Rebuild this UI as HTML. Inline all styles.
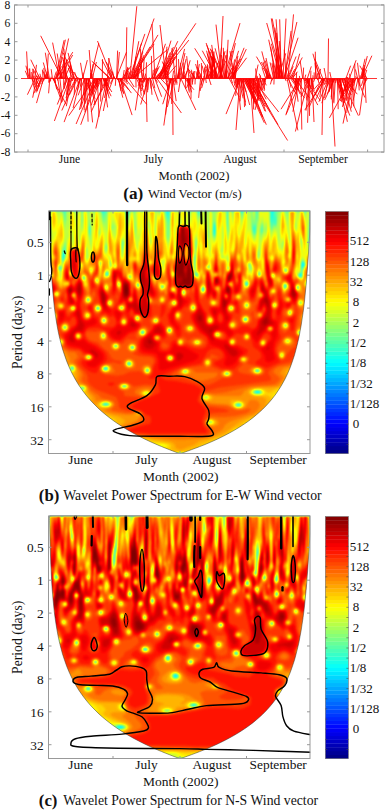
<!DOCTYPE html><html><head><meta charset="utf-8"><style>html,body{margin:0;padding:0;background:#fff;width:387px;height:810px;overflow:hidden}svg{display:block}text{font-family:"Liberation Serif",serif;fill:#111}</style></head><body>
<svg xmlns="http://www.w3.org/2000/svg" width="387" height="810" viewBox="0 0 387 810">
<path d="M28.0 78.5L26.6 51.4M28.4 78.5L25.3 70.8M28.8 78.5L28.8 78.6M29.3 78.5L25.9 65.7M29.7 78.5L29.1 68.7M30.1 78.5L29.7 68.4M30.5 78.5L30.5 79.1M30.9 78.5L31.3 72.0M31.4 78.5L34.0 70.7M31.8 78.5L33.1 81.7M32.2 78.5L34.1 87.7M32.6 78.5L33.3 75.6M33.0 78.5L32.8 69.0M33.5 78.5L33.0 76.3M33.9 78.5L34.4 81.6M34.3 78.5L34.4 85.2M34.7 78.5L36.5 64.8M35.1 78.5L27.4 94.7M35.6 78.5L39.5 86.6M36.0 78.5L34.9 76.1M36.4 78.5L32.7 97.7M36.8 78.5L36.1 92.6M37.2 78.5L36.6 79.6M37.7 78.5L32.8 68.6M38.1 78.5L36.2 80.7M38.5 78.5L36.3 75.7M38.9 78.5L36.5 75.9M39.3 78.5L34.1 89.1M39.8 78.5L30.8 59.7M40.2 78.5L37.8 74.6M40.6 78.5L37.1 91.5M41.0 78.5L39.9 73.7M41.4 78.5L33.8 93.4M41.9 78.5L37.7 86.2M42.3 78.5L41.4 76.8M42.7 78.5L36.7 90.8M43.1 78.5L42.4 69.6M43.5 78.5L36.5 103.1M44.0 78.5L41.8 84.2M44.4 78.5L43.7 80.6M44.8 78.5L43.8 67.9M45.2 78.5L43.3 71.4M45.6 78.5L45.2 75.4M46.1 78.5L45.1 73.8M46.5 78.5L47.3 71.3M46.9 78.5L48.3 53.5M47.3 78.5L46.4 76.8M47.7 78.5L43.3 62.5M48.2 78.5L47.8 73.9M48.6 78.5L46.6 72.7M49.0 78.5L48.7 82.7M49.4 78.5L45.3 52.7M49.8 78.5L48.6 93.3M50.3 78.5L49.6 81.7M50.7 78.5L50.5 81.4M51.1 78.5L51.1 76.7M51.5 78.5L51.3 77.9M51.9 78.5L51.9 78.8M52.4 78.5L51.2 69.2M52.8 78.5L66.2 104.5M53.2 78.5L53.6 80.2M53.6 78.5L60.0 97.0M54.0 78.5L56.3 71.6M54.5 78.5L56.7 89.4M54.9 78.5L55.7 83.6M55.3 78.5L61.4 66.4M55.7 78.5L64.1 40.2M56.1 78.5L72.8 52.1M56.6 78.5L62.8 57.0M57.0 78.5L65.4 39.7M57.4 78.5L57.7 80.6M57.8 78.5L61.4 102.7M58.2 78.5L58.4 77.4M58.7 78.5L59.0 77.8M59.1 78.5L72.7 55.0M59.5 78.5L52.6 42.6M59.9 78.5L62.4 101.7M60.3 78.5L68.6 38.5M60.8 78.5L57.2 53.5M61.2 78.5L59.8 65.9M61.6 78.5L61.2 72.6M62.0 78.5L40.7 35.8M62.4 78.5L63.6 71.4M62.9 78.5L62.9 76.4M63.3 78.5L63.0 64.3M63.7 78.5L63.7 87.7M64.1 78.5L64.4 55.5M64.5 78.5L70.5 64.9M65.0 78.5L63.8 58.2M65.4 78.5L66.7 59.3M65.8 78.5L64.1 85.0M66.2 78.5L63.9 48.7M66.6 78.5L64.2 88.9M67.1 78.5L63.4 60.0M67.5 78.5L57.3 104.5M67.9 78.5L65.8 73.2M68.3 78.5L66.4 94.7M68.7 78.5L68.6 81.9M69.2 78.5L67.3 94.6M69.6 78.5L54.4 121.0M70.0 78.5L66.3 100.5M70.4 78.5L69.3 77.1M70.8 78.5L70.3 64.3M71.3 78.5L66.0 98.1M71.7 78.5L66.3 106.2M72.1 78.5L72.0 80.6M72.5 78.5L68.2 67.9M72.9 78.5L72.7 76.2M73.4 78.5L72.3 80.9M73.8 78.5L68.1 52.9M74.2 78.5L63.2 52.8M74.6 78.5L69.4 61.1M75.0 78.5L74.2 94.6M75.5 78.5L74.1 80.9M75.9 78.5L70.5 88.5M76.3 78.5L61.8 110.5M76.7 78.5L74.6 72.0M77.1 78.5L78.7 85.2M77.6 78.5L69.2 95.4M78.0 78.5L67.9 65.2M78.4 78.5L77.8 77.2M78.8 78.5L77.9 80.1M79.2 78.5L79.1 78.9M79.7 78.5L77.4 90.5M80.1 78.5L64.1 122.1M80.5 78.5L73.1 108.0M80.9 78.5L78.5 83.6M81.3 78.5L81.4 104.8M81.8 78.5L80.1 87.5M82.2 78.5L82.4 77.6M82.6 78.5L87.3 60.1M83.0 78.5L80.5 62.8M83.4 78.5L83.0 72.6M83.9 78.5L83.7 95.0M84.3 78.5L85.1 84.0M84.7 78.5L78.1 95.3M85.1 78.5L84.2 110.3M85.5 78.5L90.1 90.1M86.0 78.5L85.1 103.8M86.4 78.5L88.1 121.7M86.8 78.5L86.7 89.3M87.2 78.5L79.4 109.9M87.6 78.5L91.5 94.7M88.1 78.5L92.6 122.4M88.5 78.5L89.9 95.5M88.9 78.5L95.2 104.5M89.3 78.5L95.1 99.3M89.7 78.5L80.6 108.9M90.2 78.5L98.8 43.2M90.6 78.5L90.5 72.7M91.0 78.5L93.0 64.1M91.4 78.5L89.2 50.0M91.8 78.5L90.8 69.6M92.3 78.5L96.4 62.0M92.7 78.5L93.1 93.4M93.1 78.5L92.8 73.7M93.5 78.5L92.6 88.1M93.9 78.5L93.9 78.7M94.4 78.5L93.2 88.3M94.8 78.5L68.8 115.6M95.2 78.5L76.1 124.0M95.6 78.5L84.8 112.2M96.0 78.5L95.3 84.7M96.5 78.5L96.3 86.7M96.9 78.5L93.8 83.8M97.3 78.5L99.0 116.8M97.7 78.5L80.7 124.8M98.1 78.5L94.1 92.3M98.6 78.5L93.3 88.5M99.0 78.5L91.0 93.2M99.4 78.5L99.2 80.9M99.8 78.5L95.4 89.3M100.2 78.5L91.1 105.5M100.7 78.5L100.7 101.5M101.1 78.5L102.7 86.7M101.5 78.5L97.2 88.5M101.9 78.5L100.9 91.3M102.3 78.5L102.5 59.1M102.8 78.5L111.1 96.2M103.2 78.5L111.9 92.0M103.6 78.5L107.6 107.4M104.0 78.5L109.3 98.3M104.4 78.5L107.8 86.3M104.9 78.5L107.8 84.3M105.3 78.5L107.8 93.7M105.7 78.5L108.1 84.4M106.1 78.5L106.5 88.0M106.5 78.5L91.2 111.9M107.0 78.5L95.8 128.5M107.4 78.5L109.1 58.2M107.8 78.5L108.1 76.0M108.2 78.5L103.9 85.6M108.6 78.5L93.7 104.9M109.1 78.5L104.4 97.9M109.5 78.5L93.6 62.9M109.9 78.5L103.3 111.0M110.3 78.5L110.3 78.2M110.7 78.5L91.7 61.1M111.2 78.5L108.3 68.5M111.6 78.5L102.0 59.9M112.0 78.5L110.7 70.5M112.4 78.5L97.5 41.0M112.8 78.5L110.3 83.7M113.3 78.5L109.0 89.9M113.7 78.5L112.7 71.6M114.1 78.5L108.5 58.1M114.5 78.5L114.0 76.5M114.9 78.5L106.2 61.9M115.4 78.5L115.3 79.6M115.8 78.5L115.3 85.8M116.2 78.5L126.5 52.1M116.6 78.5L117.6 50.6M117.0 78.5L119.4 52.0M117.5 78.5L117.5 80.1M117.9 78.5L123.4 92.9M118.3 78.5L122.8 97.7M118.7 78.5L120.9 91.1M119.1 78.5L124.4 85.9M119.6 78.5L128.6 89.8M120.0 78.5L132.1 115.1M120.4 78.5L123.8 94.1M120.8 78.5L131.4 93.1M121.2 78.5L123.9 87.5M121.7 78.5L127.9 84.1M122.1 78.5L123.0 80.4M122.5 78.5L130.9 66.2M122.9 78.5L124.2 70.0M123.3 78.5L127.4 68.4M123.8 78.5L125.1 80.8M124.2 78.5L128.7 67.8M124.6 78.5L125.0 76.4M125.0 78.5L146.6 104.2M125.4 78.5L128.6 71.2M125.9 78.5L126.5 81.9M126.3 78.5L127.7 66.9M126.7 78.5L127.2 80.8M127.1 78.5L127.3 78.7M127.5 78.5L128.1 72.5M128.0 78.5L130.0 71.7M128.4 78.5L129.2 73.2M128.8 78.5L134.2 87.0M129.2 78.5L144.9 33.9M129.6 78.5L130.1 77.8M130.1 78.5L141.5 57.9M130.5 78.5L141.6 42.9M130.9 78.5L150.1 46.7M131.3 78.5L154.1 43.9M131.7 78.5L138.8 41.2M132.2 78.5L158.0 34.9M132.6 78.5L167.5 49.6M133.0 78.5L154.1 18.5M133.4 78.5L136.8 72.4M133.8 78.5L135.8 56.7M134.3 78.5L139.0 68.3M134.7 78.5L135.6 74.6M135.1 78.5L141.5 65.5M135.5 78.5L142.9 51.7M135.9 78.5L136.0 87.5M136.4 78.5L141.6 89.0M136.8 78.5L138.5 69.4M137.2 78.5L137.2 74.6M137.6 78.5L143.5 55.4M138.0 78.5L138.1 71.2M138.5 78.5L140.6 85.9M138.9 78.5L141.3 95.7M139.3 78.5L140.1 89.0M139.7 78.5L144.4 94.5M140.1 78.5L135.3 110.4M140.6 78.5L143.2 86.9M141.0 78.5L138.2 85.8M141.4 78.5L142.9 82.4M141.8 78.5L142.0 82.4M142.2 78.5L140.4 48.7M142.7 78.5L139.6 62.7M143.1 78.5L144.1 58.8M143.5 78.5L142.8 83.1M143.9 78.5L141.5 91.1M144.3 78.5L144.5 80.7M144.8 78.5L143.2 73.3M145.2 78.5L144.1 82.2M145.6 78.5L145.4 79.8M146.0 78.5L146.5 62.3M146.4 78.5L145.3 73.6M146.9 78.5L144.3 94.0M147.3 78.5L145.8 86.9M147.7 78.5L147.6 92.3M148.1 78.5L148.5 80.8M148.5 78.5L140.7 104.5M149.0 78.5L147.8 89.9M149.4 78.5L149.3 77.4M149.8 78.5L151.1 88.7M150.2 78.5L158.7 101.3M150.6 78.5L152.0 94.8M151.1 78.5L151.1 78.4M151.5 78.5L156.4 67.8M151.9 78.5L151.4 55.9M152.3 78.5L153.3 69.8M152.7 78.5L154.8 88.2M153.2 78.5L165.5 43.8M153.6 78.5L159.4 66.2M154.0 78.5L157.9 67.9M154.4 78.5L159.1 73.4M154.8 78.5L161.6 96.7M155.3 78.5L157.4 82.5M155.7 78.5L162.0 70.7M156.1 78.5L175.9 52.3M156.5 78.5L165.4 63.9M156.9 78.5L181.4 113.0M157.4 78.5L169.3 63.8M157.8 78.5L173.5 53.6M158.2 78.5L188.8 40.1M158.6 78.5L170.3 52.4M159.0 78.5L195.9 23.3M159.5 78.5L171.0 40.6M159.9 78.5L177.8 41.2M160.3 78.5L173.4 47.1M160.7 78.5L168.6 87.0M161.1 78.5L176.1 49.8M161.6 78.5L176.8 56.1M162.0 78.5L162.3 77.8M162.4 78.5L170.8 61.6M162.8 78.5L168.7 65.7M163.2 78.5L163.6 79.6M163.7 78.5L168.7 70.4M164.1 78.5L164.3 68.9M164.5 78.5L174.8 57.0M164.9 78.5L176.0 65.6M165.3 78.5L166.9 46.7M165.8 78.5L168.0 90.3M166.2 78.5L163.4 62.8M166.6 78.5L167.9 90.1M167.0 78.5L164.7 71.3M167.4 78.5L171.3 57.4M167.9 78.5L167.1 70.5M168.3 78.5L167.8 79.6M168.7 78.5L167.6 82.0M169.1 78.5L162.3 61.5M169.5 78.5L165.6 114.7M170.0 78.5L170.6 83.2M170.4 78.5L163.8 125.5M170.8 78.5L162.7 104.2M171.2 78.5L168.3 90.9M171.6 78.5L171.7 104.0M172.1 78.5L169.8 82.4M172.5 78.5L173.6 70.7M172.9 78.5L176.2 101.1M173.3 78.5L172.5 80.2M173.7 78.5L175.2 82.5M174.2 78.5L167.3 107.1M174.6 78.5L174.9 75.1M175.0 78.5L176.9 82.7M175.4 78.5L171.9 48.2M175.8 78.5L174.8 85.2M176.3 78.5L176.5 47.3M176.7 78.5L176.9 84.7M177.1 78.5L184.6 48.9M177.5 78.5L178.5 72.0M177.9 78.5L178.5 74.1M178.4 78.5L179.3 69.0M178.8 78.5L180.4 67.6M179.2 78.5L178.5 59.1M179.6 78.5L185.0 53.0M180.0 78.5L180.3 81.6M180.5 78.5L178.4 92.0M180.9 78.5L195.8 110.0M181.3 78.5L180.8 76.5M181.7 78.5L186.1 58.9M182.1 78.5L180.4 62.8M182.6 78.5L184.3 66.1M183.0 78.5L184.4 71.6M183.4 78.5L184.4 75.2M183.8 78.5L187.3 70.8M184.2 78.5L183.7 62.5M184.7 78.5L193.9 89.7M185.1 78.5L190.2 60.3M185.5 78.5L185.7 88.8M185.9 78.5L185.6 75.7M186.3 78.5L189.6 83.0M186.8 78.5L188.1 80.8M187.2 78.5L189.0 90.7M187.6 78.5L191.6 92.3M188.0 78.5L189.8 83.3M188.4 78.5L189.3 92.6M188.9 78.5L186.7 56.1M189.3 78.5L188.9 85.5M189.7 78.5L190.6 87.0M190.1 78.5L189.3 84.8M190.5 78.5L186.5 88.1M191.0 78.5L191.0 98.8M191.4 78.5L189.6 75.5M191.8 78.5L187.9 68.1M192.2 78.5L192.6 84.6M192.6 78.5L191.3 69.7M193.1 78.5L192.5 82.3M193.5 78.5L192.6 72.9M193.9 78.5L194.4 71.0M194.3 78.5L193.2 71.4M194.7 78.5L192.0 73.4M195.2 78.5L195.0 84.4M195.6 78.5L188.2 68.9M196.0 78.5L195.5 79.4M196.4 78.5L199.0 69.9M196.8 78.5L199.4 64.1M197.3 78.5L196.0 71.3M197.7 78.5L197.7 78.6M198.1 78.5L197.5 60.3M198.5 78.5L198.9 75.9M198.9 78.5L198.1 75.3M199.4 78.5L199.1 79.3M199.8 78.5L195.6 64.0M200.2 78.5L199.8 75.5M200.6 78.5L198.6 97.9M201.0 78.5L199.7 73.1M201.5 78.5L201.4 63.0M201.9 78.5L197.3 67.2M202.3 78.5L200.1 91.0M202.7 78.5L200.7 85.3M203.1 78.5L202.6 80.1M203.6 78.5L204.0 75.6M204.0 78.5L203.6 80.7M204.4 78.5L201.6 88.2M204.8 78.5L204.5 67.3M205.2 78.5L202.1 65.5M205.7 78.5L206.3 83.0M206.1 78.5L207.5 72.2M206.5 78.5L210.0 65.4M206.9 78.5L205.0 68.8M207.3 78.5L207.4 64.2M207.8 78.5L215.1 62.0M208.2 78.5L207.8 65.3M208.6 78.5L210.4 72.3M209.0 78.5L211.1 85.0M209.4 78.5L205.1 66.1M209.9 78.5L214.4 58.1M210.3 78.5L213.2 51.8M210.7 78.5L211.5 71.4M211.1 78.5L213.6 69.5M211.5 78.5L210.7 51.8M212.0 78.5L208.3 48.6M212.4 78.5L212.5 57.0M212.8 78.5L206.6 50.7M213.2 78.5L212.5 64.4M213.6 78.5L194.7 48.3M214.1 78.5L217.6 62.9M214.5 78.5L207.4 53.7M214.9 78.5L214.0 51.5M215.3 78.5L213.0 54.2M215.7 78.5L214.7 71.6M216.2 78.5L213.3 57.7M216.6 78.5L211.7 44.9M217.0 78.5L202.3 50.7M217.4 78.5L211.3 56.1M217.8 78.5L221.5 47.4M218.3 78.5L206.8 45.2M218.7 78.5L206.1 43.0M219.1 78.5L225.9 60.7M219.5 78.5L225.0 51.2M219.9 78.5L226.0 55.0M220.4 78.5L218.8 61.3M220.8 78.5L220.5 68.3M221.2 78.5L223.7 52.2M221.6 78.5L222.3 59.3M222.0 78.5L216.0 24.6M222.5 78.5L210.2 48.6M222.9 78.5L215.1 48.3M223.3 78.5L211.4 49.7M223.7 78.5L240.0 23.1M224.1 78.5L221.4 55.0M224.6 78.5L223.3 47.8M225.0 78.5L227.1 55.2M225.4 78.5L227.3 49.6M225.8 78.5L232.6 50.9M226.2 78.5L228.1 39.8M226.7 78.5L226.0 71.5M227.1 78.5L241.3 58.6M227.5 78.5L235.4 43.1M227.9 78.5L230.9 69.5M228.3 78.5L231.6 68.0M228.8 78.5L229.5 76.6M229.2 78.5L239.2 97.0M229.6 78.5L237.3 67.7M230.0 78.5L238.6 50.8M230.4 78.5L236.3 68.8M230.9 78.5L232.7 83.5M231.3 78.5L246.6 57.8M231.7 78.5L234.6 59.4M232.1 78.5L244.1 47.8M232.5 78.5L246.3 49.1M233.0 78.5L231.9 62.8M233.4 78.5L237.9 55.9M233.8 78.5L234.4 83.1M234.2 78.5L230.0 51.1M234.6 78.5L233.9 66.0M235.1 78.5L238.0 59.8M235.5 78.5L235.0 65.4M235.9 78.5L234.5 85.0M236.3 78.5L234.8 86.1M236.7 78.5L235.7 95.8M237.2 78.5L240.6 109.9M237.6 78.5L237.7 88.3M238.0 78.5L238.2 84.8M238.4 78.5L243.2 98.4M238.8 78.5L238.4 79.6M239.3 78.5L236.1 87.6M239.7 78.5L235.5 86.9M240.1 78.5L245.4 102.3M240.5 78.5L226.0 114.1M240.9 78.5L242.3 88.3M241.4 78.5L246.2 92.2M241.8 78.5L240.1 101.4M242.2 78.5L245.6 105.7M242.6 78.5L249.7 105.0M243.0 78.5L255.7 103.2M243.5 78.5L244.5 107.1M243.9 78.5L264.3 122.8M244.3 78.5L251.7 91.7M244.7 78.5L262.5 117.0M245.1 78.5L256.9 104.6M245.6 78.5L265.3 106.6M246.0 78.5L257.2 102.3M246.4 78.5L266.3 124.7M246.8 78.5L252.2 94.2M247.2 78.5L259.4 101.0M247.7 78.5L254.9 100.1M248.1 78.5L256.2 94.4M248.5 78.5L262.9 117.5M248.9 78.5L287.6 140.5M249.3 78.5L254.1 103.7M249.8 78.5L255.1 92.6M250.2 78.5L256.4 93.1M250.6 78.5L265.0 111.1M251.0 78.5L266.9 105.2M251.4 78.5L261.5 100.7M251.9 78.5L278.0 124.6M252.3 78.5L278.7 112.0M252.7 78.5L270.1 111.5M253.1 78.5L253.9 85.8M253.5 78.5L253.6 109.4M254.0 78.5L255.1 81.1M254.4 78.5L257.9 95.4M254.8 78.5L265.7 111.5M255.2 78.5L258.1 64.6M255.6 78.5L266.2 99.3M256.1 78.5L257.3 81.4M256.5 78.5L255.6 68.5M256.9 78.5L259.3 93.1M257.3 78.5L257.9 100.7M257.7 78.5L257.1 75.8M258.2 78.5L259.4 85.7M258.6 78.5L258.3 99.0M259.0 78.5L260.5 96.9M259.4 78.5L264.7 89.4M259.8 78.5L260.5 75.5M260.3 78.5L261.7 89.5M260.7 78.5L260.0 81.9M261.1 78.5L259.2 73.7M261.5 78.5L261.6 79.1M261.9 78.5L261.8 79.0M262.4 78.5L261.8 82.1M262.8 78.5L255.0 110.0M263.2 78.5L263.0 79.8M263.6 78.5L266.2 85.4M264.0 78.5L262.6 85.0M264.5 78.5L262.3 90.3M264.9 78.5L264.1 91.1M265.3 78.5L265.2 82.2M265.7 78.5L262.0 67.5M266.1 78.5L265.3 80.2M266.6 78.5L266.2 76.6M267.0 78.5L266.5 75.4M267.4 78.5L263.0 61.8M267.8 78.5L266.1 73.4M268.2 78.5L265.6 70.7M268.7 78.5L261.8 51.4M269.1 78.5L266.9 69.2M269.5 78.5L256.4 56.6M269.9 78.5L268.5 74.9M270.3 78.5L266.0 58.0M270.8 78.5L265.1 60.5M271.2 78.5L261.3 62.2M271.6 78.5L269.7 73.5M272.0 78.5L270.4 84.4M272.4 78.5L272.4 77.6M272.9 78.5L271.4 81.1M273.3 78.5L273.1 62.6M273.7 78.5L270.1 62.4M274.1 78.5L273.9 84.5M274.5 78.5L277.1 56.3M275.0 78.5L271.9 63.4M275.4 78.5L270.7 47.1M275.8 78.5L276.8 54.6M276.2 78.5L279.4 65.4M276.6 78.5L275.8 33.0M277.1 78.5L268.7 39.7M277.5 78.5L276.5 62.1M277.9 78.5L278.8 72.6M278.3 78.5L285.7 53.4M278.7 78.5L276.9 61.4M279.2 78.5L276.5 48.8M279.6 78.5L276.7 32.7M280.0 78.5L276.1 19.3M280.4 78.5L271.4 43.7M280.8 78.5L271.3 18.5M281.3 78.5L279.7 19.3M281.7 78.5L279.3 41.0M282.1 78.5L280.6 58.2M282.5 78.5L266.7 23.0M282.9 78.5L274.8 27.6M283.4 78.5L272.2 18.5M283.8 78.5L296.9 22.0M284.2 78.5L298.1 37.7M284.6 78.5L291.1 30.9M285.0 78.5L286.2 81.1M285.5 78.5L286.4 66.7M285.9 78.5L285.9 78.8M286.3 78.5L284.3 49.7M286.7 78.5L289.1 70.6M287.1 78.5L297.9 130.4M287.6 78.5L296.1 56.5M288.0 78.5L296.1 94.2M288.4 78.5L293.2 66.3M288.8 78.5L291.1 87.7M289.2 78.5L290.8 75.5M289.7 78.5L294.8 69.1M290.1 78.5L290.6 77.7M290.5 78.5L304.6 98.1M290.9 78.5L302.3 57.5M291.3 78.5L293.3 74.7M291.8 78.5L295.8 82.8M292.2 78.5L297.5 71.7M292.6 78.5L300.3 94.4M293.0 78.5L299.7 53.7M293.4 78.5L294.5 82.0M293.9 78.5L294.3 79.5M294.3 78.5L294.4 78.3M294.7 78.5L309.4 97.7M295.1 78.5L298.1 101.7M295.5 78.5L296.2 82.7M296.0 78.5L295.9 84.6M296.4 78.5L296.5 72.6M296.8 78.5L295.4 89.7M297.2 78.5L285.8 115.2M297.6 78.5L298.5 90.2M298.1 78.5L297.3 84.2M298.5 78.5L298.6 80.0M298.9 78.5L296.0 87.1M299.3 78.5L292.9 111.7M299.7 78.5L299.5 75.9M300.2 78.5L281.0 109.2M300.6 78.5L294.4 91.7M301.0 78.5L301.8 129.6M301.4 78.5L300.6 89.1M301.8 78.5L286.2 114.1M302.3 78.5L302.2 77.9M302.7 78.5L300.2 61.0M303.1 78.5L303.6 67.6M303.5 78.5L317.8 105.1M303.9 78.5L306.9 100.5M304.4 78.5L320.4 100.6M304.8 78.5L305.8 74.6M305.2 78.5L305.6 81.1M305.6 78.5L310.6 86.4M306.0 78.5L308.3 83.6M306.5 78.5L307.9 81.4M306.9 78.5L309.1 82.3M307.3 78.5L311.3 66.4M307.7 78.5L313.6 97.8M308.1 78.5L301.2 96.9M308.6 78.5L295.4 131.5M309.0 78.5L307.6 122.8M309.4 78.5L306.0 110.7M309.8 78.5L309.5 115.9M310.2 78.5L307.4 88.3M310.7 78.5L310.9 70.7M311.1 78.5L314.2 90.9M311.5 78.5L311.0 89.0M311.9 78.5L311.9 87.3M312.3 78.5L312.3 77.6M312.8 78.5L313.4 88.7M313.2 78.5L312.9 75.3M313.6 78.5L313.6 78.5M314.0 78.5L314.0 79.4M314.4 78.5L314.1 72.4M314.9 78.5L313.6 81.9M315.3 78.5L315.3 78.5M315.7 78.5L315.3 51.7M316.1 78.5L316.1 78.4M316.5 78.5L314.9 62.6M317.0 78.5L317.6 73.2M317.4 78.5L317.7 80.2M317.8 78.5L317.8 78.0M318.2 78.5L318.7 82.8M318.6 78.5L320.6 68.9M319.1 78.5L319.2 77.9M319.5 78.5L319.1 76.6M319.9 78.5L312.9 53.7M320.3 78.5L320.2 79.3M320.7 78.5L315.5 64.3M321.2 78.5L322.8 83.2M321.6 78.5L321.5 78.8M322.0 78.5L309.2 107.0M322.4 78.5L319.8 96.9M322.8 78.5L314.9 59.2M323.3 78.5L314.1 89.3M323.7 78.5L321.3 84.9M324.1 78.5L315.0 95.4M324.5 78.5L322.6 82.8M324.9 78.5L304.8 110.1M325.4 78.5L315.2 100.8M325.8 78.5L325.5 77.5M326.2 78.5L324.1 68.0M326.6 78.5L324.0 85.1M327.0 78.5L326.4 80.7M327.5 78.5L325.6 84.1M327.9 78.5L327.4 82.6M328.3 78.5L324.6 98.1M328.7 78.5L318.9 101.8M329.1 78.5L329.1 79.5M329.6 78.5L321.8 103.2M330.0 78.5L328.9 90.7M330.4 78.5L327.5 86.0M330.8 78.5L329.2 91.9M331.2 78.5L329.8 72.0M331.7 78.5L330.5 85.8M332.1 78.5L331.9 82.4M332.5 78.5L331.3 99.4M332.9 78.5L331.2 97.2M333.3 78.5L333.2 80.4M333.8 78.5L330.9 86.8M334.2 78.5L333.1 102.4M334.6 78.5L327.1 94.0M335.0 78.5L324.6 100.1M335.4 78.5L333.9 103.3M335.9 78.5L335.7 83.1M336.3 78.5L349.8 115.6M336.7 78.5L341.8 102.2M337.1 78.5L344.2 100.2M337.5 78.5L338.2 109.2M338.0 78.5L347.4 121.8M338.4 78.5L343.5 91.3M338.8 78.5L343.7 95.8M339.2 78.5L344.1 96.7M339.6 78.5L343.8 96.0M340.1 78.5L341.2 94.0M340.5 78.5L343.6 105.4M340.9 78.5L341.1 87.4M341.3 78.5L358.4 115.7M341.7 78.5L346.0 90.6M342.2 78.5L351.3 111.7M342.6 78.5L351.3 95.0M343.0 78.5L343.4 79.7M343.4 78.5L352.7 92.1M343.8 78.5L357.3 94.2M344.3 78.5L345.0 79.9M344.7 78.5L347.3 89.5M345.1 78.5L345.5 90.3M345.5 78.5L354.6 90.6M345.9 78.5L350.6 65.7M346.4 78.5L346.3 77.0M346.8 78.5L347.5 80.5M347.2 78.5L340.4 101.1M347.6 78.5L347.5 77.0M348.0 78.5L346.4 100.8M348.5 78.5L348.3 77.7M348.9 78.5L341.5 97.8M349.3 78.5L356.1 60.2M349.7 78.5L342.4 106.9M350.1 78.5L349.6 73.8M350.6 78.5L349.7 83.1M351.0 78.5L329.4 117.9M351.4 78.5L344.2 103.2M351.8 78.5L350.8 85.8M352.2 78.5L352.7 89.9M352.7 78.5L343.0 123.6M353.1 78.5L351.2 108.3M353.5 78.5L346.7 112.9M353.9 78.5L353.8 106.3M354.3 78.5L341.7 97.6M354.8 78.5L354.8 63.8M355.2 78.5L354.0 82.8M355.6 78.5L353.7 85.8M356.0 78.5L349.7 87.2M356.4 78.5L355.7 76.4M356.9 78.5L356.9 77.3M357.3 78.5L364.8 97.5M357.7 78.5L355.4 69.4M358.1 78.5L353.0 100.8M358.5 78.5L359.2 90.4M359.0 78.5L359.1 80.4M359.4 78.5L357.5 62.8M359.8 78.5L359.8 86.3M360.2 78.5L360.1 75.4M360.6 78.5L365.0 58.8M361.1 78.5L364.7 65.1M361.5 78.5L371.9 55.7M361.9 78.5L367.3 56.1M362.3 78.5L364.4 67.8M362.7 78.5L363.2 67.7M363.2 78.5L364.8 69.1M363.6 78.5L361.4 85.8M364.0 78.5L366.8 69.9M364.4 78.5L359.5 115.3M364.8 78.5L366.1 102.9M365.3 78.5L362.3 72.5M365.7 78.5L365.4 81.1M366.1 78.5L362.8 89.6M366.5 78.5L364.6 74.3M366.9 78.5L359.8 65.7M367.4 78.5L363.9 84.3M129.8 78.5L136.8 6.2M288.0 78.5L293.5 14.4M328.0 78.5L328.5 38.5M331.0 78.5L335.0 146.5M220.0 78.5L223.0 16.0M283.0 78.5L286.0 18.6M126.0 78.5L126.8 27.3M172.5 78.5L173.0 135.0M146.0 78.5L147.0 122.0M240.0 78.5L236.0 130.0M250.0 78.5L254.0 133.0M166.0 78.5L160.0 25.0M155.0 78.5L152.0 24.0M323.0 78.5L322.0 135.0M312.0 78.5L314.0 122.0" stroke="#ff0000" stroke-width="0.85" fill="none"/><path d="M21 78.5H377" stroke="#ff0000" stroke-width="0.8"/>
<rect x="14.5" y="5" width="369.5" height="147" fill="none" stroke="#999" stroke-width="1"/>
<path d="M14.5 152.1h3M384 152.1h-3M14.5 133.7h3M384 133.7h-3M14.5 115.3h3M384 115.3h-3M14.5 96.9h3M384 96.9h-3M14.5 78.5h3M384 78.5h-3M14.5 60.1h3M384 60.1h-3M14.5 41.7h3M384 41.7h-3M14.5 23.3h3M384 23.3h-3M14.5 4.9h3M384 4.9h-3M28 152v-2.5M28 5v2.5M111.6 152v-2.5M111.6 5v2.5M197.3 152v-2.5M197.3 5v2.5M284 152v-2.5M284 5v2.5M367.6 152v-2.5M367.6 5v2.5" stroke="#999" stroke-width="1" fill="none"/>
<text x="10.4" y="155.8" font-size="11.6" text-anchor="end">-8</text>
<text x="10.4" y="137.4" font-size="11.6" text-anchor="end">-6</text>
<text x="10.4" y="119.0" font-size="11.6" text-anchor="end">-4</text>
<text x="10.4" y="100.7" font-size="11.6" text-anchor="end">-2</text>
<text x="10.4" y="82.2" font-size="11.6" text-anchor="end">0</text>
<text x="10.4" y="63.9" font-size="11.6" text-anchor="end">2</text>
<text x="10.4" y="45.5" font-size="11.6" text-anchor="end">4</text>
<text x="10.4" y="27.1" font-size="11.6" text-anchor="end">6</text>
<text x="10.4" y="8.7" font-size="11.6" text-anchor="end">8</text>
<text x="69.5" y="162.5" font-size="11.6" text-anchor="middle">June</text>
<text x="153.5" y="162.5" font-size="11.6" text-anchor="middle">July</text>
<text x="240" y="162.5" font-size="11.6" text-anchor="middle">August</text>
<text x="323" y="162.5" font-size="11.6" text-anchor="middle">September</text>
<text x="194" y="180.3" font-size="12.7" text-anchor="middle">Month (2002)</text>
<text x="123.2" y="198.8" font-size="17.2" font-weight="bold">(a)</text><text x="148" y="197.9" font-size="12.7">Wind Vector (m/s)</text>
<defs><filter id="jetf" x="0" y="0" width="1" height="1" color-interpolation-filters="sRGB"><feGaussianBlur stdDeviation="0.8"/><feComponentTransfer><feFuncR type="table" tableValues="0 0 0 0 0.05 0.137 0.225 0.312 0.4 0.487 0.575 0.662 0.75 0.837 0.925 1 1 1 1 1 1 1 1 1 1 1 1 0.938 0.85 0.763 0.675 0.588 0.5"/><feFuncG type="table" tableValues="0.7 0.787 0.875 0.962 1 1 1 1 1 1 1 1 1 1 1 0.987 0.9 0.812 0.725 0.638 0.55 0.463 0.375 0.288 0.2 0.112 0.025 0 0 0 0 0 0"/><feFuncB type="table" tableValues="1 1 1 1 0.95 0.863 0.775 0.688 0.6 0.513 0.425 0.338 0.25 0.163 0.075 0 0 0 0 0 0 0 0 0 0 0 0 0 0 0 0 0 0"/></feComponentTransfer></filter></defs><defs><clipPath id="cone0"><path d="M49.6 210.8C49.6 211.8 49.7 215.0 49.7 217.0C49.7 219.0 49.8 221.0 49.8 223.0C49.8 225.0 49.9 227.0 49.9 229.0C50.0 231.0 50.0 233.0 50.0 235.0C50.1 237.0 50.1 239.0 50.2 241.0C50.2 243.0 50.3 245.0 50.4 247.0C50.4 249.0 50.5 251.0 50.6 253.0C50.6 255.0 50.7 257.0 50.8 259.0C50.9 261.0 51.0 263.0 51.1 265.0C51.2 267.0 51.3 269.0 51.4 271.0C51.5 273.0 51.6 275.0 51.7 277.0C51.8 279.0 52.0 281.0 52.1 283.0C52.2 285.0 52.4 287.0 52.6 289.0C52.7 291.0 52.9 293.0 53.1 295.0C53.3 297.0 53.5 299.0 53.7 301.0C53.9 303.0 54.1 305.0 54.3 307.0C54.6 309.0 54.8 311.0 55.1 313.0C55.4 315.0 55.7 317.0 56.0 319.0C56.3 321.0 56.6 323.0 57.0 325.0C57.3 327.0 57.7 329.0 58.1 331.0C58.5 333.0 58.9 335.0 59.4 337.0C59.9 339.0 60.4 341.0 60.9 343.0C61.4 345.0 62.0 347.0 62.5 349.0C63.1 351.0 63.8 353.0 64.5 355.0C65.1 357.0 65.9 359.0 66.6 361.0C67.4 363.0 68.2 365.0 69.1 367.0C70.0 369.0 70.9 371.0 71.9 373.0C72.9 375.0 74.0 377.0 75.1 379.0C76.2 381.0 77.4 383.0 78.7 385.0C80.0 387.0 81.4 389.0 82.9 391.0C84.4 393.0 85.9 395.0 87.6 397.0C89.3 399.0 91.0 401.0 93.0 403.0C94.9 405.0 96.9 407.0 99.0 409.0C101.2 411.0 103.5 413.0 106.0 415.0C108.5 417.0 111.1 419.0 113.9 421.0C116.7 423.0 119.6 425.0 122.8 427.0C126.0 429.0 129.4 431.0 133.0 433.0C136.7 435.0 140.5 437.0 144.6 439.0C148.8 441.0 153.1 443.0 157.8 445.0C162.5 447.0 169.2 449.6 172.8 451.0C176.4 452.4 178.3 453.0 179.4 453.4L180.8 453.4C181.9 453.0 184.0 452.4 187.8 451.0C191.7 449.6 198.8 447.0 203.8 445.0C208.7 443.0 213.3 441.0 217.6 439.0C221.8 437.0 225.8 435.0 229.4 433.0C233.1 431.0 236.5 429.0 239.7 427.0C242.9 425.0 245.8 423.0 248.6 421.0C251.3 419.0 253.9 417.0 256.2 415.0C258.6 413.0 260.8 411.0 262.9 409.0C265.0 407.0 266.8 405.0 268.6 403.0C270.4 401.0 272.1 399.0 273.6 397.0C275.2 395.0 276.6 393.0 277.9 391.0C279.3 389.0 280.5 387.0 281.7 385.0C282.9 383.0 284.0 381.0 285.0 379.0C286.0 377.0 287.0 375.0 287.9 373.0C288.7 371.0 289.6 369.0 290.4 367.0C291.1 365.0 291.9 363.0 292.5 361.0C293.2 359.0 293.9 357.0 294.5 355.0C295.1 353.0 295.6 351.0 296.1 349.0C296.7 347.0 297.2 345.0 297.6 343.0C298.1 341.0 298.6 339.0 299.0 337.0C299.4 335.0 299.8 333.0 300.1 331.0C300.5 329.0 300.9 327.0 301.2 325.0C301.5 323.0 301.8 321.0 302.1 319.0C302.4 317.0 302.7 315.0 303.0 313.0C303.3 311.0 303.5 309.0 303.8 307.0C304.0 305.0 304.2 303.0 304.5 301.0C304.7 299.0 304.9 297.0 305.1 295.0C305.3 293.0 305.5 291.0 305.7 289.0C305.9 287.0 306.1 285.0 306.3 283.0C306.4 281.0 306.6 279.0 306.8 277.0C306.9 275.0 307.1 273.0 307.2 271.0C307.4 269.0 307.6 267.0 307.7 265.0C307.8 263.0 308.0 261.0 308.1 259.0C308.3 257.0 308.4 255.0 308.5 253.0C308.7 251.0 308.8 249.0 308.9 247.0C309.0 245.0 309.2 243.0 309.3 241.0C309.4 239.0 309.6 237.0 309.6 235.0C309.7 233.0 309.8 231.0 309.8 229.0C309.8 227.0 309.8 226.0 309.8 223.0C309.8 220.0 309.8 212.8 309.8 210.8Z"/></clipPath></defs><g clip-path="url(#cone0)"><g filter="url(#jetf)"><rect x="45.7" y="207.8" width="267.5" height="248.59999999999997" fill="#111111"/><path fill-rule="evenodd" fill="#1d1d1d" d="M309.7 452.9l-260.5 0 0-241.6 13.9 0 .1 2.6 .1-2.6 13.7 0 .1 .8 .2-.8 24.7 0 .1 1.1 .4-1.1 19.5 0 .1 5.2 0-5.2 3.8 0 .2 10.3 .5-10.3 29.3 0 .1 11.3 .1-11.3 3.7 0 .2 7.8 0-7.8 2.9 0 .1 2.8 .1-2.8 2.8 0 .1 3.8 .8-3.8 2 0 .2 17.1 .2-17.1 27.6 0 .1 2.6 .1-2.6 1.8 0 .1 3 1 .6 .1-3.6 7.8 0 .1 6.3 .1-6.3 32.8 0 1 2.6 .2-2.6 14.7 0 .1 5.6 .2-5.6 14.7 0 1.1 17.3 .1-17.3 32.7 0 .1 5.7 .1-5.7 3.9 0 0 181.7 0 1.9-1.6 1.1 .3 1 1.3 .2 0 30.7-2.3 0-.5 1 2.8 .3 0 23.7zM227.9 238.3l0-27 0 27zM81.3 223.3l-.2-10.9 0 11.6 .2-.7zM194 215.3l-.1-2.6 .1 2.6zM83.2 221.3l-.1-7.4 .1 7.4zM247.9 217.3l-.1-3.4 .1 3.4zM275.9 225.3l0-6-1.1-5.2-.1 9.2 1.1 2.6 .1-.6zM277.8 220.3l0-6.9 0 6.9zM269.9 219.3l-.1-2.9 0 3.4 .1-.5zM287.8 231.3l-.1-14 0 14.8 .1-.8zM204 223.3l-.1-5.4 0 5.9 .1-.5zM69.2 227.3l0-8.3 0 8.3zM176 221.3l0-2.5 0 2.5zM90.3 229.3l-.2-8.6 0 9.3 .2-.7zM112.2 232.3l-.1-10.1 .1 10.1zM114.1 226.3l0-4.8 0 4.8zM252.8 232.3l-1-10.2-.1 5.2 .9 1 .2 4zM107.2 229.3l-.1-6.7 0 7.4 .1-.7zM215.9 237.3l0-9-1-5.8-1.1 3.8 0 9 1.1-4.7 1 7.2 0-.5zM222 228.3l-.1-5.1 .1 5.1zM148 231.3l0-7.2 0 7.2zM179 225.3l0-1.9 0 1.9zM186 225.3l-.1-1.9 .1 1.9zM209 232.3l-.1-8.6 0 9.5 .1-.9zM262.9 231.3l-.1-6.6-1-.7-.1 7.3 1.1 .6 .1-.6zM135.1 237.3l-.1-12.9 .1 12.9zM144.1 229.3l-.1-4.4 .1 4.4zM255.9 233.3l-.1-8.6-1.1 3.6 0 4 .1 1.4 1.1-.4zM294.9 227.3l-.2-2.4 .2 2.4zM94.1 230.3l0-3.1 0 3.1zM155.1 235.3l-.1-8.3 0 9.1 .1-.8zM174 233.3l0-5.3 0 5.3zM264.9 231.3l-.1-3.4 .1 3.4zM141 231.3l0-2.4 0 2.4zM259.9 233.3l-.1-4.5 .1 4.5zM297.8 230.3l-.1-1.8 0 2.5 .1-.7zM245.8 244.2l0-13.2 0 13.2zM223.9 236.3l0-4.3 0 4.3zM56.2 234.3l0-1.9 0 1.9zM238.9 240.3l-.1-8 .1 8zM91.2 244.2l-.1-10.2 .1 10.2zM130 235.3l0-1.4 0 1.4zM139.1 239.3l-.1-4.4 .1 4.4zM167.1 238.3l-.1-3.9 .1 3.9zM208 243.2l-.1-8.7 .1 8.7zM278.8 241.2l0-6.6 0 7.2 0-.6zM68.2 241.2l0-5.2 0 6.2 0-1zM300.8 241.2l-.1-5.2 0 5.9 .1-.7zM126.1 242.2l0-5.2 0 5.2zM119.1 239.3l0-1.2 0 1.2zM164 239.3l0-1.5 0 1.5zM196 250.2l.9-12.5-1.1 4.5 .1 8.9 .1-.9zM308.8 245.2l-.1-6.9 .1 6.9zM161 241.2l0-1.4 0 1.4zM122.2 256.2l.4-12-.5-3 .1 15zM283.8 243.2l0-1.4 0 1.4zM63.3 261.2l1.9-9 0-9.5-1 4.5-.2 7-1.3 3 .6 4zM137.1 248.2l-.1-3.7 .1 3.7zM201 255.2l-.1-10.4 .1 10.4zM222.9 251.2l0-6.1 0 6.1zM281.8 246.2l0-1.5 0 1.5zM61.3 248.2l-.1-2.3 0 3.2 .1-.9zM233.9 249.2l-.1-3.2 .1 3.2zM249.9 252.2l-.1-4.1 .1 4.1zM259.9 254.2l-.1-6.3 .1 6.3zM290.8 249.2l-.1-1.3 .1 1.3zM221 252.2l-.1-2.4 .1 2.4zM231.9 250.2l-.1-.7 0 1.5 .1-.8zM51.3 254.2l-.1-3.3 .1 3.3zM257.9 254.2l-.1-3.3 0 3.9 .1-.6zM278.8 255.2l0-4.4 0 4.4zM114.1 256.2l0-3.3 0 3.3zM174 258.2l0-3.1 0 3.1zM296.8 256.2l-.1-1.4 0 2.1 .1-.7zM225.9 258.2l0-2.2 0 2.8 0-.6zM85.2 259.2l-.1-2.1 0 3 .1-.9zM154 258.2l0-1.5 0 1.5zM228.9 259.2l0-2.8 0 3.4 0-.6zM272.8 259.2l0-2.2 0 2.2zM130.1 259.2l-.1-1.3 .1 1.3zM165 261.2l0-3.1 0 3.1zM194 264.2l-.1-6.1 .1 6.1zM244.9 260.2l-.1-1.5 .1 1.5zM110.3 266.2l.8-3-1-3.2 0 7 .2-.8zM262.9 263.2l-.1-3.5 0 4.1 .1-.6zM116.1 262.2l0-1.2 0 1.2zM284.8 262.2l-.1-1.2 .1 1.2zM149.1 263.2l-.1-1.2 .1 1.2zM290.8 263.2l-.1-1.4 .1 1.4zM301.8 269.2l.8-4-.9-3 0 7.6 .1-.6zM303.9 266.2l.9-2-1.1-2.6-.8 3.6 1 1zM126.1 264.2l0-1.1 0 1.1zM53.2 267.2l0-.6 0 .6zM196 268.2l-.1-1.3 .1 1.3zM251.9 269.2l-.1-2.2 0 3.2 .1-1zM228.9 269.2l0-1.2 0 1.2zM262.8 269.2l0-1.4 0 1.4zM297.8 269.2l-.1-1.2 0 2.1 .1-.9zM164 271.2l0-1.4 0 1.4zM107.4 275.2l.7-1-1-2.4-1.1 2.4 1.4 1zM301.8 277.2l-.1-5.1-2.4 3.1 2.5 2zM259.9 274.2l-1.1-1.3 0 2 1.1-.7zM197.2 275.2l-.1-1-1.2-.4-.1 1.4 1.4 0zM61.3 276.2l-.1-1 0 1.8 .1-.8zM272.9 276.2l-.1-1.2 .1 1.2zM84.3 278.2l-.2-1.2-1 .1 0 1.3 1.2-.2zM247.2 285.2l.7-2-1.1-1.2-1.1 2.2 1.5 1zM308.1 284.2l-.4-1.8-1 .3 .2 1.5 1.2 0zM138.9 285.2l-1.1-1 .2 1.5 .9-.5zM284.9 288.2l.8-1.1 0-2.3-1.1 .4 .3 3zM204 290.2l-.1-3.2-1.2 1.2-.1 2 1.4 0zM297.9 288.2l-.2-1.5 .2 1.5zM184.1 293.2l-.2-2.2-1 1.2 .1 1 1.1 0zM88.4 300.2l-.3-1 .3 1zM99.1 309.1l0-1.2-1-.5-1.1 .7 .1 1 2 0zM122.1 308.1l-1.2 0 1.2 0zM290 313.1l-.3-.9 .3 .9zM53.7 318.1l.6-2-1.4-1-1.4 2 .7 1.3 1.5-.3zM138.1 318.1l-1.2 0 1.2 0zM306 319.1l-.3-1.3-1 .3 0 1.1 1.3-.1zM246.1 320.1l.2-1-1.5-.2 0 1.4 1.3-.2zM104.1 321.1l0-1.1 0 1.1zM156.2 321.1l-.2-1-.5 1 .7 0zM170.1 331.1l-.1-1.3-1-.2-.2 1.5 1.3 0zM143.3 333.1l-.3-1.5-1 .2-.2 1.3 1.5 0zM299.8 333.1l.1-1-.8 0 .7 1zM116.4 346.1l-1.5 0 1.5 0zM133.2 348.1l-.2-1.2-1.3 .2 0 1 1.5 0zM89.3 357.1l-1.4 0 1.4 0zM171 358.1l-1.3 0 1.3 0zM130.2 364l-.2-1.1-2 .1 0 1.3 2.2-.3zM72.6 369l.6-1.2-2 0 .4 1.2 1 0zM107.2 369l-.1-1-3.1 0-.1 1 1.2 .5 2.1-.5zM305.6 371l1.3-2-2.2-1.1-1.2 2.1 2.1 1zM53.3 372l.1-2-2.5 0 .2 2 2.2 0zM148.1 371l-.1-1.1-1.2 .1 .2 1.2 1.1-.2zM258.7 371l-.6-1-1.6 0 .3 1.3 1.9-.3zM291.8 384l-.6-1-1.5-.1-1.3 .1-.4 1 3.8 0zM124.4 387l1-1-2.4 0 1.4 1zM82.5 388l-.7 0 .7 0zM259.3 393l.8-1-1.4-1-2.5 0-1.5 1 1.1 1.1 3.5-.1zM54.1 393l1.3-1-3.6 0 2.3 1zM107 405l.1-1.2-3.1 .2 .6 1 2.4 0zM239.9 405l-2.9 0 1.8 .9 1.1-.9zM288 415l2.7-1 .1-1-3.1-1.2-2.3 1.2 .3 1.2 2.3 .8zM55.8 415l.7-1-1.3-1.2-3 0-1.2 1.2 1.2 1.1 3.6-.1zM98.9 426.9l1.7-1-.1-1-4.4-1-4.1 1-.2 1 1.9 1 5.2 0zM243.7 432.9l-3.5 0 3.5 0z"/><path fill-rule="evenodd" fill="#292929" d="M309.7 452.9l-260.5 0 0-241.6 13.7 0 .3 3.4 .3-3.4 13.4 0 .2 1.7 .3-1.7 24.4 0 .3 1.8 .9-1.8 2.9 0 .2 1.2 .4-1.2 12.4 0 .2 .8 .1-.8 2.7 0 .2 5.6 .1-5.6 3.6 0 .3 11.3 .5-9.3 .5-1.6 .9 2.7 .2-3.1 27.6 0 .2 12.2 .2-12.2 3.2 0 .6 8.3 .1-8.3 2.7 0 .2 3.5 .2-3.5 2.5 0 .3 7 1.3-7 1.2 0 .5 20.2 .6-20.2 20 0 .3 1.4 .2-1.4 6.6 0 .2 3.3 .3-3.3 1.4 0 .3 4.2 1 .2 .2-4.4 7.6 0 .2 7.3 .3-7.3 19.3 0-.7 11 1.1 17 .1-28 12.7 0 1.1 3.9 .4-3.9 14.3 0 .3 6.3 .4-6.3 14.2 0 1.4 17.8 .3-17.8 32.4 0 .2 6.4 .2-6.4 3.8 0 0 182.7-2.2 2 .5 1 1.7 .4 0 30.2-3 .2-.5 1.1 3.5 .6 0 23.4zM81.3 224.3l-.2-12.8 0 13.6 .2-.8zM194.1 215.3l-.2-3.5 0 4.4 .2-.9zM247.8 218.3l0-5.1 0 5.1zM275.8 226.3l.2-7-1.2-6.6-.3 10.6 1.3 3zM277.9 220.3l-.1-7.8 0 8.5 .1-.7zM83.3 221.3l-.2-7.9 0 8.4 .2-.5zM270 220.3l-.2-5.1 .2 5.1zM287.9 232.3l-.2-17.3 .2 17.3zM94.2 231.3l-.1-14.7 0 15.5 .1-.8zM176 222.3l0-4.1 0 4.1zM204 224.3l-.1-7 .1 7zM69.3 227.3l-.1-9 0 9.7 .1-.7zM90.3 230.3l-.2-10.3-.7 10.3 .7 .6 .2-.6zM107.2 230.3l-.1-9.1 0 9.6 .1-.5zM114.3 226.3l-.2-5.4 0 6 .2-.6zM253 232.3l-1.2-11.1-.2 6.1 1.2 5.9 .2-.9zM112.1 233.3l0-11.6 0 11.6zM179.1 225.3l-.1-3.5 .1 3.5zM215.9 238.3l.1-10-1.1-6.8-1.2 4.8-.1 9 .3 .8 1-4.2 1 6.4zM186.1 225.3l-.2-2.4 .2 2.4zM208.1 243.2l.8-20.4-1.2 12.5 .2 8.6 .2-.7zM222.1 228.3l-.2-5.5 0 6.1 .2-.6zM135.2 237.3l-.2-13.8 0 14.5 .2-.7zM148.2 231.3l-.2-7.8 .2 7.8zM255.1 234.3l.9-1-.2-9.3-1.3 4.3 .6 6zM262.9 232.3l.1-7-1.2-1.7-.2 7.7 .2 .8 1.1 .2zM144.1 229.3l-.1-4.9 0 5.5 .1-.6zM295.1 227.3l-.4-2.8 0 3.6 .4-.8zM155.2 236.3l-.2-10 .2 10zM174.2 233.3l-.2-5.6 .2 5.6zM260 233.3l-.2-5.1 0 6 .2-.9zM265.1 231.3l-.3-3.8 0 4.4 .3-.6zM297.8 231.3l-.1-3.3 .1 3.3zM141.1 231.3l-.1-3 .1 3zM245.9 244.2l-.1-13.9 .1 13.9zM99.1 232.3l0-1.4 0 1.4zM56.2 235.3l0-3.4 0 3.4zM224 236.3l-.1-4.7 0 5.2 .1-.5zM239 240.3l-.2-8.8 .2 8.8zM130.1 235.3l-.1-2.1 .1 2.1zM91.2 245.2l-.1-11.9 .1 11.9zM167 239.3l0-6 0 6zM278.8 242.2l0-8.2 0 8.2zM139.2 239.3l-.2-4.9 0 5.7 .2-.8zM68.3 242.2l-.1-6.8 .1 6.8zM300.8 242.2l-.1-6.7 .1 6.7zM126.2 242.2l-.1-5.7 .1 5.7zM164.1 239.3l-.1-2.1 0 2.8 .1-.7zM196 251.2l1.1-8-.2-6.1-1.2 5.1 .3 9zM119.2 239.3l-.1-1.4 0 2.1 .1-.7zM309 245.2l-.3-7.4 0 8.4 .3-1zM161.1 241.2l-.1-1.9 .1 1.9zM122.3 256.2l.8-12-1-3.6 0 16.4 .2-.8zM63.4 261.2l2-9-.2-10.3-1.4 11.3-1.6 3.7 1 5.3 .2-1zM283.8 244.2l0-2.9 0 2.9zM137.2 248.2l-.2-4.3 0 5 .2-.7zM201.1 255.2l-.2-11 0 11.9 .2-.9zM281.9 246.2l-.1-2.3 0 3.2 .1-.9zM223 251.2l-.1-6.8 0 7.6 .1-.8zM61.3 249.2l-.1-3.7 .1 3.7zM158 247.2l0-1.9 0 1.9zM234 249.2l-.2-3.6 0 4.3 .2-.7zM210.9 249.2l0-2.3 0 2.3zM290.8 250.2l-.1-3.1 .1 3.1zM250 252.2l-.2-4.4 .2 4.4zM259.8 255.2l0-7.9 0 7.9zM231.9 251.2l-.1-2.2 .1 2.2zM133.2 250.2l-.2 .7 .2-.7zM221.1 252.2l-.2-2.9 0 3.7 .2-.8zM278.9 255.2l-.1-5.1 .1 5.1zM51.2 255.2l0-4.8 0 4.8zM243 251.2l-.2-.6 .2 .6zM257.9 255.2l-.1-4.9 .1 4.9zM114.2 256.2l-.1-3.7 .1 3.7zM275.8 253.2l0-.7 0 .7zM207 255.2l-.1-1.1 .1 1.1zM174.1 258.2l-.1-3.4 0 4.3 .1-.9zM296.8 257.2l-.1-3 .1 3zM154.1 258.2l-.1-2.1 .1 2.1zM194.2 264.2l.7-8.1-1.1 2.1 .1 6.9 .3-.9zM225.9 259.2l0-3.6 0 3.6zM228.9 260.2l0-4.4 0 4.4zM85.2 260.2l-.1-3.4 .1 3.4zM272.9 259.2l-.1-2.4 .1 2.4zM130.2 259.2l-.2-1.7 .2 1.7zM165.1 261.2l-.1-3.4 0 4.4 .1-1zM245 260.2l-.2-2.1 0 3 .2-.9zM262.9 264.2l-.1-5.1 .1 5.1zM110.3 267.2l.9-4-1.1-3.6 .2 7.6zM116.2 262.2l-.1-1.5 .1 1.5zM240 261.2l-.2-.5 .2 .5zM284.9 262.2l-.2-1.6 .2 1.6zM301.9 277.2l.5-10 .3-.8 1 .7 1.1-1.9-1.1-4.2-1 2.9-1-2.2-.2 .5 0 10-2.7 3 .6 1 2.5 1zM149.2 263.2l-.2-1.6 .2 1.6zM290.9 263.2l-.2-1.9 .2 1.9zM126.2 264.2l-.1-1.3 .1 1.3zM53.3 267.2l-.1-1.1 .1 1.1zM196.1 268.2l-.2-1.8 0 2.5 .2-.7zM252 270.2l-.2-3.5 .2 3.5zM262.9 269.2l-.1-2 .1 2zM61.4 268.2l-.2-.7-.7 .7 .7 .6 .2-.6zM229 269.2l-.1-1.6-.8 1.6 .9 0zM297.8 270.2l-.1-2.6 .1 2.6zM82.3 269.2l-.2 .8 .2-.8zM164.1 271.2l-.1-1.9 .1 1.9zM286 271.2l-.3-1.2 .3 1.2zM107.7 275.2l.6-1-1.2-2.9-1.3 2.9 .3 1 1.6 0zM70.2 275.2l0-2 0 2zM91.3 273.2l-.2-.8 .2 .8zM197.5 275.2l-.1-1-1.5-1-.4 2 2 0zM259.9 275.2l-.1-2-1-.9-.1 2.9 1.2 0zM61.3 277.2l-.1-2.4 .1 2.4zM273.3 276.2l-.5-1.4-.2 1.4 .7 0zM84.5 278.2l-.4-1.4-1 .1 0 1.8 1 .3 .4-.8zM247.6 285.2l.5-2-1.3-1.4-1.3 2.4 1.3 1.5 .8-.5zM307.8 285.2l.7-2-1.8-1.4-.1 2.4 1.2 1zM119.1 285.2l0-1.7 0 1.7zM138.2 286.2l1-1-1.2-1.4-.6 1.4 .8 1zM285.1 288.2l1.1-2-.5-1.8-1.3 .8 .1 3 .6 0zM162.4 287.2l.6-1-1.1 0 .5 1zM298.2 288.2l-.5-2-.9 1 .9 1.5 .5-.5zM203.2 291.2l1-1-.3-3.4-1.8 2.4 1.1 2zM184.2 293.2l-.3-2.4-1 .8-.1 1.6 1.4 0zM88.9 300.2l-1.1-1 .3 1.5 .8-.5zM174.6 303.1l-.6-.9-.3 .9 .9 0zM99.3 309.1l-.8-2-1.7 1 .3 1.3 2.2-.3zM122.3 308.1l-1.2-1-.5 1 1.7 0zM73.6 308.1l-1.3 0 .9 .8 .4-.8zM231.9 308.1l-1.1 0 1.1 0zM290.3 313.1l-.6-1.2-.3 1.2 .9 0zM54.2 318.1l0-2.4-2-.7-1 1.3 .4 1.8 1.6 .7 1-.7zM137.5 319.1l.8-1-1.3-.7 .5 1.7zM306.4 319.1l-.7-1.8-1 .4 0 1.9 1 .4 .7-.9zM246.5 320.1l.3-1-1-.9-1 .3 0 2 1.7-.4zM104.4 321.1l-.3-1.4-1 .4 .3 1 1 0zM156.5 321.1l-.5-1.2-1 1.2 1.5 0zM65.3 328.1l-.1-1.3-1 .1 0 1 1.1 .2zM170.3 331.1l-.3-1.7-1-.4-.4 2.1 1.7 0zM143.7 333.1l.3-1-1-1-1.5 1 .5 1.5 1.7-.5zM300 333.1l-.3-1.4-1 .3 0 1.1 1.3 0zM103.8 336.1l-.7-1.1-.2 1.1 .9 0zM116.1 347.1l.7-1-1.7-.5 0 1.1 1 .4zM133.5 348.1l-.5-1.5-1.8 .5 .8 1.4 1.5-.4zM89.6 357.1l-2 0 .5 .6 1.5-.6zM171.2 358.1l-1.2-.6-.6 .6 .6 .6 1.2-.6zM129.4 365l1-2-2.4-.3-.3 1.3 1.7 1zM73.2 369l.3-1-1-1-1.7 1 .4 1.1 2-.1zM106.2 370l1.2-1-.3-1.3-3 0 0 1.8 2.1 .5zM306.1 371l.9-1-.3-1.6-1-.7-1.8 .3-.2 2.7 2.4 .3zM53.6 372l.5-1-.9-1.4-2.6 .4-.3 1 .9 1.3 2.4-.3zM148.3 371l-.3-1.4-1.5 .4 .5 1.5 1.3-.5zM259 371l-1.2-1.3-1.6 .3-.4 1 2 .7 1.2-.7zM185.7 371l-.9 0 .9 0zM227.8 374l-.4-1-.9 0-.2 1 1.5 0zM289.9 385l2.2-1-.4-1-3.7 0-.3 1.2 2.2 .8zM125.3 387l.6-1-.8-.4-2.4 .4 .7 1 1.9 0zM83.2 388l-2 0 .9 .6 1.1-.6zM259.9 393l.5-1-1.6-1.2-3 .1-1.4 1.1 1.4 1.3 4.1-.3zM54.9 393l.9-1-1.6-.8-2.9 .8 .9 1 2.7 0zM107.6 405l.4-1-.9-.5-3.5 .5 1.5 1.3 2.5-.3zM239.4 406l.9-1-1.4-1-2.4 1 1.3 1.1 1.6-.1zM289.6 415l1.5-1 .1-1-1.2-1-3.3-.3-1.7 1.3 .1 1 1.5 1 3 0zM56.4 415l.4-1-1.6-1.4-3 0-1.6 1.4 1.6 1.4 4.2-.4zM99.6 426.9l1.6-1-.1-1-2.4-1-3.6-.2-3.6 1.2-.1 1 2.7 1.4 5.5-.4zM244.5 432.9l-2.7-1.1-2.4 1.1 2.4 .9 2.7-.9z"/><path fill-rule="evenodd" fill="#343434" d="M309.7 452.9l-260.5 0 0-241.6 13.6 0 .4 4 .5-4 13.1 0 .3 2.6 .5-2.6 3.4 0 .1 15.2 .2-15.2 20.4 0 .4 2.5 1-.6 1 .9 .2-2.8 1.4 0 .4 2.3 .8-2.3 11.9 0 .3 1.4 .2-1.4 2.5 0 .3 6 .2-6 3.3 0 .5 12.5 .8-10.5 .2-.5 .9 3.3 .4-4.8 1.4 0 .2 1 .2-1 3.7 0 .1 1 .2-1 21.4 0 .4 13.4 .3-13.4 2.8 0 .9 8.8 .2-8.8 2.6 0 .2 4.1 .3-4.1 2.2 0 .5 9.4 1.6-9.4 .6 0 .8 25.2 .9-25.2 19.3 0 .7 2.5 .4-2.5 3.6 0 0 5.5 .1-5.5 2.6 0 .3 3.9 .5-3.9 1 0 .5 5.2 1-.1 .3-5.1 7.4 0 .3 8.4 .5-8.4 18.8 0-.5 11 1.2 17.6 .3-28.6 4.5 0 .1 2.3 .2-2.3 7.6 0 1.2 5.4 .6-5.4 13.9 0 .5 6.9 .6-6.9 13.7 0 .2 9 1.5 9.4 .5-18.4 1.4 0-.3 12 1.4 3.8 .4-7.8-1.3-8 12.8 0 0 21.9 .1-21.9 17.5 0 .4 6.9 .4-6.9 3.6 0 0 182.7-2.5 2 .5 1.1 2 .6 0 29.6-3 .2-1.2 1.4 4.2 1 0 23zM277.8 221.3l0-9.8 0 9.8zM83.4 221.3l-.3-8.6 0 9.5 .3-.9zM248 218.3l-.2-5.9 .2 5.9zM65.2 219.3l0-5 0 5zM94.2 232.3l-.1-18.5 0 19.2 .1-.7zM270 221.3l.5-4-.7-3.4 .2 7.4zM204.1 224.3l-.2-7.5 0 8 .2-.5zM69.2 228.3l0-10.8 0 10.8zM176.1 222.3l-.1-4.6 0 5.3 .1-.7zM89.2 233.3l1.4-3-.5-10.9-.9 13.9zM107.2 231.3l-.1-12 .1 12zM179.2 225.3l-.2-5.7 0 6.4 .2-.7zM253.1 233.3l.2-5-1.5-8.1-.3 7.1 1.3 6.7 .3-.7zM112.3 233.3l-.2-12.1 0 13 .2-.9zM114.1 227.3l0-6.9 0 6.9zM216 238.3l.1-10-1.2-7.9-1.4 5.9 0 9 .4 1.4 1-3.5 1 5.7 .1-.6zM208 244.2l1.2-11.9-.3-10.7-1.2 13.7 .3 8.9zM104.1 223.3l0-.9 0 .9zM135.1 238.3l-.1-15.8 .1 15.8zM148.3 231.3l.5-8-.8-.4 0 9.2 .3-.8zM186.2 225.3l-.3-2.8 0 3.4 .3-.6zM221.9 229.3l0-6.8 0 6.8zM255.9 234.3l-.1-11.2-1.4 4.2-.1 4 .5 3.9 1.1-.9zM263 232.3l0-8-1.2-1.2-.4 8.2 .4 1.5 1 .4 .2-.9zM144 230.3l0-6.5 0 6.5zM294.9 228.3l-.2-4.3 .2 4.3zM155.3 236.3l.3-9-.6-1.7 0 11.6 .3-.9zM264.8 232.3l0-5.3 0 5.3zM141.2 231.3l-.2-3.5 0 4.3 .2-.8zM174.3 233.3l-.3-5.9 0 6.6 .3-.7zM260 234.3l-.2-6.5 0 7.1 .2-.6zM297.9 231.3l-.2-3.6 .2 3.6zM99.8 232.3l-.7-2.3 0 3.1 .7-.8zM246 244.2l-.2-14.5 0 15.5 .2-1zM212 232.3l-.1-1.9 0 2.4 .1-.5zM223.9 237.3l0-6.1 0 6.1zM239.1 240.3l-.3-9.6 0 10.4 .3-.8zM56.3 235.3l-.1-3.8 .1 3.8zM167.3 239.3l-.3-7.3 0 8.1 .3-.8zM91.2 246.2l-.1-13.7 .1 13.7zM130.2 235.3l-.2-2.6 0 3.5 .2-.9zM139.1 240.3l-.1-6.3 .1 6.3zM278.8 243.2l0-9.7 0 9.7zM68.4 242.2l-.2-7.5 0 8.5 .2-1zM301.1 242.2l-.4-7.2 0 8.1 .4-.9zM126.3 242.2l-.2-6.3 0 7.1 .2-.8zM164 240.3l0-3.4 0 3.4zM196 252.2l1.2-9-.3-6.6-1.3 5.6 .4 10zM289.9 238.3l-.2-1.4 0 2.3 .2-.9zM119.1 240.3l0-2.6 0 2.6zM308.9 246.2l-.2-8.8 .2 8.8zM161.2 241.2l-.2-2.2 0 3 .2-.8zM122.1 257.2l1.2-13-1.2-4.3 0 17.3zM63.3 262.2l2.2-10-.3-11.1-1.7 12.1-1.4 3 .1 5 1.1 1zM151.1 244.2l-.1-3.7 .1 3.7zM283.9 244.2l-.1-3.4 0 4.1 .1-.7zM137.1 249.2l-.1-5.9 .1 5.9zM201 256.2l-.1-12.5 .1 12.5zM222.9 252.2l0-8.6 0 8.6zM281.9 247.2l-.1-3.8 0 4.4 .1-.6zM61.5 249.2l-.3-4.1 0 5 .3-.9zM158.1 247.2l-.1-2.2 .1 2.2zM233.9 250.2l-.1-5 .1 5zM211 249.2l-.1-3 0 3.9 .1-.9zM259.9 255.2l-.1-8.5 .1 8.5zM290.8 251.2l-.1-4.8 .1 4.8zM87.1 250.2l0-2.3 0 2.3zM250.1 252.2l-.3-4.8 0 5.6 .3-.8zM221 253.2l-.1-4.4 .1 4.4zM232 251.2l-.2-2.5 .2 2.5zM51.3 255.2l-.1-5.3 .1 5.3zM133 251.2l0-1.8 0 1.8zM258.1 255.2l-.3-5.3 0 6.2 .3-.9zM279 255.2l-.2-5.9 0 6.7 .2-.8zM243.1 251.2l-.3-.9 0 1.7 .3-.8zM114.3 256.2l-.2-4.1 0 4.6 .2-.5zM275.9 253.2l-.1-1.3 0 2.1 .1-.8zM206.9 256.2l0-2.5 0 2.5zM296.9 257.2l-.2-3.3 .2 3.3zM174 259.2l0-4.7 0 4.7zM226 259.2l-.1-4 .1 4zM154.2 258.2l-.2-2.3 0 3 .2-.7zM194.1 265.2l1.5-8-.7-1.6-1.2 2.6 .2 7.9 .2-.9zM229 260.2l-.1-4.9-.7 3.9 .7 1.9 .1-.9zM85.3 260.2l-.2-3.7 .2 3.7zM130.3 259.2l-.3-2.1 0 2.8 .3-.7zM273 259.2l-.2-2.7 0 3.3 .2-.6zM165.1 262.2l-.1-4.8 .1 4.8zM244.9 261.2l-.1-3.5 .1 3.5zM88.1 260.2l0-1.9 0 1.9zM263 269.2l-.2-10.4 .2 10.4zM110.5 267.2l.8-4-1.2-4 0 8.8 .4-.8zM116.2 262.2l-.1-1.8 .1 1.8zM240 261.2l-.2-.8 .2 .8zM285 262.2l-.3-1.9 0 2.5 .3-.6zM290.9 263.2l-.2-2.3 0 3 .2-.7zM302 277.2l.4-9 2.6-3-1.3-4.6-1 2.6-1-2-.4 1-.6 3 .5 7-2.7 3 .4 1 2.8 1.5 .3-.5zM100.2 263.2l-.1-1.2 .1 1.2zM149.3 263.2l-.3-1.9 0 2.4 .3-.5zM126.3 264.2l-.2-1.6 0 2.3 .2-.7zM53.4 267.2l-.2-1.3 0 1.9 .2-.6zM115.4 266.2l-.3-.4 .3 .4zM196 269.2l-.1-3.4 .1 3.4zM58.3 267.2l-.1 .6 .1-.6zM61.2 269.2l0-2.2-1.6 1.2 1.6 1zM208.9 267.2l-1.3 0 1.3 0zM252.1 270.2l-.3-3.8 0 4.6 .3-.8zM229.1 269.2l-.2-1.9-1 .6-.1 1.3 1.1 .7 .2-.7zM297.9 270.2l-.2-2.9 .2 2.9zM82.2 270.2l-.1-1.7 .1 1.7zM164.2 271.2l-.2-2.5 0 3.2 .2-.7zM260 275.2l-1.2-5.2-.3 5.2 1.5 0zM286.4 271.2l-.7-1.5-.4 1.5 1.1 0zM108.1 275.2l.1-2-1.1-2.2-1.1 1.2-.1 3 1.2 .8 1-.8zM70.3 275.2l-.1-3.1 .1 3.1zM91.4 273.2l-.3-1.4 .3 1.4zM197.8 275.2l-1.9-2.4-.6 2.4 1.6 .6 .9-.6zM174 274.2l-.7 0 .7 0zM61.4 277.2l-.2-2.8-.5 1.8 .5 1.5 .2-.5zM273.7 276.2l.1-1-1-.6-.4 1.6 1.3 0zM84.3 279.2l.4-2-1.6-.6-.4 1.6 1.6 1zM130.3 277.2l-.7 0 .7 0zM308.2 285.2l.6-2-2.1-2-.3 3 1.8 1zM247.9 285.2l.3-2-1.4-1.7-1.5 1.7 .3 2 1.2 .7 1.1-.7zM119.4 285.2l-.3-2.1-.7 1.1 1 1zM138.8 286.2l.3-2-1.1-.6-1 1.6 1 1.3 .8-.3zM285.3 288.2l1.2-2-.8-2.2-1.5 1.2 .1 3 1 0zM163.1 287.2l-.1-1.3-1.4 .3 .4 1.4 1.1-.4zM298.4 288.2l-.7-2.2-1 2.2 1 .8 .7-.8zM203.9 291.2l0-4.7-2.1 2.7 .7 2 1.4 0zM173.2 289.2l-.2 .5 .2-.5zM184.4 293.2l-.5-2.6-1 .6-.2 2 1.2 .7 .5-.7zM57 294.2l-.8-.8-.3 .8 1.1 0zM89.2 300.2l-1.1-1.6-.6 .6 .6 1.9 1.1-.9zM175 303.1l-1.3-1 .3 1.6 1-.6zM301.1 303.1l-.4-1.1-.5 1.1 .9 0zM110.2 303.1l-1.3 0 1.3 0zM247.3 305.1l-.5-.5-.6 .5 .6 .8 .5-.8zM275.1 305.1l-1.3 0 1.3 0zM99.5 309.1l-.5-2-1.7 0-.7 1 .5 1.5 2.4-.5zM122.5 308.1l-1.4-1.1-.8 1.1 .8 .7 1.4-.7zM193.7 308.1l-.8-1-.2 1 1 0zM73.3 309.1l.5-1-.6-.7-1.1 .7 1.2 1zM232.1 308.1l-1.5 0 1.5 0zM290.7 313.1l-1-1.4-.5 1.4 .5 .7 1-.7zM54.4 318.1l-.2-2.7-1-.7-1.5 .4-.5 3 2 1 1.2-1zM138.2 319.1l-.2-1.9-1-.1-.2 2 1.4 0zM306 320.1l.8-2-1.1-1.1-1 .4-.4 1.7 1.7 1zM246.9 320.1l.1-1-1.2-1.1-1.6 1.1 .6 1.6 2.1-.6zM104.7 321.1l-.6-1.7-1 .4 0 1.5 1.6-.2zM156.8 321.1l-.8-1.4-1.1 .4 .1 1.3 1.8-.3zM124.3 322.1l-.2-.7-.9 .7 1.1 0zM286 326.1l.1-1-1.1 0 1 1zM65.6 328.1l-.4-1.6-1 .1-.2 1.5 1.6 0zM190.4 328.1l-.8 0 .3 .6 .5-.6zM170.4 331.1l-.3-2-1.4 0-.4 2 .7 .6 1.4-.6zM144.1 333.1l.1-1-1.2-1.2-1.9 1.2 .9 1.7 2.1-.7zM300.2 333.1l-.5-1.6-1.3 .6 .3 1.2 1.5-.2zM217.3 335.1l.6-1-1-.2 .4 1.2zM104.2 336.1l-.1-1-1.3 0 .3 1.6 1.1-.6zM232.6 342.1l-1 0 1 0zM116.4 347.1l.7-1.1-1-1-1 .3 0 1.8 1.3 0zM133.7 348.1l-.7-1.8-2.1 .8 1.1 1.7 1.7-.7zM309 347.1l-.7 0 .7 0zM89.1 358.1l.7-1-.7-.7-1.7 .7 1.7 1zM170 359.1l1.4-1-1.4-.9-1 .9 1 1zM130.1 365l.5-2-2.6-.5-.5 1.5 .5 .9 2.1 .1zM73.4 369l.3-1-1.5-1.3-1.6 1.3 .6 1.4 2.2-.4zM106.6 370l1-1-.5-1.5-2-.5-1.5 1 .5 1.7 2.5 .3zM306.5 371l.7-1-.5-1.9-2-.6-1.2 .5-.5 2 .7 1 2.8 0zM54 372l.4-1-1.2-1.6-2.9 .6-.4 1 1.3 1.6 2.8-.6zM148.5 371l-.5-1.6-1.9 .6 .9 1.8 1.5-.8zM259.3 371l-1.5-1.5-2 .5-.3 1 2.3 1 1.5-1zM185.9 372l.4-1-1.9 0 .4 1 1.1 0zM228.1 374l-.2-1.1-1.9 .1-.1 1.1 2.2-.1zM291.1 385l1.4-1-.8-1.2-4.1 .2 .1 1.6 3.4 .4zM125.7 387l.5-1-1.1-.6-2.7 .6 .7 1.1 2.6-.1zM83.6 388l-1.5-.7-1.4 .7 1.4 1 1.5-1zM55.5 393l.7-1-2-1.1-3.4 1.1 1.4 1.3 3.3-.3zM260.3 393l.5-1-2-1.3-3 0-1.7 1.3 1.7 1.5 4.5-.5zM108 405l.4-1-1.3-.7-3.9 .7 .3 1 1.6 .5 2.9-.5zM240 406l.6-1-1.8-1.3-2.6 1.3 1.6 1.3 2.2-.3zM290.3 415l1.3-2-1.9-1.4-3-.1-2.1 1.5 .1 1.1 2 1.2 3.6-.3zM56.8 415l.4-1.1-2-1.5-3 0-1.9 1.6 .9 1.3 2 .5 3.6-.8zM100.2 426.9l1.4-1 0-1-2.5-1.1-5-.1-3.1 1.2 .1 1.2 3 1.3 6.1-.5zM243.8 433.9l1.5-1-1.5-1.1-3-.2-2.1 1.3 2.1 1.2 3-.2z"/><path fill-rule="evenodd" fill="#404040" d="M309.7 452.9l-260.5 0 0-117.8 .6-4-.6-3 0-116.8 13.4 0 .6 4.8 .7-4.8 1.1 0 .2 10.8 1.1-4.8-.7-6 11 0 .5 3.5 .6-3.5 3.2 0 .2 17.1 .4-17.1 12.5 0 .1 22.4 .1-22.4 7.3 0 1.9 7 .7 8.8 .5-15.8 .9 0 .6 3.4 .8 .6 .2 17.3 .1-21.3 11.5 0 .4 1.9 .3-1.9 2.3 0 .4 6.5 .3-6.5 3.1 0 .6 13.7 .9-10.7 1 3.1 .6-6.1 1 0 .4 2.1 .4-2.1 3.2 0 .4 3.1 .4-3.1 21.1 0-.5 26.3 .7-2.3 .7-24 2.5 0 1.1 9.3 .3-9.3 2.4 0 .3 4.6 .4-4.6 2 0 .6 11.2 2-10.9 1 27.2 1.1-27.5 18.8 0 1 3.5 .6-3.5 3.3 0 .1 6.1 .2-6.1 2.4 0 .4 4.7 .7-4.7 .7 0 .6 6.1 1-.2 .4-5.9 7.2 0 .4 33.6 1.4-12.6-.7-21 18.3 0-.4 11 1.4 18.2 .5-29.2 3.9 0 .5 5.6 .4-5.6 7.3 0 .3 4.7 1 2.2 .8-6.9 13.5 0 .7 7.7 .8-7.7 13.2 0 0 3.6-1-2.8-.3 8.2 .3 2.2 1-1.8 2 9.6 .7-19 .8 0 0 13 1.5 3.7 .5-8.7-.9-8 2.1 0 .3 11.2 .1-11.2 9.5 0 .3 22.5 .4-22.5 17.1 0 .5 7.7 .5-7.7 3.5 0-.1 25-.9 .5-.4 2.5 .4 7.8 1-10.7 0 157.9-2.8 1.7 .8 1.3 2 .6 0 29.1-4 .5-.8 1.4 4.8 1.2 0 22.8zM83.2 222.3l-.1-10.3-.6 9.3 .7 1zM248.3 218.3l-.5-7 0 7.9 .5-.9zM204.2 224.3l-.3-8.1-.6 3.1 .6 5.9 .3-.9zM69.3 228.3l-.1-11.8 0 12.7 .1-.9zM176 223.3l0-6.2 0 6.2zM179 226.3l0-9.4 0 9.4zM91.2 247.2l.3-12.9-1.4-15.6-1.4 12.6 .4 3.3 1.2-1.3 .8 14.9 .1-1zM215.9 239.3l.3-11-1.3-9.1-1.6 7.1 0 9 .6 2 1-2.6 1 4.6zM253.1 234.3l.4-6-1.7-9.6-.4 8.6 1.4 7.5 .3-.5zM114.3 227.3l-.2-7.5 0 8.2 .2-.7zM112.2 234.3l-.1-13.7-.6 8.7 .6 5.6 .1-.6zM148.1 232.3l.9-11.6-1.3 3.6 .4 8zM135.3 238.3l-.3-16.9-.6 3.9 .6 13.8 .3-.8zM186.3 225.3l-.4-3.2 0 4 .4-.8zM222.1 229.3l-.2-7.3 0 7.8 .2-.5zM255.5 235.3l.7-2-.4-11.4-1.7 6.4 .2 6 .5 1.7 .7-.7zM144.1 230.3l-.1-7.3 .1 7.3zM262.9 233.3l.2-9-.3-1.5-1-.4-.5 8.9 .5 2.3 1 .4 .1-.7zM295.2 228.3l.3-3-.8-1.8 0 5.4 .5-.6zM75.2 228.3l-.1-2.4 .1 2.4zM174 234.3l0-7.3 0 7.3zM265.2 232.3l-.4-5.9-.4 4.9 .4 1.5 .4-.5zM141.1 232.3l-.1-5 .1 5zM259.9 235.3l-.1-8 .1 8zM297.9 231.3l-.2-4 0 4.8 .2-.8zM100.2 233.3l-1.1-4.1 0 4.6 1 .2 .1-.7zM212.1 233.3l-.2-4.1 0 4.7 .2-.6zM245.9 245.2l-.1-16.2-.5 14.2 .6 2zM238.9 241.2l-.1-11.3 .1 11.3zM56.4 235.3l-.2-4.2 0 4.9 .2-.7zM167.2 240.3l-.2-9.9-.4 7.9 .6 2zM224 237.3l-.1-6.6-.6 4.6 .7 2zM130.1 236.3l-.1-4.2 .1 4.2zM278.8 244.2l0-11.4 0 12.2 0-.8zM68.3 243.2l-.1-9.3 .1 9.3zM139.2 240.3l-.2-6.7 0 7.4 .2-.7zM126.1 243.2l0-8 0 8zM301 243.2l-.3-8.7-.3 6.7 .6 2zM196 253.2l1.3-10-.4-7.2-1.4 6.2 .4 11.7 .1-.7zM289.9 239.3l-.2-3.2 0 4 .2-.8zM72.2 243.2l0-6.2 0 6.2zM164.2 240.3l-.2-3.8 0 4.4 .2-.6zM119.2 240.3l-.1-2.9 .1 2.9zM161.3 241.2l-.3-2.4 0 3.4 .3-1zM63.4 262.2l2.2-10-.4-12.1-1.7 12.1-1.6 4 .3 6 1 .9 .2-.9zM122.3 257.2l1.1-14-1.3-3.9-.5 16.9 .5 1.5 .2-.5zM151.1 245.2l-.1-5.9 .1 5.9zM283.8 245.2l0-4.8 0 4.8zM79.2 245.2l-.1-3.3 .1 3.3zM137.3 249.2l-.3-6.6 0 7.4 .3-.8zM201.1 256.2l-.2-13.1 0 13.7 .2-.6zM223.1 252.2l-.2-9.7-.5 8.7 .5 1.6 .2-.6zM269.9 245.2l-.1-2 .1 2zM281.8 248.2l0-5.3 0 5.3zM61.4 250.2l-.2-5.4 .2 5.4zM158.2 247.2l-.2-2.5 0 3.1 .2-.6zM234 250.2l-.2-5.4 .2 5.4zM106.9 249.2l.2-2.5-1-1.1 0 4.5 .8-.9zM211 250.2l-.1-4.6 .1 4.6zM260 255.2l-.2-9.3 0 10.2 .2-.9zM290.9 251.2l-.2-5.5 0 6.4 .2-.9zM87.2 251.2l-.1-4.6 0 5.5 .1-.9zM249.8 253.2l0-6.2 0 6.2zM278.8 256.2l0-8.1 0 8.1zM133.1 251.2l-.1-2.1 .1 2.1zM221.1 253.2l-.2-4.8 0 5.6 .2-.8zM232.1 251.2l-.3-2.9 0 3.7 .3-.8zM51.5 255.2l-.3-5.8 0 6.4 .3-.6zM242.9 252.2l-.1-2.2 .1 2.2zM258 256.2l-.2-6.8 0 7.6 .2-.8zM114.4 256.2l-.3-4.5 0 5.3 .3-.8zM275.8 254.2l0-2.7 0 2.7zM174.1 259.2l-.1-5 .1 5zM207 256.2l-.1-2.9 .1 2.9zM297.1 257.2l-.4-3.6 0 4.4 .4-.8zM194 268.2l1.9-13.6-2 1.5-.2 1.1 .2 12 .1-1zM226.2 259.2l-.3-4.3 0 5 .3-.7zM228.9 261.2l0-6.4-1 5.4 .1 1 .9 0zM85.5 260.2l-.4-4 0 4.8 .4-.8zM154.3 258.2l-.3-2.6 0 3.5 .3-.9zM273.1 259.2l-.3-3 0 3.8 .3-.8zM88.2 260.2l-.1-3.3 0 3.9 .1-.6zM130.4 259.2l-.4-2.4 0 3.3 .4-.9zM165.2 262.2l-.2-5.1 0 5.7 .2-.6zM245 261.2l-.2-3.9 .2 3.9zM110.2 268.2l1.2-4-1.3-5.5 .1 9.5zM263.1 269.2l-.3-10.8 0 11.5 .3-.7zM116.3 262.2l-.2-2.1 0 2.9 .2-.8zM240.1 261.2l-.3-1.1 0 1.8 .3-.7zM285 262.2l-.3-2.2 0 3.1 .3-.9zM302.1 277.2l.6-9 1-.4 1.4-2.6-1.4-5-1 2.4-1-2-.7 1.6-.1 10-2.6 3 .4 1.1 3 1.7 .4-.8zM149.4 263.2l-.4-2.2 0 2.8 .4-.6zM291 263.2l-.3-2.7 0 3.6 .3-.9zM100.7 263.2l-.6-1.5 0 2.3 .6-.8zM126.4 264.2l-.3-1.8 0 2.8 .3-1zM250 269.2l-.1-5-1.1-.2 1 6 .2-.8zM196.1 269.2l-.2-4 0 4.6 .2-.6zM53.5 267.2l-.3-1.6 0 2.4 .3-.8zM115.9 266.2l-.8-1 0 1.6 .8-.6zM251.9 271.2l-.1-5.2 .1 5.2zM61.5 269.2l.3-2-2.6 .3-1-.8 0 1.9 3 1.2 .3-.6zM209.2 267.2l-.3-.8-1.5 .8 .5 .8 1.3-.8zM229.3 269.2l-.4-2.2-1 .5-.2 1.7 1.2 .9 .4-.9zM270.8 268.2l0-1.1 0 1.1zM298 270.2l-.3-3.3 0 4 .3-.7zM164.3 271.2l-.3-3 0 4 .3-1zM82.3 270.2l-.2-1.9 .2 1.9zM91.4 273.2l-.3-4.1 0 4.8 .3-.7zM260.2 275.2l-1.4-5.6-.4 5.6 .4 .7 1.4-.7zM286.8 271.2l-1.1-1.8-.8 .8 .8 1.8 1.1-.8zM107.2 276.2l1.4-2-1.5-3.5-1.5 3.5 .5 1.5 1.1 .5zM70.5 275.2l.7-3-1-.6 .3 3.6zM198.1 275.2l-2.2-2.7-.8 2.7 1.8 .8 1.2-.8zM61.5 277.2l-.3-3.2-.7 2.2 .7 1.8 .3-.8zM174.1 274.2l-1.4 0 .3 .6 1.1-.6zM100.3 275.2l-.2-.8 0 1.3 .2-.5zM273.9 276.2l-.1-1.3-1-.5-.5 1.8 .5 .6 1.1-.6zM130.6 277.2l-.6-1-1 1 1 .7 .6-.7zM224.9 276.2l0-.7 0 .7zM84.5 279.2l.4-2-1.8-.8 0 2.8 1.4 0zM96.6 280.2l-.5-.5 0 .8 .5-.3zM308.6 285.2l.4-2-2.3-2.4-.5 3.4 1.5 1.5 .9-.5zM246.9 286.2l1.2-1 .2-2-1.5-1.9-1.2 .9-.4 2 1.7 2zM119.6 285.2l-.5-2.3-.9 1.3 .9 1.6 .5-.6zM84.5 284.2l-.4-.5 0 .9 .4-.4zM139.1 286.2l.1-2-1.2-.8-1.1 1.8 1.1 1.5 1.1-.5zM285.5 288.2l1.2-2-1-2.4-1.1 .4-.7 2 .2 2 .6 .7 .8-.7zM163.4 287.2l-.4-1.6-1.7 .6 .7 1.7 1.4-.7zM297.9 289.2l.9-2-1.1-1.4-1.2 1.4 .2 1.3 1.2 .7zM106.3 287.2l-.2 .5 .2-.5zM204.1 291.2l.5-2-.7-2.9-1.9 1.9-.3 2 1.2 1.5 1.2-.5zM173.1 290.2l-.1-1.4 .1 1.4zM184 294.2l.6-2-.7-1.8-1.4 1.8 .4 1.7 1.1 .3zM57.3 294.2l-1.1-1.1-.5 1.1 1.6 0zM88.6 301.2l.7-2-1.2-.8-1.1 1.8 1.6 1zM110.4 303.1l-.3-1-1.4 1 1.4 .7 .3-.7zM175.2 303.1l-.2-1-1.5 0 .5 1.8 1.2-.8zM301.4 303.1l-.7-1.3-.7 .3-.2 1 .9 .7 .7-.7zM247.1 306.1l.5-1-.8-.9-1 .9 1.3 1zM275.4 305.1l-.6-.8-1.2 .8 1.2 .9 .6-.9zM98.1 310.1l1-.3 .6-1.7-1.6-1.4-1.7 1.4 .1 1 1.6 1zM122.7 308.1l-.3-1-1.3-.3-1.1 1.3 1.1 1 1.6-1zM194.1 308.1l-.2-1-1.4 0 .4 1.6 1.2-.6zM73.5 309.1l.5-1-.8-.9-1.3 .9 1.6 1zM232.3 308.1l-1.4-.7-.5 .7 .5 .9 1.4-.9zM290.9 313.1l-.2-1.2-1-.4-.6 1.6 .6 .9 1.2-.9zM53.6 319.1l1-1 .2-2-1.6-1.6-1 .1-1.3 1.5 .1 2 1.2 1.1 1.4-.1zM138.3 319.1l-.1-2-1.2-.2-.4 2.2 1.7 0zM306.3 320.1l.4-2.5-1-.9-1 .4-.6 2 .6 1.1 1.6-.1zM245.9 321.1l1.3-2-1.4-1.3-1 .1-.8 2.2 1.9 1zM104.9 321.1l-.8-1.9-1.4 .9 .4 1.5 1.8-.5zM157 321.1l-1-1.5-1.3 .5 .3 1.5 2-.5zM124.5 322.1l-.4-1.1-1 .4 0 1 1.4-.3zM286.3 326.1l-.6-1.6-1.1 .6 .1 1 1.6 0zM65.9 328.1l-.7-1.9-1.6 .9 .6 1.5 1.7-.5zM190.3 329.1l.6-1.1-1.7 .1 1.1 1zM170.6 331.1l-.3-2-1.9 0-.4 1.5 1 1.3 1.6-.8zM143.1 334.1l1.3-2-.6-1-1.8-.3-1 2.3 2.1 1zM300.4 333.1l-.7-1.8-1.4 .8 .4 1.4 1.7-.4zM218.1 335.1l-.2-1.3-1.5 .3 .5 1.2 1.2-.2zM104.4 336.1l-.3-1.3-1.6 .3 .6 1.9 1.3-.9zM78.6 336.1l-.8 0 .8 0zM247.1 337.1l-.3-1.1-.3 1.1 .6 0zM288 341.1l-.7 0 .7 0zM180.8 342.1l-.9 0 .9 0zM198 342.1l-1.5 0 .4 .6 1.1-.6zM233 342.1l-1.2-.9-.4 .9 .4 .6 1.2-.6zM263.4 343.1l-.6-.9-.5 .9 1.1 0zM116.8 347.1l.3-1.4-2.1-.6-.7 1 .5 1 2 0zM133.9 348.1l-.9-2-2.3 1 1.3 1.9 1.9-.9zM309.6 347.1l-1.8 0 .9 .9 .9-.9zM282 356.1l-.2-1.4 .2 1.4zM89.4 358.1l.7-1-1-.9-2 .9 1 1.1 1.3-.1zM170.8 359.1l.7-1-1.8-1-.7 1.3 1.8 .7zM130.3 365l.6-2-.9-.8-2 .1-.7 1.7 .6 1 2.4 0zM73.7 369l-.4-2-1.1-.5-1.9 1.5 .9 1.7 2.5-.7zM107 370l.8-1-.7-1.8-2-.4-1.7 1.2 .7 2 2.9 0zM306.8 371l.7-2-.8-1.2-2-.5-1.5 .7-.4 2 .9 1.3 3.1-.3zM54.3 372l.1-2-1.2-.9-2 0-1.2 .9 0 2 1.2 .8 3.1-.8zM148.7 371l-.7-1.9-2.1 .9 1.1 2 1.7-1zM258.3 372l1.2-1-.7-1.3-3.3 .3 .3 1.6 2.5 .4zM186.4 372l.2-1-.7-.3-1.9 .3 .3 1 2.1 0zM228.4 374l-.5-1.3-2.2 .3-.2 1 1.4 .7 1.5-.7zM291.7 385l1.1-1-1.1-1.5-3-.2-1.5 .7-.3 1 1 1 3.8 0zM126.1 387l.4-1-1.4-.8-2.9 .8 .9 1.2 3-.2zM83.2 389l.7-1-.8-.7-2.9 .7 .9 1.1 2.1-.1zM56.1 393l.5-1-2.4-1.3-2.6 .3-1.2 1 1.8 1.5 3.9-.5zM260.7 393l.5-1-2.4-1.5-3 0-2.1 1.5 2.1 1.7 4.9-.7zM108.5 405l.3-1-1.8-1-2.4 0-1.8 1 .3 1 2 .7 3.4-.7zM240.4 406l.4-1.3-2-1.2-2 .3-1 1.2 2 1.5 2.6-.5zM290.9 415l1.1-2-2.3-1.6-3-.1-2.5 1.7 .5 1.5 2 1.1 4.2-.6zM55 416l2.6-2-1.4-1.5-4-.3-2.3 1.8 1.3 1.6 3.8 .4zM210.1 422l-.8 0 .8 0zM100.8 426.9l1.3-1-.1-1-2.9-1.3-5-.1-3.6 1.4 .6 1.6 3 1.1 6.7-.7zM244.9 433.9l1.1-1-.7-1-2.5-.6-3 .2-1.9 1.4 2.9 1.5 4.1-.5zM55.8 437.9l-2.8 0 1.2 .9 1.6-.9z"/><path fill-rule="evenodd" fill="#4b4b4b" d="M309.7 452.9l-260.5 0 0-118.8 1-3-1-.6 0-1.4 0-117.8 8.9 0 .1 2.7 .1-2.7 4.2 0 .7 5.7 1.1-5.7 .9 13 1.2-6 0-7 10.1 0 .6 4.5 .8-4.5 2.9 0 .3 19.1 .8-7.1-.2-12 1.3 0-.6 10 .7 1.7 .1-11.7 10.5 0 .4 23.1 .4-23.1 6.9 0 2.7 17.3 1.2-17.3 1.1 6 .7 16.3 .3-22.3 2.7 .6 .1-.6 8.4 0 .5 2.6 .3-2.6 2.3 0 .4 7.1 .4-7.1 2.8 0 .8 15.3 1-11.6 .9 3.6 .8-7.3 1.2 3.4 .6-3.4 2.8 0 .6 5.4 .7-5.4 9.1 0 .2 1.7 .1-1.7 11.3 0-.9 17 .5 9.7 .9-3.7 .6-23 2.2 0 1.3 9.8 .4-9.8 2.2 0 .4 5.2 .5-5.2 1.7 0 .8 12.6 2-7.5 1 24.2 1.3-29.3 18.2 0 1.4 4.5 .7-4.5 3 0 .3 6.7 .3-6.7 2.2 0 .5 5.6 1.2-5.6 .8 7.1 1-.4 .5-6.7 7 0 .5 34.1 1.5-13.1-.7-21 3.1 0 .1 .6 .2-.6 14.4 0-.1 12 1.5 17.9 .6-29.9 3.5 0 .8 7.9 .6-7.9 7 0 .4 7.7 1 1.7 1-9.4 1 .7 .1-.7 3.8 0 .1 8.9 .7-2.9-.4-6 3.6 0-.4 16 1.5 8.4 .8-7.4-1.7-17 4 0-.2 8-1.7 9 .8 8.5 1.5-3.5 .2-12 1.2-3 .3-7 11.6 0 .2 13.4 3 6.9 .9-20.3 .5 13 1.6 5.2 .7-10.2-.6-8 1.3 0 .6 13.1 .3-13.1 6.5 0 .1 2.6 .4-2.6 2 0 .6 23.3 .7-23.3 10.1 0 .2 1.2 .3-1.2 6 0 .7 9.2 .6-9.2 3.4 0-1.5 28 .5 8.4 1-10.1 0 109.2-2.3 .3 1.3 1.2 1-.6 0 46.4-2 .5-1.2 1.4 1.2 1.6 2 .6 0 28.4-4 .5-1.5 1.8 2.5 1.4 3 .1 0 22.5zM179.1 226.3l.5-2-.6-9.9-.5 9.9 .6 2zM69.3 229.3l-.1-14-.7 12 .7 2.6 .1-.6zM204 225.3l-.1-9.8-.7 5.8 .8 4zM176.1 223.3l-.1-6.9-.7 4.9 .7 2.9 .1-.9zM91.5 251.2l.1-16.9-1.5-16.5-1.6 14.5 .6 3.3 1-1.3 1.4 16.9zM216 239.3l.3-11-1.4-10.6-1.7 8.6 0 9 .7 2.7 1-1.7 1.1 3zM114.3 228.3l-.2-9.1-.6 7.1 .8 2zM112.2 235.3l.5-10-.6-5.5-.8 9.5 .9 6zM135.3 239.3l.5-11-.8-8.1-.7 5.1 .2 12 .8 2zM148.4 232.3l.6-12.7-1.4 4.7 .4 8.7 .4-.7zM262.9 234.3l.4-9-.5-4-1-.3-.6 10.3 .6 3.4 1 .3 .1-.7zM144.2 230.3l-.2-8.3 0 9 .2-.7zM186 226.3l.5-2-.6-2.7 .1 4.7zM221.9 230.3l.6-2-.6-6.9 0 8.9zM295.5 228.3l.2-4-1-1.6 0 6.6 .8-1zM75.2 229.3l-.1-4.7 .1 4.7zM117.1 228.3l0-2.2 0 2.2zM260 236.3l.4-6-.6-4.2-.5 7.2 .5 3.5 .2-.5zM264.8 233.3l.9-3-.9-4.9 0 7.9zM141.2 232.3l-.2-5.7 0 6.4 .2-.7zM174.3 234.3l.3-6-.6-1.7-.4 6.7 .4 1.5 .3-.5zM297.8 232.3l-.1-6-.5 4 .6 2zM212.1 234.3l-.2-6.1 0 6.6 .2-.5zM245.8 246.2l.6-13.9-.6-4.2-.6 13.1 .6 5zM100.2 234.3l-.1-3.9-1-2-.4 4.9 .4 1.3 1 .4 .1-.7zM167.1 241.2l.7-4.9-.8-8-.5 7 .6 5.9zM239 241.2l-.2-12.3-.4 10.4 .4 2.5 .2-.6zM223.9 238.3l0-8.1-.8 5.1 .8 3zM56.2 236.3l0-5.7-.6 3.7 .6 2zM130.2 236.3l-.2-4.9 0 5.6 .2-.7zM278.9 256.2l.4-20.9-.5-3.8-.7 5.8 .8 18.9zM68.2 244.2l.5-7.9-.5-3.3 0 11.2zM115.1 236.3l0-3.4 0 3.4zM139.1 241.2l-.1-8.1-.5 6.2 .6 1.9zM126.2 243.2l-.1-9.1-.5 7.1 .5 2.6 .1-.6zM301.8 246.2l-1.1-12.7-.3 8.7 1.3 4.9 .1-.9zM78.2 236.3l-.1-1.1 .1 1.1zM72.3 244.2l-.1-8.7 0 9.4 .1-.7zM164.3 240.3l-.3-4.2 0 5.1 .3-.9zM194.1 270.2l3.3-27-.5-7.8-1.5 6.8 .1 11-1.6 2.4-.4 2.6 .4 12.6 .2-.6zM290 240.3l-.3-5 0 5.5 .3-.5zM119.3 240.3l-.2-3.1 0 3.7 .2-.6zM63.3 263.2l2.2-8 .5-11-.8-5.2-1.9 13.2-1.1 .4-.4 2.6 .4 8 1.1 0zM79.2 247.2l-.1-8.2 .1 8.2zM122.5 257.2l1.1-14-.4-2.9-1.1-1.6-.6 17.5 .6 1.9 .4-.9zM151.1 246.2l.6-5.9-.7-2-.5 3.9 .6 4zM161.1 242.2l-.1-3.7 .1 3.7zM284 245.2l-.2-5.3-.7 3.3 .7 2.9 .2-.9zM223.2 252.2l-.3-11.1-.6 9.1 .6 3 .3-1zM137.2 250.2l-.2-8.3-.5 5.3 .7 3zM201.2 256.2l-.3-13.6-.6 2.6 .6 11.9 .3-.9zM269.8 246.2l0-3.8 0 3.8zM282.1 248.2l-.3-5.8-.6 2.8 .6 4 .3-1zM61.8 250.2l-.6-5.8 0 6.7 .6-.9zM106.1 251.2l1-.7 .3-3.3-.3-2.4-1-.5-.7 2.9 .7 4zM158.3 247.2l-.3-2.7 0 3.6 .3-.9zM210.9 251.2l0-6.3-.6 3.3 .6 3zM234.1 250.2l-.3-5.8 0 6.5 .3-.7zM259.9 256.2l-.1-11.2-.7 9.2 .8 2zM290.9 252.2l-.2-7.1 0 8 .2-.9zM87.3 253.2l-.2-7.5-.6 3.5 .6 5 .2-1zM250 253.2l-.2-6.7-.4 5.7 .6 1zM221 254.2l.5-4-.6-2.3 .1 6.3zM232.2 251.2l-.4-3.2 0 4.2 .4-1zM51.6 255.2l-.4-6.4 0 7.3 .4-.9zM133.2 251.2l-.2-2.4 0 3.1 .2-.7zM258.2 257.2l-.4-8.3-.5 5.3 .5 3.6 .4-.6zM204 251.2l-.1-1.1 0 1.9 .1-.8zM243 252.2l-.2-2.6 .2 2.6zM275.9 254.2l-.1-3.1 .1 3.1zM114.5 256.2l-.4-4.9 0 5.9 .4-1zM207.1 256.2l-.2-3.4 0 4.1 .2-.7zM174.3 259.2l-.3-5.4-.5 4.4 .5 1.6 .3-.6zM296.8 258.2l-.1-4.9 .1 4.9zM226.3 259.2l-.4-4.6 0 5.6 .4-1zM228.9 262.2l0-7.9-1 8.5 1-.6zM85.6 260.2l-.5-4.5 0 5.5 .5-1zM88.2 261.2l-.1-5.4-.6 3.4 .7 2zM154.1 259.2l-.1-3.9 .1 3.9zM273.2 259.2l-.4-3.3-.6 2.3 .6 2 .4-1zM130.1 260.2l-.1-3.7 .1 3.7zM165.3 262.2l-.3-5.5-.6 4.5 .6 2 .3-1zM245.1 261.2l-.3-4.4 0 5.2 .3-.8zM263.2 269.2l-.4-11.2 0 12.2 .4-1zM110.5 268.2l1-5-1.4-5 0 10.7 .4-.7zM116.4 262.2l-.3-2.4 0 3.4 .3-1zM161.2 262.2l-.2-2.1 .2 2.1zM240.2 261.2l-.4-1.4 0 2.2 .4-.8zM284.8 263.2l-.1-3.5 .1 3.5zM290.8 264.2l-.1-4.1 .1 4.1zM301.7 278.2l1-9.2 2.6-3.8-1.6-5.5-1 2.3-1-2.2-.5 1.4-.8 4 .3 7-2.7 3 .7 1.4 3 1.6zM149.5 263.2l-.5-2.5 0 3.3 .5-.8zM100.3 267.2l.8-4.9-1-1 .2 5.9zM126.2 265.2l-.1-3.1 .1 3.1zM250 270.2l.1-6-1.3-.6 1.2 6.6zM116.2 266.2l-.1-1.2-1-.1-.7 1.3 .7 .9 1.1-.9zM195.9 270.2l0-5.9-.7 2.9 .7 3zM53.2 268.2l0-2.8 0 2.8zM209 268.2l.5-1-.6-1.3-1.7 1.3 .7 1.1 1.1-.1zM252.1 271.2l-.3-5.6-.6 1.6 .6 5 .3-1zM61.2 270.2l1-3.2-4-.8 0 2.9 3 1.1zM228.9 270.2l0-3.5-1 .2-.4 1.3 .4 1.8 1 .2zM270.9 268.2l-.1-1.4 .1 1.4zM298.1 270.2l-.4-3.8 0 4.8 .4-1zM82.4 270.2l-.3-2.3-.4 1.3 .4 1.5 .3-.5zM164.1 272.2l-.1-4.9-.6 3.9 .7 1zM91.5 273.2l-.4-4.6 0 5.4 .4-.8zM260.3 275.2l-1.5-6-.6 6 .6 .9 1.5-.9zM286 272.2l1.1-2-1.4-1.1-1 .8 0 1.3 1.3 1zM70.6 275.2l.7-3-1.1-1.1-.3 4.1 .7 0zM107.5 276.2l1.2-2-1.6-3.7-1.4 1.7-.3 2 .7 1.8 1.4 .2zM197 276.2l.9-.2 .3-1.8-2.3-2.3-1.3 2.3 1.3 2 1.1 0zM173.8 275.2l.2-1.9-1-.2-.2 2.1 1 0zM61.3 278.2l-.1-4.8-.9 2.8 1 2zM100.4 275.2l-.3-1.2 0 2 .3-.8zM274.1 276.2l-.3-1.6-1-.4-.7 2 .7 .8 1.3-.8zM225 276.2l-.1-1.2 .1 1.2zM84.8 279.2l.3-2-2-1-.6 1 .4 2 1.2 .6 .7-.6zM130.2 278.2l.7-1-.9-1.3-1.2 1.3 1.4 1zM57.4 279.2l-.2-1 .2 1zM97.2 280.2l-1.1-1.1 0 1.8 1.1-.7zM137.2 279.2l-.2-.7 .2 .7zM247.3 286.2l1.2-3-1.7-2.1-1.5 1.1-.3 2 .8 1.8 1.5 .2zM308.8 285.2l.4-2-2.5-2.8-.3 4.8 1.3 .8 1.1-.8zM98.3 282.2l-.2-.7 0 1.5 .2-.8zM119.9 285.2l-.3-2-1.5-.1 .2 2.1 .8 .8 .8-.8zM64.5 284.2l-.3-.7 .3 .7zM84.6 284.2l-.5-.7 0 1.2 .5-.5zM139.3 286.2l-.3-2.5-2 .1 .2 2.4 .8 .7 1.3-.7zM285.8 288.2l1.1-2-1.2-2.6-1.4 .6-.7 2 1.1 2.9 1.1-.9zM162.1 288.2l1.5-1 .1-1-1.7-1-1 2 1.1 1zM204.4 291.2l.4-2-.9-3.1-2.1 2.1-.3 2 1.4 1.7 1.5-.7zM298.2 289.2l.8-2-1.3-1.7-1 .7-.2 2 1.7 1zM107.1 288.2l-1-1.7-.2 1.7 1.2 0zM173.4 290.2l.3-1-.7-.6-.7 .6 1.1 1zM184.2 294.2l.6-2-.9-2-1.5 2 .5 1.9 1.3 .1zM57.5 294.2l-1.3-1.3-.7 1.3 .7 .7 1.3-.7zM89.1 301.2l.4-2-1.4-1.1-1.3 2.1 1.3 1.4 1-.4zM110.1 304.1l.3-2-1.3-.2-.5 1.2 1.5 1zM174.1 304.1l1.3-1-.4-1.3-1-.2-1 1.5 1.1 1zM301.8 303.1l-1.1-1.6-1.1 .6-.1 1 1.2 1 1.1-1zM214 303.1l-.8 0 .8 0zM247.5 306.1l.3-1.2-1.6-.8-.4 2 1.7 0zM275 306.1l.6-1-.7-1-1.1 .3 0 1.6 1.2 .1zM73.8 309.1l.4-1-.8-1-1.2 .3-.1 1.7 1.7 0zM98.7 310.1l1.1-1-.4-2-2.3-.3-.8 2.3 2.4 1zM121.9 309.1l1-1-.3-1-1.5-.5-1.2 1.5 2 1zM194.3 308.1l-.4-1.4-1.7 .4 .7 2 1.4-1zM232 309.1l.5-1-1.7-1-.7 1 .5 1 1.4 0zM290 314.1l1-2-1.3-.9-.8 1.9 1.1 1zM53.9 319.1l1.1-3-.8-1.3-2-.4-1.5 1.7 .1 2 1.4 1.4 1.7-.4zM88.3 315.1l-1.2 0 1 .8 .2-.8zM178.3 315.1l-.3-.7-.9 .7 .9 .9 .3-.9zM138.5 319.1l-.1-2-1.4-.4-.6 2.4 .6 .6 1.5-.6zM306.7 320.1l0-2.9-2-.4-.8 1.3 .5 2 1.3 .6 1-.6zM246.3 321.1l1.1-2-.6-1-2-.4-1 2.4 1 1.1 1.5-.1zM104.1 322.1l1.2-2-1.2-1.2-1.6 1.2 .6 1.7 1 .3zM157.2 321.1l-1.2-1.7-1.5 .7 .5 1.7 2.2-.7zM210.4 321.1l.6-1-1.1-.4-.1 1.4 .6 0zM124.7 322.1l-.6-1.3-1.2 .3 .2 1.5 1 .3 .6-.8zM232.8 325.1l-1.1 0 1.1 0zM286.6 326.1l-.9-1.8-1.3 .8 .3 1.3 1.9-.3zM66.1 328.1l-.9-2.1-1.9 1.1 .9 1.8 1.9-.8zM191 329.1l-.1-1.3-2 .3 .4 1 1.7 0zM170.8 331.1l-.8-2.4-1.8 .4-.3 2 1.1 1 1.8-1zM143.5 334.1l1.1-2-.6-1.1-2-.4-1.2 2.5 1.2 1.2 1.5-.2zM300.6 333.1l-.9-2.1-1.6 1.1 .6 1.6 1.9-.6zM218.3 335.1l-.4-1.6-1.8 .6 .8 1.5 1.4-.5zM103.8 337.1l.7-2-1.4-.8-.9 1.8 1.6 1zM79 336.1l-.9-.8-.5 .8 .5 .7 .9-.7zM247.4 337.1l-.2-1-.9 0-.2 1 1.3 0zM233.2 342.1l-1.4-1.2-.6 1.2 .6 .9 1.4-.9zM288.5 341.1l-.8-.6-1 .6 1 .6 .8-.6zM61.3 342.1l-.7 0 .7 0zM181.2 342.1l-1.5 0 1.5 0zM197.8 343.1l.1-1.3-1.8 .3 .6 1 1.1 0zM263.8 343.1l-1-1.2-.7 1.2 .7 .7 1-.7zM117.1 347.1l-.2-2-2.2 0-.1 2 2.5 0zM133.1 349.1l1.1-2-2.2-1.3-1.5 1.3 .1 1 2.5 1zM282.3 356.1l-.5-1.7-.6 1.7 1.1 0zM89.7 358.1l.6-1-1.2-1.1-2.2 1.1 1.2 1.2 1.6-.2zM171.2 359.1l.5-1-.6-1-2.1 .3 .3 1.7 1.9 0zM130.6 365l.5-2-1.1-1-2 0-.9 1 .9 2.4 2.6-.4zM72.6 370l1.5-2-.9-1.3-2-.1-.9 2.4 2.3 1zM107.4 370l.6-2-.9-1-2-.3-1.9 1.3 .9 2.2 3.3-.2zM307.1 371l.6-2-1-1.5-2-.5-1.7 1-.5 2 1.2 1.6 2 .3 1.4-.9zM53.4 373l1.3-1 0-2-2.5-1.3-2 .7-.5 2.6 1.5 1.1 2.2-.1zM148.1 372l.8-2-1.9-1.3-1.3 2.3 1.3 1.2 1.1-.2zM258.9 372l.8-1-.9-1.5-2-.3-1.6 .8 .8 2 2.9 0zM186.8 372l.2-1-1.1-.6-2.2 .6 .1 1 1.1 .5 1.9-.5zM228.7 374l-.8-1.5-2.5 .5-.2 1 1.7 .9 1.8-.9zM292.2 385l.9-1-.2-1-2.2-1-3 .4-1.2 1.6 2.2 1.5 3.5-.5zM126.4 387l.3-1-1.6-1-3.2 1 1.2 1.4 3.3-.4zM83.8 389l.5-1-1.2-1-2-.1-1.3 1.1 1.3 1.4 2.7-.4zM56.6 393l.4-1-2.8-1.5-3 .4-1.2 1.1 2.2 1.8 4.4-.8zM258.6 394l2.6-1 .3-1-.8-1-4.9-.7-2.4 1.7 1.4 1.6 3.8 .4zM147.1 393l-1 0 1 0zM205.9 398l.6-1-2 0 1.4 1zM108.9 405l.2-1-2-1.2-3 .1-1.7 1.1 .2 1 2.5 .9 3.8-.9zM240.9 406l-.1-1.9-2-.8-2 .2-1.3 1.5 2.3 1.7 3.1-.7zM55.9 416l2.1-2-1.8-1.7-4-.3-2.7 2 2.7 2.2 3.7-.2zM291.4 415l1-2-2.7-1.9-4 .2-1.9 1.7 0 1 1.9 1.6 3 .3 2.7-.9zM210.1 423l1-1-2.6 0 1.6 1zM101.5 426.9l1.1-2-3.5-1.6-6 .1-3.1 1.5 .1 1.2 3 1.6 5 .1 3.4-.9zM245.9 433.9l.9-1-.6-1-3.4-1-4 .5-1.6 1.5 3.6 1.8 5.1-.8zM56.4 438.9l.6-1-1.8-.9-3.4 .9 1.4 1.3 3.2-.3zM124.1 439.9l-3.2 0 3.2 0z"/><path fill-rule="evenodd" fill="#575757" d="M309.7 452.9l-260.5 0 0-38.5 2 1.7 3 .5 3-.9 1.2-1.7-1.2-1.6-3-.8-3 .4-2 1.7 0-42.1 1 1.3 2 .7 2-.7 1.1-1.9-1.1-1.9-2-.6-2 .6-1 1.3 0-37.5 1.4-1.8-1.4-1 0-118.8 8.6 0 .4 5.9 .5-5.9 3.6 0 2.9 17 1.4-9 .1-8 2.4 0-.8 16 .9 3.6 .3-19.6 6.8 0 .8 6.3 1-6.3 2.6 0 .4 20.8 .9-5.8-.1-15 .7 0-.3 11 .8 1.5 .6-2.5-.3-10 3.5 0 1.2 6.2 .4-6.2 4.9 0 .7 23.8 .7-23.8 6.4 0 2.9 19 1-19 2 23.6 .7-5.6-.3-18 2.3 0 .3 2.3 .3-2.3 8.1 0 .6 3.9 .4-3.9 2.1 0 .5 8.2 .5-8.2 2.6 0 .9 19.6 1-13.3 .9 2.9 1-9.2 1 6.2 .8-6.2 2.3 0 1.9 29 1-10-1-19 8.5 0 .5 4 .2-4 11.1 0-.9 17 .6 10.1 1-3.1 .6-24 2 0 1.4 10.8 .5-10.8 2 0 .5 6.2 .6-6.2 1.4 0 1.6 29 .4 1.7 1-2.1 1 2.6 1.1-9.2 .4-22 8.2 0 .3 15.4 .8-2.4-.7-13 9.1 0 1.7 6.2 .9-6.2 2.7 0 .4 8 .5-8 1.9 0 .6 7.4 1-7.4 1 8.8 1-.5 .6-8.3 6.8 0 .6 34.6 1.5-12.6-.5-22 2.8 0 .2 3.7 .9-3.7 1.8 0-1.5 14-.1 10 .9 3.5 1-.9 1 2.3 .5-11.9-1.3-17 2.7 0 .1 .6 .1-.6 8.1 0 .1 13 1.7 17.7 .7-3.7 .1-27 3 0 1.1 11.1 .9-11.1 6.6 0 .5 12.9 1 .8 1-11.7 1 .9 .3-2.9 3.4 0 .3 10.4 .9-3.4-.3-7 2.4 0 1.2 22 .8 3.7 1-3.4 1 4.5 1.5-3.8 .5-11 1.6-4 .4-8 10.6 0 .4 16.1 3 5.8 1-15.9 .2 7 1.8 7 .7-20 1.3 15.8 .5-15.8 2 0 .5 15.7 .2-15.7 3.4 0 .3 5.9 .8-5.9 1.4 0 .8 24.5 .8-3.5 .3-21 9.3 0 .6 3.4 .7-3.4 4.1 0 .2 2.5 .5-2.5 .7 0 .8 11.5 .8-11.5 3.1 0-1.5 29.9 .6 7 1-7.6 0 105.8-1-.3-1.6 1 .6 1.2 2 0 0 45.6-2 .4-1.7 1.7 .7 1.3 3 1.1 0 27.9-4.8 .6-1.4 2 2.2 1.5 4 .3 0 22.2zM253.8 227.4l-1.4-16.1 3.2 0-1.8 16.1zM203.9 226.3l.7-8-.7-4.7-.8 5.7 .8 7zM176 225.3l0-10.8-.8 6.8 .8 4zM91.5 252.2l.7-1-.5-16.9-1.6-18.5-1.7 10.5-.1 6 .8 4.4 1-.9 1 16.8 .4-.4zM114.3 229.3l.5-3-.7-8.4-.7 8.4 .9 3zM148.2 233.3l1.2-9-.4-6.9-1.5 6.9 .7 9zM112.1 236.3l.7-9-.7-8.8-1 9.8 1 8zM262.8 236.3l.6-11-.6-6.4-1 0-.7 13.4 .7 4.4 1-.4zM144.1 231.3l-.1-11.2-.6 9.2 .7 2zM222 231.3l.6-3-.7-8.3-.6 8.3 .7 3zM295.3 229.3l.4-9.1-1 1.1-.5 4 .5 4.7 .6-.7zM186.1 226.3l.6-2-.8-3.8-.6 3.8 .8 2zM265 234.3l1.8-2.9 0-9.5-1 6.6-1-4.9-.6 7.7 .8 3zM75.3 230.3l-.2-7.9 0 8.6 .2-.7zM248.9 231.3l-.1-9 .1 9zM117.1 229.3l0-4.5 0 4.5zM259.8 239.3l.8-6-.8-9-.7 5 .7 10zM297.7 233.3l0-8.9-.6 4.9 .6 4zM141.1 233.3l-.1-7.9-.6 4.9 .7 3zM174.6 234.3l.2-6-.8-2.4 0 9.3 .6-.9zM212.2 235.3l.5-5-.8-4.3-.4 6.3 .7 3zM51.2 231.3l0-4.2 0 4.2zM100.2 235.3l.1-5-1.2-3.4-.6 6.4 .6 2.1 1.1-.1zM238.8 242.2l.6-5.9-.6-9.3-.6 6.3 .6 8.9zM246 246.2l.5-13.9-.7-5.9-.7 16.8 .7 3.6 .2-.6zM307.7 227.3l0-1 0 1.8 0-.8zM223 253.2l0-13.9 .9-.3 .4-2.7-.4-7.4-1.7 16.3-.1 6 .8 2.6 .1-.6zM279 256.2l.5-20.9-.7-6.4-.8 9.4 .3 16.9 .5 1.6 .2-.6zM56.3 236.3l-.1-6.6-.7 4.6 .7 2.5 .1-.5zM284.8 232.3l-.1-2.5 0 3.4 .1-.9zM130.1 237.3l-.1-7 .1 7zM68.4 244.2l.5-7.9-.7-4.7-.7 9.6 .7 3.8 .2-.8zM115.3 237.3l-.2-5.9-.4 3.9 .6 2zM168 234.2l0-2.6 0 2.6zM301.8 249.2l.6-6-1.7-11.7-.5 9.7 1.6 8zM126.3 243.2l-.2-10.9-.6 8.9 .6 3 .2-1zM139.3 241.2l.4-5.9-.7-2.9-.6 6.9 .6 2.9 .3-1zM79.3 248.2l.8-4-2-10.6 1.2 14.6zM290 241.2l-.3-7.5-.6 4.6 .6 3.6 .3-.7zM72.4 245.2l.5-5.9-.7-5-.8 1 .8 10.8 .2-.9zM198.2 276.2l.2-2-2.4-3 .5-4-.8-5 1.8-19-.6-8.7-1.7 7.7-.1 11-1.7 4-.1 10 .6 4.8 1-6.5 .9 5.7-1.4 2 .2 2 1.3 1.2 2.3-.2zM164.2 241.2l-.2-5.6-.5 3.7 .7 1.9zM119.4 240.3l-.3-3.6 0 4.5 .3-.9zM63.2 264.2l2.4-8 .5-12-.9-6.7-2 14.3-1-1.3-1-6.6-.5 2.3 1.5 18.7 1-.7zM122.2 258.2l1.6-15-.3-2.9-1.4-2.4-.8 3.3 .1 15 .8 2zM151.1 247.2l1-7.9-1.1-1.9-.7 4.8 .8 5zM161.2 242.2l-.2-4 0 4.7 .2-.7zM283.9 246.2l.5-4-.6-3.1-.8 4.1 .9 3zM176 244.2l-1-4 0 4.4 1 .4 0-.8zM137.4 250.2l-.4-9.1-.7 4.1 .7 5.9 .4-.9zM201.1 257.2l.4-10-.6-5.3-.8 3.3 1 12zM270.1 246.2l-.3-4.8 0 5.5 .3-.7zM282.1 249.2l.4-5-.7-2.6-.7 4.6 .7 3.8 .3-.8zM58.4 244.2l-.2-1.9 0 2.8 .2-.9zM106.1 252.2l1-.6 .5-2.4-.5-6-1 0-.9 3 .9 6zM158.1 248.2l-.1-4 .1 4zM234.2 250.2l-.4-6.4-.5 4.4 .5 2.9 .4-.9zM259.8 257.2l.7-9-.7-4.7-.8 10.7 .2 3 .6 0zM88.3 261.2l-1.2-16.3-.8 5.3 1.1 10 .7 1.6 .2-.6zM211.1 251.2l-.2-6.9-.8 4.9 .8 2.8 .2-.8zM290.7 255.2l.6-7-.6-3.8-.6 3.8 .6 7zM218.1 247.2l-.2-1.6 0 2.5 .2-.9zM250.2 253.2l-.4-7.3 0 8.2 .4-.9zM51.4 256.2l-.2-8.1-.5 6.1 .7 2zM221.3 254.2l.3-4-.7-2.9 0 7.8 .4-.9zM232 252.2l-.2-4.6 .2 4.6zM133.1 252.2l-.1-3.8 .1 3.8zM258.4 258.2l.1-7-.7-2.8-.5 6.8 .4 3 .7 0zM204 252.2l-.1-2.6 .1 2.6zM243.1 252.2l-.3-2.9 0 3.7 .3-.8zM114.2 257.2l-.1-6.4-.5 4.4 .6 2zM276 254.2l-.2-3.5 0 4.2 .2-.7zM207.3 256.2l-.4-3.9 0 4.9 .4-1zM297 258.2l-.3-5.4 0 6 .3-.6zM169.1 256.2l-.1-2.6 0 3.3 .1-.7zM174.4 259.2l-.4-5.8-.6 3.8 .6 2.8 .4-.8zM228.6 263.2l.8-4-.5-5.5-1.3 6.5 .3 3.8 .7-.8zM154.1 259.2l-.1-4.2-.5 3.2 .6 1zM226 260.2l-.1-5.9-.7 3.9 .8 2zM85.3 261.2l.4-4-.6-1.9-.5 3.9 .7 2zM223.2 257.2l-.3-1.1-1 1.1 1 .8 .3-.8zM272.9 260.2l-.1-4.5-.8 2.5 .9 2zM130.3 260.2l-.3-3.9-.4 2.9 .7 1zM165.1 263.2l-.1-6.9-.8 4.9 .9 2zM244.9 262.2l-.1-5.9 .1 5.9zM110.2 269.2l1.4-5-1.5-6.5-.6 2.5 .7 9zM262.9 270.2l.6-9-.7-3.6-.5 10.6 .6 2zM301.9 278.2l.8-8.1 2.8-5.9-1.8-5.1-1 2.2-1-2.5-1.4 5.4 .2 8-2.7 3 .9 1.7 3.2 1.3zM116.2 263.2l-.1-3.6 0 4.5 .1-.9zM162 262.2l-1-2.4 0 3.3 1-.9zM240.3 261.2l-.5-1.7 0 2.7 .5-1zM284.9 263.2l-.2-3.8-.5 2.8 .7 1zM290.9 264.2l-.2-4.8-.4 3.8 .6 1zM100.3 268.2l1-6-1.2-1.1-.7 1.1 .9 6zM149.6 263.2l-.6-2.8 0 3.8 .6-1zM126.3 265.2l-.2-3.5-.6 2.5 .6 1.6 .2-.6zM282.9 264.2l-.1-2.7 0 3.2 .1-.5zM250.3 270.2l.1-6-.6-1-1 0-.5 2 1.5 6 .5-1zM53.3 268.2l-.1-3.1-.5 2.1 .6 1zM115.6 267.2l.5-2.9-2 1.9 1.5 1zM209.3 268.2l.6-3.9-3 2.9 1 1.3 1.4-.3zM251.9 273.2l.7-4-.8-4.1-.8 2.1 .9 6zM61.5 270.2l.9-2-.2-2.8-2 1.1-2-.6 0 3.6 3 1.6 .3-.9zM164.2 272.2l-.2-6-.7 5 .7 1.7 .2-.7zM297.9 271.2l-.2-5.3-.6 3.3 .8 2zM229.1 270.2l.1-3-1.3-.9-.5 2.9 .5 1.1 1.2-.1zM271 268.2l-.2-1.7 .2 1.7zM82.5 270.2l-.4-2.7 0 3.4 .4-.7zM91.1 274.2l.7-5-.7-1.1 0 6.1zM259.8 276.2l.8-2-1.8-5.5-.7 6.5 .7 1.2 1-.2zM286.6 272.2l.8-2-1.7-1.4-1 .4 0 2.6 1.9 .4zM295.9 271.2l-.2-1.2 .2 1.2zM70.8 275.2l.6-3-1.2-1.4-.4 4.4 .4 .7 .6-.7zM107.9 276.2l.9-3-1.7-3-1.1 1-.7 3 .8 2 1.8 0zM61.4 278.2l-.2-5.8-1 3.8 1 2.7 .2-.7zM174.1 275.2l0-2-1.1-.4-.5 2.4 1.6 0zM100.1 276.2l0-2.8 0 2.8zM274.2 276.2l-.4-1.8-1.3-.2-.6 1 .9 1.9 1.4-.9zM225.1 276.2l-.2-1.5 0 2 .2-.5zM85.1 279.2l0-2.3-2-1-.8 1.3 .4 2 1.4 .9 1-.9zM130.6 278.2l.4-2-1-.6-1.2 .6 .2 2 1.6 0zM251.9 277.2l-.1-1.7 0 2.3 .1-.6zM104.3 277.2l-.2-.8 0 1.4 .2-.6zM57.6 279.2l-.4-1.4 0 2 .4-.6zM137.3 279.2l-.3-1 0 1.5 .3-.5zM155 279.2l0-1.6-.6 .6 .6 1zM98.2 283.2l-.1-2.3-1-1.9-1-.2-.1 2.4 1.1 0 1.1 2zM133 281.2l0-1.6 0 1.6zM279.8 280.2l0-.7 0 .7zM307.8 286.2l1.3-1 .3-2-2.7-3.1-.8 4.1 .8 1.7 1.1 .3zM247.7 286.2l.9-3-1.8-2.4-1.7 1.4-.3 2 1 2.1 1.9-.1zM119.2 286.2l.9-2.4-1-1.4-1 0-.1 2.8 1.2 1zM139.5 286.2l-.5-2.8-2 .1 0 2.7 1 1 1.5-1zM159 284.2l0-1.1 0 1.1zM64.6 284.2l-.4-.9-.4 .9 .8 0zM84.7 284.2l-.6-.8 0 1.4 .6-.6zM284.9 289.2l2.2-3-1.4-2.8-1.6 .8-.7 2 .4 2 1.1 1zM162.7 288.2l1.3-2-2-1.3-1.2 2.3 .4 1 1.5 0zM107.1 289.2l.1-2-1.1-1.1-.5 2.1 1.5 1zM204.6 291.2l.4-2-1.1-3.4-2.3 2.4-.3 2 1.6 1.9 1.7-.9zM298.6 289.2l.6-2-1.5-1.9-1.1 .9-.3 2 1.4 1.5 .9-.5zM173.7 290.2l.3-1-1-.8-.9 .8 .3 1 1.3 0zM184.4 294.2l.5-2-1-2.2-1.3 1.2-.2 2 .5 1.1 1.5-.1zM274 291.2l-.2-.6-1.2 .6 1.4 0zM57.7 294.2l-.2-1-1.3-.5-.9 1.5 .9 .9 1.5-.9zM89.4 301.2l-.3-3-2 .2-.1 2.8 1.1 .6 1.3-.6zM162.7 300.2l-.7-1.2-.4 1.2 1.1 0zM110.4 304.1l.2-2-1.5-.4-.7 1.4 .5 1 1.5 0zM174.9 304.1l.5-2-1.4-.7-1.2 1.7 1.2 1.3 .9-.3zM301.2 304.1l.7-2-1.2-.9-1.4 1.9 1.9 1zM214.3 303.1l-.4-.9-1.3 .9 1.7 0zM247.9 306.1l-.2-2-1.9-.1 0 2.5 1 .4 1.1-.8zM275.3 306.1l0-2-1.5 0-.2 2 1.7 0zM74 309.1l-.3-2-1.5 0-.3 2 2.1 0zM99.2 310.1l.7-1-.3-2-2.5-.5-.9 2.5 .9 1.1 2.1-.1zM122.3 309.1l.6-2-1.8-.6-1.1 .6 .5 2 1.8 0zM194 309.1l.5-2-1.6-.9-1.1 1.9 1.1 1.2 1.1-.2zM232.3 309.1l-.2-2-1.7 0-.1 2 2 0zM290.6 314.1l.6-2-1.5-1.1-1 2.1 1 1.4 .9-.4zM54.3 319.1l.9-3-1-1.6-2-.3-1.7 1.9 .1 2 1.6 1.6 2.1-.6zM178.2 316.1l-.2-2.1-1.2 1.1 1.4 1zM88.4 316.1l-.3-1.6-1 .1-.1 1.5 1.4 0zM138.7 319.1l-.7-2.5-1.7 .5-.3 1.4 1 1.4 1.7-.8zM306.9 320.1l0-3-2.2-.6-1 1.6 .4 2 1.6 .9 1.2-.9zM246.7 321.1l.8-1-.4-2-2.3-.6-1.2 2.6 1.2 1.3 1.9-.3zM104.6 322.1l.9-2-1.4-1.4-1 .2-.7 2.2 .7 1 1.5 0zM156.2 322.1l1.2-1-.1-1-2.3-.7-.8 1.7 2 1zM211 321.1l-.1-1.7-1-.1-.5 1.8 1.6 0zM124.1 323.1l.6-2-1.6-.4-.6 1.4 1.6 1zM286.9 326.1l-1.2-2.1-1.6 1.1 .6 1.6 1 .3 1.2-.9zM233.2 325.1l-1.4-.6-.4 .6 .4 .8 1.4-.8zM65.3 329.1l1.2-2-1.3-1.4-1 .1-1 2.3 2.1 1zM191.3 329.1l-.4-1.6-2.3 .6 1.3 1.5 1.4-.5zM170.2 332.1l.9-2-2.1-1.7-1.1 .7-.2 2 1.3 1.2 1.2-.2zM143.9 334.1l.8-1-.3-2-1.4-.8-2 .8 0 2.8 1 .6 1.9-.4zM300.9 333.1l-1.2-2.3-1.8 1.3 .8 1.8 2.2-.8zM104.3 337.1l.4-2-1.6-1.1-1.1 2.1 1.1 1.4 1.2-.4zM218.6 335.1l-.7-1.8-2 .8 1 1.7 1.7-.7zM78.3 337.1l1-1-1.2-1.1-.8 1.1 1 1zM247.7 337.1l-.9-1.5-.8 .5-.2 1 1 .7 .9-.7zM287.8 342.1l1.1-1-1.2-1-1.4 1 1.5 1zM232.6 343.1l.4-2-1.2-.4-.8 1.4 1.6 1zM61.6 342.1l-.4-.8-1.2 .8 1.2 .8 .4-.8zM181.4 342.1l-.5-.9-1.4 .9 .4 1 1.5-1zM198.3 343.1l.4-1-.8-.6-2.2 .6 1.2 1.3 1.4-.3zM264 343.1l-1.2-1.4-1 1.4 1 .9 1.2-.9zM117.3 347.1l.4-1-1.6-1.6-2.2 1.6 1.2 1.6 2.2-.6zM133.5 349.1l.9-1-.4-1.7-1-.7-2 .3-.7 1.1 .7 1.9 2.5 .1zM282.7 356.1l.1-1.2-1-.8-1 .8 1 1.8 .9-.6zM90 358.1l.5-1-1.4-1.2-2.4 1.2 1.4 1.4 1.9-.4zM171.4 359.1l0-2-2.4 0 0 2 2.4 0zM244.2 359.1l-1.5 0 1.1 .6 .4-.6zM130.9 365l.4-2-1.3-1.3-2 .1-1.1 1.2 1.1 2.6 2.9-.6zM208.2 363l-.3-1.3-1 .4 .1 .9 1.2 0zM73.3 370l.9-1-.4-2-2.6-.6-1.3 2.6 1.3 1.3 2.1-.3zM107.7 370l.6-2-1.2-1.2-2-.3-2.1 1.5 1.1 2.4 2 .4 1.6-.8zM305.9 372l1.6-1 .5-2-1.3-1.8-2-.4-2 1.2-.5 2 1.5 1.8 2.2 .2zM148.4 372l.7-1-.6-2-2.5 0-.5 1 .5 1.8 2.4 .2zM259.2 372l.8-1-1.2-1.7-2-.3-1.9 1 .9 2.2 3.4-.2zM187.2 372l.1-1-1.4-.8-2.5 .8 .1 1 1.4 .7 2.3-.7zM227.1 375l1.8-.8 0-1.2-3-.6-.9 1.6 2.1 1zM292.7 385l.6-2-2.6-1.2-3 .3-1.5 1.9 2.5 1.8 4-.8zM126.7 387l.3-1-1.9-1.2-3.5 1.2 1.5 1.6 3.6-.6zM84.2 389l.5-1-1.6-1.3-2 0-1.7 1.3 1.7 1.7 3.1-.7zM55 394l2.2-1 .3-1-1.3-1.2-4-.5-2.7 1.7 1.7 1.8 3.8 .2zM259.8 394l2.2-2-2.2-1.7-4-.2-2.8 1.9 1.8 1.8 5 .2zM147.1 394l.7-1-2.6 0 .6 1 1.3 0zM207 398l.2-1-1.3-.7-1.9 .7 .9 1.2 2.1-.2zM107.2 406l2.1-1 .2-1-1.4-1.1-4-.2-2.1 1.3 1.1 1.6 4.1 .4zM241.3 406l-.1-2-2.4-1-3 .7-.7 1.3 .7 1.2 2 .8 3.5-1zM289.9 416l2.9-2-.7-2-1.4-.8-4-.4-3.4 2.2 1.4 2.4 5.2 .6zM211.2 423l.5-1-.8-.7-2.9 .7 .9 1.1 2.3-.1zM98.9 427.9l3.2-1 1.1-2-3.1-1.6-4-.4-4 .5-2.7 1.5 .7 1.8 2 1 6.8 .2zM243.7 434.9l3.1-1 .8-1-.5-1-6.3-1.3-3 .7-1.4 1.6 2.4 1.8 4.9 .2zM57.6 438.9l.5-1-2.9-1.4-3 .3-1.4 1.1 2.4 1.7 4.4-.7zM124.3 440.9l1.3-1-3.5-.8-2.6 .8 1.6 1.1 3.2-.1z"/><path fill-rule="evenodd" fill="#636363" d="M309.7 452.9l-260.5 0 0-37.6 2 1.2 4 .2 3-1.3 .7-1.4-.7-1.2-3-1.4-3 0-3 1.3 0-19.8 2 1.3 3 .3 3-.9 .8-1.6-3.8-1.9-3 .2-2 1.3 0-19.2 2 1.4 2-.1 1.4-.7 1.1-2-2.5-2.7-2 0-2 1.3 0-36.3 1-.4 .7-1.8-1.7-1.3 .2-118.5 1.6 0 .2 2.3 .4-2.3 6 0 .6 9 .8-9 .8 0 .4 8 .2-8 1.8 0 2.6 25-1.6 14.5-2-7.4-.6 2.8 1.2 19-1.6 1-2-.7-.4 1.7 .4 2.8 2.1 2.2-.3 5 1.2 2.4 .7-3.4-.4-5 4.3-15 .7-12-.9-9.9 1.4-23 1.8 0-1.4 25 .8 9.5 1.6-18.5 .4-16 3.5 0 .5 2.8 1.1-2.8 .9 0 .9 8.8 1.2-8.8 2.2 0 .6 23.3 2.7-13.3-.2-10 3.1 0 1.5 24 1.9 3.8 1 14.7 1.2-2.6-2.1-39.9 3 0 .2 20 .7 5 1-25 2.9 0 .1 1 1 .4 .6-1.4 1.4 .7 2 19 1 2 1-18.1 1.9 24.4-2.3 7.9 1.4 6 1.1-1 .7-4-.8-7.9 .8-11-.2-18 2 0 .4 4.6 .5-4.6 7.8 0 .7 5.8 .5-5.8 1.9 0 .6 10.2 .6-10.2 2.3 0 .8 20-.4 10.9 .7 2.7 1-23.6 .9 1.6 1-6.2 1 6.6-.5 11 .5 4 .5-2-.4-13 .8-12 2 0 2.1 29.8 .9-1.8 .6-10-1.2-18 5.4 0 .3 4.5 .3-4.5 2 0 0 18 .7 2.6 .3-20.6 3.6 0-.6 14 .7 9.1 1.6-10.1-.9-13 6.4 0-.8 18 .7 9.7 1.2-3.7 .6-24 1.6 0 1.6 12.3 .6-12.3 1.8 0 .6 7.7 .7-7.7 1.1 0 1.7 29 .5 2.6 2 1.8 1.3-10.4 .4-23 5.1 0-.7 11 .9 5.7 0-16.7 2.1 0 .9 15.6 .9-2.6-.6-13 8.5 0 .6 5 1.5 3.4 1.2-8.4 2.3 0 .5 10.1 .6-10.1 1.7 0 .7 10.7 1-3.9 1 4.4 1-.5 .7-10.7 3 0-.7 10 1 6.8 .8-7.8-.5-9 3 0 0 31.9 .7 3.4 .9-2.4 .7-10.9-.4-22 2.4 0 .4 25.9 1-1.9 1 4.7 2 1.1 .6-3.8-.4-26 1.3 0 .5 2.9 .3-2.9 7.6 0 1.2 27 .9 4.9 .8-4.9 .2-27 2.6 0 1.3 13.8 1.1-13.8 6.3 0 .6 16 1 1.3 1-12 1-.2 .6-5.1 2.9 0-.1 6 1.6 16.5 .8-4.5-.9-18 1.7 0 1.5 23 .9 4.4 1-1.3 1 2.4 1-1.2 .7-4.3 .3-8.6 2.2-4.4 .1-10 10.1 0 .6 19.2 1 3.7 2 .8 1-13.2 .6 7.5 1.4 3.8 1-11.8 2 35.8 .8-21.8-1-10-.1-14 1.4 0 .1 14 .8 4 .5-18 2.9 0 .5 9 1-7.6 1 .8 1 23.7 .9-4.9 .4-21 8.8 0 .9 5 1.1-5 3.5 0 .4 3.9 1.1-3.9 .9 14.8 .9-14.8 2.7 0-1.4 31.9 .8 5.9 1-3.9 0 100.9-2 0-.9 1 .9 1.5 2 0 0 45-3 .8-1.1 1.6 1.1 1.7 3 1 0 27.2-5 .6-1.9 1.4 0 1 2.9 1.8 4 .3 0 21.9zM82.1 215.6l0-4.3 0 4.3zM89.1 218.1l-.1-6.8 .7 0-.6 6.8zM253.8 223.1l-1-11.8 2.4 0-1.4 11.8zM137.1 222.3l-.1-7.9 .1 7.9zM112.1 237.3l.8-10-.8-11.4-1.1 12.4 1.1 9zM115.4 238.3l.5-6-1.8-17-.8 12 1.8 11.9 .3-.9zM295.4 230.3l.8-5-.5-9.2-1.6 9.2 .6 5.4 .7-.4zM75.3 232.3l.5-6-.7-9.8 0 16.7 .2-.9zM262.9 238.3l.6-8-.7-14-1 .3-.9 15.7 .5 6 .4 .8 1.1-.8zM223.2 258.2l1.2-25.9-.5-5.4-1 5.4-1-14.8-.6 10.8 1.2 7-.5 15.9 .7 4-1.2 0 .2-6-.8-2.6-.7 5.6 1.5 6 1.5 0zM182 220.3l-.1-1.5 0 2.3 .1-.8zM186.1 226.3l.7-3-.9-4.8-.7 5.8 .9 2zM266.1 235.3l1-5-.3-11.5-1 6.7-1-3.6-.7 6.4 .7 7.4 1.3-.4zM52.3 240.3l-1.1-19.2-1.1 9.2 2.1 10.6 .1-.6zM187.9 225.3l0-4.4 0 4.4zM141.1 234.3l.5-4-.6-8.4-.7 8.4 .8 4zM297.8 234.3l-.1-12.2-.7 7.2 .8 5zM100.2 236.3l.4-5-1.5-8.3-.7 11.3 .7 2.5 1 .2 .1-.7zM117.2 230.3l-.1-7.5-.8 5.5 .8 2.8 .1-.8zM259.6 258.2l.9-4 .2-19.9-.9-11.7-.8 6.7 .5 12.9-.7 13.2-1-7.8-.7 3.6 .3 7 .4 .9 1.8-.9zM307.8 230.3l-.1-6.4 .1 6.4zM176 248.2l-1.1-20.9-.9-2.9-.5 8.9 1.2 4 0 7.9 1.3 3zM239 242.2l.5-8.9-.7-8.1-.8 8.1 .8 9.8 .2-.9zM245.9 247.2l.7-14.9-.8-7.7-.8 17.6 .9 5zM284.8 235.3l-.1-8.3 0 8.9 .1-.6zM301.9 251.2l.8-10.2-1-1.4-2-13.2 .4 15.8 1.6 9.7 .2-.7zM56.2 237.3l0-9.6-.9 6.6 .9 3zM305.7 237.3l0-9.6 0 9.6zM79.3 249.2l1-6-2.2-13.3-.2 6.4 1.4 12.9zM218.9 234.3l0-4.4 0 5.1 0-.7zM72.2 247.2l.9-8.9-.9-6.7-1-.6 1 16.2zM139.3 242.2l.5-6.9-.8-4.2-.8 8.2 .8 3.7 .3-.8zM198.7 276.2l-.1-2-2.3-3-.3-10 1.6-18-.7-11.1-1.7 9.1-.3 11.2-1.6 4.8-.2 10 1.2 8 1.6 1.4 2 .4 .8-.8zM291 264.2l.4-16-1.7-16-.8 6.1 1.2 5.9 .1 19 .5 1.6 .3-.6zM234.9 238.3l-.1-4.5 .1 4.5zM164.3 241.2l-.3-6.7-.6 4.8 .6 2.9 .3-1zM119.2 241.2l-.1-5.1-.6 3.2 .7 1.9zM151.3 247.2l.9-7.9-.2-2.9-1-.8-.9 6.6 .9 5.9 .3-.9zM122.6 258.2l1.4-16-.4-2.9-1.5-2.6-.9 4.5 0 15 .9 2.6 .5-.6zM161.3 242.2l-.3-4.7 0 5.7 .3-1zM270 247.2l.5-3-.7-6-.4 7 .6 2zM283.8 247.2l.7-5-.7-4.6-.9 5.6 .9 4zM137.4 251.2l.4-6-.8-5.3-.8 7.3 .8 4.5 .4-.5zM282.2 250.2l.4-6-.8-4-.9 6 .9 4.7 .4-.7zM201.2 257.2l.4-12-.7-4-.9 4 .9 12.8 .3-.8zM58.4 245.2l-.2-3.9 0 4.5 .2-.6zM98.1 245.2l0-3 0 3zM233.9 251.2l.6-5-.7-3.1-.6 6.1 .7 2zM88.1 262.2l.5-6-1.5-12.3-1.1 5.3 1.1 11 1 2zM158.2 248.2l-.2-4.4 0 5.1 .2-.7zM211 252.2l-.1-8.8-1 6.8 .4 2 .6 .6 .1-.6zM218.3 248.2l-.4-3.7 0 4.5 .4-.8zM250 254.2l.5-5-.7-4.1-.6 7.1 .8 2zM232.2 252.2l-.4-5.1-.4 4.1 .4 1.6 .4-.6zM51.6 256.2l-.4-8.9-.6 6.9 .6 2.7 .4-.7zM133.2 252.2l-.2-4.3-.6 2.3 .8 2zM204.2 252.2l-.3-3.2 0 4 .3-.8zM242.9 253.2l.5-2-.6-2.5-.5 2.5 .6 2zM103.4 252.2l-.3-2.9 0 3.4 .3-.5zM114.4 257.2l-.3-7-.6 6 .6 1.5 .3-.5zM276.1 254.2l-.3-4 0 5 .3-1zM169.1 257.2l-.1-5.4-.5 3.4 .6 2zM207.1 257.2l-.2-5.4-.6 3.4 .8 2zM174 260.2l.6-5-.6-2.3-.7 4.3 .7 3zM229.2 270.2l.4-2-1.4-3 1.3-6-.6-6.1-1.4 5.1-.3 10 .7 2.3 1.3-.3zM296.8 259.2l.7-3-.8-3.8 .1 6.8zM306 254.2l-.3-1.7 0 2.6 .3-.9zM226.2 260.2l.4-4-.7-2.4-.8 4.4 .8 2.7 .3-.7zM85.5 261.2l.4-4-.8-2.4-.5 5.4 .5 1.7 .4-.7zM154.2 259.2l-.2-4.6-.5 3.6 .5 1.5 .2-.5zM130.4 260.2l-.4-4.3-.5 3.3 .5 1.8 .4-.8zM164 273.2l.3-9 .7-.1 .6-2.9-.6-5.5-1.9 13.5 .9 4zM245 262.2l-.2-6.6-.6 4.6 .8 2zM273 260.2l-.2-4.8-.9 2.8 1.1 2zM110.5 269.2l1.2-6-1.6-6.1-.7 9.1 .7 3.7 .4-.7zM263.1 270.2l.5-9-.8-4.1-.6 11.1 .6 2.7 .3-.7zM138.4 259.2l-.4-1.6 0 2.4 .4-.8zM302.1 278.2l.9-8 2.7-6-1.5-5-.5-.8-1 2-1-3.1-1.4 5.9 0 9-2.6 1.7-.2 1.3 1.2 1.9 3 1.8 .4-.7zM240 262.2l-.2-3.1-.5 2.1 .7 1zM285 263.2l-.3-4.1-.6 3.1 .6 1.7 .3-.7zM116.1 267.2l0-7.9-.5 3.9-1.7 3 1.2 1.4 1-.4zM149.2 264.2l.6-2-.8-2.1-.5 2.1 .7 2zM162 267.2l.4-6-1.4-1.8-.3 2.8 1.3 5zM214.1 261.2l-.2-1.4 0 2.2 .2-.8zM100.2 269.2l.9-1.5 .4-4.5-.4-2-1-.4-.9 1.4 1 7zM282.8 265.2l0-4.7 0 4.7zM126.4 265.2l-.3-3.9-.7 2.9 .7 1.9 .3-.9zM209.6 268.2l.3-5.9-3.2 4.9 1.2 1.5 1.7-.5zM250.2 271.2l.4-7-.8-1.5-1 .1-.8 2.4 1.4 6 .4 .6 .4-.6zM81.6 265.2l-.5-1.4-1 .2 0 1.2 1 .6 .5-.6zM120.1 265.2l0-1.6 0 1.6zM53.4 268.2l-.2-3.4-.6 2.4 .6 1.6 .2-.6zM251.9 278.2l.8-9-.9-4.6-.9 2.6 1 11zM297.7 272.2l.6-4-.6-3-.7 4 .7 3zM271.1 268.2l-.3-2 0 2.7 .3-.7zM82.6 270.2l-.5-3.1-.6 2.1 .6 1.9 .5-.9zM194.9 272.2l0-5.2 0 5.2zM91.3 274.2l.8-5-1-1.5-.7 1.5 .1 4 .8 1zM239 270.2l-.2-1 .2 1zM260.1 276.2l.5-3-1.8-4.9-.9 6.9 .9 1.4 1.3-.4zM287 272.2l.2-3-2.5-.6-.6 1.6 .6 2 1 .6 1.3-.6zM108.2 276.2l.8-3-1.9-3.4-1.7 2.4-.1 3 1.8 1.7 1.1-.7zM295.8 272.2l-.1-2.7 .1 2.7zM70.9 275.2l.5-3-1.2-1.8-.5 4.8 .5 .9 .7-.9zM100.3 276.2l-.2-3.5-.5 2.5 .7 1zM174.3 275.2l-.3-2.5-2 .5 1 2.7 1.3-.7zM247.9 274.2l-.1-1.1 .1 1.1zM273.9 277.2l.5-2-1.6-1.4-1 2.4 1 1.1 1.1-.1zM51.4 275.2l-1.3 0 1.3 0zM225.2 276.2l-.3-1.8 0 2.6 .3-.8zM84.4 280.2l1.1-3-1.4-1.6-1 .1-.9 2.5 .9 1.8 1.3 .2zM104.1 278.2l0-2.4 0 2.4zM131.1 278.2l-.1-2.6-1-.3-1.6 .9 .6 2.2 2.1-.2zM264.8 278.2l0-1 0 1zM293.9 277.2l-.2-.7 .2 .7zM57.7 279.2l-.5-1.7 0 2.5 .5-.8zM137.4 279.2l-.4-1.3 0 2 .4-.7zM155.3 279.2l-.3-1.8-.9 .8 1.2 1zM98.3 283.2l-.2-3-1-1.6-1 0-.3 2.6 2.5 2zM280 280.2l-.2-1.3 .2 1.3zM133.2 281.2l-.2-1.9 .2 1.9zM308.4 286.2l1.1-3-2.8-3.5-.8 5.5 .8 1 1.7 0zM248 286.2l.6-4-1.8-1.7-1.9 1.7-.4 2 1.3 2.4 2.2-.4zM119.7 286.2l.4-2.9-2-1.4-.3 3.3 1.3 1.4 .6-.4zM64.7 284.2l-.5-1.2-.5 1.2 .5 .7 .5-.7zM139.1 287.2l.6-3-1.7-1.5-1 .5-.6 2 1.6 2.3 1.1-.3zM159.2 284.2l-.2-1.4 .2 1.4zM167.1 283.2l-.1-.6 .1 .6zM285.3 289.2l2-3-1.6-3.1-1.9 1.1-.6 2 .6 3 1.5 0zM84.8 284.2l-.7-1 0 1.7 .7-.7zM163.2 288.2l1.1-2-2.3-1.5-1.4 1.5 .3 2 1.1 .6 1.2-.6zM298.9 289.2l.5-2-1.7-2.1-1.3 1.1-.2 2 1.5 1.7 1.2-.7zM107.3 289.2l-.2-3-1-.4-.8 2.4 2 1zM203.8 292.2l1.4-3-1.3-3.7-2.8 3.7 .8 2.6 1.9 .4zM174.1 290.2l.1-1-1.2-1-1 .8 1 1.7 1.1-.5zM184.6 294.2l.5-2-1.2-2.4-1.5 1.4-.1 2 .6 1.3 1.7-.3zM274.2 291.2l-.4-1.1-1.4 1.1 1.4 .8 .4-.8zM57.3 295.2l.5-2-1.6-.7-1.1 1.7 1.1 1.1 1.1-.1zM73.9 295.2l-1 0 1 0zM238.8 297.2l-.1-1-1.1 0 .2 1.1 1-.1zM89.6 301.2l-.2-3-2.3-.2-.4 3.2 1.4 .8 1.5-.8zM163.1 300.2l-.3-1-1.3 0 .5 1.8 1.1-.8zM288.8 299.2l-1.1 0 1.1 0zM150.1 301.2l-.1-1.6 .1 1.6zM301.7 304.1l0-2.6-2-.2-.7 1.8 .5 1 2.2 0zM110.7 304.1l.2-2-1.8-.6-.9 1.6 .5 1 1.4 .6 .6-.6zM175.2 304.1l.4-2-1.6-.9-1.5 1.9 1.5 1.5 1.2-.5zM214.6 303.1l-.4-1-1.3-.2-.6 1.2 1.6 .8 .7-.8zM247 307.1l1.4-2-1.6-1.8-1.7 1.8 .7 1.8 1.2 .2zM275.6 306.1l.1-2-1.9-.3-.4 2.3 1.4 .6 .8-.6zM61.8 306.1l-.6-.7-.7 .7 .7 .7 .6-.7zM194.3 309.1l.5-2-1.9-1.2-1.4 2.2 1.4 1.5 1.4-.5zM74.2 309.1l-.2-2-2.1 0-.5 1 .8 1.5 2-.5zM99.5 310.1l.3-3-2.7-.7-1.3 1.7 .3 1.3 2 1.3 1.4-.6zM122.6 309.1l.5-2-1-.7-2.3 .7 .4 2 2.4 0zM232.6 309.1l-.2-2-2.4 0-.1 2 1 .7 1.7-.7zM290.9 314.1l.5-2-1.7-1.3-1.2 2.3 1.2 1.6 1.2-.6zM54.6 319.1l.8-2-.4-2-2.8-1.2-1.5 1.2-.3 3 1.8 1.8 2.4-.8zM178.5 316.1l-.1-2-1.4 0 0 2.3 1.5-.3zM88.7 316.1l-.6-1.9-1-.1-.5 2 1.5 .6 .6-.6zM305.9 321.1l1.2-1 .4-2-1.8-2.1-1.9 1.1-.4 2 1.3 1.9 1.2 .1zM138.9 319.1l-.9-2.6-1.9 .6-.1 2 1 1 1.9-1zM247 321.1l.7-2-.9-1.5-2-.3-1 .7-.4 2.1 .7 1 1.7 .6 1.2-.6zM105 322.1l.6-1-.4-2-2.1-.5-1 2.5 1 1.3 1.9-.3zM156.6 322.1l.9-2-2.5-.9-1 1.9 1 1.1 1.6-.1zM211.3 321.1l-.3-2-1.4 0-.5 2 .8 .7 1.4-.7zM124.4 323.1l.5-2-1.8-.6-.7 1.6 .7 1.1 1.3-.1zM233 326.1l0-2-1.2-.1-.7 1.1 .5 1 1.4 0zM286.2 327.1l1-2-1.5-1.3-1 .2-.7 2.1 2.2 1zM65.8 329.1l.9-2-.5-1-2-.6-1.2 2.6 1.2 1.3 1.6-.3zM191.6 329.1l-.7-1.9-2.6 .9 1.6 1.7 1.7-.7zM270.6 329.1l-.9-1-.1 1 1 0zM170.5 332.1l.5-2.9-2-1-1.3 .9-.1 2 1.4 1.4 1.5-.4zM144.2 334.1l.5-3-1.7-1-2 .7-.7 1.3 .6 2 2.1 .6 1.2-.6zM300.1 334.1l1-2-1.4-1.5-1 .1-.9 2.4 .9 1.1 1.4-.1zM218.9 335.1l-1-2-2.2 1 1.2 1.9 2-.9zM104.6 337.1l.3-2-1.8-1.3-1.3 1.3 .3 1.9 1 .8 1.5-.7zM79 337.1l.5-1-1.4-1.3-1 1.6 1 1 .9-.3zM248 337.1l-1.2-1.7-1.1 .7-.1 1 1.2 .9 1.2-.9zM157.5 338.1l-.5-.8-.6 .8 1.1 0zM288.7 342.1l.6-1-.6-.9-2.1-.1-.6 1 .6 1 2.1 0zM61.5 343.1l-.1-2-1.2-.1-.1 2.1 1.4 0zM181.2 343.1l0-2-1.3-.2-.2 2.2 1.5 0zM233.1 343.1l.2-2-1.5-.6-.9 1.7 .9 1.2 1.3-.3zM198.7 343.1l.3-1-1.1-.8-2.5 .8 1.5 1.5 1.8-.5zM263.3 344.1l.9-1-1.4-1.6-1.2 1.6 1.7 1zM117.6 347.1l-.2-2-1.3-.7-1.9 .7-.5 1 1.4 1.8 2.5-.8zM133.8 349.1l.8-1-.6-2-2-.7-1.3 .7-.6 2 .8 1 2.9 0zM283 356.1l-.6-2-1.6 .3 0 2 1 .6 1.2-.9zM90.2 358.1l.5-1-1.6-1.4-2.6 1.4 1.6 1.5 2.1-.5zM171.7 359.1l.4-1-1.1-1.5-2.3 .5-.4 1 .7 1.2 2.7-.2zM244.1 360.1l.5-1-.8-.6-1.4 .6 .4 1 1.3 0zM131.2 365l.4-2-1.6-1.5-2 .1-1.3 1.4 1.3 2.8 2 .1 1.2-.9zM208.6 363l-.7-1.6-1.3 .7 .3 1.3 1.7-.4zM73.7 370l.8-2-1.3-1.8-2-.1-1.2 .9 .2 3 2 .8 1.5-.8zM108 370l.5-2-1.4-1.5-3 .1-1.4 1.4 1.4 2.6 2 .3 1.9-.9zM306.7 372l1.6-2-.4-2-2.2-1.5-2 .3-1.7 2.2 .4 2 2.3 1.4 2-.4zM148.7 372l.6-1-.5-2-.8-.6-2 .3-.8 1.3 .7 2 1.1 .6 1.7-.6zM259.6 372l.5-2-1.3-.9-2-.3-2.2 1.2-.1 1 1.3 1.4 3.8-.4zM187.5 372l.1-1-1.7-1-2.8 1 0 1 1.8 .9 2.6-.9zM228.1 375l1.2-1-.4-1.3-2-.7-2.2 1 1.1 2 2.3 0zM290.4 386l3.3-1.7-1-2.1-4-.6-2.7 1.4 .7 2.3 3.7 .7zM127 387l.3-1-2.2-1.3-2 .1-1.7 1.2 1.7 1.8 3.9-.8zM82.7 390l2-1-.4-2-2.2-.6-2.4 .6-.4 2 3.4 1zM260.7 394l1.8-2-2.7-1.9-5 0-2.3 1.9 1.3 1.6 2 .8 4.9-.4zM147.7 394l.6-1-1.3-.7-2.4 .7 .4 1.1 2.7-.1zM207.7 398l.1-1-1.8-1-2.4 1 1.3 1.5 2.8-.5zM108.1 406l1.8-2-1.8-1.4-4-.2-2.6 1.6 1.7 2 4.9 0zM240 407l2.1-2-1.3-1.7-3-.5-2.7 1.2-.4 1 1.1 1.5 4.2 .5zM291.1 416l1.6-1 .6-2-2.6-2.1-5-.2-2.8 2.3 .6 2 2.2 1.3 5.4-.3zM211.9 423l.4-1-1.4-1.1-3.2 1.1 1.2 1.4 3-.4zM100.3 427.9l3.6-2 0-1-2.8-1.7-7-.5-5.4 2.2 .9 2 2.5 1 8.2 0zM245.7 434.9l2.8-2-.7-1.2-3-1.3-6 .1-3 1.4-.3 1 1.3 1.5 3 .9 5.9-.4zM56.7 439.9l2.1-1 .3-1-1.9-1.5-5-.2-2.5 1.7 2.5 2 4.5 0zM126.1 440.9l.8-1-2.8-1.2-4 .1-2 1.1 3 1.6 5-.6zM211.1 448.9l-2.3 0 2.3 0z"/><path fill-rule="evenodd" fill="#6e6e6e" d="M50.2 221.5l-.4-8.2 .1-2 .7 0-.4 10.2zM309.7 452.9l-49.2 0-2.7-.7-3.3 .7-205.3 0 0-13.6 3 1.2 4 .1 3-1 1.2-1.7-2.2-1.8-3-.7-6 1.4 0-20.8 4 1.1 3-.3 2-.8 1.2-2-1.2-1.8-3-1.1-6 1 0-18.4 2 .9 4 .2 3-1.4 .5-1.4-1.5-1.4-3-.8-5 1 0-17.7 4 1 2-1.1 .8-2-.9-2-1.9-.9-4 .9 0-35.4 1.3-.5 .7-2-2-1.6 0-100.9 1.8 10.7-.5 14.9 .7 3.1 .8-2.1-.4-10 1.2-6.9-1.3-17 .8-10 2.7 0 .2 1.9 1-1.9 1.1 0 .9 12.1 1 1 1-.4 .8-12.7 1.2 2.3 1.8 17.7-.1 9.9-.7 7.8-2-6.8-.6 3 1 19-1.4 1.5-2-.6-.5 2.1 .5 3.4 1.4 1.6 .6 7.4 1 1.2 .6-9.6 2.4-10.6 1.8-4.4 1.5-44.9 1 0-1.2 25 .9 11 2.3-36 2.8 0 1.2 8 .6 16.7 1-21.6 .6 6.9 1.2 3-.2 12 1.4 13.8 1.3-3.9 .1-8.9 1.6-3.5 1.5-7.5 .2-15 2.7 0 1.5 27 2.1 4.9 1 13.1 1.4-5.1-1.8-39.9 2.1 0 .5 21 .8 5.7 1.2-26.7 2.4 0 1 9-.6 26.9 .5-6.9 .5-1.5 1-.1 .6-4.4 0-18 1.6 7 .8 11 1 2 1-15.6 .9 13.6-1.8 15.9 1.9 4 1.2-1 .8-5-.2-36.9 1.6 0 .6 6.6 .7-6.6 3.2 0-.9 18 2 12.3 2-9.1 .4-6.2-.4-5.7-1 6.6-1-1.9-1-14 4.2 0 .8 7.7 .6-7.7 1.7 0 .7 12.8 .7-12.8 2.1 0 .4 30.9 .8 3.6 1-20.6 .9-.1 1-3.4 1 17.9 .8-24.3 .4-4 1.5 0 1.6 27 .7 4.2 1 .6 1 9.3 1-4.2-1-14.9 .7-22 2.7 0-.2 20 .8 5 .7-5-.2-20 1.6 0 .1 18 .8 3.2 .4-21.2 3.1 0-.2 19 .7 5.5 1.7-4.5-.4-20 5.7 0-.8 19 .8 9.6 1.3-4.6 .6-24 1.3 0 1.8 13.9 .6-13.9 1.8 0 .6 9.2 .8-9.2 .8 0 1.7 29 2.7 18 .1-12.1 1.4-11.9 .4-23 4.3 0-1.8 22 1.1 12.9 1.5 3.7 .2-38.6 1.6 0 .4 14 .8 1.8 .9-2.4 2.1-.4 .2-3-.3-6.7-1 6.8-1-.8-.3-9.3 7.8 0-.4 13 .9 1.3 1-5.6 1 1.7 1-.9 .4 .5 .6 3.3-.4-13.3 1.8 0 .6 12.8 .7-12.8 1.5 0 .6 18-2.2 21.9-1.2 5-.4 11 1.2 8 4.8 3.6 0-4.6-2.4-3-.3-10 1.5-18-.3-16.9 .5-2.2 2 .6 .8-13.4 2 0-.1 11 1.3 7.5 1-18.5 1 5 .3-5 .9 0 .1 32.9 .7 3.6 1-1.8 .4 1.2 .6 10.1 1.1-2.1 .6-8-.7-6.1-1 3.9-.4-1.8-.2-31.9 2 0 .2 27 .4 1 1-.3 1 3.1 1 .7 1-.5 .6-4 .1-27 1.3 4.8 .6-4.8 3.7 0 .7 1.9 1-.1 .2-1.8 1.4 0 1.4 29 1 5.3 1-10.9 1.4-4.4-1-7-.1-12 2.1 0 1.5 15.7 1-4.9 .3-10.8 6 0 .5 17 1.2 2.4 1-11.8 1-.9 .8-6.7 2.6 0 .2 11 1.4 13.4 1 1.6-.7 11.9 .7 5.8 .8-4.8-1.2-34.9 .6-4 1.6 23 1.2 6.2 1-.4 1 1.6 1.3-2.4 .7-10.6 2-2.6 0 23.2-1-3.9-.8 5.8 .2 7 .6 1.5 1 .2 1-1.1 .7-3.6 .3-13.6 2-.2 .5-4.1-.5-26 6.2 0 .8 37.5 1.3-10.5 1.9-3 .8-9.5 2 9.2 1-8.6 2 31.1 .6-2.3 .4-23.7 1 .3 .8-20.5 2.4 0 .2 24-1.4 7.2-1-3.9-.5 .7-.3 9.9 .8 3 2-3 .6-4 1.3-29.2 1 1.7 .9 19.6 .1 1.2 1-.1 1 7.4 1 19.2 .8-17.8-1.4-14.9-1.1-3 .2-18 6.1 0-1.3 14 .7 6 1-.1 .6-1.9 .5-18 .1 20 .8 4.3 .3-15.3 .7-2.5 .9 1.5 .4 22.9 1.4 13-1.2 8-.2 9-1.3 1-.7-1-.3-8-.8 4 .2 7 1.3 2 3.3 2 1.2-3 .5-6 2.5-6-1.8-6-.4-.5-1 1.6-.6-3.1 .8-14-2.9-17.9 0-13 3.2 0 .5 5.1 1-2 1 26.8 1.2-29.9 2.1 0-.3 19.4-1-9.4-.5 6 .8 19.9 .7 3.3 1-.9 0 33.5-3-3.7-1.3 4.8 .9 2 1.4 .6 2-2.3 0 61.3-2 0-1.2 1.3 1.2 1.8 2 0 0 44.4-3.2 .7-1.6 2 1.4 2 3.4 .9 0 26.5-5 .5-2.9 2 0 1 1.9 1.6 6 1 0 21.4zM80.1 236.7l-1.7-10.4 .1-15 1.9 0-.3 25.4zM136 218.3l-.2-7 .6 0-.4 7zM253.8 219.4l-.4-8.1 1.3 0-.9 8.1zM260.8 229.2l-1.4-17.9 3.2 0-.8 2.1-1 15.8zM278.8 222.8l.4-11.5-.4 11.5zM112.1 239.3l1-11-1-16.1-1.3 14.1 .4 9 .9 4zM223.6 258.2l.9-25.9-.6-7.7-1 2.4-1-13.1-.7 14.4 .8 10-.1 16-.1-7.1-.9-2.3-.8 7.3 1 6 1.8 .8 .7-.8zM266 237.3l.8-1.3 .5-7.7-.5-15-1 9.1-1-3.2-.8 9.1 .5 8 1.5 1zM186.2 226.3l.7-3-1-7.3-.8 8.3 1.1 2zM151.3 248.2l1-7.9-.3-23.1-.2 14.1-1.8 2.9-.2 3.1 .3 8.9 .9 3 .3-1zM245.9 248.2l.8-16.9-.9-8.5-1 18.4 .1 5 .9 2.6 .1-.6zM239 243.2l.6-9.9-.8-9.5-1 6.5 1 13.9 .2-1zM56.2 238.3l.6-5-.6-8.2-1 9.2 1 4zM218.5 249.2l1-15.9-.6-6.3-1 23.1 .6-.9zM72.2 248.2l1.3-5 0-3.9-1.2-10-1.1-1.1-.3 8.1 1.3 11.9zM84.4 231.3l-.3-2.7 0 3.6 .3-.9zM139.1 244.2l.8-8.9-.9-6.2-.9 10.2 .9 5.7 .1-.8zM164.1 243.2l.6-4.9-.7-6.1-.7 7.1 .8 3.9zM234.1 251.2l.7-19.6-1.7 14.6 .7 5.8 .3-.8zM54.6 236.3l-.4-3.5 0 4 .4-.5zM122.9 258.2l1.3-17-2.1-7.5-1 5.7 0 16.8 1 3 .8-1zM119.1 242.2l.6-2.9-.6-4.6-.6 4.6 .6 2.9zM194 241.2l-.1-4-1-2.3 0 5.5 1 1.4 .1-.6zM161.1 243.2l-.1-6.8-.6 3.9 .6 3.7 .1-.8zM58.4 246.2l-.2-7 0 7.7 .2-.7zM201.1 258.2l.6-10-.8-9.1-1.1 5.1 .4 11 .9 3zM88.3 262.2l.5-6-1.7-14.4-1.4 8.4 1.3 11 1.1 1.6 .2-.6zM158.3 248.2l-.3-4.7 0 5.7 .3-1zM232.3 252.2l-.5-6.1-.6 4.1 .6 2.9 .5-.9zM133.3 252.2l-.3-5-.7 3 .7 2.9 .3-.9zM103.5 253.2l.5-3-.9-2.4-.2 4.4 .2 1.4 .4-.4zM243.1 253.2l-.3-5.3-.6 3.3 .6 2.7 .3-.7zM114.6 257.2l-.5-8-.6 7 .6 1.8 .5-.8zM204 253.2l-.1-4.9 .1 4.9zM275.9 255.2l-.1-6.2-.6 4.2 .7 2zM306 256.2l.9-6-.2-1.8-1-.1-.4 5.9 .7 2zM207.3 257.2l-.4-6-.7 4 .7 2.7 .4-.7zM297.2 259.2l.3-5-.8-2.7-.5 5.7 .5 2.7 .5-.7zM174.2 260.2l.5-5-.7-2.9-.8 5.9 1 2zM229.3 270.2l.3-14-.7-3.9-1.5 4.9-.3 11 .8 2.6 1.4-.6zM85.2 262.2l.8-5-.9-3-.6 5 .7 3zM154.3 259.2l-.3-5-.6 4 .6 1.7 .3-.7zM225.9 261.2l.8-5-.8-2.8-.9 4.8 .9 3zM164.2 273.2l1.5-12-.7-6-2 13.7-.5-8.7-1.5-1.2-.6 1.2 .6 4.7 1.9 4.3 .2 3 1.1 1zM237.9 258.2l-.1-3 .1 3zM245.2 262.2l-.4-7.4-.6 5.4 .6 2.8 .4-.8zM273.1 260.2l-.3-5.2-1 3.2 1 2.7 .3-.7zM110.3 270.2l1.5-6-1.7-8.1-1.2 1.1 1.4 13zM130.1 261.2l.7-3-.8-2.7-.6 3.7 .7 2zM138.9 260.2l.1-2.5-1-2 0 5.3 .9-.8zM262.8 271.2l.9-10-.9-4.7-.8 3.7 .8 11zM116.3 267.2l-.2-8.3-.7 4.3-1.8 3 1.5 1.6 1.2-.6zM214 262.2l-.1-3.4 .1 3.4zM240.1 262.2l-.3-3.8-.5 2.8 .5 1.5 .3-.5zM285.1 263.2l-.4-4.6-.7 2.6 .7 3 .4-1zM149.4 264.2l.5-2-.9-2.5-.5 3.5 .5 1.5 .4-.5zM210 268.2l-.1-8.3-1.1 4.3-2.3 3 1.4 1.7 2.1-.7zM283 265.2l-.2-5.9-.6 3.9 .6 2.8 .2-.8zM100.4 276.2l-.2-5 1.4-9-1.5-1.7-1.1 1.7 1 8-.5 5 .6 1.7 .3-.7zM126.2 266.2l.5-3-.6-2.3-.8 3.3 .9 2zM120.2 265.2l-.1-2.1 .1 2.1zM252.2 278.2l.5-11-.9-3.1-2-1.8-1.6 .9-.5 2 2.1 7.2 1-2.9 1 9.4 .4-.7zM82.2 271.2l.6-2-.9-5-1.8-.7 0 2.4 1.6 1.3 .5 4zM53.6 268.2l-.4-3.8-.7 2.8 .7 1.9 .4-.9zM271.2 268.2l-.4-2.4 0 3.3 .4-.9zM91.4 274.2l.9-5-1.2-2-.9 2 .3 4 .6 1.5 .3-.5zM260.3 276.2l.7-2-2.2-6.5-1.1 7.5 1.1 1.7 1.5-.7zM287.3 272.2l.4-3.4-3-.7-.8 2.1 .5 2 1.3 .9 1.6-.9zM194.9 271.3l0-2.6 0 2.6zM239.3 270.2l-.5-1.4-.4 1.4 .9 0zM296.1 272.2l-.4-3.3 0 4 .4-.7zM70.2 276.2l1.4-3-.4-2.5-1-.6-.6 3.1 .6 3zM104.3 278.2l.3-3 2.5 1.9 1.9-1.9 .3-2-2.2-3.7-3 5.6-.4 2.1 .6 1zM131.2 271.2l-.2 .8 .2-.8zM202.1 272.2l-.2-1.9 0 2.5 .2-.6zM235.1 271.2l-.3-.5 0 1.3 .3-.8zM124.1 272.2l0 .8 0-.8zM173.1 276.2l1.5-2-.6-1.7-1-.4-1 .3-.3 1.8 1.4 2zM247.9 275.2l-.1-3.3-1 .8 0 1.5 1.1 1zM220.9 274.2l0-1.2 0 1.2zM51.9 275.2l-.7-1.1-1.7 1.1 2.4 0zM225.3 276.2l-.4-2 0 3 .4-1zM274.2 277.2l.3-2-1.7-1.6-1 .9-.1 1.7 1.1 1.3 1.4-.3zM131.4 278.2l-.4-3.3-3 1.1 1 2.7 1 .4 1.4-.9zM84.8 280.2l.9-3-1.6-1.8-1 0-1.1 2.8 2.1 2.7 .7-.7zM294 277.2l-.3-1.3 0 2.1 .3-.8zM57.2 280.2l.7-1-.7-2.1 0 3.1zM155.5 279.2l-.4-2-.7 0-.2 2 .8 .9 .5-.9zM265 278.2l-.2-1.5 .2 1.5zM137.5 279.2l-.5-1.6 0 2.5 .5-.9zM98.4 283.2l-.3-3.7-1-1.3-1 .1-.5 2.9 2.5 2.6 .3-.6zM133.3 281.2l-.3-2.4-.5 1.4 .5 1.5 .3-.5zM278 279.2l-.2-.8 0 1.3 .2-.5zM280.1 280.2l-.3-1.7 0 2.4 .3-.7zM213 281.2l-.1 .7 .1-.7zM248.2 286.2l.6-4-2-2-2.4 2 .1 3 1.3 1.7 2.4-.7zM120.1 286.2l.1-3-2.1-1.7-.4 3.7 1.4 1.6 1-.6zM167.3 283.2l-.3-1 0 1.7 .3-.7zM64.8 284.2l-.6-1.6-.6 1.6 .6 .8 .6-.8zM68.2 284.2l0-1.2-1 .1-.1 1.1 1.1 0zM84.9 284.2l-.8-1.4-.5 1.4 .5 .9 .8-.9zM139.3 287.2l.6-3-.9-1.3-2-.1-.7 1.4 .2 2 1.5 1.6 1.3-.6zM159.4 284.2l-.4-1.7 0 2.3 .4-.6zM283.8 291.2l.2-1 3.2-3 .2-2-1.7-2.3-1.4 .3-1.2 2 .7 6zM163.6 288.2l.9-1-.5-2-2-.8-1 .5-.7 1.3 .7 2.8 2.6-.8zM299.2 289.2l.1-3-1.6-1.3-1.5 1.3-.1 2 1.6 1.9 1.5-.9zM107.5 289.2l-.1-3-1.3-.8-1 .9-.1 1.9 2.1 1.7 .4-.7zM204.2 292.2l1.1-3-1.4-4-2.7 3-.2 2 .9 1.9 2.3 .1zM174.3 290.2l-.8-2-1.5 .4 0 1.7 1 .6 1.3-.7zM217.3 288.2l-.5 0 .5 0zM184.8 294.2l.4-2-1.3-2.7-1.6 1.7-.2 2 .8 1.5 1.9-.5zM273.9 292.2l.3-2-1.4-.3-.6 1.3 .5 1 1.2 0zM57.6 295.2l.4-2-.8-.8-2 .7 .4 2.1 2 0zM74.3 295.2l-1.1-.9-.4 .9 .4 .8 1.1-.8zM239.2 297.2l-.4-1.4-1.6 .4 .6 1.4 1.4-.4zM88.5 302.1l1.4-.9 .2-2-2-1.9-1.4 .9-.5 2 .9 1.7 1.4 .2zM162.4 301.2l.8-2-1.2-.8-1 1.8 1.4 1zM288.1 300.2l.6-.1 0-1.2-1.4 .3 .8 1zM150.5 301.2l-.5-2-.8 1 .8 1.4 .5-.4zM111 304.1l.1-2-1-1.1-1 .2-.8 .9 .1 2 1.7 .9 .9-.9zM175.5 304.1l.3-2-.8-.9-2 .3-.2 2.6 1.2 .7 1.5-.7zM302.1 304.1l-.3-2.9-2.1-.3-.8 1.2 .3 2 1.5 .8 1.4-.8zM214 304.1l.9-1-.3-1-1.7-.5-1 1.5 2.1 1zM247.7 307.1l.6-3-1.5-1.1-1 .3-.8 2.8 .8 1.1 1.9-.1zM275.9 306.1l-.1-2.2-1-.6-1.6 .8-.3 1 .9 1.7 2.1-.7zM61.5 307.1l.8-1-1.1-1.1-1.1 1.1 1.4 1zM99.7 310.1l.7-2-1.3-1.9-3 .8-.5 1.1 .8 2 1.7 .8 1.6-.8zM194.6 309.1l-.2-3-2.5 0-.6 2 .6 1.3 1 .5 1.7-.8zM74.4 309.1l-.2-2.1-2.5 .1-.5 1 1 1.7 2.2-.7zM122.9 309.1l.5-2-1.3-.9-2.5 .9 .5 2.2 2.8-.2zM232.9 309.1l.3-1-1.4-1.6-2.1 .6 .2 2.3 1 .6 2-.9zM291.1 314.1l.5-2-.9-1.4-1-.1-1.4 2.5 1.4 1.8 1.4-.8zM53.3 320.1l1.9-1.6 .4-2.4-1.4-2.2-2-.3-1.8 1.5-.4 2 1.2 2.5 2.1 .5zM89 316.1l-.5-2-1.8 0-.5 2 .9 .9 1.9-.9zM178.8 316.1l-.1-2-.7-.7-1 .4 0 2.9 1 .3 .8-.9zM306.4 321.1l1.3-2-.3-2-1.7-1.4-1 .2-1.5 3.2 1.5 2.2 1.7-.2zM138.2 320.1l1.1-2-1.3-1.8-1-.1-1.1 .9-.1 2 1.2 1.2 1.2-.2zM247.3 321.1l.6-2-1.1-1.8-3 .4-.7 1.4 .7 2.1 2 .7 1.5-.8zM105.4 322.1l.1-3-2.4-.7-1.2 1.7 .2 1.4 1 1.1 2.3-.5zM157 322.1l.8-1-.8-1.9-2-.2-1.1 1.1 .6 2 2.5 0zM209.9 322.1l1.7-1-.7-2.4-1-.1-1.3 1.5 1.3 2zM124.7 323.1l.5-2-2.1-.9-.8 .9 .4 2 2 0zM233.4 326.1l.1-2-2.1 0-.1 2 2.1 0zM286.7 327.1l.6-1-.5-2-2.1-.4-.9 2.5 .9 1.1 2-.2zM66.3 329.1l.7-2-.8-1.4-2-.4-1 .7-.5 1.1 .7 2 1.8 .6 1.1-.6zM191.9 329.1l.2-1-1.2-1.1-2 .1-.8 1 .1 1 1.7 .9 2-.9zM170.9 332.1l.6-2-.5-1.2-1-.8-2 .4-.7 1.6 .7 2 1 .6 1.9-.6zM271 329.1l-.2-1.1-1.4 .1 .4 1.4 1.2-.4zM144.5 334.1l.8-2-1.3-1.9-2-.3-1.5 1.2-.4 2 .9 1.4 2 .4 1.5-.8zM300.5 334.1l.8-1-.4-2-2.2-.6-1.1 2.6 1.1 1.3 1.8-.3zM218.1 336.1l1.2-2-2.4-1.3-1.4 1.3 0 1 2.6 1zM104.9 337.1l-.3-3-1.5-.6-1 .6-.6 2 .6 1.3 1 .6 1.8-.9zM79.4 337.1l-.3-2.3-1.9 .3 0 2 2.2 0zM247.1 338.1l1-2-1.3-.9-1.5 1.9 1.8 1zM158 338.1l-1-1.2-1.1 1.2 1.1 .6 1-.6zM289.2 342.1l0-2-1.5-.6-2.1 1.6 1.1 1.4 2.5-.4zM61.9 343.1l0-2-2.2 0-.4 1 .9 1.5 1.7-.5zM181.5 343.1l0-2-1.6-.4-.8 1.4 .3 1 2.1 0zM199.1 343.1l.3-1-1.5-1.1-2.8 1.1 .2 1 1.6 .7 2.2-.7zM233.3 343.1l.5-1-1-1.7-1.9 .7 .2 2 .7 .5 1.5-.5zM263.8 344.1l.6-1-.6-1.6-2 .3 0 2.1 2 .2zM116.4 348.1l1.7-2-1-1.6-2-.2-1.2 .8-.1 2 2.6 1zM134.2 349.1l.7-2-.9-1.3-2-.6-1.6 .9-.5 2 1.1 1.4 3.2-.4zM282.2 357.1l1.1-2-1.5-1.7-1.1 .7-.4 2 1.9 1zM90.5 358.1l.3-1-1.7-1.5-2 .3-.8 1.2 1.8 1.7 2.4-.7zM171.9 359.1l.4-1-1.3-1.7-2.5 .7-.4 1 .9 1.4 2.9-.4zM244.6 360.1l.4-1-1.2-.9-1.8 .9 .8 1.2 1.8-.2zM130.3 366l1.2-1 .3-2-1.8-1.7-2 0-1.6 1.7 .4 2 1.2 1 2.3 0zM209 363l-1.1-1.9-1.6 1 .6 1.7 2.1-.8zM72.2 371l1.9-1 .7-2-2.6-2.3-2.6 1.3-.4 2 1 1.5 2 .5zM106.6 371l1.7-1 .5-2-1.7-1.7-3 .1-1.6 1.6 .5 2 3.6 1zM307.2 372l1.4-2-.9-2.7-2-1-3 .9-1 2.8 1 1.8 2 .9 2.5-.7zM149 372l.6-2-.6-1.1-1-.8-2 .3-1 1.6 .6 2 1.4 .8 2-.8zM260 372l.4-2-1.6-1.1-3-.1-1.5 1.2-.2 1 1.7 1.6 2 .3 2.2-.9zM186.1 373l1.8-1-1-1.9-2-.3-2.1 1.2 1.1 1.9 2.2 .1zM228.6 375l.9-2-1.3-1-2.3 0-1.5 1-.1 1 1.6 1.3 2.7-.3zM292 386l2.4-2-1.7-2.1-4-.6-3.2 1.7-.2 1 1.4 1.7 3 .7 2.3-.4zM125.2 388l2.2-1 .2-1-1-1-3.5-.4-2 1.4 1 1.6 3.1 .4zM83.7 390l1.7-2-1.3-1.4-4-.2-1.6 1.6 1.6 2.1 3.6-.1zM261.6 394l1.4-2-3.2-2.2-5 .1-2.7 2.1 .7 1.3 3 1.3 5.8-.6zM148.2 394l.5-1-1.7-1.1-3 1.1 1 1.4 3.2-.4zM208.4 398l.1-1-1.6-1.1-2-.1-1.6 1.2 1.6 1.9 3.5-.9zM108.8 406l1.6-2-2.3-1.6-4-.2-3.1 1.8 .1 1 2 1.3 5.7-.3zM240.8 407l1.8-2-1.8-2.1-4-.3-2.3 1.4 .2 2 1.1 .8 5 .2zM289.1 417l4.3-2 .5-2-1.2-1.5-5-1.4-4.8 1.9-.6 2 1.5 1.9 5.3 1.1zM212.6 423l.3-1-2-1.5-2 .2-1.5 1.3 1.5 1.7 3.7-.7zM101.6 427.9l2.2-1 1-2-4.7-2.3-7-.1-5.3 2.4 .9 2 3.4 1.4 5 .4 4.5-.8zM247.3 434.9l1.7-1 .2-2-4.4-1.9-7 .2-2 .8-1.4 1.9 1.4 1.7 3 1 5 .2 3.5-.9zM124.2 441.9l3.7-1 .5-1-2.3-1.3-4-.5-4 .7-1.4 1.1 2.4 1.7 5.1 .3zM93.4 448.9l-3.3-1.1-3.3 1.1 3.3 .8 3.3-.8zM212.3 449.9l1.2-1-2.6-1.3-3 .2-1.5 1.1 2.5 1.3 3.4-.3z"/><path fill-rule="evenodd" fill="#7a7a7a" d="M309.7 452.9l-46 0-1.9-1.2-4-.5-4 .4-2.5 1.3-202.1 0 0-12.4 4 .9 4-.2 3.5-1.3 1.2-2-1.7-1.9-3-1-8 .7 0-19 3 .8 4-.2 2.9-1.3 1-2-1.4-2-3.5-1.3-6 .8 0-16.9 6 .8 3-.9 1.2-1.5-.7-2-2.5-1.2-4-.4-3 .8 0-16.5 2 .9 3-.4 1.6-1.2 .7-2-.9-2-2.4-1.3-4 .8 0-34.5 1.8-.9 .5-2-2.3-1.9 0-53.6 2 .4 1.5-.8-1.5-1.4-2 .5 0-38.4 1.3 4.4-.1 13.9 .8 4 .9-2 1.1-17.1 3 .6 .7-5.4-.7-13.8-1 9-1 1-1 5.6-1.3-13.8 .6-11 2.3 0 .4 4.5 1 1.1 1-3.7 1 13.7 1 1.9 1-2.5 1-13.4 1 3.6 1.5 15.8-.2 8.9-.3 3.9-2-4.7-.7 4.8 .8 19-1.1 1.1-2-.7-.6 2.6 3.6 18.2 1-14.2 2-9.9 2.2-5.1 .8-25.4 0 14.4 1 5.7 2.6-39.6 2.2 0 1.3 10 .6 18-.7 5-.7-11-1.2-6-1.1-1.1-.6 8.1 .9 13.9 .7 .5 1-1.5 2.1 0 .1-10.9 1.7-11.6 2 26 1-.2 .8-10.2 2.2-11.8 1 6.8 1 .6-1.2-24.6 2.4 0 1.1 25-1.4 5.9-1.6 18 .7 2.5 1-6.6 .8 6.1 1.2 1.1 .9-7.1-.6-10 .7-2.6 1 3.3 .2 9.3 .8 .8 1.5-5.8-1.2-39.9 1 0 .3 3 .2 16 1.2 9.5 1.4-28.5 1.9 0 .7 12-.5 23.9 .5 1.7 2.7-13.6 .3-14.2 1 3.2 1.5 16.9-.5 13.4 2-.8 4 5.8 .8 11.6-.8 .8-2-3-1 .8-2.3 5.4 .3 3.7 1-3.1 2 1.7 1.7-1.3 .6-4 2.5-6-1.1-10-.7-1-2 .2-.4-1.2 .5-42.9 1.2 0 1.6 25 1.1 5 1-7.2 .8 4.2 .7 5.9-1.3 9 .8 5.2 .8-5.2-.7-8 1.9-3.9 1.5-14-.5-8.9-1 6-1-1.7-.6-11.4 3.7 0 .9 9.6 .6-9.6 1.6 0 .7 17-1.1 11-.1 16.9 1.3 3.7 1.4-2.7 1.1-14-.3-5.9-2.1-8 .7-18 1.8 0 .5 30.9 .9 5.3 1-19.1 1.9-3.5 1 16.4 .9-25 .5-5 1.1 0 1.7 28 3.3 14.9 .5 7.5 1.2-1.5-.5-8 1.3-15.9-1-8.8-.8 1.8-.2 8.7 .2-26.7 1.9 0 0 24 .9 2.9 .8-6.9-.1-20 1 0 .3 2.3 .2 16.7 .8 2.8 .5-21.8 2.5 0 .3 20 .7 6.2 1-1.9 .2 .7 .8 11.7 1 2.7 1.4-10.4-.1-22-.3-3.7-1 15.8-1-4.1-.5-15 5.3 0-.6 23 .8 6.6 1.4-4.6 .6-25 1.1 0 1.9 15.3 .7-15.3 1.6 0 .7 10.5 1.3-10.5 .4 15 3.4 30.9 .9 1.8 1.7-22.7 .3-24 .1-1 3.4 0-1.2 17 .9 18.9-1.1 10 .9 3.7 .8-2.7-.1-7 1.9-2-.2-37.9 1.2 0 .5 14 .9 2.1 .9-2.2 2.5-.9-.3-13 3.8 0-.8 14 .8 1.4 1-1.9 1 1.2 1-3.2 1.8 1.5 1.2 3.3 0-16.3 1.3 0 .7 16.9 .9-16.9 1.2 0 .4 16-1.5 12.9-1-9.8-1.1 2.9 1.1 16.9-1.1 17 1.1 8.2 1 1.2 2.1 .6 1.9 2.5 .3-5.5-2.4-3-.3-10 1.4-31.6 1-2.8 1 .8 1-16.3 1.3 0 .1 12 1.6 8 1-10.5 1.1-2.5 .4-7 .6 0 .1 35.9-1 8 .8 3.2 1-8.6 1 1.6 .4 7.8-.8 5-2.2 3 .6 1.4 2 .8 1.7-2.2-.3-8 1.2-3 .4-14.3 1-.1 2 3.6 1.1-2.2 .8-29.9 .1-.7 1 5.5 .9-6.8 2.9 0-.3 27-1.4 11.9 .4 7 1.5 2.4 1.3-.4 1.2-2-.9-3 1.1-17.9-.7-18 .5-7 .9 0 2.5 39.9-.8 18 .9 1.8 1 .1 .9-1.9-.8-4 .7-9-.7-14 2-12.9-1.3-8-.2-10 1.5 0 1.8 17.7 1.2-4.7 .3-13 5.7 0 .4 18 1.4 3.4 1-11.4 1.4-3 .6-7 2.2 0 .2 13 2.1 16 .1 13.9 .4 1.7 .9-3.7-.5-14.9 .6-17.7 .8 16.7 1.2 5.8 1 0 1 1.3 1.4-2.2 .6-8.3 1-2.4 .6 1.8-1.6 24.9 .4 2 1.6 1.7 1.5-2.7 .8-11 .7-2.5 1-.5 .6-4.9 0-28 .9 0 .2 3-.2 23 1.5 1.8 1.1-1.8 .7-12-.2-14 1.3 0 1.1 38.9 1-2 .9-8.9 1.1-.8 1-8.9 2 8 1-7.4 1.2 25 .8 2.7 .7-2.7 .3-14.5 1.1 9.5 1.9 6.9 1.8-11.9 1.1-25.4 1 2.2 .8 16.3 2.2 10.5 .2 4.4-1.2 3 1.5 2 .5 7.1 1-18.1-1.3-16.9-1-3-.1-16 5.4 0-.7 17 .7 3.8 1 .6 1-3.2 1 7.3 1-17.5 .5 2 1.6 33.9-.8 16-1.3 1.6-1-10.4-.9 12.8 1.1 2 3.8 2.5 1.4-3.5 .3-5 2.7-6-.7-6 1.7-5 .2-9-.9-5.9 .3-19.2 1.2 28.1 .8 4 1 .5 0 29.7-3-3.4-1.5 5.2 1.5 2.7 2-.2 1-1.4 0 58.8 0 1.4-2 0-1.5 1.6 1.3 2 2.2 .1 0 43.7-4 .7-1.8 2.4 1.8 2.2 4 1.2 0 25.2-6 .7-3.1 2.6 2.1 2.8 7 1.2 0 21zM68.2 218.7l-.2-7.4 .2 7.4zM80.1 231l-1.4-6.7 0-13 1.6 0-.2 19.7zM111.1 215.5l.3-4.2-.3 4.2zM113.1 220.5l-.6-9.2 1.1 0-.5 9.2zM180.9 216.7l-1 .4-.1-5.8 1.8 0-.7 5.4zM186.9 219.2l-.8-7.9 .9 0-.1 7.9zM209.9 239l-.4-27.7 1.6 0 0 25-1.2 2.7zM260.8 225.7l-1.2-14.4 1.9 0-.7 14.4zM282.8 240.1l-1.8-3.8 .4-19 .5-6 2 0 .5 15-1.6 13.8zM304.7 258l-1.6-2.8-.1-14-1.3-4.7-1.4-13.2 0-12 2.7 0 .7 6.3 1 .4 .8 26.2-.8 13.8zM308.7 228.6l-1-17.3 1.1 0-.1 17.3zM184.4 223.3l-.5-6.4 0 6.8 .5-.4zM245 263.2l.6-4-.5-7 1.4-7 .4-13.9-1.1-10.8-1.8 38.7 1 4zM238.9 245.2l.8-10.9-.9-12.2-1.2 7.2 1.3 15.9zM290.8 227.3l-.1-4.1 0 4.9 .1-.8zM218.6 251.2l1.4-17.9-1.1-9-1.5 21.9 .5 5.6 .7-.6zM164.1 245.2l.7-6.9-.8-8.6-.7 9.6 .8 5.9zM233.9 252.2l1.5-14.9-.6-7.5-1.8 16.4 .1 4 .8 2zM119.1 243.2l.6-3.9-.6-6.2-.7 6.2 .7 3.9zM172 235.3l0-2.3 0 2.9 0-.6zM161.1 244.2l.5-3.9-.6-5.2-.7 5.2 .7 4.8 .1-.9zM58.3 248.2l.7-5-.8-6.9 .1 11.9zM201.4 258.2l.4-12-.9-9.6-1 .8-.2 7.8 1.2 13.9 .5-.9zM142.6 248.2l.4-9.8-1.1 3.8 .1 6.3 .6-.3zM96.2 248.2l.5-3-.6-3.1-1 .1-.1 3 .1 2.3 1.1 .7zM158.2 249.2l.5-3-.7-3.2-.6 3.2 .8 3zM232 253.2l.7-4-.9-5.1-.6 6.1 .8 3zM133.2 253.2l.5-3-.7-4.5-.7 4.5 .7 3.7 .2-.7zM243 254.2l.6-3-.8-5.1-.7 5.1 .9 3zM276.1 255.2l-.3-9-.7 7 .7 2.9 .3-.9zM204.3 253.2l-.4-6.4-.6 4.4 .6 3 .4-1zM297.2 260.2l.4-6-.9-5-.6 8 .6 3.4 .5-.4zM226.3 261.2l.4-6-.8-3.1-1 6.1 1 3.6 .4-.6zM154.4 259.2l-.4-5.9-.7 4.9 .7 1.9 .4-.9zM164.3 273.2l1.5-12-.8-7.2-2 7.6-1-2.7-1-.3-.7 1.6 2.7 12.4 1 1.5 .3-.9zM273.2 260.2l-.4-6.1-2.3 4.1 2.3 2.9 .4-.9zM130.4 261.2l.5-3-.9-3.4-.7 4.4 .7 2.6 .4-.6zM214.2 262.2l-.3-7.7 0 8.5 .3-.8zM237.9 259.2l.6-3-.7-1.8-.6 2.8 .7 2zM68.2 260.2l0-4.6-.9 1.6 .9 3zM240.2 262.2l-.4-6.4-.6 5.4 .6 1.8 .4-.8zM263.2 271.2l.7-10-1.1-5.8-.8 3.8 .1 10 .7 2.6 .4-.6zM283 266.2l-.2-9-.8 6 .8 3.5 .2-.5zM284.9 264.2l.5-3-.7-3.2-.8 4.2 1 2zM116.5 267.2l-.4-8.8-.9 4.8-1.8 3 1.7 1.9 1.4-.9zM100.1 277.2l1.7-14-.2-2-1.5-1-1.3 2 1.3 15zM149.7 264.2l.6-2-1.3-2.9-.5 3.9 .5 1.8 .7-.8zM126.5 266.2l-.4-5.8-.8 3.8 .8 2.7 .4-.7zM252 279.2l1-11-.8-4-2.4-2.6-2.4 2.6 .9 5-1.5 2.4-.2 2.6 1.2 2.1 1-4.1 1 .9 1-.6 1.2 6.7zM82.4 271.2l-.1-7-1.2-1.3-1 .1-.1 3.2 1.2 1 .3 3 .9 1zM120.4 265.2l-.3-2.6 0 3.4 .3-.8zM163 266l0-3.7 0 3.7zM53.3 269.2l.6-2-.7-3.2-.8 3.2 .9 2zM270.9 269.2l-.1-3.8 .1 3.8zM91.6 274.2l1-5-1.5-2.5-1.2 2.5 1.2 5.7 .5-.7zM260.5 276.2l.6-3-2.3-6.2-1.3 8.2 1.3 1.9 1.7-.9zM286.2 273.2l1.9-2-.1-3-3.3-.8-1.1 1.8 0 2 1.1 1.8 1.5 .2zM239.6 270.2l-.8-1.8-.6 1.8 .6 .9 .8-.9zM296.2 273.2l.3-3-.8-1.9-.6 2.9 .6 2.5 .5-.5zM70.5 276.2l1.2-2-.1-2-1.4-2.5-.7 4.5 1 2zM130.7 279.2l1.3-2-.7-3 .5-3-.8-1.5-.1 4.5-2.9 .9-.4 1.1 .6 2 2.5 1zM202 273.2l-.1-3.7-.9 2.7 1 1zM124.2 273.2l-.1-2.1 .1 2.1zM127.3 273.2l-.2-2.2 0 2.7 .2-.5zM234.9 272.2l-.1-1.8 .1 1.8zM173.9 276.2l.7-3-2.6-1.7-.3 3.7 1.3 1.4 .9-.4zM212 274.2l-1.1-2.5 0 1.9 1.1 .6zM221.1 274.2l-.2-1.8 0 2.4 .2-.6zM216.1 274.2l-.2 .6 .2-.6zM225 277.2l-.1-3.5-.6 2.5 .7 1zM274.5 277.2l-.3-3-1.4-.7-1 .6 .3 3.1 1.7 .8 .7-.8zM85 284.2l-.8-2 1.7-3 0-2-.8-1.4-2-.7-1.1 1.1-.2 2 2.1 3-.4 3 .6 1 .9-1zM204.1 278.2l.8-.6 0-2.2-1.2 .8 .4 2zM265.1 278.2l-.3-2.1 0 2.9 .3-.8zM293.8 278.2l-.1-2.8 .1 2.8zM57.6 280.2l.3-2-.7-1.7-.6 2.7 .6 1.4 .4-.4zM155.2 280.2l.5-2-.7-1.2-1 0-.1 2.2 1.3 1zM98.6 283.2l-.5-4.4-2-.8-.9 1.2 .1 2 2.8 2.8 .5-.8zM133.5 281.2l-.5-3.1-.6 2.1 .6 1.8 .5-.8zM137.2 280.2l-.2-2.8-.5 1.8 .7 1zM243.9 279.2l-1.1-1.6 0 1.8 1 .7 .1-.9zM277.8 280.2l0-2.4 0 2.4zM279.8 281.2l0-3.1-.6 2.1 .6 1zM247.3 287.2l1.1-1 .8-3-.6-2-1.8-1.5-2.4 1.5-.4 3 .8 2.3 2.5 .7zM120.3 286.2l.1-3-2.3-2.1-.8 2.1 .6 3 1.2 .9 1.2-.9zM212.9 282.2l0-1.8 0 1.8zM167.4 283.2l-.4-1.4-.7 1.4 .7 .9 .4-.9zM275 282.2l-.2-.7 0 1.3 .2-.6zM64.2 285.2l.7-1-.7-1.9-.7 1.9 .7 1zM68.4 284.2l-.2-1.6-1.5 .6 .5 1.4 1.2-.4zM73.4 283.2l-.2-.9 .2 .9zM139.1 288.2l1-4-1.1-1.6-2-.3-.9 1.9 .2 2 1.7 2 1.1 0zM159.7 284.2l-.7-2 0 2.9 .7-.9zM284.1 291.2l3.3-4-.2-3-1.5-1.6-1.8 .6-1 2 .9 6.6 .3-.6zM86.6 284.2l-.5-.9 0 1.9 .5-1zM111.4 284.2l-.3-.8 0 1.4 .3-.6zM162.4 289.2l1.7-1 .8-2-.9-1.4-2-.7-1.9 2.1 .9 3.2 1.4-.2zM230.4 284.2l-.7 0 .7 0zM267.1 284.2l-.3-.7 0 1.3 .3-.6zM107.1 290.2l.8-3-.8-1.9-1-.3-1.2 1.2-.1 2 2.3 2zM204.5 292.2l1-3-1.6-4.5-2.4 2.5-.8 3 1.2 2.3 2.6-.3zM298.2 290.2l1.3-1 .3-2-.9-2-1.2-.6-1.6 1.6-.1 2 .7 1.6 1.5 .4zM174.6 290.2l-.6-2-2 .1 0 2.2 1 .6 1.6-.9zM218.2 288.2l-1.8 0 1.5 .6 .3-.6zM184 295.2l1.4-3-1.5-2.9-1 .5-.9 2.4 .4 2 1.6 1zM274.3 292.2l.2-2-1.7-.5-.9 1.5 .4 1 2 0zM57.9 295.2l.3-2.2-1-.8-2 .6 .1 2.4 .9 .6 1.7-.6zM74.2 296.2l0-1.9-1-.3-.2 2.2 1.2 0zM261.2 295.2l-.6 0 .6 0zM239.6 297.2l-.8-1.8-1.9 .8 .9 1.7 1.8-.7zM89.2 302.1l1.2-2.9-2.3-2.2-1.7 1.2-.5 2 1.2 2.1 2.1-.2zM163.1 301.2l.4-2-1.5-1.2-1.3 2.2 1.3 1.4 1.1-.4zM131.1 299.2l-1.1-.2 0 .7 1.1-.5zM150.8 301.2l-.8-2.3-.9 2.3 .9 .7 .8-.7zM289 300.2l-.3-1.6-1.7 .6 .7 1.2 1.3-.2zM110.2 305.1l1.3-2-1.4-2.4-1.2 .5-1 1.9 1.2 1.9 1.1 .1zM175.7 304.1l.3-2-.7-.9-2.3 0-.7 .9 .2 2 1.5 .9 1.7-.9zM300.9 305.1l1.9-2-.6-1.9-1.5-.8-1.6 .8-.6 1.9 1.2 1.9 1.2 .1zM214.5 304.1l.4-2-2-.8-1 .5 .5 2.3 2.1 0zM248.1 307.1l.5-3-.8-1-2-.2-1 1.2 0 2.3 2 1.4 1.3-.7zM274.8 307.1l1.7-2-1.7-2-2.1 2 1.1 2 1 0zM62.2 307.1l0-2-2.2 0 .1 2 2.1 0zM100 310.1l.6-2-1.5-2.2-2 0-1.4 1.2-.2 2 1.6 1.8 2.9-.8zM123.2 309.1l.4-2-1.1-1-1.4-.1-1.7 1.1 .7 2.4 2 .4 1.1-.8zM193.2 310.1l1.7-1 .3-2-2.3-1.8-1.3 .8-.5 2 .8 1.6 1.3 .4zM74.6 309.1l-.1-2-1.3-.7-2.2 1.7 1.2 1.9 2.4-.9zM231.7 310.1l1.7-2-.6-1.1-1.9-.7-1.8 1.8 .8 1.7 1.8 .3zM291.4 314.1l.1-3-1.8-.8-1.5 1.8 .2 2 1.3 1 1.7-1zM178.3 317.1l.9-2-1.2-2-1.7 2 .7 2 1.3 0zM54 320.1l1.6-2 .2-2-1.6-2.5-2-.3-2 1.8-.3 3 2.3 2.4 1.8-.4zM88.4 317.1l1-2-2.3-1.6-1.2 2.6 1.2 1.2 1.3-.2zM260.7 315.1l-.9-1-.6 1 .6 .7 .9-.7zM138.5 320.1l.8-1-.1-2-2.2-1.1-1.3 1.1-.1 2 1.4 1.4 1.5-.4zM306.9 321.1l1-2-.2-2-1-1.4-2-.1-1.5 1.5 0 3 1.5 1.5 2.2-.5zM247.6 321.1l.6-2-1.4-2-2-.3-1.6 1.3-.3 2 .9 1.4 2 .6 1.8-1zM105.7 322.1l.4-2-1-1.7-2-.3-1 .8 .1 3.2 1.9 .9 1.6-.9zM157.3 322.1l.6-2-.9-1.1-2-.2-1.4 1.3-.1 1 1.5 1.5 2.3-.5zM211 322.1l.9-2-1-1.7-1-.1-1.2 .8-.3 2 1.5 1.3 1.1-.3zM125 323.1l.4-2-2.3-1.1-1 1.1 .4 2 1.6 .7 .9-.7zM233.8 326.1l0-2.1-1-.7-1.8 .8-.1 1.9 .9 .8 2-.7zM287 327.1l.6-2-.9-1.4-2-.3-.9 .7 .2 3 1.7 .7 1.3-.7zM66.6 329.1l.6-2-1-1.7-2-.4-1 .6-.8 1.5 .8 2.2 2 .7 1.4-.9zM190.9 330.1l1.4-1-.4-1.7-2-.8-1.4 .5-.6 2 3 1zM171.2 332.1l.5-2-.7-1.5-1-.8-2 .5-.9 1.8 .7 2 2.2 .9 1.2-.9zM271.2 329.1l-.4-1.4-1.7 .4 .7 1.6 1.4-.6zM142.4 335.1l2.4-1 .7-2-.5-1.4-2-1.1-2 .6-1.2 1.9 .5 2 2.1 1zM300.8 334.1l.4-3-2.5-.8-1.4 2.8 1.4 1.5 2.1-.5zM218.6 336.1l1-1-.7-1.9-3-.1-.6 1 .6 1.7 2.7 .3zM104.3 338.1l1.1-3-2.3-1.8-1.3 .8-.5 2 .8 1.7 2.2 .3zM79.6 337.1l-.5-2.5-2.2 .5 .2 2.2 1 .5 1.5-.7zM247.8 338.1l.5-2-1.5-1.1-1 .3-.7 1.8 .7 1 2 0zM158.3 338.1l-1.3-1.4-1.4 1.4 1.4 .9 1.3-.9zM233.6 343.1l.2-2-1-1-1.9 .7 0 2.4 .9 .6 1.8-.7zM289.6 342.1l.4-1-1.3-1.7-2 0-1.4 1.7 1.4 1.7 2.9-.7zM62.3 343.1l0-2-1.1-.8-2 .8 0 2 1 .8 2.1-.8zM181.8 343.1l.1-1.7-1-1-1.8 .7-.1 1.5 .9 1.2 1.9-.7zM199.5 343.1l.2-1-1.8-1.4-2 .2-1.2 1.2 .2 1 2 1 2.6-1zM264.1 344.1l.5-1-.8-1.9-2 .3-.2 2.6 1.2 .6 1.3-.6zM117.1 348.1l1.3-2-1.3-1.8-2-.2-1.5 1 .5 2.7 3 .3zM134.5 349.1l.6-2-1.1-1.6-2-.5-1.9 1.1-.5 2 1.4 1.6 2 .2 1.5-.8zM282.8 357.1l.4-3-1.4-1-1 .4-.7 2.6 1.7 1.4 1-.4zM90.7 358.1l-.2-2-1.4-.7-2 .3-1 1.4 2 1.8 2.6-.8zM172.1 359.1l0-2-1.1-.8-2.7 .8-.4 1 1.1 1.6 2 .2 1.1-.8zM245.1 360.1l.3-1-1.6-1.2-2.1 1.2 1.1 1.5 2.3-.5zM130.8 366l1.4-2-.6-1.9-2.6-1.2-1.9 .8-.9 1.3 .3 2 1.5 1.3 2.8-.3zM208.4 364l.9-1.9-1.4-1.4-1 .2-.9 2.1 .9 1.2 1.5-.2zM73.4 371l1.6-2-.3-2-1.5-1.4-2-.1-1.9 1.5-.6 2 2.5 2.5 2.2-.5zM107.4 371l1.7-2-1-2.4-3-.6-2.2 1-.7 2 .9 1.5 2 .9 2.3-.4zM307.8 372l1.2-3-1.3-2.2-3-.8-2.2 1-1.2 3 1.1 2 2.3 1 3.1-1zM147.1 373l2.2-1 .5-2-.8-1.5-2-.8-2.2 2.3 .5 2 1.8 1zM258.2 373l2.6-2-1-1.9-3-.7-2.9 1.6 .9 2.4 3.4 .6zM187 373l1.4-2-1.5-1.2-3 0-1.5 1.2 0 1 1.5 1.1 3.1-.1zM229.1 375l.7-2-1.9-1.3-2 0-1.8 1.3-.1 1 1.9 1.5 3.2-.5zM293.2 386l1.7-2-2.2-2.5-5-.2-2.7 1.7 .2 2 2.5 1.6 5.5-.6zM126.1 388l1.8-2-1.8-1.5-3-.1-2.4 1.6 1.4 1.8 4 .2zM84.5 390l1.3-2-1.7-1.7-4-.2-2.2 1.9 2.2 2.7 2 .2 2.4-.9zM262.6 394l1-1-.4-2-3.4-1.6-5 .1-2 .8-1.3 1.7 1.3 1.8 2 .9 4 .2 3.8-.9zM148.6 394l.4-1.1-2-1.3-3.7 1.4 .2 1 1.5 .7 3.6-.7zM207.7 399l1.5-2-1.3-1.1-3-.4-1.9 1.5 1.9 2.2 2.8-.2zM109.5 406l1.4-2-2.8-1.9-5 .1-2.7 1.8 .7 1.6 2 1 6.4-.6zM241.5 407l1.5-2-2.2-2.5-4-.3-2.8 1.8 .2 2 1.6 1.2 3 .5 2.7-.7zM291.8 417l2.8-3-.6-2-2.3-1.6-4-.6-3 .5-3.1 2.7 .3 2 2.8 2.5 4 .4 3.1-.9zM211.7 423.9l1.8-1.9-1.6-1.5-3-.1-1.8 1.6 1.8 2 2.8-.1zM98.3 428.9l5.8-1.4 1.8-2.6-3.8-2.4-6-.7-6 .9-3.4 2.2 .8 2 2.6 1.4 8.2 .6zM246.2 435.9l2.9-1 1.7-2-1.3-2-2.7-1.1-8-.4-5.4 2.5 .1 2 3.3 1.9 5 .7 4.4-.6zM127.9 441.9l2.1-1 .4-1-5.3-2.1-7 .2-3.3 1.9 1.3 1.5 3 1 8.8-.5zM165.8 445.9l-.8-1-4-.5-3.4 1.5 4.4 1 3.8-1zM293.5 446.9l.8-1-2.6-.9-6.2 .9 2.2 1.3 5.8-.3zM91.5 450.9l3.6-.6 2.2-1.4-2.2-1.6-5-.7-5 .7-2.2 1.6 3.2 1.7 5.4 .3zM212.5 450.9l2.7-1 .6-1-.6-1-6.3-1.2-3 .7-1.7 1.5 2.7 1.9 5.6 .1z"/><path fill-rule="evenodd" fill="#858585" d="M53.2 232.3l-1-9 .5-12 1.9 0 .6 13-2 8zM74.2 238l-.5-8.7-1.2-4-1.9-3 .5-11 1.5 0 1.6 13.5 0 13.2zM79.1 224.9l-.2-13.6 1.3 0-.1 12.8-1 .8zM86.1 238.9l-2-27.6 2 0 .1 1 1 20-1.1 6.6zM97.1 241l-1.6-1.7-.4-2 .6-26 1.3 0 .8 8-.7 21.7zM309.7 452.9l-41.5 0-3.4-2.2-7-1-7 .8-3.9 2.4-197.7 0 0-11 6 .7 5-.8 3.5-1.9 .6-2-1.5-2-3.6-1.6-5-.6-5 .6 0-16.7 4 .7 4-.5 3-1.7 .9-2.1-1.3-2-2.6-1.4-8-.1 0-14.5 7 .4 3-.8 2.1-1.6-1.6-3-2.5-1.4-8-.1 0-15 5 .4 2.4-1.9 .5-2-.9-2-2-1.4-5 .3 0-33.5 2-.9 .7-2.4-.7-1.5-2-.8 0-52.5 4 0 .2-1.1-.2-1.4-4-.1 0-30.6 1-.9 .7 16 .3 1.1 2 .3 .9-2.4-1.9-3 .4-7 .8-5 .8-1.2 2-.3 .3-1.4 .7-20.1 1 30.9 .9-2.9-.2-12.9 1.5-7 .8-11.8 2 15.8 .1 9-.1 1.2-1-.3-1-2.4-.9 9.4 .9 15.2-1 1.1-2-.5-.8 4.2 1.8 7.2 1 9.6 1 1.2 1.1-14 1.9-9.8 2-3.9 2 2.8 .2-1.1 1.8-36.1 .8 24.1 1.2 .9 3.2-1.9 .3-10.9 1.4-8.9 .9 18.8 1.1 5.2 1 .9 3-22.1 1 7.1 1.3 3-1 20.9 .7 2 1-3.4 .7 3.4 1.3 .7 1-7.4 2 1.3 1.5-5.6 .5-15 1.3 5 .7 8.5 1-.1 1-3 1 2.8 1-7.4 1.3-2.7 1.7-13.9 1 29.6 1 .8 1-.6 1 2.1 2 .8 .5 1.1 .8 10-.3 1-2-2.8-1 .9-2.3 4.9-.2 4 .5 1 1-2.7 2 1.3 2-1.6 2.9-11-.9-9.9-1-1.2-1 .6-.7-1.5 .3-41.9 1.6 12 .8 15.7 1 4 1-5 .3 2.3-.1 15.9 .8 2.9 .8-1.9 .2-8.1 2.7-21.8-.7-13.4-1 7.2-1-2-.2-7.8 3.2 .1 1 12.1 .7-12.2 1.4 0 .5 17-1.3 28.9 1.7 3.5 1-.4 .6-2.1 1.2-14-.2-7.9-2-8 .3-17 1.5 0 .6 32.9 1 5.8 1-18.2 .9-3.3 1-.5 1 14.9 .2-.7 .8-23.7 .6-7.2 .7 0 1.9 29 3.8 22.2 1-.4 .4-1.9 .1-13 .5-5.5 1-1.7 1 11.6 1-1.4 .4-13.9 1.2-7 0-18 2.2 0 1 26 .2 1.6 1-.4 .8 11.7 1.2 2.1 1.6-12-.5-29 2.4 0-.4 24 .9 7.2 1.6-6.2 .6-22 .8-2.1 2 16 .8-16.9 1.4 0 .8 12.1 1.1-12.1-.9 28 1.4 11.9-.9 7-.7 1.2-2-1.2-.9 2 .9 6.7 2 6.9 1 .9 1.9-13.5-.9-12-.7-1 .7-15.9 2.9 25.9 1.1 1.7 .9-14.7 1.1-7.4 1 .2 .2-2.7-.2-4.7-1 .3 .4-19.6 2.4 0 .1 1-.7 20 .6 14.9-.8 10 1 4.2 1.3-9.2 1.7-2.6-.5-38.3 .9 0 .6 14 1 2.7 .9-2.6 2.8-1.1-.2-13 1.3 0-.4 13 1.5 .4 1 2.1 1-1.5 1 1 2-1.4 2.4 5.4 1.2 18.9-.9 18 .9 7 .6 2 2.8 1.3 2 2.8 .5-6.1-2.5-3.6-.2-8.4 2.2-33.1 .8 3.2 .3 23.9 .9 3.8 .9-2.8 0-14-1.5-11.9 .6-17.2 1.4 13.2 1.6 5.8 3.1-21.8-.1 32.9-.9 11 .9 3.9 1-6.9 .8 7-.4 5-2.3 3 .9 1.7 3.8 1.3 .1 4 1.1 1.4 .4-2.4-1.3-4-.4-8 1.3-4.1 1-.4 1 6.8 .6-2.3-.6-8-1 1.9-1.3-1.9 .3-8.6 1-.6 1 3.6 1 .1 1.7-8.4 .3-22.6 1.5 5.6-1.1 23.9 .6 7.7 1-.1 .5-2.6 .5-11.4 .6 19.4 1.4 1 3-1.2 1 3.4 1-3-.1 9.8 1.1 2.1 1.7-1.1-.2-27 2.4-19.5 1.8 9.6-.7 15.9 .9 4.5 1.7-14.4 0-9-1.1-5 0-14 2.4 0-.8 8 .8 2.7 0-10.7 3.1 0 .3 21 1.6 2.6 1-10.9 1.5-3.7 1.6-9 1 0-.1 11.5-1-7-1.3 21.5-.5 21.9 .8 4.8 .8-1.8 2.2-33.9 2 29.3 .9-3.4 .1-30.4 .5 14.5 1.5 5.4 2 1.2 1.8-1.7 .2-1.7-.2 16.7 2.2 4.1 1.6-3.1 1.4-11 .6 1-.4 20 .8 3.1 .7-1.1 .5-10-1.1-12 .9-11.7 .4 1.8 1.6 1.3 1.3-3.3 1.7-18.2 .8 32.1 .2 .6 1-.9 1-9.4 1-.6 1-8 1.7 7.4-.5 12.9 .8 3.7 .7-3.7-.6-11 .9-8.7 1.2 22.7 .8 2.4 1-9.7 1.6 6.3 .6 10 1.2 6 2.5 2.5 2.2-1.5 .6-3-.8-4.2-1 3-1.9-1.8 .7-5-.8-5.6-.9 5.6 .9 5-.9 1.6-.6-.6 2.5-42.5 1 1.5 .6 12.1 2.3 12.9-1.3 5 1.6 2 .8 7.5 .8-2.5 .3-17-1.1-27.2-1 8.1-.1-1.8-.1-14 4.9 0-.3 19 3.6 8.3 1-17.6 .3 1.3 1.4 32.9-.6 16-1.1 1.1-.9-20.1-1.1-5.8-.7 9.8 1 7-.3 5.8-1-1.4-.7 4.6 2.5 5 4.2 3 1.5-3 .5-6 2.6-6-.2-5 1.6-10.1 2 5.4 0 26.3-3-3.3-1.8 5.7 1.8 3.2 1 .1 2-1.6 0 59.3-2 .1-1.9 1.8 1 2 2.9 .5 0 42.6-5 .3-2.2 1.5-1.1 2 4.3 3 4 .9 0 21.9-9 .4-7.3 1.7 6.2 1-.6 4 2.7 2.4 8 1.4 0 20.2zM140 226.9l-1.2-2.6-.3-13 1.2 0 .1 1 .2 14.6zM142 236.9l0-25.6 1.1 11-.1 10-1 4.6zM151 228.3l-1.2-17 2.1 0-.9 17zM184.9 221.4l-.9-10.1 1.5 0-.6 10.1zM192.9 228.7l-.5-17.4 .7 0-.2 17.4zM194.9 237.2l-.6-8.9 1-17 .6 1.7 .3 12.3-1.3 11.9zM210.9 235.2l-1-.9-.2-23 1.3 0 0 1-.1 22.9zM220.9 237.5l-1.9-16.2 .1-10 2.3 0-.5 26.2zM224.9 256.4l-1.2-2.2 1.2-42.9 2 40.9 0 1.8-.1-3.8-.9-.7-1 6.9zM260.8 221.7l-.7-10.4 1 0-.3 10.4zM282.8 238.4l-1.5-5.1 .2-14 .7-8 1.4 0 .6 15-1.4 12.1zM304.7 252.6l-1.1-1.4-.6-11.9-1.5-6-1-22 2.3 0 .6 6 1.3 3.6 0 31.7zM230.9 220.1l-1-1.8 0-6.5 1 .5 0 7.8zM92.1 230.8l0-18 0 18zM263.8 226.9l0-14.5 0 14.5zM239.1 246.2l.7-12.9-1-13.2-1.3 3.2-.1 5 1.4 18.7 .3-.8zM306.7 237.5l0-12.2 0 12.2zM119.2 244.2l.6-4.9-.7-8.5-.8 8.5 .9 4.9zM161 246.2l.7-5-.7-7.5-.8 6.6 .8 5.9zM232 254.2l.8-5-1-7-.7 8 .9 4zM158.4 249.2l-.4-6.9-.6 4.9 .6 2.7 .4-.7zM135.6 259.2l-2.5-2 .7-7-.8-6-.8 6 .5 9 2.9 0zM203.9 255.2l.8-4-.8-6.2-.7 6.2 .7 4zM243.1 255.2l.6-4-.9-6.7-.8 6.7 .8 4.6 .3-.6zM89.1 254.9l0-7.7 1.1 6-1.1 1.7zM188 249.2l-.1-1.1 0 2 .1-.9zM154.1 260.2l.6-3-.7-7-.8 8 .9 2zM180.1 257.2l-.2-5.5 0 6.1 .2-.6zM272.9 261.2l.7-4-.8-5-1 4.2-1-.2-.6 2 .6 1.7 1-.1 1.1 1.4zM130.7 261.2l-.7-8.1-.8 6.1 .8 3 .7-1zM237.9 260.2l.9-4-1-2.5-1 3.5 1.1 3zM239.9 263.2l.7-2-.8-6.4-.9 1.4 1 7zM268.1 256.2l-.3-1.5 0 2.5 .3-1zM115.8 268.2l1-2-.7-8.9-1 5.5-1.9 3.4 .9 1.6 1.7 .4zM149.1 265.2l2.2-3-2.3-3.9-.7 3.9 .8 3zM100.4 277.2l1.6-15-.9-2.1-1-.3-1.5 2.4 1.1 8-.4 5 .8 2.6 .3-.6zM126.3 267.2l.6-4-.8-3.9-.9 4.9 1.1 3zM252.3 279.2l.8-12-1.3-4.6-2-2-2.8 3.6 1 4-1.3 3-.2 4 1.3 2.2 1-3.8 2 .7 1 5.7 .5-.8zM120.1 266.2l0-4.5-.6 2.5 .6 2zM82.6 271.2l-.1-7-.4-1-2-.7-.3 3.7 1.3 1.6 1 4.2 .5-.8zM218 264.2l-.1-1.1 .1 1.1zM53.5 269.2l.4-3-.7-2.9-.8 3.9 .8 2.7 .3-.7zM141.3 265.2l-.3-1.8 0 2.7 .3-.9zM271.1 269.2l-.3-4.4-.5 3.4 .5 1.5 .3-.5zM91.7 274.2l1.1-5-1.7-3.1-1.5 3.1 1.5 6 .6-1zM259.9 277.2l1.4-2 .1-2-2.6-7.4-1.6 8.4 1.3 3 1.4 0zM174.2 276.2l.5-3-2.2-2-.5-3.1-.5 7.1 1.5 1.8 1.2-.8zM239.2 271.2l.7-2-1.1-1.1-.9 2.1 1.3 1zM255.1 269.2l-.3-1 0 2 .3-1zM133.1 282.2l.6-2-1.4-5-.3-5-1-1.4-.3 4.4-1.7 1.5-1.2-.5-.7-4.3 .3 7.3 2.6 2.4 2-1 1.1 3.6zM202 274.2l-.1-5.5-1.2 3.5 1.3 2zM70.7 276.2l1.1-2-.1-2-1.5-2.9-.8 4.9 .8 2.6 .5-.6zM235.1 272.2l-.3-2.2-.4 1.2 .7 1zM124.1 274.2l0-4 0 4zM220.9 275.2l0-3.3 0 3.3zM216.2 275.2l.4-1-1.6 0 1.2 1zM225.2 277.2l-.3-4-.7 3 .7 1.8 .3-.8zM274 278.2l.9-3-2.1-1.9-1.3 .9-.1 2 2.6 2zM84.7 285.2l0-3 1.6-4-1.2-2.8-2-.7-1.3 1.5-.2 2 2.2 4-.4 2 .7 1.4 .6-.4zM204 279.2l1.2-3-.3-1.5-1-.1-.5 2.6 .6 2zM294.1 278.2l-.4-3.4-.5 2.4 .5 1.5 .4-.5zM58 280.2l-.8-4.4-.7 3.4 .7 1.8 .8-.8zM264.9 279.2l-.1-3.7-.5 2.7 .6 1zM139.4 288.2l.8-4-3.1-3 .7-2-.8-2.1-.6 2.1 .6 2-1.2 4 2.2 3.5 1 .3 .4-.8zM152.3 277.2l-.3-.7 0 1.3 .3-.6zM155.6 280.2l.3-2-1.9-1.6-.4 2.6 1.4 1.9 .6-.9zM247.9 287.2l1.5-3-.5-3-1.1-1.8-3 1-1-2.9-1-.6 1.2 9.3 1.8 1.4 2.1-.4zM98.1 284.2l.5-5-1.5-1.7-1 .2-1.1 1.5 .1 2 3 3zM278.2 280.2l-.4-2.9-.7 1.9 .7 1.6 .4-.6zM280.1 281.2l-.3-3.6-.8 2.6 .8 1.6 .3-.6zM213.1 282.2l-.2-2.3-.5 1.3 .7 1zM237.2 280.2l-.4-.7 0 1.5 .4-.8zM120.1 287.2l.4-4-2.4-2.5-1 1.5 .2 3 .8 1.6 2 .4zM274.8 283.2l0-2.2 0 2.2zM64.6 285.2l.4-2-.8-1.3-.8 2.3 .8 1.4 .4-.4zM73.5 283.2l-.3-1.3 0 1.8 .3-.5zM162.9 289.2l1.7-1 .9-2-2.5-2.2-3 .8-1-3-.6 2.4 2.2 5 .4 .7 1.9-.7zM167.2 284.2l-.2-2.8-.9 1.8 .3 1 .8 0zM68.7 284.2l-.5-2-1.9 1 .9 1.8 1.5-.8zM87 285.2l.1-1.9-1-1.1-.6 3 .6 .8 .9-.8zM111.5 284.2l-.4-1-.6 1 .6 .9 .4-.9zM283.9 292.2l3.3-4 .7-2-.5-2-1.7-1.8-1.9 .5-1.1 2.3 1.2 7zM232.1 285.2l-.3-1.5-1.9-.5 0 1.5 2.2 .5zM267.2 284.2l-.4-.9 0 1.8 .4-.9zM107.5 290.2l.4-4-1.8-1.6-1.4 1.6-.1 2 1.5 1.8 1.4 .2zM203 293.2l1.9-1 .7-2-1.7-6-2.8 3-.6 2 .7 3 1.8 1zM299 290.2l1.1-3-.7-2-1.7-.8-1.3 .8-.6 3 .9 1.8 2.3 .2zM173.5 291.2l1.4-1 0-1-1.9-1.7-1.2 .7-.3 2 2 1zM218.4 289.2l-.5-1.8-1.8 .8 .8 1.1 1.5-.1zM184.4 295.2l1.2-3-1.7-3.1-1.4 1.1-.6 3 1 2 1.5 0zM244.2 290.2l-.4-1.2-.3 1.2 .7 0zM274.6 292.2l.2-2.2-2-.6-1.2 1.8 .3 1 1.9 .7 .8-.7zM58.2 295.2l.4-2-.9-1-1.5-.3-1.5 1.3 .3 2 1.2 .8 2-.8zM74.6 296.2l-.2-2-1.2-.5-.4 2.5 1.8 0zM239.3 298.2l.5-2.4-1-.7-2 .7 0 1.7 2.5 .7zM261.9 295.2l-1.1-1-.8 1 .8 .7 1.1-.7zM89.6 302.1l1.1-1.9-.4-2-1.2-1.3-2 .1-1.4 2.2 .1 2 1.3 1.4 2.5-.5zM163.4 301.2l.4-2-1.8-1.5-1.5 1.5 .3 2 1.2 .7 1.4-.7zM131.2 300.2l-.2-1.7-1 .1-.1 1.6 1.3 0zM150.1 302.1l1.1-1.9-1.2-1.6-1.2 1.6 1.3 1.9zM289.4 300.2l-.7-1.9-2.1 .9 1.1 1.5 1.7-.5zM301.9 305.1l1.2-3-1.4-1.8-2 0-1.4 1.8 .2 2 1.2 1.2 2.2-.2zM110.8 305.1l.8-3-1.5-1.6-1 .2-1.3 1.4 .2 2 1.1 1.2 1.7-.2zM174.2 305.1l2.1-2-.6-1.9-1.7-.7-1.3 .7-.8 1.9 1.1 1.8 1.2 .2zM215 304.1l.6-1-.7-1.4-3-.5-.6 1.9 .6 1 2 .6 1.1-.6zM248.5 307.1l.3-3.2-1-1.3-2-.1-1.4 1.6 .4 3 2 1 1.7-1zM275.4 307.1l1-1 .2-2-1.8-1.3-2.3 2.3 1.3 2.2 1.6-.2zM62.5 307.1l-.3-2.4-1-.4-1.8 .8 .8 2.5 2.3-.5zM194.2 310.1l1.2-3-.5-1.3-2-.8-1.6 1.1-.5 2 1.1 2 2.3 0zM99 311.1l1.7-2-.2-2-1.4-1.4-2 0-1.7 1.4-.2 2 1.9 2 1.9 0zM123.5 309.1l.3-2-.7-1-2-.3-1.9 1.3 .9 2.6 2 .3 1.4-.9zM232.3 310.1l1.1-1-.1-2-1.5-1-1.9 .2-.8 2.8 1.8 1.4 1.4-.4zM73.6 310.1l1.2-1-.1-2-2.5-.7-1.4 1.7 .1 1 1.3 1.1 1.4-.1zM290.6 315.1l1.5-3-1.3-2-1.1 0-1.3 1-.5 2 .8 1.8 1.9 .2zM54.5 320.1l1.3-2-.1-3-1.5-1.9-2-.2-2.4 2.1-.2 3 2.6 2.7 2.3-.7zM178.7 317.1l.8-2-1.5-2.3-1.7 1.3-.1 2 .8 1.4 1.7-.4zM88.8 317.1l.7-1-.4-2.1-2-.9-1 .6-.6 1.4 .6 1.9 2.7 .1zM260.1 316.1l.9-1-1.2-1.3-1 1.3 1.3 1zM307.3 321.1l.9-2-.2-2-1.3-1.8-2-.1-1.8 1.9 0 3 1.8 1.9 2.6-.9zM138.9 320.1l.5-3-2.4-1.3-1.5 1.3 0 2 1.5 1.6 1.9-.6zM246.6 322.1l1.8-2-.2-2-1.4-1.4-2-.2-1.9 1.6-.2 2 1.1 1.7 2.8 .3zM104.8 323.1l1.2-1 .4-2-1.3-2.1-2-.2-1.4 1.3-.2 2 1.6 2 1.7 0zM211.4 322.1l.5-2.9-2-1.3-1.6 1.2-.2 2 1.8 1.6 1.5-.6zM157.6 322.1l.6-2-1.2-1.4-2-.2-1.6 1.6 .5 2 1.1 .7 2.6-.7zM125.3 323.1l-.2-2.9-1-.6-1.7 .5-.2 3 1.9 .9 1.2-.9zM232.9 327.1l1.6-2-1.7-2.2-1.9 .9-.6 1.3 .6 1.4 2 .6zM287.4 327.1l.4-2-1.1-1.7-2-.3-1.3 1 .4 3.2 1.9 .8 1.7-1zM65.6 330.1l1.4-1 .5-2-1.3-2.1-2-.3-1.7 1.4-.2 2 .9 1.5 2.4 .5zM191.5 330.1l1.1-1-.7-2.1-2-.6-2 .9 0 2.3 2 .9 1.6-.4zM170.3 333.1l1.2-1 .4-2-.9-1.8-2-.8-1.9 1.6-.1 2 1 1.6 2.3 .4zM271.5 329.1l-.7-1.6-2 .6 1 1.8 1.7-.8zM143.7 335.1l1.9-2 0-2-1.6-1.6-2-.1-2 1.7-.4 2 1.4 1.9 2.7 .1zM301.1 334.1l.6-2-1-1.9-1-.4-2 .9-.6 1.4 .6 2.1 2 .7 1.4-.8zM104.8 338.1l.9-2-.6-2-1-.9-2 .2-1 1.7 .2 2 1.8 1.6 1.7-.6zM219.2 336.1l.7-1-.7-2-2.3-.7-1.3 .7-.5 2 .8 1 3.3 0zM79.9 337.1l-.8-2.8-2.4 .8 .4 2.5 1 .5 1.8-1zM248.1 338.1l.4-2-.7-1-2 0-.8 1 .4 2 1.4 .6 1.3-.6zM157.5 339.1l1.1-1-.3-1-2.3-.4-.6 1.4 2.1 1zM288.8 343.1l1.7-2-.8-1.4-2-.8-2.5 1.2 .5 2.6 3.1 .4zM61.8 344.1l.9-1-.1-2-2.4-1.1-1.4 1.1 0 2 1.4 1.3 1.6-.3zM233.9 343.1l.2-2-.8-1-2.4 .3-.7 1.7 .7 1.4 1.9 .4 1.1-.8zM181 344.1l1.1-1 .1-2-2.3-1-1.1 1 0 2 2.2 1zM198.5 344.1l1.6-2-1.2-1.3-3-.2-1.6 1.5 1.6 2 2.6 0zM264.4 344.1l.3-2-.7-1-2.2 .1-.4 2.9 1.4 .8 1.6-.8zM117.5 348.1l1.1-2-1.5-2-2-.3-1.8 1.3-.1 2 .9 1 2 .6 1.4-.6zM133.3 350.1l2-2-.3-2-2-1.3-2 .2-1.3 1.1-.4 2 1.7 1.9 2.3 .1zM283.1 357.1l.5-3-.8-1.1-2 .1-1 2 .6 2 1.4 .7 1.3-.7zM88.4 359.1l2.5-1 .3-1-1.1-1.5-3-.1-1.3 1.6 .4 1 2.2 1zM170.9 360.1l1.5-1 0-2-1.4-1-2 .2-1.3 1.8 .3 1 2.9 1zM245.5 360.1l.2-1-1.9-1.4-2.4 1.4 1.4 1.8 2.7-.8zM131.4 366l1.1-2-1.5-2.8-3-.4-1.7 1.3-.5 1.9 1.3 2 1.9 .8 2.4-.8zM209 364l.1-2.9-2.2-.5-1.2 1.5 .2 1.5 1 1 2.1-.6zM72.3 372l2.7-2 .4-2-1.2-2-3-.8-2.5 1.8-.3 3 1.8 1.9 2.1 .1zM108.1 371l1.4-2-1.4-2.8-3-.5-2.5 1.3-.7 2 1.2 1.8 2 .8 3-.6zM307.2 373l2.3-3-.8-2.7-3-1.8-3 .8-1.8 2.7 .8 2.9 3 1.7 2.5-.6zM148.4 373l1.6-2-.3-2-1.7-1.5-2 .2-1.3 1.3-.2 2 1.5 2 2.4 0zM259.2 373l2-2-1.4-2.2-4-.5-2.4 1.7 1.4 2.7 4.4 .3zM187.7 373l1.1-2-1.9-1.4-3 0-1.9 1.4 0 1 1.9 1.4 3.8-.4zM229.5 375l.7-2-2.3-1.6-2 .1-2.2 1.5 .6 2 1.6 .8 3.6-.8zM292.4 387l2.3-1.3 .9-1.7-1.9-2.5-5-.8-3 .9-1.4 1.4 0 2 1.4 1.5 3 1.1 3.7-.6zM126.8 388l1.5-2-2.2-1.7-4 .2-1.7 1.5 .7 1.5 2 .9 3.7-.4zM83.7 391l2.4-2-1-2.5-4-1-3.4 1.5-.4 2 1.8 2 3 .8 1.6-.8zM261.1 395l2.8-1 .8-2-3.9-2.7-7 .1-3 2.6 1 1.7 2 1.1 7.3 .2zM290.8 397l-1.1-3-3.5-4-6.4-.4-1.6 .4-.1 1-5.2 5 .9 1.6 17-.6zM146.2 395l2.7-1 .1-2-3-.7-3.3 1.7 .3 1.2 3.2 .8zM208.8 399l1.1-2-2-1.6-3-.2-2.3 1.8 .3 1.2 2 1.4 3.9-.6zM107.3 407l3.9-2-.5-2-5.6-1.5-4 1.1-1.4 1.4 .4 1.4 2 1.3 5.2 .3zM242.2 407l1.1-1 .1-2-2.6-1.9-4-.3-3.5 2.2 .3 2 2.2 1.5 3 .4 3.4-.9zM293.7 420l2.5-1-2.1-1 1.5-4-1.9-3.2-3-1.3-4-.2-2.9 .8-2.6 1.9-.6 2 .7 3-1.8 1 .3 1 5.9 1.8 8-.8zM212.8 423.9l1.4-1.9-2.3-2-3 .1-2.2 1.9 2.2 2.3 3.9-.4zM101.9 428.9l4.2-1.6 1.5-2.4-1.5-1.8-4-1.6-11 0-4 1.4-2.1 2 1.1 2.3 5 2 6 .5 4.8-.8zM246.3 436.9l5.5-2.3 .9-1.7-1.1-2-5.8-2.3-6-.3-5 1.3-3.6 3.3 1.1 2 3.5 1.8 5 .7 5.5-.5zM129.2 442.9l3.8-1.1 1.5-.9-.1-1-6.4-2.1-6.9-.8-6 .6-3.6 2.3 1.6 2 5 1.5 11.1-.5zM165.1 447.9l3.4-2-.4-1-5.1-1.5-10-.6-1 .5 .9 2.6 1.9 1 10.3 1zM297.4 447.9l2-1 .3-1-2-1.4-4-1.1-9 .3-4.4 2.2 1.5 1.7 3.9 1 7 .1 4.7-.8zM97.8 451.9l4.1-2 .1-2-2.9-1.7-4-1-12 .4-3.9 1.3-1.7 2 2.6 2.4 5 1.3 7 .2 5.7-.9zM215 451.9l2.9-1.2 1.3-1.8-1.7-2-3.6-1.2-8 .1-3.2 1.1-1.7 2 1.5 2 3.4 1.2 9.1-.2z"/><path fill-rule="evenodd" fill="#919191" d="M53.2 229.3l-.3-18 1.5 0 .3 12-1.5 6zM72.2 221.3l-.8-4 .5-6 .3 10zM97.1 237.8l-1 .4-.7-3.9 .5-23 .7 0 .9 8-.4 18.5zM181.9 452.9l-3.1 0-7.8-2.7-1.2-2.3 1.8-2-2.6-2.5-14-2-13-3.5-29.9-2.3-37-1.2-6.8-1.5-5-3 .9-1.5 3-1.8 7-1.4 2.9 .4 6 3.1 6 1.8 11 .1 7-2 6-3.6 5.1-1.1-1.1-.4-1-2.8-3.2-2.7-7.8-3.1-17 2.1-16.9 3.6-9-.2-1.1-.4-.1-1 1.9-3-.4-3-2.3-2.3-5.4-2.7 1.6-2 6.8-3 20.9-3.4 4.3-1.6-3.9-6 2.3-4-1.7-1.9-2-.8-5 .4-1.8 2.3-.1 3-3 .9-9 .2-8-3.5-7-.3 0-12.4 3 .5 3-.7 2.1-1.7 .8-2-.4-2-2.5-2.5-3-.9-3 .6 0-32.3 2-.7 1.2-2.1-1.1-3-2.1-.7 0-51.5 3-.5 1 1.4 .6-2.6-.6-2.8-4 .8 0-21.4 1.6 7.4 1.8 3-.3 5 .9 3.5 .8-3.5-.6-7 1.1-3-1.7-3 0-5 1.2-6 2.2-1.4 .4-1.5 .6-15.2 1 26.5 1.5-2.4-.2-12.9 1.7-17.2 1.6 17.2-.6 2.3-1-2.1-.4 1.8-.4 23.9-.2 .9-1-.9-1 .3-.9 4.7 .6 7-1.5 5 .8 2.3 2-1.6 .9 6.3 1.1 .7 3-22.8 2-4.5 2 3 .2-1.4 1.8-28.5 .5 15.5 1.5 1.2 2.9-1 .5-1.2 .4-10.9 1.1-5.5 .6 15.4 1.4 6.7 1 1.4 3-22.3 1.8 11.2-.5 19 .7 2 1-1.2 1 2.2 1 .1 1-7.2 2 .7 1.6-6.6 .4-10.9 1 2.1 1 9 2-2.3 1 1.6 2.5-10.5 1.5-11.8 1 28.3 1 1.2 1-.2 1 1.9 2-.1 1 6.4 0 3.1-1-.3-1-2.3-3 5.1-.8 4.7 .8 2.5 1-2.5 2 1 2.5-2 2.5-9.1 1-.2 2 1.7 1.2-.4 .5-7-1.2-10 2.1-18.9 .4-16.1 .7 11.1-.6 12 .9 6.5 .8-5.5-.7-13 .7-16 1.2 0 .3 14-.7 26.9-1.3 12 .7 2.8 .5-6.8 .5-.6 1 2.1 1 .3 1.5-4.8 .5-5.1 .9 2.1-.8 12 .9 1.8 .7-.8-.7-13 1-18.6 .9-5.2 1 .7 1 14.1 1.9-33.9 1.8 29 2.8 15.9-.5 1.5-2.4-.5 .1-12-.7-2.5-.9 14.5-1.1 .9-1-7.9-.8 10 .8 3.2 2-3.2 4-.4 1 .6 1 3.3 1-.3 .5-2.2 .4-14 1.1-4.4 1 11.3 1.2-3.9 1.5-20.9-.1-18 1.9 0 .9 24 1.6 7.3 1 11.3 1-.1 1.4-6.6 .2-35.9 1.7 0-.6 19 1.3 14.8 1.8-8.8 .9-20 .3-1 2 15 .9-19 1.2 0 1.2 16 .5 26.9-.8 4-2-.6-1.1 2.6 2.5 13 1.6 2.2 1.9-13.2 0-19 1.9 16 1.2 1.7 .8-3.7 .2-10.2 2.2-8.7 .1-7-1.2-8 .6-12 1.7 0 .2 2 0 33.9-.6 8.7-2 .2-.2 1.1 2.2 1 1 4 2-10 1.1-2-.7-15.9 .8-23 .5 13 1.3 5.8 .9-4.5 3-1 2 .6 1 1.7 1-1.4 1 1 2-.1 2 5.2 1.3 18.6-.7 17 .8 7 .6 2.3 3 1.3 2 3.1 .8-6.7-2.5-4-.2-6 1.6-30.9 .3-1.7 .6 18.6 1.4 11.6 1-2.5 .5-6.1-.9-23.9 .4-.6 2 7 2.6-14.4 .4-7.4 0 25.9-1 16.4 1 3.8 1-4.4 .5 6.6-.3 2-2.4 3 1.2 2 3.2 1 .8 5 1 1.2 .8-2.2-1.9-13 1.1-2.9 1-.3 1 6.1 .7-2.9-.3-10 2.3-9 .3-19.1 1 3.2-.8 19.9 .8 18.9 .7-.9-.3-5 1.6-1.2 1 2.9 3-1.1 .8 .4 1.2 3.3 1-.9-.6 6.6 1.6 2.4 1-.1 1.1-2.3-.6-4 .5-20.5 1.9-16.9 1.2 9.5-.2 5.1-1-3.1-.5 3.9-.3 8 .8 4.2 1-3.7 1 3 .7-3.5 2.2-25.9 2.1 23.2 2-12.6 1.1 1.4 1.9-13.4 .8 2.4-.7 33.9 .9 4.6 1-1.6 2-32.3 1.7 28.3-3.3 5 1.2 4-1.1 4 .4 6-1.9 1.5-1-3.1-1-.3-.3 .9 1.3 13.9 .6-2.9 3.4-.5 1.6-2.5 .1-3-1.4-4 .7-3.1 1-.2 1 1 1 4.7 1.2-3.4 .3-10-2.6-8 1.1-16.5 1 2.7 2 1.1 1-.5 .4 1.2 .1 11 2.3 6-1.6 10 1.2 3 1.6 .4 1.9-3.4-2.3-9 1.4-6 1 3.1 .3 9.9 .7 .9 .9-.9 .1-29 1-1.6 1 .5 1.2-1.8 1.8-15.7 .4 27.6 1.6 1.1 3-16.8 1.2 4.7-.1 12 .9 4.5 .8-4.5 .2-15.5 1.1 18.5 .9 3.5 1-6.3 1 .8 1 12 1.4 6 2.5 1.7 2.5-1.7 .6-4-1.1-5.4-1 4.8-1-.4-.6-2-.2-17 .8-13.4 1-4.2 2.6 21.6-1.5 4 1.9 2.4 1 7.6 .8-3 .4-14-.4-25.9-.8-10.6-1 10.6 0-11.7 4.4-.3-.2 19 2.3 8 .3 4.9-.1 22-1.3 3-.3 5 2.1 4 4.8 3.8 1.8-3.8 .7-6 2.2-5 1.3-12.6 2 4.2 0 23.4-3-3.2-2.1 6.2 2.1 3.7 3-1.5 0 58.4-3 .6-1.3 1.7 1.3 2.4 3 .5 0 17.7-2-2.3-4-.1-2.4 1.7-1 3 1.4 2.8 3 1.3 3-.5 2-2.1 0 19-13-2.5-1.3-1 1.2-3-1-2-2.9-1.5-3-.3-3 .4-2.6 1.4-1.1 2 .5 3-7.3 2-6.4 3.8-2 .1-4-3.3-5-1.2-6 .8-3 2.8 1.2 2 3.8 1.6 13-.4 2.4 1.8 1.6 3.8 28.9-1 9 1.4 0 16.1-11-.9-1-.4-1.2-4-1.8-1.7-7-1.8-5.9 1.7-2 1.8-1 3-1.6 1-23.4 1.3-8.9 4.7-4.1 4.1-7 2.9-8.9 6.7-14.9 5.2-11.1 5-3 2.2-14 4.8zM124.1 231.9l-1.1-6.6 .2-14 1.1 0-.2 20.6zM139 222.6l.3-11.3-.3 11.3zM151 225.9l-.9-14.6 1.6 0-.7 14.6zM184.9 217.7l-.2-6.4 .2 6.4zM192.9 224.5l0-13.2 0 13.2zM210.9 231.2l-1-3.6 0-16.3 1 1.8 0 18.1zM220.9 229.8l-1.4-8.5 0-10 1.7 0-.3 18.5zM234.8 225.2l-.2-13.9 1 0-.8 13.9zM239.8 227.5l-.4-8.2-.6-2.2-1 3-.5-8.8 2.2 0 .3 1.8 0 14.4zM282.8 236.6l-1.2-4.3 0-9 .9-12 .7 0 .8 15-1.2 10.3zM304.7 248.9l-1-.1-.6-9.5-1.5-6-.7-22 1.6 0 2.2 12.2 0 25.4zM79.1 220.4l0-8.3 0 8.3zM86.1 236.1l-1-23.5 1 1.8 .4 8.9-.4 12.8zM113.1 265.1l-1-.7-1-10.9-1-.5-1 .7-.3-1.5 .3-39.5 2 28.7 1 3.6 1-2.3 .1 13.5 .9 3.9 1-1.8 0 3.2-2 3.6zM224.9 255l-.8-1.8 .8-40.3 1.2 30.3-1.2 11.8zM142 230.9l0-15.8 0 15.8zM92.1 224.5l0-6.3 0 6.3zM194.9 232.6l0-14.1 .8 4.8-.8 9.3zM298.7 271.2l-1.3-27 1.3-21.4 1.4 32.4-.4 15.2-1 .8zM200.9 227l0-3 0 3zM161.1 247.2l.7-6-.8-9.6-.8 9.6 .9 6zM158 250.2l.8-4-.8-8.2-.7 8.2 .7 4zM204.1 256.2l.7-5-.9-8.2-.8 8.2 1 5zM243.7 256.2l-.9-13.8-.8 9.8 .8 4.9 .9-.9zM212.9 254.1l-1.1-1.9 .1-3.9 1-2.1 .8 5-.8 2.9zM154.2 260.2l.5-3-.7-10.7-.9 11.7 .9 2.8 .2-.8zM186.3 259.2l.8-1 1-10-2.2-1.8 .4 12.8zM272.8 262.2l.9-5-.9-8.4-1 6.8-1-.8-.9 2.4 .9 4 1-.6 1 1.6zM180.2 258.2l-.3-8.2-.5 6.2 .8 2zM268.9 258.2l.4-1-1.5-5 0 6.3 1.1-.3zM240.1 263.2l.2-8-.5-1.4-1 1.2-1-2.4-1 2.6 0 4.2 1 1.9 1-3.7 1 6.5 .3-.9zM149.6 265.2l2.5-3-1.9-2-1.2-4.4-.8 6.4 .8 3.5 .6-.5zM100.2 278.2l2.1-16-1.2-2.6-1-.2-1.6 2.8 .8 4 0 10 .9 2zM141.3 266.2l-.3-5.1 0 5.7 .3-.6zM283.8 265.9l0-4.8 0 4.8zM82.3 272.2l.5-8-.7-1.6-2-.6-.3 5.2 1.3 1.4 1.2 3.6zM271.2 269.2l-.4-5.5-.6 4.5 .6 1.8 .4-.8zM95.1 268.2l0-3.1-1 3.1 1 0zM91.4 275.2l1.6-6-1.9-3.9-1.8 3.9 1.1 5 1 1zM173.2 277.2l1.8-3-.6-2-2-2-.4-3.3-.8 1.3-.1 6 .9 2.7 1.2 .3zM133.4 282.2l.4-2-1.8-11.1-1-1.5-.6 5.6-1.4 1.1-1-1.1-.9-4.9-.6 3.9 .6 5 1.9 2.3 3 .1 1 3.2 .4-.6zM202.4 274.2l-.5-6.4-1 1-.6 4.4 .6 1.5 1 .5 .5-1zM239.6 271.2l.5-2-1.3-1.6-1.2 2.6 1.2 1.6 .8-.6zM255.3 270.2l-.5-2.8 0 3.6 .5-.8zM70.9 276.2l1.1-2-.2-2-1.6-3.4-.9 2.4 .1 4 .8 1.8 .7-.8zM79.4 271.2l-.3-2.2 .3 2.2zM124.3 274.2l-.2-5.1-.6 4.1 .8 1zM235.3 272.2l-.5-2.6 0 3.4 .5-.8zM221.1 275.2l-.2-4-.8 3 .8 1.5 .2-.5zM225 278.2l.6-3-.7-2.6-.8 3.6 .9 2zM274.8 278.2l-.1-4-.9-.9-2 .1-.7 1.8 .6 2 2.1 1.6 1-.6zM204.1 280.2l1.2-4-.4-2.1-1-.3-.7 3.4 .9 3zM216.8 275.2l.2-1-1.1-.6-1.9 .6 .2 1 2.6 0zM294.3 278.2l-.6-4.1-.6 3.1 .6 1.9 .6-.9zM87.1 286.2l.4-2-1.4-8-2-1.7-2 .2-.6 3.5 2.1 4 .2 3 2.3 1.6 1-.6zM265.1 279.2l-.3-4.4-.7 3.4 .7 1.6 .3-.6zM152.5 278.2l-.5-2.4-.5 1.4 .5 1.3 .5-.3zM98.4 284.2l.5-5-.8-1.8-1-.3-1.9 1.1-.5 2 .8 2 2.9 2zM139.3 289.2l1.1-5-2.5-3-.9-4.6-1.5 8.6 2.5 4 1.3 0zM155.3 283.2l.8-5-2.1-2-.8 1 .1 2 1.7 4.9 .3-.9zM278.1 281.2l.5-2-.8-2.4-1 2.4 1.3 2zM279.8 282.2l.8-2-.8-3.2-.9 3.2 .9 2zM76.3 279.2l-.2-1.2 .2 1.2zM213.2 282.2l-.3-3-.6 2 .6 1.7 .3-.7zM237 281.2l-.2-2 .2 2zM120.4 287.2l.3-4-2.6-2.9-1.2 1.9 .5 4 1.7 1.6 1.3-.6zM162 290.2l4-3 1.6-4-.6-2.3-2 3.8-3-1.4-2 .4-1-2.5-.4 4 2.4 5.1 1-.1zM275.1 283.2l-.3-2.8-.6 1.8 .6 1.6 .3-.6zM68.2 285.2l.8-2-.5-1-1.3-.3-2 1-1-1.6-.9 2.9 .9 1.8 1-1.7 3 .9zM73.7 283.2l-.5-1.7 0 2.5 .5-.8zM284.2 292.2l4.2-6-1.4-3-2.3-1.3-1.7 1.3-.8 3 1.2 6 .4 .6 .4-.6zM111.2 285.2l-.1-2.6-.7 1.6 .8 1zM232.4 285.2l-.6-2-2.3 0-.4 1 .8 .8 1.9 .9 .6-.7zM266.9 285.2l-.1-2.3-.6 1.3 .7 1zM107.8 290.2l.4-4-1.1-1.9-1-.1-1.3 1-.4 3 1.7 2.1 1 .6 .7-.7zM204.2 293.2l1.6-4-1.9-5.9-3.1 3.9-.6 3 1.6 3 2.4 0zM299.6 290.2l.9-1-.2-3-2.6-2.1-1.9 2.1 .2 3 1.7 1.6 1.9-.6zM219 289.2l-1.1-2.2-2.1 1.2 2.1 1.8 1.1-.8zM174.4 291.2l1-1-.7-2-1.7-1-1 .4-.7 2.6 1.7 1.3 1.4-.3zM184.8 295.2l.9-3-1.8-3.4-1.6 1.4-.6 3 1.2 2.3 1.9-.3zM259 289.2l-.2-.9 .2 .9zM275 292.2l.2-2-1.4-1.4-2.7 2.4 1.7 1.9 2.2-.9zM57.4 296.2l1.2-1 .3-2-.7-1-2-.5-1.8 2.5 .8 1.5 2.2 .5zM166.3 293.2l-.3-.8 .3 .8zM75 296.2l-.3-2-1.5-.7-.7 2.7 1.7 .7 .8-.7zM261.4 296.2l.4-2-2-.1 0 1.6 1.6 .5zM239.9 298.2l.6-2-.7-1.1-2-.3-1.5 1.4 1.5 2.4 2.1-.4zM226.5 296.2l-.6-.8 0 1.3 .6-.5zM90 302.1l1-1.9-.3-2-1.6-1.7-2 .1-1.4 1.6-.2 3 1.6 1.7 2.9-.8zM131.6 300.2l-.5-2-1.1 0-.4 2 2 0zM162.2 302.1l1.6-.9 .3-2-2.1-1.9-1.3 .9-.5 2 .8 1.6 1.2 .3zM289.7 300.2l-1-2.2-1.7 .2-.8 1 1.5 1.7 2-.7zM150.7 302.1l.8-1.9-1.5-1.9-1 .5-.2 2.4 1.2 1.3 .7-.4zM302.5 305.1l1-2-.4-1.9-1.4-1.3-2-.1-1.7 2.3 .2 2 1.5 1.7 2.8-.7zM111.3 305.1l.7-2-.5-1.9-2.4-.8-1.5 1.7 .1 2 1.4 1.5 2.2-.5zM175.2 305.1l1-1 .3-2-2.5-1.8-1.6 .9-.9 1.9 1.5 2 2.2 0zM215.4 304.1l.3-2-.8-.8-2-.7-1.5 .6-.4 1.9 .9 1.4 2 .5 1.5-.9zM248 308.1l1.4-2-.1-2-1.5-1.9-2 0-1.7 1.9-.1 2 1.8 2.3 2.2-.3zM275.9 307.1l.9-3.2-1-1.1-2-.1-1.3 1.4-.1 2 1.4 1.5 2.1-.5zM61.4 308.1l1.5-1 0-2-1.7-1.1-1.4 .1-1.2 2 1.6 1.9 1.2 .1zM194.6 310.1l1.1-2-.3-2-1.5-1.4-2 .2-1.4 2.2 .3 2 2.1 1.7 1.7-.7zM74.1 310.1l.9-1-.1-2-2.7-.9-1.3 .9-.3 2 1.6 1.4 1.9-.4zM99.5 311.1l1.4-2-.2-2-1.6-1.7-2 0-1.9 1.7-.2 2 2.1 2.4 2.4-.4zM122.4 310.1l1.4-1 .3-2-2-1.6-2 .4-1.2 1.2 .3 2 3.2 1zM232.8 310.1l.8-1-.1-2-1.7-1.3-2.3 .3-1 2 .9 2 1.5 .7 1.9-.7zM291 315.1l1.2-2 0-2-.7-1-1.8-.3-1.6 1.3-.2 3 1.8 1.5 1.3-.5zM54.9 320.1l1.3-3-.6-3-2.4-1.6-2 .4-1.7 2.2 .2 4 2.5 2 2.7-1zM89.2 317.1l.6-2-.7-1.5-2-.9-1 .5-.9 1.9 .5 2 1.4 .8 2.1-.8zM179.2 317.1l.5-2-.6-2-2.1-.3-1.1 2.3 .4 2 1.7 1 1.2-1zM260.9 316.1l-.1-2.3-2 .3 .1 2 2 0zM306.4 322.1l1.8-2 .1-3-1.6-2.3-2-.1-2.2 2.4-.1 3 1.3 1.8 2.7 .2zM139.2 320.1l.7-2-.9-1.8-1-.7-2 .5-.9 2 .8 2 2.1 .8 1.2-.8zM247.2 322.1l1.4-2-.1-2-1.7-1.7-3 .2-1.5 2.5 .6 2 1.9 1.5 2.4-.5zM105.5 323.1l1.2-2-.2-2-1.4-1.5-2-.2-1.7 1.7 .2 3 1.5 1.4 2.4-.4zM211.8 322.1l.6-2-.5-1.4-1-1.1-2 .3-1.2 2.2 .7 2 1.5 .9 1.9-.9zM157.8 322.1l.6-2-1.4-1.7-2-.1-1.9 1.8 .9 2.4 2 .5 1.8-.9zM124.2 324.1l1.4-1 .3-2-.8-1.3-2-.4-1.5 2.7 1.5 2 1.1 0zM233.6 327.1l1-1 .1-2-.9-1.2-2-.2-1.5 1.4 0 2 1.5 1.3 1.8-.3zM286.8 328.1l1.3-3-1.4-2-2-.3-1.7 1.3-.2 2 1.9 2.2 2.1-.2zM66.4 330.1l1.4-2-.2-2-1.4-1.5-2-.3-1.9 1.8-.3 2 2.2 2.4 2.2-.4zM192.1 330.1l1-2-1.2-1.5-2-.5-2.3 1-.4 2 .8 1 1.9 .7 2.2-.7zM170.9 333.1l1.2-2-.3-2-1.8-1.7-2 .2-1.3 2.5 .5 2 1.8 1.4 1.9-.4zM270.5 330.1l1.3-1-.1-1-1.9-.9-1.3 1.9 2 1zM144.2 335.1l1.7-2-.6-3-2.3-1.1-2 .6-1.7 2.5 .3 2 2.4 1.5 2.2-.5zM299.8 335.1l1.6-1 .6-2-.9-2-1.4-.7-2 .9-.9 1.8 .9 2.4 2.1 .6zM105.3 338.1l.6-2-.4-2-1.4-1.3-2 .3-1.4 2 .8 3 1.6 1 2.2-1zM219.7 336.1l.5-2-1.3-1.5-2-.4-1.6 .9-.4 2 1 1.3 2 .5 1.8-.8zM79.2 338.1l1-1 0-2-2.1-1.3-1.7 1.3 0 2 1.7 1.3 1.1-.3zM248.5 338.1l-.4-3-1.3-.6-1.4 .6-.8 2 .5 1 1.7 .8 1.7-.8zM158.3 339.1l.6-1-.9-1.6-2.7 .6 .7 2.1 2.3-.1zM289.7 343.1l1.3-2-1.3-1.9-3-.6-2 1.5 0 2 1 1 2 .6 2-.6zM62.4 344.1l.7-2-.9-2-3-.1-1 2.1 .8 2 2.2 .8 1.2-.8zM181.5 344.1l.9-1 .1-2-2.6-1.3-1.4 1.3 .1 2 1.3 1.3 1.6-.3zM233 344.1l1.2-1 .2-2-2.6-1.6-1.8 2.6 .9 1.7 2.1 .3zM199.3 344.1l1.2-2-1.6-1.6-3-.2-1.9 1.8 1.9 2.3 3.4-.3zM262.9 345.1l2.1-2-.5-2-1.7-.7-1.2 .7-.8 2 1 1.7 1.1 .3zM118 348.1l.9-2-1.8-2.3-2-.2-2.2 1.5-.1 2 1.3 1.4 2 .4 1.9-.8zM134 350.1l1.6-2-.6-2.4-2-1.2-3 .8-1 1.8 .4 2 2.6 1.5 2-.5zM283.5 357.1l.3-3.4-1-1.1-2 0-1.3 2.5 .6 2 1.7 .9 1.7-.9zM89.7 359.1l1.5-1-.2-2-2.9-1-2.1 1 .1 2.3 3.6 .7zM171.4 360.1l1.5-2-.9-1.7-2-.6-2 1 0 2.5 2 1.1 1.4-.3zM244.7 361.1l1.3-1-.5-2-1.7-.7-2.1 .7-.7 1 .8 1.6 2.9 .4zM129.3 367l2.6-1 .9-2-.8-2.3-3-1.4-2.1 .8-1.4 2.9 1.6 2.5 2.2 .5zM209.5 364l.4-1.9-1-1.7-2-.2-1 .8-.6 2 .6 1.2 2 .8 1.6-1zM73.6 376l-1.1-1 .4-2 2.8-3 .1-2-1.6-2.5-3-.7-3.2 2.2-1.2 6-2.8 1 3.2 2.4 6.4-.4zM108.7 371l1.2-3-1.8-2.2-4-.1-2.4 2.3 .3 2 2.1 1.7 4.6-.7zM149 373l1.3-2-.3-2-2-1.8-2 .1-1.6 1.7 .3 3 2.3 1.6 2-.6zM259.9 373l1.6-2-1.7-2.5-4-.4-2.9 1.9 .5 2 1.4 1 3 .7 2.1-.7zM188.4 373l.9-2-2.4-1.7-3 0-2.3 1.7 .3 1.7 2 1.1 4.5-.8zM228 376l2.6-2-.9-2-3.8-.8-2.6 1.8-.1 1 1.7 1.7 3.1 .3zM127.5 388l1.2-2-2.6-1.9-4 .2-2 1.7 1 1.8 2 .8 4.4-.6zM147.5 395l2.3-2-1.8-1.9-4 .2-2.1 1.7 .1 1 1.7 1 3.8 0zM208 400l3-2-1-2-4.1-1.3-3.1 1.3-.5 1 .8 2 2.8 1.2 2.1-.2zM108.8 407l2.3-1.1 .9-1.9-2.9-2.3-6-.3-4.4 2.6 .8 2 2.6 1.3 6.7-.3zM240.8 408l2.2-1 1.3-2-1.5-2.7-6-1.2-3.9 1.9-.4 2 1.5 2 3.8 1.3 3-.3zM139.5 414l-1.5-1.1-.9 1.1 2.4 0zM214 423.9l1.1-1.9-3.2-2.5-3 .2-2.5 2.3 .5 1.4 2 1.3 5.1-.8zM295.7 436l-16.9 .6-18.6-.7-2.4-1.2-3.3-5.8 1.3-1.1 8-.7 28.9 .4 2 .8 6.2 5.6-.2 1.2-5 .9z"/><path fill-rule="evenodd" fill="#9c9c9c" d="M53.2 226.1l-.1-14.8 1.1 0 .1 10-1.1 4.8zM96.1 235.7l0-24.4 1.3 14-.3 9-1 1.4zM180.9 450.1l-4-1.2-1.2-1-1.2-4-4.5-2.1-28-4.8-13-.7-12.9-2.4-2.3-2 .3-3 2-1.6 5-1.7 4.3-4.6-6.3-4.1-15-4.2-6.7-4.7 .7-1 4 1.1 7-.6 3.5-2.5-.5-2.1-4-1.8-6 .1-4.1 1.8-1.9 3.4-4.6-4.4-.5-5-4.2-5 .6-4-1.3-1.8-2-1-6-.8-4.9 4.6-4 .6-6.6-.6-6.1-3 .7-2.2 3-2.1 14-1.8 2-3.9-.7-3 1-4-1.4-3.1-2.9-1.7-4.2 .8-2.8 3.5-4 1.9-2-.5-4-3.3-6-.5 0-30.4 3-1.5 .9-2.1-.9-3-3-1.2 0-8.9 2 2.3 2 .3 2-1.2 1.3-3.3-.5-3-1.8-1.9-3 .1-2 2.6 0-37.4 3-.7 1 3 .7-.6-.3-18 1.3-4-1.6-3-.3-3 1.2-6.5 2-1.6 .5-1.9 .5-9.3 .5 17.3 1.2 7-2.6 23 .9 2.9 2 .7 .9 4.4 1.1 .6 1-4.6 2 3.3 1-.9 3-.1 .9-1.3-.9-2.6-2 .4-2-1.4-1 2.3-.6-2.7 .4-8 1.6-8 1.6-3.5 1 2.6 1 .5 .3-1.6 1.7-23.1 .5 10.1 1.5 .4 2.9-1 .7-1.4 .3-9.2 1-2.8 .3 11 1.7 8.4 1 .9 3-21.3 1.4 11-.1 18 .7 2.5 1-.1 2.2 2.6 2.8 7.8 2-5.6 2-.9 .3-2.3-.3-4.4-2 5.3-1.7-3.9-.1-5 1.7-8 .1-4.7 1-.4 1 7.4 1 0 1-1.6 1 .9 2.3-8.6 1.7-11.6 1 27.6-1 .4-2-1.8-1.6 2.4 .6 16.5-2-1-2.6 2.5 .6 3 3 2.8 2.8-7.8 2.2-16.9 2 1.2 .8 3.7-.8 5-1.9 4 0 4 .9 2 1-2.2 2 .8 3-2.6 2-8 1-.6 3 1.2 .9-1.6-.6-21 1.4-11.9 .3-11 .1 17 .9 6.9 .7-2 0-30.9 .2-3 1.1 0 .1 15-2 38.9 .9 2.5 1-6.9 2.4 4.4 0 9 .6 .9 1-7.5 1 1.6 1.2 9 1.7 1.6 3 1 1 2.5 .9-3.1-2.1-17 1.2-2 3-.7 1 .9 1 3.6 1-.1 1-14 1 .1-.6 13.2 .6 3.4 .8-2.4 0-7 1.7-8 1.2-19.9 0-19 1.6 0 1 25 1.5 10.9-.6 15 .8 3.9 5-4.1 .7-2.8 .1-10 .7-8 1.3-3.9 1.2-17.9 2.1 13.9 .9 15.9 .2-1 .6-7-.8-28.9 .2-1 .9 0 1.2 42.9-.3 2.6-2 .1-1.4 3.3 2.7 14 .7 1.8 1 .3 3-21.9 1 7.2 1 .3 1-4.1 3 2.1 1 3.3 3.2-13-.6-15.9 .4-23 .4 14 1.6 5.6 .3-3.6 1.6-1.8 4-.1 1 1.7 1-1.4 3.5 2.6 1.7 7 .8 15.9-.5 16 .9 8 .6 1.9 3 1.1 2 3.4 1-5.5 3 .6 .5 6.5-3 4-.5 2 1 4 2 .8 2-1 1.1-3.8-1.8-7 1.2-7-.5-1.8-1-.5-1 3-.8-9.7 .4-30.9 .4-.6 .7 4.6-.2 17.9 .5 .9 1-3.3 2 6.6 1-2.7 .2 1.5-.2 3.7-2.4 2.3-.1 2 4.5 2.5 1 5.2 1.8 2.3-.5 3 .7 2 .3-7 3.7-.8 .5-1.2-4.5-1.1-1.6-9.9 .6-3.5 1-.4 1 5.8 3-25.8 1 26.8 1.1 .1 .9-5.4 1 1.7 3-2 1.7 4.7 .5 5 1.8 1.6 1-.1 1.3-2.5-.7-5 1.4-22 .1 10 .8 4 1-2.1 1 1.6 .5-1.5 2.5-26.1 1 20.1-1.3 8 .3 4.5 1 1.8 1-3.8 1 6.9 .9-9.4-.9-4.2-1 1.9-.4-2.7 1.3-2 1.1-10.5 1 3.7 .4 13.8 2.3 9 1.9 3-.4 10-1.2 .6-.7-2.6-1.3-.5-.6 2.5 .8 12 .8 1.5 1-2.7 3-.9 1.8-2.9-.8-8.2 1-.9 2 5.1 1.3-3 .6-10-2.3-11 .4-10.9 1 1.1 3 .9 .2 9.9 2.1 7-1.2 8 .3 3 1.6 1.9 1-.1 3-3.3 1 .6 1 5 .6-1.1-1.1-6-.3-26 .8-3.6 1.4-.4 1.1-2 1.5-10.3 0 15-1 3.3-.3 8 .3 2.3 2-.3 .6 2-.3 7 .7 2.5 .8-2.5-.1-6 1.3 1 .8-3 .2-19.6 1 4.2 .8 13.4 1-4 .2-10.6 1.2 14.6 .8 2.6 1-4.1 1-.4 1.5 14.9 2.4 2.9 2-.1 1.8-1.8 .6-8-1.4-3.4-1 6.5-1.4-2.1 .4-26.3 1-4.2 2.1 16.5-1.3 5 .2 1.5 2 2.3 1 7.1 .9-3.9 .5-15-.6-36.9 2.3 0-.3 18 2.7 15.9-.3 17-2.9 14 .7 3.4 1-4.1 7 6.7 1.6-3 1.4-7.9 2.3-6.1 .7-8.6 1 .5 1 3.1 0 20.4-3-3.4-2.7 6 1.1 4 1.6 1.4 3-1.6 0 57.4-3 .6-1.7 2.1 1.7 2.9 3 .6 0 9.2-6 0 2.9 3.2-4.9 2.7-2.2 4.3 .3 2 1.9 2.3 3 1.3 4.7 .4-1.4 4 .8 4-2.1 1.4-6 .1-5-5-4-1.2-4 0-3 .9-3.9 5.8-3 1.3-8 1-12-.6-7 1.5-2.8 2.8 1.8 2.6 5 1.8 8 .7 3.3 1.9 .5 2-1.1 3 .4 2-3.1 4.4 13-2.5 2.4 .1-.2 1-2.2 2.6-2 .9-14-.4-4 3-15 6-16.9 12.4-13 5-11 2.5-6 4.1-13 5zM124.1 228.7l-.7-7.4 .4-10 .3 17.4zM151 222.9l-.5-11.6 .9 0-.4 11.6zM154 220.9l-.7-9.6 .8 0-.1 9.6zM173 254.2l-1 1-2-.3 0-5 2.6-12.6-1.1-16 .9-10 .7 0 .3 5-.4 37.9zM220.9 223.1l-1-2.4-.1-9.4 1.1 0 0 11.8zM234.8 221l.2-9.7-.2 9.7zM237.8 216.2l-.1-4.9 .6 0-.5 4.9zM282.8 234.6l-1.1-8.3 1.1-15 1 14-1 9.3zM303.7 246l-2.2-16.7-.3-18 1 0 2.5 15 0 17.3-1 2.4zM131 255.4l-.6-8.2 1.6-34.8 1.3 25.9-2.3 17.1zM139 216.9l0-3.7 0 3.7zM113.1 264.3l-1-2.1-1-11.9-2.1 .9 .1-33.5 2 27.5 1.5 4 1.5 13-1 2.1zM86.1 230.9l0-11.9 0 11.9zM224.9 252.6l0-34.3 .6 22-.6 12.3zM210.9 223.8l0-3.1 0 3.1zM298.7 259.2l-.7-15 .7-19.3 1 29.3-1 5zM152 261.2l-1.3-1-.6-3 2.6-8 .3-23 .6 17-.5 17-1.1 1zM205.9 250.3l-1-1.5-.8-9.5 1.8-13.7 .8 7.7-.8 17zM243.8 245.7l-1.1-9.4 1.1-9.6 0 19zM130 273.2l-1 .6-.8-1.6-1.8-16 1.6-23.9 1 2 .8 11.9-.7 13 1.5 8-.6 6zM199.9 273.1l-2.2-2.9-.4-6 1.6-29.4 .6 19.4 1.3 11-.9 7.9zM246.8 262.5l-.6-7.3 1.6-20.9 1.1 23.9-.8 3-1.3 1.3zM60.2 244l0-8.5 0 8.5zM158.5 250.2l.4-5-.9-9.6-.7 11.6 .5 3 .7 0zM135 257.4l-1.3-1.2 .3-10.4 2.1 9.4-1.1 2.2zM186.6 260.2l.9-2 .7-10-.3-1.2-2-1.2-.9 8.4 .7 6 .9 0zM212.9 252.8l0-3.7 0 3.7zM180 259.2l.7-4-.8-5.8-.8 6.8 .9 3zM271.8 254.3l0-3.9 0 3.9zM52.2 272.4l-3 .2 0-14.2 1-.1 1.7 4.9 .8 8-.5 1.2zM89.1 268l-.6-1.8 .6-6.4 1-.7 .7 1.1 .1 4-1.8 3.8zM87.4 287.2l.4-3-.9-7-1-2-3.5-2 .6-9-.9-2.2-2-.7-1 10.9 1-3.4 1.9 4.4-.7 5 2 4 .3 3 .5 1.3 2 1.3 1.3-.6zM261.8 271.2l-1-.4-.7-2.6 .7-6.8 1 9.8zM108.1 268.1l0-4.3 0 4.3zM173.7 277.2l1.3-1.7 0-2.3-2.2-3-.8-5.3-1 .9-.1 8.4 1.1 3.4 1 .3 .7-.7zM255.7 271.2l.1-4.3-1-1.3-.8 4.6 .8 1.8 .9-.8zM240 271.2l-.2-4.4-2 1.1-.5 2.3 1.5 1.9 1.2-.9zM70.3 277.2l1.8-3-.6-4-1.3-1.9-1.1 3.9 1.2 5zM235 273.2l.5-2-.7-2.1-.6 2.1 .8 2zM221.3 275.2l-.4-4.7-1 3.7 1 1.9 .4-.9zM225.2 278.2l.5-3-.8-3.5-.9 4.5 .9 2.9 .3-.9zM274.8 284.2l.7-2-.1-7-1.6-2.2-2 0-.8 3.2 3.3 4 .5 4zM155.3 284.2l.9-6-2.2-2.4-1 1-1-1.7-.6 3.1 1.6 .8 1.6 5.2 .7 0zM139 290.2l1.7-5-2.7-4.9-1-4.1-1.8 9 2.8 4.6 1 .4zM280.3 282.2l0-5-.5-.9-1 2.7-1-2.8-1.4 2 .5 3 .9 1 1-.7 1 1.5 .5-.8zM76.6 279.2l-.5-1.5 0 2.2 .5-.7zM237.2 281.2l-.4-2.5-.5 1.5 .5 1.6 .4-.6zM120.2 288.2l.7-5-2.8-3.4-1.2 1.4 0 4 1.2 2.5 2.1 .5zM73.2 284.2l.6-1-.6-2-.6 2 .6 1zM162.6 290.2l3.4-1.4 1.7-5.6-.7-2.9-2 3.5-5-1.3-1-2-.5 .7-.4 3 .9 2.9 2 3.8 1.6-.7zM111.4 285.2l-.3-3.2-.9 2.2 .9 1.7 .3-.7zM283.9 293.2l3.8-4.7 1.4-.3-1.1-4-3.3-2.7-1.9 1.4-.8 2.3 .3 4 1.6 4zM232 286.2l.6-2-.8-1.6-2.6 .6-.3 1 3.1 2zM267.1 285.2l-.3-2.9-.8 1.9 .8 1.6 .3-.6zM107.3 291.2l1.2-2 .1-3-1.5-2.7-1 0-1.6 1.7-.2 3 3 3zM302 292.2l-1.4-7-1.9-1.5-2 .5-1.3 3 1 3 5.6 2zM224 285.2l-.1-.6 .1 .6zM176.3 292.2l-1.1-4-2.2-1.3-1 .4-1 1.9 .8 2 3.2 .1 1 1.4 .3-.5zM219 290.2l0-3-3 0-.1 2 2 1.3 1.1-.3zM259.2 289.2l-.4-1.5-.5 1.5 .5 .7 .4-.7zM185.2 295.2l.5-4-1.8-2.7-1.8 1.7-.5 3 1.3 2.6 2.3-.6zM193.2 289.2l-.3-.5 0 1.1 .3-.6zM274.5 293.2l1-3-1.7-1.8-2.7 1.8-.4 2 2.1 1.3 1.7-.3zM88.2 292.2l-.1-2.2 .1 2.2zM58.1 296.2l1.1-2-.5-2-1.5-.8-2 .6-.9 1.2 .2 2 1.7 1.4 1.9-.4zM166.5 293.2l-.5-1.7-.6 1.7 .6 .7 .5-.7zM74.6 297.2l.8-1-.4-2-1.8-.9-.9 .9 0 2 2.3 1zM262 296.2l-.2-2.3-2-.5-.9 .8 .3 2 2.8 0zM226.1 297.2l.9-1-1.1-1.3-.5 1.3 .7 1zM240.5 298.2l.4-2-1.1-1.6-2 0-1.8 1.6 .6 2 1.2 .7 2.7-.7zM89 303.1l2-1.9 .3-2-1.2-2.5-2-1-2.2 1.5-.9 3 1.1 2.6 2.9 .3zM163.2 302.1l1.3-2.9-.5-1.3-2-1.1-1.7 1.4-.4 2 1.1 2 2.2-.1zM131.9 300.2l-.3-2-1.6-.3-.7 2.3 1.7 .8 .9-.8zM151.2 302.1l.2-2.9-1.4-1.3-1 .3 0 4.1 1 .6 1.2-.8zM288.3 301.2l1.4-.7 .4-1.3-1.4-1.5-2 .1-.7 2.4 2.3 1zM111.7 305.1l.7-2-.5-1.9-1.8-1.4-1 .3-1.7 2 .1 2 1.6 1.8 2.6-.8zM175.6 305.1l1.1-2-.4-1.9-1.3-1.1-2 .3-1.7 1.7 .1 2 2.6 1.6 1.6-.6zM301.9 306.1l1.3-1 .8-3-1.3-2.2-3-.6-1.7 1.9-.2 2.9 1.9 2.2 2.2-.2zM214.2 305.1l1.7-1 .5-2-4.5-1.9-1.3 2.9 1.3 1.8 2.3 .2zM248.7 308.1l1.1-2-.6-3-1.4-1.4-2-.1-2.1 2.5 .3 3 1.8 1.8 2.9-.8zM276.3 307.1l.9-2-.4-1.9-3-.8-1.6 1.7 0 2 1.6 1.8 2.5-.8zM62.4 308.1l1.1-2-.3-1.1-1-1.1-3-.2-1.2 1.4 .5 2 1.7 1.3 2.2-.3zM99.9 311.1l1.2-2-.8-3-2.2-1.2-2 .6-1.6 2.6 .5 2 2.1 1.7 2.8-.7zM195 310.1l.9-2-.8-3-1.2-.9-2 .2-1.3 1.7-.2 3 2.5 2 2.1-1zM74.5 310.1l.9-2-1.2-2-2-.1-1.6 1.1-.3 2 .7 1 2.2 .7 1.3-.7zM123.1 310.1l1.4-2-.6-2-1.8-.9-2.7 .9-.9 2 .6 1.2 2 1.2 2-.4zM233.3 310.1l.8-2-1.1-2-2.1-.6-1.9 .6-.8 2 .7 2 2 1 2.4-1zM291.4 315.1l1.1-4-.8-1.5-2-.1-2.3 2.6 .2 2 2.1 1.8 1.7-.8zM88.2 318.1l1.4-1 .5-2-1-1.9-2-.8-1.5 .7-.7 3 1.2 1.8 2.1 .2zM178.7 318.1l1.2-2 0-2-1.9-1.9-1.6 .9-.7 3 1.3 2.3 1.7-.3zM261.2 316.1l-.4-2.7-2.5 .7 .5 2.4 2.4-.4zM307.2 322.1l1.4-2 0-3-1.9-2.9-2-.1-2.3 2-.4 4 1.7 2.5 3.5-.5zM139.6 320.1l.5-2-.9-2-2.2-.7-1.3 .7-.8 2 1.1 2.5 2 .5 1.6-1zM247.7 322.1l1.3-2-.7-3-2.5-1.4-2 .5-1.6 1.9 .2 3 2.4 1.8 2.9-.8zM106 323.1l1-2-.8-3-2.1-1.1-2 .6-1.2 2.5 .4 2 1.8 1.7 2.9-.7zM210.8 323.1l1.3-1 .6-2-.9-2-1.9-1.1-2 1.4-.4 2.7 1.4 1.9 1.9 .1zM156.4 323.1l1.8-1 .5-2-2.7-2.3-2.7 1.3-.7 2 1.4 1.8 2.4 .2zM124.9 324.1l1-1 .2-2.3-1-1.4-2-.3-1.7 2 .2 2 1.5 1.3 1.8-.3zM234.3 327.1l1.1-2-.7-2-1.9-1-1.9 .9-1.1 2.1 .9 2 2.1 .7 1.5-.7zM287.3 328.1l1.1-2-.3-2-2.4-1.7-1.9 .5-1.5 2.2 .5 2 1.9 1.7 2.6-.7zM66.9 330.1l1.2-2-.8-3-2.1-1.2-2 .6-1.6 2.6 .6 2.3 2 1.4 2.7-.7zM192.7 330.1l.8-2-2.6-2.3-3 .6-1.3 1.7 .8 2 1.5 .8 3.8-.8zM171.4 333.1l1.1-2-.4-2-2.1-2-2 .2-1.4 1.8 .4 3 2 1.8 2.4-.8zM271.2 330.1l.8-1-.2-1.3-1-.8-2 .5 0 2.4 2.4 .2zM144.7 335.1l1.7-3-.6-2-1.8-1.3-3 .5-1.7 1.8-.1 3 2.8 1.8 2.7-.8zM300.6 335.1l1.8-3-.8-2-1.9-1.2-2.2 1.2-.9 3 2.1 2.3 1.9-.3zM218.1 337.1l2.3-1 .3-2-1.8-1.8-2-.3-1.9 1.1-.4 2 1.3 1.6 2.2 .4zM104.9 339.1l1.2-2-.3-3-1.7-1.6-2 .1-1.5 1.5-.1 3 1.6 2.1 2.8-.1zM79.7 338.1l.8-3-1.4-1.4-2 .2-.9 1.2 0 2 1.9 1.5 1.6-.5zM247.4 339.1l1.5-1 .2-2-1.3-1.6-2 0-1.5 2.6 1.5 1.9 1.6 .1zM158.7 339.1l.3-2-1-.9-2 0-1 .9 1 2.4 2.7-.4zM287.9 344.1l2.7-1 1-2-1.9-2.5-3-.4-2 1.2-.8 1.7 1 2 3 1zM61.8 345.1l1.6-2-.1-2-2.1-1.9-2 .2-1.3 1.7 0 2 1.3 1.8 2.6 .2zM182 344.1l.8-3-.9-1.3-2-.3-1.6 1.6 0 2 1.6 1.6 2.1-.6zM200 344.1l1-2-2.1-2-3-.1-2.5 2.1 .5 1.5 2 1.2 4.1-.7zM233.5 344.1l1.2-3-.9-1.4-2-.4-1.8 1.8 .1 2 1.7 1.4 1.7-.4zM263.9 345.1l1.4-3-.5-1.2-2-.8-1.6 1-.7 2 1.3 2 2.1 0zM116.9 349.1l2.2-2-.1-2-1.9-1.6-3 .1-1.6 1.5-.1 2 1.7 1.8 2.8 .2zM134.6 350.1l1.3-2-.9-3-3-1-2.3 1-1.1 3 1.3 2 2.1 .8 2.6-.8zM282.8 358.1l1.5-2 .1-2-1.6-2-2 .1-1.5 1.9 0 2 1.5 2 2 0zM90.3 359.1l1.4-2-1.6-1.9-2-.3-2.5 1.2-.4 1 .9 1.6 2 .8 2.2-.4zM171.9 360.1l1.2-2-1.1-2-2-.6-2.5 1.6 0 2 1 1 3.4 0zM66.4 360.1l-1.2-2.1-5 1.1 6.2 1zM245.5 361.1l1.1-2-1.8-1.8-3 .3-1.1 1.5 .1 1 2 1.5 2.7-.5zM131.2 367l1.8-2-.1-2.9-2.9-2.1-2.9 .4-1.6 1.7-.1 2.9 2.6 2.3 3.2-.3zM209 365l1.3-2-.3-1.9-1.1-1.1-2-.2-1.5 1.3-.1 2.9 1.6 1.5 2.1-.5zM309.7 364.6l-.5-.6 .5 .6zM107.5 372l2-1 1-2-1.4-3-4-.8-3 1.6-.8 2.2 1.1 2 2.7 1.2 2.4-.2zM149.5 373l1.1-2-.8-3-1.8-1.4-3 .7-1.3 2.7 .6 2 2.7 1.9 2.5-.9zM260.6 373l1-1 .2-2-3-2.1-4 .1-2.5 2 .5 2 2 1.5 3 .4 2.8-.9zM187.2 374l2.7-2-1-2.3-4-.8-3.8 2.1 .8 2.4 5.3 .6zM288 376l3.7-1.3 1.5-1.7-.5-2-2-2-3 .2-2.5 3.8 1.7 2-.2 1.3 1.3-.3zM229 376l2-2-.7-2-1.4-.8-4 0-2.1 1.8 .4 2 1.7 1.1 4.1-.1zM128.2 388l1-2-3.1-2.2-4 .2-2.5 2 .5 1.4 2 1.3 4 .2 2.1-.9zM148.3 395l2-2-.3-1.2-2-1.4-4 .3-3.2 2.3 1.2 1.7 2 .8 4.3-.5zM210.7 400l1.5-1 .7-2-3-1.8-4-.9-3.6 1.7-.3 2 1.9 2.1 3 .8 3.8-.9zM242.2 408l3.1-3-1.5-3.2-4-1.7-9.2-.1-.4 2 1.3 3 2.3 2.5 4 1.2 4.4-.7zM96.1 410l-17 0-4.8-1-1-1 1.6-2 2.8-1 13.4-1.8 1.8 .8 4.4 5-1.2 1zM97.1 407.5l0-1.1 .9 .6-.9 .5zM139.9 415l.4-2-1.3-.5-3 .4-.6 1.1 1.6 1.5 2.9-.5zM213.7 424.9l1.8-1 .9-1.9-2.5-2.4-5-.4-2.8 2.8 1.8 2.7 3 .7 2.8-.5z"/><path fill-rule="evenodd" fill="#a8a8a8" d="M120.1 240.5l0-29.2 .8 9-.8 20.2zM180.9 439.9l-51.9-4.5-11.9-2.8-1.3-1.7 1.3-2.3 19.8-7.6 4.1-6 0-2-2-.9-3 0-4 2.7-5.9 .3-14-1.8-6-2-1.4-1.3 7.4-3.3 1.5-1.7-.4-2-2.1-1.6-4-1.1-11.5 .7-.6-4-5.9-5.2-2-5.6-9.1-4.2 1.7-9-4.6-7.8-5.8-3.1 .6-3-4-7-3.7-2.4-4 .7-3.8 2.7-4.2 5.4-1-.3 0-20.6 4.2-1.5 1.1-4-1.6-4-3.7-.9 0-6.8 2 1.6 3-.2 1.6-1.7 1-3-.6-3.4-2-2.5-3 .3-2 2.1 0-35.3 1-1 2 0 1 3.6 1 0-.3-18.7 1.3-5-1.7-6 .7-4.2 2.7-3.8 .3-3.4 .7 17.4-1.6 23 3.9 8.2 1 .4 1-2.1 2 .5 4-1.4 1.2-1.6-.2-2.2-1-.7-2 .2-3-2.2 0-4.1 3-13.2 1 2.5 1 .4 .2-.7 1.8-15.9 1 1.7 3.9-1.2 .9-1.6 .1-4.5 2.9 12.5 1.1 1.4 3-19.9 1.1 9.5-.5 16-.6 1.3-1-2.1-2-1.1-1.4 10.9 .4 1.8 2-.5-.2 4.7 2.1 5 .6 4 1.5 2.2 2 .9 1 4.4 1-3.5-1.6-12-1-3-3.3-3 .6-6 .3-1.1 1 2.3 4 4.1 2 5.2 2-5.2 2-1 .5-3.3-.5-6.1-2 5.8-.6-1.7-1-5 .6-6 2-3.7 1 4 1 .4 1-1.3 1 .5 2.2-6.9 1.8-10.3 .2 22.3-2.2-1.2-1.9 3.2 .7 13-4.3 4-.3 2 .8 2.5 3.3 2.5 3.3-9 .4-9.1 1-3 1.3 .1 .8 2-2.7 8 1.6 6.8 1-1.5 2 .5 3-2.4 2-8.5 .9-.9 2.1 .9 1.7-.9 .6-2-.8-18 1.5-12.3 .2 8.3 1.5 7-.4 16 .7 1.3 1-5.8 1.6 3.5 .9 9 .5 .8 1-5.5 1 .8 .9 6.9 4 3 2 2.9 .9-.9 .2-4-1.7-12 .4-5 3.2-1.1 2 5.5 1-.1 1-5.1 1 7 1.1-3.2 2.7-34.9 0-19 1.2 0 2.6 41.9-.5 9 .9 4.8 2-2.3 3-1.5 1.7-22 1.3-3.5 .4 11.5 .6 1.7 .9-.7 .1-18.4 2 20.1 .5-1.7-.3-29.9 .8-8.7 .9 40.6-.2 2-1.7 1.4-1.6 4.6 2.6 16 1 1.4 1 0 .9-1.4 2.1-17.7 1 4.4 1 0 1-3.6 1.6 1.9-.8 3-.2 9 1.4 5.4 1 .2 1.8-2.6 .4-3-2.4-4-.5-7 .7-.4 1 2.4 3.3-14-.3-21.9 1-1 1 4.3 .9-5.6 5-.4 1 1.6 1-1.3 3.2 2.4 1.8 7.7 .8 15.2-.4 16 1 9 .6 1.6 3 1.1 2 3.5 1.2-4.2 .8-1 1 .5 1 4.5-2.6 4-.7 4 1.3 4.2 2 .2 2.3-1.4 1-4-1.3-6 .5-9-.5-2.6-2-1.8 0-10.7 1 .7 1-1.8 1.9 5.2-2.2 4-.2 2 .5 .8 1-.5 4 2 3 12.2 .6-6.5 3.4-1.5 .9-1.5-4.6-2-.6-3 .2-7 1.1 4.2 1.5-15.2 1.5-4.6 .6 17.6 .4 2.9 1 1.2 1-1.1-.2 8 1.2 1.6 .7-2.6-.4-10 2.7-2.7 .9 5.7-.9 11 1 1.9 1.1-7.9 .9-.7 2 .5 1.4-2.8-.6-5 1.2-13.5 .9 6.3 1-1.2 1 1.1 .6-1.7 2.4-23.1 .5 16.1-1 10 1.5 5.6 1-3.7 .5 5.1-2 3-.1 3 1.6 1.2 1.5-1.2 0-6 1.5-9.2 2.4 10.2 1.6 3.2 0 6.9-1 .9-1-2.8-1 .3-.7 2.5 .5 13 1.2 2.5 1.4-2.5 3.8-3 1.8-7 1 1.8 .6-.8 1.4-7.1 2-.4 3 4.9 4-2.6 1.4 4.2 .6 .8 .7-.8-1.3-29 .6-5.2 2-1.4 .6 1.6 .2 13 .2 1.1 2 0 .2 .9 .8 10.9 1-7.4 1.3-1.5 1.7-7.7 1 3.9 .5-1.2 .5-6.3 2 10 1-2.5 1 .2 1.2 12.6 2.7 2.4 3.6-1.4 .9-2 .5-6.3 1 3.2 .9-3.9 .6-51.9 0-1 1 0 0 19 2.2 10 .5 6.9-.4 15-2.6 12 0 4 .8 1.9 1-2.2 1-.1 2.6 1.4 1.5 2-.1 1.2-3 1.3-1.4 2.5 .3 3 2.1 2.2 4 2.3 .4-.5 .6-8.7 4 5.1 3-1.9 0 56.2-3 .6-2.3 2.6 1.3 3 4 1.9 0 1.1-5 1.1-3.6 2.9-.7 3 1 3.9-3.7 4.5-2 0-5-2.2-6.8 1.7-4.2 5 3.3 3 .8 2.6-3 4.5-4 2.8-19 .8-7 1.1-6.5 3.2-2.5 4.2-2 .7-23.9 0-9-2.1-4 1-1.4 3.2 3.4 3.4 5 1.7 18 1.1 7.9 4.7 4 .3 5-1.8 2.2-2.4 1.8-4.2 2-1.1 5 .2 2 1 1.8 2.1 .5 3-3.1 5-3.2 2.6-24.9 8.4-3.8 2.9-2.8 5-11.4 6.8-6 1.3-24 1.9zM151 218.7l-.1-7.4 .1 7.4zM303.7 243.3l-2.1-14 0-18 2.8 16-.7 16zM53.2 221.2l0-7.9 .5 3-.5 4.9zM172 254.4l-1.1-.2-.7-2 2.6-11.9-.8-21 1-5.6 0 37.5-1 3.2zM96.1 231.9l0-17 1 10.4-1 6.6zM124.1 223.5l0-9.1 0 9.1zM282.8 232.3l-.7-6 .7-11.1 .7 10.1-.7 7zM131 249.2l1-33.5 1 20.4-2 13.1zM177 224.4l0-7.7 0 7.7zM110.1 248.8l-1-1.6 0-23.9 1 6.1 0 19.4zM298.7 253.2l0-25.5 0 25.5zM205.9 247l-1-2.1-.3-4.6 1.3-11.3 0 18zM243.8 238.3l0-6.4 0 6.4zM153 243.9l0-10 0 10zM129 273.3l-2.2-18.1 1.2-20.8 1 3.9 .4 7.9-.6 15 1.3 8-.1 2.9-1 1.2zM202.9 247.8l0-8.9 0 8.9zM286.7 266.7l-1.1-1.5-.2-14 .3-8.5 1-3.9 1.6 13.4-1 3-.6 11.5zM199.9 271.2l-2-1.9-.3-5.1 1.3-24 1.4 25-.4 6zM246.8 261.3l-.2-7.1 1.2-14.9 .7 17.9-.4 3-1.3 1.1zM240.8 255.2l0-12.8 0 12.8zM186 261.2l1.9-3 .5-10-.5-1.6-2-1.3-.8 .9-.5 8 1.4 7zM273.8 254.7l0-8.1 0 8.1zM180.6 259.2l.3-9-1-1.4-1 2.4 0 6 1 2.9 .7-.9zM256.8 272.3l-1-8.3-1-.4-1 2.5-1.8-9.9 .1-5 1.7-1.5 2 1.3-.2 8.2 2.2 6.7-1 6.4zM135 256.8l-1-.6 0-5.6 1 .3 .4 2.3-.4 3.6zM152 260.5l-1.3-2.3 1.3-4.4 .8 4.4-.8 2.3zM113.1 263.4l0-5.2 0 5.2zM309.7 279.8l-3-4.5-1 1.7-.7-.8 2.4-11 .3-5.6 1-.5 1 3.8 0 16.9zM51.2 272.5l-2-.7 0-8.4 1-2.9 1.4 3.7 .6 6-1 2.3zM89.1 265.3l1-4.1 .2 3-1.2 1.1zM260.8 269.8l0-5.5 0 5.5zM70.8 277.2l1.5-3-.9-5-1.2-1.7-1.2 5.7 1.2 4.7 .6-.7zM235.3 273.2l-.5-5.5-.7 3.5 .7 2.9 .5-.9zM275.4 284.2l.4-5.9 .7 3.9 3.3 1.7 .7-.7 .7-3-.6-4-.8-1.4-1 1.8-1-1.7-2 1.2-1.4-2.9-2.6-.8-.9 .8 0 3 2.4 3 1.5 5.8 .6-.8zM155.1 285.2l1.7-5-.4-2-2.4-2.8-1 .3-1-1.8-1 1.9 0 2.4 1 1.8 1 .3 1 3.9 1.1 1zM139.6 290.2l1.3-5-3.9-10.1-2.4 9.1 3.4 6.3 1 .6 .6-.9zM304.7 278.4l0-1.5 0 1.5zM76.4 280.2l.6-2-.9-.8-.5 1.8 .8 1zM236.9 282.2l.7-2-.8-2.2-.7 2.2 .8 2zM120.3 290.2l.7-7-2.9-4-1.4 2 0 4 3.4 5.7 .2-.7zM166.1 294.2l1.8-11-.5-3-.4-.8-1 .6-1 2.6-1 0-3.9-1.4-1.1-1.7-1 1.7 .5 6 2.5 4.5 4.1-1.5 .1 3 .9 1zM73.6 284.2l.3-2-.7-1.8-.8 2.8 .8 1.5 .4-.5zM284.6 293.2l3.1-3.8 1 .2 1.1-1.4-1.3-4-3.8-3.1-2.2 1.1-1.1 3 1.7 8 .7 .9 .8-.9zM111.2 286.2l.7-2-.8-3-1.2 4 1.3 1zM232.5 286.2l.3-2-.8-2-3.2 1 .6 2 2.4 1.6 .7-.6zM267.3 285.2l-.5-3.7-.9 2.7 .9 2 .5-1zM108.1 291.2l.9-5-1.9-3.8-2.7 1.8-.5 3 2.2 4 1 .6 1-.6zM224.2 286.2l-.3-3.7 0 4.2 .3-.5zM176.6 292.2l-.7-4-2.9-1.8-1 .4-1.2 2.4 .7 2 3.5 .7 1 1.2 .6-.9zM219.1 293.2l.7-5-.9-1.6-2-.2-1.7 1.8 3.9 5zM259 290.2l-.2-3.1-.7 2.1 .9 1zM184.5 296.2l1-1 .7-3-2.3-4-1.9 2-.6 3 1.5 2.8 1.6 .2zM193.2 290.2l-.3-2.4-.4 1.4 .7 1zM275.2 293.2l.8-3-1.2-2.3-4.3 2.3-.7 3 1 .7 4.4-.7zM131.1 291.2l-.1-1.5 .1 1.5zM188.9 291.2l0-2 0 2zM58.7 296.2l1-2-.4-2-2.1-1.1-2 .6-1.1 1.5 .2 2 1.9 1.8 2.5-.8zM75.6 297.2l-.2-3-2.2-1.2-1.1 1.2 .1 2.2 2 1.2 1.4-.4zM262.4 296.2l-.6-2.7-3-.8-.8 2.5 .8 1.7 2 .1 1.6-.8zM307.1 296.2l-.4-3.2-1.2 2.2 .2 1 1 .6 .4-.6zM240.4 299.2l1.1-2-.7-2.5-2-.6-2.5 1.1-.7 2 .6 1 2.6 1.5 1.6-.5zM89.7 303.1l1.8-1.9 .3-2-1.6-3-2.1-1.7-2.7 2.7-.8 4 1.5 2.3 3.6-.4zM227 297.2l0-2-1.1-.7-.4 2.7 1.5 0zM163.8 302.1l1.1-1.9-.2-2-1.7-1.9-2 .2-1.5 2.7 .1 2 1.4 1.5 2.8-.6zM131.4 301.2l.8-1-.2-2-2-.7-1 2.7 1 1.2 1.4-.2zM150.2 303.1l1.5-1 .5-1.9-1.2-1.9-2-1.1-.5 4 .5 1.5 1.2 .4zM289.3 301.2l1-1-.6-2.2-2-.8-2.3 1 .1 2 1.1 1 2.7 0zM300.9 307.1l2.5-1 1.4-3-.9-2.9-3.2-1.8-2 .8-1.4 3.9 1.4 3.4 2.2 .6zM111.4 306.1l1.2-2 .1-2-1.1-1.9-1.5-.8-2.5 1.8-.3 2.9 1.8 2 2.3 0zM176 305.1l.9-2-.9-2.8-2-.6-2.5 1.5-.9 1.9 1 2 2.4 .9 2-.9zM215.2 305.1l2.1-2-.4-1.7-5-1.8-1.6 1.6 .2 2.9 2.4 1.5 2.3-.5zM248.3 309.1l1.8-2 .1-3-1.4-2.3-3-.8-2.4 2.1-.1 4 2.5 2.4 2.5-.4zM275.3 308.1l2-2 .2-2-.7-1.6-2-1-2 1.3-1 2.3 1 2.5 2.5 .5zM62.9 308.1l.9-2-.7-2-3.9-1.3-1 .6-.9 1.7 .4 2 2.5 1.7 2.7-.7zM194.2 311.1l1.7-2 .3-2-1.3-2.8-2-.8-2.7 2.6-.2 3 1.9 2.2 2.3-.2zM98.9 312.1l2.1-2 .4-2-1.3-2.7-3-.8-2.2 1.5-.7 3 1.9 2.7 2.8 .3zM123.7 310.1l1.2-2-.8-2.4-2-.8-3.1 1.2-.7 2 .8 1.6 2 1.1 2.6-.7zM74.8 310.1l.8-2-1.4-2.3-2-.1-2.5 2.4 1.5 2.6 2 .3 1.6-.9zM232.2 311.1l2.1-2-.1-2-2.4-1.8-2.9 .4-1.1 2.4 .6 2 1.5 1.3 2.3-.3zM290.2 316.1l1.6-1 .9-2 .3-2-1.3-2.2-3 .8-1.8 2.4 .9 3 2.4 1zM89 318.1l1.4-2-.3-2-2-1.9-2-.2-1.6 2.1 .1 3 2.5 1.6 1.9-.6zM179.4 318.1l.9-4-2.3-2.3-1.9 1.3-.7 3 1.6 2.9 2.4-.9zM260.3 317.1l1.3-1 .2-2-2-1.4-2.2 2.4 1.2 1.9 1.5 .1zM306.3 323.1l2.3-2 .7-3-1.6-3.9-2-1.2-2 .4-1.6 1.7-1 4 1.6 4.4 3.6-.4zM138.8 321.1l1.6-2-.3-2-2.1-1.9-2 .3-1.2 1.6 0 2 1.2 1.8 2.8 .2zM246.6 323.1l2.5-2 .2-3-1.5-2.1-3-.7-2.6 1.8-.5 3 2.1 2.8 2.8 .2zM105.1 324.1l2.1-2 .1-3-2.2-2.4-2-.2-1.8 1.6-.7 3 1.5 2.6 3 .4zM211.5 323.1l1.4-2-.2-2-1.8-2.4-2 0-1.4 1.4-.3 3 1.7 2.3 2.6-.3zM157.2 323.1l1.7-2-.3-2-1.6-1.6-2 0-2.7 2.6 .2 2 2.5 1.4 2.2-.4zM125.4 324.1l1.1-2-.3-2-1.1-1.2-2-.3-1.7 1.5 0 3 1.7 1.6 2.3-.6zM232.9 328.1l2-1 1-2-1.1-2.6-2-1-2.5 1.6-.9 2 1.5 2.6 2 .4zM286.7 329.1l1.8-2-.1-3-1.7-1.7-2.9 0-1.7 1.7 .1 3 1.6 1.8 2.9 .2zM65.8 331.1l2.3-2 .3-3-2.2-2.5-2-.1-2 1.6-.9 3 1.9 2.8 2.6 .2zM191.9 331.1l2-2-1-2.8-4-.8-2.4 1.6-.3 2 .7 1.1 2 1.2 3-.3zM170.7 334.1l2-2-.2-3-2.5-2.4-2 .2-1.7 2.2 .4 3 2.3 2.2 1.7-.2zM271.6 330.1l.7-2-.9-1-1.6-.4-1.8 1.4 .8 2.2 2.8-.2zM301.3 335.1l1.3-2-.4-3-1.5-2.2-2 .3-2 2.4-.5 2.5 2.5 2.6 2.6-.6zM143.1 336.1l2.9-2 .8-3-1.1-2-2.7-.9-3.4 1.9-1.1 3 1.5 2.6 3.1 .4zM104.2 340.1l1.6-1 .8-3-1.1-3-2.4-1.1-2.3 1.1-1 3 1.3 3.1 3.1 .9zM219.8 337.1l1.6-2-.8-2-2.7-1.4-3 1.2-.5 2.2 1.5 1.9 3.9 .1zM80.2 338.1l.6-3-1.7-1.7-2 .2-1.2 1.5 .2 2.5 2 1.3 2.1-.8zM248.4 339.1l1.1-2-.7-2-2-1.1-2 .8-.6 3.3 1.6 1.4 2.6-.4zM159.2 339.1l.2-2-1.4-1.2-2 0-1.4 1.2-.1 1 1.5 1.7 3.2-.7zM290.6 344.1l2-3-1.9-2.7-4-.7-3.1 2.4-.2 2 2.3 2.2 3 .5 1.9-.7zM61.3 346.1l2.1-2 .3-3-1.5-1.9-3-.5-1.6 1.4-.4 3 2 2.7 2.1 .3zM182.5 344.1l.9-2-.6-2-1.9-1-1.9 .5-1.2 2.5 .8 2 2.3 .9 1.6-.9zM234.1 344.1l1.1-2-.5-2-1.9-1.2-1.9 .5-1.4 2.7 1 2 1.3 .7 2.3-.7zM199 345.1l2.5-2-.3-2-1.3-1-4-.6-2.7 1.6-.3 2 1 1.2 5.1 .8zM264.3 345.1l1.3-2-.2-2-2.6-1.4-2 1.5-.3 2.9 1.3 1.3 2.5-.3zM118.1 349.1l1.6-2-1-3-2.6-1.1-3.6 1.1-.8 2 1.4 2.7 2 1 3-.7zM133.5 351.1l2.5-2 .2-3-2.2-2.1-3-.2-2.7 2.3 .1 3 2.6 2.1 2.5-.1zM283.5 358.1l1.2-2-.1-3-1.8-1.7-2 .1-1.9 2.6 .4 3 2.5 1.7 1.7-.7zM90.8 359.1l1.2-2-1.9-2.1-3-.2-1.9 1.3-.4 1 1.4 2 1.9 .6 2.7-.6zM172.4 360.1l1-2-1.4-2.3-3-.3-1.8 1.6 0 2 1.8 1.5 3.4-.5zM246.3 361.1l.9-2-2.4-2.2-3 .4-1.5 1.8 1.5 2.5 3 .3 1.5-.8zM132.5 367l1.3-2 .1-2-1.9-2.7-4-.9-2.5 1.7-.9 2.9 1.5 2.8 2.9 1.2 3.5-1zM208 366l1.9-1.1 .8-2.8-.9-2-1.9-.9-2.2 .9-1.2 2.9 1.4 2.6 2.1 .4zM58.2 364.6l-5.2-1.6-.3-.9 3.6 .9 1.9 1.6zM109.5 372l1.8-3-.4-2-1.8-1.8-4-.4-3.7 2.2-.2 3 1.9 2 3 .8 3.4-.8zM148.4 374l2.2-2 .2-3-1.8-2.6-2-.6-2.8 1.2-1 3 1.8 3.5 3.4 .5zM259.3 374l2.1-1 1.1-2-1.7-2.6-5-1.1-3.9 1.7-.7 2 1.8 2 3.8 1.3 2.5-.3zM189.2 374l1.2-1 .5-2-2-2-5-.3-3.5 2.3-.1 2 2.6 1.5 4 .3 2.3-.8zM229.9 376l1.1-1 .5-2-2.6-2.2-4 .1-2.9 2.1 .4 2 2.5 1.6 5-.6zM126.9 389l2.1-1 .8-2-2.7-2.3-5-.1-3 2.4 2 2.7 5.8 .3zM149 395l1.8-3-.8-1.6-2-.9-6 .8-3 2.7 4 2.8 3 .2 3-1zM214.7 425.9l2.9-1 1.8-1.9-2.2-3-6.3-1.9-2 .4-2.8 2.5-.3 2 2.1 2.2 4 1 2.8-.3z"/><path fill-rule="evenodd" fill="#b4b4b4" d="M189.9 436.9l-39.9-.6-21-1.8-9.9-2.3-1.5-1.3 1.5-1.8 18.9-5.8 3.7-2.3 0-8-4.7-1.6-6 1.8-4.9 0-13.3-2.2-1.5-1 0-1 3.7-4-1.2-3-2.7-1.6-10-2.2-2.5-3.2-7.5-4.5-3-4.7-5.9-3.8-.5-2 1.3-5-.4-2-8.6-10.9 .8-2 3.2-3-2.7-5-6.1-.4-6-3.4-1-1.2 2-4-.5-3-3.5-2.2-3 .2 .2-6-1.6-4-2.6-2.3-4-.2 0-3.1 4 1 2.6-2.4 1.3-4-.6-4-2.3-4.2-5 3.1 .2-32.8 .8-1.4 2 0 1 4.2 1.1 .2 .8-6-.9-14 1.5-5-1.8-5 .5-3 1.8-2.9 1 .9 .2 13-1.8 19 1.4 5 3.2 5.9 8-3.9 1.5-2-.5-2.7-3-.5-1.9-2.8-.4-5 1.2-7 1.1-2.6 1 2 1 .3 .4-.7 1.6-14.9 4.9-1.2 1-1.6 1 .2 2.8 10.5-1.3 14 4 10 1 5 3.5 6-2.8 5-.3 3 2.1 3.1 3-.3 2.4-1.9 .8-3.9-2.9-4 .1-6-1.8-12-1.6-2.8-2-1.2 0-3.9 3 3.5 2 1.1 2 4.9 2-5.3 2-1.1 .6-4.2-.6-7.8-2.1 5.8-1.2-5 .5-6 .8-1.8 1 .1 1 5.3 2-2.5 1 .4 2-3.4 1-5.9 1 10.3-2-.8-2.3 5.3 .7 12-.9 2-2.8 2-.6 4 3.9 5.1 4-8.9 1.8 5.8-.1 5 2.3 3.5 1 .8 1-.5 3.8-6.8-.7-7 .9-8 1-1.5 3 .8 1.5-2.3-.9-16 .4-7.1 1-.7 1.1 9.8-.5 12 .6 3 .8 1.2 1-4 1 .4 1.4 10.4 .6 .8 1-3.1 2 5 3.8 3.3 1.1 2.8 3 1.5 4 6.4 1.9-5.7 0-3-3.9-10.8-2 8-2.3-17.2 1.3-2.4 2 0 2 6.4 2-1.4 1 2.4 1.3-4 1.5-14 1.1-39.9 .7 0 2.7 41.9-.3 8 1 7.2 2-2.9 3-1.4 1.9-22.9 1.1-1.5 .5 10.5 1.5 1.2 1-2 .5 3.8-1.5 6 1.2 6 .8 11.8-4 2.8-1.1-2.6-1.9-2.3-1 0-1-2.3-1.2 1.6 .1 5 2.1 2.4 1 3.8 1 .8 2-4.4 1.2 6.4 2.8 4.8 3-1.9 1.4 4.1 .6 .4 .7-1.4 1.3-12-1.9-7 0-5 .9-7.5 .9 1.5 1.1-.2 1-3.1 .4 13.3 1.4 5 .2 5.3 1-.1 .2-5.2 2.2-5-2.2-5-.2-3.9 1 0 1.3-3.1 2.2-12-.5-17 1-2.7 1 1.6 .9-5.9 5-.4 1 1.5 1-1.2 2.9 2.2 2.1 10.4 .3 28.5 1.2 10 .5 1.5 3 1.1 2 3.8 2-3.6 1 .7 0 1.8-2 2.4-.7 3.3 .7 6.6 1 2.1 1-1.5 3-1.1 1.3-3.1-.9-9 .6-11.9 2 .2 1.8 1.7 3.2 12.2 .8-6.2 1.2-1.8 2-.4 2-1.6 1 2.6 1 .7 .3-.5 .4-11 1.3-3.1 1 .4 .2 2.7-.8 19 .8 2 2.2-14 .6-1.1 2 .1 1.6-3-.7-5 1.1-9.6 .9 3.4 1-.6 1 .8 3-16.1-.7 15.1 1.5 8-1 6 1.2 1.7 2.8-1.7 1.2-12.7 2.1 10.7-1.9 8 .3 16-.5 .8-2-.6-2 .5-2.7 2.3 .6 2 4.1 2.3 2.4-2.3 .6-3.6 2.7 .6 1.3 2.7-.5-6.7 6.5-9.3 2-6.4 1-.3 3 3.9 3-2.3 1 .3 3.3 9.1 .7 .8 .4-.8 .4-2-2.6-14-.5-14 .3-7.2 1-2.1 1-.2 .8 13.5 .2 .9 2 .8 .9 14.3 2.7 4 1 6-4.5 4-.1 4.6 6-1.4 .7-2.2-.7-4 1-2.1 4 1.1 3 9.3 3.9-5.1 2-.6 0-4.8-4-4.1-3.9-.4-.5-5.3 .5-1.5 2.9 1.4 3-.9 3.4-6 1.6-38.4 2.4 11.4 .5 10-.3 10-2.7 12 .1 5 1 3 2-2.3 2 .8 1 1.5-3 3.2-.6 3.8 .8 2 5.7 6-3.4 3-1.2 4.9 1.7 3.8 3.5 2.2-2.3 7-.4 8-1.8 1.8-1.9 6.2 1.9 2.7 2 .5 2-1 1.4-2.2-.4-5 1-2.8 4.1-2.2 1.9-2.5 0 22.5-4 1.3-1.6 1.7 0 6-5.1 4-3.3 6.2-7 2.7-9.9 1.7-4.1 2.3-1.2 2 .4 2 5 4 1 2-.7 2-3.4 2.8-5 1.1-20 1.2-26.9 6.5-9 .9-9-.4-3 1.1-1.7 1.8 0 3 3.7 3.8 3 1.6 19 1.7 9.9 3.8 5 0 7-1.5 1.7 .6 .1 1-3.8 3.2-10.7 2.8-12.2 1.2-12-.7-3 .9-3.4 3.6-.3 2 1.7 2.2 5.7 3.7 .4 2-1.4 3-1.7 1.7-3 .8-17 .5zM292.7 222.3l0-7.1 0 7.1zM120.1 233.5l0-17.9 0 17.9zM162 243.2l0-26.3 0 26.3zM303.7 240.7l-2-12.3 0-12 2.5 10.9-.5 13.4zM132 242l0-21.8 .6 14.1-.6 7.7zM282.8 228.6l0-8.1 0 8.1zM110.1 245l-1-2.3 0-11.8 1 3.1 0 11zM205.9 242.1l0-8.3 0 8.3zM128 261.9l-.9-7.7 .9-17.1 1 9.1-1 15.7zM83.1 262l-2.6-3.8 2.6-18.5 .7 9.5-.7 12.8zM286.7 266.1l-.7-1.9-.3-12 1-9.5 1 8.5-1 14.9zM187 261.2l1.1-3 .4-10-.6-1.9-2-1.3-1.1 1.2-.5 8 .8 6 .8 1.8 1.1-.8zM247.8 259.5l-1-1.3 0-2 1-10.8 0 14.1zM172 253.4l-1-.6-.2-1.6 1.2-4.5 0 6.7zM180.4 260.2l.8-10-1.3-2.1-1.2 3.1 0 6 1.2 3.4 .5-.4zM218.9 273.3l-4-.6-1.7-2.5 1.7-7 1-12.4 1 .1 .4 13.3 1.6 9.1zM198.9 268.3l-.9-6.1 .9-10.8 .7 13.8-.7 3.1zM253.8 263.4l-1.1-8.2 1.1-3.2 1.6 2.2-1.6 9.2zM135 256l-.8-1.8 .8-1.3 0 3.1zM152 259.4l0-3.1 0 3.1zM275.8 274.6l-1-1.5-3-1.5-.2-1.4 3.2-11.6 1 1.8 1-3.9 2 6.7 1-1.1 .6 1.1 .5 8-2.1 2.8-1-.6-2 1.2zM71.3 259.2l-.1-1.7 0 2.5 .1-.8zM204.9 264.3l-1.1-.1 1.1-2.7 0 2.8zM309.7 278.8l-3.2-7.6 2.2-9.4 1 4.3 0 12.7zM51.2 272l-1 .1-1-1.8 1-7.5 1.3 3.4-.3 5.8zM238.8 265.3l0-2.3 0 2.3zM256.8 270.7l0-7.6 0 7.6zM70.5 278.2l1.7-2.1 .3-1.9-1.2-6-1.1-1.7-1.5 5.7 1.8 6zM103.1 268.5l0-1.6 0 1.6zM129 272.3l0-6 0 6zM235.4 274.2l.3-4-.9-3.8-.8 5.8 .8 2.8 .6-.8zM76.4 281.2l1-3-1.3-1.1-.7 2.1 1 2zM237.4 282.2l.4-2-1-3.7-.8 3.7 .8 2.7 .6-.7zM73.2 285.2l.9-2-.9-4-.9 4 .9 2zM120.7 291.2l.6-8-3.2-4.7-1 .4-.6 2.3 .1 5 3.5 5.8 .6-.8zM109.1 282.5l0-2.2 0 2.2zM232 287.2l1.2-2-1.4-3.6-2.9 1.2-.5 1.4 3.6 3zM176.4 293.2l0-5-3.4-2.7-2.2 2.7-.2 2 1.4 1.7 3 .6 1 1.3 .4-.6zM219 294.2l.9-1.5 .4-4.5-1.4-2-2 0-2 2 4.1 6zM193.1 291.2l.7-2-.9-2.3-.7 2.3 .9 2zM261.6 297.2l1.1-1 .1-1.9-3.4-3.1-.6-5-.9 2-.6 9 1.5 .9 2.8-.9zM185.2 296.2l1.4-4-1.2-3-1.5-1.4-2 1.9-.7 3.5 1.7 3.2 2.3-.2zM131.7 291.2l-.7-3 0 3.8 .7-.8zM189.4 291.2l-.5-2.6-.7 2.6 .7 .8 .5-.8zM309.7 316.5l-2.5-6.4-.3-5 1.1-13.9 1.7-2.7 0 28zM303.7 292.6l0-2.4 0 2.4zM57.3 298.2l2.9-4 .2-2-1.2-1.7-3 .4-2.4 2.3 .4 2.3 3.1 2.7zM75.9 298.2l-.2-4-1.5-1.6-1 0-1.4 1.6 0 2 3.3 2.6 .8-.6zM94.2 295.2l-.1-3-1 2 1.1 1zM163.1 303.1l2-1.9 .5-3-1-2-2.6-1-2.4 2-.8 4 1.7 1.9 2.6 0zM227.2 297.2l0-2-1.3-1-.8 1 .1 2 .7 .8 1.3-.8zM66.5 296.2l-.3-1 0 1.8 .3-.8zM131.9 301.2l.7-2-1.6-2.4-1.9 1.4-.4 2 1.3 1.5 1.9-.5zM151.4 303.1l1.2-1 .1-1.9-3.7-4-.5 5.9 1.5 1.7 1.4-.7zM233.5 297.2l-.7-.8 0 1.3 .7-.5zM290 301.2l.7-2-1-1.6-5-.8-.4 2.4 1.4 1.9 2 .7 2.3-.6zM112.2 306.1l1.1-3-.4-1.9-1.4-2-1.4-.4-2.7 2.4-.3 2.9 2 2.5 2 .3 1.1-.8zM216.3 305.1l1.9-2-1.3-2.9-6-1.3-1.4 3.2 1.3 3 2.1 .8 3.4-.8zM174.5 306.1l1.9-1 .8-3-1.2-2.2-2-.5-4 2.7-.6 2 .6 1.4 4.5 .6zM248.2 310.1l2.3-2 .8-3-2.5-4.3-2-1-3.7 2.3-.9 4 2.6 3.9 3.4 .1zM276.1 308.1l1.5-2 .2-2-1-2.6-2-.8-2.7 2.4-.4 3 2.1 2.8 2.3-.8zM61.8 309.1l2.3-2-.4-3-5.5-2.4-2 2.5 .2 2.9 2.8 1.8 2.6 .2zM194.9 311.1l1.4-2 0-3-1.4-2.5-2-.9-2.7 2.4-.8 4 2.5 2.8 3-.8zM99.8 312.1l1.6-2 0-3-2.3-3-3 .3-2.3 2.7 .3 3.3 3 2.5 2.7-.8zM124.3 310.1l1-3-1.2-2.1-2-.5-3.5 1.6-.6 2 1.2 2 2.9 1 2.2-1zM233.1 311.1l1.5-2-.7-3-2.1-1.2-2.9 .3-1.4 2.9 1 3 2.4 .9 2.2-.9zM73.5 311.1l2.2-2 0-2-1.5-1.6-2 0-2.6 1.6-.7 2 1.3 1.9 3.3 .1zM291.2 316.1l1.6-2 .7-3-1.8-3.3-3 1.5-2.6 2.8 .2 2 1.4 1.7 2 .9 1.5-.6zM89.6 318.1l1.1-2-.1-2-1.5-1.8-3-1.1-2.3 2.9 .2 3 2.1 1.8 3.5-.8zM179.5 319.1l1.2-2 .2-3-1.2-2-1.7-.7-2.3 1.7-.4 4 1.7 2.5 2.5-.5zM261.1 317.1l1.2-2-.6-2-1.9-.8-1.9 .8-.9 3 1.8 1.5 2.3-.5zM139.6 321.1l1.1-1-.2-3-2.5-2.2-2 .3-1.6 1.9 .6 3 2 1.6 2.6-.6zM247.9 323.1l2.2-3-.6-3-2.7-2.5-4 .8-1.7 2.7 .2 3 2.5 2.4 4.1-.4zM106.3 324.1l1.6-2 0-3-1.8-2.6-3-.6-2.4 2.2-.3 4 2.7 2.6 3.2-.6zM212.1 323.1l1.2-2-.2-2-2.2-2.9-2-.4-2 2.8 .3 3.5 1.7 1.7 3.2-.7zM157.8 323.1l1.6-3-2.4-3.2-2 0-2.8 2.2-.8 2 1.1 2 2.5 .7 2.8-.7zM125.9 324.1l.9-2-.7-3.1-2-1-2 .5-1.3 2.6 .8 3 2.5 1 1.8-1zM234.4 328.1l2-2 .2-2-1.8-2.7-2-.7-3 2.4-.6 3 2.6 2.4 2.6-.4zM285.9 330.1l2.6-2 .6-3-1.4-2.5-3-1.2-2.7 1.7-.9 3 1.7 2.9 3.1 1.1zM67 331.1l1.7-2 .2-3-1.7-2.6-3-.5-2.6 2.1-.6 4 2.2 2.4 3.8-.4zM193.2 331.1l1.5-2-1.8-3.5-4-.7-3.3 2.2-.2 2 2.5 2.6 3 .3 2.3-.9zM171.9 334.1l1.4-2-.9-4-2.4-1.8-2 .1-1.7 1.7 0 4 2.7 2.9 2.9-.9zM272.1 330.1l.5-2-1.8-1.6-2 .3-1 1.3 1 2.6 2 .2 1.3-.8zM144.2 336.1l2.3-2 .9-4-2.4-2.5-2-.1-3.9 2.6-1.1 4 2 2.3 4.2-.3zM104.8 341.1l2.1-2 0-4-1.8-2.9-3-.6-2.4 1.5-.4 5 1.8 2.6 2 .8 1.7-.4zM221.2 337.1l.9-3-2.2-2-3-.7-2.5 1.7-.3 2 1.8 2.2 3 .5 2.3-.7zM79.2 339.1l2-2-.1-2-2-1.9-2 .1-1.5 1.8 0 2 1.5 1.9 2.1 .1zM246.8 340.1l2.4-1 .6-2-1-2.6-2-.9-2 .7-1.4 2.8 1.4 2.4 2 .6zM158.4 340.1l1.4-1 .1-2-1.9-1.5-3 .5-.7 1 .3 2 1.4 1 2.4 0zM291.2 346.1l2.8-3-1.3-4.3-4-1.9-3 .5-1.9 1.4-1.4 3.3 1.4 2.1 2.9 1.6 4.5 .3zM181.7 345.1l2-2 0-3-1.8-1.4-2-.1-1.9 1.5-.4 3 1.4 1.8 2.7 .2zM200.7 345.1l1.9-3-2.7-2.8-4-.4-3.7 2.2-.3 2 2 2 3 .7 3.8-.7zM234.6 344.1l1.1-2-.9-2.8-2-.9-1.9 .6-1.6 2.1 .8 3 1.7 1 2.8-1zM264.8 345.1l1.1-2-.1-2.4-1-1.5-2 0-2.4 1.9-.3 3 1.7 1.7 3-.7zM54.2 349.1l-3-.1-.6-2.9 1.3-4 3.3-2.9 2.6 7.9-3.6 2zM118 350.1l2.6-3-1.2-3-4.3-1.6-3.8 1.6-.5 3 1.3 2.1 3 1.5 2.9-.6zM134.8 351.1l2.1-3-.9-3.7-4-1.5-3 1.2-1.8 3 .8 3 3 1.8 3.8-.8zM282.6 359.1l2.6-3 .4-4-1.8-1.5-2-.3-3 1.7-.4 3.1 1.4 3.2 2.8 .8zM91.2 359.1l1.1-2-2.2-2.4-3-.2-2.6 1.6 0 2 1.6 1.4 3 .4 2.1-.8zM172.8 360.1l.9-2-1.7-2.6-3-.3-2.2 1.9 0 2 1.2 1.3 3 .6 1.8-.9zM245.9 362.1l1.8-2-.1-2-1.1-1-3.7-.6-2.5 1.6-.4 2 .9 1.4 3 1.2 2.1-.6zM133.5 368l1.2-1 .7-3-1.9-3.9-4.5-1.8-3.7 1.8-1.5 3.9 1.3 3 2.9 1.7 5.5-.7zM208.5 367l2-2 .8-2.9-1.4-2.9-2-.7-2.9 1.6-1 2.9 1.9 3.9 1 .8 1.6-.7zM110.2 373l4.7-1-3.5-7-6.3-.7-4.2 2.7-.4 3 2.6 2.7 3 .7 4.1-.4zM149.5 374l1.9-4-1.9-5-2.5-.6-3 .9-2.6 2.7 1.8 4 2.8 2.6 3.5-.6zM261 374l2.1-2-.1-2-1.9-2-2.3-.9-7 .2-3.2 3.7 6.2 3.6 4 .2 2.2-.8zM202.1 381l11.7-3 3.7-3 .2-2-.8-.5-21 .1-3.7-3.6-5.3-.9-5.1 .9-3.8 4-.2 1 2.1 .9 10 1.7 7 3.8 5.2 .6zM228.7 377l2.2-1 1.3-2-.6-2-1.7-1.2-5-.4-4.4 2.6 .4 2 2 1.5 3 .9 2.8-.4zM129 389l1.3-1 .4-2-3.6-2.7-6 .2-2.8 2.5 .8 2 3 1.6 4 .3 2.9-.9zM147.7 396l3.7-3 .2-5-.6-.3-3-.7-6 .6-4.5 1.4-2.6 2 .2 2 3.9 2.4 5 1.2 3.7-.6z"/><path fill-rule="evenodd" fill="#bfbfbf" d="M206.9 435.1l-56.9 .1-21-1.8-8.6-2.5 1.7-1.4 20.9-7 1.5-2.5-1.9-7-3.6-2-10.5 0-7.4-2-2.2-2-.2-4-2.7-6-19.1-7-5.7-4-3.4-4-.2-5-1-3-7.6-8-1.6-3 .8-1.9 3.9-4 4 2.8 3 .3 3-1.6 .2-2.5-2.2-1.7-2-.3-5 1.8-2-3.8-2-1.4-8.9-.8-4.8-1.8-1.2-2 .4-5-5.2-6-.4-4-3.4-7 1.9-7-.7-7 5.4-.5 1.9-1.5 .8-2-1.2-3-3.9-1.9-.8-3 3.2-5.5 7.8-8.5-.3-3-3.5-.7-1.3-2.3-.5-4 .8-6.2 1-2.6 2.2 1.8 .3 7 1.5 5 2.5-3-2.3-11 1.2-6-.5-8 5-3 1 .1 2.2 8.9-1 14 .5 5 1.3 1.2 2.2 4.8 2.8 11-2.5 7 .8 2.9 1.7 2.3 1 .6 6.7-3.9 2.4-5.9 .2-3-1.3-2.9-1 .2-1 3.7-1 .1-.7-1.1-.8-13 .1-1 2.1-1 1.3-4.6 2-1.2 .4-1.2 .5-11 1.1-2.9 1 .9-.8 4 1 4 .1 5-.8 3-3.7 4 .2 4 4 5.6 4-7 1.7 8.4 3.3 4.3 1.3-.3 2.7-4.1 1-3.9-.4-8 .8-7 .6-1 3 .8 1.8-2.8-.9-13 .1-4.3 1-2.5 .6 20.8 1.4 2.1 1-2.4 1 .1 1 8.6 1 1.2 1-1.7 2 3.4 3.1 2.7 .8 11.2 1-.8 .6-4.4 1.4-1.4 2.8 3.4 1.8 8 .4 .7 1-.4 1.1-3.3 .2-10-1.9-5-1.1-8 .6-2 1.1-.7 1 .6 1-2.4 2.4-17.5 .6-38.9 4 60.9 2-5.6 3.2-2.4 1.8-22 1-1.6 .1 8.6 1.4 4-.1 6 1.7 6 .6 9-.7 3-3 1.8-4-5.1-1-2.7-1-.1-.6 1.1 .6 8.7 1.9 2.3 1.1 3.8 1 .9 1-.9 1 .4 2.2 6.8-1.2 4.2-3 1.6-2-.6-4.2-4.2-.9 2 1.1 6.7 3 0 2 1.4 2-2 3 2.7 1-1.4 4.5-1.5 1.6-1.9 1-3 1.3-14-1.6-11 0-5 .2-1.2 3-3.7 .1 10.9 1.3 5 .3 6-1.5 5 1.8 1.9 2.9 1.1 1.1 1.9 1-1.8 0-5.2-1-1.7-2-.3-.6-1.9 .2-5 1.9-5-1.8-7 2.3-5.8 1.6-11.2-.4-16.9 .8-1.3 1.1 .3 .8-5.9 5-.4 1 1.7 1-1.4 2.5 2 2.5 13.8 .1 25.1 .9 9.4 1 3.6 2 .1 2.4 4.9 1.6 13.5 1 .4 2-1.1 3.4-5.8-.4-20 1-1.5 2.3 1.5 3.7 13.9 1.5-8.9 4.5-1.4 2 3.3 1-1.9 .7 1 .6 9 .7 1.1 .8-1.1 2-14 2.2-.6 1.5-2.4-.3-6 .8-6.8 .9 1.6 2 1 1.7-3.8 .3-6.3 .8 16.3-.8 2.4-1-4.2-.9 8.8 .9 3 1 .3 .1 4.7 .9 2.8 1.2-2.8-.6-7 3.7-3 .7-10.3 1.2 6.3-1.3 10-.2 12-1.1 3-5.6 3.3-2-1.5-1 2 0 3.2 1 1.1 2-2 4.6 3.8 2.5 10-2.1 7.7-1 .6 1-.2 2.1 2.9 2.9 1.4 6-1.3 .8-1.1 .7-5-2.2-3 3.7-4.4 .1 6.4 1.9 3.6 1.5-1.6 3.5-.3 1.9-2.7-.9-2.7-6 0-.9-2.3 .3-4 2.6-3 .6-2.9 1.3-2 2.6-1 1-2-3.2-4-1.3-7.2-1.3 3.2-1.9 14-1.8 1.4-3-.7-1.4-1.7-1.4-8 1.8-4.9 3-3.7 1.9-6.4 1.1-.7 3 3.6 3-2.5 1 .6 3 8.9 1 1 .4-.9 .5-4-2.1-10-.8-10 0-10.4 1-3.9 1 .3 .8 12 1.9 3 .9 12 2.7 4 .5 5-.4 2-3.5 2-.6 5 .7 2.3 1 .2 2-1.7 2.7 1.2-1.4 4-2.7 3.9 .4 3.1 2 2.9 3-1.9 1.3-2.1 .1-3-2.2-7.9 1.7-7 1.1-.6 2 1.5 3 11.1 2.9 1.9 3-.3 1-.9-.1-2.7-3.2-2-.9-2 1.2-2.3 2-.9 .1-6.8-4.1-3.9-2.7-1.1-.5-2 .4-1 5.7-2 2.7-5 1.4-34.6 1 2.8 1.4 6.8 .2 12-.6 6.6-2.4 9.4 .1 6 1.3 3.9 2-1.9 1.7 1-2.1 3-.3 4 1.4 3 2.2 2 .4 2-2.3 7.9 1.9 9-3.6 21 .9 2 1.8 1.5 3 .1 2.8-2.6 2.2-7.8 3-1.6 1 2.4-.6 14-5.6 4-2.8 5.1-3 1.4-2.1-.5-1.9 6-3.5 5-13.4 3.5-6.9 4.4-1.8 3 3.2 5-1 3-51.4 6.7-15 4.3-3.5 4-.1 3 .9 2 5.7 5.4 17.8 2.6 4.8 2-2.6 1.3-15 .9-3 .8-4.5 8 1.1 2.9 3.4 3 1.7 3-1.2 3-2.5 1.2zM303.7 238.1l-1.4-10.8 .4-2.7 1.3 3.7-.3 9.8zM132 237l0-9 0 9zM128 257.6l0-16.6 0 16.6zM83.1 260.3l-1.6-2.1-.2-2 1.8-12.6 0 16.7zM186 263.2l2.3-5 .3-10-.7-2.4-2-1-1.3 1.4-.6 8 2 9zM286.7 256.1l0-9.2 0 9.2zM181 260.2l.4-10-1.5-2.7-1.3 2.7-.1 7 1.4 3.8 1.1-.8zM55.2 272.7l-.7-10.5 1.7-5-1.7-5 1.7-3.7 .9 4.7-.8 4 .7 5-1.8 10.5zM93.1 262.3l-1.1-3.1 1.1-6.4 1.4 1.4 .3 4-.2 2-1.5 2.1zM217.9 272.5l-3.2-.3-.8-2 2-17.3 1 1.5 .5 11.8 1 5-.5 1.3zM286.7 264.9l0-8.6 0 8.6zM275.8 273.6l-3.6-2.4-.2-1 2.8-9.7 1 1.1 1-1.9 3 6.2 .1 3.3-1.1 2.9-1-.1-2 1.6zM77.4 263.2l-.3-2.3 .3 2.3zM135 277.4l-1.9-11.2 .4-3 1.5-1.2 1.4 1.2 1.2 7-2.6 7.2zM51.2 271.3l-1 .1-.5-1.2 .5-4.7 1 1.2 0 4.6zM222.9 275l-.8-4.8 .8-4.7 0 9.5zM309.7 276.1l-1-.9-1-5 1-4.3 1 10.2zM89.1 277.9l0-2.5 0 2.5zM73.3 286.2l1.8-5.2 1 1.7 1-1.1 .8-4.4-.8-.5-1-.1-1.9 3-1-2.2-.5 .8-.5 5 1.1 3zM50.2 308.6l-1-.7 0-14.4 .6-14.3 1.4-1.3 1 .6 1 4.4 1 .6 1-1.3 2.6 7-4.3 4 .1 2 2.4 4-1.3 4.9-4.5 4.5zM120.2 293.2l1.1-2 .2-8-3.4-5.6-1 .3-.6 2.3-.2 6 .8 2.6 3.1 4.4zM232.9 288.2l.5-5-1.6-2.1-2.9 1.4-.7 1.7 3.6 4 1.1 0zM192.9 293.2l1-1.1 .5-2.9-.5-3.6-1 0-1 3.6 .2 3 .8 1zM214.7 306.1l3.2-.4 1.3-1.6-.1-5.9 1.6-9-.2-2-1.6-1.5-3 .5-1.6 2 2.9 4 .2 6-1.5 1.5-2-.3-3-3.2-2.1 5.9 .8 3 2.3 1.1 2.8-.1zM184.3 297.2l1.5-1 1.1-2.3 2 .2 .6-.9 .4-3-1-2.2-2 3.2-2-3.4-1-.3-2 1.7-.7 5 1.7 2.7 1.4 .3zM309.7 296.6l0-6.6 0 6.6zM65.8 299.2l1.3-3-.9-3.6-1-.1-.5 3.7 .5 3.1 .6-.1zM75.5 300.2l.9-1 0-4-1.3-2.5-1.9-.4-1.6 1.9-.1 2 4 4zM117.4 298.2l-.3-4.2-1.3 3.2 1.6 1zM226.9 298.2l.6-3-1.6-1.4-1.2 2.4 1.2 2.2 1-.2zM132.4 301.2l.4-3-1.8-1.9-2.3 1.9-.3 2 1.6 1.8 2.4-.8zM112.7 307.1l1.3-2 .3-3-1.1-2.9-2.1-1.7-3.5 2.7-.8 3.9 2.3 2.9 2 .7 1.6-.6zM170 309.1l2-2.6 3 0 1.8-1.4 .7-3-1.5-2.7-3-.1-4.7 2.8-.7 2 .4 3.7 2 1.3zM194.2 312.1l2-2 .6-3-1.9-4.4-2-1.4-3.3 3.8-1.1 4 .8 2 1.6 1.3 3.3-.3zM309.7 310.8l-.6-4.7 .6-4.9 0 9.6zM99.5 313.1l2.3-3-.1-3-2.6-4.1-4 .6-1 .7-.8 2.8 .8 4.8 2 1.9 2 .3 1.4-1zM123.9 311.1l1.5-2 .3-2-.6-2.9-2-1-4 2-1.6 2.9 2.6 2.9 3.8 .1zM206.9 305.1l0-1.4 0 2.2 0-.8zM70.5 312.1l3.7-.8 1.3-1.2 .6-2-1-2.4-2.9-.5-4.7 2.9-.3 3.8 2 1 1.3-.8zM232.4 312.1l2.4-2 .1-3-2.1-2.4-3.9-.1-1.5 2.5 .5 4 2 1.5 2.5-.5zM292 316.1l1.5-2 1.1-4-.7-4-1.2-1.4-2.8 3.4-2.2 1.3-1 .5-2-.8-2 4 1 3 1 .5 5 .5 2.3-1zM264.6 311.1l.2-3-1 0-.3 3 1.1 0zM187.1 311.1l.1-1-1.7-1 1.4 2.8 .2-.8zM89 319.1l1.9-2 .1-3-4.9-4.5-2.8 2.5-.5 4 2.3 3 3.9 0zM180 321.1l2.6-4 .2-4-4.8-2.2-2.6 2.2-.4 4 2 3.4 3 .6zM273.9 312.1l-.1-.7 .1 .7zM106.2 325.1l2.8-2 .4-3-2.3-4.1-3-1.3-3.5 2.4-.9 4 2.4 3.9 2 .6 2.1-.5zM142 322.1l1.1-3-3.9-4-2.2-.6-2.7 1.6-.1 3 1.8 2.5 6 .5zM153.5 324.1l3.5-.2 2.5-1.8 .2-3-1.7-3.8-3-.2-5.2 5 1.3 4 .9 .9 1.5-.9zM211.2 324.1l2.2-2 .1-3-2.6-3.7-2-.9-2 2.4-.5 4.2 1.5 2.6 3.3 .4zM125.3 325.1l1.6-2 .3-2-1.1-3.3-2-1.2-2 1.1-1.7 4.4 1.7 2.9 3.2 .1zM235.8 328.1l2.2-3 .5-3-4.7-3.8-4.5 4.8-.5 3 1.1 1.8 1.9 1.1 4-.9zM285.1 333.1l3.6-3.8 1-3.2-1.7-4-3.3-1.7-3.7 2.7-1.2 5 4 4.8 1.3 .2zM66.2 332.1l2.5-2 1-4-1.8-3-2.7-1.1-4.2 3.1-1 4 2.2 2.8 4 .2zM192.7 333.1l3.2-2.7-2-4.8-3-2.4-3 .2-2.9 1.7-1.5 3 1.4 3.5 4 2 3.8-.5zM138.1 339.1l.9-1.4 5-1 2.9-2.6 2.3-4-2.2-3.4-4-1.3-4.5 4.7-3.2 5 2.7 4.8 .1-.8zM170.5 337.1l3.5-2.6-.2-4.4-1.8-3.1-4-1.6-1.9 1.7-.5 4 3.4 5.5 1.5 .5zM271.2 331.1l1.3-1 .5-2-1.2-1.5-3-.1-1.4 1.6 .2 2 2.2 1.3 1.4-.3zM149 375l2.7-3 0-6 2.2-3.9 .1-2-1.4-2-2.6-1.2-9-.3-8.5-2.5 3.5-2.7 1.4-2.3-.4-8.4-9.9-1.5-5 5.1-4-1.9-7-.9-3-3.2-1.5-5.2-2.5-2.1-5.6 .1-2.4 1-9-.5-1 .9-.2 2.6 2.2 3.7 3 2 7 1.5 3.8 4.8 5.8 4 4.4 7.6 3 1.6 6.4 .8-.1 1.9-1.3 1-7-1.8-10 2.2-2.2 1.6-1.3 3 .5 2.1 2 2.2 4 1.4 11 1 6-1 6.9-3 10-.8 5 4 4 .1zM222.3 338.1l1.3-3-1-2-4.7-2-2 .3-1.8 1.7 0 3 1.8 1.7 6.4 .3zM80.1 339.1l1.6-2 0-2-1.8-2-2.8-.2-1.9 2.2 .5 3 2.4 1.6 2-.6zM249.4 340.1l1-3-1.4-3-2.2-1-2.6 1-1.8 3 .8 2 2.6 1.8 3.6-.8zM159.6 340.1l1.1-2-1.1-2-2.6-1-2.5 1-.7 2 1.2 1.8 2 .8 2.6-.6zM284.1 359.1l2.6-5 4.9-5 4.1-2.5 1 1 .2-.5-1.1-1 .8-3-1.7-4-4.2-3.3-4-.2-2.9 1.8-6 9.9-.5 3.8 1.1 6 2.4 2.6 3.3-.6zM201.3 346.1l3.4-2 .4-2-1.9-3-3.3-1.6-6 0-3.1 1.6-2.9 2.7-4-5.1-4.9 1.7-2 2.7 .6 3 2.3 1.7 2.8-.7 3.2-3.4 9 4.7 6.4-.3zM233.9 345.1l2.8-3-.8-3-2.1-1.5-3.7 1.5-1.2 3 2 3 3 0zM263.9 346.1l2.1-2 .8-5-3-1.7-3.1 2.7-1.3 3 1.4 2.6 3.1 .4zM167 348.1l1-1.6 0-2.4-3-.6-1-1.1-1 .4-1.1 1.3 .1 3.2 1 1 4-.2zM208.3 385l5.6-2.2 8-4.8 8-.4 2.2-1.6 1.1-2-.5-2-2.8-1.8-4-.5-5 .9-8.9-3.6-.5-1 .5-6.9 .9-.8 5-.1 .6-1.1-7.5-3-.8 3-3.3 .6-2.7 2.4-1.3 5.6-21 2.6-8.7 4.7-2.8 3 4.6 1.8 8.9 .2 18 7 6.4 0zM171.7 361.1l2.2-2-.6-3-2.3-1.4-3 .6-1.6 1.8 0 2 2.6 2.1 2.7-.1zM261.8 375l2-1.1 1.1-1.9-.6-2-1.9-2-3.6-1.6-11.1-2.4-.6-1 2.2-3.9-.5-2-5-1.2-4.1 2.2-.1 3 3.5 2.9-5 5 .1 2 .9 1 2.7 1.3 14 2.5 6-.8zM146.7 397l3.3-1.3 2.5-2.7 1.9-5-.4-2.6-8-.8-12 1.9-5-3.3-4.9-.9-5 1.4-1.8 2.3 1.8 3.3 5.4 2.7-.6 3 1.4 1 14.7 1.6 6.7-.6z"/><path fill-rule="evenodd" fill="#cbcbcb" d="M179 337.3l-2 .3-3.2-9.5-4.7-4-1.7-8-.1-2 2.7-2.5 2-4.3 4-.8 1.9-3.4-1.9-4.6-6 1.1-1.4-1.4 .1-16-1.2-12 1.5-3.1 2.1 13.1 .2 5-1.9 4 .2 1 1.7 2 2.9 1 1.8 3.3 1.2-2.3 .3-6-1.5-2.7-2.1-.3-.2-4 1.9-7-1.4-6 1.8-5.1 1.7-12.9-.4-15.9 .7-1.7 1.4-.3 .5-5.6 5-.5 1 1.9 1-1.5 2.2 1.7 2.2 12.9 .7 10-.6 10 2.1 21-2.6 6.7-2-1.4-2 1.8-3-2.2-2 1.4-.9 2.7 .3 4 1.6 2.2 2 .5 2-1.6 4 1.5 .3 2.4-2.3 4.7-1 1.6-4 .5-3 3.6-3.9 0-2.4 3.5 .8 6 4.5 4 1.1 2 .4 9-2.4 2.2zM146 243l-1-.3 0-16.2 1 5 0 11.5zM303.7 235l0-6.7 0 6.7zM292.7 267.5l0-27.7 1 .1 1 4.6 .4 8.7-.4 7.3-2 7zM158 278.2l-1 .1-4-5.8-.7-3.3 2.2-5 2.5-22.8 .9 17.8 2.1 6 .3 8-.2 3-2.1 2zM186 264.2l2.6-6 .1-10-.8-2.9-2-.7-1.2 .6-1 8 .9 7 1.4 4zM180.1 261.2l1.3-2 .3-9-1.8-3.2-1.6 3.2 0 6 1.8 5zM75.1 277.6l-.9 .2-1-2.1-2-10.5 .6-14 4.3-2.5 1 .5 1.6 8-.4 17-.2 1-3 2.4zM83.1 256.2l-1-2 1-3.2 0 5.2zM118.1 264.3l-.7-5.1 .7-8 0 13.1zM204.9 433l-52.9 .4-20.2-1.5-3.9-1 .4-1 8.7-3 12.7-3 1.6-2.9-.9-5-4.4-1.5-5-4-7-2-2.3-1.5-.2-1 7.5-4.4 18.3-7.6 1.9-1 1.1-2-2.3-7 0-4-1-1.9-1-.4-4 1.4-4.2-1.1 3.2-2.4 1.6-2.6 1-6 2.7-4.9-.2-3-1.3-2-2.8-1.8-10-1.2-3-1.8-.2-7.2 .8-4 1.4-2.7 5.8-3.3 5.1-6 1.8-4 4.3-1.2 3-2.3 3.9 5.5 1.7 10-1.6 1.6-3 1-1.6-3.6-3.4-1.4-3 1.3-.6 2.1 2.6 2.8 4.8 .2-1.1 6 2.3 2.9 4 .4 2.8-1.3 1.3-2 .6-5 4.3-2.3 1 .1 1.7 5.2 2.2 1.3 6-1.7 6 3.1 7 1.2 4-.4 3-1.5 1.9-4-.8-5-2.1-2.3-5-2.4-9.5-15.3 .5-3.9 4-1.8 2.4-4.3-3.3-9.9 .9-14.8 1-1 2 4.8 1.5 14 4.3 8.9 3.2 3-.7 9 1.7 2.2 3 .5 2.4-1.7 1-3-5.5-9 .1-3 1-1.2 9-.2 1.2-2.6 .9-9.9 .4-6-.7-2-1.8-1.1-4 1.2-1-.7 .4-7.4 .6-1.1 4-.3 1 2.7 2 1.3 .7 6.4 1.3 2.4 1.2-2.4 1.8-13.1 2-1.2 1.7-2.7 .3-10.5 1.9 1 .8 1.5 .2 12 3 11 1.4-2 .2-9 2.4-1.6 .7 2.6-1 14-1.7 3.2-4 1.9-1.5-2.1 .6-7-1.1-4.4-1-.2-3.8 2.6 .3 2 2.5 2 1.8 4-1.2 5 .4 5.4 1 .5 2-2.4 3 1.5 1.7 9.9-.7 2.7-3.2-.7-.7-1 .7-5-2.8-3.4-2.9-.1-2 1.5-1 4 1 3 2 1.4 3.1 .6-1.3 5-3.4 5-.1 2 1.7 2.6 2.9 1.2 4-.5 5-3.6 5.6 .3 4.4 2.3 3-.5 2-2.1 1-5.8 4.5-2.9 3.2-7-.7-3.7-1 0-2 5.1-4-.3-.8-2.1 2.7-9.9 3.1-2 .9-2-3.4-5-1-8 1.5-2.9 1-.7 1 1.1 3 8.7 1 .8 1.1-2 0-5-2.6-15-.2-11 .7-5.2 1 1 .7 10.2 1.8 4 .8 10 2.9 5 .1 5-3.4 2-1.1 4 1.2 5.5 1 .6 2-1.9 .7 .8-2.6 7.9 1.5 5-.7 5 1.1 3.3 2 .5 1-.8-.2-7 3-5-1-11.9 1.2-4.1 1 .1 2.2 9 1.8 2.8 3.9 .7 3.7-1.5-.3-3-3.1-3 2.3-5-.1-6-5.4-6 .1-1 3.8-2.3 3-4.3 .7 9.6 2.3 4 .7 6 2.8 4-2.5 11.4-3-2.2-4 4.7-2 .5-2-1.5-.9 .3-1.8 3.7-.7 8-1.9 4-.9 5 .4 4 2 5-4.4 7-1.3 5 .5 3 4.4 10-13.3 5.9-10.7-4-.6-1.9 5.4-4 .2-4-2.3-3.4-5.4-3.6-3.5-13-2.1-1.7-2-.1-4 2.1-5-.8-6.9 4.8-1.3 1.7 .1 3 2.2 2.5 1.9 .3 5-1.3 10.3 5.5-1.4 4-4.9 1.6-2.9 2.4-.5 2 .7 3.9-5.3 5.2-11.9-.6-7.4-3.6-.6-1 .8-1.9 7.2-3 1.8-3-.8-3-2-2.6-3-1.6-4-.3-3 .6-3 1.9-7 12.5-20 4-20.9 8.4-.4 1 6.4 3.2 8.9 .8 20 4 6.7 4-4.1 11 .7 2 5.5 5 2.3 4-4 10 1.4 4.9 4 5-.5 1.7-2 .4zM56.2 254.6l-.7-1.4 .7-2 0 3.4zM96.1 373.1l-3-.1-4-1.8-5.4-4.2-2.2-3-.1-1.9 1.4-2 6.3 .6 3-1.3 1-2.3-1.1-2-2.9-1.3-5-.2-4-4-10.9-1.8-3.4-2.7-.8-5-2.7-5 .4-1 5.5-2.3 3-4.8 4.3-1.9 .9-3-1.3-4.2-.9-.8-2 .5-3 4.3-4-1.4-6 5.1-1.8-1.5 .8-13.3 5-1 2-1.3 1 5.8 2 2.4 1.6-.6 1.4-3 3-1.2 2.2-2.8-.4-3-1.8-1.4-8 .8 1.4-8.3-1.2-7 .3-2 3.2-3 1.3-5.6 2 7.6 1-.2 .9-2.4 2-1.9 1-3.6 1-1.1 1 .8 2.1 4.4 1.4 10-3.2 10.9 2.5 14 2.2 1.9 2 .3 3.8-2.2 .9-4-3.7-4-.8-3 2-2 2.8-.7 1.7 9.7 2.3 2.7 2.1 .3 1.2 6 1.7 2.7 3 1.1 9 0 2-1.6 .9-2.2-.2-3-1.7-3.7-1-.7-3 1.3-1-.4-4-3.4-4 1.5-.6-.6 1.8-6-2.4-6-2.4-9.9 .3-2 3.3-6.6 1-.5 1.4 6.1 3.6 5.4 2.3 1.6-2.7 5 .1 3.9 4.3 3.7 2 .1 5-7 3.5-10.7 0-9-3.5-5.8-1 .4-.9 3.4 .2 10-.7 2-1.6 3.8-2.6-1.8 1-8 .1-15 .5-1.2 3 .6 2-2.2 2 3.1 1-1.4 .9 1.1 1.1 6.6 1 .9 1-1 4.9 5.5 .9 12-2.5 3 0 3 2.6 1.3 1.8-1.3 .5-2-1.1-4 1.8-7.1 2.2 2.1 1.8 10.6 1 2.5 1-.1 .1-3 2.1-6-.6-9-1.9-5-.3-7 2.7-5 2.9-16.5 1-.3 1.7 2.8 .5 18 1.8 2 .6 7 3.4 7.4 2 1.6 1 3-.6 3-2.4 2.1-3-1.6-2-3-1 .5 .1 7.9 .9 2.7 2.4 1.3 .5 9-.9 1.4-3 1.6-4-.6-6-3.3-4 .6-1-4.1-1-1.1-1 .4-1.4 3.1 .4 2.8 3 .9 1.2 3.3 1.8 1.9 4 .9 .8 3.2-4.8 5.7-7 2.3-7.9 7.4-8.6-1.4-3.4-3.1-3-5.9-8-3.6-9 .7-3 1.7-1.6 5.2 1.8 4 2.8 2.6 7.8 3.4 7 6 2.1 3 1.2 4-.6 3-6.8 4.9-2.4 6-1.3 1.1zM93.1 261.3l-.7-2.1 .7-5.9 1.1 .9 .2 4-1.3 3.1zM216.9 272.2l-2-.4-.6-1.6 1.6-14 1 2.1 .9 11.9-.9 2zM55.2 269l-.3-6.8 1.3-2.5 0 7-1 2.3zM77.7 264.2l-.6-4.6-.6 2.6 .6 2.8 .6-.8zM190.1 262.2l-.2 .6 .2-.6zM135 274.8l-1.4-8.6 .4-2.9 1-.6 1.2 1.5 .4 4-1.6 6.6zM158.3 264.2l-.3-1.1 0 1.9 .3-.8zM275.8 272.6l-3.2-2.4 2.2-7.7 2 .2 1.2 4.5-.5 3-1.7 2.4zM96.1 274.6l-.8-.4 .8-8.6 1-1.8 1 6.1-2 4.7zM68.2 280.2l-2-.4-1.1-2.6-.1-5 1.2-4.8 2 1.8 1.3 10-1.3 1zM207.9 300.2l-2-4 .9-6-.7-8 .8-11 1 .1 1.3 1.9 2.7 13.4 4.2 4.6 .6 2-.8 5.5-2 .1-3-4.5-3 5.9zM94.1 276l0-1.2 0 1.2zM92.1 289.2l-1-.2-.5-6.8 2.3-3 .2-3.4 .7 .4-.5 5 2.3 6-.5 .8-2-.1-1 1.3zM147.3 277.2l-.3-1.6 0 2.2 .3-.6zM252.8 299.7l-2 .1-1-1.5-.8-7.1 .8-2.6 3-3.5 2-6.4 1-.8 2.2 4.3-3.1 15-2.1 2.5zM52.2 304.2l-1 .4-1-.9-.5-4.5 .3-19 1.2-1.7 1 1.1 1 4.3 2 .8 1.4 3.5-3.4 5 .1 2 1.7 4-.8 2.7-2 2.3zM76.5 302.1l.7-2.9-.7-5-1.4-2.2-1.9-.1-1.8 2.3-.1 2 2.7 3 1.1 2.8 1.4 .1zM227.4 298.2l.4-3-1.9-1.8-1.5 1.8 .1 2 1.4 1.6 1.5-.6zM63.2 301.5l-2-.5-1-1.8 2-3.2 1.4 2.2 .2 3-.6 .3zM124.5 312.1l1.7-5-.7-4-1.4-1.9-3 2.6-3.5 1.3-.9 2 .6 2 1.8 1.9 4 1.8 1.4-.7zM161 318.5l-.7-2.4 .9-10 1-1 2.8-.4 .6 1.4-.4 6-4.2 6.4zM126.3 325.1l1.5-3-.2-3-1.5-3.4-2-2.1-3.6 5.5-.6 3 .5 2 1.7 1.6 2 .4 2.2-1zM220.9 322.1l1.2-1 .7-3-.9-3.2-2-1.4-1.6 2.6-.4 3 1 2.3 2 .7zM292.7 331.5l-2-1.1-.6-6.3-3.1-5 .9-1 3.8-1 3-2.6 1 .8 .1 2.8-1.9 12-1.2 1.4zM272.1 331.1l1.4-2-.7-2.2-3-1.1-2.3 1.3-.6 2 .9 2.2 2 .7 2.3-.9zM224.9 339.1l1.2-3-1.2-2.7-1.7-1.3-6.3-1.4-3.2 2.4 0 3 2.2 2.1 6 1.5 3-.6zM78.5 340.1l2.5-1 1.6-3-1.8-3-2.7-.9-2 .9-1.4 3 1.2 3 2.6 1zM264.9 346.1l5.2-8-.8-3-2.5-1.9-3 1.5-4.8 7.4 .3 3 1.5 1.4 2 .4 2.1-.8zM303.7 341.1l-2 .1-.7-2.1 3.7-2.1 .3 2.1-1.3 2zM172.7 361.1l1.9-3-1.6-2.9-4-.9-2.7 1.8-.6 2 1.3 2.5 3 1.2 2.7-.7zM113.1 385.4l-3 .3-2.6-1.7 1.6-1.3 5-.3 .8 .6-1.8 2.4z"/><path fill-rule="evenodd" fill="#d6d6d6" d="M178 330.9l-3.2-4.8-3.8-3.4-1.6-6.6 3.2-8 4.4-1.5 1.3-2.5-1.4-5.9 .8-11-3.3-4-.2-2 1.5-6-1-7 1.3-3.2 1.6-10.8 0-19.9 .4-1.3 1 .3 .6-1 .3-5.3 5-.6 1 2.6 1-2.2 2.3 2.5 2.5 21.9-.8 9.1-1 .4-.3 1.5 .3 1.6 1-2.3 .6 1.7 1.3 19-1.9 5.2-2-.4-2 1-3-1.3-2.7 2.5-.7 4 .9 3 2.5 3 4 1.9 0 1-3 1.7-4 5.1-3.9 .8-2.8 3.4-.5 4 .5 4 1.3 3 2.7 3 .4 3-.6 .8zM293.7 263.4l-1 .2-.1-4.4 .2-11 .9-5.4 1.1 11.4-1.1 9.2zM186.5 264.2l2.3-6 .1-11-1-2.5-2-.3-1.5 .8-1 9 2 10 1.1 0zM180.6 261.2l1.1-2 .2-9-2-3.7-1.8 3.7 0 7 1.3 4 1.2 0zM75.1 276.6l-.9-.1-1-2.4-1.4-8.9 .8-13 .6-1.1 1.9 .1 1-2 1.3 3-1.1 10 .8 10-2 4.4zM158 277.6l-1 .1-1.2-1.5-2.3-6 2.2-12 .3-7.1 1-.4 .5 14.5 .5 1.3 1-2.4 .8 3.1 0 8-1.8 2.4zM146 316.2l-2 .4-5-2.7-4-.2-3-5.3-1.5 .7-2.5 3.7-.9-.3-.4-6.4-1.4-4.9-1.2-1.1-3 2.4-1 .5-.5-.9 2.3-9.9 .2-8-.7-4-3.3-6.2-1 .7-.6 2.5-1 12-1.4 3.3-1.2-2.3-.3-13 .4-6 1.1-.7 2 1 2-1 1 2.3 2-.1 2 6.5 3 .4 3.4 3.6 .7 12-2.6 4 .2 2 1.2 1.4 2 .5 2.4-1.9-.4-7.5 1-3.9 1 0 2.7 12.3 1.3 3.1 1 .4 .7-5.4 2.1-5-.9-10-1.9-6-.1-4 2.5-7 3.6-15.5 1 .2 .4 1.3 .5 12-1.6 11 .7 1.5 .6-1.5-.4-3 1.8 .1 1.3 7.9 4.6 11-.3 2-1.6 1.6-2-1-2-3.3-1.6 1.7 .3 7.9 2 9-1.1 3-2.6 2.1zM93.1 260.4l0-6.4 .8 2.2-.8 4.2zM271.8 286.7l-3 .1-3-17.7 0-15.7 1 2.3 .6 7.5 1.6 4 1.1 10 2.5 4 .1 4-.9 1.5zM118.1 261.6l0-3.8 0 3.8zM216.9 271.7l-2-.5-.3-1 1.3-11.1 1 3.3 .6 7.8-.6 1.5zM228.9 366.1l-3-.4-1.8-1.7 2.4-6.9-2.5-6-4.1-3.6-9-3-3.2-7.4-7.8-6.5-6-9-1.4-4.5 .6-2 3.7-4 1.1-3-.3-4-2-5.9 .3-11.5 1 .6 .7 2.9 .7 11.9 6.9 12 .7 9 1.9 2 2.1 .5 3-1 1.4-1.5 1-3-3.7-7-.6-4 .9-1 3-.5 4 1.5 1-1.2 2-16.8 1-.8 1 .6 1-1.5 2-13.6 3.6-4.6 .4-9.2 .9-.3 1.5 2.5 1 16-.5 .6-1-1.2-1 .2-4.1 3.4 .3 2 2.9 3 .6 4-.9 9-3.3 3.9-.9 4 1.1 4 3.2 4-.3 2-3 5-.1 2 .8 2 4.2 3 .9 2-1.4 2.3-2.9 1.7-4-5.8-2-.9-5-.3-3 1-2 3 .2 2 1.8 2.3 7 2.7 5-.7 3 5.3 1.9 .9 5 .1 6 4.8 .3 1.6-4.7 4-2.6 5.1-4 2.9-2.9 1zM135 272.1l-1-5.9 1-2.5 1 3.5-1 4.9zM97.1 270.9l0-4.9 0 4.9zM275.8 271.1l-2-.9-.2-1 1.2-3.9 1 .1 .7 1.8-.7 3.9zM185.3 270.2l-.4-1.3 0 1.8 .4-.5zM68.2 279.6l-1.9-.4-.7-2 .6-7.6 1 0 1 3.2 .8 5.4-.8 1.4zM169 273.4l0-2.8 0 2.8zM214.9 298.2l-1-.3-2-4.8-1-.4-3 4.6-.8-1.1-.2-24.1 1-.1 1 1.7 3 15.2 4.1 3.3 0 4-1.1 2zM235.8 293.2l-1-.3-.5-1.7 .5-9.1 .4 3.1 1.6 1.3 1-.5 .9-2.8-.1-8 2.2-1.2 0 5.9-1.5 10.3-1.2 2-2.3 1zM294.7 303.1l-2-1.6-1-3.3-2.3-3 1.2-5 0-6-.9-2.8-2-1-1.4-2.2 .3-1 4.1-3.2 4.4 16.2 2.4 4-.8 4.8-2 4.1zM170 286.6l-1-11.5 1.6 5.1-.6 6.4zM215.9 285.4l-1 .1-.6-1.3 .3-6 3.3-1.2 1 .9 1.3 5.3-4.3 2.2zM52.2 300.4l-1.4-2.2-.3-6 .7-12.8 1.5 4.8 2.8 4-2.9 5 1 5-1.4 2.2zM95.1 367.2l-5-.3-2.7-1.9-1.1-2 .6-.9 4.2-1.2 2-1.6 .8-2.2-1-2-2.8-1.7-4-.9-6-5.2-11-2.2-1.9-2.2-2.1-5.8 .9-2 5.7-6 4.3-3 1.3-4-.8-4-3.2-4 3.6-5-.3-5 1.3-3.9-1-6-1.8-3.2-.9-.3-2 1.5-1.3 4 3 4 .8 2.9-1.1 1-4.4 .1-1-2.1-1.1-12.9 4.1-5.1 3 4.6 4.9-9.3 2.3 2.8 1.1 8 0 4-3.1 9.9 2.5 14 2.2 2.6 3 .9 3-1.3 3-2.9 3.1 2.7 .6 2-.7 1.5-2.5 1.5-6.5 1.6-4 6.5-4-1.5-3 .6-1.5 1.8-.3 3 2.8 3.6 3 0 3.5-1.6 3.5 3.8 8.4 4.2 6.7 6 1.2 3-.5 4-7.8 7.1zM252.8 297.3l-2-.5-.8-5.6 3.2-5 2.6-6.2 1 2.2-1 7.6-1 4.3-2 3.2zM268.8 362.2l-3-.7-.8-5.4-4.1-7 .3-1 3.6-1.1 4-4.9 3.2-2 .5-2-1.9-5 3.3-3-.2-3-2.9-1.7-3 .9-1.4 1.8-.3 3-3.6 3-5.7 8.6-4-5.1-1.5-4.5 .5-1.3 5.2-3.7 2.1-8 3.8-3 3.1-6 0-3-1.2-2.8-1.7 .8-1.5 4-2.8 0-.6-1 1.7-8.9 3.6-3 .6-2-.6-2-2.8-3-.4-8 1.5-2.4 4 9.8 2 1 1 6.6 2.2 4-.5 3.9 1.1 5-.1 8 1.3 1.9 4 1.7 .4 1.4 .1 13-3 6-1.2 8 1.9 9-2.2 1.7-4 1.4zM93.1 285.2l-1 .7 0-3.4 1 2.7zM110.1 313.5l-6.5-2.4-2.5-7-1.9-11.9 1.9-6.3 1 .1 1.5 4.2 4.1 7-1.6 6.9 4.5 7-.5 2.4zM173 298.3l-2 .2-1.3-1.3-.5-3 .8-2.2 4.2 2.2 .6 3-1.8 1.1zM227 299.2l1.3-3-.7-2-1.7-1.3-1.7 1.3 0 3 1.7 2 1.1 0zM278.8 316l-1-.9-.7-4 2.4-5 .3-8.4 2.6 7.4-3.6 10.9zM236.8 306l-2.2-2.9 1.2-2 1.2 1-.2 3.9zM287.7 307.3l-1.2-1.2-.1-2 3.7-1-.3 3-2.1 1.2zM91.1 311l-2.3-2.9 1.3-2 1.3 1-.3 3.9zM118.1 322.1l-3.6-9 .2-2 1.4-1.4 5.1 3.4 .2 1-3.3 8zM60.2 322.3l-1.2-2.2 0-8 5.2-1.2 .6 6.2-1.9 3-2.7 2.2zM222.6 323.1l1-2 0-4-1.6-4-2.1-2.1-2.4 4.1-.7 5 2.1 3.3 2 .6 1.7-.9zM120.1 339.2l-3 .3-3-1-2.9-2.4-1.5-3 .3-2 5.2-3 2.9-4.4 4 3.1 4-.2 1.9-2.5 1.2-5 1.8-.7 2 .8 3 3.6 3 1.3 .2 2-2.2 2.9-9 3.2-7.9 7zM292.7 322.3l-1 .7-1.4-1.9-.2-1 1.1-1 1.8 0-.3 3.2zM164 370.1l-3 .1-2.2-1.2 .4-8.9-2.3-6-2.9-1.3-10-1.2-2.1-1.5-1.1-3 .1-4 1.5-4 9.6-8 2.5-5 5.5-2.1 4 4.7 .8 6.4-1.8 1.5-4-2.1-3-.2-2 .9-1.2 1.9 1.2 3.1 4.7 2.9-1 6 1.3 2.9 9 .5 3.2-2.4 2.5-6 1.3-.4 3 2.8 6.9 .8 13.7 7.8-.7 3-4.4 3-29.5 9zM172.2 362.1l2.5-2 .6-2-.6-2-2.7-2.4-4-.5-2.7 2.9 .1 4 3.6 2.3 3.2-.3z"/><path fill-rule="evenodd" fill="#e2e2e2" d="M180.9 306.3l-1 .7-1-.9 .3-3-1.4-5.9 .7-10-3.4-5 .8-8-.7-6 2.8-10.9 1.9 4.7 1.8-1.8 .8-7-.4-4-2.2-3.4-1.9 3.5-.2-15 1.9 0 .2 8.5 0-15.5 5-.5 1 3.8 1-3.5 .7 1.2 .3 7.7 1-5.3 .5 13.5-.5 1.6-1-1.9-3 .4-.7 .9-.1 6-1 3 .9 2 .9 8 1 1.1 1-.9 2-5.8 1 6 1.2-1.4 1.3 19-1.5 4.4-4 .7-3-1-3 1.9-.7 6 2.6 7-1.9 5.1zM189.9 258.2l-.8-2-.1-6 .9-3.4 1 .5 .3 3.9-.3 4.9-1 2.1zM293.7 260.5l-.6-5.3 .6-8.4 .6 7.4-.6 6.3zM145 315.6l-4-2.9-5 .1-4-6-3 1.6-1-.5-1-4.8 .1-.7 3.9 1.6 2-1.2 1.6-2.6-.6-5.7 1-1 2.4 10.6 2.6 4.3 1.4-3.3 .6-5.9 2.6-2-4.2-20 2.6-11.5 2.1-4.5 .9-7.3 1 .3 .2 14-.2 1.8-2 0-.3 3.2 2.3 7.3 1-4.1 1 1.9 .7 4.9 2.3 4.6 1.1 5.4-1.1 1.6-3-4.6-2.5 4-.3 3 2.2 12.9-1.1 3-2.3 2.5zM74.2 274l-1-1.8-.3-6 .3-5 1-2.2 .9 1.5 .2 4.7-1.1 8.8zM158 276.2l-1 .5-1-1-1.4-4.5 1.4-12.3 .7 1.3 .3 7.5 1.4 4.5-.4 4zM270.8 285.3l-2-2.7-2-10.4-1-13.6 3 9.6 .5 8 2.7 5-.2 3.9-1 .2zM215.9 271.3l-.8-2.1 .8-6.6 1.2 7.6-1.2 1.1zM226.9 320.8l-1-1.2-.8-4.5-3.4-6 .1-9.9 1.1-5 2 5 2 .8 1.6-.8 .1-4-3.6-4 1.7-7 .6-8 3.4-5 1.1-7.7 1.2 2.7-.1 11-1.9 3-4.1 3 .6 2 2.9 3 .5 3-1 7.1-4.2 10.8 .3 5 2.2 4-1.3 2.7zM185.5 271.2l.4-2.2-1-1.1-.4 2.3 .4 1.6 .6-.6zM68.2 278.9l-1 0-1.1-1.7 .1-4.3 1-1.1 1 3 0 4.1zM114.1 287.5l-1.1-10.3 1.1-5.7 1.9 1.7 .2 2-2.1 12.3zM208.9 293.6l-1-.3-1-9.4 .1-8.7 .9-2 2.7 15 0 2-1.7 3.4zM239.8 280.7l-.8-3.5 .8-2 0 5.5zM216.9 284.6l-2 0-.3-2.4 .3-3.8 2-.9 1.5 .7 .6 3-.3 2-1.8 1.4zM290.7 280.6l0-2.7 0 2.7zM79.1 298.9l-3-9.7 3-8.2 2 2 .8 7.2-.8 4.9-2 3.8zM126.1 300.4l-3.4-2.2-.5-2 .5-14 .4-1.2 2-.6 3.9 3.2 .8 9.6-.2 2-3.5 5.2zM257.8 335.4l-1 .1-.3-1.4 2.7-5 1.1-8 4.9-6 1.5-4-.2-4-1.7-3.3-1.5 .3-2.5 4.2-.9-1.2 .9-6.8 3-2.6 .9-2.5-.3-2-3.1-3-.3-6 .8-2.3 5.3 11.3 2.7 8.5 .8 8.4-.5 7 .9 3 2.7 4-5.9 1.4-3 3.9-7 6zM294.7 300.5l-4.2-5.3 1.2-12.7 5.1 11.7-.3 3-1.8 3.3zM52.2 292l-1-.9-.1-1.9 .1-3.4 1-.6 2 4-2 2.8zM73.2 303.2l-2 .4-1.6-1.5-2-11.9 .6-2 3-2.5 1.8 4.5-2.4 4-.2 2 2.8 4.2 0 2.8zM106.1 309.3l-2-.8-2.9-6.4-1.1-8.9 1-4.7 1 0 4.5 8.7-1.2 5.9 1.2 5-.5 1.2zM236.8 291.5l-1.2-.3 .2-2.5 1.9 .5-.9 2.3zM252.8 293l-.6-1.8 1.6-2.5 .5 1.5-1.5 2.8zM214.9 296.2l-1-.2-.8-2.8 .8-1.9 1.5 1.9-.5 3zM173 297.2l-2-.5 0-2.9 2 .3 .7 1.1-.7 2zM213.9 341.2l-2-1-5-6.5-5-4.3-6.1-8.3-.8-5 3.9-6.9 1-.4 3.8 6.3 .7 7 1.5 3.3 4 1.3 6-2.2 3.1 2.6-.1 1-4 2.1-2.5 2.9-.3 3 2.3 4-.5 1.1zM75.1 342.3l-1.9 .3-3-1.4-1.5-2.1-.1-2 3.6-5.3 4.9-4.7 1.4-3 .2-5-2.7-6 2.1-3.6 1 1.5 1.3 8.1 4.2 6-2.5 6-5-.3-3.3 2.3-.5 4 1.8 5.2zM174 310.7l0-1.4 0 1.4zM214.9 315.4l-1.7-3.3 .7-2.4 1-.1 1.2 1.5-.2 3.5-1 .8zM61.2 316.5l-.4-2.4 1.4-.7 0 2.4-1 .7zM118.1 315.2l0-1.8 .7 .7-.7 1.1zM134 327.3l-2.7-.2-1-1 .1-3 1.6-2.1 4.6 4.1-.6 1.3-2 .9zM162 333.5l-9-.4 3-5.7 2-1.2 2 .9 2.2 3-.2 3.4zM118.1 335.2l-1.8-1.1 .7-2 2.1-1.5 2 .1 .2 2.4-3.2 2.1zM153 348.3l-4 .7-3-.7-2-2-.5-2.2 .2-3 1.1-2 7.2-5.1 .8 .1-.9 3 .4 2 4 5-3.3 4.2zM234.8 356.4l-2 .1-2.4-1.4-5.9-8-.6-2.2 2-.9 4 3.1 6.7 3 1.6 3-1.1 2-2.3 1.3zM267.8 350.3l-2-1.2 3-3.2 .8 2.2-1.8 2.2zM97.1 358.4l-1-.1-1.5-3.2-4.1-3-1-2 1.6-.6 2 .5 4 2.9 1.3 2.2-1.3 3.3zM179.9 360.2l-1.9 .8-1-.9-.9-6 1.9-1.8 2.9 .4 2.7 2.4-.9 3-2.8 2.1z"/><path fill-rule="evenodd" fill="#eeeeee" d="M182.9 252.7l-.3-3.5-2.2-4-.3-16.9 .8-1.1 4-.1 0 11.7 2-11 .7 14.4-.2 1-2.5 .4-.9 1.6-1.1 7.5zM179 246.1l-.6-2.9 .6-6.6 0 9.5zM189.9 255.2l0-7.3 .7 1.3-.7 6zM189.9 286.2l-3 .4-2-1-5.9 1.1-3-5.2-.4-13.3 2.1-9 .3-.5 1 3.1 .9 .7 1-.7 1.1-1.6 .9-5.6 2.3 11.6-1 4 .7 3.1 1 0 .4-1.1 .8-7 1.8-5.3 1 5.8 1-1.4 1.2 17.9-1.2 3.6-1 .4zM145 287.3l-1 0-3-8.1 .8-6 2.2-7.4 1 21.5zM215.9 270.5l0-4 .7 2.7-.7 1.3zM227.9 281.4l-.7-1.2 .6-4 3.5-5 .5-3.8 .8 3.8-.4 5-1.9 4-2.4 1.2zM267.8 271.7l0-1.9 0 1.9zM114.1 281.4l0-7.7 1 .7 .2 1.8-1.2 5.2zM67.2 277.6l0-2.9 0 2.9zM208.9 289.8l-1.3-5.6 .3-7.5 1.6 7.5-.6 5.6zM181.5 279.2l-.6-2 0 2.9 .6-.9zM215.9 284.2l-1-4 .9-2 1.1-.2 1.2 1.2 .1 3-2.3 2zM178 281.2l0-2.1-.6 1.1 .6 1zM126.1 298.4l-2.5-2.2-.7-3 .2-8.7 2-2.6 2.9 1.5 1.1 4.8-.1 6.8-2.9 3.4zM79.1 295.2l-1.8-6 1.8-6 1 0 1 7-1 4-1 1zM228.9 294.3l-3-3.1 1-5.7 2.3 1.7 1 2-.3 4.8-1 .3zM263.8 290.7l-2-1.4 0-2.3 1-.3 1 4zM70.2 293.8l-1 .2-.9-3.8 .8-2 2.1-1 .9 3-1.9 3.6zM294.7 297.8l-3-2.6 0-5.7 1-2.2 3.2 6.9-1.2 3.6zM104.1 304.8l-1.8-2.7-.9-4.9-.2-4 .9-2.4 2 2.4 1.4 4-1.4 7.6zM268.8 308.9l-2.3-5.8-2.4-2.9 1.7-3.4 1 .7 1.3 4.6 .7 6.8zM224.9 307.2l-1 .7-1-1.8 0-6.6 1-.2 2.8 2.8-1.8 5.1zM136 308.3l-1.7-3.2 .7-1.6 1 4.8zM200.9 322l-2-1.4-1-2.4 1-3.7 2 .9 1 2.5 0 2.7-1 1.4zM264.8 325.4l-2-1.1-.1-3.2 3.1-3.5 1.6-.5 1.3 6-3.9 2.3zM210.9 332.6l-1.5-.5-.4-2 3.6-1-1.7 3.5zM150 344.2l-2.4-2.1 1.4-3.1 1 0 2.2 3.1-.2 1.3-2 .8z"/><path fill-rule="evenodd" fill="#f9f9f9" d="M182.9 245.5l-1.1-6.2-.1-9 .2-2 2-.5 .7 15.4-1.7 2.3zM189.9 285.2l-1-.5-2 .8-3-1.5-2 1.3-3.1-.1 1.1-2.9 1 1.5 1.5-.6 0-6-1.5-3.1-1 3.8-.9 .9-1-3.2-1 .2-.8-7.6 1.2-3 .6-5.1 .4 2.1 1.5 1.2 2.6-3.2 .4-4.5 1.2 6.5-.2 11 1 5.5 1-.2 1-2.7 1-12.1 1-.8 .3 4.3 1.8 2 .4 12-.5 3.1-1 .9zM228.9 280.3l-1-.3 0-1.8 3-4.9 .6 .9-.5 3-2.1 3.1zM216.9 282.5l-1.2-.3 .2-3.1 1-.1 .5 1.2-.5 2.3zM127.1 296.3l-1 .3-1.5-1.4-1.2-5 .7-5.4 2-1.2 1.9 1.9 .7 4.7-.2 4-1.4 2.1zM228.9 292.5l-2.5-2.3 .5-3.2 2.3 1.2 .4 2-.7 2.3zM70.2 291.6l-.9-1.4 .9-1.4 .8 1.4-.8 1.4zM79.1 290.4l0-2.2 0 2.2zM293.7 293.5l0-.6 0 .6z"/><path fill-rule="evenodd" fill="#ffffff" d="M182.9 264.6l0-2.5 0 2.5zM127.1 294.3l-1.8-1.1-.9-3 .4-3 1.3-1.2 1 .7 .9 3.5-.9 4.1zM227.9 290.2l0-1.5 0 1.5z"/></g></g><path d="M49.6 210.8C49.6 211.8 49.7 215.0 49.7 217.0C49.7 219.0 49.8 221.0 49.8 223.0C49.8 225.0 49.9 227.0 49.9 229.0C50.0 231.0 50.0 233.0 50.0 235.0C50.1 237.0 50.1 239.0 50.2 241.0C50.2 243.0 50.3 245.0 50.4 247.0C50.4 249.0 50.5 251.0 50.6 253.0C50.6 255.0 50.7 257.0 50.8 259.0C50.9 261.0 51.0 263.0 51.1 265.0C51.2 267.0 51.3 269.0 51.4 271.0C51.5 273.0 51.6 275.0 51.7 277.0C51.8 279.0 52.0 281.0 52.1 283.0C52.2 285.0 52.4 287.0 52.6 289.0C52.7 291.0 52.9 293.0 53.1 295.0C53.3 297.0 53.5 299.0 53.7 301.0C53.9 303.0 54.1 305.0 54.3 307.0C54.6 309.0 54.8 311.0 55.1 313.0C55.4 315.0 55.7 317.0 56.0 319.0C56.3 321.0 56.6 323.0 57.0 325.0C57.3 327.0 57.7 329.0 58.1 331.0C58.5 333.0 58.9 335.0 59.4 337.0C59.9 339.0 60.4 341.0 60.9 343.0C61.4 345.0 62.0 347.0 62.5 349.0C63.1 351.0 63.8 353.0 64.5 355.0C65.1 357.0 65.9 359.0 66.6 361.0C67.4 363.0 68.2 365.0 69.1 367.0C70.0 369.0 70.9 371.0 71.9 373.0C72.9 375.0 74.0 377.0 75.1 379.0C76.2 381.0 77.4 383.0 78.7 385.0C80.0 387.0 81.4 389.0 82.9 391.0C84.4 393.0 85.9 395.0 87.6 397.0C89.3 399.0 91.0 401.0 93.0 403.0C94.9 405.0 96.9 407.0 99.0 409.0C101.2 411.0 103.5 413.0 106.0 415.0C108.5 417.0 111.1 419.0 113.9 421.0C116.7 423.0 119.6 425.0 122.8 427.0C126.0 429.0 129.4 431.0 133.0 433.0C136.7 435.0 140.5 437.0 144.6 439.0C148.8 441.0 153.1 443.0 157.8 445.0C162.5 447.0 169.2 449.6 172.8 451.0C176.4 452.4 178.3 453.0 179.4 453.4L180.8 453.4C181.9 453.0 184.0 452.4 187.8 451.0C191.7 449.6 198.8 447.0 203.8 445.0C208.7 443.0 213.3 441.0 217.6 439.0C221.8 437.0 225.8 435.0 229.4 433.0C233.1 431.0 236.5 429.0 239.7 427.0C242.9 425.0 245.8 423.0 248.6 421.0C251.3 419.0 253.9 417.0 256.2 415.0C258.6 413.0 260.8 411.0 262.9 409.0C265.0 407.0 266.8 405.0 268.6 403.0C270.4 401.0 272.1 399.0 273.6 397.0C275.2 395.0 276.6 393.0 277.9 391.0C279.3 389.0 280.5 387.0 281.7 385.0C282.9 383.0 284.0 381.0 285.0 379.0C286.0 377.0 287.0 375.0 287.9 373.0C288.7 371.0 289.6 369.0 290.4 367.0C291.1 365.0 291.9 363.0 292.5 361.0C293.2 359.0 293.9 357.0 294.5 355.0C295.1 353.0 295.6 351.0 296.1 349.0C296.7 347.0 297.2 345.0 297.6 343.0C298.1 341.0 298.6 339.0 299.0 337.0C299.4 335.0 299.8 333.0 300.1 331.0C300.5 329.0 300.9 327.0 301.2 325.0C301.5 323.0 301.8 321.0 302.1 319.0C302.4 317.0 302.7 315.0 303.0 313.0C303.3 311.0 303.5 309.0 303.8 307.0C304.0 305.0 304.2 303.0 304.5 301.0C304.7 299.0 304.9 297.0 305.1 295.0C305.3 293.0 305.5 291.0 305.7 289.0C305.9 287.0 306.1 285.0 306.3 283.0C306.4 281.0 306.6 279.0 306.8 277.0C306.9 275.0 307.1 273.0 307.2 271.0C307.4 269.0 307.6 267.0 307.7 265.0C307.8 263.0 308.0 261.0 308.1 259.0C308.3 257.0 308.4 255.0 308.5 253.0C308.7 251.0 308.8 249.0 308.9 247.0C309.0 245.0 309.2 243.0 309.3 241.0C309.4 239.0 309.6 237.0 309.6 235.0C309.7 233.0 309.8 231.0 309.8 229.0C309.8 227.0 309.8 226.0 309.8 223.0C309.8 220.0 309.8 212.8 309.8 210.8Z" fill="none" stroke="#333" stroke-width="0.5"/><defs><clipPath id="box0"><rect x="48.7" y="210.8" width="261.5" height="242.59999999999997"/></clipPath></defs><g clip-path="url(#box0)"><path d="M49.6 211.5L49.6 219.0" fill="none" stroke="#000" stroke-width="2.3" stroke-linecap="round" stroke-linejoin="round"/><path d="M50.6 217.0C50.6 220.8 50.7 232.5 50.7 240.0C50.8 247.5 50.7 257.0 50.9 262.0C51.1 267.0 51.8 267.5 51.8 270.0C51.8 272.5 51.5 275.1 51.1 277.0C50.7 278.9 49.8 280.8 49.5 281.5" fill="none" stroke="#000" stroke-width="1.3" stroke-linecap="round" stroke-linejoin="round"/><path d="M49.3 289.0L49.3 295.0" fill="none" stroke="#000" stroke-width="1.5" stroke-linecap="round" stroke-linejoin="round"/><path d="M71.0 211.0L71.0 232.0" fill="none" stroke="#000" stroke-width="1.4" stroke-linecap="round" stroke-linejoin="round" stroke-dasharray="3 2"/><path d="M76.8 211.0C76.8 215.0 76.8 228.5 76.9 235.0C77.0 241.5 77.2 247.5 77.2 250.0" fill="none" stroke="#000" stroke-width="1.3" stroke-linecap="round" stroke-linejoin="round"/><path d="M71.0 250.0C69.9 252.3 70.7 258.3 70.8 262.0C70.9 265.7 70.9 269.4 71.5 272.0C72.1 274.6 73.5 277.0 74.5 277.8C75.5 278.6 76.9 278.6 77.8 277.0C78.7 275.4 79.5 271.2 79.8 268.0C80.1 264.8 79.8 260.8 79.6 258.0C79.3 255.2 78.7 252.7 78.3 251.0C77.9 249.3 78.4 248.2 77.2 248.0C76.0 247.8 72.1 247.7 71.0 250.0Z" fill="none" stroke="#000" stroke-width="1.45" stroke-linecap="round" stroke-linejoin="round"/><path d="M75.9 249.8C75.9 250.8 75.8 254.0 75.8 256.0C75.8 258.0 76.1 261.0 76.2 262.0" fill="none" stroke="#000" stroke-width="1.1" stroke-linecap="round" stroke-linejoin="round"/><path d="M71.0 232.0L71.0 250.0" fill="none" stroke="#000" stroke-width="1.2" stroke-linecap="round" stroke-linejoin="round"/><path d="M64.3 251.0L65.2 253.6" fill="none" stroke="#000" stroke-width="1.3" stroke-linecap="round" stroke-linejoin="round"/><path d="M94.6 257.1C94.6 258.1 94.5 259.2 94.3 260.0C94.1 260.8 93.8 261.6 93.5 261.9C93.2 262.2 92.8 262.2 92.5 261.9C92.2 261.6 91.9 260.8 91.7 260.0C91.5 259.2 91.4 258.1 91.4 257.1C91.4 256.1 91.5 255.0 91.7 254.2C91.9 253.4 92.2 252.6 92.5 252.3C92.8 252.0 93.2 252.0 93.5 252.3C93.8 252.6 94.1 253.4 94.3 254.2C94.5 255.0 94.6 256.1 94.6 257.1Z" fill="none" stroke="#000" stroke-width="1.45" stroke-linecap="round" stroke-linejoin="round"/><path d="M92.0 214.0L92.2 225.0" fill="none" stroke="#000" stroke-width="1.2" stroke-linecap="round" stroke-linejoin="round" stroke-dasharray="3 2"/><path d="M127.0 211.0C127.0 215.8 127.0 232.2 127.0 240.0C127.0 247.8 127.1 253.8 127.1 258.0C127.1 262.2 127.2 263.8 127.2 265.0" fill="none" stroke="#000" stroke-width="2.4" stroke-linecap="round" stroke-linejoin="round"/><path d="M144.8 211.0C144.5 215.8 144.8 231.5 144.7 240.0C144.6 248.5 144.9 256.5 144.2 262.0C143.5 267.5 141.2 269.8 140.6 273.0C140.0 276.2 140.4 278.4 140.8 281.0C141.2 283.6 142.7 286.2 143.0 288.5C143.3 290.8 143.4 292.8 142.9 294.7C142.4 296.6 140.6 297.4 140.2 300.0C139.8 302.6 139.8 307.1 140.5 310.0C141.2 312.9 143.2 316.9 144.4 317.2C145.7 317.5 147.3 314.9 148.0 312.0C148.7 309.1 148.7 302.9 148.6 300.0C148.5 297.1 147.4 296.7 147.5 294.7C147.6 292.7 148.7 290.4 149.0 288.0C149.3 285.6 149.6 283.3 149.5 280.0C149.4 276.7 148.9 273.0 148.5 268.0C148.1 263.0 147.1 259.5 146.8 250.0C146.5 240.5 147.0 217.5 146.7 211.0C146.4 204.5 145.1 206.2 144.8 211.0Z" fill="none" stroke="#000" stroke-width="1.45" stroke-linecap="round" stroke-linejoin="round"/><path d="M155.6 238.0C155.4 240.8 155.5 250.2 155.3 255.0C155.1 259.8 154.6 263.3 154.5 266.8C154.4 270.3 154.2 273.9 154.6 276.0C155.0 278.1 156.1 279.0 157.0 279.2C157.9 279.4 159.6 278.9 160.2 277.0C160.8 275.1 161.0 271.2 160.7 268.0C160.4 264.8 159.0 261.8 158.5 258.0C158.0 254.2 157.9 248.3 157.6 245.0C157.3 241.7 156.9 239.2 156.6 238.0C156.3 236.8 155.8 235.2 155.6 238.0Z" fill="none" stroke="#000" stroke-width="1.45" stroke-linecap="round" stroke-linejoin="round"/><path d="M178.2 228.0C177.8 230.8 177.7 237.1 177.4 242.0C177.1 246.9 176.9 252.3 176.6 257.5C176.3 262.7 175.6 268.6 175.5 273.0C175.4 277.4 175.5 281.6 175.9 283.9C176.3 286.2 177.4 286.6 178.2 287.0C179.0 287.4 179.7 286.1 180.5 286.2C181.3 286.2 182.0 287.4 182.8 287.3C183.6 287.2 184.4 285.9 185.2 285.9C186.0 285.9 186.6 287.2 187.5 287.3C188.4 287.4 189.8 287.3 190.6 286.7C191.4 286.1 192.2 286.2 192.6 283.9C193.0 281.6 193.2 276.4 192.9 273.0C192.6 269.6 191.5 266.8 191.0 263.7C190.5 260.6 190.3 258.0 190.1 254.4C189.9 250.8 189.9 246.4 189.8 242.0C189.7 237.6 189.9 230.8 189.3 228.0C188.8 225.2 187.6 225.8 186.5 225.5C185.4 225.2 184.1 226.5 183.0 226.5C181.9 226.5 180.8 225.2 180.0 225.5C179.2 225.8 178.6 225.2 178.2 228.0Z" fill="none" stroke="#000" stroke-width="1.45" stroke-linecap="round" stroke-linejoin="round"/><path d="M179.3 246.0C178.7 246.7 178.5 251.2 178.5 254.0C178.5 256.8 178.8 262.2 179.3 263.0C179.9 263.8 181.4 261.2 181.8 259.0C182.2 256.8 182.3 252.2 181.9 250.0C181.5 247.8 179.9 245.3 179.3 246.0Z" fill="none" stroke="#000" stroke-width="1.1" stroke-linecap="round" stroke-linejoin="round"/><path d="M184.6 244.5C184.2 246.1 183.6 250.6 183.8 254.0C184.0 257.4 184.8 264.3 185.6 265.0C186.4 265.7 188.1 260.8 188.6 258.0C189.1 255.2 188.9 250.3 188.6 248.0C188.2 245.7 187.2 244.8 186.5 244.2C185.8 243.6 185.0 242.9 184.6 244.5Z" fill="none" stroke="#000" stroke-width="1.1" stroke-linecap="round" stroke-linejoin="round"/><path d="M179.6 211.0L179.2 226.0" fill="none" stroke="#000" stroke-width="1.6" stroke-linecap="round" stroke-linejoin="round"/><path d="M185.0 211.0L185.1 226.0" fill="none" stroke="#000" stroke-width="1.6" stroke-linecap="round" stroke-linejoin="round"/><path d="M189.0 211.0L189.2 227.0" fill="none" stroke="#000" stroke-width="1.6" stroke-linecap="round" stroke-linejoin="round"/><path d="M201.2 211.0L201.5 223.4" fill="none" stroke="#000" stroke-width="2.0" stroke-linecap="round" stroke-linejoin="round"/><path d="M205.6 211.0C205.6 214.2 205.7 224.1 205.8 230.0C205.9 235.9 206.0 243.9 206.0 246.7" fill="none" stroke="#000" stroke-width="2.0" stroke-linecap="round" stroke-linejoin="round"/><path d="M157.1 376.3C154.7 377.7 157.1 381.6 155.4 384.8C153.7 388.0 151.2 392.6 146.9 395.7C142.7 398.8 133.0 401.6 129.9 403.6C126.8 405.7 126.5 406.3 128.2 408.0C129.9 409.7 137.5 411.7 140.1 413.8C142.7 415.9 144.6 418.7 143.5 420.6C142.4 422.5 137.9 423.6 133.3 425.0C128.8 426.4 119.3 428.0 116.2 429.1C113.1 430.2 112.2 430.8 114.5 431.9C116.8 433.0 122.3 434.9 129.9 435.6C137.5 436.3 151.7 436.1 160.0 436.2C168.3 436.3 171.6 436.3 180.0 436.3C188.4 436.3 205.1 436.9 210.4 436.0C215.8 435.1 212.7 432.8 212.1 430.8C211.5 428.8 207.6 426.0 207.0 424.0C206.4 422.0 208.4 421.2 208.7 418.9C209.0 416.6 209.8 413.8 208.7 410.4C207.6 407.0 202.6 402.1 201.9 398.4C201.2 394.7 205.4 391.0 204.6 388.2C203.8 385.4 200.1 383.3 196.8 381.4C193.5 379.5 189.3 377.5 184.8 376.6C180.3 375.7 174.6 376.2 170.0 376.2C165.4 376.1 159.5 374.9 157.1 376.3Z" fill="none" stroke="#000" stroke-width="1.45" stroke-linecap="round" stroke-linejoin="round"/></g>
<rect x="48.5" y="211" width="261.5" height="242.5" fill="none" stroke="#999" stroke-width="1"/>
<path d="M48.5 242.3h3M310 242.3h-3M48.5 275.2h3M310 275.2h-3M48.5 308.1h3M310 308.1h-3M48.5 341.0h3M310 341.0h-3M48.5 373.9h3M310 373.9h-3M48.5 406.8h3M310 406.8h-3M48.5 439.7h3M310 439.7h-3M113 453.5v-2.5M113 211v2.5M180 453.5v-2.5M180 211v2.5M246.5 453.5v-2.5M246.5 211v2.5" stroke="#999" stroke-width="1" fill="none"/>
<text x="43.6" y="247.2" font-size="13.3" text-anchor="end">0.5</text>
<text x="43.6" y="280.1" font-size="13.3" text-anchor="end">1</text>
<text x="43.6" y="313.0" font-size="13.3" text-anchor="end">2</text>
<text x="43.6" y="345.9" font-size="13.3" text-anchor="end">4</text>
<text x="43.6" y="378.8" font-size="13.3" text-anchor="end">8</text>
<text x="43.6" y="411.7" font-size="13.3" text-anchor="end">16</text>
<text x="43.6" y="444.6" font-size="13.3" text-anchor="end">32</text>
<text x="80.6" y="464.2" font-size="13.4" text-anchor="middle">June</text>
<text x="146.5" y="464.2" font-size="13.4" text-anchor="middle">July</text>
<text x="211.8" y="464.2" font-size="13.4" text-anchor="middle">August</text>
<text x="278.2" y="464.2" font-size="13.4" text-anchor="middle">September</text>
<text x="180.7" y="481.0" font-size="13.5" text-anchor="middle">Month (2002)</text>
<text transform="translate(21.8,332.3) rotate(-90)" font-size="13.66" text-anchor="middle">Period (days)</text>
<text x="38.8" y="501.0" font-size="16.8" font-weight="bold">(b)</text>
<text x="63.2" y="500.0" font-size="13.73">Wavelet Power Spectrum for E-W Wind vector</text>
<rect x="325.3" y="449.72" width="23.1" height="4.08" fill="#000087"/>
<rect x="325.3" y="445.94" width="23.1" height="4.08" fill="#000097"/>
<rect x="325.3" y="442.16" width="23.1" height="4.08" fill="#0000a7"/>
<rect x="325.3" y="438.38" width="23.1" height="4.08" fill="#0000b7"/>
<rect x="325.3" y="434.59" width="23.1" height="4.08" fill="#0000c7"/>
<rect x="325.3" y="430.81" width="23.1" height="4.08" fill="#0000d7"/>
<rect x="325.3" y="427.03" width="23.1" height="4.08" fill="#0000e7"/>
<rect x="325.3" y="423.25" width="23.1" height="4.08" fill="#0000f7"/>
<rect x="325.3" y="419.47" width="23.1" height="4.08" fill="#0008ff"/>
<rect x="325.3" y="415.69" width="23.1" height="4.08" fill="#0018ff"/>
<rect x="325.3" y="411.91" width="23.1" height="4.08" fill="#0028ff"/>
<rect x="325.3" y="408.12" width="23.1" height="4.08" fill="#0038ff"/>
<rect x="325.3" y="404.34" width="23.1" height="4.08" fill="#0048ff"/>
<rect x="325.3" y="400.56" width="23.1" height="4.08" fill="#0058ff"/>
<rect x="325.3" y="396.78" width="23.1" height="4.08" fill="#0068ff"/>
<rect x="325.3" y="393.00" width="23.1" height="4.08" fill="#0078ff"/>
<rect x="325.3" y="389.22" width="23.1" height="4.08" fill="#0087ff"/>
<rect x="325.3" y="385.44" width="23.1" height="4.08" fill="#0097ff"/>
<rect x="325.3" y="381.66" width="23.1" height="4.08" fill="#00a7ff"/>
<rect x="325.3" y="377.88" width="23.1" height="4.08" fill="#00b7ff"/>
<rect x="325.3" y="374.09" width="23.1" height="4.08" fill="#00c7ff"/>
<rect x="325.3" y="370.31" width="23.1" height="4.08" fill="#00d7ff"/>
<rect x="325.3" y="366.53" width="23.1" height="4.08" fill="#00e7ff"/>
<rect x="325.3" y="362.75" width="23.1" height="4.08" fill="#00f7ff"/>
<rect x="325.3" y="358.97" width="23.1" height="4.08" fill="#08fff7"/>
<rect x="325.3" y="355.19" width="23.1" height="4.08" fill="#18ffe7"/>
<rect x="325.3" y="351.41" width="23.1" height="4.08" fill="#28ffd7"/>
<rect x="325.3" y="347.62" width="23.1" height="4.08" fill="#38ffc7"/>
<rect x="325.3" y="343.84" width="23.1" height="4.08" fill="#48ffb7"/>
<rect x="325.3" y="340.06" width="23.1" height="4.08" fill="#58ffa7"/>
<rect x="325.3" y="336.28" width="23.1" height="4.08" fill="#68ff97"/>
<rect x="325.3" y="332.50" width="23.1" height="4.08" fill="#78ff87"/>
<rect x="325.3" y="328.72" width="23.1" height="4.08" fill="#87ff78"/>
<rect x="325.3" y="324.94" width="23.1" height="4.08" fill="#97ff68"/>
<rect x="325.3" y="321.16" width="23.1" height="4.08" fill="#a7ff58"/>
<rect x="325.3" y="317.38" width="23.1" height="4.08" fill="#b7ff48"/>
<rect x="325.3" y="313.59" width="23.1" height="4.08" fill="#c7ff38"/>
<rect x="325.3" y="309.81" width="23.1" height="4.08" fill="#d7ff28"/>
<rect x="325.3" y="306.03" width="23.1" height="4.08" fill="#e7ff18"/>
<rect x="325.3" y="302.25" width="23.1" height="4.08" fill="#f7ff08"/>
<rect x="325.3" y="298.47" width="23.1" height="4.08" fill="#fff700"/>
<rect x="325.3" y="294.69" width="23.1" height="4.08" fill="#ffe700"/>
<rect x="325.3" y="290.91" width="23.1" height="4.08" fill="#ffd700"/>
<rect x="325.3" y="287.12" width="23.1" height="4.08" fill="#ffc700"/>
<rect x="325.3" y="283.34" width="23.1" height="4.08" fill="#ffb700"/>
<rect x="325.3" y="279.56" width="23.1" height="4.08" fill="#ffa700"/>
<rect x="325.3" y="275.78" width="23.1" height="4.08" fill="#ff9700"/>
<rect x="325.3" y="272.00" width="23.1" height="4.08" fill="#ff8700"/>
<rect x="325.3" y="268.22" width="23.1" height="4.08" fill="#ff7800"/>
<rect x="325.3" y="264.44" width="23.1" height="4.08" fill="#ff6800"/>
<rect x="325.3" y="260.66" width="23.1" height="4.08" fill="#ff5800"/>
<rect x="325.3" y="256.88" width="23.1" height="4.08" fill="#ff4800"/>
<rect x="325.3" y="253.09" width="23.1" height="4.08" fill="#ff3800"/>
<rect x="325.3" y="249.31" width="23.1" height="4.08" fill="#ff2800"/>
<rect x="325.3" y="245.53" width="23.1" height="4.08" fill="#ff1800"/>
<rect x="325.3" y="241.75" width="23.1" height="4.08" fill="#ff0800"/>
<rect x="325.3" y="237.97" width="23.1" height="4.08" fill="#f70000"/>
<rect x="325.3" y="234.19" width="23.1" height="4.08" fill="#e70000"/>
<rect x="325.3" y="230.41" width="23.1" height="4.08" fill="#d70000"/>
<rect x="325.3" y="226.62" width="23.1" height="4.08" fill="#c70000"/>
<rect x="325.3" y="222.84" width="23.1" height="4.08" fill="#b70000"/>
<rect x="325.3" y="219.06" width="23.1" height="4.08" fill="#a70000"/>
<rect x="325.3" y="215.28" width="23.1" height="4.08" fill="#970000"/>
<rect x="325.3" y="211.50" width="23.1" height="4.08" fill="#870000"/>
<rect x="325.3" y="211.5" width="23.1" height="242.0" fill="none" stroke="#777" stroke-width="0.6"/>
<text x="349.7" y="245.4" font-size="13">512</text>
<text x="349.7" y="265.8" font-size="13">128</text>
<text x="349.7" y="286.1" font-size="13">32</text>
<text x="352.8" y="306.4" font-size="13">8</text>
<text x="352.8" y="326.7" font-size="13">2</text>
<text x="349.7" y="347.1" font-size="13">1/2</text>
<text x="349.7" y="367.4" font-size="13">1/8</text>
<text x="349.7" y="387.7" font-size="13">1/32</text>
<text x="349.7" y="408.0" font-size="13">1/128</text>
<text x="352.8" y="428.3" font-size="13">0</text>
<path d="M325.3 231.2h2M348.4 231.2h-2M325.3 241.3h2M348.4 241.3h-2M325.3 251.5h2M348.4 251.5h-2M325.3 261.7h2M348.4 261.7h-2M325.3 271.8h2M348.4 271.8h-2M325.3 282.0h2M348.4 282.0h-2M325.3 292.1h2M348.4 292.1h-2M325.3 302.3h2M348.4 302.3h-2M325.3 312.5h2M348.4 312.5h-2M325.3 322.6h2M348.4 322.6h-2M325.3 332.8h2M348.4 332.8h-2M325.3 342.9h2M348.4 342.9h-2M325.3 353.1h2M348.4 353.1h-2M325.3 363.3h2M348.4 363.3h-2M325.3 373.4h2M348.4 373.4h-2M325.3 383.6h2M348.4 383.6h-2M325.3 393.8h2M348.4 393.8h-2M325.3 403.9h2M348.4 403.9h-2M325.3 414.1h2M348.4 414.1h-2M325.3 424.2h2M348.4 424.2h-2M325.3 434.4h2M348.4 434.4h-2M325.3 444.5h2M348.4 444.5h-2" stroke="#444" stroke-width="0.6" fill="none"/>
<defs><clipPath id="cone1"><path d="M49.6 515.8C49.6 516.8 49.7 520.0 49.7 522.0C49.7 524.0 49.8 526.0 49.8 528.0C49.8 530.0 49.9 532.0 49.9 534.0C50.0 536.0 50.0 538.0 50.0 540.0C50.1 542.0 50.1 544.0 50.2 546.0C50.2 548.0 50.3 550.0 50.4 552.0C50.4 554.0 50.5 556.0 50.6 558.0C50.6 560.0 50.7 562.0 50.8 564.0C50.9 566.0 51.0 568.0 51.1 570.0C51.2 572.0 51.3 574.0 51.4 576.0C51.5 578.0 51.6 580.0 51.7 582.0C51.8 584.0 52.0 586.0 52.1 588.0C52.2 590.0 52.4 592.0 52.6 594.0C52.7 596.0 52.9 598.0 53.1 600.0C53.3 602.0 53.5 604.0 53.7 606.0C53.9 608.0 54.1 610.0 54.3 612.0C54.6 614.0 54.8 616.0 55.1 618.0C55.4 620.0 55.7 622.0 56.0 624.0C56.3 626.0 56.6 628.0 57.0 630.0C57.3 632.0 57.7 634.0 58.1 636.0C58.5 638.0 58.9 640.0 59.4 642.0C59.9 644.0 60.4 646.0 60.9 648.0C61.4 650.0 62.0 652.0 62.5 654.0C63.1 656.0 63.8 658.0 64.5 660.0C65.1 662.0 65.9 664.0 66.6 666.0C67.4 668.0 68.2 670.0 69.1 672.0C70.0 674.0 70.9 676.0 71.9 678.0C72.9 680.0 74.0 682.0 75.1 684.0C76.2 686.0 77.4 688.0 78.7 690.0C80.0 692.0 81.4 694.0 82.9 696.0C84.4 698.0 85.9 700.0 87.6 702.0C89.3 704.0 91.0 706.0 93.0 708.0C94.9 710.0 96.9 712.0 99.0 714.0C101.2 716.0 103.5 718.0 106.0 720.0C108.5 722.0 111.1 724.0 113.9 726.0C116.7 728.0 119.6 730.0 122.8 732.0C126.0 734.0 129.4 736.0 133.0 738.0C136.7 740.0 140.5 742.0 144.6 744.0C148.8 746.0 153.1 748.0 157.8 750.0C162.5 752.0 169.2 754.6 172.8 756.0C176.4 757.4 178.3 758.0 179.4 758.4L180.8 758.4C181.9 758.0 184.0 757.4 187.8 756.0C191.7 754.6 198.8 752.0 203.8 750.0C208.7 748.0 213.3 746.0 217.6 744.0C221.8 742.0 225.8 740.0 229.4 738.0C233.1 736.0 236.5 734.0 239.7 732.0C242.9 730.0 245.8 728.0 248.6 726.0C251.3 724.0 253.9 722.0 256.2 720.0C258.6 718.0 260.8 716.0 262.9 714.0C265.0 712.0 266.8 710.0 268.6 708.0C270.4 706.0 272.1 704.0 273.6 702.0C275.2 700.0 276.6 698.0 277.9 696.0C279.3 694.0 280.5 692.0 281.7 690.0C282.9 688.0 284.0 686.0 285.0 684.0C286.0 682.0 287.0 680.0 287.9 678.0C288.7 676.0 289.6 674.0 290.4 672.0C291.1 670.0 291.9 668.0 292.5 666.0C293.2 664.0 293.9 662.0 294.5 660.0C295.1 658.0 295.6 656.0 296.1 654.0C296.7 652.0 297.2 650.0 297.6 648.0C298.1 646.0 298.6 644.0 299.0 642.0C299.4 640.0 299.8 638.0 300.1 636.0C300.5 634.0 300.9 632.0 301.2 630.0C301.5 628.0 301.8 626.0 302.1 624.0C302.4 622.0 302.7 620.0 303.0 618.0C303.3 616.0 303.5 614.0 303.8 612.0C304.0 610.0 304.2 608.0 304.5 606.0C304.7 604.0 304.9 602.0 305.1 600.0C305.3 598.0 305.5 596.0 305.7 594.0C305.9 592.0 306.1 590.0 306.3 588.0C306.4 586.0 306.6 584.0 306.8 582.0C306.9 580.0 307.1 578.0 307.2 576.0C307.4 574.0 307.6 572.0 307.7 570.0C307.8 568.0 308.0 566.0 308.1 564.0C308.3 562.0 308.4 560.0 308.5 558.0C308.7 556.0 308.8 554.0 308.9 552.0C309.0 550.0 309.2 548.0 309.3 546.0C309.4 544.0 309.6 542.0 309.6 540.0C309.7 538.0 309.8 536.0 309.8 534.0C309.8 532.0 309.8 531.0 309.8 528.0C309.8 525.0 309.8 517.8 309.8 515.8Z"/></clipPath></defs><g clip-path="url(#cone1)"><g filter="url(#jetf)"><rect x="45.7" y="512.8" width="267.5" height="248.59999999999997" fill="#111111"/><path fill-rule="evenodd" fill="#1d1d1d" d="M309.7 757.9l-260.5 0 0-100.7 2-1.1 .1-1-2.1-1.2 0-25.6 1-.2-1-1.2 0-2.8 0-107.8 55.8 0 .1 5.6 .1-5.6 11.8 0 .1 11.7 .1-11.7 15.8 0 0 7.9 0-7.9 25.9 0 .1 7.4 .1-7.4 25.8 0 0 3.2 .1-3.2 32.8 0 .1 4.1 0-4.1 6.6 0-.6 2 0 10.2 1-5.2 0-7 15.9 0 0 13.7 .1-13.7 38.8 0 .1 3.2 0-3.2 29.9 0 0 111.5-1-.4-1.2 .7 .2 1.1 2 0 0 39.1-2-.4-1.3 1.1 .9 2 2.4-.5 0 51.5-3-.2-2.4 1.2 .1 1 2.3 1 3-.6 0 33.5zM175 521.3l0-4.7 0 4.7zM129.1 523.3l-.1-5.9 .1 5.9zM196 522.3l-.1-3.6 .1 3.6zM119.1 524.3l0-4.7 0 5.6 0-.9zM284.8 523.3l-.1-3.6 .1 3.6zM307.8 521.3l-.1-1.5 .1 1.5zM205 530.3l0-5-1.1-4.1-.1 8.1 1.2 1zM291.8 525.3l-.1-4.9 .1 4.9zM88.2 525.3l-.1-3.2 .1 3.2zM221.9 525.3l0-3.2 0 3.9 0-.7zM83.1 527.3l0-4.5 0 4.5zM258.9 528.3l-.1-5.5 .1 5.5zM172 529.3l0-5.6 0 6.4 0-.8zM85.2 527.3l-.1-2.3 0 3.2 .1-.9zM168 526.3l0-1.3 0 2 0-.7zM251.9 528.3l-.1-2.4 0 3.4 .1-1zM71.3 535.3l-.1-8.6-1-.3 1 9.4 .1-.5zM126.2 533.3l-.1-6.4 .1 6.4zM149.1 530.3l-.1-3.5 .1 3.5zM80.2 530.3l-.1-2.2 .1 2.2zM102.1 532.3l0-4.7 0 4.7zM190 532.3l-.1-4.5 .1 4.5zM207.9 529.3l0 .7 0-.7zM216.1 540.3l-.2-11.4 0 12.2 .2-.8zM290.7 534.3l0-5.4 0 5.4zM296.8 544.3l-.1-15.1 .1 15.1zM66.2 531.3l0-1.5 0 2.1 0-.6zM217.9 535.3l0-4.8 0 4.8zM200 535.3l-.1-2.2 .1 2.2zM265.8 534.3l0-1.8 0 1.8zM270.9 540.3l.9-7.4-1.1 3.4 .1 4.8 .1-.8zM294.8 543.3l-.1-10.6 0 11.1 .1-.5zM52.2 536.3l0-2.3 0 2.3zM73.2 536.3l0-2.4 0 2.4zM114.4 563.2l.7-2 .2-11 1.8-4.9 0-12-1.1 5-.2 8.9-1.7 2.4 0 14.5 .3-.9zM191 537.3l-.1-1.3 0 2 .1-.7zM278.8 537.3l0-1.3 0 1.3zM202.4 543.3l-.5-5.8 0 6.2 .5-.4zM260.8 542.3l0-4.5 0 4.5zM72.2 542.3l0-3.6 0 4.3 0-.7zM230.9 540.3l0-1.9 0 1.9zM255.9 575.2l1-3 .5-19-.6-14.4-.9 36.4zM94.2 541.3l-.1-1.6 .1 1.6zM172 548.2l0-8 0 8zM181 543.3l-.1-2.3 .1 2.3zM225.9 549.2l0-8.1 0 9.1 0-1zM275.8 544.3l0-3.1 0 3.1zM155 549.2l0-6.1 0 6.1zM65.2 547.2l0-3.1 0 3.1zM77.2 546.2l-.1-2.3 .1 2.3zM253.8 547.2l0-3.3 0 3.3zM79.2 550.2l-.1-4.2 .1 4.2zM101.2 548.2l-.1-2.2 .1 2.2zM284.8 549.2l-.1-2.3 .1 2.3zM292.8 550.2l-.1-3.3 .1 3.3zM83.4 554.2l.7-1.2 0-4.5-1 .7 .3 5zM308.8 551.2l-.1-1.3 0 2 .1-.7zM124.1 554.2l0-3.3 0 3.3zM91.2 554.2l-.1-1.4 .1 1.4zM105.2 555.2l-.1-2 .1 2zM140.1 554.2l-.1-1.2 .1 1.2zM188 559.2l-.1-5.1 .1 5.1zM240.9 555.2l-.1-1.6 .1 1.6zM78.2 561.2l-.1-6.8 .1 6.8zM112.2 566.2l-.1-11.3 .1 11.3zM129.1 557.2l-.1-2.7 .1 2.7zM236.9 558.2l-.1-3.3 .1 3.3zM81.2 557.2l-.1-1.3 0 2.2 .1-.9zM107.1 557.2l0-1.4 0 1.4zM60.2 559.2l0-1.4 0 1.4zM161 564.2l0-3.5 0 3.5zM206 572.2l.9-11.1-.9 11.1zM192 566.2l-.1-3.1 .1 3.1zM271.8 568.2l0-3.3 0 3.3zM237.9 570.2l-.1-3.4 .1 3.4zM152.3 572.2l.7-2.2-1-.9 .3 3.1zM225.9 576.2l0-7-1-.6 1 7.6zM71.2 572.2l0-1.1 0 1.1zM121.1 572.2l0-1.1 0 1.1zM288.8 572.2l-.1-1.3 .1 1.3zM172 572.2l0 .8 0-.8zM286.8 574.2l-.1-2.2 .1 2.2zM126.2 575.2l-.1-1.7 .1 1.7zM276.9 581.2l-.1-5-1-.3-.1 5.3 1.2 0zM57.3 577.2l-1 0 .9 .8 .1-.8zM230 578.2l-.1-1.2 0 2 .1-.8zM264.9 578.2l-.1-1.5-1 .2 0 1.6 1.1-.3zM72.4 579.2l.8-1.1-.8 1.1zM209.8 582.2l.2-3-1.1-1.5-1 4.3 1 .7 .9-.5zM151.1 581.2l-.1-1.2 .1 1.2zM247.9 584.2l-.1-4.1-1.2 3.1 .2 1.2 1.1-.2zM219.3 587.2l-.4-1.2 .4 1.2zM145.2 588.2l-.2-1.2 .2 1.2zM183.1 590.2l-.2-1.1 .2 1.1zM277 595.2l.6-1-1.8-2.2 0 2.5 1.2 .7zM130.1 595.2l-.1-2.2-1.1 1.2 1.2 1zM76.3 595.2l-.2 .6 .2-.6zM88.3 600.2l-.2-1-1 0 0 1.2 1.2-.2zM153 602.2l.1-2-1.1-.7-.1 2.7 1.1 0zM198.2 605.2l-.3 .7 .3-.7zM187.1 608.1l-.2-1 .2 1zM296 611.1l-.3 .8 .3-.8zM101.1 613.1l.1-1-.8 0 .7 1zM307.9 614.1l-.2-1.1 .2 1.1zM145.1 618.1l-.1-1 .1 1zM272.2 624.1l.6-1-1-.2-.3 1.2 .7 0zM221.9 625.1l-1-1.1-1 1.1 2 0zM106.7 629.1l-.3-1-1.4 0 .1 1.2 1.6-.2zM158 634.1l-1.4 0 .4 .7 1-.7zM77.3 643.1l-.2-1.2-1 0 0 1.4 1.2-.2zM199.1 646.1l-.2-1-2.2 0 .2 1.3 2.2-.3zM146.4 650.1l-.4-1.3-2.2 .3 .2 1.1 2.4-.1zM237 654.1l-.2-1.6-1-.3-.2 1.9 1.4 0zM169.1 659.1l-.1-2.2-2.2 .2 .2 2.2 2.1-.2zM96.3 662.1l-1.4 0 1.4 0zM191.2 662.1l-1.4 0 1.4 0zM251 665.1l.1-1-1.4 0 1.3 1zM177.1 677l-.1-2.2-3.1 .2 .4 2 2.8 0zM53.4 689l.1-1-1.3-1-2.3 1 .3 1.2 3.2-.2zM89.4 689l-.3-1.1-1.7 .1-.2 1 2.2 0zM304.2 693l1-1-.5-1.3-2-.6-2.2 .9 .9 2 2.8 0zM195.4 706l.5-1.2-4.3 .2 .3 1 3.5 0zM75.6 707l.8-1-2.2-.9-3.4 .9 1.4 1.2 3.4-.2zM122.8 728l.6-1-2.3-1.2-4.1 1.2 1.1 1.1 4.7-.1zM90.9 731.9l1.5-1-1.3-1.1-5 .1-.5 1 1.5 1.1 3.8-.1zM58.8 735.9l-3.7 0 3.7 0z"/><path fill-rule="evenodd" fill="#292929" d="M309.7 757.9l-260.5 0 0-100.5 2-1 .3-1.3-2.3-1.4 0-25.1 1.2-.5-.2-1.2-1-.2 0-1.6 0-108.8 55.8 0 .1 6.2 .2-6.2 5.7 0 .1 .7 .1-.7 5.7 0 .1 16-1.3 13.9-1.7 3 .1 15.5 1-2.5 .5-12 1.6-4.9 .1-29 15.4 0 .3 8.5 .1-8.5 25.8 0 .1 8 .1-8 15.8 0 .1 5.3 0-5.3 9.8 0 .1 3.5 .2-3.5 32.6 0 .2 5.1 .1-5.1 6.1 0-.2 12.6 1.1-5.6 0-7 15.7 0 .1 14.3 .2-14.3 38.6 0 .2 3.4 .1-3.4 29.8 0 0 111.2-1.4-.4-1.1 1 .5 1.3 2 0 0 38.5-2-.3-1.6 1.4 .8 2 2.8 .1 0 50.6-4 0-1.9 1.3 .1 1 1.8 1 4 0 0 32.9zM129.1 524.3l-.1-7.6 .1 7.6zM276.8 517.3l0-.8 0 .8zM284.8 526.3l-.1-9.8-.5 5.8 .6 4zM196 522.3l-.1-4.4 0 5.3 .1-.9zM119.1 525.3l0-6.4 0 6.4zM307.8 521.3l-.1-2.1 0 2.8 .1-.7zM291.8 525.3l-.1-5.5 0 6.1 .1-.6zM205.1 530.3l-.1-5-1.1-4.7-.2 8.7 .2 1 1 .6 .2-.6zM83.2 527.3l-.1-5.2 .1 5.2zM88.2 525.3l-.1-3.5 .1 3.5zM221.9 526.3l0-4.8 0 4.8zM258.8 529.3l0-7.3 0 7.3zM172 530.3l0-7.3 0 8.1 0-.8zM85.2 529.3l-.1-5.2 .1 5.2zM168 527.3l0-2.8 0 2.8zM71.3 536.3l-.1-10-1-.4 1.1 10.4zM149.1 530.3l-.1-4.1 .1 4.1zM251.9 529.3l-.1-3.9 .1 3.9zM102.1 533.3l0-6.2 0 6.2zM126.5 533.3l-.4-6.9 0 7.8 .4-.9zM190.2 532.3l-.3-5.1 0 5.9 .3-.8zM80.2 530.3l-.1-2.5 0 3.2 .1-.7zM66.2 532.3l0-3.1 0 3.1zM207.9 530.3l0-1.8 0 1.8zM216.2 542.3l-.3-13.9 .3 13.9zM290.9 534.3l-.2-6 .2 6zM296.9 544.3l-.2-15.7 0 16.2 .2-.5zM217.9 536.3l0-6.7 0 6.7zM265.9 534.3l-.1-2.2 0 2.9 .1-.7zM294.8 544.3l-.1-12.6 .1 12.6zM200 535.3l-.1-2.3 .1 2.3zM271 541.3l.8-8.9-1.2 3.9 .2 5.8 .2-.8zM52.3 536.3l-.1-2.6 0 3.1 .1-.5zM73.2 536.3l0-2.9 0 2.9zM191 538.3l-.1-3.1 .1 3.1zM242.8 537.3l0-1.3 0 1.3zM278.9 537.3l-.1-1.8 0 2.5 .1-.7zM202 544.3l.9-2-1-5.3 .1 7.3zM260.9 542.3l-.1-5.1 .1 5.1zM72.2 543.3l0-5.3 0 5.3zM231 540.3l-.1-2.2 .1 2.2zM256.1 575.2l.8-3 .2-12 1-7-1.3-15-.3 25-1.2 10 .8 2zM94.2 541.3l-.1-2.1 0 2.6 .1-.5zM172.1 548.2l.7-4.9-.8-3.9 .1 8.8zM121.1 542.3l0-1.7 0 2.3 0-.6zM181 543.3l-.1-2.7 .1 2.7zM225.9 550.2l0-9.8 0 9.8zM275.9 544.3l-.1-3.3 .1 3.3zM155.1 549.2l-.1-6.9 .1 6.9zM65.3 547.2l-.1-3.4 .1 3.4zM77.3 546.2l-.2-2.7 0 3.3 .2-.6zM253.9 547.2l-.1-3.7 .1 3.7zM79.2 551.2l-.1-5.4 .1 5.4zM101.3 548.2l-.2-2.5 0 3.1 .2-.6zM284.8 549.2l-.1-2.7 .1 2.7zM292.9 550.2l-.2-3.8 .2 3.8zM83.8 554.2l.3-6.4-1.1 1.4 .1 5.5 .7-.5zM99.2 548.2l-.1-.8 .1 .8zM189 549.2l-.1-1 0 1.6 .1-.6zM308.8 552.2l-.1-2.8 .1 2.8zM124.2 554.2l-.1-3.7 .1 3.7zM91.2 554.2l-.1-2 .1 2zM105.2 555.2l-.1-2.3 0 2.9 .1-.6zM140.2 554.2l-.2-1.5 0 2.4 .2-.9zM240.9 555.2l-.1-2.1 .1 2.1zM58.2 555.2l0-1.9 0 1.9zM78.3 561.2l-.2-7.6 0 8.5 .2-.9zM129.1 557.2l-.1-3.2 0 4.2 .1-1zM188.1 559.2l-.2-5.5 .2 5.5zM107.2 557.2l-.1-2 0 2.6 .1-.6zM112.3 566.2l-.2-11.6 0 12.1 .2-.5zM236.9 559.2l-.1-4.8 .1 4.8zM81.2 558.2l-.1-2.9 .1 2.9zM288.8 557.2l-.1-1.1 .1 1.1zM252.9 558.2l-.1-1.5 .1 1.5zM60.3 559.2l-.1-1.9 0 2.9 .1-1zM161.1 564.2l-.1-4.1 .1 4.1zM206.1 572.2l.2-4 .8-1-.2-6.3-1.1 5.3 .3 6zM192.1 566.2l-.2-3.4 0 4.1 .2-.7zM298.8 564.2l-.1 .7 .1-.7zM271.9 568.2l-.1-3.8 .1 3.8zM238.1 570.2l-.3-3.9 0 4.7 .3-.8zM226 576.2l0-7-1.1-1.2 1.1 8.2zM152.6 572.2l.4-3.4-1 0 0 4.3 .6-.9zM167.1 570.2l-.1-.8 0 1.4 .1-.6zM71.3 572.2l-.1-1.2 .1 1.2zM121.1 572.2l0-1.4 0 1.4zM288.9 572.2l-.2-1.6 .2 1.6zM172 573.2l0-1.8 0 1.8zM286.9 574.2l-.2-2.4 .2 2.4zM126.4 575.2l-.3-2.1-.4 2.1 .7 0zM179.1 573.2l-.1 .6 .1-.6zM130.2 575.2l-.2-.6 .2 .6zM57.3 578.2l-.1-2-1.6 1 1.7 1zM265.2 578.2l-.4-2-1 .3 0 2.5 1.4-.8zM277 581.2l0-5-1.2-.7-.3 5.7 1.5 0zM179 577.2l0-.7 0 .7zM208.9 583.2l1.1-1 .3-2-1.4-3.1-1.2 4.1 .2 1.5 1 .5zM230 579.2l-.1-2.6-.5 1.6 .6 1zM72.2 580.2l1-2.3-1.1 .3 .1 2zM297.9 579.2l-.2-.9 0 1.6 .2-.7zM151.2 581.2l-.2-1.5 .2 1.5zM248 584.2l-.2-4.3-1.6 3.3 .6 1.5 1.2-.5zM135.2 581.2l-.2-.6 0 1.3 .2-.7zM308.7 582.2l0-1.4 0 1.4zM219.8 587.2l-1.3-1 .4 1.6 .9-.6zM145.5 588.2l-.5-1.4 0 2.3 .5-.9zM183.2 590.2l0-1-.9 0-.3 1 1.2 0zM257.3 589.2l-.5-.7-.4 .7 .4 .6 .5-.6zM277.3 595.2l.5-1.6-2-1.8 0 3.2 1.5 .2zM130.3 595.2l.2-2-1.5-.2 0 1.8 1.3 .4zM76.3 596.2l-.2-1.4 .2 1.4zM291.9 596.2l-.2-1.2 .2 1.2zM111.7 597.2l-.9 0 .9 0zM304.8 598.2l-.1-1.3 .1 1.3zM88.5 600.2l-.4-1.2-1.3 .2 .3 1.4 1.4-.4zM153.2 602.2l.1-2-1.3-1.2-.3 3.2 1.5 0zM101.3 600.2l-.2-.6-.6 .6 .8 0zM212 601.2l-.7 0 .6 .6 .1-.6zM198.2 606.2l.5-1-.8-.5 .3 1.5zM187.4 608.1l-.5-1.2-.4 1.2 .9 0zM282.2 607.1l-.4-.8-.4 .8 .8 0zM52.4 611.1l-1.3 0 1.3 0zM296 612.1l.4-1-.7-.4 .3 1.4zM101.3 613.1l-.2-1.3-1 .2 0 1.2 1.2-.1zM308.2 614.1l-.5-1.3-.5 1.3 1 0zM122.8 616.1l-.7-.7-.4 .7 .4 .7 .7-.7zM145.3 618.1l-.3-1.3-.8 .3 .1 1 1 0zM195.2 619.1l-.3-.8-1 .8 1.3 0zM272.8 624.1l0-1.3-1.7 .3 .7 1.4 1-.4zM222 625.1l-1.1-1.2-1.2 1.2 1.2 1 1.1-1zM107.2 629.1l-1.1-1.3-1.2 .3 .2 1.5 2.1-.5zM170.2 628.1l-1.4 0 1.4 0zM157.3 635.1l.9-1-1.2-1-.9 1 1.2 1zM59.3 641.1l-.1-.6-.5 .6 .6 0zM77.5 643.1l-.4-1.5-1-.1 0 2.1 1.4-.5zM198.1 647.1l1.2-1-.2-1-2.6 0-.3 1 1.9 1zM146.8 650.1l.2-1-1-.7-2.4 .7 .4 1.3 2.8-.3zM237.3 654.1l-.5-2.1-2 1.1 1 1.3 1.5-.3zM169.4 659.1l-.4-2.5-2.4 .5 .4 2.5 1 .3 1.4-.8zM191.5 662.1l-.6-1-1.3 1 1.3 .8 .6-.8zM96.5 662.1l-1.4-1-.4 1 .4 .6 1.4-.6zM251.2 665.1l-.4-1.4-1.3 .4 .3 1 1.4 0zM177.4 677l.4-1-.8-1.4-3.4 .4 .4 2.2 3.4-.2zM53.8 689l0-1-1.6-1.2-2.6 1.2 .1 1 1.5 .9 2.6-.9zM89.8 689l-.7-1.3-2.2 .3 .2 1.3 2.7-.3zM304.8 693l.9-1.4-1.7-1.6-2.3 0-1.6 1 .7 2 4 0zM196 706l.5-1-2.1-1-3.2 1 .7 1.2 4.1-.2zM76.3 707l.6-1-1.8-1-2.9-.1-1.8 1.1 1.8 1.4 4.1-.4zM168 711l-1.5 0 1.5 0zM123.4 728l.5-1-2.8-1.4-3 .3-1.6 1.1 1.6 1.4 5.3-.4zM91.5 731.9l1.3-1-1.7-1.3-5 .1-1.1 1.2 2.1 1.3 4.4-.3zM59.5 735.9l-2.3-.9-2.7 .9 2.7 .8 2.3-.8z"/><path fill-rule="evenodd" fill="#343434" d="M309.7 757.9l-260.5 0 0-100.3 2-.8 .5-1.7-2.5-1.7 0-24.5 1.3-.8-1.3-3 0-108.8 11.9 0 .1 1.2 .6-1.2 43.1 0 .2 6.6 .4-6.6 5.4 0 .2 1.5 .2-1.5 5.5 0 0 17-1.4 12.9-1.5 4 .2 15 1-1.8 .5-11.2 1.7-6.9 .2-29 11.5 0 0 8.5 .1-8.5 3.3 0 .6 9.1 .2-9.1 25.6 0 .2 8.5 .2-8.5 15.6 0 .2 5.6 .1-5.6 9.7 0 .1 3.8 .2-3.8 32.4 0 .4 6.4 .2-6.4 5.7 0 .1 13 1.2-6 0-7 15.5 0 .2 14.8 .3-14.8 35.6 0 .1 2.3 0-2.3 2.8 0 .2 3.7 .1-3.7 3.8 0 .1 8.4 .9 3.5 .1-11.9 24.9 0 0 110.8-2 0-.7 1 .7 1.5 2 0 0 38-3 .1-1 1.3 1 2.2 3 .1 0 50.2-4 0-2.3 1.5 1.5 2 4.8 .2 0 32.7zM196 523.3l-.1-6 .1 6zM119.2 525.3l-.1-7.1 0 7.8 .1-.7zM291.8 526.3l-.1-7 .1 7zM307.7 522.3l0-3.5 0 3.5zM182 521.3l-.1-1.1 .1 1.1zM204.9 531.3l.2-6-1.2-5.2-.3 9.2 .3 1.4 1 .6zM222 526.3l-.1-5.4 0 6.2 .1-.8zM258.9 529.3l-.1-8.1 0 8.7 .1-.6zM83.3 527.3l-.2-5.6 0 6.2 .2-.6zM88.3 525.3l-.2-3.8 0 4.5 .2-.7zM85.2 530.3l-.1-7.1 .1 7.1zM172 532.3l0-9.9 0 9.9zM168.1 527.3l-.1-3.2 0 3.8 .1-.6zM251.9 529.3l-.1-4.4 0 4.9 .1-.5zM72.3 543.3l.1-5-1.1-1 0-11-.1-.8-1 0-.2 3.8 2.2 14.8 .1-.8zM126.6 534.3l-.5-8.3 0 8.7 .5-.4zM149.2 530.3l-.2-4.4 0 5.2 .2-.8zM102.2 533.3l-.1-6.5 .1 6.5zM190.1 533.3l-.2-6.3 .2 6.3zM80.2 531.3l-.1-3.7 .1 3.7zM208 530.3l-.1-2.1 .1 2.1zM216.9 543.3l-1-15.4 0 15.9 1-.5zM291 534.3l-.3-6.4 0 7 .3-.6zM296.9 544.3l-.2-16.4 0 17.3 .2-.9zM66.3 532.3l-.1-3.4 0 3.9 .1-.5zM218 536.3l-.1-7.8-.7 6.8 .7 1.6 .1-.6zM294.9 544.3l-.2-13.6 .2 13.6zM265.8 535.3l0-3.5 0 3.5zM271 542.3l.9-5-.1-5.3-1.3 4.3 .3 6.9 .2-.9zM73.3 536.3l-.1-3.2-.6 3.2 .6 .6 .1-.6zM200.1 535.3l-.2-2.5 0 3.1 .2-.6zM52.4 536.3l-.2-3 0 3.8 .2-.8zM190.9 539.3l0-4.6 0 4.6zM278.8 538.3l0-3.1 0 3.1zM242.9 537.3l-.1-2 .1 2zM202.9 544.3l-1-7.7 0 8.1 1-.4zM261 542.3l-.2-5.4 0 6.1 .2-.7zM231 540.3l-.1-2.4 0 3 .1-.6zM256.2 575.2l.8-3 .4-13 1.4-7-1.3-4-.7-10.3-.4 25.3-1.4 10 .8 2.6 .4-.6zM94.3 541.3l-.2-2.4 0 3.3 .2-.9zM172.3 548.2l.7-5.9-1-4 0 10.7 .3-.8zM121.1 543.3l0-3.3 0 3.3zM181.1 543.3l-.2-3 0 3.8 .2-.8zM226 550.2l-.1-10.6 0 11.3 .1-.7zM275.9 544.3l-.1-3.5 0 4.1 .1-.6zM155.2 549.2l-.2-7.9 0 8.5 .2-.6zM167 544.3l0-2.4 0 2.4zM77.4 546.2l-.3-3 0 3.9 .3-.9zM254 547.2l-.2-4.1 0 4.9 .2-.8zM65.4 547.2l-.2-3.6 0 4.4 .2-.8zM79.2 551.2l-.1-5.7-.5 4.7 .6 1zM101.3 548.2l-.2-2.8 0 3.7 .2-.9zM284.9 549.2l-.2-3.1 0 3.9 .2-.8zM292.9 550.2l-.2-4.3 0 5.2 .2-.9zM84.2 554.2l-.1-7.1-1.1 2.1 .1 5.8 1.1-.8zM99.2 548.2l-.1-1.1 0 1.7 .1-.6zM189.1 550.2l-.2-2.9 0 3.7 .2-.8zM308.8 552.2l-.1-3.1 .1 3.1zM124.2 554.2l-.1-4.1 0 4.7 .1-.6zM91.3 554.2l-.2-2.2 0 2.8 .2-.6zM58.4 555.2l-.2-2.4 0 3.2 .2-.8zM78.2 562.2l-.1-9.5 .1 9.5zM105.3 555.2l-.2-2.6 0 3.6 .2-1zM140.1 555.2l-.1-2.9 .1 2.9zM241 555.2l-.2-2.3 0 2.9 .2-.6zM112.4 566.2l-.3-12 0 12.8 .3-.8zM129.1 558.2l-.1-4.5 .1 4.5zM188.2 559.2l-.3-5.8 0 6.5 .3-.7zM237 559.2l-.2-5.1 .2 5.1zM81.3 558.2l-.2-3.1 .2 3.1zM107.2 557.2l-.1-2.3 0 3.2 .1-.9zM253 558.2l-.2-2.1 0 2.9 .2-.8zM288.8 558.2l-.1-2.9 .1 2.9zM60.3 560.2l-.1-3.4 .1 3.4zM161.2 564.2l-.2-4.4 0 5.2 .2-.8zM212 560.2l-.1-.5 0 1.4 .1-.9zM206.2 572.2l1.1-6-.4-5.6-1.2 5.6 .2 6.7 .3-.7zM221 562.2l-.1 .6 .1-.6zM192 567.2l-.1-4.6 .1 4.6zM272 568.2l-.2-4.1 0 4.7 .2-.6zM298.8 565.2l-.1-1.6 .1 1.6zM237.9 571.2l-.1-5.4 .1 5.4zM152.3 573.2l.7-1.1 0-4-1.2 1.1 .5 4zM226.1 576.2l0-7-.2-1.2-1-.4 1 9.4 .2-.8zM56.3 569.2l-.1-.8 0 1.4 .1-.6zM167.2 570.2l-.2-1.1 0 2 .2-.9zM71.4 572.2l-.2-1.4 0 2.1 .2-.7zM121.2 572.2l-.1-1.6 .1 1.6zM172.1 573.2l-.1-2.2 .1 2.2zM288.9 572.2l-.2-2 0 2.8 .2-.8zM138.2 572.2l-.2-.6 .2 .6zM287 574.2l-.3-2.6 0 3.1 .3-.5zM126.5 575.2l-.4-2.3-.6 2.3 .6 .6 .4-.6zM179.1 573.2l-.1-.5 0 1.4 .1-.9zM130.2 575.2l-.2-.9 .2 .9zM277.2 581.2l-.1-5-.3-1.1-1 0-.4 6.1 .4 .7 1.4-.7zM57.5 578.2l-.3-2.3-2 .8-1-1 0 1.5 2 1.2 1.3-.2zM179.2 577.2l-.2-1.4 .2 1.4zM230.1 579.2l-.2-3-.8 2 1 1zM264.3 579.2l1.1-1-.6-2.3-1.5 1.3 1 2zM88.6 577.2l-.7 0 .2 .7 .5-.7zM117.2 577.2l-.1-.6 0 1.3 .1-.7zM209.2 583.2l1.3-3-1.6-3.3-1.3 4.3 .3 2 1.3 0zM72.4 580.2l.9-1-.1-1.5-1.3 .5 .3 2.9 .2-.9zM297.8 580.2l-.1-2.3 .1 2.3zM135.1 582.2l-.1-2 .1 2zM151.3 581.2l-.3-1.7 0 2.2 .3-.5zM248.2 584.2l-.4-4.4-1.9 3.4 .9 1.7 1.4-.7zM308.9 582.2l-.2-1.8-.7 .8 .9 1zM83.3 585.2l-.2-.7 .2 .7zM220 587.2l-1.1-1.5-.6 .5 .6 1.9 1.1-.9zM145.2 589.2l.6-1-.8-1.7 .2 2.7zM256.8 590.2l.8-1-.8-1.1-.7 1.1 .7 1zM183.4 590.2l-.5-1.4-1 .4 0 1.2 1.5-.2zM235.2 591.2l-.4-.7-.6 .7 1 0zM277.6 595.2l.2-2.1-2-1.6-.1 3.7 1.1 .6 .8-.6zM130.5 595.2l.2-2-.7-.8-1 .3 0 2.4 1.5 .1zM195 593.2l-1.2 0 1.2 0zM76.5 596.2l-.4-1.6-.2 1.6 .6 0zM292.2 596.2l-.5-1.6-.6 1.6 1.1 0zM112.2 597.2l-1.1-1-.5 1 .5 .6 1.1-.6zM305.6 598.2l.1-1.1-1-.5-.2 1.6 1.1 0zM88.7 600.2l-.2-1-1.4-.4-.8 1.4 .8 .7 1.6-.7zM101.5 600.2l-.4-1.1-1.1 1.1 1.5 0zM153.3 602.2l.2-2-1.5-1.4-.5 3.4 1.8 0zM212 602.2l-.1-1.8-1 .8 1.1 1zM65.5 604.2l-.8 0 .8 0zM198.6 606.2l.4-1-1.1-.8-.4 1.8 1.1 0zM282.5 607.1l-.7-1.1-.7 1.1 1.4 0zM187.6 608.1l-.7-1.4-.6 .4 .6 1.6 .7-.6zM52.5 611.1l-1.6 0 1.3 .8 .3-.8zM296.4 612.1l.4-1-1.1-.7-.3 1.7 1 0zM101.5 613.1l-.4-1.6-1 .3 0 1.6 1.4-.3zM308.5 614.1l-.8-1.5-.7 .5 .7 1.8 .8-.8zM122.1 617.1l1-1-1-1 0 2zM145.5 618.1l-.5-1.6-1 .4 0 1.4 1.5-.2zM195.4 619.1l-.5-1.1-1.2 1.1 1.2 .7 .5-.7zM273 624.1l-.2-1.5-1-.4-1.1 .9 1.1 1.6 1.2-.6zM221.2 626.1l1-1-1.3-1.4-1.4 1.4 1.7 1zM106.3 630.1l1-1-.2-1-2-.3-.5 1.3 1.7 1zM170.5 628.1l-.5-.9-1.4 .9 1.9 0zM157.8 635.1l.5-1-1.3-1.2-1 1.5 1 1 .8-.3zM59.6 641.1l-.3-1-.8 0-.3 1 1.4 0zM77.7 643.1l-.6-1.8-1-.1-.5 1.9 .5 .9 1.6-.9zM177 644.1l-1.2 0 1.2 0zM198.6 647.1l.8-2-3.2 0-.3 1 .9 1 1.8 0zM147.1 650.1l.1-1-1.2-1-2.7 1 .1 1 1.6 .8 2.1-.8zM237.5 654.1l.4-1-1.1-1.3-1.6 .3-.6 1 1.2 1.5 1.7-.5zM266.9 656.1l.3-1-1.2 0 .9 1zM168.4 660.1l1.3-2-1.7-2.1-2 2.1 1 1.8 1.4 .2zM96.7 662.1l-1.6-1.2-.7 1.2 .7 .9 1.6-.9zM191.1 663.1l.8-1-.6-1-1.4-.1-.5 1.1 .5 .9 1.2 .1zM251.5 665.1l.3-1-1-.7-1.5 .7 .5 1.1 1.7-.1zM177.8 677l.4-1-1.2-1.7-2-.3-1.7 1 .7 2.5 2 .4 1.8-.9zM52.9 690l1.2-1-.7-2-3.4 0-.7 2 1.9 1.2 1.7-.2zM90.2 689l-1.1-1.5-2.5 .5-.1 1 1.6 .9 2.1-.9zM305.3 693l.9-1-1.5-2-3-.2-1.9 1.2 .9 2.3 3 .4 1.6-.7zM196.4 706l.4-1-1.9-1.2-4.1 1.2 1.1 1.4 4.5-.4zM76.9 707l.5-1-2.3-1.3-2.9 0-2.3 1.3 2.3 1.6 4.7-.6zM168.6 711l-2.9 0 2.9 0zM123.9 728l.2-1.3-3-1.3-3 .2-2.1 1.4 2.1 1.7 5.8-.7zM92.1 731.9l1.2-1-2.2-1.5-5 .1-1.5 1.4 2.5 1.5 5-.5zM58.3 736.9l1.8-1-1.9-1.1-3 .1-1.4 1 1.9 1 2.6 0z"/><path fill-rule="evenodd" fill="#404040" d="M309.7 757.9l-260.5 0 0-68.5 3 1.1 2-1.1 .3-1.4-2.3-1.7-3 1.1 0-29.6 2.1-.7 .7-2-.8-1.3-2-.6 0-24 1.5-1.1-1.5-3 0-108.8 11.8 0 .2 2 1-2 42.7 0 .2 7.1 .5-7.1 5.2 0 .3 2.2 .4-2.2 5.2 0 0 16-1.3 13-1.6 4.9 .3 15.6 1-1.7 .6-11.9 1.6-6.9 .3-29 11.3 0 .1 9 .3-9 2.7 0 1 9.7 .3-9.7 25.4 0 .3 9 .3-9 15.5 0 .2 5.9 .2-5.9 9.5 0 .2 4.1 .3-4.1 32.2 0 .5 8.9 .3-8.9 5.5 0 .2 13.5 1.3-6.5 0-7 15.3 0 .3 15.3 .4-15.3 35.4 0 .2 2.9 .1-2.9 2.6 0 .3 3.9 .2-3.9 3.6 0 .2 11.1 .9 2.4 .2-13.5 24.8 0 0 110.6-2 .1-1 1.1 1 1.7 2 0 0 37.6-3 .1-1.2 1.5 1.2 2.4 3 .1 0 49.8-4 0-2.8 1.7 .1 1 1.7 1.2 5 .3 0 32.4zM196.1 523.3l-.2-6.8 0 7.5 .2-.7zM119.1 526.3l0-9 0 9zM291.9 526.3l-.2-7.7 0 8.5 .2-.8zM307.8 522.3l-.1-3.9 .1 3.9zM182 521.3l-.1-1.7 0 2.4 .1-.7zM205 531.3l.2-6-1.3-5.9-.4 9.9 .4 1.8 1.1 .2zM258.8 530.3l0-10.1 0 10.1zM88.1 526.3l0-5.1 0 5.1zM221.9 527.3l0-7 0 7zM303.8 521.3l-.1-.7 .1 .7zM83.4 527.3l-.3-6 0 6.9 .3-.9zM172 534.3l0-12.6-.6 7.6 .6 5.6 0-.6zM213.9 523.3l0-1.6 0 1.6zM299.7 523.3l0-1.5 0 1.5zM85.2 532.3l-.1-9.9 .1 9.9zM168.1 527.3l-.1-3.7 0 4.6 .1-.9zM72.2 544.3l1.2-10-.2-1.5-1 4-1-11.9-1 .1-.3 4.3 2.3 15zM252 529.3l-.2-4.9 0 5.7 .2-.8zM127.1 535.3l-1-9.7-.2 8.7 1.2 1.8 0-.8zM145.2 526.3l-.2 .6 .2-.6zM149 531.3l0-5.8 0 5.8zM63.2 527.3l0 .7 0-.7zM102.3 533.3l-.2-6.8 0 7.6 .2-.8zM191 539.3l-1.1-12.6-.2 5.6 1.2 7.6 .1-.6zM216.9 545.3l.3-7 .9-3-.2-9-1 10-1-9-.3 2 .2 15 1.1 1.7 0-.7zM296.8 545.3l-.1-18.2 .1 18.2zM80.2 531.3l-.1-4 .1 4zM208.1 530.3l-.2-2.3 0 2.8 .2-.5zM291.1 534.3l-.4-6.8 0 7.7 .4-.9zM66.4 532.3l-.2-3.7 0 4.5 .2-.8zM162 532.3l0-2.1 0 3 0-.9zM295 544.3l-.3-14.5 0 15.3 .3-.8zM92.2 531.3l-.1-.6 .1 .6zM265.9 535.3l-.1-3.7 .1 3.7zM270.8 544.3l1.2-7-.2-5.6-1.4 4.6 .4 8zM52.2 537.3l0-4.3 0 4.3zM200.1 535.3l-.2-2.6 0 3.4 .2-.8zM124.1 535.3l0-1.4 0 1.4zM242.8 538.3l0-3.4 0 3.4zM278.8 538.3l0-3.3 0 3.3zM172.1 549.2l1-6.9-1.1-6.5 .1 13.4zM203 545.3l-.1-6-1-3.1-.1 8.1 .1 .9 1.1 .1zM260.8 543.3l0-6.7 0 6.7zM231.1 540.3l-.2-2.6 0 3.4 .2-.8zM256.4 575.2l1.1-15 1.4-8-1.3-5-.8-9.6-.6 25.6-1.5 10 1.1 2.9 .6-.9zM94.2 542.3l-.1-3.6 .1 3.6zM225.9 551.2l0-12.5 0 12.5zM121.2 543.3l-.1-3.8 0 4.6 .1-.8zM181 544.3l-.1-4.4 .1 4.4zM128.1 543.3l-.1-2.4 .1 2.4zM155.2 549.2l-.2-8.9 0 9.7 .2-.8zM276 544.3l-.2-3.7 0 4.5 .2-.8zM167.1 544.3l-.1-3 0 3.5 .1-.5zM77.3 547.2l-.2-4.3 .2 4.3zM253.8 548.2l0-5.3 0 5.3zM65.4 547.2l-.2-3.9 0 4.9 .2-1zM78.3 562.2l.8-17-1.2 10 .4 7zM101.2 549.2l-.1-4.1 .1 4.1zM284.8 550.2l-.1-4.5 .1 4.5zM292.8 551.2l-.1-5.8 .1 5.8zM59.2 548.2l0-1.7 0 1.7zM83.4 555.2l.7-.1 .4-2.9-.4-5.7-1.2 2.7 .5 6zM99.3 548.2l-.2-1.4 0 2.3 .2-.9zM189.1 551.2l-.2-4.5 0 5.2 .2-.7zM308.9 552.2l-.2-3.4 0 4.1 .2-.7zM124.3 554.2l-.2-4.5 0 5.4 .2-.9zM91.3 554.2l-.2-2.4 0 3.2 .2-.8zM140.2 555.2l-.2-3.2 0 3.8 .2-.6zM271.8 554.2l0-2.7 0 2.7zM58.3 556.2l-.1-3.8 .1 3.8zM105.2 556.2l-.1-3.8 .1 3.8zM143 554.2l0-1 0 1zM188.3 559.2l-.4-6.1 0 7 .4-.9zM241 555.2l-.2-2.5 0 3.4 .2-.9zM112.1 567.2l0-13.3 0 13.3zM129.2 558.2l-.2-4.7 .2 4.7zM237.1 559.2l-.3-5.4 0 6.2 .3-.8zM81.4 558.2l-.3-3.4 0 4.2 .3-.8zM107.1 558.2l0-3.6 0 3.6zM288.9 558.2l-.2-3.6 0 4.6 .2-1zM252.8 559.2l0-3.5 0 3.5zM60.4 560.2l-.2-3.8 0 4.6 .2-.8zM212 561.2l-.1-2.1 .1 2.1zM161 565.2l0-5.7 0 5.7zM206.3 572.2l1.1-6-.5-5.8-1.3 5.8 .3 7 .4-1zM221.1 562.2l-.2 .8 .2-.8zM192.1 567.2l-.2-4.8-.6 3.8 .8 1zM272.1 568.2l-.3-4.4 0 5.1 .3-.7zM298.9 565.2l-.2-1.9 .2 1.9zM86.2 566.2l-.1-.5 .1 .5zM238.1 571.2l-.3-5.8-.4 4.8 .7 1zM200.1 567.2l-.2-.7 .2 .7zM56.4 569.2l-.2-1.2 0 2.2 .2-1zM152.6 573.2l.4-5.7-1.3 1.7 .3 4.8 .6-.8zM225.9 577.2l.3-8-.3-1.6-1-.4-.3 3 1.3 7zM167 571.2l0-2.4 0 2.4zM288.8 573.2l-.1-3.4 .1 3.4zM71.2 573.2l0-2.5 0 2.5zM121.3 572.2l-.2-1.8 .2 1.8zM172.2 573.2l-.2-2.4 0 3 .2-.6zM138.3 572.2l-.3-.8 0 1.3 .3-.5zM287.2 574.2l-.5-2.8 0 3.5 .5-.7zM126.7 575.2l-.6-2.4-.8 2.4 .8 .9 .6-.9zM179 574.2l0-1.7 0 2.5 0-.8zM130.3 575.2l-.3-1.1 0 1.8 .3-.7zM102.2 576.2l-.1-1.2-1 .2 1.1 1zM211.9 576.2l0-1.1 0 1.1zM277.3 581.2l.5-2-1-4.6-1.1 .6-.7 5 .8 1.9 1.5-.9zM57.7 578.2l-.5-2.5-3-.4 0 2.3 2 1.2 1.5-.6zM179.5 577.2l-.5-1.9 0 2.6 .5-.7zM230.2 579.2l-.3-3.4-1.1 2.4 1.1 1.6 .3-.6zM264.9 579.2l.9-2-1-1.5-1.2 .5-.6 2 .8 1.4 1.1-.4zM88.4 578.2l.7-1-1-.7-.5 .7 .8 1zM117.1 578.2l0-1.8 0 1.8zM209.4 583.2l1.4-3-1.9-3.5-1.5 4.5 .5 2.7 1.5-.7zM72.3 581.2l1.1-2-.2-1.7-1.4 .7 .5 3zM169.2 579.2l-.1-1-1 0-.1 1 1.2 0zM297.8 580.2l-.1-2.6 .1 2.6zM135.3 582.2l-.3-2.2 .3 2.2zM151.4 581.2l-.4-2 0 2.7 .4-.7zM246.9 585.2l1.4-1-.5-4.6-2.1 3.6 1.2 2zM309.1 582.2l-.4-2.2-1 1.4 1 1.3 .4-.5zM261 584.2l-.2 .6 .2-.6zM287 585.2l-.3-1.1-.3 1.1 .6 0zM83.4 585.2l-.3-1-.3 1 .6 0zM109.3 586.2l-.6 0 .4 .7 .2-.7zM219.2 588.2l.8-1-1.1-1.7-.8 1.7 1.1 1zM145.4 589.2l.6-1.6-1-1.3-.5 1.9 .5 1.4 .4-.4zM208 587.2l-.1-.8 .1 .8zM257.4 590.2l.4-1.1-1-1.2-1 1.3 1.6 1zM183.5 590.2l-.6-1.6-1.1 .6 .1 1.4 1 .4 .6-.8zM235.4 591.2l-.6-1.1-.9 1.1 .9 .7 .6-.7zM130.8 595.2l.2-2-1-1.1-1 .3-.1 2.8 1.9 0zM277.8 595.2l0-2.4-2-1.5-.3 3.9 1.3 .9 1-.9zM195.2 593.2l-1.3-.6-.3 .6 1.6 0zM52.4 595.2l-.7 0 .5 .9 .2-.9zM76.7 596.2l.4-1-1-.8-.3 1.8 .9 0zM292.5 596.2l-.8-1.9-.9 1.9 .9 .6 .8-.6zM112.3 597.2l-1.2-1.2-.7 1.2 .7 .8 1.2-.8zM305.8 598.2l-.1-1.4-1-.5-.4 1.9 1.5 0zM88.9 600.2l-.2-1-1.6-.5-1 1.5 1 .9 1.8-.9zM101.8 600.2l-.7-1.3-1.2 1.3 1.2 .6 .7-.6zM153.5 602.2l-.3-3-1.2-.7-1 1.7 .4 2 .6 .7 1.5-.7zM212.1 602.2l-.2-2.1-1.2 1.1 .2 1 1.2 0zM121.1 604.2l0-1.3 0 1.3zM141.1 604.2l-.1-1.3-1 .2 0 1.1 1.1 0zM65.7 604.2l-.5-.8-.7 .8 .7 .6 .5-.6zM199 606.2l-.1-1.5-1-.6-.6 2.1 1.7 0zM282.8 607.1l-1-1.3-.9 1.3 .9 .8 1-.8zM187.9 608.1l-1-1.6-.8 .6 .8 1.8 1-.8zM296.8 612.1l.1-1-1.2-1-.5 2 1.6 0zM52.2 612.1l.5-1-1.5-.7 0 1.7 1 0zM101.8 613.1l-.7-1.8-1.5 .8 .5 1.5 1.7-.5zM308.8 614.1l-1.1-1.7-.9 .7 .9 2 1.1-1zM122.6 617.1l.6-1-1.1-1.2-.8 1.2 1.3 1zM145.7 618.1l-.7-1.8-1 .3 0 1.9 1 .4 .7-.8zM195.7 619.1l-.8-1.3-1.3 1.3 1.3 1 .8-1zM273.1 624.1l-.9-2-1.7 1 1.3 1.8 1.3-.8zM221.6 626.1l.4-2-2.1-.1 0 2 1.7 .1zM170.7 628.1l-.7-1.1-1.7 1.1 1.7 .8 .7-.8zM106.6 630.1l.7-2-2.2-.5-.7 1.5 .7 1 1.5 0zM184.5 631.1l-.6-.8-.4 .8 1 0zM129.3 632.1l-.6 0 .6 0zM158.1 635.1l-.1-2-1.8 0-.1 2 2 0zM59.8 641.1l-.6-1.4-1.2 .4 .2 1.4 1.6-.4zM77.2 644.1l.7-2-1.8-1.1-.8 2.1 .8 1.1 1.1-.1zM116.7 642.1l-.6-1.2-.3 1.2 .9 0zM177.2 644.1l-1.7 0 .5 .9 1.2-.9zM219.2 645.1l-.1-1-1.2 0 0 1 1.3 0zM199 647.1l.8-1-.9-1.5-3 .5 .6 2 2.5 0zM145.7 651.1l1.7-1 0-1-1.4-1.2-2 .2-.8 2 2.5 1zM237.8 654.1l.3-1-1.3-1.4-1.9 .4-.5 1 1.4 1.7 2-.7zM267.2 656.1l-.4-1.6-1.2 .6 .2 1 1.4 0zM169 660.1l.8-3-1.1-1-1.7 .1-1 2.9 1 1.1 2-.1zM96.2 663.1l.3-2-1.4-.4-1 1.4 1 1.1 1.1-.1zM191.5 663.1l.2-2-1.8-.3-.7 1.3 .5 1 1.8 0zM134.2 662.1l-.6 0 .6 0zM251.8 665.1l.2-1-1.2-.9-1.7 .9 .7 1.3 2-.3zM280.3 667.1l-1.1 0 .6 .7 .5-.7zM176.6 678l1.5-1 0-2-2.1-1.2-2 .4-1 .8 .1 2 1.9 1.2 1.6-.2zM89.2 690l1.2-1-.3-1.2-2-.6-1.8 .8 .8 1.8 2.1 .2zM305.8 693l.5-2-1.6-1.3-3-.2-2.3 1.5-.1 1 1.4 1.6 3 .3 2.1-.9zM196.7 706l.5-1-2.3-1.3-3 .2-1.5 1.1 1.5 1.6 4.8-.6zM77.5 707l.4-1-2.8-1.6-3.9 .3-1.8 1.3 .4 1 2.4 .9 5.3-.9zM169.2 711l-2.2-.8-1.9 .8 1.9 .8 2.2-.8zM121.6 728.9l2.5-.8 .7-1.1-1.7-1.3-3-.5-3 .5-1.7 1.3 2.7 1.9 3.5 0zM92.6 731.9l1.1-1-.5-1-3.1-.9-4 .3-1.9 1.6 2.9 1.6 5.5-.6zM59.4 736.9l1.3-1-2.5-1.4-3 .1-2 1.3 2 1.2 4.2-.2z"/><path fill-rule="evenodd" fill="#4b4b4b" d="M309.7 757.9l-260.5 0 0-68 2 .8 2-.2 1.7-2.5-2.7-2-3 .8 0-28.8 2.4-.9 .6-2-1-1.6-2-.6 0-23.5 1.7-1.3-1.7-3 0-108.8 11.7 0 .3 2.8 1-.9 .1-1.9 42.5 0 .3 7.6 .6-7.6 5 0 .4 2.8 .5-2.8 5 0 0 16-1.2 12-1.7 5.9-.3 13 .7 3.1 1.1-2.1 .6-11 1.6-7.9 .3-29 1.3 0-.5 4 .6 6.6 0-10.6 9.7 0 .2 9.5 .4-9.5 2.4 0 1.2 10.4 .4-10.4 25.2 0 .4 9.6 .4-9.6 15.3 0 .3 6.2 .3-6.2 9.4 0 .2 4.3 .4-4.3 10.5 0 .1 8.1 .1-8.1 21.3 0 .4 10-.8 8.1-1-7.7-.4 2.6 .2 15 1.2 3.2 1.2-12.2 .2-19 5.3 0 .3 13.9 1.3-6.9 .1-7 15.1 0 .4 15.8 .5-15.8 35.2 0 .3 3.4 .2-3.4 2.5 0 .3 4.2 .3-4.2 3.4 0 .3 12.5 .9 2.5 .3-15 24.7 0 0 110.4-2 .1-1.2 1.3 1.2 1.8 2 0 0 37.3-3 .1-1.5 1.7 1.5 2.7 3 .1 0 49.2-5 .3-2.3 1.7 .1 1 2.2 1.4 5 .3 0 32.2zM290.9 535.3l1.2-10-.4-7.3-1.3 11.3 .5 6zM307.9 522.3l-.2-4.5 0 5.4 .2-.9zM182 522.3l-.1-3.3 .1 3.3zM205.1 531.3l.2-6-1.4-6.8-.4 11.8 .4 1.3 1 .5 .2-.8zM259 530.3l-.2-11.5 0 12.1 .2-.6zM222.1 527.3l-.2-7.7 0 8.5 .2-.8zM303.8 521.3l-.1-1.3 0 2 .1-.7zM83.2 528.3l-.1-7.5 .1 7.5zM88.2 526.3l-.1-5.5 .1 5.5zM172.3 549.2l.9-6.9-1.1-6-.1-15.3-.8 8.3 .8 20.6 .3-.7zM299.8 523.3l-.1-2.5 0 3.3 .1-.8zM85.1 538.3l.6-11-.6-5.7 0 16.7zM214.1 523.3l-.2-2 0 2.5 .2-.5zM168 528.3l0-5.2 0 5.2zM50.3 524.3l-.1-.9 0 1.5 .1-.6zM251.8 530.3l0-6.6 0 6.6zM72.3 544.3l1.1-10-.2-1.7-1 3.6-1-11.9-1 .2-.3 4.8 2.3 15.6 .1-.6zM127.2 538.3l-1.1-13-.4 8 1.4 5.7 .1-.7zM149.1 531.3l-.1-6.2 .1 6.2zM102.2 534.3l-.1-8.1 .1 8.1zM145.3 526.3l-.3-.7 0 1.5 .3-.8zM63.2 528.3l0-1.6 0 1.6zM80.3 531.3l-.2-4.3 0 4.9 .2-.6zM191 540.3l.3-4-1.4-9.9-.3 5.9 1.4 8zM296.9 545.3l.5-15-.7-4 0 19.6 .2-.6zM66.2 533.3l0-5.1 0 5.1zM208.1 530.3l-.2-2.5 0 3.2 .2-.7zM294.8 545.3l-.1-16.4 .1 16.4zM92.3 531.3l-.2-1.1 0 2 .2-.9zM162 534.3l0-4.9 0 4.9zM266 535.3l-.2-4 0 4.5 .2-.5zM271 545.3l1.1-8-.3-6-1.5 5 .5 9.6 .2-.6zM52.3 537.3l-.1-4.6 .1 4.6zM124.1 536.3l0-3.2 0 3.2zM199.9 536.3l0-3.8 0 3.8zM242.9 538.3l-.1-3.9 .1 3.9zM278.9 538.3l-.1-3.5 .1 3.5zM202.9 546.2l.2-6.9-1.2-3.5-.2 8.5 .2 1.4 1 .5zM260.9 543.3l-.1-7.1 .1 7.1zM194.9 538.3l0-2 0 2zM226 551.2l-.1-13.6 .1 13.6zM230.9 541.3l0-3.8 0 3.8zM255.9 576.2l1.2-3 .3-11 1.7-10-2.3-14.9-.7 24.9-1.6 11 1.4 3zM94.2 542.3l-.1-3.8 .1 3.8zM121.1 544.3l0-5.3 0 5.3zM106.1 541.3l0-1.3 0 1.3zM128.1 544.3l-.1-4.6 .1 4.6zM155 550.2l0-10.9 0 10.9zM181 544.3l-.1-4.8 .1 4.8zM167 545.3l0-4.5 0 4.5zM275.8 545.3l0-4.9 0 4.9zM65.3 548.2l-.1-5.2 .1 5.2zM77.4 547.2l-.3-4.6 0 5.1 .3-.5zM143 548.2l0-5.3 0 5.3zM178 544.3l0-1.8 0 2.4 0-.6zM254 548.2l-.2-5.6 0 6.2 .2-.6zM78.4 562.2l1.1-12-.4-5.3-1.3 9.3 .3 8.8 .3-.8zM101.3 549.2l-.2-4.4 .2 4.4zM284.8 550.2l-.1-5 .1 5zM292.9 551.2l-.2-6.3 0 6.9 .2-.6zM59.2 549.2l0-3.1 0 3.1zM84.2 555.2l-.1-9.4-1.3 3.4 0 5 .3 1.5 1.1-.5zM188 560.2l1.4-10-.5-4.1-.3 6.1-1 2 .4 6zM74.3 547.2l-.1-.8 .1 .8zM99.1 549.2l0-2.6 0 2.6zM56.2 549.2l0-1.3 0 1.3zM309 552.2l-.3-3.7 0 4.6 .3-.9zM124.1 555.2l0-5.9 0 5.9zM271.8 555.2l0-5.5 0 6.2 0-.7zM58.5 556.2l-.3-4.2 0 5 .3-.8zM91.4 554.2l-.3-2.6 0 3.6 .3-1zM105.3 556.2l-.2-4.1 0 4.7 .2-.6zM140.3 555.2l-.3-3.5 0 4.4 .3-.9zM129.2 558.2l-.2-5 0 5.7 .2-.7zM143.1 554.2l-.1-1.8 .1 1.8zM240.8 556.2l0-3.7 0 3.7zM112.3 567.2l.5-7-.7-6.6 .2 13.6zM236.9 560.2l-.1-6.7 .1 6.7zM288.8 559.2l-.1-5.3 0 6 .1-.7zM81.4 558.2l-.3-3.6 0 4.6 .3-1zM107.2 558.2l-.1-4 .1 4zM252.9 559.2l-.1-4 .1 4zM60.3 561.2l-.1-5.4 .1 5.4zM150.1 558.2l-.1-1.1 0 1.8 .1-.7zM234.9 559.2l-.1-1.8 .1 1.8zM161.1 565.2l-.1-6-.7 2 .8 4zM212.1 561.2l-.2-2.5 0 3.3 .2-.8zM206.1 573.2l1.4-7-.6-6.1-1.4 6.1 .6 7zM192.2 567.2l-.3-5.1-.7 4.1 .2 1 .8 0zM221.2 562.2l-.3-.6 0 1.6 .3-1zM299 565.2l-.3-2.2 0 3 .3-.8zM272.2 568.2l-.4-4.8 0 5.7 .4-.9zM86.4 566.2l-.3-1.5 0 2.5 .3-1zM238.3 571.2l-.5-6.3-.5 5.3 .5 1.8 .5-.8zM152.2 574.2l1.1-3-.3-4.4-1.4 2.4 .6 5zM200.1 567.2l-.2-1 0 1.7 .2-.7zM226 577.2l.3-8-.4-2.1-1-.3-.3 4.4 1.4 6zM56.3 570.2l-.1-2.6 .1 2.6zM95.2 569.2l-.1-.7 .1 .7zM167.1 571.2l-.1-2.7 .1 2.7zM121.4 572.2l-.3-2 0 2.6 .3-.6zM288.9 573.2l-.2-3.9-.5 2.9 .7 1zM71.3 573.2l-.1-2.7 .1 2.7zM138.3 572.2l-.3-1.1 0 1.8 .3-.7zM172.3 573.2l-.3-2.7 0 3.5 .3-.8zM287.3 574.2l-.6-3.1 0 4 .6-.9zM126.1 576.2l1-2-1-1.6-1.1 1.6 1.1 2zM179 578.2l.8-1-.8-4.9 0 5.9zM130.4 575.2l-.4-1.3 0 2.2 .4-.9zM276.9 582.2l1-3-1.1-5.2-1.2 1.2-.7 5 .9 2.1 1.1-.1zM57.9 578.2l-.7-2.8-3-.4 0 2.9 2 1.2 1.7-.9zM102.6 576.2l-.5-1.6-1.2 .6 .2 1 1.5 0zM212 576.2l-.1-1.4 .1 1.4zM88.9 578.2l.2-2.1-1 .1-.8 1 .4 1 1.2 0zM117.2 578.2l-.1-2.1 .1 2.1zM230.4 579.2l-.5-3.7-1.1 3.7 1.1 .9 .5-.9zM265.1 579.2l.8-2-1.1-1.8-1.4 .8-.6 2 1 1.7 1.3-.7zM72.4 581.2l1.2-3-1.4-1.1 0 4.8 .2-.7zM208.1 587.2l.2-3 2.2-2 .5-2-2.1-3.8-1.6 3.8 .6 7.8 .2-.8zM145.1 578.2l-.1-.6 .1 .6zM169.5 579.2l-.5-1.4-1.2 .4 .2 1.2 1.5-.2zM297.9 580.2l-.2-2.9-.4 1.9 .6 1zM151.5 581.2l-.5-2.4 0 3.3 .5-.9zM135.5 582.2l-.5-2.3 0 3 .5-.7zM247.9 585.2l.6-2-.7-3.7-2.2 3.7 .9 2 1.4 0zM309.3 582.2l-.6-2.6-1 1-.1 1.6 1.1 .7 .6-.7zM191.2 581.2l-.6 0 .6 0zM107.2 583.2l-.1-.6 .1 .6zM83.5 585.2l-.4-1.2-.4 1.2 .4 .6 .4-.6zM261.1 584.2l-.3-.6 0 1.4 .3-.8zM287.2 585.2l-.5-1.3-.5 1.3 1 0zM109.4 586.2l-.3-.7-.5 .7 .5 .9 .3-.9zM145.7 589.2l.4-2-1.1-1.2-.5 3.2 .5 .6 .7-.6zM219.6 588.2l.5-1-1.2-1.9-1.1 .9 .2 1 .9 1.4 .7-.4zM269.1 586.2l-.3-.6 .3 .6zM257.9 590.2l-.1-1.8-1-.8-1 2 1 1.1 1.1-.5zM183 591.2l.7-1-.8-1.7-1 .3-.3 1.4 1.4 1zM304.8 590.2l-.1-1.4 .1 1.4zM234.9 592.2l.6-1-.7-1.3-1.2 1.3 1.3 1zM276.9 596.2l1.1-1 .1-2-2.3-2.1-.4 4.1 1.5 1zM131 595.2l0-2.2-1-1.1-1 .2-.3 3.1 1.3 .7 1-.7zM291.9 592.2l-.2 .5 .2-.5zM195.4 593.2l-1.5-.9-.5 .9 .5 .7 1.5-.7zM233.2 593.2l-.4-.5 .4 .5zM292.8 596.2l-1.1-2.4-1.2 2.4 1.2 .9 1.1-.9zM52.3 596.2l-.1-1.6-.9 .6 1 1zM76.9 596.2l.3-1-1.1-1-.5 2 1.3 0zM163.5 595.2l-.6 0 .6 0zM111.5 598.2l1-1-1.4-1.4-.9 1.4 1.3 1zM306 598.2l-.3-1.7-1-.5-.6 2.2 .6 .7 1.3-.7zM88.2 601.2l.7-2-1.8-.7-1 .6 0 1.6 2.1 .5zM102 600.2l-.9-1.5-1.4 1.5 1.4 .8 .9-.8zM153.6 602.2l-.2-3-1.4-.9-1.1 1.9 .3 2 .8 .9 1.6-.9zM212.3 602.2l-.4-2.5-1 .5-.2 2 1.6 0zM65.9 604.2l-.7-1.1-1 1.1 1 .9 .7-.9zM121.6 604.2l-.5-1.5-.5 1.5 1 0zM141.3 604.2l-.3-1.5-1 .2 0 1.5 1.3-.2zM199.1 606.2l-.2-1.9-1-.4-.8 2.3 .8 .7 1.2-.7zM175.4 605.2l-.9 0 .5 .6 .4-.6zM283 607.1l-1.2-1.5-1.1 1.5 1.1 1 1.2-1zM187 609.1l1.1-1-1.2-1.8-1.1 1.8 1.2 1zM52.4 612.1l-.2-1.9-1-.1-.3 2 1.5 0zM237.9 611.1l-.1-1 .1 1zM296.9 612.1l-.2-1.6-1-.6-.7 2.2 .7 .7 1.2-.7zM102 613.1l-.9-2-1.6 1 .6 1.7 1.9-.7zM308.1 615.1l.8-2-1.2-.9-1.2 1.9 1.6 1zM87.3 615.1l.4-1-.6-.3 .2 1.3zM123.1 617.1l0-2-1-.4-1 1.4 1 1.4 1-.4zM145 619.1l.8-1-.8-2.1-1.4 1.1 .4 1.7 1 .3zM195.2 620.1l.5-2-1.8-.3-.5 1.3 .5 1 1.3 0zM64.5 622.1l-1.5 0 1.2 .7 .3-.7zM273.3 624.1l-.5-2-1-.3-1.4 1.3 1.4 2 1.5-1zM221.9 626.1l.6-1-.6-1.3-2.4 .3 .4 2.2 2-.2zM170.9 628.1l-.9-1.4-1.5 .4-.4 1 1.9 1 .9-1zM107 630.1l.7-1-.6-1.4-2.7 .4 .7 2.2 1.9-.2zM185 631.1l-1.1-1.2-.7 1.2 .7 .7 1.1-.7zM129.5 632.1l-.5-.9-.8 .9 .8 .7 .5-.7zM158.4 635.1l-.4-2.3-2.1 .3 .1 2.2 1 .4 1.4-.6zM60.1 641.1l-.9-1.7-1.5 .7 .5 1.7 1.9-.7zM77.5 644.1l.6-2-2-1.3-1 2.3 1 1.4 1.4-.4zM117.2 642.1l-.1-1.1-1.6 .1 .6 1.5 1.1-.5zM177.1 645.1l-.1-1.5-1.7 .5 .7 1.1 1.1-.1zM219.6 645.1l-.7-1.5-1.3 .5 .3 1.4 1.7-.4zM199.3 647.1l.7-1-1.1-1.7-3.2 .7 .5 2 3.1 0zM146.4 651.1l1.2-1-.6-1.8-3.3-.2-.7 2 2 1.2 1.4-.2zM299.8 651.1l-.9 0 .9 0zM238 654.1l-.2-1.9-1-.7-2 .4-.6 1.2 1.6 1.9 2.2-.9zM267.6 656.1l-.8-1.9-1.4 .9 .4 1.2 1.8-.2zM169.3 660.1l.7-3-1-1.2-2 .1-1.1 1.1-.1 2 1.2 1.3 2.3-.3zM96.5 663.1l.2-2-2.4 0 .2 2 2 0zM191.8 663.1l.1-2.1-1-.5-1.6 .6 .1 2 2.4 0zM134.6 662.1l-1.7 0 1.7 0zM114.5 663.1l-.8 0 .8 0zM252 665.1l.2-1-1.4-1.1-1.9 1.1 .9 1.5 2.2-.5zM280.2 668l.5-.9-.9-.7-1.1 .7 1.5 .9zM177.3 678l1.4-2-1.3-2-2.4-.4-2.3 1.4 .1 2 1.1 1 3.4 0zM89.7 690l1-1-.6-1.4-2-.7-2.1 1.1 1.1 2.1 2.6-.1zM304.4 694l2.6-2-1.3-2-4-.7-2.7 1.7 .7 2.4 4.7 .6zM193.9 707l3-.9 .6-1.1-3.6-1.6-3.9 1.6 .9 1.5 3 .5zM75.9 708l2.2-1 .5-1-2.5-1.6-4.9 0-2.4 1.6 2.4 1.9 4.7 .1zM123.1 708l.4-1-1.4-.5 0 1 1 .5zM168 712l1.7-1-2.7-1.1-2.5 1.1 3.5 1zM122.7 728.9l2.5-1.9-2.1-1.6-5-.2-3.4 1.8 3.4 2.2 4.6-.3zM93.1 731.9l1-1-.4-1-3.6-1.2-5 .7-1.4 1.5 3.4 1.8 6-.8zM60.3 736.9l.9-1.2-3-1.4-4 .3-1.7 1.3 2.7 1.5 5.1-.5z"/><path fill-rule="evenodd" fill="#575757" d="M309.7 757.9l-260.5 0 0-67.6 4 .5 1.3-.8 .7-2-1-1.5-2-.8-3 .7 0-28.1 2.8-1.2 .5-2-1.3-1.9-2-.5 0-23.1 1.8-1.5-1.8-3 0-108.8 11.6 0 .4 3.6 1-.4 .3-3.2 42.2 0 .4 8 .7-8 4.8 0 .5 3.5 .7-3.5 4.7 0-.1 16-1.1 12-1.7 5.9-.3 13 .8 3.6 1.2-2.6 .6-11 1.6-7.9 .4-29 .7 0 .5 11 .1-11 9.5 0 .3 10 .7-2-.1-8 1.4 0 1.1 2 .9 9.1 .4-11.1 25.2 0 .4 10.3 .5-10.3 15.1 0 .4 6.6 .3-6.6 9.3 0 .3 4.6 .4-4.6 10.4 0 .2 8.5 .2-8.5 21.1 0-.3 16.3-1-6.5-.5 3.2 .3 15 1.2 4.5 1.3-13.5 .1-19 5.2 0 .4 14.5 1.3-6.5 .2-8 14.9 0 .5 16.3 .6-16.3 17.4 0 0 15.2 .6-8.2-.6-7 17.6 0 .4 3.9 .2-3.9 2.4 0 .4 4.5 .3-4.5 3.3 0 .3 13 1 3.3 .5-16.3 24.5 0 0 110.3-2 0-1.5 1.5 1.5 2 2 0 0 36.8-3 .1-1.7 2 1.7 2.9 3 .1 0 48.7-5 .3-2.8 2 1.8 2.4 6 .6 0 31.9zM291 535.3l1.2-10-.5-8.1-1.3 12.1 .3 6.7 .3-.7zM307.8 523.3l-.1-6 .1 6zM205 532.3l.4-7-1.5-7.8-.5 11.8 .5 2.8 1.1 .2zM182 522.3l-.1-3.8 0 4.4 .1-.6zM222 528.3l-.1-9.6 .1 9.6zM83.4 528.3l-.3-8.1 0 8.8 .3-.7zM172 550.2l1.3-6.9-1-7-.3-16.2-.9 9.2 .9 20.9zM299.8 524.3l-.1-4.3 .1 4.3zM303.7 522.3l0-2.8 0 2.8zM85.2 541.3l.6-13-.7-7.7 0 21.6 .1-.9zM88.3 526.3l-.2-5.9 0 6.5 .2-.6zM214.2 523.3l-.3-2.4 0 3.3 .3-.9zM50.4 524.3l-.2-1.4 0 2.3 .2-.9zM168.1 528.3l-.1-5.7 0 6.4 .1-.7zM251.9 530.3l-.1-7.4 .1 7.4zM72.2 545.3l1.3-11-.3-2-1 3.2-1-11.9-1 .3-.4 5.4 2.4 16zM128.1 545.3l.1-5-2.1-15.5-.3 9.5 2.3 11zM149.2 531.3l-.2-6.7 0 7.6 .2-.9zM247.8 528.3l0-3.9 0 3.9zM63.3 528.3l-.1-2.1 0 2.7 .1-.6zM102.2 534.3l-.1-8.4 0 9.2 .1-.8zM145 527.3l0-1.8 0 1.8zM191.1 540.3l.2-5-1.4-9.2-.3 6.2 1.3 8.8 .2-.8zM296.7 546.2l.8-15.9-.8-4.8 0 20.7zM80.4 531.3l-.3-4.7 0 5.5 .3-.8zM180 528.3l-.1-1.6 .1 1.6zM66.3 533.3l-.1-5.5 0 6.1 .1-.6zM208.2 530.3l-.3-2.7 0 3.7 .3-1zM294.9 545.3l-.2-17.3-.4 15.3 .4 2.5 .2-.5zM162 535.3l0-6.6 0 6.6zM92.2 532.3l-.1-2.4 .1 2.4zM266.1 535.3l-.3-4.3 0 5 .3-.7zM271.8 556.2l0-25.3-1.6 6.4 1.6 19.6 0-.7zM52.4 537.3l-.2-4.9 0 5.6 .2-.7zM124.1 537.3l0-4.8 0 4.8zM200 536.3l-.1-4 .1 4zM243.1 538.3l-.3-4.3 0 5 .3-.7zM279 538.3l-.2-3.7 0 4.3 .2-.6zM195 538.3l-.1-2.8 0 3.5 .1-.7zM202.9 547.2l.3-7.9-1.3-3.9-.3 8.9 1.3 2.9zM249.9 536.3l-.1 .8 .1-.8zM261 543.3l-.2-7.5-.5 6.5 .5 1.6 .2-.6zM226.1 551.2l-.2-14.7 0 15.6 .2-.9zM256.1 576.2l1.1-3 .3-11 1.7-10-2.4-15.3-.9 25.3-.7 9-.9 2 1.8 3zM94.3 542.3l-.2-4.1 .2 4.1zM231 541.3l-.1-4 .1 4zM106.1 542.3l0-3.4 0 3.4zM121.3 544.3l-.2-5.8 0 6.6 .2-.8zM155.1 550.2l-.1-11.7 .1 11.7zM181.1 544.3l-.2-5.2 0 5.7 .2-.5zM136.1 541.3l-.1-1.2 .1 1.2zM275.9 545.3l-.1-5.1 .1 5.1zM167.1 545.3l-.1-5 .1 5zM143.1 549.2l-.1-7 0 7.8 .1-.8zM178 545.3l0-3.6 0 3.6zM65.3 548.2l-.1-5.6 0 6.3 .1-.7zM77.6 547.2l-.5-4.9 0 5.7 .5-.8zM254.1 548.2l-.3-5.9 0 6.9 .3-1zM78.2 563.2l1.3-13-.4-5.6-1.4 9.6 .5 9zM84.2 556.2l.6-7-.7-4.2-1.2 3.2-.2 6 .4 1.8 1.1 .2zM101.4 549.2l-.3-4.7 0 5.5 .3-.8zM284.9 550.2l-.2-5.5 0 6.2 .2-.7zM293 551.2l-.3-6.8 0 7.8 .3-1zM59.2 550.2l0-4.5 0 4.5zM74.4 547.2l-.2-1 0 1.7 .2-.7zM188.1 560.2l1.5-11-.7-3.6-1.4 8.6 .6 6zM99.2 549.2l-.1-2.8 .1 2.8zM56.3 549.2l-.1-1.6 0 2.2 .1-.6zM124.2 555.2l-.1-6.4 .1 6.4zM308.8 553.2l-.1-5 .1 5zM120.2 553.2l-.1-2.3 0 3 .1-.7zM58.3 557.2l.6-4-.7-1.6 .1 5.6zM91.2 555.2l-.1-3.8 .1 3.8zM105.4 556.2l-.3-4.4 0 5.2 .3-.8zM140.1 556.2l-.1-4.8 .1 4.8zM143.2 554.2l-.2-2.8 0 3.6 .2-.8zM129.3 558.2l-.3-5.4 0 6.3 .3-.9zM240.9 556.2l-.1-3.9 .1 3.9zM288.8 560.2l-.1-7.1-.5 4.1 .6 3zM107.2 558.2l-.1-4.3 0 5 .1-.7zM112.5 567.2l.4-7-.8-6.9 0 14.6 .4-.7zM237.1 560.2l-.3-6.9-.5 4.9 .5 2.6 .3-.6zM81.2 559.2l-.1-4.9 .1 4.9zM253.1 559.2l-.3-4.5 0 5.2 .3-.7zM264.8 556.2l0-1.3 0 1.3zM60.4 561.2l-.2-5.9-.6 3.9 .6 2.6 .2-.6zM150.1 559.2l-.1-3 0 3.6 .1-.6zM235.1 559.2l-.3-2.3 0 3 .3-.7zM217.9 559.2l0-1.7 0 1.7zM161.2 565.2l-.2-6.4-.8 2.4 .8 4.6 .2-.6zM212 562.2l-.1-3.9 .1 3.9zM206.3 573.2l1.3-7-.7-6.4-1.5 6.4 .1 6 .4 1.5 .4-.5zM192.3 567.2l-.4-5.4-.9 4.4 .9 1.7 .4-.7zM220.9 563.2l0-1.7 0 1.7zM271.9 569.2l-.1-6.2-.6 3.2 .7 3zM298.8 566.2l-.1-3.4 .1 3.4zM86.3 567.2l-.2-3.3 .2 3.3zM237.9 572.2l.7-2-.8-5.9-.6 5.9 .7 2zM152.6 574.2l1-5-.6-3.1-1.5 3.1 .5 5.9 .6-.9zM200.2 567.2l-.3-1.2 0 2 .3-.8zM56.4 570.2l-.2-3 0 3.9 .2-.9zM226.1 577.2l.2-8-.4-2.6-1-.2-.3 5.8 1.3 5.8 .2-.8zM95.3 569.2l-.2-1.1 0 1.7 .2-.6zM167.2 571.2l-.2-3 0 3.7 .2-.7zM289 573.2l-.3-4.6-.6 3.6 .6 1.7 .3-.7zM121.4 572.2l-.3-2.3 0 3.1 .3-.8zM71.4 573.2l-.2-2.8 .2 2.8zM138.4 572.2l-.4-1.3 0 2.1 .4-.8zM172.3 573.2l-.3-2.9 0 3.9 .3-1zM286.8 575.2l.6-3-.7-1.4 .1 4.4zM66.2 573.2l0-1.4 0 1.4zM179.4 578.2l.6-1-1-5.1-.6 5.1 1 1zM126.3 576.2l.9-2-1.1-1.8-1.2 2.8 1.4 1zM130.1 576.2l-.1-2.5 .1 2.5zM277.1 582.2l.9-3-.2-5.1-1-.6-1.3 1.7-.8 5 1.1 2.3 1.3-.3zM57.2 579.2l.9-1-.2-2-.7-1-3-.5 0 3.5 1 .9 2 .1zM103.1 576.2l-1-1.9-1.4 .9 1.4 1.7 1-.7zM212.1 576.2l-.2-1.7 0 2.5 .2-.8zM229.9 580.2l.7-2-.7-3-1.4 3 .4 1.4 1 .6zM265.4 579.2l.6-2-1.2-2.1-1.6 1.1-.5 2 1.1 1.9 1.6-.9zM89.2 578.2l-.1-2.8-2 1.8 1 1.7 1.1-.7zM117.2 578.2l-.1-2.3 .1 2.3zM208 588.2l.2-3 2.4-3 .5-2-2.2-4-1.7 4 .8 8zM72.2 582.2l1.5-4-1.5-1.3-.6 2.3 .6 3zM145.2 578.2l-.2-1.1 .2 1.1zM295.8 577.2l-.1-.6 .1 .6zM298 580.2l-.3-3.4-.5 2.4 .5 1.6 .3-.6zM169.8 579.2l-.8-1.6-1.5 .6 .5 1.5 1.8-.5zM94.2 579.2l-.1-.7 .1 .7zM151.1 582.2l.5-2-.6-1.9 .1 3.9zM135.7 582.2l-.7-2.4 0 3.4 .7-1zM155.3 580.2l-.3-.7-.7 .7 .7 .6 .3-.6zM248.1 585.2l.6-2-.9-3.9-2.3 3.9 .8 2 1.8 0zM309.6 582.2l-.9-2.9-1 .9-.2 2 1.2 .9 .9-.9zM191.6 581.2l-.7-.7-.6 .7 .6 .7 .7-.7zM107.3 583.2l-.2-1.1-.7 1.1 .7 .9 .2-.9zM83.5 585.2l-.4-1.4-.5 1.4 .5 .7 .4-.7zM261.2 584.2l-.4-.7 0 1.7 .4-1zM287.4 585.2l-.7-1.5-.8 1.5 .8 .8 .7-.8zM219.9 588.2l0-2-1-1.1-2 .4 0 1.4 2 1.9 1-.6zM250.9 585.2l-.1-.8 .1 .8zM109.1 587.2l0-1.8-.6 .8 .6 1zM145.9 589.2l.3-2-1.2-1.4-.7 3.4 .7 .8 .9-.8zM269.2 586.2l-.4-.8 0 1.4 .4-.6zM258 590.2l-.2-2.3-1-.5-1 .7 .1 2.1 1.9 .8 .2-.8zM183.2 591.2l.5-2-.8-.8-1 .2-.4 1.6 1.7 1zM304.9 590.2l-.2-1.7 .2 1.7zM233.4 593.2l2.3-2-.9-1.5-1.1 .5-.1 2-1 1 .8 0zM277.3 596.2l.9-3-2.4-2.3-.6 4.3 .8 1 1.3 0zM131.2 595.2l-.2-2.5-2-.9-.4 3.4 1.4 .9 1.2-.9zM195 594.2l.7-1-1.8-1.2-.6 1.2 1.7 1zM292 592.2l-.3-.5 0 1.4 .3-.9zM77.2 596.2l.2-1-1.3-1.2-.6 2.2 .6 .6 1.1-.6zM164.1 595.2l-1.1-1 0 1.4 1.1-.4zM292.1 597.2l.8-2-1.2-2-1.4 3 1.8 1zM52.5 596.2l-.3-1.8-1 .4 0 1.6 1.3-.2zM112.1 598.2l.3-2-1.3-.6-1 1.9 1 1 1-.3zM306.2 598.2l-.5-2-1-.5-.8 2.5 .8 .9 1.5-.9zM153 603.2l.9-3-1.9-2.3-1.2 3.3 1.2 2.1 1-.1zM88.5 601.2l.6-2.1-2-.8-1.2 .9 .3 2 2.3 0zM101.2 601.2l1-1-1.1-1.8-1.6 1.8 1.7 1zM212.4 602.2l-.5-2.8-1.1 .8-.2 2 1.3 .7 .5-.7zM65.4 605.2l.7-1-.9-1.3-1.2 1.3 1.4 1zM122.1 604.2l-1-1.8-1.1 .8 1.1 1.6 1-.6zM141.5 604.2l-.5-1.8-1 .2 0 2.1 1.5-.5zM199.3 606.2l-.4-2.1-1.6 .1-.4 2.1 1 .8 1.4-.9zM175.1 606.2l.7-1-.8-.9-.8 .9 .9 1zM187.3 609.1l.8-2-1.2-1-1.3 2 1.7 1zM282.2 608.1l.8-1.9-1.2-.7-1.3 1.6 1.7 1zM52.6 612.1l-.2-2-1.5 0-.2 2 1.9 0zM238.9 611.1l-.1-1-1.3 0 .3 1.4 1.1-.4zM297.1 612.1l-.4-1.9-1.5-.1-.4 2 .9 .9 1.4-.9zM101.1 614.1l1.2-2-1.2-1.2-1 .2-.8 2 1.8 1zM75.3 613.1l-.2-1.2-.6 .2 0 1 .8 0zM308.5 615.1l.6-2-1.4-1.1-1.3 2.1 1.3 1.5 .8-.5zM88 615.1l.2-1-1.1-.6-.4 1.6 1.3 0zM123.2 617.1l.1-2-1.2-.6-1 1.2 .2 1.4 .8 .6 1.1-.6zM145.3 619.1l.7-2-1-1.4-1 .2-.5 2.2 .5 1 1.3 0zM195.5 620.1l.4-2-2-.5-.7 1.5 .5 1 1.8 0zM64.4 623.1l-.2-1.9-1 0-.1 1.9 1.3 0zM272.5 625.1l1.1-2-1.8-1.4-1.1 .4-.4 2 2.2 1zM222.1 626.1l.5-1-.7-1.4-2.6 .4 .6 2.4 2.2-.4zM78.9 625.1l-.8 0 .8 0zM170.3 629.1l.6-2-.9-.6-1.9 .6-.3 1 .8 1 1.7 0zM107.2 630.1l.6-1-.7-1.5-2-.3-.9 .8 .9 2.3 2.1-.3zM185.2 631.1l-1.3-1.4-1 1.4 1 1 1.3-1zM129.1 633.1l.7-1-.8-1.2-1.1 1.2 1.2 1zM205 633.1l-.1-1.4 .1 1.4zM158.6 635.1l-.6-2.5-2.3 .5 .3 2.4 1 .4 1.6-.8zM290.1 637.1l-.4-.9-.5 .9 .9 0zM275.9 639.1l-1.6 0 .5 .9 1.1-.9zM59.4 642.1l.8-2-2-.9-.8 1.9 2 1zM77.7 644.1l.4-2.2-2-1.3-1.1 1.5 .1 1.5 1 1.1 1.6-.6zM117.5 642.1l-.4-1.4-1.9 .4 .9 1.8 1.4-.8zM177.3 645.1l-.3-1.7-1.9 .7 .9 1.3 1.3-.3zM199.6 647.1l.4-2-1.1-.9-2-.1-1.4 1-.2 1 1.6 1.5 2.7-.5zM220 645.1l-1.1-1.8-1.7 .8 .7 1.7 2.1-.7zM146.8 651.1l1-1-.8-2.1-3-.3-1.3 1.4 1.3 2.1 2.8-.1zM299.8 652.1l.4-1-1.5-.3 0 1.2 1.1 .1zM237.2 655.1l1.1-1-.3-2-1.2-.8-2 .4-.6 2.4 1.6 1.2 1.4-.2zM267.9 656.1l.1-1-1.2-1.1-1.7 1.1 .7 1.5 2.1-.5zM169.6 660.1l.6-3-1.2-1.4-2 0-1.6 2.4 .6 1.7 2 1 1.6-.7zM96.8 663.1l.5-1-1.2-1.7-2 .7 .1 2 2.6 0zM192.1 663.1l-.2-2.4-2-.3-.8 .7-.4 1 1.2 1.5 2.2-.5zM208.9 661.1l0-.8 0 .8zM115.1 663.1l-1-1.1-.9 1.1 .9 .5 1-.5zM135 662.1l-1-.7-1.5 .7 1.5 .7 1-.7zM252.2 665.1l.1-1-1.5-1.3-2.1 1.3 1.1 1.7 2.4-.7zM280.8 668l.2-.9-1.2-1-1.4 1 .4 1 2-.1zM177.8 678l1.2-2-2-2.4-3 0-1.6 1.4 0 2 1.6 1.4 3.8-.4zM90.2 690l.7-2-1.4-1-2.4-.1-1.4 1.1-.1 1 1.5 1.4 3.1-.4zM149.4 687l-.4-.8-.7 .8 1.1 0zM305.5 694l2-2-1.8-2.4-4-.5-3.1 1.9 .2 2 1.9 1.3 4.8-.3zM77.2 708l2.1-2-3.2-1.9-4.9 0-3.1 1.9 .3 1 2.8 1.3 6-.3zM195.1 707l2.3-1 .5-1-.8-1-4.2-.8-3.3 1.8 1.3 1.7 4.2 .3zM123.9 708l.2-1-.9-1-1.6 0-.5 1 .5 1 2.3 0zM168.7 712l1.5-1-1.2-1.2-3-.1-2 1.3 1.1 1 3.6 0zM123.6 728.9l2.1-1.9-2.6-1.8-6-.1-3 1.9 1 1.3 3 1.1 5.5-.5zM89.4 732.9l4.3-1 .9-1-.3-1-5.2-1.5-5.6 1.5-.3 1 .9 1.1 5.3 .9zM61.1 736.9l.9-1-.7-1-3.1-.9-4 .2-2.4 1.7 3.4 1.8 5.9-.8z"/><path fill-rule="evenodd" fill="#636363" d="M309.7 757.9l-260.5-.5 0-66.6 4 .3 1.8-1.1 .7-2-2.5-2.4-4 .3 0-27.3 3-1.3 .7-2.2-1.4-2-2.3-.7 0-22.6 2-1.7-.8-2-1.2-.5 0-54.8 .6-1.6-.6-.9 0-52 11.5 0 .5 4.4 1-.1 .4-4.3 42.1 0 .4 8.6 .9-8.6 4.5 0 .6 4.1 .8-4.1 4.5 0 0 15-1.3 13-1.5 5.9-.5 13 1 4.2 1.2-2.2 2.3-19.9 .4-29 1.1 11.5 .2-11.5 9.4 0 .3 10.5 .9-2.5-.2-8 1.7 0 1.6 11.9 .5-11.9 25 0 .5 11 .6-11 14.9 0 .5 6.9 .4-6.9 9.2 0 .3 4.9 .5-4.9 10.2 0 .3 8.9 .3-8.9 7.7 0-.6 14 .6 2.3 1 .4 .5-7.7-1.5-9 13.2 0-.2 14.5-1-5.4-.6 3.9 .3 15 1.3 5.7 1.3-14.7 .2-19 5 0 .5 15 1.4-6 .2-9 14.8 0 .5 16.9 .6-16.9 17.3 0 .1 15.9 .3-15.9 17.2 0 .5 4.4 .3-4.4 2.2 0 .5 4.9 .4-4.9 3 0 .5 14 1 3.7 .6-17.7 6.4 0-1.4 13 .4 7.1 1.6-11.1-.6-9 5.9 0 .1 1.2 .2-1.2 11.8 0 0 64.5-1-2.7-1.5 3.1 1 2 1.5-.9 0 44.1-2 0-1.7 1.7 1.3 2 2.4 .2 0 36.2-3 .2-2 2.3 1 2.6 4 .7 0 48.1-5 .2-3.4 2.4 .4 1.4 2 1.4 6 .6 0 31.5zM307.9 523.3l-.2-6.7 0 7.4 .2-.7zM182.1 522.3l-.2-4.3 0 5.2 .2-.9zM222.1 528.3l-.2-10.7 0 11.6 .2-.9zM172.3 550.2l1.1-7.9-1-7-.4-16.2-1.1 10.2 1.1 21.5 .3-.6zM299.8 524.3l-.1-5.3 0 6 .1-.7zM303.8 522.3l-.1-3.5 .1 3.5zM83.2 529.3l.5-6-.6-3.8 .1 9.8zM84.3 556.2l1.7-21.9-.9-14.8-.3 23.8-2.1 5.9 .1 6 .3 1.3 1 .5 .2-.8zM88.4 526.3l-.3-6.4 0 7.3 .3-.9zM214 524.3l-.1-3.8 .1 3.8zM168 529.3l0-7.2 0 7.2zM252 530.3l-.2-8.4 0 9.1 .2-.7zM50.3 525.3l-.1-2.9 .1 2.9zM72.3 545.3l1.3-11-.4-2.3-1 2.8-1-11.9-1 .3-.4 6.1 2.4 16.5 .1-.5zM247.9 529.3l-.1-6.2 .1 6.2zM149.1 532.3l-.1-8.3 .1 8.3zM128.2 545.3l0-6-2.1-14.9-.3 10.9 2.2 10.8 .2-.8zM296.9 546.2l.8-16.9-1-4.8-.5 18.8 .7 2.9zM63.2 529.3l0-3.6 0 3.6zM102.2 535.3l-.1-9.8-.5 6.8 .6 3zM145.1 527.3l-.1-1.9 .1 1.9zM180.1 528.3l-.2-2.2 0 2.8 .2-.6zM191 541.3l.4-6-1.5-9.6-.4 6.6 .7 8 .8 1zM80.2 532.3l-.1-6 .1 6zM138 530.3l0-3.6 0 3.6zM209.9 528.3l0-1.2 0 1.2zM295 545.3l-.3-18.2-.6 6.2 .6 12.9 .3-.9zM66.2 534.3l0-6.9 0 6.9zM162 536.3l0-8.2 0 8.2zM208 531.3l-.1-4 .1 4zM92.3 532.3l-.2-2.7 .2 2.7zM265.8 536.3l0-5.7 0 5.7zM271.8 557.2l0-26.7-1.3 2.8-.4 4 1.7 20.7 0-.8zM52.2 538.3l0-6.3 0 6.3zM124.1 538.3l0-6.3 0 6.3zM200.1 536.3l-.2-4.2 .2 4.2zM227 533.3l-.1-1.4 0 2.2 .1-.8zM242.9 539.3l-.1-5.7 .1 5.7zM195 539.3l-.1-4.5 .1 4.5zM203 547.2l.2-8.9-1.3-3.5-.3 9.5 .3 2.5 1 1.2 .1-.8zM226 552.2l-.1-16.9-.6 13.9 .7 3zM279 538.3l-.2-4 0 4.8 .2-.8zM249.9 537.3l-.1-1.7 .1 1.7zM261.1 543.3l-.3-7.9-.6 6.9 .6 1.8 .3-.8zM231 541.3l-.1-4.2 0 4.8 .1-.6zM256.3 576.2l.9-3 .5-11 1.6-11-2.5-14.6-1.6 33.6-1.1 3 1.7 3.6 .5-.6zM94.3 542.3l-.2-4.5 0 5.1 .2-.6zM106.1 543.3l0-5.3 0 5.3zM121.2 545.3l-.1-7.3-.5 4.3 .6 3zM155.2 550.2l-.2-12.4-.4 11.4 .6 1zM181.2 544.3l-.3-5.7 0 6.5 .3-.8zM133.1 541.3l-.1-1.1 .1 1.1zM136.2 541.3l-.2-1.7 0 2.3 .2-.6zM167.2 545.3l-.2-5.6 0 6.5 .2-.9zM276 545.3l-.2-5.4 0 6 .2-.6zM178 546.2l0-5.2 0 5.2zM78.3 563.2l1.3-17-.5-1.9-1 4.6-.7-.7-.3-6.2-.3 4.2 1.2 3-.3 12 .6 2zM98.1 543.3l0-1.3 0 1.3zM143.1 555.2l-.1-13.6-.6 6.6 .6 7.9 .1-.9zM254 549.2l-.2-7.2-.5 5.2 .5 2.6 .2-.6zM65.4 548.2l-.2-5.9 0 6.9 .2-1zM101.1 550.2l.7-4-.7-2.1 0 6.1zM285 550.2l-.3-6.1 0 7.1 .3-1zM292.8 552.2l-.1-8.5-.6 6.5 .7 2zM188.3 560.2l1.5-11-.9-4.2-1.4 9.2 .4 6.7 .4-.7zM58.6 557.2l.6-11.8-1.5 8.8 .5 3.8 .4-.8zM74.4 547.2l-.2-1.3 0 2.2 .2-.9zM99.3 549.2l-.2-3.1 0 3.8 .2-.7zM301.9 547.2l-.2 .6 .2-.6zM56.4 549.2l-.2-1.9 0 2.9 .2-1zM141.2 549.2l-.2-1.7 .2 1.7zM308.9 553.2l-.2-5.3-.4 3.3 .6 2zM124.3 555.2l-.2-6.9 0 7.6 .2-.7zM120.1 554.2l0-4.1 0 4.1zM91.2 555.2l-.1-4-.5 3 .6 1zM140.2 556.2l.5-3-.7-2.2 0 6 .2-.8zM175 552.2l0-1.2 0 2 0-.8zM183 552.2l-.1-1.1 .1 1.1zM105.2 557.2l-.1-5.7 .1 5.7zM241 556.2l-.2-4.2 .2 4.2zM112.7 567.2l.3-7-.9-7.2 0 15.2 .6-1zM129.1 559.2l-.1-6.8 .1 6.8zM237.2 560.2l-.4-7.2-.6 5.2 .6 3 .4-1zM288.8 561.2l-.1-8.9-.6 4.9 .7 4zM81.4 559.2l-.3-5.1 0 5.8 .3-.7zM88.2 556.2l-.1-2.2 .1 2.2zM107.3 558.2l-.2-4.7-.6 3.7 .6 1.9 .2-.9zM252.8 560.2l0-6 0 6zM60.6 561.2l-.4-6.5-.7 3.5 .7 4 .4-1zM195.1 556.2l-.2-1.1 0 1.9 .2-.8zM264.9 556.2l-.1-1.6 .1 1.6zM150.1 560.2l-.1-4.8 .1 4.8zM143.1 557.2l-.1-.8 .1 .8zM218 559.2l-.1-2.5 0 3.4 .1-.9zM234.9 560.2l-.1-3.7 .1 3.7zM212.1 562.2l-.2-4.2 0 4.9 .2-.7zM161.3 565.2l-.3-6.8-.9 2.8 .9 4.9 .3-.9zM206.5 573.2l1.3-7-.9-6.7-1.6 6.7 .6 7.8 .6-.8zM169.1 562.2l-.1-1.8 .1 1.8zM192.5 567.2l-.6-5.7-1 5.7 1 .9 .6-.9zM221 563.2l-.1-1.8 .1 1.8zM272 569.2l.5-3-.7-3.7-.7 3.7 .9 3zM299 566.2l-.3-3.7-.4 2.7 .7 1zM86.6 567.2l-.5-3.9 0 4.8 .5-.9zM238.2 572.2l.5-2-.9-6.6-.8 6.6 1.2 2zM152.3 575.2l1.4-6-.7-3.8-1.6 3.8 .6 6.6 .3-.6zM200.2 567.2l-.3-1.3 0 2.3 .3-1zM224.9 580.2l1.4-3 .2-5-.6-6-1-.2-.6 4.2 .6 10zM283.8 567.2l0-1.2 0 1.2zM56.3 571.2l-.1-4.5 .1 4.5zM95.3 569.2l-.2-1.4 0 2.3 .2-.9zM167.3 571.2l-.3-3.4 0 4.3 .3-.9zM289 573.2l-.3-5.5-.7 4.5 .7 1.9 .3-.9zM269 570.2l-.2-1.1 0 1.7 .2-.6zM121.5 572.2l-.4-2.6 0 3.5 .4-.9zM172.1 574.2l-.1-4.3-.5 2.3 .6 2zM71.5 573.2l-.3-3 0 3.7 .3-.7zM138.5 572.2l-.5-1.5 0 2.5 .5-1zM287.1 575.2l.4-3-.8-1.8-.4 3.8 .8 1zM66.3 573.2l-.1-1.9 .1 1.9zM179.8 578.2l.5-1-1.3-5.3-.7 5.3 .7 1.5 .8-.5zM265.9 572.2l-.1-.8 0 1.6 .1-.8zM126.5 576.2l.9-2-1.3-1.9-1.1 .9-.2 2 1.3 1.5 .4-.5zM277.2 582.2l.9-2-.2-6-.1-1.1-1-.2-1.4 2.3-.8 5 1.2 2.5 1.4-.5zM88.1 579.2l1.3-1-.3-4-2.2 3 1.2 2zM103.2 576.2l-1.1-2.2-1.6 1.2 1.6 2 1.1-1zM130.2 576.2l-.2-2.7-.6 1.7 .8 1zM57.5 579.2l.8-1-.2-2-.9-1.3-3-.5 0 4.1 1 1 2.3-.3zM211.9 577.2l0-3 0 3zM230.1 580.2l.6-2-.8-3.3-1.5 3.3 .5 1.8 1.2 .2zM264.2 580.2l1.9-2-.3-2.6-1-.8-2.2 2.4 .2 2 1.4 1zM117.3 578.2l-.2-2.6-.6 1.6 .6 1.6 .2-.6zM208.1 588.2l.3-3 2.4-3 .5-2-2.4-4.4-1.8 3.4 .3 8 .7 1zM298.1 580.2l-.4-3.8-2-.5 0 1.7 1-.2 1 3.6 .4-.8zM72.3 582.2l1.6-4-1.7-1.6-.8 2.6 .9 3zM145.3 578.2l-.3-1.6 0 2.4 .3-.8zM94.3 579.2l-.2-1.4 .2 1.4zM151.2 582.2l.5-2-.7-2.5-.5 3.5 .7 1zM169 580.2l.9-2-1.9-.8-.7 1.8 1.7 1zM135.3 583.2l.6-1-.9-2.6-.5 2.6 .8 1zM155.5 580.2l-.5-1-1.1 1 1.1 .9 .5-.9zM191.1 582.2l.8-1-1-1-.9 1 1.1 1zM248.3 585.2l.6-2-1.1-4-2.2 3-.2 2 1.4 1.5 1.5-.5zM106.2 585.2l1.1-1-.2-2.4-1 1.4 .1 2zM237 583.2l-.2-.9 .2 .9zM83.6 585.2l-.5-1.7-.6 1.7 .6 .9 .5-.9zM251 585.2l-.2-1.2 .2 1.2zM260.9 585.2l-.1-1.9 .1 1.9zM287.5 585.2l-.8-1.7-.8 .7-.2 1 1 1 .8-1zM220.1 588.2l-.1-2-1.1-1.3-2-.1 0 2.7 2 1.5 1.2-.8zM109.2 587.2l-.1-2-.7 1 .8 1zM145.1 590.2l1.3-2-1.4-2.7-.9 3.7 1 1zM162.2 587.2l-.2-1.2 .2 1.2zM269.2 586.2l-.4-.9 0 1.6 .4-.7zM257.9 591.2l.2-3-1.3-1-1.5 2 2.5 2.9 .1-.9zM305 590.2l-1.3-3.2 .6 3.2 .4 .6 .3-.6zM183.4 591.2l.5-2-1-1-1 .3 0 2.7 1.5 0zM233.6 593.2l2.3-2-1.1-1.7-1.3 .7-1 3 .3 .6 .8-.6zM277.6 596.2l.7-3-2.5-2.6-.7 4.6 .7 1.1 1.8-.1zM130.2 596.2l1.1-1 .1-2-1.4-1.8-1 .1-.9 2.7 .9 1.8 1.2 .2zM195.4 594.2l0-2-1.9 0 .2 2 1.7 0zM292.6 597.2l.6-2-1.5-3.8-1.6 4.8 1.6 1.5 .9-.5zM257.9 593.2l-.1-1 .1 1zM52.7 596.2l-.5-2-1 .2 0 2.4 1.5-.6zM77.3 596.2l-.2-1.8-1-.6-.8 2.4 .8 .8 1.2-.8zM164.3 595.2l-1.3-1.3-.6 1.3 .6 .7 1.3-.7zM112.4 598.2l.5-1-.8-1.6-2 .4 .1 2.2 .9 .5 1.3-.5zM248.3 596.2l-.8 0 .8 0zM305.7 599.2l.6-2-1.6-1.8-1 2.8 1 1.1 1-.1zM153.3 603.2l.8-3-2.1-2.7-1.4 3.7 1.4 2.4 1.3-.4zM212.6 602.2l-.7-4.2-1.5 4.2 1.5 .9 .7-.9zM88.8 601.2l.6-2-1.3-1-2.4 1 .4 2.2 2.7-.2zM101.7 601.2l.6-2-1.2-1-1 .4-.7 1.6 .7 1 1.6 0zM122.3 604.2l-.2-1.5-1-.6-1 .5 0 1.8 1 .7 1.2-.9zM65.7 605.2l.6-1-1.1-1.4-1.4 1.4 .5 1 1.4 0zM141.7 604.2l-.7-2-1 .2-.6 1.8 .6 .7 1.7-.7zM175.7 606.2l.3-1.2-1.3-.8-.7 1.2 1 1.1 .7-.3zM198.4 607.1l1.2-1.9-1.7-1.7-1 .9-.2 1.8 1.7 .9zM187.7 609.1l.6-2-1.4-1.2-1.4 2.2 1.4 1.4 .8-.4zM282.7 608.1l.6-1.9-1.5-.9-1 .5 0 2.2 1.9 .1zM52.8 612.1l-.2-2-2 0-.1 2 .7 .6 1.6-.6zM239.2 611.1l-.4-1.4-1.6 .4 .6 1.7 1.4-.7zM296 613.1l1.4-2-1.7-1.5-1.3 1.5 1.6 2zM101.5 614.1l1-2-1.4-1.4-1 .2-.9 2.2 .9 1.2 1.4-.2zM75.5 613.1l-.4-1.5-.9 .3 0 1.5 1.3-.3zM165.4 613.1l-.4-1.2 .4 1.2zM308.9 615.1l.4-2-1.6-1.3-1 .5-.5 1.8 1.5 1.7 1.2-.7zM88.4 615.1l-.3-1.5-1-.3-.9 .8 .9 1.7 1.3-.7zM123.4 617.1l.1-2-1.4-.8-1.1 .8 .1 2 1 .8 1.3-.8zM145.6 619.1l.4-2.4-1-1.2-1 .1-.7 2.5 .7 1.2 1.6-.2zM209.3 617.1l-.9-1-.3 1 1.2 0zM195.8 620.1l.4-2-2.3-.8-.9 1.8 .5 1 2.3 0zM64.8 623.1l-.3-2-1.3-.3-.4 2.3 2 0zM272.9 625.1l.8-1-.5-2-2.4-.2-.7 2.2 1.7 1.4 1.1-.4zM288.5 623.1l-1-1-.2 1 1.2 0zM222.3 626.1l.4-1-.8-1.6-2.8 .6 .8 2.6 2.4-.6zM79 626.1l.1-1.4-1-.1 0 1.5 .9 0zM107.5 630.1l.5-1-.9-1.7-2-.2-1 .9 1 2.5 2.4-.5zM170.7 629.1l.7-1-.4-1.2-2-.6-1.2 .8 .4 2 2.5 0zM184.6 632.1l.6-2-1.3-.7-1.2 1.7 1.9 1zM129.5 633.1l.1-2-1.6-.2 0 2.2 1.5 0zM205.4 633.1l.4-1-.9-.6-.8 .6 .3 1 1 0zM158.8 635.1l-.8-2.7-2.5 .7 .5 2.6 2 .2 .8-.8zM238.6 635.1l-.8-.7-.2 .7 1 0zM290.4 637.1l-.7-1.3-.5 .3-.4 1 .9 .6 .7-.6zM59.8 642.1l.6-2-2.2-1.2-1.1 2.2 1.1 1.2 1.6-.2zM275.8 640.1l0-1.4-1.9 .4 .5 1 1.4 0zM77.9 644.1l.2-2.6-2-1.1-1.3 1.7 .3 2 1 .8 1.8-.8zM116.4 643.1l1.4-1-.1-1-1.6-1-1.2 2 1.5 1zM219.4 646.1l.9-2-2.4-1-1 2 1 1.1 1.5-.1zM177.6 645.1l.3-1-.9-.9-2.1 .9 1.1 1.5 1.6-.5zM199.9 647.1l.4-2-1.4-1.1-2-.1-1.7 1.2 .4 2 1.3 .7 3-.7zM147.2 651.1l.9-2-1.1-1.3-3-.3-1.5 1.6 1.5 2.3 3.2-.3zM300.3 652.1l.3-1-.9-.8-1.6 .8 .6 1.2 1.6-.2zM237.6 655.1l1.1-2-.9-1.5-2-.5-1.6 1-.2 2 .8 1 2.8 0zM268.1 656.1l.1-1-1.4-1.4-1.9 1.4 .9 1.7 2.3-.7zM169.9 660.1l.7-2-.8-2-1.8-.8-1.8 .8-1 2 .8 2 2 .9 1.9-.9zM74.5 661.1l0-1-1 0 .1 1 .9 0zM192.3 663.1l-.4-2.7-2-.2-1.1 .9 .1 2 1 .7 2.4-.7zM209.3 661.1l0-1-.9 0 0 1 .9 0zM97.1 663.1l.1-2-1.1-.8-2.3 .8 .3 2.1 2 .6 1-.7zM115.5 663.1l-1.4-1.4-1.3 1.4 1.3 .9 1.4-.9zM134.2 663.1l1.1-1-1.3-1-1.9 1 2.1 1zM252.4 665.1l.1-1-1.7-1.4-2.3 1.4 1.3 1.8 2.6-.8zM281.2 668l-.9-1.9-2.2 1 .7 1.4 2.4-.5zM178.4 678l1-2-2.4-2.7-3 0-2 1.7 .1 2 1.9 1.7 2 .3 2.4-1zM150 687l-.3-1-1.8 0 .1 1.2 2-.2zM90.6 690l.5-2-2-1.3-2 0-1.7 1.3-.1 1 1.8 1.6 3.5-.6zM306.5 694l1.6-2-2.4-2.8-4-.5-3.6 2.3 .1 2 2.5 1.7 3 .2 2.8-.9zM78.5 708l1.7-2-1.1-1.3-3-1.1-4.9 0-3.9 2.4 .9 1.5 3 1.2 7.3-.7zM195.8 707l2.5-2-2.4-1.8-4 0-2.8 1.8 .2 1 1.6 1 4.9 0zM124.4 708l-1.3-2.5-2.3 .5 .1 2 1.2 .8 2.3-.8zM169.4 712l1.4-1-1.8-1.5-4 .2-1.6 1.3 2.6 1.3 3.4-.3zM124.3 728.9l1.9-1.9-1.1-1.3-3-1.1-6 .3-2.7 2.1 1.7 1.7 3 1 6.2-.8zM91.4 732.9l2.9-1 .6-2-2.8-1.4-5-.2-3 .8-1.5 1.8 2.5 1.8 6.3 .2zM58.8 737.9l3.2-1 .8-1-.6-1-6-1.3-4 .9-1.2 1.4 2.2 1.7 5.6 .3zM137.3 753.9l-3.3-1.1-3.3 1.1 3.3 .6 3.3-.6zM173.4 754.9l-1.5 0 1.5 0zM277.1 756.9l.4-1-1.7-.6-5.3 .6 .5 1 1.8 .4 4.3-.4z"/><path fill-rule="evenodd" fill="#6e6e6e" d="M309.7 757.9l-32.2 0 2.3-1 .1-1-6.1-1.4-5.8 1.4 .2 1 2.4 1-213.9 0-2.5-1.1-5-.3 0-65.2 5-.2 1.4-1.1 .5-2-.9-1.6-2-1.2-4 .1 0-26.4 3-1.1 1-2.7-1.2-2-2.8-1 0-22.2 2.2-1.8-.7-2-1.5-.7 0-54.2 1-2-1-1.3 0-51.6 11.4 0 .6 5.2 1 .1 .6-5.3 41.8 0 .5 9.1 1-9.1 4.3 0 .7 4.8 1-4.8 4.2 0-.1 15-1.1 12-1.6 5.9-.4 9.4-1-6-.6 2.6 .6 13.4 1-3.7 1 3.1 1.3-2.8 2.2-19.9 .5-25.9 1 9 .3-12.1 9.2 0 .4 11.1 1-1.6-.1-9.5 1.3 0 1.8 12.8 .6-12.8 24.8 0 .6 11.8 .7-11.8 14.8 0 .5 7.4 .5-7.4 9 0 .4 5.2 .5-5.2 10 0 .5 9.3 .4-9.3 7.3 0-.4 14 .7 2.9 1 .2 .6-8.1-1.3-9 12.7 0 0 12.4-1-4.1-.7 4.7 .3 15 1.4 6.9 1.4-15.9 .2-19 1.4 .7 .3-.7 1.6 0 .1 13.5 .6-4.5-.6-9 1.4 0 .6 15.6 1.4-5.6 .2-10 14.7 0 .6 17.5 .7-17.5 17 0 .3 16.7 .6-16.7 16.8 0 .6 4.9 .4-4.9 2.1 0 .5 5.2 .5-5.2 2.8 0 .5 14 1.1 5.1 .7-19.1 6.1 0-1.3 13 .5 7.6 1.7-11.6-.5-9 5.4 0 .4 4.2 .4-4.2 9.5 0 .1 8.2 .1-8.2 1.9 0 0 63.9-1-3.4-1.6 4.4 .6 2 1 .4 1-.8 0 43.4-2 .1-1.9 1.8 1.1 2 2.8 .4 0 35.7-3 .2-2.3 2.6 1.3 2.9 4 .8 0 47.3-6 .5-3.1 2.5 .8 2 2.3 1.2 6 .5 0 31.2zM84.3 557.2l1.9-20.9-1.1-18.1-.6 23.1-1.9 7.9 .1 6 .4 1.7 1.2 .3zM172 551.2l1.1-3 .4-5.9-1.5-24.5-1.2 10.5 1.2 22.9zM182 523.3l-.1-5.9 .1 5.9zM299.8 525.3l-.1-7.4 .1 7.4zM303.9 522.3l-.2-4.2 0 5 .2-.8zM83.4 529.3l.4-6-.7-4.6-.4 7.6 .4 3.5 .3-.5zM88.2 527.3l-.1-8-.4 6 .5 2zM214.2 524.3l-.3-4.4 0 5.1 .3-.7zM251.8 531.3l0-11.2 0 11.2zM50.4 525.3l-.2-3.7-.6 2.7 .6 1.7 .2-.7zM72.2 546.2l1.4-11.9-.4-2.6-1 2.4-1-12.1-1 .5-.5 6.8 2.5 16.9zM168.1 529.3l-.1-7.8-.6 4.8 .7 3zM247.9 530.3l-.1-8.3 .1 8.3zM128.2 546.2l.2-6.9-2.3-15.4-.4 11.4 2.3 11.5 .2-.6zM149.2 532.3l-.2-8.9 0 9.6 .2-.7zM297 546.2l.8-17.9-.2-4-.9-.9-.6 14.9 .6 8.9 .3-1zM63.3 529.3l-.1-4.2-.6 2.2 .7 2zM102.1 536.3l0-11.2-.6 7.2 .6 4zM145.2 527.3l-.2-2.2 .2 2.2zM76.2 526.3l-.1-.6 .1 .6zM80.3 532.3l-.2-6.5-.5 4.5 .7 2zM138.1 531.3l-.1-5.5 0 6.2 .1-.7zM180 529.3l-.1-3.7 .1 3.7zM188.4 560.2l1.4-9 .2-7.9 .9-.9 .6-4.1-1.6-12.9 0 17.9-1.2 2-1.3 8.9 .5 7 .5-1zM294.9 546.2l.5-12.9-.7-7.1-.8 4.1 .2 14 .8 1.9zM66.3 534.3l-.1-7.3-.6 4.3 .7 3zM208.1 531.3l-.2-4.2-.5 3.2 .7 1zM210 528.3l-.1-1.5 .1 1.5zM162.1 537.3l-.1-9.8 0 10.6 .1-.8zM92.3 532.3l-.2-3 0 3.8 .2-.8zM160 534.3l0-4.3 0 4.3zM266 536.3l-.2-6-.5 4 .7 2zM271.8 559.2l0-29.1-1.5 3.2-.3 4 .7 15.9 1.1 6zM122.1 535.3l0-4.1 0 4.1zM226.1 552.2l.8-21-1.3 4.1-.4 6 .7 11.9 .2-1zM52.3 538.3l-.1-6.7-.5 4.7 .6 2zM124.1 539.3l0-7.8-.7 3.8 .7 4zM200.2 536.3l-.3-4.5 0 5.1 .3-.6zM243 539.3l-.2-6.2-.5 4.2 .5 2.5 .2-.5zM194.9 540.3l0-6.1 0 6.1zM278.8 539.3l0-5.2 0 5.2zM203 548.2l.3-10.9-.4-2.3-1-.7-.4 10 .4 3.1 1.1 .8zM260.9 544.3l-.1-9.5-.7 7.5 .8 2zM250 537.3l-.2-2 0 2.8 .2-.8zM256.5 576.2l2.9-25-2.6-15-1.7 34-1.2 3 1.9 3.8 .7-.8zM106.3 543.3l-.2-6.2 0 6.9 .2-.7zM155.3 550.2l-.3-13 0 13.8 .3-.8zM231.1 541.3l-.2-4.4 0 5.3 .2-.9zM94.4 542.3l-.3-4.9 0 5.7 .3-.8zM121.3 545.3l-.2-7.8-.6 4.8 .6 3.9 .2-.9zM181 545.3l-.1-7.3 .1 7.3zM136.3 541.3l-.3-2.1 0 3 .3-.9zM138 540.3l0-1.5 0 1.5zM167.1 546.2l-.1-7-.6 4.1 .7 2.9zM133.2 541.3l-.2-1.8 0 2.6 .2-.8zM276.1 545.3l-.3-5.6 0 6.4 .3-.8zM305.8 541.3l-.1-1.3 0 2 .1-.7zM98.3 543.3l-.2-2 0 2.6 .2-.6zM143.2 557.2l-.2-16.1-.8 7.1 .8 10 .2-1zM178.1 546.2l-.1-5.9 0 6.7 .1-.8zM65.3 549.2l-.1-7.4-.5 5.4 .6 2zM78.4 563.2l1.3-17-.6-2.3-1 4.2-1-6.4-.4 4.5 1 4 .4 13.7 .3-.7zM253.8 550.2l.6-4-.6-4.5-.6 5.5 .6 3zM293 552.2l-.3-9.2-.7 7.2 .7 2.9 .3-.9zM101.3 550.2l.5-4-.7-2.5-.5 4.5 .7 2zM284.8 551.2l-.1-7.9 .1 7.9zM60.4 562.2l.4-4-.6-4.2-.9-.8-.1-8.2-1.6 10.2 .6 3.3 1-5 .3 6.7 .9 2zM74.2 548.2l0-2.6 0 2.6zM99.4 549.2l-.3-3.4-.6 2.4 .6 1.9 .3-.9zM56.3 550.2l-.1-3.2 .1 3.2zM140.1 557.2l.5-6 1.2-3-.8-1.4 0 3.4-1 .4-.5 2.6 .6 4zM302 547.2l-.3-.6 0 1.5 .3-.9zM124.4 555.2l-.3-7.6 0 8.6 .3-1zM309 553.2l-.3-5.6 0 6.4 .3-.8zM120.3 554.2l-.2-4.7 0 5.6 .2-.9zM91.3 555.2l-.2-4.2-.5 3.2 .5 1.8 .2-.8zM105.3 557.2l-.2-6.1-.4 4.1 .6 2zM175 553.2l0-2.7 0 2.7zM183.1 552.2l-.2-1.3 .2 1.3zM288.7 563.2l0-12-.7 6 .7 6zM129.2 559.2l-.2-7.2-.5 5.2 .7 2zM241.1 556.2l-.3-4.5 0 5.1 .3-.6zM107.1 559.2l0-6.1-.6 4.1 .6 2zM164 555.2l0-2.1 0 2.1zM237.2 561.2l-.4-8.6-.7 6.6 .7 2.6 .4-.6zM81.5 559.2l-.4-5.4-.5 3.4 .5 3 .4-1zM88.2 557.2l-.1-3.9 .1 3.9zM253 560.2l-.2-6.6-.5 4.6 .7 2zM150.2 560.2l-.2-5.5 0 6.4 .2-.9zM195 557.2l-.1-2.6 .1 2.6zM209.9 557.2l0-2.5 0 2.5zM265 556.2l-.2-1.9 0 2.9 .2-1zM217.9 560.2l0-4.1 0 4.1zM235.2 560.2l-.4-4.1 0 4.6 .4-.5zM161.1 566.2l-.1-8.3-1.2 2.3 1.3 6zM211.9 563.2l0-5.6 0 5.6zM206.2 574.2l1.7-8-1-7-1.7 7 .1 6 .9 2zM169.2 562.2l-.2-2.3 0 3.3 .2-1zM277.8 561.2l0-1.1 0 1.9 0-.8zM250.9 562.2l-.1-1.5 .1 1.5zM64.2 564.2l0-2.4 0 2.4zM89.3 563.2l-.2-1.2 .2 1.2zM192 568.2l.9-2-1-5-1.3 5 .3 2.3 1.1-.3zM221.1 563.2l-.2-2 0 2.6 .2-.6zM272.1 569.2l.5-3-.8-4.5-.8 5.5 .8 2.6 .3-.6zM86.4 568.2l.5-3-.8-2.6-.4 3.6 .7 2zM238.4 572.2l.5-2-1.1-7.4-.8 8.4 .8 1.7 .6-.7zM299.1 566.2l-.4-3.9-.5 2.9 .5 1.7 .4-.7zM151.4 582.2l0-5 1.7-3 .9-10.1-2 2-.5 2.1 .1 8-1.2 4 .6 2.6 .4-.6zM200 568.2l-.1-2.5-.5 1.5 .6 1zM224.9 581.2l1.5-4 .2-5-.6-6-1.1-.7-.7 3.7 .7 12zM283.9 567.2l-.1-1.5 .1 1.5zM288.8 574.2l-.1-8.8-.8 6.8 .9 2zM56.2 572.2l.6-3-.6-2.9-.6 2.9 .6 3zM95.2 570.2l-.1-2.7 .1 2.7zM167.1 572.2l-.1-4.8-.6 2.8 .7 2zM268.8 571.2l0-2.5 0 2.5zM71.6 573.2l-.4-3.2 0 4.2 .4-1zM89 579.2l1.1-9-1 1.1-.2 2.9-2.2 3 1.4 2.3 .9-.3zM121.1 573.2l0-3.9 0 3.9zM172.2 574.2l-.2-4.6-.6 3.6 .6 1.6 .2-.6zM287.3 575.2l.3-3-.9-2.2-.5 4.2 .5 1.7 .6-.7zM66.5 573.2l-.3-2.4 0 3.2 .3-.8zM138.1 573.2l-.1-2.8 .1 2.8zM265.9 573.2l-.1-2.2 0 2.8 .1-.6zM126.7 576.2l.9-2-1.5-2.2-1.2 1.2-.2 2 1.4 1.7 .6-.7zM180.2 578.2l-1.2-6.5-.8 5.5 .8 1.8 1.2-.8zM145.2 574.2l-.2-1.5 0 2.1 .2-.6zM277.4 582.2l.8-2-.2-6-.2-1.8-1-.1-1.5 2.9-.8 5 1.3 2.7 1.6-.7zM57.7 579.2l.7-1-.2-2.2-2-2.1-2 .1 0 4.9 1 .9 2.5-.6zM102.8 577.2l.5-2-1.2-1.4-1.8 1.4 .1 1 2.4 1zM130.3 576.2l-.3-2.9-.7 1.9 .7 1.5 .3-.5zM212 577.2l-.1-3.3-.5 2.3 .5 1.5 .1-.5zM230.3 580.2l.6-2-1-3.6-1.7 3.6 .7 2.1 1.4-.1zM264.8 580.2l1.5-3-.5-2.2-1-.5-2 1.6-.3 2.1 1.3 2.5 1-.5zM117.4 578.2l-.3-2.9-.6 1.9 .6 1.8 .3-.8zM145 579.2l0-3.3 0 3.3zM208.2 588.2l.4-3 2.3-2.9 .6-2.1-2.6-4.7-1.9 3.7 .9 9.7 .3-.7zM298.2 580.2l-.5-4.2-2-.4 0 2.3 1 0 1 3.3 .5-1zM72.4 582.2l1.6-4-1.8-1.9-.9 2.9 1.1 3zM169.6 580.2l.6-2-2.2-1-.9 2 .9 1 1.6 0zM94.5 579.2l-.4-1.8 0 2.6 .4-.8zM98.3 579.2l-.2-.7 0 1.3 .2-.6zM155.2 581.2l0-2-1.2 0-.4 1 1.6 1zM248.6 585.2l.5-2-1.3-4.2-2.3 3.2-.2 2 1.5 1.7 1.8-.7zM135.7 583.2l.5-1-1.2-2.7-.6 2.7 .6 1.5 .7-.5zM165.1 580.2l-.1 .5 .1-.5zM191.5 582.2l.6-1-1.2-1.3-1 .7 0 1.4 1.6 .2zM106.2 589.2l1.4-6-.5-1.8-1.4 2.8-.4 4 .9 1zM237.2 583.2l-.4-1.4 0 1.9 .4-.5zM81.5 583.2l-.4-.7 0 1.2 .4-.5zM83.1 586.2l0-2.9-.7 1.9 .7 1zM251.1 585.2l-.3-1.5-.4 1.5 .4 .6 .3-.6zM261 585.2l-.2-2-.5 1 .7 1zM287 586.2l.6-2-.9-1-1.2 2 1.5 1zM109.4 587.2l-.3-2.2-.8 1.2 .8 1.6 .3-.6zM121.5 585.2l-.8 0 .8 0zM219 589.2l1.2-1-.1-2-1.2-1.5-2-.4-.4 2.9 2.5 2zM269.3 586.2l-.5-1.1 0 1.9 .5-.8zM123.2 587.2l-.1-1.1 .1 1.1zM145.3 590.2l1.1-3-1.4-1.9-1.1 3.9 1.4 1zM162.3 587.2l-.3-1.6 0 2.3 .3-.7zM170 587.2l0-1.6 0 1.6zM60.4 587.2l-.2 .5 .2-.5zM258 593.2l.3-5-1.5-1.3-1.6 2.3 2.8 4zM305.1 590.2l-1.4-3.7 .4 3.7 .6 .8 .4-.8zM183.6 591.2l.4-2-1.1-1.1-1 .2-.6 .9 .4 2 1.2 .6 .7-.6zM233.7 593.2l2.4-2-1.3-1.9-2 1.9-.4 2 .4 .7 .9-.7zM277.8 596.2l.7-3-2.7-2.8-.9 4.8 .9 1.4 2-.4zM130.6 596.2l.9-1 .1-2-1.6-2-1 0-.9 2 .1 2 .8 1 1.6 0zM195.9 594.2l-.1-2-2.5 0 .1 2 2.5 0zM293 597.2l.4-2-1.7-4-1.8 5 1.8 1.7 1.3-.7zM51.3 597.2l1.5-1-.6-2.3-1.7 1.3 .8 2zM77.5 596.2l-.3-2-1.1-.6-1 2.6 1 .9 1.4-.9zM160.3 594.2l-.3-.9 0 1.3 .3-.4zM163.8 596.2l.5-2-1.3-.6-.9 1.6 1.7 1zM305.9 599.2l.6-2-1.8-2.1-1 1.1-.2 2 1.2 1.4 1.2-.4zM112.7 598.2l.2-2-1.8-1-1 .5 0 2.7 1 .5 1.6-.7zM248.7 596.2l-.9-.9-.6 .9 .6 .8 .9-.8zM153.5 603.2l.8-3-2.3-3.2-1.5 3.2 .2 2 1.3 1.6 1.5-.6zM89.1 601.2l.5-2-1.3-1-2.8 1 .6 2.4 3-.4zM102.1 601.2l.5-2-1.5-1.3-1 .5-.9 1.8 .6 1 2.3 0zM212 603.2l.9-2-1-3.4-1.7 3.4 .7 1.9 1.1 .1zM121.7 605.2l.9-2-1.5-1.4-1 .3-.5 2.1 2.1 1zM141 605.2l.9-2-.9-1.2-1 .1-.8 2.1 1.8 1zM66 605.2l.2-2-1-.6-1.2 .6 0 2 2 0zM176.2 606.2l-.5-2-1.7 .1 0 1.9 1 .6 1.2-.6zM199 607.1l.8-1.9-1.9-1.9-1.1 .9-.3 2 1.4 1.3 1.1-.4zM283 608.1l.5-1.9-1.3-1-1.4 .3-.7 1.6 .5 1 2.4 0zM188 609.1l-.1-2.9-2-.1-.6 1 .5 2 1.1 .6 1.1-.6zM222.9 609.1l0-1.2-.8 .2 .8 1zM53 612.1l-.8-2.5-1.9 .5-.1 2 1 .8 1.8-.8zM239.5 611.1l-.7-1.8-1.9 .8 .9 2 1.7-1zM296.8 613.1l.7-2-1.8-1.7-1 .7-.3 2 1.3 1.3 1.1-.3zM101.8 614.1l.9-2-.6-1-2-.4-1.1 2.4 1.1 1.4 1.7-.4zM75.7 613.1l-.6-1.9-.9 .4 0 2.1 1.5-.6zM166.1 613.1l-.1-1.2-1-.3-.3 1.5 1.4 0zM309.1 615.1l-.2-3-2.2-.1-.7 2.1 .7 1.5 1 .4 1.4-.9zM88.7 615.1l-.6-1.9-1-.2-1.1 1.1 1.1 2 1.6-1zM122.1 618.1l1-.2 .7-1.8-.7-1.8-1-.2-1.5 2 1.5 2zM145.9 619.1l.1-2.8-2-1-.9 2.8 .9 1.4 1.9-.4zM209.6 617.1l-.7-1.3-1.1 .3 .1 1.3 1.7-.3zM196.1 620.1l.4-2-1-1-1.6 0-.9 1 .3 2 1.6 .7 1.2-.7zM65.2 623.1l0-1.5-1-1.1-1.7 .6 .7 2.7 2-.7zM273.2 625.1l.6-1-.4-2-2.6-.5-1 1.5 .7 2 1.3 .6 1.4-.6zM289 623.1l-.3-1.2-1.6 .2 .6 1.5 1.3-.5zM222.5 626.1l.2-2-.8-.8-2 0-1 .8-.3 1 1.3 1.8 2.6-.8zM79.4 626.1l-.3-1.8-1 0 0 2.2 1.3-.4zM171.1 629.1l.5-1-.6-1.5-2-.5-1.5 1 .5 2.1 3.1-.1zM107.7 630.1l.3-2-.9-.9-2-.2-1.2 1.1 1.2 2.7 2.6-.7zM185.1 632.1l.5-1-.7-1.6-2 .1 0 2.5 2.2 0zM129.9 633.1l.1-2-2-.6-.2 2.6 1.2 .6 .9-.6zM158 636.1l1-1 0-2-1-.9-2 .1-.8 2.8 .8 .9 2 .1zM205.8 633.1l.2-1-1.1-.9-1.1 .9 1.1 1.5 .9-.5zM239.2 635.1l-.3-1-1.1-.2-.6 1.2 2 0zM143.7 635.1l-.7-.6-.6 .6 .6 .6 .7-.6zM290.6 637.1l-.9-1.5-1.1 .5-.1 1 1.2 .9 .9-.9zM60.2 642.1l0-2.8-1-.7-1.8 .5-.6 2 .6 1 1.8 .6 1-.6zM276.1 640.1l-.3-1.7-2.2 .7 1.2 1.4 1.3-.4zM117.3 643.1l.7-2-.9-1-2 .4 0 2.3 2.2 .3zM76.7 645.1l1.5-1 .4-2-1.5-1.9-1 0-1.5 2.9 .5 1.4 1.6 .6zM177.9 645.1l.2-1-1.1-1.1-2.3 1.1 1.3 1.7 1.9-.7zM220 646.1l.7-1-.8-1.9-2-.4-1 .9 .4 2.4 2.7 0zM200.2 647.1l.3-2-1.6-1.3-2 0-1.9 1.3 .3 2 1.6 .9 3.3-.9zM147.6 651.1l.8-2-1.4-1.6-3-.2-1.8 1.8 1.8 2.5 3.6-.5zM300.8 652.1l.2-1-1.3-1.2-1.9 1.2 .9 1.5 2.1-.5zM238.1 655.1l.8-2-1.1-1.7-2-.5-1.9 1.2-.2 2 1.1 1.2 3.3-.2zM267.2 657.1l1.2-2-.6-1.1-2-.3-1.2 2.4 2.6 1zM169 661.1l1.7-2 0-2-1.7-1.9-2 .1-1.7 1.8-.2 2 1.9 2 2 0zM75.1 661.1l-.9-1.5-1.3 .5 .3 1.2 1.9-.2zM97.4 663.1l0-2-1.3-1-2.5 1 .5 2.4 2 .5 1.3-.9zM192.6 663.1l.2-2-.9-1-2-.2-1.4 1.2 .1 2 1.3 .9 2.7-.9zM209.7 661.1l-.8-1.6-1 .6 1 1.6 .8-.6zM134.9 663.1l.7-1-1.6-1.2-2.2 1.2 1.2 1.2 1.9-.2zM115 664.1l.6-2-1.5-.7-1.4 .7 .4 1.8 1.9 .2zM251.3 666.1l1.3-1-.5-2-1.3-.6-1.9 .6-.5 2 2.9 1zM280.1 669l1.5-1.9-1.8-1.5-1.9 1.5 .9 1.8 1.3 .1zM177.3 679l2.3-2-1-3-3.6-1.2-2.7 1.2-.9 2 .9 2 2.7 1.3 2.3-.3zM150.5 687l-1.5-1.5-1.5 .5 .5 1.5 2.5-.5zM216 687l.6-1-2.4 0 1.8 1zM88.3 691l2.7-1 .5-2-2.4-1.5-2 0-2 1.4-.1 1.1 1.1 1.5 2.2 .5zM305.6 695l2.1-1.1 1.2-1.9-2.7-3-5.5-.4-3.2 2.4 0 2 1.2 1.5 3 1 3.9-.5zM279.6 692l-.3-1-1.6 0 .1 1.1 1.8-.1zM77.5 709l2.7-1 1.5-2-3.6-2.6-7.9-.2-3 1.3-1.1 1.5 1.1 1.8 2 .9 8.3 .3zM196.4 707l2.3-2-2.8-2-5 .2-2.3 1.8 .1 1 2.2 1.2 5.5-.2zM124.2 709l.5-2-1.6-1.9-1.7-.1-1.2 1 .9 2.8 3.1 .2zM170 712l1.3-1-2.3-1.8-4 .1-2.2 1.7 2.2 1.4 5-.4zM121.4 729.9l4.7-1.6 .7-1.3-.7-1-6-1.8-4 .2-3.6 1.6 .6 2 2 1.2 6.3 .7zM92.6 732.9l3.2-2-.7-1.4-3-1.3-7 .1-2 .8-1.2 1.8 1.2 1.4 3 1 6.5-.4zM60.8 737.9l2.9-2-1.5-1.6-3-.9-6 .2-2.8 1.3-.4 1 1.2 1.4 3 1 6.6-.4zM96.6 753.9l1.8-1-2.3-.6-3.2 .6 3.7 1zM138.8 754.9l1.9-1-.9-1-3.8-.7-6 .2-2.7 1.5 4.7 1.5 6.8-.5zM176.2 755.9l1.4-1-2.6-1.4-5 0-2.9 1.4 4.9 1.6 4.2-.6zM218.3 756.9l-.7-1-1.7-.3-2.4 .3-.6 1 3 .6 2.4-.6z"/><path fill-rule="evenodd" fill="#7a7a7a" d="M309.7 757.9l-27.5 0 1-1-.2-1-1.8-1-7.4-1-7.9 1-1.2 1 1.3 2-43.9 0 1.2-1-.4-1.3-7-1.6-5 .5-3.4 1.4 1.8 2-149 0-4.1-2.1-7-.5 0-18.4 4 1.7 5 .3 4.4-1 2.2-2-1.9-2-4.7-1.1-6 .5-3 1.4 0-42.8 5-.2 2-1.7 .5-2-2.5-2.9-5-.5 0-25.2 3.4-1.3 1.1-3-1.5-2.4-3-.9 0-21.6 2.4-2.1-.7-2-1.7-.9 0-53.6 1.2-2.4-1.2-1.6 0-51.3 6 .6 5.4-.6 .6 6 1 .2 .7-6.2 22.2 0-.7 24-1.8 8.9 .2 7 1.3 2.2 2.2-22.1-1.1-20 19.3 0 .6 9.6 1.2-9.6 4 0 .8 5.4 1.3-5.4 3.8 0 0 14-3.1 26.8-1-4.8-.7 2.9 .7 13.8 1-2.3 1.3 1.5 1.1-3 2.2-19.9 .4-21.4 1 5.1 .5-12.7 8.9 0 .1 10 .4 1.8 1 .4 0-12.2 1 .3 2 13.5 .7-13.8 24.7 0 1.6 19.3-.2-19.3 12 0-1.2 12 1.4 23.7 1.1-2.8 .5-5.9-1.6-27 2.4 0 .6 7.8 .6-7.8 8.9 0 .4 5.6 .6-5.6 9.8 0 .6 9.8 .5-9.8 5.3 0 .2 1.2 1.3-1.2 0 17-1.3 .4-.5 4.6 .4 8.9 1.1 2.2 .4-15.1 1.6-.3 .8-3.7-1.2-14 12.2 0 .2 9.2-1-1.9-.7 7.7 .3 14 1.4 7.1 1.4-16.1 .3-20 .9 0 .4 1.3 .4-1.3 1.3 0 .3 14.2 .7-4.2-.4-10 1 0-.1 12 .8 4.3 1.4-4.3 .3-12 9.6 0 .6 1.6 .6-1.6 3.7 0 .7 18.1 .8-18.1 3 0 .2 .7 .1-.7 6.8 0 .1 15.4 .2-15.4 6.4 0 .4 17.6 .9-17.6 16.5 0 .6 5.4 .4-5.4 2 0 .6 5.6 .5-5.6 2.7 0 .5 14 1.2 6.9 .8-20.9 5.8 0-1.1 13 .5 8.1 1.7-11.1-.3-10 4.9 0-1 14 0 14 .7 3.4 1.5-31.4 9.3 0 .2 8.7 .2-8.7 1.8 0 0 63.5-1-3.6-1.8 5 .8 2.3 2-.3 0 42.8-3 .5-1.2 1.6 1.2 2.2 3 .5 0 34.8-4 .9-1.6 2.5 1.6 3.4 4 .6 0 18.3-3-2.7-4-.7-4 1.1-2.2 3 1.2 3.1 4 1.3 5-.7 3-2.2 0 25.9-7 .9-3 2.7 .7 2 2.3 1.5 7 .8 0 30.6zM182.1 523.3l-.2-6.6-.5 4.6 .5 2.7 .2-.7zM299.8 525.3l-.1-8.9-.6 5.9 .6 3.6 .1-.6zM303.8 523.3l-.1-6.4 .1 6.4zM83.6 529.3l-.5-11.6 0 12.6 .5-1zM254.8 520.3l0-2.8 0 2.8zM88.4 527.3l-.3-8.7-.5 6.7 .5 2.6 .3-.6zM214 525.3l.5-3-.6-3 .1 6zM50.2 526.3l0-5.7-.7 3.7 .7 2zM72.3 546.2l1.4-11.9-.5-2.9-1 2-1-12.4-1 .6-.5 7.7 2.6 16.9zM168.2 529.3l-.2-8.6-.7 5.6 .7 3.9 .2-.9zM247.9 531.3l-.1-10.4 .1 10.4zM149.1 533.3l-.1-10.7-.6 7.7 .7 3zM128.2 547.2l.3-7.9-2.4-15.9-.5 11.9 2.6 11.9zM63.4 529.3l-.2-5-.7 3 .7 2.9 .2-.9zM76.4 526.3l-.3-1.3 0 2.1 .3-.8zM102.1 537.3l0-12.7-.6 7.7 .6 5zM138 534.3l0-9.2 0 9.2zM145.2 527.3l-.2-2.5 0 3.2 .2-.7zM180.2 529.3l-.3-4.3 0 4.9 .3-.6zM188.1 561.2l3.5-22.9-1.7-13.4-.3 17.4-2.3 11.9 .8 7zM80.4 532.3l-.3-6.9-.5 4.9 .5 2.8 .3-.8zM295.1 546.2l.4-12.9-.8-8-1.1 4 1.1 17.9 .4-1zM66.4 534.3l-.2-7.8-.6 4.8 .6 3.9 .2-.9zM162.1 539.3l-.1-12.4-.6 4.4 .6 8.9 .1-.9zM208.2 531.3l-.3-4.6-.6 2.6 .6 2.7 .3-.7zM210.1 528.3l-.2-1.8 0 2.4 .2-.6zM92.2 533.3l-.1-4.4 .1 4.4zM121.2 546.2l1.4-11.9-.5-4.2-.4 6.2-1.2 4 .7 5.9zM266.1 536.3l-.3-6.5 0 7.1 .3-.6zM272.2 569.2l-.4-39.6-1.5 2.7-.3 5 1.6 22.9-.7 7 .9 2.8 .4-.8zM52.4 538.3l-.2-7.2-.6 4.2 .6 3.8 .2-.8zM124.1 540.3l0-9.4-.8 4.4 .8 5zM226 553.2l.9-22.6-1.2 2.7-.5 5 0 11.9 .8 3zM200.3 536.3l-.4-4.7 0 5.5 .4-.8zM243.2 539.3l-.4-6.7-.6 3.7 .6 4 .4-1zM195.1 540.3l-.2-6.8 0 7.5 .2-.7zM261 544.3l-.2-10.1-.8 8.1 .8 2.6 .2-.6zM278.9 539.3l-.1-5.6-.5 3.6 .6 2zM249.9 538.3l-.1-3.5 .1 3.5zM138.1 541.3l-.1-5.3 .1 5.3zM255.9 577.2l1.4-3 .5-11 1.8-12-2.8-15.5-1.8 34.5-1.3 3 2.2 4zM94.1 543.3l0-6.3 0 6.3zM106.2 544.3l-.1-8 .1 8zM155 551.2l.6-7.9-.6-6.8 0 14.7zM230.9 542.3l0-5.7-.6 3.7 .6 2zM181.1 545.3l-.2-8-.5 6 .7 2zM133.1 542.3l-.1-3.7 .1 3.7zM136.2 542.3l-.2-3.5 .2 3.5zM167.2 546.2l-.2-7.7-.7 3.8 .7 4.8 .2-.9zM178 547.2l0-7.6 0 7.6zM275.8 546.2l0-6.8-.5 4.9 .5 1.9zM305.9 542.3l-.2-3 0 3.8 .2-.8zM98.2 544.3l-.1-3.5 .1 3.5zM143.2 558.2l-.2-17.6-1 7.2-1-1.6-1.6 8 .6 3.6 2-8.6 1.2 9zM65.4 549.2l-.2-7.8-.6 5.8 .6 2.9 .2-.9zM78.1 564.2l1.6-18-.6-2.7-1 3.8-1-6-.4 4.9 1.4 18zM214 544.3l-.1-2.4 .1 2.4zM254 550.2l.5-5.9-.7-3-.7 5.9 .7 3.9 .2-.9zM284.9 551.2l-.2-9.2-.5 7.2 .5 2.6 .2-.6zM292.8 553.2l.6-6-.7-5-.8 8 .9 3zM185 545.3l-.1-2.1 .1 2.1zM101.5 550.2l.4-4.9-.8-2-.5 4.9 .5 2.7 .4-.7zM60.6 562.2l.3-4-1.7-13.5-1.6 11.5 .6 2.9 1-3.1 1 7 .4-.8zM74.2 548.2l0-2.8-.6 1.8 .6 1zM99.2 550.2l-.1-4.7-.6 2.7 .7 2zM56.5 550.2l-.3-3.5 0 4.3 .3-.8zM124.2 556.2l-.1-9.6-.6 6.6 .7 3zM301.8 548.2l-.1-1.8 .1 1.8zM308.7 554.2l.6-4-.6-3-.6 4 .6 3zM120.2 555.2l-.1-6.4 .1 6.4zM175.1 553.2l-.1-3.1 0 3.9 .1-.8zM289 574.2l-.3-24.7-.8 6.7-.2 17 .2 1 .8 .6 .3-.6zM91.4 555.2l-.3-4.5-.6 3.5 .6 2 .3-1zM105.5 557.2l-.4-6.5 0 7.3 .4-.8zM183.1 552.2l-.2-1.5 0 2.1 .2-.6zM129.3 559.2l-.3-7.7-.6 3.7 .6 4.8 .3-.8zM164 556.2l0-4.1 0 4.1zM241.1 556.2l-.3-4.9 0 5.7 .3-.8zM88.2 558.2l-.1-5.5 .1 5.5zM107.2 559.2l-.1-6.5-.7 4.5 .8 2zM238.7 572.2l-1.9-19.9-.8 6.9 1.2 4-.4 8 1 2 .9-1zM253.1 560.2l-.3-7.1-.5 5.1 .5 2.7 .3-.7zM81.3 560.2l.5-4-.7-2.7-.6 3.7 .8 3zM150.1 561.2l-.1-7.2-.7 3.2 .8 4zM195.1 557.2l-.2-3.1 0 3.7 .2-.6zM210 557.2l-.1-3.2 0 3.9 .1-.7zM264.9 557.2l-.1-3.4 .1 3.4zM218 560.2l-.1-4.9 0 5.6 .1-.7zM235.5 560.2l-.7-4.5 0 5.4 .7-.9zM212.1 563.2l-.2-6-.6 3 .6 3.6 .2-.6zM161.2 566.2l0-8-.2-.8-2 .2 1.3 7.6 .7 1.5 .2-.5zM206.7 574.2l1.4-8-1.2-7.4-1.8 7.4 .3 7 .5 1.6 .8-.6zM169.2 563.2l-.2-3.7 .2 3.7zM251 562.2l-.2-2.2 0 3 .2-.8zM277.9 562.2l-.1-3-1.1 2 1.1 1.9 .1-.9zM62.5 563.2l-.3-2.3 0 2.8 .3-.5zM64.5 564.2l-.3-3.3 0 4.1 .3-.8zM190.4 573.2l.7-4 1.9-3-1.1-5.4-1.6 5.4-.4 7.3 .5-.3zM221.2 563.2l-.3-2.2 0 3.1 .3-.9zM86.7 568.2l.4-4-1-2.2 0 7 .6-.8zM89.4 564.2l-.3-2.9-.9 1.9 .9 1.5 .3-.5zM299.3 566.2l-.6-4.2-.6 2.2 .6 3 .6-1zM151.6 582.2l1.8-9 .6-9.6-2 2-.6 2.6-1 13 .6 1.9 .6-.9zM287 566.2l.5-1-.8-1 .3 2zM225.1 581.2l1.5-5-.7-11.3-1 .1-.7 3.2 .7 13.5 .2-.5zM58 579.2l.7-2-2.3-4 .4-4-.6-3.4-.5 7.4-1.5 .4-.5 3.6 1.5 3 2.8-1zM200.1 568.2l-.2-2.7-.6 1.7 .8 1zM221.1 567.2l-.2-1.1 0 2 .2-.9zM284.1 567.2l-.3-1.9 0 2.7 .3-.8zM167.2 572.2l-.2-5.3-.6 3.3 .6 2.5 .2-.5zM95.3 570.2l-.2-2.9 0 3.6 .2-.7zM133.2 568.2l-.2-.5 .2 .5zM121.2 573.2l-.1-4.4-.5 3.4 .6 1zM269 571.2l-.2-2.8 .2 2.8zM71.4 574.2l-.2-4.5-.6 2.5 .8 2zM89.3 579.2l.8-9.9-1 .6-.5 4.3-2 3 1.5 2.6 1.2-.6zM138.2 573.2l-.2-3-.5 2 .7 1zM172.4 574.2l-.4-5-.7 3 .7 2.9 .4-.9zM287.5 575.2l.1-4-.9-1.8-.6 2.8 .6 4 .8-1zM66.3 574.2l-.1-3.8 .1 3.8zM265.2 580.2l1.1-2-.5-7.5-.5 2.5-2.9 4 .6 3 .8 .8 1.4-.8zM126.9 576.2l.9-2-1.7-2.4-1.4 1.4-.2 2 1.6 1.9 .8-.9zM145.2 579.2l.8-6-1-1 .2 7zM179 579.2l1.8-2-1.8-5.6-1 5.6 1 2zM277.6 582.2l.7-2-.3-7-.2-1.5-1-.1-1.3 2.6-1.1 6 1.4 3 1.8-1zM130.4 576.2l-.4-3.2-.8 2.2 .8 1.7 .4-.7zM103.2 577.2l.3-2-1.4-1.7-2.1 1.7 .1 1 2 1.5 1.1-.5zM208.4 588.2l.5-3 2.6-4 .9-5-.5-2.7-1 4.5-2-3-1.8 2.2 .8 11.9 .5-.9zM117.1 579.2l.5-2-.5-2.2-.7 2.2 .7 2zM230.5 580.2l.5-2-1.1-3.9-1.7 2.9 0 2 .7 1.4 1 .4 .6-.8zM72.5 582.2l1.6-4-1.9-2.2-1 3.2 1 3.7 .3-.7zM297.9 581.2l.1-5-2.3-.9 0 2.9 1 .2 1.2 2.8zM94.2 580.2l-.1-3.4 .1 3.4zM170.1 580.2l-.1-2.7-2.5-.3-.5 2.2 2 1.3 1.1-.5zM98.4 579.2l-.3-1 0 1.9 .3-.9zM155.5 581.2l-.1-2-2 0 .5 2 1.6 0zM165.1 581.2l-.1-2.3 .1 2.3zM248.8 585.2l.5-2-1.5-4.5-2.5 3.5-.2 2 1.7 1.9 2-.9zM136 583.2l.4-1-1.4-2.9-.7 2.9 .7 1.7 1-.7zM191.9 582.2l0-1.7-1-.9-1 .4 0 2.5 2-.3zM106.2 590.2l1.5-6-.6-3.1-1.2 1.1-.9 4 .1 3.1 1.1 .9zM81.7 583.2l-.6-1.1 0 1.8 .6-.7zM237.3 583.2l-.5-1.8 0 2.6 .5-.8zM83.3 586.2l-.2-3.1-.8 2.1 1 1zM261.2 585.2l-.4-2.3-.6 1.3 .6 1.7 .4-.7zM287.3 586.2l.5-2-1.1-1.3-1.3 2.3 .4 1 1.5 0zM69.2 585.2l0-1.7 0 1.7zM219.4 589.2l.9-1-.1-2-1.3-1.7-2-.7-.9 1.4 .3 2 .6 1.2 2.5 .8zM251.2 585.2l-.4-1.8-.5 1.8 .5 .8 .4-.8zM109.5 587.2l-.4-2.5-.9 1.5 .9 1.8 .4-.8zM121.9 585.2l-.8-.7-.8 .7 .8 .9 .8-.9zM145.6 590.2l.9-3-1.5-2.2-1.2 4.2 1.2 1.6 .6-.6zM269.4 586.2l-.6-1.4-.6 1.4 .6 .9 .6-.9zM281 585.2l-.2-.6 0 1.3 .2-.7zM123.4 587.2l-.3-1.6-.4 1.6 .7 0zM162 588.2l0-2.9-.6 1.9 .6 1zM170.2 587.2l-.2-1.9 .2 1.9zM177.1 587.2l-.1-1.1 .1 1.1zM304.8 591.2l.2-3-1.3-2.2-.4 2.2 1.5 3zM60.5 587.2l-.3-.6 0 1.2 .3-.6zM100.8 588.2l-.7-1.3-.3 1.3 1 0zM258.1 593.2l.4-5-1.7-1.5-1.7 2.5 2.7 4.5 .3-.5zM183.8 591.2l.1-2.4-2-.7-.7 1.1 .4 2 1.3 .8 .9-.8zM234.4 593.2l2-2-1.6-2.1-1.8 1.1-.7 3 .5 .9 1.6-.9zM278 596.2l.7-2-.5-2-2.4-2-1 5 1 1.7 2.2-.7zM131 596.2l.7-3-1.7-2.3-1-.1-1.1 2.4 .1 2 1 1.3 2-.3zM291.9 598.2l1.3-1 .4-2-1.9-4.3-2 5.3 2.2 2zM196.4 594.2l-.5-2.2-2-.5-.9 .7-.3 1 1.2 1.6 2.5-.6zM160.6 594.2l-.6-1.5 0 2.3 .6-.8zM52.3 597.2l.8-2-.9-1.5-1 0-.9 2.5 .9 1.4 1.1-.4zM76.6 597.2l1.2-2-1.7-1.8-1.1 2.8 1.6 1zM164.3 596.2l.2-2-1.5-.9-1.2 1.9 1.2 1.3 1.3-.3zM112.9 598.2l.2-2.1-1-.9-2 .1-.8 1.9 .8 1.5 1 .5 1.8-1zM248.7 597.2l.4-1-1.3-1.2-.9 1.2 .9 1.2 .9-.2zM306.2 599.2l.4-2-1.9-2.5-1.3 1.5-.1 2 1.4 1.6 1.5-.6zM153.8 603.2l.6-3-2.4-3.7-1.4 2.7 0 3 1.4 1.8 1.8-.8zM266.9 598.2l-.1-1-1.4 0 .4 1.1 1.1-.1zM89.4 601.2l.4-2-1.1-1-1.6-.4-1.8 1.4 .8 2.7 3.3-.7zM102.4 601.2l.4-2-.7-1-2-.1-1.1 2.1 .6 1 1.5 .6 1.3-.6zM212.3 603.2l.8-2-1.2-3.6-1.9 3.6 .9 2.2 1.4-.2zM122.3 605.2l.6-1-.7-2-2.1-.4-.8 2.4 1.8 1.5 1.2-.5zM141.3 605.2l.8-2-1.1-1.4-1 .1-.9 2.3 .9 1.2 1.3-.2zM66.3 605.2l-.1-2.3-1-.5-1.5 .8 .5 2.4 2.1-.4zM199.3 607.1l.4-2.9-1.8-1.1-1.3 1.1-.2 2 1.5 1.6 1.4-.7zM176.5 606.2l-.5-2.2-2.3 .2 .3 2.3 1 .6 1.5-.9zM283.3 608.1l.5-1.9-.8-1-2.2 .1-.8 1.8 .4 1 1.4 .7 1.5-.7zM188.2 609.1l-.1-2.9-2.2-.3-.8 1.2 .5 2 1.3 .8 1.3-.8zM223.2 609.1l-.3-1.5-1 .2 0 1.6 1.3-.3zM239.1 612.1l.6-2-1.9-1.2-1.2 2.2 1.2 1.3 1.3-.3zM53.2 612.1l-1-2.7-2.2 .7-.1 2 1.3 1 2-1zM297.2 613.1l.1-3-1.6-.9-1.3 .9-.2 2 1.5 1.5 1.5-.5zM75.9 613.1l-.8-2.2-1.6 1.2 .7 1.9 1.7-.9zM102.2 614.1l.7-1-.4-2-2.4-.6-1.4 1.6 .4 1.7 1 .9 2.1-.6zM166.3 613.1l-.3-1.6-1-.3-.6 1.9 .6 .8 1.3-.8zM308 616.1l1.4-1 .2-2-1.9-1.8-1.3 .8-.5 2 .8 1.8 1.3 .2zM88.2 616.1l.9-2-2-1.4-1.2 2.4 1.2 1.3 1.1-.3zM123.1 618.1l.8-3-1.8-1.3-1.5 1.3 .1 2 1.4 1.3 1-.3zM146.1 619.1l0-3-2.1-1.1-1.1 2.1 .5 2 1.6 .8 1.1-.8zM209.9 617.1l-1-1.6-1.4 .6 .4 1.7 1 .3 1-1zM196.4 620.1l.3-2-.7-1-2.4 0-.8 1 .2 2 1.9 .9 1.5-.9zM64.4 624.1l1.3-2-.5-1.2-2-.7-1.1 .9 .1 2 2.2 1zM273.5 625.1l.6-2-1.3-1.7-2.9 .7-.2 2 1.1 1.6 2.7-.6zM289.3 623.1l-.6-1.5-2 .5-.1 1 1.1 .8 1.6-.8zM221.3 627.1l1.4-1 .1-2-.9-1-2 0-1.2 1 0 2 2.6 1zM79.7 626.1l-.4-2-1.2-.2-.6 1.2 .6 1.8 1.6-.8zM171.4 629.1l.3-2-1-1-1.7-.3-1.8 1.3 .8 2.4 2 .4 1.4-.8zM106.4 631.1l1.6-1 .2-2-1.1-1.1-2-.2-1.5 2.3 1.5 1.9 1.3 .1zM185.4 632.1l.3-2-.8-1-2 .1-.7 .9 .4 2 1.3 .7 1.5-.7zM130.2 633.1l-.2-2.3-2-.6-.8 .9 .2 2 1.6 .8 1.2-.8zM206.1 633.1l.2-1-1-1-1.7 1 1.3 1.7 1.2-.7zM158.4 636.1l.9-1 0-2-1.3-1.2-2 .2-1 1 0 2 2 1.5 1.4-.5zM143.1 636.1l1-1-1.1-1.1-1 1.1 1.1 1zM239.6 635.1l-.2-1-1.6-.5-.9 1.5 .9 .8 1.8-.8zM290 638.1l.7-2-2-.6-.4 1.6 1.7 1zM276.5 640.1l.2-1-.9-1-2.5 1 1.5 1.6 1.7-.6zM60.5 642.1l.4-2-.7-1.1-2-.7-1 .5-.7 1.3 .5 2 2.2 .8 1.3-.8zM77.5 645.1l1.2-3-.6-1.3-2-.8-1.6 2.1 .2 2 1.4 1.4 1.4-.4zM117.8 643.1l.5-2-.8-1-2.4 0-.7 1 .5 2 1.2 .6 1.7-.6zM97.5 644.1l-.4-1.3 .4 1.3zM178.1 645.1l.2-1-1.3-1.3-2.5 1.3 1.5 1.8 2.1-.8zM220.5 646.1l.5-2-.7-1-1.4-.7-2 .7-.6 2 .6 1 2 .8 1.6-.8zM198.9 648.1l2-2-1-2-3-.5-2.2 1.5-.2 1 1.4 1.7 3 .3zM147.9 651.1l.8-2-1.7-1.8-3-.2-2 2 .8 2 1.2 .7 3.9-.7zM301.2 652.1l.2-1-1.7-1.5-2.2 1.5 1.2 1.8 2.5-.8zM238.4 655.1l.7-2-1.3-2-2-.4-2.1 1.4-.2 2 1.3 1.5 2 .4 1.6-.9zM267.7 657.1l.9-1-.4-2-1.4-.9-1.9 .9-.6 1 .5 1.5 2.9 .5zM169.6 661.1l1.4-2-.1-2-1.7-2-2.2 0-1.9 2 .2 3 1.7 1.4 2.6-.4zM75.5 661.1l0-1-1.3-.8-1.7 .8 .7 1.5 2.3-.5zM96.4 664.1l1.2-1 .1-2-1.6-1.2-2 .4-.7 2.8 1.7 1.1 1.3-.1zM191.6 664.1l1.2-1 .3-2-1.2-1.3-2-.2-1.6 1.5 .1 2 1.5 1.1 1.7-.1zM210.1 661.1l-1.2-1.9-1.3 .9 0 1 1.3 .9 1.2-.9zM135.4 663.1l.5-1-1.9-1.5-1.9 .5-.7 1 1.6 1.5 2.4-.5zM115.6 664.1l.6-1-1.1-1.8-2.8 .8 .8 2.2 2.5-.2zM251.8 666.1l1-1-.5-2-1.5-.8-2.3 .8-.5 1 .8 1.7 3 .3zM281.1 669l.8-1-.5-1.9-1.6-.7-1.7 .7-.4 1.9 .8 1 2.6 0zM178.3 679l1.7-2-1-3.1-4-1.4-3.2 1.5-.8 2 1 2.3 3 1.5 3.3-.8zM149.8 688l1.1-1-.9-1.6-2.8 .6 .8 1.8 1.8 .2zM216.9 687l.2-1-1.2-.7-2.4 .7 1.4 1.4 2-.4zM89.9 691l2.1-2-1.1-2-3.8-.7-2.5 1.7 1.5 2.8 3.8 .2zM280.6 692l-.8-1.3-2.5 .3-.1 1 1.6 1 1.8-1zM93.3 709l-1.9-2 0-1-2.3-1.7-13-2.3-7.9 .4-3.1 1.6-1.4 2 .9 2 6.6 1.7 22.1-.7zM197 707l2.1-2-1.2-1.6-2-.7-5 .1-2.9 2.2 .9 1.7 2 .8 6.1-.5zM124.8 709l.2-2-1.9-2.4-2-.1-1.7 1.5 .2 2 1.5 1.4 2 .5 1.7-.9zM170.7 712l1.2-1-.2-1-3.7-1.3-4 .5-1.8 1.8 2.8 1.6 5.7-.6zM284.6 713l-.8-1.2-1.4 1.2 1.4 .7 .8-.7zM123.2 729.9l3.9-1.9-.3-2-1.7-1.2-5-1-10.2 .2 2.2 4 2 1.3 5 1.2 4.1-.6zM93.7 732.9l2.1-1 .6-2-4.3-2.3-6-.2-4.9 2.5 .4 2 3.5 1.5 8.6-.5zM100.1 754.9l2.2-1 .2-1-3.4-1.4-6-.2-4.1 1.6 .2 1 2.9 1.2 8-.2zM141.3 755.9l3.8-2-4.1-1.9-7-.6-6.9 .5-3.4 1-.8 1 2.2 1.5 3.9 .8 12.3-.3zM177.5 756.9l2.7-2-.7-1-3.5-1.1-11 0-2 1.1-.3 1 .8 1 5.5 1.3 8.5-.3z"/><path fill-rule="evenodd" fill="#858585" d="M309.7 756.6l-8 0-21.9-2.9-10-.5-23 1.6-34.9-2.2-15 .4-10 1.9-10.9-2.8-40-1.3-23.9 1.4-16-2-20 1.9-26.9-.3 0-13.2 5 1.1 6-.2 4-1.1 2.3-2.5-2.3-2.4-4-1.2-7-.2-4 .9 0-40.2 6-1 1.8-1.8 .4-2-2.2-3.2-6-1.2 0-23.7 3-.8 2-3-1-3.1-4-1.7 0-20.8 2-1.1 .6-1.3-.6-2-2-1.1 0-53 1.4-2.8-1.4-2 0-50.9 5.7 0 .3 1.4 .2-1.4 5.1 0 .7 7 1.3 1 .7 6.5-.2-14.5 20.1 0 0 14.6 .9-3.6-.8-11 1.6 0-.5 23-1.8 12.9 .4 5 1.2 1.9 2.3-21.8-.8-21 18.9 0 .6 10.4 1.4-10.4 3.8 0 .8 6.3 1.7-6.3 3.3 0-1 25.8-1.6 6.1-.4 7.7-1-4-.8 3.3 .8 14.3 1-1.4 1 1.1 1.5-3 2.2-20.9 .3-18.4 1 2.8 .6-4.4 0-9 8.7 0 .4 12 1.2 1.6 1-9.7 1 1.6 1 9.6 .7-15.1 24.6 0 1.7 20.2-.2-20.2 4.1 0 .1 .6 .1-.6 7.1 0-.7 13 1.5 23.3 1.3-3.4 .4-5.9-1.5-27 2.1 0 .7 8.4 .7-8.4 6.1 0-.5 5 .6 3.2 .1-8.2 2.4 0 .5 6 .7-6 9.6 0 .7 10.5 .7-10.5 5 0 .3 2.5 1-2.5 .1 15-1.1 1.6-.6 5.4 .4 8.9 1.2 2.9 .7-14.8 1.5-1 .7-3-1-15 11.5 0-1.2 12 0 11 1.8 14.4 1.5-17.4 .3-20 1.2 2 .6-2 .9 0 .5 15 .8-4-.3-11 .6 0 .2 15 .7 2 1-1.6 .4 .6-.2 17.9 .8 4.2 1.3-21.1-.3-3.5-1.5 1.5 .3-15 9.1 0 1 3 1.1-3 3.1 0 .8 18.8 .8-4.8 .1-14 2.6 0 .5 2.1 .2-2.1 6.6 0 .2 15.8 .5-15.8 2.4 0 .1 5.8 .1-5.8 3.4 0 .5 18.7 1-16 2.1-2.7 14.2 0 .7 6 .5-6 1.8 0 .7 6 .6-6 2.5 0 1.7 23-.5 9.9 .6 2.9 .9-35.8 5.5 0-1 13 .6 8.6 1.7-9.6-.1-12 4.5 0-.9 21 .8 10.9 1.7-31.9 .9 0 .4 10.2 .1-10.2 3.8 0 .1 7.8 .1-7.8 3.6 0 .3 9.5 .4-9.5 1.6 0 0 63.1-1-3.6-1.9 6.4 .9 1.6 2-.2 0 29.1-1-1.4-2 .1-1 2.7 2 2.5 2-1.7 0 10.8-3 .5-1.6 1.9 1.6 2.5 3 .4 0 34.1-4 .9-2 3 .3 2 1.7 1.8 4 .9 0 15.6-4-1.8-5 0-4.4 2.5-1.4 4 .7 2 2.1 1.5 12 2.7 0 18.2-7 1-2.8 1.6-1.4 2 .5 2 1.7 1.5 5 1.8 4 .3 0 28zM50.4 526.3l-.2-9.3-.8 7.3 .8 2.9 .2-.9zM88.2 528.3l.6-3-.7-7.9-.6 7.9 .7 3zM214.3 525.3l-.4-7 0 7.8 .4-.8zM72.5 546.2l1.2-11.9-.5-3.5-1 1.8-1-13.3-1 1-.6 9 2.6 17.9 .3-1zM168.1 530.3l-.1-10.8-.8 6.8 .8 4.6 .1-.6zM247.8 532.3l.7-6-.7-6.9-.6 5.9 .6 7zM149.2 533.3l-.2-11.9-.6 5.9 .6 6.8 .2-.8zM128.1 548.2l.5-9.9-2.5-15.7-.5 13.7 2.5 11.9zM76.2 527.3l-.1-3.2 0 3.7 .1-.5zM101.6 550.2l1.1-17.9-.6-8.4-.7 4.4 .6 14-.9 .5-.6 3.4 .6 5 .5-1zM80.2 533.3l-.1-8.7-.6 5.7 .7 3zM138 542.3l0-18 0 18zM145.3 527.3l-.3-2.9-.6 1.9 .6 1.9 .3-.9zM180.1 530.3l.5-3-.7-2.9 .2 5.9zM188.4 561.2l3.3-22.9-1.8-13.9-.6 17.9-2 11.9 .6 7.7 .5-.7zM295 547.2l.6-13.9-.9-9-1 1.2-.4 3.8 .7 15 .7 3.5 .3-.6zM66.3 535.3l.6-5-.7-4.6-.7 6.6 .8 3zM210.2 528.3l-.3-2.3 0 3.2 .3-.9zM162.3 541.3l.4-10-.7-5-.7 5 .7 10.9 .3-.9zM207.9 532.3l.6-3-.6-2.9-.7 2.9 .7 3zM92.3 533.3l-.2-4.8 0 5.3 .2-.5zM120.1 556.2l.1-8 1.2-2 1.5-10.9-.8-6.2-1.7 11.2 .5 6.9-1.4 4 .6 5zM266.3 536.3l-.5-7-.6 4 .6 3.9 .5-.9zM272.3 569.2l.1-35.9-.6-4.2-1.9 3.2 0 5 1.5 22.9-.6 7 1 3 .5-1zM52.3 539.3l.5-5-.6-3.9-.6 5.9 .7 3zM124.1 541.3l0-10.9-1 4.9 1 6.9 0-.9zM200.3 536.3l-.4-5 0 5.9 .4-.9zM243.1 540.3l.5-4-.8-4.3-.7 5.3 1 3zM195 541.3l-.1-8.6-.6 4.6 .7 4zM261.1 544.3l-.3-10.9-.9 8.9 .9 2.9 .3-.9zM279 539.3l-.2-5.9-.6 3.9 .6 2.6 .2-.6zM106.2 545.3l.5-5-.6-5-.5 6 .6 4zM250 538.3l-.2-4-.6 2 .6 3 .2-1zM155.1 551.2l.6-7.9-.7-7.5-.6 13.4 .7 2zM256.2 577.2l1.2-3 2.3-25-2.9-13.9-.8 3-1.1 31.9-1.4 3 2.7 4zM94.2 543.3l-.1-6.9-.5 4.9 .6 2zM181.2 545.3l-.3-8.8-.6 6.8 .6 2.6 .3-.6zM231 542.3l-.1-5.9-.6 3.9 .6 2.6 .1-.6zM133.2 542.3l-.2-4.8 0 5.3 .2-.5zM167.1 547.2l.5-3.9-.6-5.5-.8 5.5 .9 3.9zM136.3 542.3l-.3-3.9 0 4.5 .3-.6zM178.2 547.2l.4-4.9-.6-3.4 0 9.1 .2-.8zM276 546.2l-.2-7.3-.6 5.4 .8 1.9zM306 543.3l-.3-4.7 0 5.4 .3-.7zM143.3 558.2l.4-14.9-.7-3.2-1 6.6-1-1.1-1.7 8.6 .7 4.1 2-8.6 1 9.5 .3-1zM262.9 540.3l-.1-.8 0 1.4 .1-.6zM65.3 550.2l.6-5.9-.7-3.5-.7 6.4 .8 3zM78.3 564.2l1.5-18-.7-3.2-1 3.5-1-5.6-.5 5.3 .9 16 .8 2zM98.5 544.3l-.4-3.9-.5 2.9 .5 1.6 .4-.6zM151 543.3l0-2.5 0 2.5zM213.9 545.3l0-4.2 0 4.2zM254 551.2l.6-6.9-.8-3.4-.7 6.3 .7 4.7 .2-.7zM293 553.2l.5-6-.8-6-.9 9 .9 3.9 .3-.9zM185.1 545.3l-.2-2.5 .2 2.5zM287.3 576.2l1.4-1 .7-3-.7-29.9-.8 19.9-1.8 3 .6 2.6 1 .1 0 1.7-1-1.2-.6 3.8 .2 3 .4 1.4 .6-.4zM60.3 563.2l.7-5-1.8-13.8-1.7 11.8 .7 3.5 1-1.6 1.1 5.1zM74.3 548.2l-.1-3.2-.6 2.2 .6 1.6 .1-.6zM124.3 556.2l-.2-11.2-.7 9.2 .7 2.7 .2-.7zM99.3 550.2l-.2-4.9-.7 2.9 .9 2zM301.9 548.2l-.2-2 0 2.9 .2-.9zM56.3 551.2l-.1-4.9 .1 4.9zM308.9 554.2l.5-4-.7-3.5-.6 5.5 .8 2zM175 554.2l0-4.6 0 4.6zM91.2 556.2l-.1-5.8-.7 3.8 .8 2zM105.2 558.2l.7-5-.8-2.9-.6 4.9 .7 3zM129.1 560.2l-.1-9.3-.7 4.3 .8 5zM183.2 552.2l-.3-1.7 0 2.5 .3-.8zM241.2 556.2l-.4-5.3-.6 3.3 .6 3 .4-1zM86.4 569.2l1.7-4.9 1 1.7 1-2.8-1.5-3-.5-8-.2 9-.8 1.4-1-1.3-.4 1.9-.1 4 .8 2zM107.3 559.2l-.2-7-.8 5 .8 2.9 .2-.9zM164.3 556.2l-.3-4.9 0 5.7 .3-.8zM238.2 573.2l.9-3-2.3-18.3-.9 7.3 1.1 5-.5 7 .8 2 .9 0zM81.4 560.2l.4-4-.7-3.1-.7 5.1 .7 2.7 .3-.7zM252.8 561.2l.8-4-.8-4.8-.6 5.8 .6 3zM150 562.2l0-8.9-.8 3.9 .8 5zM195.2 557.2l-.3-3.7 0 4.6 .3-.9zM210 558.2l-.1-4.7-.6 2.7 .7 2zM265 557.2l-.2-3.8 0 4.7 .2-.9zM217.9 561.2l0-6.7-.7 3.7 .7 3zM235.4 561.2l.4-3-1-2.9-.4 3.9 .4 2.3 .6-.3zM161.3 566.2l.1-8-.4-1.4-2-.3-.1 3.7 2.1 6.9 .3-.9zM211.9 564.2l.7-4-.7-3.4-.7 3.4 .7 4zM230 560.2l-.1-2.1 0 3 .1-.9zM169 564.2l.6-3-.6-2.1 0 5.1zM208.1 589.2l.8-3.5 2.5-3.5 1.1-7-.6-2.1-1 4.4-2-3-1.4-.3 .8-9-1.4-6.8-1.8 6.8 .1 7 1.5 4 .4 11 1 2zM277.9 563.2l-.1-4.6-1 .5-.2 2.1 .2 2.1 1 .7 .1-.8zM64.5 565.2l-.3-5-.8 3 .8 2.5 .3-.5zM250.9 563.2l-.1-3.6-.6 1.6 .7 2zM62.4 564.2l.5-2-.7-2-.6 2 .8 2zM190.3 574.2l1.1-5 1.8-3-1.3-5.8-1.9 5.8 .3 8zM220.9 564.2l.6-2-.6-1.4 0 4.3 0-.9zM299 567.2l.6-3-.9-2.5-.7 3.5 1 2zM151.2 583.2l.8-3 3 1.6 1-1.6-1-1.6-2 .3-.4-.7 1.5-10-.1-5-2 1.8-.6 2.2-1.1 13 .9 3zM165.1 564.2l-.1-1.1 .1 1.1zM224.9 582.2l1.8-6-.8-12-1 .2-.8 3.8 .8 14zM283.8 568.2l0-3.3 0 3.3zM56.7 580.2l1.6-1 .6-2-2.2-4-.5-7.9-.7 6.9-1.3 1.1-.6 3.9 .6 2.5 1 .9 1.5-.4zM200.1 568.2l-.2-2.9-.7 1.9 .7 1.6 .2-.6zM221.1 568.2l-.2-2.9-.5 1.9 .7 1zM95.1 571.2l0-4.2-.6 2.2 .6 2zM167.4 572.2l-.4-5.8-.7 3.8 .7 2.9 .4-.9zM133.4 568.2l-.4-.9 0 1.7 .4-.8zM269.2 571.2l-.4-3.2 0 4 .4-.8zM89.6 579.2l.5-10.9-1 .1-.7 5.8-2 3 1.7 2.9 1.5-.9zM121.4 573.2l-.3-4.9-.6 3.9 .6 1.5 .3-.5zM172.1 575.2l.6-3-.7-3.5-.7 4.5 .8 2zM66.5 574.2l-.3-4.4-.5 3.4 .5 1.6 .3-.6zM72.6 582.2l1.6-4-3-3 .6-3-.6-2.7-.7 2.7 .5 7 1.2 3.9 .4-.9zM138.4 573.2l-.4-3.4-.6 2.4 .6 1.7 .4-.7zM263.9 581.2l1.9-1.2 .7-1.8-.7-7.9-.8 2.9-2.2 2.3-.5 1.7 .4 3 1.2 1zM277 583.2l1.5-4-.7-8.3-1-.1-2.5 9.4 1.5 3.3 1.2-.3zM126.2 577.2l1.8-3-1.9-2.7-1.5 1.7-.2 2 .7 1.7 1.1 .3zM145.3 579.2l.9-6-.2-1.1-1-.3-.5 6.4 .5 1.6 .3-.6zM179.8 579.2l1.4-2-2.2-5.8-1.1 5.8 .7 2 1.2 0zM130.5 576.2l-.5-3.5-.8 2.5 .8 2 .5-1zM103.4 577.2l-.1-3-1.2-1-2.3 2 0 1 2.3 1.8 1.3-.8zM230.7 580.2l.5-2-1.3-4.2-1.5 2.2-.4 3 .9 1.7 1 .3 .8-1zM117.2 579.2l-.1-4.6-.8 2.6 .9 2zM174.1 575.2l-.1-.9 0 1.8 .1-.9zM298 581.2l.1-5-.4-1-2-.2-.2 3.2 1.2 .6 1 3 .3-.6zM94.4 580.2l-.3-4-.4 3 .4 1.5 .3-.5zM170.4 580.2l.4-2-.7-1-2.1-.6-1 .6-.5 2 .8 1 1.7 .8 1.4-.8zM98.2 580.2l-.1-2.4 .1 2.4zM136.3 583.2l.3-1-1.6-3-.6 4 .6 .9 1.3-.9zM165.3 581.2l-.3-2.9-.7 2.9 .7 .7 .3-.7zM248.2 586.2l1.3-3-1.7-4.7-2.6 3.7-.2 2 .8 1.5 2.4 .5zM192.1 582.2l-.2-2-2-.6-.6 1.6 .6 1.7 2.2-.7zM106.5 590.2l1.3-5-.7-4.5-1.5 1.5-.8 5 .3 2.8 1 1 .4-.8zM237 584.2l.5-1-.7-2.3 .2 3.3zM81.9 583.2l-.8-1.4 0 2.4 .8-1zM69.4 585.2l-.2-2.2-.5 2.2 .5 .6 .2-.6zM83.4 586.2l-.3-3.5-.9 2.5 .9 1.6 .3-.6zM250.8 586.2l0-3.1-.7 1.1 .7 2zM261.3 585.2l-.5-2.6-.7 1.6 .7 1.9 .5-.9zM287.6 586.2l.4-2-1.3-1.6-1.5 2.6 .5 1.2 1.9-.2zM123.5 587.2l-.4-2.1-2-1-1 .9 1 1.4 1-.6 1 2.1 .4-.7zM219.9 589.2l.4-3-2.4-2.9-1 0-1.1 1.9 .7 3 2.4 1.6 1-.6zM109.1 588.2l.7-2-.7-1.9-1 1.9 1 2zM145.9 590.2l.7-3-1.6-2.5-1.4 4.5 .4 1.6 1 .3 .9-.9zM162.2 588.2l-.2-3.4-.8 2.4 .8 1.5 .2-.5zM170.3 587.2l-.3-2.4 0 3.1 .3-.7zM268.8 587.2l.6-1-.6-1.7-.7 1.7 .7 1zM280.8 586.2l0-2 0 2zM177.2 587.2l-.2-1.4 0 1.9 .2-.5zM305 591.2l.2-3-1.5-2.6-.6 2.6 1.6 3.7 .3-.7zM60.6 587.2l-.4-.7 0 1.5 .4-.8zM66.2 587.2l-1-.7 0 .8 1-.1zM101.3 588.2l-.2-1.2-1.8 .2 .8 1.6 1.2-.6zM239.1 588.2l-.3-1.4 .3 1.4zM258.3 593.2l.4-5-1.9-1.8-1.9 2.8 2.9 4.7 .5-.7zM129.2 588.2l-.2 .6 .2-.6zM184 591.2l-.1-2.7-2-.6-.8 1.3 .3 2 1.5 1 1.1-1zM233 594.2l3.2-2 .3-2-.8-1-1.9-.2-1 1.1-.6 3.1 .8 1zM115.4 591.2l-.3-1.2 .3 1.2zM277.1 597.2l1.6-2 .1-2-3-3.4-1.3 5.4 1.3 2 1.3 0zM131.3 596.2l.6-3-1.9-2.6-1-.2-1.3 2.8 .1 2 1.2 1.5 2.3-.5zM292.8 598.2l1-3-2.1-4.6-2.3 5.6 1.3 1.9 2.1 .1zM160.3 595.2l.5-1-.8-2.1-.5 2.1 .8 1zM197 595.2l-1.1-3.6-2-.3-1.1 .9 .1 2.1 4.1 .9zM144.2 594.2l-.2-1 .2 1zM164.6 596.2l.2-2-.8-.9-1-.3-1.6 1.2-.1 1 1.7 1.6 1.6-.6zM52.5 597.2l.7-2.3-1-1.4-1-.1-1.2 2.8 1.2 1.9 1.3-.9zM77.1 597.2l.8-2-1.8-1.9-1 .9-.3 2 1.3 1.4 1-.4zM112 599.2l1.2-1 .3-2-1.4-1.3-2 .1-.9 1.2 .2 2 1.7 1.2 .9-.2zM249.3 597.2l-.3-2-1.9 0 0 2 2.2 0zM306.4 599.2l.1-3-1.8-1.9-1.5 1.9 0 2 1.5 1.8 1.7-.8zM153 604.2l1.4-2 .2-2-2.6-4.2-1.7 5.2 .7 2.2 2 .8zM267.3 598.2l-.5-1.4-2 .4 1 1.4 1.5-.4zM87.8 602.2l1.9-1 .3-2-2.9-1.5-1.2 .5-1 2 1.2 2 1.7 0zM102.7 601.2l-.3-3-1.3-.9-1 .5-1.1 1.4 .3 2 1.8 .7 1.6-.7zM212.5 603.2l.7-2-1.3-3.8-1.8 2.8-.1 2 .9 1.4 1.6-.4zM122.7 605.2l-.2-3-2.4-.8-1.2 1.8 .6 2 1.6 .8 1.6-.8zM141.6 605.2l.4-2.7-2-.8-1.1 1.5 .1 1.7 1 .8 1.6-.5zM66.5 605.2l-.3-2.6-1-.4-1.7 1-.1 2 .8 .6 2.3-.6zM199.6 607.1l.3-2.9-2-1.3-1.5 1.3-.2 2 1.7 1.8 1.7-.9zM176.2 607.1l.7-.9-.5-2-2.4-.6-.6 2.6 1.6 1.2 1.2-.3zM283.6 608.1l.5-1.9-.6-1-2.9 0-.7 1 .3 1.9 1.6 .9 1.8-.9zM188.4 609.1l0-2.9-2.5-.6-1 1.5 .5 2 1.5 1 1.5-1zM223.4 609.1l-.5-1.9-1 .3 0 2.2 1.5-.6zM52.4 613.1l1-1-.2-2-1-.9-2 .3-.6 2.6 1.6 1.3 1.2-.3zM239.5 612.1l.5-2-.5-1-1.7-.6-.9 .6-.1 3 1 .7 1.7-.7zM297.5 613.1l0-3-1.8-1.1-1 .5-.8 1.6 .7 2 1.1 .8 1.8-.8zM75.4 614.1l.8-2-1.1-1.5-1.2 .5-.7 2 1 1.2 1.2-.2zM102.5 614.1l.4-3-1.8-.9-2.1 .9 .1 3.1 2 .7 1.4-.8zM165.5 614.1l1.1-2-1.6-1.2-.8 2.2 1.3 1zM88.7 616.1l.7-1-.5-2-1.8-.7-1 .6-.5 1.1 .5 2 1 .6 1.6-.6zM123.3 618.1l.8-3-2-1.6-1.7 1.6 .1 2 1.6 1.6 1.2-.6zM146.3 619.1l.1-3-1.4-1.5-1 0-1.1 1.5 .3 3 1.8 1 1.3-1zM209.3 618.1l.7-2-2.1-.6-.8 1.6 .8 1.1 1.4-.1zM195.3 621.1l1.3-1 .5-2-2.2-1.6-1.6 .6-.8 2 1.4 2 1.4 0zM65.2 624.1l.5-3-1.5-1.2-1.6 .2-1 2 .6 1.5 1 .8 2-.3zM272 626.1l1.8-1 .5-2-2.5-2.2-2 1-.5 1.2 .6 2 2.1 1zM289.6 623.1l-.9-1.8-2.2 .8-.1 1 1.3 1 1.9-1zM222 627.1l1-1 0-2-1.1-1.2-2 0-1.5 1.2 0 2 1.5 1.3 2.1-.3zM79.2 627.1l.9-2-1-1.4-1 0-.7 2.4 .7 1.2 1.1-.2zM171.7 629.1l.3-2-2-1.6-2 .4-1.1 1.2-.2 1 1.3 1.7 2 .3 1.7-1zM107.1 631.1l1.2-1 .1-2-1.3-1.3-2-.1-1.6 1.4 .3 2 2.3 1.4 1-.4zM185.7 632.1l-.4-3-1.4-.6-1.3 .6-.7 1 .4 2 1.6 1 1.8-1zM129.3 634.1l1.2-1 0-2-2.5-1.4-1.2 2.4 1.2 1.9 1.3 .1zM206.4 633.1l-.5-2-1-.4-1.5 1.4 1.5 1.9 1.5-.9zM158.8 636.1l.9-2-.7-1.7-2-.9-1.5 .6-1 2 .5 1.5 2 1.2 1.8-.7zM144 636.1l0-2-1.8 0-.2 1.9 2 .1zM239 636.1l1.1-1-.3-1.1-2-.7-1 .6 0 1.6 2.2 .6zM290.4 638.1l.5-2-2.2-1-.7 2 .7 1 1.7 0zM59.4 643.1l1.3-1 .4-2-.9-1.5-2-.8-1.8 1.3-.2 2 1 1.6 2.2 .4zM276.8 640.1l.2-1-1.2-1.3-2 .2-.9 1.1 1.9 1.8 2-.8zM77.9 645.1l1-2-.3-2-2.5-1.3-1.5 1.3-.2 3 1.7 1.7 1.8-.7zM118.2 643.1l.4-2-.7-1-1.8-.7-1.3 .7-.7 2 1 1.5 2 .3 1.1-.8zM97.9 644.1l-.8-1.7 0 2.5 .8-.8zM177 646.1l1.6-2-2.6-1.5-1.7 1.5 .2 1 2.5 1zM219.4 647.1l1.6-1 .4-2-1.5-1.7-2-.2-1.4 .9-.5 2 1.9 2.1 1.5-.1zM199.6 648.1l1.7-2-1.4-2.3-3-.4-2.5 1.7 .2 2 1.3 1 3.7 0zM146.1 652.1l2.3-1 .5-2-1.9-2-3-.3-1.8 1.3-.4 2 1.2 1.4 3.1 .6zM300.5 653.1l1.1-1-.3-2-1.6-.8-1.9 .8-.1 2.5 2.8 .5zM237.4 656.1l1.9-2-.3-2-2.2-1.6-2 .2-1.4 1.4-.2 2 1.6 1.8 2.6 .2zM268.1 657.1l.8-2-1.1-1.8-1-.3-2.3 1.1-.5 2 .8 1 2 .6 1.3-.6zM170.1 661.1l1.2-2-.5-3-1.8-1.4-3 .7-1.5 2.7 .5 2.1 2 1.6 3.1-.7zM74.3 662.1l1.6-1 0-1-2.7-.9-1.1 1.9 2.2 1zM209.6 662.1l.7-2-1.4-1.2-1 .3-.6 1.9 .8 1 1.5 0zM97 664.1l.9-1 0-2-1.8-1.5-2 .4-.9 1.1 0 2 1.9 1.4 1.9-.4zM192.1 664.1l1.4-2-.6-2-2-.9-2 .7-.9 1.2 .1 2 1.8 1.4 2.2-.4zM116.1 664.1l.3-2-1.3-1.2-2 .1-1.2 1.1-.2 1 1.4 1.6 3-.6zM135.9 663.1l-.3-2-1.6-.7-2 .4-1 1.3 2 1.8 2.9-.8zM252.2 666.1l1-2-1.4-1.7-2-.2-1.6 .9-.3 2 .8 1 2.1 .5 1.4-.5zM281.7 669l.6-1.9-.5-1.1-2-.9-2.1 1-.4 1.9 1.5 1.7 2.9-.7zM177.4 680l2.8-2 .4-2-1-2-3.6-1.8-4 1-1.4 1.8 .4 3 3 2.1 3.4-.1zM150.6 688l.6-2-1.2-.9-2-.1-1.1 1 1.1 2.1 2.6-.1zM217.5 687l0-1-1.6-1-2.2 0-.8 1 2 1.8 2.6-.8zM90.7 691l1.7-2-2.3-2.7-4 0-1.9 1.7 .3 2 1.6 1.3 4.6-.3zM280.8 693l.4-2-1.4-.8-3 .8 1 2.2 3-.2zM97.3 713l-.4-1 1.4-2-4.1-5-8.1-3.4-12.9-.9-11 .6-9 1.9-3.6 1.8-.3 1 4.1 2 14.8 2.5 29.1 2.5zM197.6 707l1.5-1 .2-2-3.4-1.7-6 .4-2.7 2.3 1.2 2 2.5 .8 6.7-.8zM124.6 710l.9-2-1.4-3.1-2-1.1-3 1.2-.7 2 1 2 2.7 1.4 2.5-.4zM171.4 712l1.2-1 0-1-3.6-1.7-5 .4-2.7 2.3 3.7 1.8 6.4-.8zM286 714l.4-2-1.7-1.5-2.9 1.5-.2 1 1.2 1.4 3.2-.4zM89.7 733.9l3.4-.3 3.8-1.7 .7-2-2.6-2.9 2.1-.7 10-.2 6 3.5 6 1.3 7-1.4 2-2.5-3-2.7-14-2.4-3-2.5-7-3-18 2.9-10.6 3.7-.4 1 2.1 .9 7.9 1.8-2.3 3.2 1.3 2.6 3 1.2 5.6 .2zM160 757.9l-17 0 17 0zM181.9 757.9l-2.7 0 1.7-.7 1 .7z"/><path fill-rule="evenodd" fill="#919191" d="M309.7 754.2l-41.9-2-31 .1-8.9-.9-26-.1-16 1-28.9-1.9-47.9-.1-9-1-23-.7-3.9-1.1-2.3-1.6-1.7-4 1.5-6-3.8-4-.1-1 1.4-.5 6.9-.6 5 3.8 10 .9 8.5-2.6 1.2-3 1.3-.8 5-.1 7 2.6 8 .9 6-1.9 2-2.6-3-2.9-9-2.4-12.5-5.7-1.9-3 3.5-3-4.4-5-4.9-1-11.8-4.7-31.9-.1-4-.6 0-3.4 7-2.6 1.6-1.6 .9-3-1.5-3-5-3-3-3.5 0-17.5 4-1.7 1.9-3.2-.3-2-1.6-2-4-1.4 0-19.9 2-1 .8-1.7-.5-2-2.3-1.4 0-13 .9 1.4 2.1 .4 1.5-2.4-.5-1.3-2-1-2 1.7 0-16.5 2 4.7 2.3-3.5-1.3-2-2 .6-.8-.6-.2-3.1 0-17.7 1.6-3.2-1.6-2.4 0-50.5 .1 10 .9 2.2 .2-12.2 1.7 0 .1 1.7 .3-1.7 2.3 0 .4 2.6 .4-2.6 4.8 0 .8 8.8 1 .5 1 6.1 .6-4.4-.6-11 6.9 0-.5 13 2.6 18.5 1.6-13.5-.6-4.2-1 .9-.9-14.7 11.7 0 .1 15.7 .9-3.7-.3-12 .7 0-.3 22.1-1.7 14.8 .3 4 1.4 2.6 2.3-21.5-.3-22 1.9 0-.5 9 .6 4 .8-4-.6-9 8.7 0 .1 .9 .1-.9 7.2 0 .7 11.6 .9-1.6 .6-10 2.1 0 .4 13 .4-13 .7 0 .9 7.9 2.2-7.9 1.6 0 1 5 0 8-2.8 25.6-1-3.4-.8 2.7 .8 15.9 1-.7 1 .5 1.5-2.7 2.2-21 .3-14.7 1-.6 .6-4.6 .1-10 8.5 0 .2 12 1.5 3.5 1-6.4 1-1.4 1 19.2 .8-26.9 1.2 0 0 .7 .2-.7 13.6 0-.5 14 .7 4.9 .7-4.9-.6-14 2.8 0 .1 1.6 1 .8 .2-2.4 3.4 0 .4 1.4 .2-1.4 1 0 .8 17 1 4.5 .7-5.5-.8-16 3.8 0 .3 2.4 .5-2.4 3.4 0-.7 11 .8 4.5 .6-6.5-.6-9 2.7 0-.4 13 1.7 24 1.3-3.1 .5-6.9-1.4-27 1.8 0 .8 9.4 .7-9.4 5.9 0-.4 6 .7 3.1 .2-9.1 2.3 0 .5 6.9 .7-6.9 7.2 0 .1 2.3 1.4-2.3 .8 0 .1 9 .7 2.5 .8-11.5 2 0 .2 .9 .2-.9 2.3 0 1.4 9-1.5 18 .6 6.1 1 1.4 1-15.1 1-.2 .9-2.2-.8-17 8.8 0 .1 11.2 .8-4.2-.6-7 1.7 0-.6 28 2.7 17.4 .8-45.4 1.2 3.2 1.2-3.2 .8 16.7 .8-2.7 .2-14-.4 24 .4 1.9 .3-6.9 1.7-.6 .1 15.5 .9 5 1.4-21.9-.4-4.6-1-.3-.1-12.1 8.8 0 .2 7 2.3-7 2.8 0 .9 19.9 .9-4.9 .1-15 2.2 0 .8 5.4 .4-5.4 2.5 0-.6 9 .7 8.3 .8-6.3-.7-11 3.5 0 .4 16.5 .7-16.5 2.1 0 .2 7.9 .4-7.9 3 0 .6 21.6 3.4-21.6 2.4 0 .2 1.8 .5-1.8 10.7 0 .8 7.3 .5-7.3 1.8 0 .7 7.1 .6-7.1 2.3 0 2 36.3 1-36.3 5.3 0-1 13 .7 9.5 1.7-7.5 0-15 4.1 0-.7 25 .9 7.5 .8-4.5 1.1-28 1.1 11.2 .2-11.2 3.5 0 .3 8.8 .2-8.8 3.4 0 .4 10.7 .5-10.7 1.3 0 .2 62.6-1-3.5-2.2 6.8 1.2 1.9 2-.2 0 28.1-1-1.1-2 .1-1.3 3.1 1.3 2.5 2 .1 1-1 0 9.8-3 .4-1.9 2.2 .9 2.2 4 1 0 32.5-2-.1-2 1.5-2.3 2.8-.3 2 2.6 3.6 4 1.1 0 7.6-3 3.1-6 .9-4 1.8-5.6 4.9-1.1 2 .7 2 2 1.4 14 4.6 2.1 2-3.1 3-9 2.7-4-.1-5-2.3-3-.1-2.9 2.7-.8 2.1 1.8 2.1 2.9 .8 8-3.1 6 3.3 .2 1.9-3.5 4-.1 3 1.5 3.9 4.8 2 7.1 1.5 0 21.8zM76.2 528.3l-.1-7.7 0 8.5 .1-.8zM128.1 549.2l.6-11.9-2.6-16.4-.6 15.4 1.2 9 1.4 3.9zM138.2 542.3l-.2-20.3 0 21 .2-.7zM294.8 548.2l.9-10.9-1-15.8-1 .8-.7 7 .9 16 .9 2.9zM80.3 533.3l-.2-10.4-.7 7.4 .7 3.9 .2-.9zM101.4 551.2l1.4-17.9-.7-10.9-.8 4.9 .3 13-1.2 5.9 .7 5.5 .3-.5zM145.1 528.3l-.1-5.1-.6 3.1 .6 2.6 .1-.6zM180.2 531.3l.6-4-.9-4.7-.5 5.7 .8 3zM188.6 561.2l1.6-7 1.5-15.9-1.8-15-.7 18-2 12.9 .7 8 .7-1zM66.2 536.3l.8-6-.8-6.1-.8 8.1 .8 4zM162.3 543.3l.5-12-.8-6.7-.8 8.7 .8 10.5 .3-.5zM208 532.3l-.1-6.5-.7 4.5 .7 2.7 .1-.7zM210 529.3l-.1-3.9 0 4.6 .1-.7zM124.4 556.2l.2-22.9-.5-4-1 2-1-4.2-1.8 12.2-.8 14.9 .6 2.6 2-16.6 1-2.1 1 19.1 .3-1zM92.4 533.3l-.3-5.7 0 6.6 .3-.9zM266.1 537.3l.5-4-.8-5.5-.6 6.5 .6 3.6 .3-.6zM271.9 570.2l1-4-.8-6 .4-26.9-.7-5.3-1 1.2-1-1.3 1.4 33.3-.8 5 1.5 4zM52.2 540.3l.7-4-.7-7.6-.7 7.6 .7 4zM192.9 534.3l0-4.7 0 4.7zM195 542.3l.5-5-.6-6.3-.7 6.3 .8 5zM200 537.3l.6-4-.7-2.7-.5 4.7 .6 2zM243.3 540.3l.3-6-.8-3.4-.8 6.4 .8 3.9 .5-.9zM273.8 533.3l0-2.5 0 2.5zM256.5 577.2l1-3 2.7-28 1.3-3.9-.7-11-.8 3-.2 10.5-2-4.6-1-5.8-.8 2.9-1.2 32.9-1.5 3 2.5 4.7 .7-.7zM106.1 546.2l.7-4.9-.7-8.5-.6 8.5 .6 4.9zM279.1 539.3l-.3-6.6-.7 4.6 .7 2.9 .3-.9zM238.8 536.3l0-2.3 0 2.3zM250 539.3l-.2-5.9-.8 2.9 .8 3.8 .2-.8zM94.3 543.3l-.2-8.2-.6 5.2 .6 3.7 .2-.7zM155.3 551.2l.4-11.9-.7-4.5-.6 14.4 .6 2.8 .3-.8zM181.3 545.3l-.4-10.8-.7 6.8 .7 4.9 .4-.9zM230.9 543.3l.6-4-.6-3.5-.7 4.5 .7 3zM167.2 547.2l.5-4.9-.7-5.7-.9 6.7 .9 4.8 .2-.9zM136.4 542.3l-.4-4.6 0 5.5 .4-.9zM178.1 548.2l.7-7.9-.8-2.3-.6 6.3 .7 3.9zM305.7 545.3l.8-4-.8-3.7 0 7.7zM262.9 541.3l-.1-2.8 .1 2.8zM276.1 546.2l-.3-7.8-.7 3.9 .7 4.8 .3-.9zM65.4 550.2l.5-5.9-.7-4.1-.7 7 .7 4 .2-1zM99.4 550.2l.3-3-1.6-7.5-.6 3.6 1.6 7.7 .3-.8zM143.2 559.2l.6-15.9-.8-3.9-1 6.3-1-.7-.4 1.2-1.3 8 .7 4.5 2-8.5 1 9.6 .2-.6zM151 544.3l0-4.3 0 4.3zM291.8 556.2l1.7-6-.8-10.7-.8 3.8-.2 13.8 .1-.9zM78.5 564.2l1.4-18-.8-3.8-1 3.2-1-5.3-.5 5.9 .8 16 .7 2.9 .4-.9zM214.1 545.3l-.2-5 0 5.7 .2-.7zM253.1 561.2l1.6-14-.9-6.8-1.7 16.8 1 4zM287.9 576.2l.8-.5 .8-3.5-.8-31.2-.8 2.3-.2 17.9-2 4 .8 3-.4 7 .6 1.8 1.2-.8zM185.2 545.3l-.3-3 0 3.8 .3-.8zM60.7 563.2l.3-6-1.8-13.4-1.6 7.4-.1 6 .6 3 1.1-.5 .6 3.5 .4 .6 .5-.6zM74.4 548.2l-.2-3.7-.7 2.7 .7 1.9 .2-.9zM56.5 551.2l-.3-5.4 0 6.2 .3-.8zM301.8 549.2l-.1-3.6 .1 3.6zM309.1 554.2l.3-5-.7-3-.7 6 .7 2.9 .4-.9zM175.2 554.2l-.2-5-.7 3 .7 2.8 .2-.8zM91.3 556.2l-.2-6.1-.8 4.1 .8 2.7 .2-.7zM105.6 558.2l.3-6-.8-2.4-.6 5.4 .6 3.6 .5-.6zM129.2 560.2l-.2-9.9-.7 6.9 .9 3zM150.3 562.2l.2-7-1.5-4.3 .3 9.3 .7 2.7 .3-.7zM164.3 557.2l.4-4-.7-2.7-.5 3.7 .8 3zM183.3 552.2l-.4-1.9 0 2.9 .4-1zM240.9 557.2l-.1-6.7-.6 4.7 .7 2zM89.2 580.2l1.1-3 0-15-1.2-3-1-7.5-.5 8.5-.5 1.4-1-1-.2 .6-.5 5 .7 3.7 1-.7 1-4 .5 1-.2 7-2.2 4 1.9 3.4 1.1-.4zM107.1 560.2l0-8.6-.9 5.6 .9 3zM238.6 573.2l.7-3-2.5-18.7-1 6.1-1-2.8-.5 4.4 .5 2.7 1 0 1 2.6-.3 7.7 1.3 1.9 .8-.9zM81.2 561.2l.7-5-.8-3.5-.8 4.5 .9 4zM195 558.2l-.1-5.3 .1 5.3zM209.9 559.2l0-6.3-.8 3.3 .8 3zM264.9 558.2l-.1-5.3-.6 2.3 .7 3zM305.9 557.2l-.2-3.7 .2 3.7zM161.1 567.2l.4-9-.5-2-2-.5-.2 4.5 2.3 7zM212.1 564.2l.6-4-.8-3.8-.7 4.8 .7 3.7 .2-.7zM208.3 589.2l.6-3 2.7-4 .9-7-.6-2.7-1 4.5-3-3.9 .6-7.9-1.6-7.2-1.9 7.2 .1 7 1.3 5 .7 11 .8 1.7 .4-.7zM229.9 562.2l0-4.8 0 4.8zM277.9 564.2l-.1-6.2-1 .3-.3 2.9 .3 3.3 1 .6 .1-.9zM169.3 564.2l.4-3-.7-2.6-.6 3.6 .6 2.6 .3-.6zM249.1 562.2l-.3-3.8-.5 2.8 .8 1zM251.1 563.2l-.3-4.2-.8 3.2 .8 1.8 .3-.8zM64.3 566.2l.8-2-.5-4-.4-.6-1 2.3-1-2.3-1 1.6 .6 3 .4 .8 1-1 1.1 2.2zM191 574.2l.4-4 1.9-4-1.4-6.3-2.2 6.3 .2 8.9 1.1-.9zM221.4 568.2l-.5-7.7-.7 7.7 .7 .8 .5-.8zM291.8 562.2l-.1-1.9 .1 1.9zM299.3 567.2l.6-3-1.2-2.8-.8 3.8 .8 2.7 .6-.7zM151.5 583.2l.5-1.8 3 .7 1.2-1.9-3.1-3 1.4-12-.5-2.4-1.1 .4-1.5 3-1.2 14 .8 3.6 .5-.6zM165 565.2l0-2.9-.9 .9 .9 2zM301.8 565.2l-.1-2.1 0 2.7 .1-.6zM225.2 582.2l1.6-6-.9-12.9-1 .5-.9 4.4 .9 14.7 .3-.7zM57.3 580.2l1.2-1 .5-2-2-4-.8-8.5-1 7.5-1.2 1-.5 4 1.7 3.8 2.1-.8zM121.1 566.2l-1-1-.1 1 1.1 0zM200.2 568.2l-.3-3.1-.7 2.1 .7 1.8 .3-.8zM284 568.2l-.2-3.8-.5 2.8 .7 1zM167.1 573.2l.7-3-.8-4.4-.8 4.4 .9 3zM95.3 571.2l-.2-4.5-.8 2.5 .8 2.7 .2-.7zM133.1 569.2l-.1-2.3 .1 2.3zM81.3 569.2l-.2-1.5-.6 .5 .8 1zM121.5 573.2l-.4-6-.7 5 .7 1.8 .4-.8zM268.9 572.2l.6-3-.7-1.5 .1 4.5zM172.4 575.2l.3-4-.7-3-.8 5 .8 2.9 .4-.9zM66.7 574.2l-.5-4.9-.7 2.9 .7 3 .5-1zM72.2 583.2l2.1-5-2.3-3-.8-6-.8 2 .4 8 1.4 4zM138.5 573.2l-.5-3.9-.6 2.9 .6 1.9 .5-.9zM264.7 581.2l1.9-3-.8-8.3-3.6 7.3 .6 3.6 1 .9 .9-.5zM277.3 583.2l1.3-3-.8-10.4-1 0-1 2.6-1.6 6.8 1.1 4 .5 .6 1.5-.6zM126.5 577.2l2.3-2 0-1-2.7-2.9-1.2 .9-.6 3 .8 2 1.4 0zM145.4 579.2l.9-6-.3-1.7-1-.1-.5 6.8 .5 1.9 .4-.9zM180.8 579.2l1-2-2.8-6-1.1 7 1.1 1.6 1.8-.6zM102.6 578.2l1-1 .1-2-.6-1.9-1-.4-2.6 2.3-.1 1 3.2 2zM130.2 577.2l.5-2-.7-2.7-.9 2.7 1.1 2zM117.4 579.2l-.3-5-.9 3 .9 2.7 .3-.7zM174.2 576.2l-.2-2.6 0 3.2 .2-.6zM185.1 575.2l-.2-1.2 .2 1.2zM230.1 581.2l1.2-3-1.4-4.5-2.3 4.5 1.2 3 1.3 0zM298.2 581.2l-.2-6-2.3-.5-.4 3.5 1.4 1 1 2.9 .5-.9zM94.6 580.2l-.5-4.8-.5 3.8 .5 1.9 .5-.9zM169.7 581.2l1.4-2-.5-2-1.6-.8-2 .3-.9 2.5 1.9 1.7 1.7 .3zM98.4 580.2l-.3-2.7-.5 1.7 .8 1zM165.1 582.2l.7-3-.8-1.5-1.1 3.5 1.2 1zM135.4 584.2l1.5-2-1.9-3.3-.9 3.3 1.3 2zM190.8 583.2l1.8-2-1.7-2.2-1 .2-.8 2 .7 2 1 0zM248.6 586.2l1.1-3-1.9-5-2.8 4-.2 2 2 2.4 1.8-.4zM106.4 591.2l.7-2.5 2 .1 .7-2.6-.7-2.3-1 .6-1-4.2-1.7 1.9-.8 5 .5 3.6 1 .9 .3-.5zM237.5 584.2l-.7-3.8-.5 2.8 .5 1.6 .7-.6zM83.6 586.2l-.5-3.9-1 1.8-1-2.7 0 3.1 1 .1 1 2.5 .5-.9zM69.2 586.2l0-3.8-.8 2.8 .8 1zM220.1 589.2l.3-3-2.5-3.3-1 0-1.3 2.3 .6 3 2.7 1.9 1.2-.9zM251 586.2l-.2-3.5-.9 2.5 1.1 1zM260.9 586.2l.7-2-.8-1.9-.7 1.9 .8 2zM287.8 586.2l.4-2-1.5-1.8-1.6 1.8 .2 2 1.4 .8 1.1-.8zM123.6 587.2l-.5-2.7-2-.6-1 .6 0 1.7 2 .3 1 1.7 .5-1zM281.2 586.2l-.4-2.4-.5 1.4 .5 1.5 .4-.5zM144.4 594.2l-.3-2 1.9-1.9 .8-2.1-1.8-3.9-1.5 4.9 .2 5 .7 0zM162 589.2l.7-2-.7-2.8-1 2.8 1 2zM170 588.2l0-3.9-.7 1.9 .7 2zM269 587.2l.5-1-.7-2-.7 2 .9 1zM304.9 592.2l.4-4-1.6-3.1-.8 3.1 1.8 4.8 .2-.8zM66.8 587.2l-.6-1.4-1.3 .4 .3 1.5 1 .3 .6-.8zM177.4 587.2l-.4-1.7 0 2.4 .4-.7zM239 589.2l.6-2-.8-1.3 .2 3.3zM258.4 593.2l.6-5-1.2-1.9-1-.1-1.4 1-.7 2 3.1 4.9 .6-.9zM60.7 587.2l-.5-.8 0 1.7 .5-.9zM101.1 589.2l.5-2-1.5-1-1.1 1 .1 1 2 1zM131.5 596.2l.5-3-2.7-4-.3-2-1.3 8 1.3 1.8 2.5-.8zM183.3 592.2l1.2-3-1.6-1.6-1 .1-1 2.5 1 1.9 1.4 .1zM233.6 594.2l2.9-2 .2-2-.9-1.3-2-.2-1.2 1.5-.5 3 .7 1.4 .8-.4zM115.7 591.2l-.6-1.7 0 2.5 .6-.8zM244 590.2l-.2-.8 0 1.3 .2-.5zM277.5 597.2l1.4-2 .1-2-1.2-2.3-2-1.5-1.5 5.8 1.5 2.3 1.7-.3zM197.2 595.2l-1.3-3.9-2-.2-1.4 1.1 .4 2.5 4 1.3 .3-.8zM293.2 598.2l.8-3-2.3-4.9-2.5 5.9 2.5 2.9 1.5-.9zM164.9 596.2l-.7-3-1.2-.6-2 .9-1-2.3-.7 3 .7 1.6 1-.5 2 1.8 1.9-.9zM283 592.2l-.2-.6 0 1.2 .2-.6zM77.4 597.2l.7-2-2-2.2-1.2 1.2-.2 2 1.4 1.7 1.3-.7zM94.1 593.2l0 .8 0-.8zM305.3 600.2l1.4-1 .3-2-2.3-3.9-1.8 3.9 .8 2.4 1.6 .6zM101.3 595.2l-.2 .9 .2-.9zM112.5 599.2l1.1-1 .2-2-1.7-1.5-2-.1-1.2 1.6 .2 2 2 1.5 1.4-.5zM249.8 597.2l-1-2.6-2.1 .6 .1 2.1 2 .8 1-.9zM153.5 604.2l1.3-4-2.8-4.6-1.7 3.6 0 3 1.7 2.4 1.5-.4zM103 601.2l.4-2-2.3-3-2.5 4 1.5 1.7 2.9-.7zM212.8 603.2l.5-3-1.4-3.1-2 3-.1 2.1 1.1 1.6 1.9-.6zM267.6 598.2l-.8-1.7-2-.2 0 2 1 .6 1.8-.7zM88.6 602.2l1.4-1 .3-2-2.2-1.7-2 .2-1.2 1.5 .2 2.5 1 .8 2.5-.3zM122.1 606.2l1.3-3-1.3-1.8-2-.3-1.3 1.1-.2 2 1.5 1.8 2 .2zM65.3 606.2l1.6-2-1.7-2.2-2.5 2.2 1.5 1.9 1.1 .1zM141.9 605.2l.2-3-2.1-.7-1.3 1.7 .3 2.3 2 .3 .9-.6zM176.9 607.1l.2-1.9-1.1-1.8-2-.1-.9 .9 .9 3 2 .5 .9-.6zM198.5 608.1l1.5-1 .5-1.9-1.1-2-1.5-.6-1.7 1.6-.2 2 .9 1.7 1.6 .2zM187.3 610.1l1.3-1 .4-2-2.1-2.2-1.8 1.3-.3 1.9 1.1 1.9 1.4 .1zM282 609.1l2.4-2-.3-1.9-1.3-.7-2 .3-1.1 1.4 .2 1.9 2.1 1zM223.7 609.1l-.5-2-1.3 0-.7 2 .7 1 1.8-1zM259.2 609.1l.4-1-.8-.3 .4 1.3zM239.9 612.1l-.1-3-1-.8-2 .4-.8 2.4 .8 1.5 2 .4 1.1-.9zM297.9 613.1l-.2-3-1-1.1-2 .2-.9 1.9 .5 2 1.4 1 2.2-1zM101.1 615.1l1.7-1 .9-2-2.6-2.1-2.4 1.1-.4 2 .8 1.5 2 .5zM75.7 614.1l.8-2-1.4-1.9-1.6 .9-.7 2 1.4 1.5 1.5-.5zM166.3 614.1l.5-2-1.8-1.6-1 2.6 1 1.4 1.3-.4zM89.2 616.1l.2-3-1.3-.9-2 .5-.7 1.4 .7 2.4 2 .5 1.1-.9zM123.6 618.1l.3-4-.8-.7-2 .3-1 2.4 .7 2 1.3 .8 1.5-.8zM145.5 620.1l1.3-3-.8-2-2-.8-1.4 1.8 0 2 1.4 2.1 1.5-.1zM209.8 618.1l.5-2-2.4-.9-1 .9 .5 2 1.5 .6 .9-.6zM195.9 621.1l1.6-3-1.6-1.7-2 0-1.5 1.7 .2 2 1.3 1.3 2-.3zM65.7 624.1l.7-2-1.1-2-3.1-.2-.8 2.2 .8 1.9 2 .9 1.5-.8zM273 626.1l1.5-2-.4-2-1.3-1.2-2 0-1.5 1.2 .2 3 1.3 1.2 2.2-.2zM288.9 624.1l1.1-1-.3-1.5-1-.6-2 .5-.6 1.6 .6 .9 2.2 .1zM222.3 627.1l1.2-2-.6-1.5-2-1.1-2 .8-1 1.8 1 2 2 .7 1.4-.7zM79.7 627.1l.3-3-1.9-.7-.9 2.7 .9 1.6 1.6-.6zM170.5 630.1l1.5-1 .3-2-1.3-1.5-3-.1-1.5 1.6 .2 2 2.3 1.2 1.5-.2zM107.6 631.1l1.3-2-.8-1.8-2-.9-2 .7-.9 2 .9 1.6 2 1 1.5-.6zM184.9 633.1l1.3-3-1.3-1.6-2 0-1.4 2.6 1.4 2 2 0zM130 634.1l.7-3-2.7-1.8-1.5 1.8 .3 2 1.2 1.3 2-.3zM205.5 634.1l1.3-2-1.9-1.6-1.2 .6-.4 2 2.2 1zM159.2 636.1l.8-2-.9-2-2.1-.9-1.9 .9-.9 2 .8 2 2 .9 2.2-.9zM239.7 636.1l.8-1-.7-1.7-2-.4-1.4 1.1 .6 2 2.7 0zM144.5 636.1l.3-1-.8-1.4-2.3 .4 .3 2.4 2.5-.4zM290.8 638.1l.4-2-2.5-1.5-1.1 1.5 .7 2 1.4 .6 1.1-.6zM60 643.1l1.4-2-.5-2-1.7-1.5-2 .1-1.3 1.4 .3 3 2 1.4 1.8-.4zM275.6 641.1l1.5-1-.3-2-2-.7-1.7 .7-.3 2 2.8 1zM76.6 646.1l1.6-1 .9-3-1-1.9-2-.7-1.7 1.6-.4 2 1.1 2.7 1.5 .3zM117.4 644.1l1.2-1 .3-2-1.8-1.8-2 .2-1.2 1.6 .4 2 1.8 1.3 1.3-.3zM97.5 645.1l.7-2-1.1-1.1-.6 2.1 1 1zM220.5 647.1l1.3-2-.5-2-2.4-1.4-2 .5-1.2 1.9 .3 2 1.9 1.5 2.6-.5zM177.6 646.1l1.1-1-.4-2-2.3-.7-1.3 .7-.6 1 .9 1.8 2.6 .2zM200.2 648.1l1.4-2-1.7-2.6-3-.3-2.8 1.9 .1 2 1.7 1.4 4.3-.4zM147.1 652.1l2.2-2-1.3-2.8-4-.8-2.2 1.6-.3 2 1.5 1.7 4.1 .3zM301.2 653.1l1.1-2-.6-1.3-2-.8-2.3 1.1-.4 2 .7 .9 2 .7 1.5-.6zM238.3 656.1l1.3-2-.8-2.7-2-1.1-3 .8-1 2 1 2.5 2 1 2.5-.5zM268.5 657.1l.7-2-1.4-2.1-2-.1-2.2 2.2 .8 2 1.4 .7 2.7-.7zM169.3 662.1l2.1-2 .2-3-1.6-2.4-3-.2-2.6 2.6 0 3 2.6 2.2 2.3-.2zM75.3 662.1l.9-2-1.1-1.1-1.9-.2-1.5 1.3 1 2 2.6 0zM192.5 664.1l1.3-2-.4-2-1.5-1.1-3 .5-1.2 1.6 .2 2.2 2 1.4 2.6-.6zM210.1 662.1l.5-2-.6-1-2.1-.3-.9 1.3 .6 2 1.3 .6 1.2-.6zM97.5 664.1l.9-2-1-2-2.3-.7-1.4 .7-1.1 2 1 2 1.5 .7 2.4-.7zM114.8 665.1l1.7-1 .3-2-1.7-1.6-2 .1-1.7 2.5 1.7 1.9 1.7 .1zM134.7 664.1l1.6-1-.3-2.1-2-.8-2.9 .9-.1 2.2 3.7 .8zM252.5 666.1l.9-2-1.6-1.9-2-.3-2 1.2-.3 2 1.3 1.3 2 .4 1.7-.7zM281.1 670l1.6-2-.5-1.9-2.4-1.3-2 .8-.9 1.5 .5 1.9 2.4 1.4 1.3-.4zM176.6 681l3.8-2 .7-2-.3-2-3.8-3-5 .5-2.2 2.5 .2 3 3 2.8 3.6 .2zM151.4 688l.3-2-1.7-1.3-2 0-1.4 1.3 1.4 2.4 3.4-.4zM217 688l1-1-1.1-1.9-4.4-.1-.4 1 .8 1.3 2 .9 2.1-.2zM88.4 692l3.7-1.5 .6-2.5-3.6-2.2-4 .7-1.5 1.5 .3 2 2.2 1.8 2.3 .2zM281 694l1.6-2-.8-1.6-3-.6-2.3 1.2 1.3 2.8 3.2 .2zM194.4 708l4.5-1.4 1.3-1.6-.2-1-3.1-1.8-5-.5-4 1.2-1.9 2.1 .1 1 1.8 1.3 6.5 .7zM123.4 711l1.7-.5 .8-1.5-1.8-4.7-2-1.1-3.7 .8-1.2 2 .6 3 2.3 1.6 3.3 .4zM168.4 713l5.1-2-.5-2-3-1.2-4-.2-4 1-1.6 1.4-.1 1 1.7 1.4 6.4 .6zM69.2 718l-14 .1-3.8-1.1-1.2-2 4-1.7 8-.3 10.8 1 3.9 1 .3 1-8 2z"/><path fill-rule="evenodd" fill="#9c9c9c" d="M309.7 752.9l-42.9-1.7-30-.1-7.9-.8-37 .7-36.9-1.7-45.9-.1-32-1.9-3.9-1.6-1.5-1.8 .3-3 2.2-2.6 2.9-1.6 26-4 19-.4 5.9-2.3 2.4-3-3.3-3.6-14.4-6.4-3.3-3 4.8-2 8.9 0 2.7-1 .5-3-3.2-5.3-24-.2-11-3.2-8-5.9-7.9 .7-6.7-1.1-2-2-1.4-6-6.9-6.3-3.5-5.7-1-8.9 4.9-6 1.6-4-4-3.7-4-.9 0-18.4 2-.8 1.1-2.2-.5-2-2.6-1.7 0-11.6 3 1 1.7-2.7-1.7-2.4-2-.2-1 .8 0-12.8 1 2.5 1 .5 2.4-4.3-1.4-2.3-2 .2-1-4.4 0-15.8 1.8-3.7-1.8-3 .1-29.9 1.6-12-.2-8 1.1 0 .2 3-.6 17 .8 5.8 .7-5.8-.6-14 .7-6 1.6 0 .6 4 .5-4 1.3 0 .2 4 .2-4 2.9 0 .9 10.8 1 .7 1 5.3 .6-5.8-.4-11 3.3 0 .3 4-.8 .5-.8 8.5 .3 9-1.3 6 .8 8.1 .8-5.2-.3-7.9 1.3-7-.3-11 .5-.8 1 2.7 .1-6.9 1.6 0-.4 13 1.1 12 1.6 7.4 1.7-13.4-.7-6.5-1-.6-.6-11.9 8.3 0-.5 14 .7 5.2 .7-5.2-.6-14 2.6 0-.3 11 1.1 11-1.3 15.9 .4 4 1.4 2.5 2.4-21.4-.2-23 1.5 0-.4 9 .7 5.4 .9-5.4-.5-9 5.6 0-.6 24 .6 4 .6-4-.6-24 2.7 0 .3 2.8 .3-2.8 6.9 0 1.7 31.9-.9 .8-.6 4.2 .6 6.1 .8-1.1-.4-9 1.4-5.9-.6-14 .5-13 1.3 0 1 15.7 1-14.1 .2 6.4 .8 1.8 3.1-9.8 1.3 13-2.4 24.2-1-2.6-.9 3.3 .6 16-1 2 1.3 1.1 1-2.6 2-.9 .7-2.6 2.3-30.7 1.7-9.2 .1-11 8.3 0-.2 13.7-1.9-12.4-.8 15.7 3.7 27.8 .7-5.9-.8-20.9 .1-.8 1 .6 2-7.4 1 17.2 .9-27.6 .7 0 .4 3.2 .9-3.2 2.1 0-.6 23 .6 4.8 .6-15.8-.6-12 10.1 0 .9 21 .7-7-.4-14 2.4 0 .3 4.7 1 0 .5-4.7 2.6 0 .9 3.2 .5-3.2 .6 0 .9 19.7 1 4.2 .8-6.9-.7-17 3.4 0 .5 4.4 .9-4.4 2.7 0-.1 17-2.5 6 2 9.9 .8-5.9-.5-9 1.3-7-.4-11 2.1 0-.1 13 1.8 25 1.4-3.1 .5-6.9-1.3-28 1.6 0 .8 10.8 .8-10.8 5.6 0-.3 7 .8 3.3 .3-10.3 2.1 0 .6 8.1 .8-8.1 6.9 0 .3 20.4 .3-12.4 1.7-8-.8 21 .8 7.6 1.9-28.6 1.5 0 .6 2.5 .4-2.5 2 0 .5 11-.6 17 .7 6.1 1 1.3 1-13.7 1.7-1.7 .5-3-.8-17 8.4 0 .2 13.3 .8-2.3 .4-11 .1 29.9 2.7 15.9 .9-45.8 1.1 4.5 1-4.5 1.4 25 .6 3.3 1-7.8 2 19.5 1.5-23-1.3-9-.1-8 8.5 0 .3 18.6 .4-8.6 2.1-10 2.5 0 1 21.9 .9-4.9 .4-17 1.6 0 1.1 14.9 .5-14.9 1.9 0-.3 10 .9 9.2 .9-5.2-.4-14 3 0 .5 17.6 .9-17.6 1.7 0 .4 10 .7-10 2.6 0-.1 20-.2 .9-1-4.3-1.7 15.3-.3 21.4-1.8 3.6 2.8 5 1.7-3 .3-8.1 3.7-23.8-.5-16 1.4-11 2 0 .4 3.7 .9-3.7 10.2 0 .9 8.8 .6-8.8 1.6 0 .8 8.4 .7-8.4 2.1 0 2.1 36.8 .7-3.9 .4-32.9 2.7 0 .2 1.7 .2-1.7 1.9 0-.8 18 1.5 9 .2 19.7 .1-4.8 1.7-6 .2-10.5 1 7.8 1-7 1 7.2 .6-2.5 1.4-28.7 1 10.3 .3-12.5 3.2 0 .5 10.2 .3-10.2 3.2 0 .5 12.5 .7-12.5 .9 0 .4 62.2-1-3.7-2.6 7.4 1.6 2.2 2-.1 0 27.1-1-1-2 .2-1.6 3.5 1.6 2.9 3-.6 0 8.8-3 .3-2.8 2.6 1.8 2.8 4 .8 0 24.4-4.3 3-.6 5-2.4 5.9 .6 2 3.1 4-2.4 2.4-5 1-3-1.1-5-4.3-5-.1 4 9.1-.1 4-3.9 3.3-6.9-.8-2 .8-.7 1.7 .7 1.5 4.1 3.5 1.8 4-.1 6-2 5 .2 2 5.1 4 4.9 8 3.4 3.9 15.5 3.8 0 19.2zM292.7 529.8l-.1-13.5 1.1 0-1 13.5zM295.7 533.8l-.9-17.5 1.4 0-.5 17.5zM76.2 530.3l-.1-11.4 .1 11.4zM84.1 524l0-4.9 0 4.9zM101.7 551.2l1.2-18.9-.8-12.9-1.7 26.8 .7 6 .6-1zM181.1 546.2l.5-4.9-1.7-21.9-.6 8.9 1.6 18.6 .2-.7zM145.1 529.3l.5-3-.6-5.2-.7 5.2 .7 3.6 .1-.6zM162 546.2l1.2-4.9-1.2-19.2-.9 10.2 .9 13.9zM188.5 562.2l1.9-7 1.4-15.9-.1-7-1.8-10.9-.9 18.9-1.9 13.9 .2 6 .6 2.5 .6-.5zM272.1 570.2l.9-4-.7-6 .2-27.9-.7-6-1 .5-1-3.9-.9 5.4 2.1 32.9-1 6 1.8 3.7 .3-.7zM124.3 557.2l.4-23.9-.6-5.8-1-.3-1-3.7-2.7 30.7 .7 3.4 2-14.2 1-1.9 .2 12.7 .8 3.6 .2-.6zM208 533.3l.6-4-.7-4.5-.8 5.5 .8 3.5 .1-.5zM210 530.3l-.1-6 0 6.7 .1-.7zM266.1 538.3l.6-5-.9-8.7-.7 9.7 .7 4.6 .3-.6zM92.2 534.3l-.1-8.1-.6 5.1 .6 3.8 .1-.8zM242.9 542.3l.9-7-1-6.5-.9 7.5 1 6zM273.9 534.3l-.1-5.2 0 5.7 .1-.5zM199.9 538.3l.7-3-.7-5.9-.6 3.9 .6 5zM238.9 537.3l-.1-5.1 0 5.8 .1-.7zM249.8 541.3l0-9.4-.9 4.4 .9 5zM278.9 540.3l.5-4-.6-4.8-.7 5.8 .7 3.8 .1-.8zM155 552.2l.8-12.9-.8-6.4-.7 16.3 .7 3zM230.9 544.3l.7-5-.7-4.2-.8 5.2 .8 4zM178 549.2l1.1-9.9-.1-2.4-1-.9-.7 7.3 .7 5.9zM306 558.2l.7-16.9-1-5.1 0 22.8 .3-.8zM136.2 543.3l.5-3-.7-3.9 .2 6.9zM262.9 542.3l-.1-5.1-.5 3.1 .6 2zM143.2 560.2l.7-16.9-.9-5.2-1 5.8-1-.1-.6 2.4-1.2 8 .8 4.8 2-7.8 1.2 9zM214.1 546.2l-.2-8-.6 5.1 .6 3.8 .2-.9zM275.9 547.2l.6-4.9-.7-5-.7 7 .7 3.5 .1-.6zM78.4 565.2l1.5-19-.8-5.1-1 2.7-1-4.7-.6 7.1 .9 17 1 2zM99.2 551.2l.6-4-1.7-8.5-.7 4.6 1.8 7.9zM151.1 545.3l-.1-6.9-.5 3.9 .5 3.5 .1-.5zM253.4 561.2l1.3-13-.9-9-1.7 18 .7 4.8 .6-.8zM287.8 577.2l1.3-2 .5-3-.9-33.5-1 1.5-.3 21-2 4 .7 3-.1 7 .7 2.3 1.1-.3zM187 544.3l-.1-4.3 .1 4.3zM54.2 543.3l0-1.3 0 1.3zM185.1 546.2l-.2-4.7 .2 4.7zM65 566.2l.4-3-.8-4-.4-.6-1 1.4-1-1.1-1 .4-2-16.3-1.8 8.2 .3 9 1.5 1 1 3.1 1-1.4 1 2.8 1-.3 1 1.6 .8-.8zM74.2 549.2l0-5.7-.8 3.7 .8 2zM56.4 552.2l.5-4-.7-3 0 7.7 .2-.7zM301.8 550.2l.5-3-.6-2.3 .1 5.3zM308.9 555.2l.7-5-.9-5.6-.7 7.6 .7 3.7 .2-.7zM150.3 563.2l.3-8-1.6-8.5-.1 11.5 .5 4 .9 1zM164.1 558.2l.8-5-.9-4.1-.6 5.1 .7 4zM175.1 555.2l-.1-6.9-.8 3.9 .9 3zM91.4 556.2l-.3-6.8-.8 4.8 .8 3 .3-1zM183.1 553.2l-.2-3.5-.5 2.5 .5 1.6 .2-.6zM241 557.2l-.2-7.8-.7 5.8 .7 2.7 .2-.7zM89.6 580.2l.9-3 0-15-2.4-11.3-.9 9.3-1.1-.6-.6 1.6-.1 6 .7 3.3 1-.2 1-4 .1 6.9-1.7 2-.5 2 2.1 3.9 1.5-.9zM107.2 560.2l-.1-9.9-1 6.9 .3 3 .7 .7 .1-.7zM238.2 574.2l1.2-4-2.6-19.5-1 5.6-1-2.1-.6 5 .6 3.3 1.7 2.7-.3 7 .6 1.9 1 .6 .4-.5zM81.5 561.2l.5-6-.9-3-.8 6 .8 3.7 .4-.7zM195.2 558.2l-.3-6.5 0 7.3 .3-.8zM52.2 555.2l0-2.4 0 2.4zM210.2 559.2l-.3-6.9-.9 4.9 .2 2 .7 .8 .3-.8zM265 558.2l-.2-5.9-.7 2.9 .7 4 .2-1zM161.3 567.2l.2-10-.5-1.9-2-.7-.4 5.6 1.8 7 .6 .7 .3-.7zM212 565.2l.8-5-.9-4.5-.8 5.5 .9 4zM229.9 563.2l.6-4-.6-2.7 0 6.7zM250.9 564.2l.2-5-.3-.8-1 1.9-1-3.3-1 4.4 1 1.8 2.1 1zM169.1 565.2l.7-4-.8-3.1-.8 4.1 .9 3zM208.1 590.2l1.2-4 2.5-4 .8-7-.7-3.4-1 4.6-2.4-4.2 .1-9-1.7-5.8-2.1 8.8 2.2 22 1.1 2zM277.6 583.2l1.1-3-.9-22.9-1 .1-.4 2.8 .9 7-3.2 13 1.7 4 1.8-1zM190.9 575.2l.7-5 1.9-4-1.6-6.8-2.5 6.8 .2 8 .3 1.6 1-.6zM221 569.2l.7-2-.8-6.9-1.1 7.9 1.2 1zM298.9 568.2l1.7-3-1.9-4.3-.9 4.3 1.1 3zM304.7 564.2l0-3.6 0 3.6zM165.6 565.2l-.6-3.8-1 .4-.2 2.4 1.2 1.7 .6-.7zM225.1 583.2l1.8-5.6 1.6 3.6 1.4 .5 1.6-3.5-1.6-4.9-2 3.2-.5-.3-1.5-14.4-1 1.2-1 5.2 1.2 15zM151 584.2l1-1.9 3.2-.1 1.2-2-2.8-3 1.1-13-.7-1.9-1.7 .9-1 2-1.2 15 .9 4zM301.8 566.2l-.1-3.8-.9 2.8 1 1zM55.8 581.2l2.9-2 .5-2-2-4.5-.2-6.5-.8-2.2-1 7.4-1 .9-.8 3.9 .8 4.5 1 .9 .6-.4zM284.1 568.2l-.3-4.5-.6 3.5 .6 1.8 .3-.8zM121.1 574.2l.7-4-.7-5.5-1-.3-.8 1.8 1.1 1 .7 7zM167.5 573.2l.3-5-.8-3.2-.8 6.2 .8 2.8 .5-.8zM199.9 569.2l.6-2-.6-2.5-.8 2.5 .8 2zM81.7 569.2l-.6-2.2-1.2 1.2 .1 1 1.1 .7 .6-.7zM95.2 572.2l.5-3-.6-2.8-.9 3.8 .4 2 .6 0zM133.4 569.2l-.4-2.7 0 3.3 .4-.6zM138.2 574.2l.6-2-.8-4.8-.7 4.8 .9 2zM165.3 582.2l.7-2.4 4 2.1 1.1-1.7 1.7-7-.8-5.6-.9 3.6 .3 5-.4 .6-3-1-2 1.9-1-.5-1.4 4 .4 1.6 1 .2 .3-.8zM269.2 572.2l.4-4-.8-.9-.5 3.9 .5 1.7 .4-.7zM66.5 575.2l.5-3-.8-3.6-.7 4.6 .7 2.4 .3-.4zM72.4 583.2l2.1-5-2.3-3.4-1-6-.8 2.4 .1 8 1.2 4 .7 0zM265.2 581.2l1.5-3-.9-8.7-3.7 7.7 .7 4.1 1 .8 1.4-.9zM130.3 577.2l.5-2-.8-3.1-1 1.3-2.9-2.5-1 .6-1 2.7 1 3.4 1 .3 1.9-1.9 2 1.8 .3-.6zM145.2 580.2l1.3-7-.5-2.4-1 .2-.6 2.2 0 5 .8 2zM181.5 579.2l.4-2.6-2-2.4-.9-3.3-1.4 7.3 1.4 1.8 2.5-.8zM98.5 580.2l-.2-3 .8-1 3 2.5 1.3-.5 .5-3-.8-2.3-1-.3-4 4.2-.6 2.4 .6 1.7 .4-.7zM174.1 577.2l-.1-4.3-.7 2.3 .8 2zM94.4 581.2l.6-3-.9-4.4-.6 5.4 .9 2zM117.1 580.2l.7-3-.7-3.6-1 3.6 1 3zM185.2 575.2l-.3-1.6 0 2.2 .3-.6zM298 582.2l.3-7-.6-1-2 .1-.6 3.9 2.9 4zM251.3 586.2l-.1-3-.4-.9-1 .1-2-4.6-2.9 4.4 0 3 1.9 1.6 2-.3 1-1.1 1 1.6 .5-.8zM135.9 584.2l1.4-2-2.3-3.6-1.1 3.6 1.1 2.4 .9-.4zM191.4 583.2l1.4-2-1.9-2.7-1 .1-1 3.8 1 1.4 1.5-.6zM106.3 592.2l.8-1.7 2-1.3 .8-3-2.8-6.4-1.7 1.4-1 5 .5 5 1.4 1zM239.5 589.2l.3-2.7-1.7-2.3-1.3-4.5-.4 4.5 .4 1.1 1-.1 1 4.9 .7-.9zM83.3 587.2l.6-2-.6-3-1.2 .4-1-1.6-.2 3.2 2.4 3zM66.8 588.2l1.4-2.3 1 .8 .2-.5-.2-4.5-1.3 3.5-3.2 1 .5 1.9 1.6 .1zM261.2 586.2l.4-2-.8-2.3-.7 3.3 .7 1.7 .4-.7zM286.9 587.2l1.2-1 .3-2-1.7-2.3-1.9 3.3 .9 1.9 1.2 .1zM219.3 590.2l1.5-2-.3-2-2.6-3.8-1 .2-1.3 1.6 .3 3.8 1 1.7 2.4 .5zM89.2 585.2l-.1-1 0 1.8 .1-.8zM123.3 588.2l-.2-4.3-3 .2-.3 2.1 3.5 2zM144.5 594.2l.2-2 2.2-4-1.9-4.4-1.6 5.4 .1 5 .5 .8 .5-.8zM164.4 597.2l1-2-.4-1.6-1-1-2.5-.4-.5-1 1.8-4-.8-3.4-2.8 10.4 .8 2.1 3 1.2 1.4-.3zM170.3 588.2l-.3-4.8-.8 2.8 .8 2.5 .3-.5zM269.2 587.2l-.4-3.5-.8 2.5 .8 1.7 .4-.7zM281.5 586.2l-.7-2.8-.6 1.8 .6 1.9 .7-.9zM177.5 587.2l-.5-2.1 0 3.1 .5-1zM306.1 600.2l1.1-3-2.1-4 .3-6-1.7-2.7-1.1 1.7 1.1 7-.9 5 1.3 2 2 0zM101.7 589.2l.3-2-.8-1-2.1 .2 0 2.2 2 1.2 .6-.6zM257.9 594.2l1.4-6-1.2-2-1.3-.4-1.6 1.4-.7 2 3.4 5zM60.3 588.2l-.1-2-.6 1 .7 1zM130.6 597.2l1.4-1.6 .2-2.4-3.2-6.5-1.5 8.5 1.5 2 1.6 0zM189.4 588.2l-.5-1.5 0 2.2 .5-.7zM183.7 592.2l.9-3-1.7-1.8-1 .1-1.1 1.7 .3 2 1.8 1.6 .8-.6zM115.5 592.2l.4-2-.8-1.3-.5 2.3 .5 1.4 .4-.4zM234.4 594.2l1.7-1 1.1-2-1.4-2.7-2-.1-1.5 1.8 0 4 .5 .8 1.6-.8zM244.2 590.2l-.4-1.4 0 2.3 .4-.9zM277.9 597.2l1.3-4-1.4-2.7-2-1.5-1.5 3.2 .1 4 1.4 1.7 2.1-.7zM292.8 599.2l1.5-4-2.6-5.3-2.8 6.3 2.8 3.7 1.1-.7zM197.1 596.2l.1-3-1-2-2.3-.3-1.7 1.3-.1 2 .8 .8 4.2 1.2zM283.4 593.2l-.6-2.9-.3 2.9 .9 0zM264.9 593.2l-.1-1.2 .1 1.2zM77.6 597.2l.6-2-2.1-2.4-1.4 1.4-.2 2 1.6 1.9 1.5-.9zM94.4 594.2l-.3-1.7 0 2.2 .3-.5zM102.2 602.2l1.2-1 .3-2-2.6-4.8-2.7 5.8 1.7 1.9 2.1 .1zM112.9 599.2l1.5-2-.8-2-2.5-1-2 .8-.6 2.2 .9 2 1.7 .8 1.8-.8zM249.9 599.2l-.1-4.2-1-.8-2 .5-.4 2.5 3.5 2zM153.9 604.2l.9-5-2.8-4-1.9 4 .1 3 1.8 2.8 1.9-.8zM266.8 599.2l1.3-1-.2-1-3.1-1.7-.4 2.7 2.4 1zM183.1 597.2l-.2-.7 .2 .7zM213 603.2l.4-3-1.5-3.5-2 2.9-.3 2.6 1.3 1.9 2.1-.9zM89.2 602.2l1.7-2-1.1-2-2.7-.9-1.9 .9-.7 2 .6 2.1 2 .6 2.1-.7zM271.2 599.2l-.4-.9-.6 .9 .6 .6 .4-.6zM122.8 606.2l1-2-.6-2-2.1-1.5-2 .5-.9 2 .4 2 2.5 1.6 1.7-.6zM65.9 606.2l1-1 0-2-.7-1.1-2-.1-1.5 1.2-.3 2 1.8 1.2 1.7-.2zM140.5 606.2l2.1-2-.3-2-1.3-1-2 .9-.6 2.1 .6 2 1.5 0zM176.2 608.1l1.3-1-.5-2.9-2-1.4-1.4 .4-.9 1 .1 2 1.2 1.3 2.2 .6zM199.4 608.1l1.3-1.9-.1-2-2.7-1.9-1.9 1.9-.2 2 1.1 2.1 2.5-.2zM188 610.1l1.2-2-.3-1.9-1-1.2-2-.2-1.4 2.3 .4 2 1 1.2 2.1-.2zM283 609.1l1.8-2-.1-1.9-1.9-1-2 .3-1.4 1.7 .3 1.9 1.1 1.1 2.2-.1zM223.2 610.1l.7-2.5-1-1-1 .2-.9 2.3 .9 1.3 1.3-.3zM239.4 613.1l1.3-3-.9-1.6-2-.7-1.8 1.3-.3 2 1.1 2 2.6 0zM260 609.1l-.2-1.4-1-.3-.5 1.7 1.7 0zM297.5 614.1l1.1-2-.5-2-1.4-1.4-2 .1-1.3 2.3 .6 2 1.7 1.3 1.8-.3zM76 614.1l.5-3-1.4-1.3-1.9 1.3-.8 2 1.8 1.8 1.8-.8zM101.8 615.1l2.2-2-.1-2-1.2-1-2.6-.3-1.6 1.3-.1 3 1.7 1.3 1.7-.3zM166.6 614.1l.1-3-1.7-.9-1.3 1.9 .3 1.6 1 1.1 1.6-.7zM88.6 617.1l1.5-3-1-1.8-2-.5-1.6 1.3-.3 2 1.9 2.4 1.5-.4zM122.8 619.1l1.7-4-.4-1.3-2-.9-1.8 1.2-.4 2 1.2 2.8 1.7 .2zM146 620.1l1-2-.2-2-1.8-2.3-1 .1-1.3 1.2-.3 3 1.6 2.3 2-.3zM210.2 618.1l.3-2-1-1-1.6-.2-1.3 1.2 1.3 2.9 2.3-.9zM196.3 621.1l1.6-2-.1-2-1.6-1-2.3 .1-1.7 1.9 .1 2 1.6 1.5 2.4-.5zM64.9 625.1l1.5-1 .1-3-1.3-1.5-3-.4-1.1 1.9 .2 2 1.9 1.9 1.7 .1zM273.5 626.1l1.2-2-.4-2-1.5-1.4-3 .4-1 2 .3 2 1.7 1.6 2.7-.6zM289.5 624.1l.8-1-.6-2.1-2-.3-1.8 1.4 .8 2.2 2.8-.2zM80.2 627.1l.1-3-2.2-1-1.2 2 .4 2 .8 1 2.1-1zM222.7 627.1l1-2-1-2-1.8-.8-2.3 .8-1 2 .7 2 2.6 .9 1.8-.9zM171.2 630.1l1.6-2-.8-2.1-3-1.2-2.3 1.3-.8 2 1.1 1.7 2 .8 2.2-.5zM108.2 631.1l.9-2-1-2.1-2-.8-2.3 .9-.8 2 1.1 1.9 2 1 2.1-.9zM185.4 633.1l1.1-2-.6-2.1-2-1.1-2 .8-.8 1.4 .4 2 1.4 1.3 2.5-.3zM130.5 634.1l.5-3-1-1.5-2-.8-1.9 2.3 .3 2 1.6 1.7 2.5-.7zM158.4 637.1l1.8-2 0-2-1.2-1.6-3-.4-1.9 2-.1 2 2 2.1 2.4-.1zM206.1 634.1l.8-1-.2-2-2.8-.5-.8 2.5 1.8 1.4 1.2-.4zM240.4 636.1l.6-2-1.2-1.2-2-.2-1.7 1.4 .7 2.2 2 .5 1.6-.7zM143.3 637.1l2-2-2.3-1.9-2 1.9 1 1.8 1.3 .2zM291.1 638.1l-.3-3-2.1-.9-1.5 1.9 .7 2 1.8 .8 1.4-.8zM60.5 643.1l1.2-2-1.2-3-2.3-1.5-2 1-1.1 1.5 .4 3 2.7 1.8 2.3-.8zM276.3 641.1l1.3-2-.8-1.4-2-.5-2.2 .9-.5 1 .7 1.5 2 .9 1.5-.4zM118.3 644.1l1.1-2-.7-2-1.6-1.1-2 .3-1.5 1.8 .5 2.3 2 1.4 2.2-.7zM77.6 646.1l1.5-2 .2-2-1.2-2.3-2-.5-1.9 1.8-.3 3 1.2 2.4 2.5-.4zM98.1 645.1l.3-2-1.3-1.6-.7 2.6 .7 1.5 1-.5zM219.1 648.1l2.2-1 1-3-1.4-2-3-.7-2 1.3-.6 2.4 1.6 2.5 2.2 .5zM178.1 646.1l.8-1-.3-2-1.6-.9-2.6 .9-.4 2 .9 1 3.2 0zM200.9 648.1l1-3-2-1.9-4 0-2.2 1.9 .1 2 2.1 1.7 3 .2 2-.9zM148 652.1l1.4-1 .4-2-1.8-2.3-4-.6-2.6 1.9-.2 2 1.8 2 2 .6 3-.6zM302 653.1l.9-2-1.2-2.1-3-.3-1.7 1.4-.4 2 1.1 1.4 2 .5 2.3-.9zM239 656.1l.9-3-1.1-2.1-3-1-2.4 1.1-1 2 1.4 3 3 1 2.2-1zM267.2 658.1l1.7-1 .6-2-.7-1.7-2-1.2-3 1.9-.7 2 1.7 1.6 2.4 .4zM170.5 662.1l1.7-3-.5-3-1.7-1.8-4 .4-2.2 3.4 .6 3 2.6 1.8 3.5-.8zM76 662.1l.7-2-1.6-1.5-1.9-.1-1.9 1.6 .7 2 1.2 .6 2.8-.6zM193 664.1l1.3-3-1.2-2-2.2-.7-3 1.7-.7 2 1 2 2.7 .9 2.1-.9zM210.6 662.1l.3-2-1-1.5-2.7 .5-.5 2 1.2 1.7 2.7-.7zM96.3 665.1l2.3-2-.1-2-1.4-1.6-3-.1-1.5 1.7-.1 2 1.6 1.7 2.2 .3zM115.9 665.1l1.5-2-.7-2-2.6-1.1-2.4 1.1-.7 2 1.1 1.8 2 .7 1.8-.5zM135.7 664.1l1.3-2-2-2-3 0-2 2 .1 1 1.9 1.3 3.7-.3zM252.9 666.1l.7-2-1.8-2.2-3-.1-1.6 1.3-.1 2 1.7 1.7 2 .2 2.1-.9zM281 671l1.8-1.7 .3-2.2-1.4-2-2.9-.5-1.9 1.5-.4 1.9 1.3 2.3 3.2 .7zM176.7 682l3.2-1.1 1.7-1.9-.1-4-1.6-2-2.9-1.6-3-.2-3 .9-2.7 2.9-1.6 5 4.3 1.8 5.7 .2zM150.5 689l2-2-1-2-2.5-.8-2 .8-.7 2 .7 1 3.5 1zM218.1 688l.3-2-1.5-1.2-3-.6-2.9 .8 .4 2 2.5 1.5 4.2-.5zM90.8 692l2.6-3-2.3-2.8-5-.5-3.2 2.3 0 2 2.2 2.2 3 .5 2.7-.7zM170.1 713l4.4-2 2.5-3.9 6.9-.4 5 1.4 5 .3 5.1-1.4 1.4-1 .5-2-4-2.5-6-.5-4 .6-4 2.8-2-.2-.6-1.2 3.5-2 1-2-2.3-2-5.5-1.5-12-.5-6 .7-3.7 1.3 .1 4 9.3 3-4.9 2-2 3 .6 2 5.6 2.3 6.1-.3z"/><path fill-rule="evenodd" fill="#a8a8a8" d="M309.7 751.9l-43.9-1.6-29-.1-7.9-.8-35 .6-40.9-1.6-43.9-.1-23-1.1-10-1.1-2.2-1.2-.9-3 4.1-3.6 20-3.3 26-1.6 6.9-3 2.6-3.4-1.6-3.3-9.3-7.7 4.4-2.5 1.3-2.5-1-4-3.3-5.3-21-.8-9-1.9-6.4-4 .2-1 4.2-1.2 2.3-1.8 .7-2-1-2-3-1.6-3-.3-7 3.3-3-1.4-3-3-1.7-4 .8-3.7 7.3-1.3 1.9-2-3.9-4-2.5 1-3.8 3.5-2 .6-1.2-1.1-1.8 2.5-3 1.1-6-1.8-3.8-4.8-.3-5.9 3.9-7 .7-3-.8-3-1.7-2-7-3.3 0-14 2.8-1.7 .7-2-.6-2-2.9-2 0-10.5 3 .4 1.2-.9 .7-2-1.9-2.6-3-.3 0-9.8 1 2.5 1-.5 2.6-5.2-1.6-2.6-2-.4-1-4.8 0-13.9 2-4.3-2-3.5 .2-27.4 1.6-14-.1-8 .6 0 .3 5-.4 15 .8 8.9 .8-8.9-.5-13 .9-7 1.1 0 .7 5.1 .6-5.1 1 0 .4 6.2 .4-6.2 2.6 0 1 12.7 1 .9 1 4.7 .7-6.3-.2-12 2.3 0-1.6 28 .6 11.9-1.8 2.7-2-.9-2-16.2-1.9 8.4-.1 6 .4 6 2.6 3.1 1-1.2 1 2.5 3.4 1.6-.2 5 .8 2.9 .9-4.9-1.7-4-.2-12 3.3-38.9 1.2 0-.3 13 1.8 17.8 1 2.9 1-6.8 1 7.4 .6-3.4-2.9-30.9 7.3 0 .9 20.9 .7-6.9-.4-14 2.3 0 .4 23-.7 18.9 1.7 3.8 1-2.7 .4 9.9 1.6 2.5 1-3.3 0 3.8-1 .7-1.4 4.3 2.9 5-.5 4 1 .6 .1-4.6 1.4-5-.1-18 1.2-7-.6-3.8-.9 4.8 .6 5-.7 .4-2-9.3-1 9.5-1.2-1.6-.1-2 .9-17.9-.1-21 1 0 .5 16.1 1 3.9 1 .4 0-6.9-1 1-.1-1.5-.2-13 5.1 0-.5 24 .7 4.8 .7-3.8-.2-25 2 0 .5 4.5 .4-4.5 2.5 0 1.3 6-1 24.9 .8 6.1 .9-2.1 .8-7.9-.6-27 2.1 0 1.1 19-1 20.9 .7 4.1 2 1.2 .6-5.3-1.2-25.9 .5-14 2.1 17.8 1.4-4.8 1.6-2.5 2-8.6 1 7.1-.1 10-1.9 15.7-1-1.4-.9 3.6 .4 17-1.2 2 .2 1 1.5 .6 3.7-4.6 2.3-27.9 1.5-9 .4-16 1.7 0 .1 5-2.5 27.9 .1 7 .7 2.7 2-12.4 1-2.1 1 14.2 .8-4.4-.1-20.9-2.1-15 .2-2 3 0-.5 22 3.6 23.6 .8-4.7-.7-18.9 2.9-8.8 1 15.4 1-28.6 1 5.1 1-1.8 .2-3.3 1.6 0-.5 24 .7 5.2 .3-29.2 8.2 0 1.5 1.9 .8 22.1-.9 7.9 1.1 13 1 3.6 .9-6.6-1.7-15.9 .3-26 2.1 0 .4 7.4 1-.7 .7-6.7 2 0 1.3 4.9 1.1-4.9 .9 23 1 3.8 1-7.1 .7 12.2 .3 .9 1-1.8 .3 .9 .3 16 1.4 2.4 1-.6 .8 9.2-2.8 2.7-.6 4.3 .6 1.6 1-.2 1-2.9 2.9 1.5 .2 5 .9 2 .7-2-.4-5 2.4-6 0-7-.7-2.6-1 9.1-3.4-.5 .3-9-3-7 .7-12 .4-1.1 1 4.9 .7-4.8 .7-29.9 1.5 0 .2 14 1.9 26.3 1.2-2.4 .7-8-1.1-29.9 1.3 0 .9 12.4 .9-12.4 1.1 1.6 1 0 .2-1.6 1.6 0-.5 16-.3 1.7-1-.6-.7 7.9 .7 9.4 1.9-15.1 1 12.3 .7-3.6-.3-13 1.2-9-.2-6 2 0 .6 9.4 .9-9.4 6.6 0-.3 20 .8 2.4 1-14.3 1 35.2 2-43.3 1.1 0 .9 3.8 .6-3.8 1.6 0 .1 28 .7 7.7 1 1.3 1-12.5 2-2.4 .5-4.1-.9-18 8.1 0-.4 29 .7 3.3 1-12.5 .4 12.1 2.6 14.9 1-46 1 4.9 1-2.6 1 21.9 1 5.3 1-6.7 1.3 17.3-1.5 12 1.2 15.3 2-4.5 3 2 1.5-1.8 .2-2-1.7-5.5-2.3 2.5-.7-7-.8-10 1.4-24.9-1.2-17 8 0 .5 21.7 .6-9.7 2.1-12 2 0 1.3 25.5 1-6.5 1 8.5 2-9.2 .6-18.3 1.4 0 1 21.3 2 6 .7-7.3-1.4-8-.4-12 2.5 0 .6 18.9 1.2-18.9 1.2 0 .6 12.4 1-12.4 2.1 0-.1 16.8-1-2.2-2 13.9-1-7.2-1.8 19.6 .8 5.6 2-5.8-.2 12.2-1.8 4 3 5.5 1.8-3.5 .3-7 3.6-23.9-.1-16 1.2-12 1.6 0 1.2 7-.3 11 .7 5.9 1-3.9-.7-20 2.4 0 .1 14 2.2 30.9-2.6 8 .6 4.3 2-4.1 1 1.9 1.3-5.1-.7-6 .2-27.9-.8-8-1-.3-.4-1.7-.3-6 5.7 0 1 10.4 .7-10.4 1.5 0 .8 9.8 .8-9.8 1.8 0 2.3 37.8 .8-4.9 .4-32.9 2.4 0 .4 3.8 .4-3.8 1.4 0-.6 18 1.2 11.9-.2 16 .8 1.7 2-16.1 1 3.7 1-3.4 1 3.1 .6-3 1.4-25.9 1 7.7 .4-13.7 2.9 0 .7 11.6 .4-11.6 3 0 .6 14.6 .8-14.6 .5 0 .7 9.4 0 52.2-1-3.7-3.4 9 2.4 1.5 2 0 0 26-2-1-1 .5-1.8 3.9 1.8 3.5 3-.4 0 7.5-5.5 1.4-1.4 2 .9 2.6 6 1.4 0 10.6-8 .2 .2 4.2-4.2 1.7-1.5 2.3 .5 2 3 1.5 3.5-1.5 1.5-2.5 2 .2 .7 1.3-4 7-2.9 13.9-2.8 .7-7-2.2-2 .6-4-.5-.9-.7-.5-4.8-2.5-1.9-3 .5-1.4 1.4-.3 1.9 1.3 4 6.4 3.8 2.4 3.2 .4 3-1.9 5.3-1.9 1.3-5 .8-2.1 2.6 2.2 4 3.3 10-.9 8 3.8 4 5.1 9 4.5 4.2 16 3.4 0 17.3zM128 525.5l-1-9.2 1.1 0-.1 9.2zM164 546.5l-1.8-26.2-.2-1.7-1 11.4-.6-13.7 2.9 0 .7 6.4 1.2-6.4 2.1 0-.3 12.5-1 3.8-1 .7-1 13.2zM180.9 523.5l-.6-7.2 .8 0-.2 7.2zM242.8 525.7l-.3-8.4 0-1 .7 0-.4 9.4zM295.7 526.5l-.4-10.2 .7 0-.3 10.2zM76.2 532.3l.6-6-.7-8.3-.5 8.3 .6 6zM145.1 530.3l.6-4-.7-8.2-.7 8.2 .7 4.6 .1-.6zM190.4 576.2l3.2-10-1.7-8.3-1 2.5-.2-1.2 1.2-24.9-2-15.1-2 27.2-1-7.9-.3 3.8 .6 17.9 .7 3.2 1 .1 1 13.3 .5-.6zM210.1 531.3l.5-4-.7-4.2-.6 4.2 .6 5 .2-1zM208 534.3l.6-5-.7-5.6-.9 6.6 .9 4.7 .1-.7zM92.3 535.3l.5-4-.7-7-.6 7 .6 4.8 .2-.8zM273.9 535.3l-.1-8.1 0 9 .1-.9zM200.1 538.3l.6-5-.8-5.5-.6 5.5 .6 5.9 .2-.9zM238.9 539.3l-.1-9.2 0 9.8 .1-.6zM278.9 541.3l.6-5-.7-6.6-.8 7.6 .8 4.9 .1-.9zM155 553.2l1-15.9-1-6.7-.8 18.6 .8 4zM230.9 545.3l.7-7-.7-4.2-.8 6.2 .8 5.6 0-.6zM136.1 544.3l.7-4-.8-6 .1 10zM304.8 565.2l2-10 .1-16.9-1.2-3.6-.3 17.5-1.7 10 1.1 3zM262.9 543.3l-.1-7.8-.7 4.8 .7 3.7 .1-.7zM276 548.2l.5-5.9-.7-6.9-.8 8.9 .8 4.7 .2-.8zM143.6 560.2l.4-19.9-1-3.8-1 4.7-1 .8-1.8 13.2 .8 4.2 1-4.8 1-.8 1 7.3 .6-.9zM151 547.2l0-10.7-.7 5.8 .7 4.9zM288.4 577.2l1.2-6-.9-34.9-1 1.7-.5 22.2-2.2 5 1.3 12 1.4 .9 .7-.9zM78.4 566.2l1.5-10 .1-10-.9-7.4-1 2.7-1-4.2-.7 8.9 .9 17 .8 3.6 .3-.6zM99.2 552.2l.7-5-1.8-9.8-.9 1.9 0 4 2 8.9zM228.9 539.3l0-1.8 0 2.4 0-.6zM54.3 544.3l-.1-4.3 0 5.2 .1-.9zM185 547.2l.6-2.9-.7-4 .1 6.9zM308.7 557.2l.9-7-.9-7.9-.8 8.9 .8 6zM56.7 554.2l.3-6-.8-4.1-.6 5.1 .6 5.7 .5-.7zM301.8 551.2l.6-4-.7-3.5-.5 3.5 .5 5 .1-1zM68.2 550.2l0-3.8 0 3.8zM175.1 556.2l.5-4-.6-5.2-.9 5.2 .9 4.6 .1-.6zM240.8 558.2l.7-4-.7-7.6-.7 8.6 .7 3zM52.2 557.2l0-8.1 0 8.1zM183 554.2l-.1-5.2-.6 3.2 .7 2zM238 575.2l1.5-5-2.7-20.8-1 4.2-1-.9-.6 6.5 1.7 6 .2 8 .7 2 1.2 0zM81.4 562.2l.6-7-.9-4.2-.9 7.2 .9 4.7 .3-.7zM208.5 590.2l3.5-8 .7-6-.8-5.5-1 4.8-2.1-4.3 .4-9 1.4-4-.7-7.4-2 8.4-1-3.1-2.3 10.1 2 21 1.3 3.8 .6-.8zM264.9 560.2l.5-5-.6-4.2-.8 4.2 .8 5.9 .1-.9zM157 555.2l0-3.5 0 3.5zM161.1 568.2l.7-10-.8-5.6-1-.4-1 .4-.7 6.6 1.8 8 1 1zM250.8 565.2l.5-6-.5-2-1 1.4-1-4.4-1.1 8 1.1 1.9 2 1.1zM212 566.2l.9-7-1-4.7-.9 6.7 .9 5.7 .1-.7zM229.9 564.2l.8-5-.8-4.5-.7 6.5 .7 3zM243.9 559.2l-.1-4.6 .1 4.6zM277.1 584.2l1.8-4-.6-21-.5-3.5-1-.3-.4 12.8-2.5 12 1.9 4.6 1.3-.6zM169 566.2l1-4-1-5.2-.9 5.2 .9 4zM221.4 569.2l.6-2-1.1-7.5-1.5 8.5 1.5 1.5 .5-.5zM298.8 569.2l1.9-2.1 1 .4 .5-3.3-.5-3.4-1 2.1-2-2.7-1 5 1.1 4zM146.5 566.2l.3-4-.8-1.6 0 6.6 .5-1zM151.6 584.2l1.4-1.6 3-.6 .5-1.8-2.8-4 1.1-12-.8-2.4-2.5 1.4-.9 6-.5 12 .9 3.6 .6-.6zM55.3 582.2l3.7-3 .4-2-2.1-5-.1-8.1-1-1.8-2.9 13.9 .9 5.3 1.1 .7zM283.8 569.2l.8-3-.8-3.4-.7 4.4 .7 2zM121.4 574.2l0-9-.3-1.6-1 0-1.4 2.6 1.7 2-.1 4 .8 2.6 .3-.6zM199 572.2l1.5-5-.6-2.8-1.6 6.8 .6 1.6 .1-.6zM94.7 581.2l1.1-12-.7-3.3-.9 2.3-.8 10 .7 3.9 .6-.9zM133.6 569.2l-.6-3.2 0 4.1 .6-.9zM81.4 570.2l.8-2-1.1-1.9-1.7 1.9 .7 1.7 1.3 .3zM138.4 574.2l-.4-7.7-.8 .7 0 5 .8 2.7 .4-.7zM72.5 583.2l2.2-5-2.5-4-1-5.9-.9 2.9 0 8 1.1 4 .8 .7 .3-.7zM234 570.2l-.2-1.7 0 2.5 .2-.8zM264.7 582.2l2.4-4-1.3-9.2-3 5-.8 3.2 .2 4 1.6 1.5 .9-.5zM145.4 580.2l1.3-7-.7-3.5-1.7 3.5 .7 7.9 .4-.9zM126.1 578.2l1.9-1.7 2 1.7 .9-3-.9-3.7-2 1.3-1.9-2.4-1 .7-1.2 4.1 1.2 2.8 1 .2zM181.1 580.2l1.1-2-.3-2.4-2-2.1-.9-3.2-1.6 7.7 1.2 2 2.5 0zM98.7 580.2l.4-2.9 3 1.7 1 .2 .6-1 .3-3-.9-2.9-1-.1-4 3.5-.7 3.5 .7 2 .6-1zM117.3 580.2l.6-3-.8-4.4-1 5.4 .4 2 .6 .6 .2-.6zM174.4 577.2l.3-3-.7-2-.8 4 .8 1.8 .4-.8zM185.4 575.2l-.5-1.9 0 2.8 .5-.9zM298.3 582.2l.4-6-1-2.8-2 .4-.8 4.4 2.8 5 .6-1zM190.1 584.2l1.8-1.1 1.1-1.9-2.1-3.3-1-.3-1.2 4.6 .2 1.4 1.2 .6zM251 587.2l.4-4-3.6-5.8-3.1 4.8-.2 3 2.3 1.8 4.2 .2zM136.3 584.2l1.7-2-3-3.9-1.1 4.9 1.1 1.7 1.3-.7zM203.3 579.2l-.4-.7 0 1.2 .4-.5zM239.5 590.2l.5-4-3.2-7.5-.6 5.5 1.8 6 .8 .7 .7-.7zM106.4 593.2l2.7-3.2 .9-3.8-2.9-6.9-1 .2-1.4 2.7-.5 4 .4 5 .5 1.4 1.3 .6zM67.8 588.2l1.4-.9 .7-2.1-.7-4.4-2 4-2.8 1.4-.1 1 1.9 2 1.6-1zM83.6 587.2l0-5-2.5-1.7-.6 2.7 .6 2 2 2.9 .5-.9zM140.1 588.2l-1.1-6.9-.9 .9 .9 5.4 1.1 .6zM219.9 590.2l1-3-3-5.4-2 .8-.5 4.6 1.5 3 2 .7 1-.7zM261 587.2l.7-3-.9-2.8-.8 3.8 .4 2 .6 0zM287.4 587.2l1.2-3-.9-2.4-1-.4-2.3 3.8 1 2 2 0zM165 597.2l.5-3-3.2-3 .6-5-.9-3.1-2.8 8.1-.1 4 .9 1.8 4 1 1-.8zM268.9 588.2l.8-2-.9-3.1-.9 3.1 1 2zM281.7 587.2l-.9-4.3-.6 3.3 .6 1.4 .9-.4zM123.6 588.2l-.5-4.9-3 .5-.5 2.4 3.5 2.7 .5-.7zM144.2 595.2l2.8-7-2-5-1 1.4-.8 4.6 .2 5 .8 1zM306.5 600.2l.9-3-1.8-4-.1-8-1.8-1.5-1.3 2.5 .8 7-.7 5 2.2 2.6 1.8-.6zM177.2 588.2l-.2-3.5-.7 2.5 .9 1zM60.4 588.2l-.2-2.2-.7 1.2 .7 1.5 .2-.5zM101.4 590.2l1.2-3-1.5-1.4-2 .2-.6 2.2 2.9 2zM189.4 589.2l.3-2-.8-1.3-.4 2.3 .4 1.4 .5-.4zM258.2 594.2l1.5-6-1.2-2-1.7-.7-1.8 1.7-.7 2 3.5 5.5 .4-.5zM131.3 597.2l1.1-2 0-2-3.4-7-1.7 9 1.7 2.4 2.3-.4zM55.2 588.2l0 .5 0-.5zM183 593.2l1.6-2 .1-2-.8-1.4-2-.5-1.3 2.9 1.3 2.6 1.1 .4zM233.5 595.2l3.8-3 .4-3-.9-.9-3-.3-1.4 1.2-.4 5 .8 1.4 .7-.4zM115.5 593.2l.7-3-1.1-1.9-.7 2.9 .7 2.4 .4-.4zM244 591.2l-.2-2.9-.8 1.9 1 1zM277 598.2l1.9-2 .5-3-3.6-4.9-1.7 3.9-.2 3 .9 2.3 2.2 .7zM283.8 594.2l.1-3-1.1-2.3-.6 4.3 .6 1.2 1-.2zM157.3 591.2l-.3-1.8-1-.1 0 2.5 1 .3 .3-.9zM292 601.2l2.6-5-2.9-6.8-3.2 6.8 .7 2 2.8 3zM197.4 596.2l-.2-4-1.3-1.6-2 .1-2 1.5-.2 2 .8 1 4.4 1.7 .5-.7zM267.5 599.2l1-2-3.1-2-.6-4.3-.8 7.3 1.8 1.3 1.7-.3zM94.2 595.2l.6-2-.7-1.5-.5 2.5 .6 1zM298.8 593.2l-.1-1.1-1-.1 0 1.9 1.1-.7zM76.8 598.2l1.6-3-2.3-2.7-1.5 1.7-.2 2 .7 1.7 1.7 .3zM102.9 602.2l1.2-3-3-5.6-2.9 6.6 1.9 2.2 2.8-.2zM111.7 600.2l3-2 .2-2-.8-1.4-4-1-1.8 1.4 0 3 1.8 2.1 1.6-.1zM250.3 599.2l-.5-4.9-3 .1-.7 2.8 3.7 2.8 .5-.8zM153.4 605.2l1.3-2 .4-3-.4-2-2.7-3.7-1.5 2.7-.7 4 1.2 3.4 1 .9 1.4-.3zM183.4 597.2l-.5-1.6-.4 1.6 .4 .7 .5-.7zM87.3 603.2l2.8-1.1 1.2-1.9-1-2-3.2-1.1-2 .8-.7 2.3 .7 2.7 2.2 .3zM212.3 604.2l1.4-3-1.8-5-2.6 5 1.3 3 1.7 0zM271.4 599.2l-.6-1.6-.8 1.6 .8 .9 .6-.9zM230.2 600.2l-.3-1.1 0 1.6 .3-.5zM171.3 600.2l-.3-.7 0 1.2 .3-.5zM286 601.2l-.3-1.4-.3 1.4 .6 0zM122.2 607.1l1.8-1.9-.4-3-2.5-1.8-2 .2-1.4 1.6 .4 3 2 1.9 2.1 0zM141.4 606.2l1.5-2-.3-2-2.6-1.2-1.7 2.2 .2 3 .5 .7 2.4-.7zM66.3 606.2l1-2-1.1-2.4-2 0-2.3 1.4 .3 2.6 2 .9 2.1-.5zM200.1 608.1l1-1.9-.2-2-2-2-2 .1-1.4 2.9 .9 2.9 1.5 1 2.2-1zM177.5 608.1l.5-1.9-1-2.5-2-1.1-2.1 .6-.7 2 .9 1.9 2.9 1.7 1.5-.7zM283.5 609.1l1.8-2 0-1.9-1.5-1.5-3 .6-1.7 1.9 .2 1.9 2.5 1.6 1.7-.6zM188.3 610.1l1.1-2-.1-1.9-1.4-1.7-2-.2-1.5 1.9 .2 2.9 1.3 1.6 2.4-.6zM223.6 610.1l.5-3-2.2-.6-1.1 1.6 .3 2 .8 .6 1.7-.6zM260.3 609.1l-.5-1.9-1.2-.1-.6 2 .8 .9 1.5-.9zM240.2 613.1l1-2-.4-2-2-1.7-2 .2-1.6 2.5 .3 2 2.3 1.9 2.4-.9zM298.3 614.1l.8-2-.7-2-1.7-1.7-2 0-1.5 1.7 .5 3 2 1.7 2.6-.7zM74.7 615.1l1.6-1 .6-2-.8-2.5-1-.4-2.4 1.9-.8 2 1.3 1.9 1.5 .1zM102.5 615.1l2-2-.1-2-1.3-1.3-3-.2-2.4 2.5 .3 2 2.1 1.6 2.4-.6zM165.4 615.1l1.6-1 .3-2-1.1-2-1.2-.4-1.3 1.4-.2 2 1.9 2zM89.5 617.1l1.2-2-.2-2-1.4-1.4-2-.3-1.9 1.7 .1 3 1.8 1.9 2.4-.9zM123.5 619.1l1.2-5-2.6-1.7-2 1.5-.3 3.2 1.3 2.2 2.4-.2zM146.4 620.1l.9-2-.3-2-2-2.8-1 0-1.6 1.8 .1 4 1.5 1.6 2.4-.6zM209.7 619.1l1-3-.8-1.1-2-.4-1.7 1.5 .2 2 1.5 1.4 1.8-.4zM196.8 621.1l1.8-2-.7-2.9-3-.6-2 .9-1 2.6 .9 2 2.1 .8 1.9-.8zM66.4 625.1l.9-2-.8-3-4.3-1.7-1.5 2.7 .7 3 2.8 1.6 2.2-.6zM272.1 627.1l1.9-1 .9-3-1.1-2-3-.8-2.4 1.8-.1 2 1.5 2.5 2.3 .5zM290 624.1l.8-2-1.1-1.7-2 0-2.1 1.7 1.1 2.6 3.3-.6zM79.9 628.1l1.2-2-.4-2-2.6-1.3-1.2 1.3 0 3 1.2 1.6 1.8-.6zM221.7 628.1l2-2 0-2-1.8-1.8-3 .3-1.5 1.5-.2 2 1.7 2 2.8 0zM171.8 630.1l1.3-3-2.1-2.5-3 0-2.6 2.5 .1 2 1.5 1.2 3 .5 1.8-.7zM107.3 632.1l1.8-1.4 0-2.6-2-1.9-3 .4-1.2 1.5 .2 2 2 1.9 2.2 .1zM185.9 633.1l.9-2-.9-2.6-2-1.1-2 .7-1.4 2 .6 2 1.8 1.7 3-.7zM129.7 635.1l1.7-2-.1-2-1.3-1.9-2-.9-2 1.8-.4 2 1.5 2.6 2.6 .4zM206.5 634.1l.6-3-1.2-1-2 .2-1.1 1.8 .7 2 1.4 .7 1.6-.7zM159.3 637.1l1.4-2-.6-3-2.1-1.6-3 .7-1.5 1.9 .5 3 2 1.6 3.3-.6zM144.5 637.1l1-1 0-2-1.5-1.1-2 .2-1.4 1.9 .4 1.4 2 1.1 1.5-.5zM238.9 637.1l2.4-1 .5-2-2-1.7-2-.1-1.4 .8-.8 2 1.2 1.6 2.1 .4zM290.1 639.1l1.3-1 .3-2-1-1.5-2-1-1.6 1.5-.2 2 1.8 1.9 1.4 .1zM59.6 644.1l2.1-2 .2-2-1.7-3-3-1.7-2.7 1.7-1 2 1.8 4 1.9 1.2 2.4-.2zM276.9 641.1l1.1-2-1.2-1.8-2-.6-2.9 1.4-.4 1 1.3 2 2 .6 2.1-.6zM77.2 647.1l1.7-2 .7-3-1.5-2.6-2-.5-2.2 2.1-.3 3 1 3 1.5 .6 1.1-.6zM117.5 645.1l2.2-2 0-2-1.8-2-2.8-.2-1.8 2.2 .2 2 1.6 1.8 2.4 .2zM98.5 645.1l.2-2-1.6-2-.8 1 .2 3 .6 .8 1.4-.8zM221.2 648.1l1.6-2-.1-3-2.8-2.1-3 .1-2 3 .8 3 2.2 1.8 3.3-.8zM178.6 646.1l.9-2-1.5-1.8-2-.3-1.9 1.1-.3 2 1.2 1.4 2 .3 1.6-.7zM200.2 649.1l2.5-3-1.8-2.9-4-.6-3.8 2.5 0 2 1.8 1.8 3 .8 2.3-.6zM148.8 652.1l1.2-1 .5-2-2.5-2.9-4-.5-3 2.4-.3 2 2.3 2.4 3 .5 2.8-.9zM239.2 657.1l1.2-3-1-3-3.6-1.4-2.8 1.4-.9 3 1.7 2.7 3 1.2 2.4-.9zM268.2 658.1l1.2-1 .4-2-1-2.3-2-1.1-3.5 2.4-.8 2 3.3 2.4 2.4-.4zM168.2 664.1l2.8-1.1 1.9-3.9-1-4-2.9-1.5-4 1.5-1.9 4 .3 2 1.6 1.9 3.2 1.1zM191.9 665.1l2.3-2 .9-3-2.2-2-2-.4-3 1.7-1.1 2.7 2.1 2.9 3 .1zM210.1 663.1l1.2-3-1.4-1.9-2-.1-1.6 2 .4 2 1.2 1.1 2.2-.1zM74.4 663.1l2.2-1 .5-2-2-1.8-2.9 .2-1.4 2.6 1.4 1.6 2.2 .4zM97.6 665.1l1.3-2-.7-3-2.1-1.2-3 .9-1 2.3 1 2.5 2 1.1 2.5-.6zM116.7 665.1l1.2-3-1.8-2.3-3-.2-2 1.5-.6 2 1.6 2.3 2 .5 2.6-.8zM135.1 665.1l2.2-2-1.3-2.9-3-.7-3.3 1.6-.5 2 .7 1 5.2 1zM251.9 667.1l1.9-2-1-2.9-4-.9-2.7 1.8 .3 2 1.4 1.5 2 .8 2.1-.3zM176.3 684l4.6-1.1 2.7-2.9-1.1-5-4.5-3.9-4-.9-5 .5-5 4.3-2.1 3 .1 2.3 2 1.9 5 1.5 7.3 .3zM217.8 689l1.5-2-2.4-2.6-8-1.5-3.7 1.1-.3 1 7 3.6 3 .8 2.9-.4zM152.3 689l1.1-2-1.4-2.4-3-.9-2.5 1.3-.5 2 1 1.5 3 1.3 2.3-.8zM123.9 695l1.7-1-1-2-5.5-2.9-6.6 .9-2 2 3.6 2.3 6 1 3.8-.3zM171.6 713l12.3-4.3 10 0 4-.8 3.5-1.9 .7-2-2.2-2.3-6-2.7-4-3-7-2.2-14.9-1-11 .8-3 1.1-1.4 5.3 1.1 4-6.3 6 .6 .9 16 2.8 7.6-.7z"/><path fill-rule="evenodd" fill="#b4b4b4" d="M309.7 750.9l-35.9-.6-8-.9-28 0-8.9-.9-35 .5-40.9-1.4-43.9-.1-22-1.1-12-1.8-1.1-1.7 .3-1 3.8-2.7 19-3.2 29-2 9.4-3.1 5.2-2.9 1.2-2-1.4-3-3.7-4-2.2-4-5.6-4.1-6.1-11.9 .2-1 4.3-4-1.3-2.8-2.4-2.2-7.6-1.3-6 .6-6.2 2.7-3.5 4-3.3 0-2.1-1 .4-5-2.5-3-4.8-1.4-8 1.4-4-2.1-1.7-1.9 .5-3 2.2-1.7 22.1-2.3 7.6-2 .9-2-1.6-2-7.7-2.9 1.1-4-1.4-2.7-3-1-2.7 1.7-.7 3 2.9 4-2.5 1.3-13-1.1-7.9 2.8-4-.3-4 1.1-3-.9-2-2.2-.6-3.7 2.7-10-3.6-8 4.5-2.6 1.1-3.4-4.1-8.4-2-1.3-3 .4-.7-4.7-3.3-2.7 0-8.8 4-.9 1.1-2.6-1.1-2.2-4-2.5 0-4 1 .5 1-1 2.8-6.7-.7-2-2.8-2-1.3-6.5 0-10.3 2.3-5.2-2.3-4.6 .4-25.3 1.6-23 1 42.5 .5-34.5 1.1-8 1.4 6.1 .8-6.1 .5 0 .7 7.8 .6-7.8 2.3 0 1.1 14.2 1 1.1 1 4.3 .7-19.6 1.8 0-1.7 38.9-.8 2.5-1.9-1.5-1.1-11.9-1-3.6-2 8.7-1-6.3-.6 4.1 .4 14-2.7 15 .9 6.4 1 1 4.4-5.4-2-6 .6-7.6 2 1.9 1-1.1 1 2.5 3 2.7 1 6.5 1-1.1-1.7-20.8 3.2-38.9 .8 0-.1 14 1.8 18.8 1 2.5 1-6.5 1 6.5 .6-4.4-2.5-30.9 5.5 0 1.3 2.2 .4 4.8-.3 13-1.1 3.1-1-3.9-.7 7.8 1.3 24.9 3.4 2.8 1.6-1.8-1.2-4 .6-6.5 .6 3.5 2.4 2.4 1 8.6-.5 5 2.2 4 .3 5 1 .4 1.7-10.4 1-25-.7-5.3-1 7.4-1-5.7-1-1.5-1 9.3-.9-4.2 .6-35.9 .6 0-.1 10 1.8 14.5 1-1.8 .3-5.7-.3-5.5-1-1.6-.1-9.9 4.6 0-.2 25 .7 4.5 .7-4.5 .2-25 1.5 0 .6 6.2 .6-6.2 2.1 0 1.3 9-.9 22.9 .9 6.5 1-1.7 .9-9.7-.6-27 1.8 0 1 21-.8 18.9 .7 5.7 1 1.9 1-1.1 .7-5.5-.7-39.9 2 18.1 3-6.7 2-8 .5 14.6-1.5 13-1-.3-1 4.2 .3 17-1.4 3 .1 1 2 1.1 3-.9 1 7.5 1 .8 .9-4.5-1.3-8 1.3-3-1.2-5 2.3-22.6 0 16.6 1 5.9 2-11.6 1-1.5 1 11.9 .7-3.7 .1-22.9-1.4-17 2.2 0-.3 26 3.6 20.8 .8-5.9-.3-16.9 1.5-7.3 1-1.3 1 14 .4-3.4 .6-25.2 2 7.8 .5-8.6 1 0-.3 24 .8 6.6 .6-30.6 2.4 0 0 8.5 .9-2.5-.3-6 3.3 0-.7 10 .8 5.6 1-15.2 2 4.6-.1 27.9 2.2 19-.1 14 1 3.4 2.2-2.4 2.8-.8 .7-2.2-2.8-4 .9-13-.8-2.1-3 .2 .6-20-.6-6.3-1 9.5-.3-28.2 1.7 0 .6 9.6 1-1.4 1-8.2 1.3 0 .7 7 1.1-1 .9-6 1.5 29.9-1.3 8 .1 6 1.7 8.2 1 1.4 .9-3.6 .1-13 1-2.5 .3 13.5 .7 2.4 2 1.2 .3 6.4-.3 1.4-1-.3-1 1.3-1 6.8-1-1.1-.7 .9-2.9 10 1.6 4.7 4 .9 1-.5 .9-3.1-.5-2-2.4-2.8 .9-5.2 2.1-3.6 2.3 .6 1.7 7.7 .8-1.7 .1-6 2.1-4 1 .8 .9-2.8-.3-4-.6-1.6-1-.2-1-8.2 2-10.1 1 6.3 .7-6.2-1.3-8.9-1.2-27 .8 0 1 13.8 1-13.1 2 3.8 .5-4.5 .9 0-.4 15-1-.4-.8 10.4 .8 10.7 1.9-14.1 1 11.1 .7-3.7 .8-29 1.8 0 .7 10.5 .9-10.5 4.1 0-2 28.2-1-7.1-.5 4.9 .7 17.9 1.8 7.3 .7 9.7-1.1 4 .4 9.1 1.2-1.1 0-4 3.1-4-2.1-4 .8-6.3 1.9-4.7-2.1-13 .2-10.6 1.7-3.3 .3-9 1 30.4 .8-4.5 .2-22.9 1 1.3 .5-14.3 .5-1.5 1 2.5 .9-5 1.2 0 .2 29 .7 8.3 1 1.3 1-11.1 2-3 .8-5.5-.9-19 7.7 0-.4 32.9 .8 1.1 1-9.2 .3 8.1 2.7 17 1-46.7 1 3.5 1-.7 1 21.9 1 4.4 1-5 .4 4.6 .3 11-1.3 10 1.6 16.2 2-4.1 3 1.1 1-1 .9-3.2-1.9-6.6-2 3.1-.8-6.5-.6-11 1.1-23.9-1-17 7.5 0 .7 24.3 .8-11.3 2.2-13 1.4 0 1.4 27-.6 11.9 .8 3.9 .8-3.9-.3-11.9 .5-2.9 1.3 4.9 1.7-8.9 .7-20.1 1.1 0 .1 11 2 19.9-1.1 15 1.2 2.8 2 1.6 .7-7.4-.7-4-1 .8-.7-5.8 1.4-13.9-1.5-20 2.1 0 .7 20.1 1-16.3 .5-3.8 .8 0 1.1 20-.4 4-1-4.3-.3 1.3-1.6 21.9 .9 4.7 1.1-.7 .5 4-.2 3-1.8 3 3.4 6.1 1-.3 .8-2.8 1.2-13.5 2.8-17.4 .1-16 1.3-13 1 0 1.1 9 .7 16.3 1-.1 .5-1.2 1.5-5.9 .2 1.9 1.5 24.9-2.4 8 .7 5.9 2-4.7 1 1.6 1.5-5.8-.8-6 .1-28.9-2-15 4.9 0 1.3 11.7 .7-11.7 1.4 0 .7 11-.8 .7-.8 9.3 .8 6.2 .7-6.2-.6-9 1.2-2 .5-10 1.6 0 2.5 39.1 .8-6.2 .5-32.9 2 0 .7 6.2 .7-6.2 .8 0-.4 18 .9 20.1-1 4.9-1-25.3-1 3.3-.7 22.9-2.3 4.7-.9-3.2-.8 4.5 .8 4.1 .9-4.8 1.4 11.7 1.2 3-3.1 4-.3 2 .4 1 2.4 .7 2.1-2.7-1-5 1.7-5 .9-11 .3-.7 1 1.7 .5-7 1.5-5.8 1 1.6 1-1.9 1 .8 .2-.7 1.8-25.6 1 4.5 .1-.8 .5-14 2.5 0 .9 12.8 .5-12.8 2.8 0 .7 16.6 1.1-16.6 .9 32-1-8.6-.9 12.5 .9 10.3 1 2.1 0 12.6-1-4.4-2 6.3-4.4 6.1 .5 8-.7 4 1.6 3.5 2 .4 1.2-.9 .7-3-1.8-5 .2-6 .7-1.4 3 .3 0 24.8-3-.3-1.8 2.5-.5 3 2.3 3.4 3-.1 0 5.8-5 .4-1-.5-1-3.2-1-.3-2.5 9.5 .3 2 2.2 1.9 8-.9 0 4-6-.8-2.9 4.8-1.1 5.9-3.5 3.1-.4 2 .9 1.8 5.8 2.2-3 9-1.8 2.9-11.3 2-1.4-1-2.2-4.4-4-.9-2.9 2.4-.2 3.9-1.3 3 .4 1.2 7 2 3.2 2.8 .5 2-1.7 5.4-7 3-1.4 1.6 1.3 7 3.3 8-.3 8 3.8 5 3.4 7 5.8 5.8 17 3.7 0 15.4zM82.1 556.6l-1-7.1-1 3.1 .5-36.3 1.9 0 .4 23-.8 17.3zM120.1 536.2l0-16.2 1.1-3.7 .1 9-1.2 10.9zM161 525.4l-.3-9.1 .8 0-.5 9.1zM164 543.3l-1.4-27 1.4 8.4 1-1.4 .6-7 1.3 0 0 9-.9 5-1-1.3-1 14.3zM170 575.2l-1-.2-.8-1.8 2.2-9-.2-5-1.2-3.8-1 7.3-1-1.9-1 .8-.6-2.4 .6-9.1 1 3.6 .8-7.5 .7-29.9 1.1 0 2.4 45.9-2 13zM191.9 529.9l-1.9-13.6 2.1 0-.2 13.6zM257.8 529.2l-1.7-.9 0-12 1.7 0 0 12.9zM267.8 534.6l-1-2.1-.4-16.2 1.8 0 0 1-.4 17.3zM76.4 533.3l.5-14-.8-2-.6 9 .6 7.5 .3-.5zM295.7 520.8l0-4 0 4zM242.8 520.8l0-2.6 0 2.6zM92.3 536.3l.6-5-.8-9.4-.7 9.4 .7 5.7 .2-.7zM209.9 533.3l.8-6-.8-5.3-.7 5.3 .7 6zM208.1 535.3l.6-6-.8-6.7-.9 8.7 .9 4.9 .2-.9zM200.2 539.3l.5-6-.8-7.3-.7 9.3 .7 4.6 .3-.6zM273.8 537.3l.5-5-.5-6.8-.7 7.8 .7 4zM155.1 554.2l1.1-17.9-.2-5.7-1-2.1-.8 20.7 .9 5zM238.9 541.3l-.1-12.9-.6 6.9 .7 6zM136.1 545.3l.8-5-.9-8.9-.5 8.9 .6 5zM230.9 548.2l.8-9.9-.8-5.2-.9 7.2 .9 7.9zM262.8 545.3l0-11.4-.9 6.4 .9 5zM276 550.2l.6-7.9-.8-9-.8 11 1 5.9zM304.9 566.2l1.8-6 .4-5 .1-18.9-.5-2.5-1-.3-.5 18.7-1.7 10 .2 3.5 1 1.4 .2-.9zM144.2 561.2l-.1-22.9-1.1-3.1-2 4.9-1.3 7.1-.6 10 .9 2.5 1-4.7 1-.5 1 7.4 1.2-.7zM99.2 553.2l.7-6-2-10.9-.9 1-.1 5 2.3 10.9zM228.9 542.3l0-6.5 0 6.5zM54.2 546.2l0-7.5-.7 4.6 .7 2.9zM185.1 548.2l.6-3.9-.8-5.1-.5 5.1 .7 3.9zM301.8 554.2l.7-7-.8-4.5-.6 4.5 .6 8 .1-1zM68.3 551.2l-.1-7 0 8 .1-1zM183 555.2l.5-4-.6-3.2-.7 4.2 .8 3zM233.2 596.2l6.4-5 .8-3-2.5-9 1.7-9-2.8-22.6-1 3.1-1-.4-.7 7.9 1.2 13 1.3 6-.2 10-3.6 .9-.7 1.1-.6 5 .8 2 .9 0zM208.4 591.2l3.8-9 .6-5-.6-8 .7-16.4-1-.1-.9 4.5-.1 16.8-1.3-3.8 1.2-11-.9-10.2-2 7.3-1-2.4-2.4 12.3 1.9 22 1 3 .5 .6 .5-.6zM157.5 556.2l-.5-6.3 0 6.9 .5-.6zM264.9 563.2l.6-8-.7-5.9-.9 5.9 .9 8.6 .1-.6zM244.8 563.2l-1-12.1-.1 8.1 1.1 4zM229.9 565.2l1-5-1-8.9-.9 10.9 .9 3zM277.6 598.2l1.6-2 .4-3-3.7-6 3.3-7-.8-21-.6-5.7-1-1.5-.8 16.2-2.1 11 1.8 8-2.1 7 1.2 3.9 1 .8 1.8-.7zM309.7 559.7l0-6 0 6zM299.1 570.2l2.7-2-.1-10.3-1 3.5-1-.1-1-2.2-.8 3.1-.4 4 1.2 4.9 .4-.9zM221.8 569.2l.5-2-1.4-8.3-.7 6.3-1.2 3 1.9 1.9 .9-.9zM280.8 561.2l0-2.9 0 3.5 0-.6zM144.6 595.2l2.6-7-2.2-6 1.8-9 .4-12-1.2-1.2-.7 1.2 .4 7-1.5 5 .8 9-1.4 3-.6 5 .5 5 .5 .8 .6-.8zM80.1 566.1l-1-.9 1-4.5 .7 3.5-.7 1.9zM72.3 563.2l-.1-1.9-1 2 1.1-.1zM121.2 575.2l.8-4-.9-9.4-1 .5-2 3.9 2 2 1.1 7zM199 573.2l1.6-6-.7-3.5-2.1 7.5 .1 2.7 1.1-.7zM94.8 582.2l1-13-.7-4.1-1 2.1-.8 11 .8 4.7 .7-.7zM133.3 570.2l.7-2-1-2.8-.5 2.8 .5 2.5 .3-.5zM138.2 575.2l.7-3-.9-6.4-2 1.4 1.1 2 1.1 6zM234.1 572.2l-.3-6-1 1.1-.1 2.9 .1 1.5 1 1.1 .3-.6zM245.9 570.2l-1.1-4.8 0 4.9 1 .6 .1-.7zM67.8 589.2l2.1-3 .3-5.3 .6 2.3 1.4 1.2 2.6-5.2-.3-2-2.1-3-1.2-7-1.6 11-2.4 5.6-3.1 2.4 2.1 3.9 1.6-.9zM258.5 594.2l3.1-7 .4-3 .6-1 1.2 .6 1-.8 2.4-3.8-1.4-11.4-3 5.6-3 12.5-3-.9-2.6 3.2 .7 3 2.9 3.9 .7-.9zM130.3 578.2l.6-3-.9-4.5-2 1.7-1.9-2.6-2.5 4.4 .7 3 1.8 1.4 1.9-1.7 2 2.2 .3-.9zM181.9 580.2l0-5.1-2-1.8-.9-3.4-1.7 6.3 .1 3 1.6 1.5 2.9-.5zM77.2 575.2l-.1-3.1-1 .2 0 3.9 1.1-1zM98.4 581.2l.7-3.1 1-.3 3 2.2 .7-.8 .6-3-1.3-4.6-5 3.3-.8 4.3 .8 2.6 .3-.6zM298.4 583.2l.5-7-1.2-4.2-2 1.2-1 5 3 5.9 .7-.9zM185.1 576.2l-.2-3.4-.4 2.4 .6 1zM243.9 592.2l.6-2-.5-3 .8-.8 6 1.8 .9-2-.7-5-1.2-.7-2-3.9-3.6 6.6-1.4 7 1.1 2zM140.1 589.2l-.8-9-.3-.6-2 1-2-2.9-1.3 3.5 .3 2.8 1 1.1 3-1.3 1 4.7 1.1 .7zM203.8 579.2l-.9-1.4 0 2.4 .9-1zM123.8 607.1l1.2-1.9-1-3-1.9-1.8-4-.2-1.3-1-.7-11-1-.8-1 6.2-4.6-.4-.9-1 1.3-4 0-4-2.8-5.8-1 0-1.7 2.8-1.3 5.2-4-.9-.9 2.7 2.9 3.8 2-2.7 .9 .9 1.1 3.7 2 .8 .6 3.5 2.4 2.9 5-1.7 3.6 7.7 2.4 1 2.7-1zM196.1 579.2l-.2-.9 0 1.8 .2-.9zM83.5 588.2l.4-6-.8-2-2-.5-.5 4.5 1.5 3.9 1 .7 .4-.6zM219.2 591.2l1.6-2 .3-2-3.2-6.1-2 1-.7 5.1 1.7 3.7 2.3 .3zM123.2 589.2l.9-3-1-3.6-3 .9-1 1.7 1 1.9 3.1 2.1zM269.3 588.2l.4-3-.9-3-.9 4 .9 2.7 .5-.7zM284.2 595.2l0-5-3.4-8-.5 5 1.5 2.1 .4 4.9 .6 1.1 1.4-.1zM177.5 588.2l-.5-4.1-.8 3.1 .8 1.8 .5-.8zM60.6 588.2l-.4-2.7-.7 1.7 .7 1.8 .4-.8zM131.7 597.2l.9-4-3.6-7.8-1.9 9.8 1.9 2.8 2.7-.8zM55.3 589.2l-.1-2.6-.9 2.6 .9 .7 .1-.7zM183.3 598.2l-.3-4 2-4-.5-2-1.6-1.2-2 1-.5 2.2 2.5 4-.7 3 1.1 1zM157 593.2l.7-3-.7-1.6-1-.1-.5 2.7 .5 1.6 1 .4zM292.4 602.2l2.6-6-3.3-7.5-3.7 7.5 1.1 3 2.6 3.4 .7-.4zM271.3 600.2l-.5-3.8-2 .2-3-1.8-1-5.1-1.1 2.5 .1 6.1 2 1.5 3-.7 2 1.8 .5-.7zM94.8 595.2l.3-2.3-1-2.1-.8 3.4 .8 1.9 .7-.9zM197.2 597.2l.6-3-.9-3.3-3-.5-2.7 1.8 .7 3.5 5.3 1.5zM299 594.2l-.3-3.5-1 0 0 4.4 1.3-.9zM77.3 598.2l1.3-3-2.5-2.9-1.7 1.9-.2 2 .9 2.2 1 .6 1.2-.8zM103.8 602.2l1-2-.3-2-3.4-5.9-.9 3.9-2.3 4 2.2 2.5 3.7-.5zM66.5 594.2l-.3-.7 0 1.2 .3-.5zM152.5 606.2l1.5-.7 1.5-5.3-.9-3-2.6-3.6-1.2 1.6-1.2 6 1.4 3.9 1.5 1.1zM250.4 600.2l.5-3-.7-3-1.4-.8-2 .6-1 1.2 0 2 4 3.6 .6-.6zM212.7 604.2l1.1-4-1.9-4.8-2.4 3.8-.4 3 1.8 2.5 1.8-.5zM88.6 603.2l2.7-1 .5-3-2.7-2-3-.3-1.8 2.3 .5 4 1.3 .8 2.5-.8zM284.1 609.1l2.2-2.9-1.2-3 1.4-2-.8-4.1-1 5.7-3.9 1.2-2 2.2 .2 1.9 1.8 1.6 3.3-.6zM230.6 601.2l.4-3-1.1-1-.7 3 .7 1.5 .7-.5zM177.6 609.1l.9-2-.8-2.9-1.7-1.7-3.8-.3-1.2-3.7-.7 1.7 2.4 6.9 3.3 2.5 1.6-.5zM139.9 607.1l2.1-1 1.1-1.9-.2-2-1.9-1.6-2 .8-.9 1.8-.1 3.4 1 1.2 .9-.7zM225.3 601.2l-.4-1 0 1.5 .4-.5zM66.7 606.2l.8-2-1.3-2.7-5 .7-.6 1 .6 3 1 .7 3 .1 1.5-.8zM188.7 610.1l.9-3.9-3.1-3-.6-2-1.9 5 .3 2.9 1.6 1.9 2.8-.9zM199.8 609.1l1.6-2 .1-2.9-3.6-2.8-2 1.7-.6 3.1 1.6 3.3 2.9-.4zM224 610.1l.6-3-.8-.9-1.9 0-1.5 1.9 .2 2 1.3 1 2.1-1zM240.1 614.1l1.5-2 0-3-1.8-2.1-3-.1-2.2 3.2 .7 3 2.5 1.7 2.3-.7zM260.1 610.1l.6-2-1.9-1.4-1.1 2.4 1.1 1.3 1.3-.3zM298.5 615.1l1.3-3-1.7-3-2.4-1.2-2 .6-1.1 2.6 .4 2 3.7 2.6 1.8-.6zM75.6 615.1l1.5-3-.7-3-1.3-.7-3.7 3.7-.1 1 .9 2.4 3.4-.4zM103.1 615.1l2.1-2-1.1-3.9-5.5 .9-1.4 3 1 2 1.9 .9 3-.9zM166.7 615.1l.9-2-.3-2-2.3-1.9-1.6 1.9-.2 2 1.8 2.5 1.7-.5zM89.4 618.1l1.6-2 .2-3-1.1-1.7-3-.5-2.2 2.2 0 3 2.2 2.7 2.3-.7zM123.1 620.1l2.1-6-1.1-1.7-2-.6-2 1-.7 3.3 1.7 3.8 2 .2zM146.7 620.1l.6-4-2.3-3.7-1 .1-1.9 2.6 .2 4 1.7 1.9 2.7-.9zM195.1 622.1l4.4-3-1.6-4.1-4 .6-2.2 2.5 .7 3 2.7 1zM209 620.1l1.9-2 .1-2-1.1-1.4-2-.4-1.5 .8-.7 2 1.2 2.7 2.1 .3zM67.1 626.1l1.1-2-.8-4-5.2-3.2-1 .3-1 .9 .8 6 5.2 3 .9-1zM273.5 627.1l1.8-3-1.1-3-2.4-1.2-3.4 1.2-.7 2 1.1 3.5 2 1.4 2.7-.9zM288.8 625.1l2.3-2 0-2-1.4-1.8-3 1.2-1.4 1.6 .4 2.2 3.1 .8zM253.9 623.1l-.1-2.6-1 .6 0 1 1.1 1zM220 629.1l2.9-1.3 1.3-2.7-.8-2-2.5-1.3-3 1.2-1.5 2.1 1.4 3 2.2 1zM79.9 629.1l1.5-2 0-2-1.3-2.1-2-.5-1.5 1.6 0 3 1.5 2.5 1.8-.5zM169 631.1l3-.7 1.8-2.3-.6-2-3.2-2.6-3 .9-2.5 2.7 .5 2.8 4 1.2zM108.6 632.1l1.1-3-1.6-2.7-2-.7-2.9 1.4-.8 2 1.7 2.7 2 1.2 2.5-.9zM185.1 634.1l2-3-1.2-3.3-2-.9-3 .8-1.3 2.4 .8 2 2.5 2.1 2.2-.1zM130.7 635.1l1-2-.1-2-1.6-2.5-2-1.1-2.8 2.6 .2 3 2.6 2.8 2.7-.8zM158.9 638.1l2.5-3-.5-3-2.9-2.2-3 .5-2.1 2.7 .3 3 2.8 2.3 2.9-.3zM207 634.1l.5-3-1.6-1.5-2 .4-1.4 2.1 .6 2 1.8 .9 2.1-.9zM241.1 637.1l1.9-2-1.2-2.8-3-.6-2.9 1.4-.6 2 1.5 1.9 4.3 .1zM145.4 637.1l1.1-2-1.3-2-2.2-.6-2.4 1.6-.3 2 .7 1.2 2 .7 2.4-.9zM290.9 639.1l1.1-3-3.3-3.4-2.7 3.4 2.2 3 2.7 0zM277.5 641.1l.9-2-1.6-2.4-3-.3-3.1 1.7 .2 2 1.9 1.5 3 .3 1.7-.8zM77.3 649.1l2.4-5 .1-2-1.7-3-2-.5-2.6 2.5-.7 7 2.3 1.7 2.2-.7zM117.4 646.1l2.8-2 .5-2-2.6-3.4-3-.1-1.7 1.5-.2 3 1.9 2.7 2.3 .3zM220.8 650.1l3.2-3-.1-4-3-2.7-4-.2-2.3 2.9 0 3 3.3 4.5 2.9-.5zM98.3 646.1l.8-2-.4-2-1.6-1.6-1 .3 .1 4.3 .9 1.2 1.2-.2zM179.1 646.1l.8-2-1.7-2-2.2-.4-2.2 1.4-.4 2 1.6 1.7 2 .3 2.1-1zM200.7 650.1l3-3-.1-2-1.6-2-5.1-.8-4.7 2.8-.2 2 1.9 2.5 3 1.1 3.8-.6zM147.7 653.1l2.3-1.1 1.5-1.9-.1-2-1.4-1.7-5-1.5-4 2.2-.8 3 1.4 2 3.4 1.2 2.7-.2zM74.9 652.1l-2.7-2.5 0 1.5 2.7 1zM233.1 669l2.8-1.9 7.9-1.9 5 2.5 2 .1 2.9-1.7 .6-2-1.5-2.4-6-1.2-5-3-2-6.5-2-1.4-3-.1-2.4 1.6-.9 2 .8 3 2.3 3-1.8 2.8-1.9 1.1-9-.2-2.4 1.3 3.8 3 7.6 2.4 2.2-.5zM268.9 658.1l1.4-2-.2-2-3.3-3.1-5.7 4.1 3.7 3.5 2 .3 2.1-.8zM166.7 714l5.3-.6 12.9-3.6 9-.7 6-1.5 3-1.6 1.7-3-4.4-9 .5-2 5.2-1.4 11-.1 3-1.2 .5-1.3-.8-2-1.7-1.5-9-3.2-5-.4-9 2.3-5-1.1-8-9.4-7.6-5.6-1-3 4-5-1.3-.6-3-4.4-4-.9-4 1.3-3.3 4.6-4.9 3-1.6 3 .7 2.9 3.9 5-2.2 6 .1 3 5.9 6-2.6 1.2-5 .2-1.5-4.4-1.3-1-3.2-.9-3.1 .9-1.3 3 5.6 5 0 10-1.2 3.4-6.7 4.6-.3 1 1 1 3.8 1 18.9 1zM287.3 658.1l.6-2-2.2-2.3-1.9-.2-3 2.1-.3 1.4 1.3 1.4 2.9 .5 2.6-.9zM117.2 656.1l-2.4 0 2.4 0zM192.8 665.1l3.1-4 2.9-2-6.9-3.2-4.5 3.2-1.2 3 .9 2 1.8 1.4 3.9-.4zM76.1 663.1l1.6-2-1.6-2.9-2.9-.5-2.5 1.4-.5 2 1 1.5 2 1 2.9-.5zM211 663.1l.8-2-.9-2.7-2-1-2 .8-1 1.9 1 2.9 2 1 2.1-.9zM116 666.1l2.3-2 .3-2-1.5-2.6-3-1.1-3.7 2.7-.3 3 3 2.3 2.9-.3zM135.3 666.1l1.7-1.2 1-2.8-3-2.8-5.1 .8-2.7 4 3.8 1.7 4.3 .3zM247.7 699l.1-1.1-1.8 .1 .1 1 1.6 0z"/><path fill-rule="evenodd" fill="#bfbfbf" d="M309.7 749.8l-71.9-1.4-8.9-.9-35 .5-42.9-1.4-41.9-.2-22-1.1-11-1.6-.5-.8 1.2-2 5.3-1.5 15-2.2 26-1.4 19.9-4.2 4.9-3.6 .2-1-2.8-6-3.3-4.7-2.9-2.3 .9-.3 26 1 28.9-5 13-3.9 14-1.3 14.9 1 6-1.4 6-3.9 .9-2.2-3.9-1.6-5 2.5-3 .5-10.9 .6-6-1.3-1.7-1.7 .3-1 6.4-3.6 .7-1.4-.7-1.2-7-5.5-9-4.3-16-1.4-6-2.8-7.2-6.8-1.8-2.9 0-2 2.2-4-.6-3-2.9-3-3.6-1.3-8 .5-9 5.9-3 3.1-1.4 4.8 1.9 5.9-.3 2-3.6 5-4.6 4-.9 2 .4 2 3.9 6 .6 4-1 6-1.9 2-7 4-2.1 3-7-2.5-3.8-4.5-1.1-7 2.8-5-1.1-3-3-3-12.7-2.1-14 1.2-8-2.8-9 0-4-1.5-1.2-1.8 2.2-2.4 23-2.2 8-1.9 2.1-2.5-.7-2-2.1-2-7.7-2.9-1.3-5-2.3-1.8-3-.1-2 1.5-1 2.4 .3 4-1.3 .4-10-.7-9.9 1.8-3-.8-.9-1.7-2.9-2-.2-7-3.7-9 3-5 0-3-3.5-8-2.8-2.1-2-.4-2-3.5-3-2.8 0-6.2 4-2 1.4-3-3.5-4.9 3-12-3.5-5-1.4-11 .3-4 2.3-5-1.9-3-.6-4 .4-22.9 1.2-8 .3-11.7 .3 35.6 .7 4.7 .9-15.6-.2-19 1.2-9 1.1 7.3 1.1-7.3 .9 9.4 .9-9.4 1.8 0 1.3 15.9 2 5 1-20.9 1.2 0 .1 5-1.3 29.3-1 5.8-1-.2-1-2.9-.9-10-1.1-3.6-2 7.6-1-5.1-.2 1.1-.3 17.9-2.5 14 .7 15 .3 1.1 1-.5 .5-7.6 4.1-5 0-2-1.9-4 .3-4.9 2 .7 1-.8 3.6 5 1.4 6.2 1.1 .8-.5 4-2.9 3 2 4 .3 6 1-.4 .2-4.6 2.9-5 1.9-1 2.8-7-2.6-5-1-7 1.4-4-.6-1.4-1.3 1.4-1.3 13-1.4 2.3-2.2-16.3 .4-16.9 .8-10.3 1.2-4.7 .5-13 .9 23 1.4 11.4 1 2.2 1-6.1 1 5.7 .7-5.3-2-30.9 4.1 0-1.1 1-.5 3 1.6 43.9-1.1 13 1.2-.3 1-6.7 3 1.4 1.8-1.4 1.2-2.7 1.4 4.7-.3 6 2.3 4 .6 6.4 1 .1 1.8-10.5 1-24-.8-8.8-1 5.5-.6-4.7 1.1-11.9-1.2-18 2.4 0-.5 15 .8 6.6 .8-6.6-.5-13 .1-2 .9 0-.1 25 .8 5.3 1.5-30.3 .7 0 .8 8.6 .8-8.6 1.8 0 1.1 10-.6 21.9 .9 7.8 1-1.1 1.1-10.6-.5-28 1.4 0 1 23-.8 16.9 .8 7.7 1 2.3 1-2 .7-7-.7-35.4 2 14.8 2-5.2 1-.6 2-7.1 .2 11.6-1.2 11.1-1 .3-1 4.3 .1 18.2-1.4 3 .3 1.5 4 1.8 .9 1.7 .4 6-1.5 9-.8 1.3-3.1-1.3 .2-7-1-4-2.1-4.1-2-.9-2-5.4-1 .3-1 1.8-3 1.5-.6 1.8-.2 4 .8 2.7 2-4.8 3 3.1 .3 2-1.2 2-3.1-.2-1.3 1.2 0 2 2.8 4-.7 4-2.4 4 1.6 2.2 4 .8 1.9-1 1.1-3 1-.1 3 4.7 1.8-2.6 2.2-.7 2.9 6.6 2.6 3-.3 7 2.8 5.2 2-2.3 2.4-6.9-2.5-3 3.5-5.9-4.4-3.6-5.3-2.4-1.1-11 1.2-8-.5-9 .7-2.7 2 1.3 1 7.4 1.1-2-.8-16 .7-6.1 1-.5 1 9.8 .8-4.2 .1-23.9-1-17 1.5 0-.2 29.9 3.7 18.7 .9-6.7-.2-16.9 1.3-6.7 1-.6 1 12.5 1-26.1 1.7 6.9 .2 18 .1 .6 1-6.2 1 8.5 .8-6.9 .1-25 1.9 0 .2 12.4 1 1.5 .2-13.9 2.5 0-.5 10 .8 6.5 1-14.5 1.4 3 .6 4-.2 25.9 2 18 0 13 1.2 5.1 1-.4 1.1-2.7 2.9-1.3 .8-2.7-2.7-5 .9-12-1-3.2-2-.3-.8-2.5 .6-15.9-.8-8-1 7-.1-24 1.4 0 .7 12.2 1.2-3.2 .8-7.3 1-.5-.9 31.7 .9 6.6 .9-6.6 .4-21.9 1.7-7.4 .8 26.3-.8 5.5-1-3.3-.3 .8 .1 8 1.2 1.5 2 11.3 1 1.3 1.6-7.1 .4-9.8 .2 10.8 2.2 4 .2 2-6.6 16.6-1 1.6-1-2-1 0-.8 4.8 .8 2.5 1.9 1.5 1.1 2.3 1 .8 2 0 .9 .9 .6 3 1.5 .8 1.2-8.8-2.2-6 2-6.4 1-.9 1.4 1.3 .4 6 1.2 2.3 1-1.8 .7-7.5 2.3-2 1.1-3-.1-5.8-1.8-7.2 .8-4.6 1 .7 .8-7.1-1.5-20.9 1-3 .7-9.6 1.8 5.6-.7 18 .9 9.9 1.9-12.6 1 9.3 .4-1.7 1.2-31.9 1.6 0 .8 11.9 1-11.9 1 1.3 .2-1.3 2.6 0-1.3 24-.5 2.8-1-6.8-.7 7 .9 17.9 1.7 8 .5 7-1 5-.1 8 2.5 6-.6 6 .8 1.9 1-.6 .3-5.3 .7-.8 2.2 .8 1.8 2.2 1-2.8-1-6.3-1-.6-5 1.4-.6-4.9 3.2-5-2.2-4 .8-6 1.9-5-1.6-10 0-11.9 .5-1.9 1-.1 1 19.5 .9-5.6 .1-20.8 1 1.4 1-14.2 1.7 .7-.4 12 .7 5.5 .5-1.5 0-21 .5-.5 .3 29.4 .7 7.8 1 1.4 1-9.9 1-2.8 1-.4 1-5.3 1-.5 .8-6.2-.8-10.1-1 8-.8-12.9 7.3 0 .1 19-1.2 14.9-1.4 6.4-1-9.3-1 1.3-1 5-1-2.2-2.6 13.8 .2 11-1.6 .9-.4 2.1 1.4 2.8 1-4.7 1.3 11.9 1.7 4 1.1-1 3.7-11 .6-27 1.6-8.8 3 23.3 3 1.8 1.9-2.3-1.9-10.3-.9 7.3-1.1 1.6-.6-1.6 .6-43.2 2 3 .9 20.3 1.1 4.9 1-2.3 .4 11.3-1.4 9 2 18.7 2-4.3 1-.5 2 .7 1-.9 1.2-3.7-2.2-8.9-2 4.1-.2-1.2-.8-15 .9-16.9-1-24 7.2 0 .8 27.9 1-14.6 2-11.4 1.1-1.9 .4 9-.9 4-.3 9 .7 5.1 1-17.6 .2 30.4 .8 3.6 1-16.1 1.7 4.5 .2 12 1.1 11.6 1 .9 .3-4.5-2.1-21 1.6-30.9 .7 0 2 29.9-.9 16 2.4 6 1 .1 .9-8.1-1.7-10 .6-13.9-1.3-20 1.7 0 .8 21.5 2.1-21.5 .4 17-1.8 10-.6 15.9 .2 4 .7 2.1 1 .1 .3 3.8-2.1 4 3.8 7.2 1 .2 5-36 1 1.9 .2-1.2-.7-16 1.5-13 1.7 25 .3 1.7 1 .5 2-7.1 1.2 25.8-1.9 6-.3 8.3-2.4-11.3-.6-17.4-1.2 14.4 1 4-.5 4-4.5 14-.8 1.1-2-.9-2.4 2.8-.5 2 3.9 6.6 5-9.4 .6 11.8 1.4 1.7 4 .1 2 2.3 1-1.3 .2-3.8-1.2-2.6-2 1.1-2.9-1.5-1-9 2.9-5.8 0 7.8 1 2.8 1.1-2.8-.6-10 1.5-5.3 1 .9 1.6-5.6-.7-7 0-28.9-1.2-15 3.5 0 .6 6-.7 20 1.3 11.9-.3 10-2.2 15 1.2 8-1.7 8 .8 3 1.8 1.5 3.1-2.5 1.4-4-3.1-6 2.3-7-1-21-1.8-11-.6-15.9 1.5-16 1.2 0-.9 21 .9 7.3 1.9-28.3 1.4 0 2.6 40.5 .9-6.6 .6-33.9 1.5 0 1 10.8 1.2-10.8-.2 28.9-1-15.3-1.2 7.4-.7 22.9-2.1 2.9-.9-2.7-.9 5.8 .9 5.1 .9-3.8 .5 1.7 1 11-2.4 4-1 .2-2-3.6-.9 2.4 .1 4 1.6 7 1.9 4 .1 3-.8 1.6-3.9 2.4-1 1.9 1.4 2 2.5 1 5.9-2.2 .7-.8-.7-4.2 1-.7 2 2.2 2 .6 1-.7 1.8-8.1-2.8-7.4-1-1.2-.6 .6-3.4 6.7-1 .2-1.6-2.9-.4-3 3-1.4 1.1-1.6-.1-6 1.8-11 1.4-4 .6-7 1.2-2.6 1 1.3 2.4-3.7 1.6-22.5 1 1.5 .3-1.9 .4-14 2.1 0 1.2 14 .6-14 2.6 0-.1 14-1.4 4-.4 17.9-1.5 6-.3 6 .5 3.5 1 .9 2.5-8.4 .5-24.5 .1 18.5 .5 9 1.4 2.5 0 10.2-1-4.9-2 7.5-4 3.7-.9 15 .4 2 1.5 1.9 2 .4 1.7-1.3 .6-3-1.9-5 .2-5 .4-1.6 3 .1 0 22.7-3 .4-3 5.2-1 .2-5-5.9-3.9-1.2-1.1-1.7-2.4 4.7-.3 5-1.3 .8-.5 3.2-2.7 2-.6 2 1.8 2.4 3-.3 1.9-2.1 .8-8 1.3-.1 2.7 2.1 .9 5-.1 7 3.1 8-1.6 9-2.5 3-1 3 1.5 3.1 2.2 1.9-.2 .9-2 1.9-2 .1-2 4.1-4 3.4-2 .1-4.9-4.7-4 .4-2 1.8-1.6 4.9-2.7 3 1.3 2.4 8 2.1 2.4 1.5 1 2-.3 3-1.1 1.8-6 3.2-1.9 2 .7 7 3.4 9-.1 7 7.2 13 5.6 5.6 18 4 0 13.2zM82.1 551.2l-2-4.3 .8-30.6 1.5 0-.3 34.9zM87.1 553.5l0-37.2 1.5 27-1.5 10.2zM137 537.2l-.6-9.9 .6-11 0 20.9zM166 527.5l.1-11.2-.1 11.2zM171 561.7l-.6-5.5-1.4-2.3-1 4.5-.5-2.2 1.2-39.9 .7 1 1.6 44.4zM179 528.8l-.8-3.5 .8-9 0 12.5zM256.8 526.8l-.3-10.5 .8 0 .2 7-.7 3.5zM267.8 531.1l-1-2.4 0-12.4 1 0 .2 2-.2 12.8zM174 531.8l0-14.8 0 14.8zM191.9 524.8l-.6-7.5 .6-.5 0 8zM308.7 535.3l0-17 0 17zM121.1 524.3l0-5.1 0 5.1zM78.1 537.6l-1.2-7.3 .2-10.7 1-.2 1.2 4.9-.2 9.4-1 3.9zM210 534.3l.8-7-.9-6.8-.8 7.8 .9 6zM273.8 538.3l.7-6-.7-9.4-.9 13.4 .9 2zM164 540.3l0-13 0 13zM229.9 567.2l1.1-5 .7-21.9 .1-7-.9-1.1-2.4 30 1.4 5.8 0-.8zM280.9 534.3l-.1-2.6 0 3.3 .1-.7zM99.3 554.2l.6-8.9-1.8-10.2-1-1.5-.3 9.7 2.5 10.9zM144.6 596.2l2.8-8-1.8-6 1.4-9 .4-12-.4-1.4-1-.3-1 1.2-1-2.5 .2-21.9-.2-2-1-.4-.8 .4-1.2 3.7-1.7 10.2-.4 8 .2 3 .9 .9 1-4.5 1-.7 .8 7.3 2.2 .1 .2 .9 0 5-1.2 5 .6 9-2.1 9 1.5 5.9 .6-.9zM229.2 543.3l-.3-8.6-.9 6.6 .9 2.9 .3-.9zM54.3 547.2l-.1-9.8-1 5.9 1.1 3.9zM185.1 549.2l.7-4.9-.9-6.3-.6 6.3 .8 4.9zM299 596.2l.2-23 .5-2.2 2-.8 .8-5 0-18-.8-5.5-.5 16.5-1.5 2.1-1.1-2.1-1.4 6 .1 6-.6 1.6-1-2-1.2 8.4 1.8 3 1.2 5-.5 9 .7 1.8 1.3-.8zM68.2 553.2l0-10.9 0 10.9zM231.2 603.2l3.4-7 2.2-1.9 3-.9 .9-3.2-.2-4-2-7 1.3-9-1.8-21-1.2-3-1 2.3-1-1.8-.9 16.5-1.4 6 .3 4.1 1 1 1-3 1.1 3.9 0 11-.8 1-2.3 .3-1 1.7-3.6 11 1 3 2 0zM183 556.2l.6-5-.7-4-.8 5 .9 4zM118.1 564.4l-.9-3.2 .9-12.8 1.6 12.8-.4 2-1.2 1.2zM166 559.8l0-4.9 0 4.9zM280.8 563.2l0-6.5-1.3 4.5 .3 1.9 1 .1zM180.2 563.2l-.3-.8-.9 .2 0 1.6 1.2-1zM198.9 574.2l1.8-7-.8-4.3-2.2 7.3 .2 4.8 1-.8zM95.1 584.2l.8-15-.8-5.1-1.2 3.1-.8 12 1 5.8 1-.8zM133.1 571.2l1.3-3-1.4-3.3-.6 3.3 .7 3zM140.2 590.2l-.2-10.3-1.9-2.7 .9-5-1-7.1-2.7 2.1 1.7 2.7 1.3 8.3-1.3 1.8-2-2.9-1.6 5.1 1.6 3.3 3-.7 1 4.9 1.2 .5zM130.1 580.2l.9-5-1-5.7-2 2.5-1.9-3-2.5 4.2-.1 3 1.6 2.8 2.9-1.5 2.1 2.7zM181.7 581.2l.5-6-2.3-2.4-.9-3.7-1.8 7.1 0 4 .8 .9 3.7 .1zM170 573.2l-1 0 1-1.6 0 1.6zM185 577.2l.6-2-.7-3.2-.5 3.2 .6 2zM243.9 594.2l.9-6.9 3.7 .9 2.3 1.5 1-2.3-.4-6.2-3.6-5.8-3.6 6.8-2 8 .5 4 1.2 0zM196.1 580.2l-.2-3.4-1 2.4 .3 1 .9 0zM83.5 589.2l.8-4-.3-5-.9-2.1-2 .2-.6 5.9 1.6 5.3 1 .4 .4-.7zM219.2 592.2l1.9-3 .2-2-3.4-6.6-2 .7-.9 5.9 1.9 4.8 2.3 .2zM123.9 589.2l.3-5-1.1-2.4-3.1 1.4-1.4 2 4.5 4.9 .8-.9zM177.2 589.2l.7-3-.9-4.1-.9 5.1 1.1 2zM131.2 598.2l1.4-2 .2-3-3.8-9.7-2.3 11.7 1.3 2.7 2 .7 1.2-.4zM60.3 589.2l.7-2-.8-2.3-.8 2.3 .9 2zM188.1 611.1l1.6-2 .5-2.9-2.8-4-.8-3-1.7-1.1-.9-1.9 1.2-7-1.3-1.9-2-.6-1.3 1.5-.4 2 1.7 4 .1 4 2 3-.4 6.9 2.3 3.4 2.2-.4zM86.5 605.2l2.6-1.5 2 1.1 2-1 2.4-9.6-.4-4.9-1-.9-1.3 8.8-.7 .6-6-1.2-1.8 1.6 0 5 .8 1.9 1.4 .1zM76.8 599.2l2-4-2.7-3.3-1.4 1.3-.7 3 1.1 2.8 1 .8 .7-.6zM103.1 593.4l0-1.2 0 1.2zM154.1 607.1l1.5-4.9 .1-4-3.7-6.7-1 1.2-1.3 5.5-.1 4 2.4 5.9 2.1-1zM250.9 601.2l.3-5-1.4-3.8-3.8 1.8-1 2 4.8 5.9 1.1-.9zM213.1 604.2l.9-4-2.1-6.3-2.8 5.3-.2 3 2 2.8 2.2-.8zM178.1 611.1l1-3-1-3.9-2.1-2-3-.3-2-5.3-1 4.6 1.5 5 5.5 5.7 1.1-.8zM223.3 611.1l1.5-2 1.7-6.9-.2-2-1.4-1.9-.7 6.9-2.8 1-1.4 2.9 .4 2 2.9 0zM69.5 631.1l.8-2-.9-8 2-3 5.5-4 .1-5-.9-2.3-1-.2-1.5 2.5-3.5 3-1.4 5-1.5 1.1-3-.9-1.6-2.2-1-6 1.6-1.6 3.8-1.3 .7-3-1.5-2-5 .3-1 .3-.6 2.4 .4 4.9-1 6 1.1 8 1.1 2.1 3.3 1.9 1.9 4 1.8 .8 1.3-.8zM139.2 609.1l4-3.9 .1-3-1.3-1.6-2-.2-2.1 2.8 .1 5.8 1.2 .1zM196.3 622.1l4.6-2-.1-4-2.6-4 3.7-3 1-2.9-.1-2-4.9-3.7-1 0-1.8 4.7 1.7 7.9-.9 1.4-3.4 1.6-1.3 3 1.7 2.8 3.4 .2zM132.6 604.2l-.6-2.3-.4 2.3 1 0zM205.5 604.2l-.6-2.2-.7 2.2 1.3 0zM240.2 616.1l2.3-2 1-4-1.7-3.6-3-1.7-2 .8-2.4 2.5-.9 5 3.3 3.4 3.4-.4zM276.8 610.1l.6-3-1.6-1.6 .1 3.6 .9 1zM96.2 617.1l.9-1.3 4 .5 5-2.2 .7-3-2.3-4-1.4 1.4-4 .9-3 2.7-1-.9-.8 2.9 1.9 3zM260.8 610.1l-.2-3-1.8-.8-1 .7-.5 1.1 .6 2 1.9 .7 1-.7zM167.5 615.1l.2-4-2.7-3.4-1.9 3.4 .1 3 1.8 2 2.5-1zM90 620.1l2.8-3 .8-3-1.3-3-2.2-1.9-4 1.6-1.8 3.3 1.8 6.8 3.9-.8zM146 621.1l1.6-2 0-3-2.6-5.2-1-.5-1 .6-1 3.1-.3 4 1.3 2.6 3 .4zM219.9 613.1l-1-1.6-.5 .6 1.5 2 0-1zM210.1 621.1l1.3-5-1.5-1.7-3-.2-1.8 1.9 1.3 5 2.5 .9 1.2-.9zM254.5 623.1l-.7-3.4-1 .3-.5 2.1 1.5 1.5 .7-.5zM276 629.1l1.6-2-1.8 .9-.7-.9 .5-4-1.8-2.8-3-.8-3.4 1.6-1.4 4 1.8 3.4 2 1.5 5-2.7 1.2 1.8zM80.5 632.1l1.7-2-.3-5-1.8-2.6-2-.4-1.8 2-.1 3 1.9 4.2 2.4 .8zM160.8 639.1l1.3-1 2.9-6.5 6-.4 4-2.1 8.9 5.8 2.9-1.8 .6-2-.5-2.5-2-3-3 .7-2-.9-1.9 2-1.9-2.3-1.1 1.1-1-.5-3-3.9-2-.1-5 2.3-3 5-3-1-3 .2-5 4-2-1.1-1 1.7-5-.3-2.3 2.6 .2 2 2.1 1.5 3-.3 3-2.8 8 4.2 4.8-.6zM221.2 631.1l3.3-6-1.6-2.8-3-.8-5.5 3.6 .1 1 .7 2 2.7 2.8 3 .8 .3-.6zM308.7 622.1l-1 .6-1.2-.6 1.2-.6 1 .6zM107.8 634.1l1.9-2 0-4-1.6-2-3-.5-2.4 1.5-.4 3 2.8 3 2.7 1zM131 636.1l1-2-.1-3-2.9-4.7-1-.7-1.9 2.2-2.5 .2-.3 2 2.8 5.4 1.9 1.4 3-.8zM206.2 635.1l1.9-2 .1-2-1.3-1.7-2-.2-2 1.3-.6 2.6 1.6 2 2.3 0zM243.9 645.1l5-4-.1-4.4-2-1.6-2.2-4-2.8-2-1 1.4-5 2.1-.9 2.5 1.9 2.4 4.6 .6 1.3 1-.1 5 1.3 1zM291.4 639.1l1-2-.4-2-3.3-3.8-2.2-1.2-1.9 2 0 4 4.1 3.7 2.7-.7zM277.7 633.1l-1 0 1 0zM95.8 636.1l1.4-1-.1-1.5-5 .2 1.8 2.3 1.9 0zM276.4 642.1l1.7-1 .8-2-2.1-3.3-5 .2-2-1.4-2 1.8-.1 2.7 1.1 1.5 5 1.7 2.6-.2zM225.3 655.1l2-2 .3-2-1.6-6-.1-6-1-3.4-10 .4 .8 1-.2 2-1.7 6 2.3 7 1.8 2.2 3 1.4 4.4-.6zM115.5 667.1l2.3-1 1.7-2-.1-5 3.7-2.9 1.7-4.1 5.2-2.4 8-6 .6-2.6-.8-3-1.8-1.1-2 0-4 2.6-4.9 .2-3 1.2-5-2.9-3.4 1-1.2 3 1.3 4-3.7 6 1.4 6-2.4 5 .4 2 1.6 1.6 4.4 .4zM76.4 653.1l2-2 1.7-8-.6-3-2.4-1.9-2 .3-1.5 1.6-3.2 10 .6 2 1.2 .9 4.2 .1zM98.2 647.1l1.2-4-1.3-2.5-2-.9-.2 5.4 1.2 1.8 1.1 .2zM191.5 666.1l10-7 .5-6 2.7-4 .6-3-.9-2-2.5-1.8-4-.5-6 1.7-6-3.3-2 .9-1.2 3 2.2 2.5 4 1.5 1.4 3-1.1 4-3.7 5-.2 2 2.6 3.6 3.6 .4zM178.3 647.1l2.2-2-.4-2-3.1-1.7-3 1.1-.9 1.6 .9 2.4 2 1 2.3-.4zM149.9 653.1l2.3-2 .7-2-.5-3-2.4-3.3-4 .2-6.2 4.1-.4 3 2.6 2.9 4 .9 3.9-.8zM94.7 651.1l-2.6-1.1-2-3-.2 2.1 .9 2 2.3 .9 1.6-.9zM97.2 650.1l-.1-1.5-1 2.3 1.1-.8zM248.9 672l-2-3 5.9-1.4 1.6-1.5 .2-3-2.8-2.6-9.6-4.4-2.4-5.9-3-1.2-3 .4-2.3 1.7-1 2 .8 4-.4 1.4-11 2.3-6.7 4.3-.9 2 1.6 .5 3-.9 4 2.5 8 2.4 12.9 1.1 5-.6 1-.8 1.1 .7zM268.1 659.1l2.5-2 .3-2-1.4-3-2.7-2.1-2 2.4-5 2.7 .1 1 3.9 2.6 4.3 .4zM287.8 660.1l1.5-1 .6-2-.7-2-2.5-2.3-4-.7-4 3-.3 3 2.4 2.2 3.9 .5 3.1-.7zM211.7 664.1l.9-3-1.2-3-2.5-1.2-2 .5-1.8 2.7 1 3 2.8 1.7 2.8-.7zM76.1 664.1l2.3-3-1.3-2.8-3.9-1.2-3.3 2-.6 2 1.9 2.6 3 .9 1.9-.5zM138.2 667.1l.1-6-2.3-1.9-3-.7-5.9 1.8-3 3.1-1.2 2.7 3.2 1.6 9.9 .2 2.2-.8z"/><path fill-rule="evenodd" fill="#cbcbcb" d="M53.2 591.6l-2-2.4-1.6-9 .2-6 2.3-5-2.5-5 .5-26.9 .1-1.3 .9 3.3 .2 16.9 .9 4.7 1-12.6 1 .6 .5-3.6-.5-9.6-1 1.3 0-11.7 1-6.6 1 6.2 1-7.3 1 9.8 1.2-11.1 1.3 0 1.3 17 2.2 5.5 .8-1.5 .2-15.1 1-4.9-1.3 32.9-.7 4.8-1 0-1.9-13.7-1.1-2.6-2 6.7-1-4.3-.4 2.2-.4 17.9-2.3 10 .6 14-.5 6.4zM106.1 664.1l-4-1.1-2.4-3.9-3.6-1.9-4 1.4-3 5.6-9-.7-1.1-4.4-3.2-3 3.4-3 .9-2 .3-10-1.3-2.4-2-1.2-3.4 1.6-4.7 11 .3 3 2.8 2 .1 1-5 3.3-1.3-1.3-.4-3-4.2-8 1.9-7-2.3-8-2.7-3.5-4-2.1-4.2-5.4 .3-5 2.9-1.5 1.6-2.5-.2-2-2.5-3-.4-1.9 3.8-15 .6-7 3.3-3 .7-2-1.9-8.2 1-1.2 1 .6 1-.6 3.3 4.4 2.1 8-3 6 1.9 3 .7 7.1 1-.1 .9-6 4.1-5.2 2.9-6.8-.1-2-2.4-4-.7-7 .9-5-.6-.9-1.3 .9-1.7 13.3-1-.3-2-14.8 .6-18.1 .4-4.5 1-.8 1-19.6 .5 23.9 1.5 12.1 1 1.9 1-5.5 1 4.5 .8-6.1-1.7-30.9 2.8 0-.8 3 0 7 1.5 36.9-1.6 15 1.9-.2 1-6.8 1-.3 2 1.7 3-2.2 1 3.8-1 2.2-1-.7-2 .6-.8 5.9 .8 6 2 3 1.2-3 .8-9 2 3 1 7.8 1 .1 2.2-12.9 .6-24-1.1-10.9-.6-26 1.3 0 .1 1-.3 15 .8 6.6 1.1-22.6 .1 25 .8 6 2-30.7 .8 12.7-.8 10 3 16.4 .9-3.5 0-6.9-2.7-17 .8-12 1.4 0 1.2 12-.5 22.9 .9 6.1 1-.6 1.2-11.4-.4-29 1.2 .8 .8 22.2-.6 17.9 .5 7 1.3 4.3 1.7-10.3 0-25.9 .3-1.1 1 6.6 2-4.3 1-.2 1-5.3 .9 1.3-.9 15-1 .7-1.2 6.2 .2 17.9-1.6 4.1 3.6 3 1.4 3-1.2 13-1.2 .7-1.3-.7-.7-10-3-6.7-2-1.3-2-4.6-2 3-3 1.2-.6 1.4 .3 9-.7 3 2.6 4 .3 2-.5 3-2.4 4 2 2.6 4 1.4 .4 2-1.4 2.1-5 1.9-1-.5-1.1-6.5 1-24 0-11-.9-4.9-1.5 4.9-.8 10 .6 9-1.3 8.1-1 1.4-6-.2-1.4 2.7 .4 5.2 1.9 4.7-2 5 1.1 5-1 7.1-5-4.6-2 .6-1.5 2.9 1.1 6 1.4 2.2 2 .6 2-.6 3-4.4 2.4 2.2 3.8 8-2.9 9 .2 3 3.5 2.5 5-.7 1.5-1.8 1.4-7-2-5 2-8-1.7-8-.2-5.7 8.5-2.3 4.5-5.1 1-7.8 1-.9 1 .8 3.9 10 4 18 2.6 6-2.5 3-6-1.6-3 1.6-.9 2 .2 5-4 6-.6 3 .7 4-1.4 4.5-1 .5zM82.1 548.5l-1.6-5.2 .6-27 1.1 0 .1 1-.2 31.2zM125.1 529.8l-.6-13.5 .7 0-.1 13.5zM139 547.7l.1-29.4 .1-2 1.4 0 .3 20-1.9 11.4zM143 532.4l-.6-16.1 2 0-.4 15-1 1.1zM150 531.5l0-13.4 1.1-1.8 .3 14-1.4 1.2zM170 553.9l-1.5-1.7-.3-2 .7-33.9 1.7 30.9-.6 6.7zM148 667.6l-3 .2-3-2-4-6.4-6.6-3.3-.4-1 1-2 3-2.6 2-.5 3 3 3 1.4 8-.2 2-1.1 1.3-2 .7-7.7 7-3.3 5-7.9 7-1.5 9.9 5.1 2-.8 1.7-2.9-.5-5 1.6-6-1.8-4.1-2 1.3-2 5.3-1 .4-3.9-3.5-4 2.8-2.7-6.2-2.3-2.2-2.7-7.8 .3-11.9-1.5-6 1.9-6.5 1 1 .5 6.5 1.4 4-.2 10 1.7 2.9 3.4 3 1.3 4 1.9 1.9 1.9-2.9-.5-6.9-2.4-3.9-4-1.2-1.7-7.9 .7-9.2 3.4-5.8-1-13 1.5-11-1.1-16.9 1.2-14.5 1.3 3.5-.3 19 1 9 1.9-10.1 1 6.8 .6-1.8 1.1-32.9 1.5 0 .8 13.9 1-12.2 1 1.4 .5-3.1 2.1 0-1.4 24-.2 1.3-1-6.6-.9 8.3 1 17.9 1.9 12.9-.9 16.1 1.7 7-.8 3.6-4.2-6.6 .8-5-1.6-2.2-2-.6-1.6 1.8-.3 2 1.6 4 1.6 13.9 1.7 3.5 3 .3 4.6-7.7 .4-6.4 1-.7 1 .9 .7 2.2-1 5 1.4 7.9-4.7 4-.3 3 1.6 2 2.3 .7 6-1.2 3-2.4 2.3 7.9-4 4 .1 3 1.6 1.5 2 .1 4-3.3 2.5 3.7 1.4 4-.8 5 .7 7 2.8 6-1.6 1.8-4-3.5-5.9-.3-.3-2 2.2-7-1.1-3-2.2-2-3.7-1-7 .8-5-2.9-3-.6-4 3.9-2.9-1.1-3 .2-1.9 1.7-.4 2 2.3 2.6 3 .2 2.9-1.5 4.3 2.7 1.9 3-1.2 3.3-2 .7-5.9-3.6-3-.9-9 .9-11 5.2-7 9.9zM210.9 553.9l-1-8.6-1 .8-1 4.8-1.1-4.7 1.7-9.9 .3-7-.9-10.2-1 6.5-.4-9.3 6.8 0-.1 20-2.3 17.6zM309.7 748.1l-71.9-1.3-8.9-.9-34 .3-8-.8-77.8-.6-22-1.2-6.3-1.7 16.3-3 26-1.4 20.9-3.7 5-3.3 1.6-2.5-1.1-5-3.7-6 1.2-.6 26-1.2 33.9-6.7 15-.8 16.9 1.5 5-.9 6.6-3.3 1-7-2.6-2.3-15-5.3-9.1-6.4-4.9-2-6.9-4.4-9-.4-5-2.8-3 .5-4.1-.9-4.5-3-2.1-3 .7-1.4 4 .6 3-.6 4-2.7 6-2.2 3.2 3.4 .6 1-.9 1.9 2.1 1.9 22 4.5 5.9 2.4 9 .1 4 .8 6-4.7-2.3-3 3-4.9-1.4-4-5.5-4-5.8-1.3-2.3-5.7-1.7-1.5-3-.3-5.9 1.4-2-4.6-1.1-9-3.3-6 1.3-4-.6-3-2.3-1.7-2-.4-6 1.9-1.8-.8-.9-7-2.3-1.6-3.9-.4 1.7-6.9-.8-5.8-1-.7-3 2.6-1.7-1.1-1.8-2-.2-6-1.3-3.6-1-.4-4 1.2-1-1.2 0-4 2.9-3-2.2-6 1-6 2-5-1.7-5.5-.1-14.4 1.1 .5 1 17.5 .9-6.1 .1-17.8 1-.9 2-14.5 1 17.7 .7-1.4 .3-19.2 .2 27.1 .6 7 1.2 2.4 2-11.2 1.2 2.8-1.9 16 0 8-.3 1.4-1 .5-.5 4.1 .5 2.7 1 1.7 1 0 2 10.6 2.7 1-1.2 5 .2 3 1.3 1.7 2 .5 1.5-1.2 .9-3-1.4-7.7-1.9-4.3 2-9 .5-24 1.4-7.1 3 21.1 5 .5 .9 4.5 .1 11.9 1 1.4 2.7-5.3 2.3 .1 2.5-4.1-2.2-10 1-7 .9-31.9-.3-2-1.3 5-.6 9.7-1-9.5-1 3.6-.8-20.8 6.7 0 .8 30.9-.8 14.3-1.5 8.7 .5 4.9 1 .6 1-2 .4 1.5 .3 10-.7 1.4-2 .2-1 1.4-3.9 8.7-1 1-2-1.6-1.3 7.9-3.5 2.9-2.7 5-.5 3 1 2.5 1 .2 1-1.1 1-4.4 3-1.1 3-3.5 1 .5 1.2 2.9-.7 7 .6 4 1.9 2.1 4.9 1.3 2.4 2.6 .1 2-2.7 2-1.2 3 1.4 2.3 5 2.4 .4 5.3 .6 1.4 1 .1 7.4-5.5 .4-7-5.2-21-2.2-13.9 .6-1.5 1 0 3 2.5 2 3.8 1-.1 .8-4.7-.6-7 1.2-5-.4-6.1-4-7.5-6 15.3-2.8-9.7 .9-9-1.4-22 1.3-18 .4 29 .6 1.3 1-13.8 1.3 2.5 1.6 23 1.1 1.9 .4-.9-1.8-26 1.6-30.9 1.8 29.9-.5 17 2.5 7 1 .5 1-6.1 2 3.3-.4 2.3-2.4 3 3.4 4 2.2 6-2.9 5 .6 3 3.5 5.4 2-4.4 2-1.5 .5 .5 1.1 8 1.4 1.2 4 .6 2 3.6 2-.2 .7 6.7 1.3 2.4 2-1.1 1-2.8 4 .9 3.9-.8 1 .7 1.1 7.7-3.2 4 1.1 3.5 2 .8 3-1.3 1.8-2 1.2-4.7 1-.5 1.9 13.2 2.3 6-1.4 9-3 5-.2 4-1.6 .7-5-3.7-3-1.2-4.9 1.2-4.4 5 1.3 5-3.9 6.7-5.9 4.2 .7 2 4.2 2.6 9 2.3 1.5 2.1-.5 2.4-6.5 4.6-1.5 3 .3 7 2.7 8.1 .6 5.9 8.3 18.9 6 3.6 18 3 0 9.6zM251.8 556.1l-1.2-7.9-1-31.9 1.2 0 .3 19 1.1 6-.4 14.8zM272.8 530.6l-.6-14.3 1.2 0-.6 14.3zM283.8 583.1l-3-3.5-1 .7-.9-5.1 0-9 .1-1 1.8-.9 .3-4.1-.3-4.8-1.3 1.8-.7 6.6-2.3-26.5 1.2-21 1.1 0-.9 21 .9 8.8 1-15.4 1 8 1-2.7-1-18.4 .1-1.3 1 0 2.1 40.9-1.2 11 1 4.2 .9-3.3 .9 10.1-1.8 3.9zM285.7 561.4l-1 .4-.4-2.6 1.3-8 .7-34.9 1.2 0 .7 13-1.5 29.6-1 2.5zM303.7 612.2l-1 .1-7.6-6.1-.2-1 .8-6.6 3 .1 1.3-2.5-.4-22 2.6-4 .4-4 0-19-.9-6.6-1 17.5-1 1.1-1-2.5-1.8 7.5-.2 5.3-1-4.5-1.1 4.2 .5 3-.8 6 1.6 3 1 6-.7 6-.5 1.1-4-8-1.2 .9-2.8 6.3-1.5-1.3-.4-2 3.6-4-.1-6 3.4-22 1-1.2 1 1.8 1 .1 1.7-4.7 1.3-20 1-.8 .4-3.1 .4-14 1.7 0 1.5 15.4 .7-15.4 2.4 0-2 35.9-1.7 7 .1 9 1.5 1.8 2.9-7.8 .1-4.2 .3 6.2 .7 2.6 1 .6 0 5.5-1-4.3-2 9.2-4 2.9-.9 4.5-.4 13 1.3 2.6 2 1.2 2-.3 1.6-2.5 .1-2-1.9-5 .2-5.2 1-.9 2 .3 0 19.5-3 1.8-3 4.5zM137 529.4l0-12.5 0 12.5zM256.8 522.7l0-6 0 6zM209.9 536.3l1-9-1-9-.9 10 .9 8zM252.8 536.8l1-19.2 .1 12.7-1.1 6.5zM272.8 594.8l-2.5-3.6-.4-12 .9-5.3 1.2-.7 1.5-6-.6-21 .3-4.9 1.4-4 .2-19 1 43.9-2.3 17 1 8-1.7 7.6zM87.1 550.7l0-31.7 .8 22.3-.8 9.4zM258.8 584.4l-1.6-2.2 3.6-30 1-4.8 1 .3 .5-2.4-.4-19 .9-7.9 2 26.5 1 .3 1-1.9 1-4.7 1 21.6-1.4 5-.6 8.3-1-.6-1.1-9.7-.9-17.1-1.7 16.1 1 6-5.3 16.2zM289.7 525.5l0-6.8 0 6.8zM139 635.3l-1 .8-5-1.1-.6-3.9-2.4-5 1.1-13 2.4-7.9-.4-4-1.3-2 1.2-6-2.1-4-.6-4 .7-12-1-5.1-2 3.4-.9-.6-1-3.1-1 .7-2 5.3-1.2-16.6 .2-1.7 1 .9 1 6.3 2-12.5 2.9 17 .9-9 0-15.9 1.1-6.2 1 .3 1 10.9 1-23.7 1.5 5.7 .3 16 .2 1.3 1-2 1.3 5.6 .7 10.2 1 .2 2-5.1 .5 6.7 .5 1.2 2 .8-1.3 9 .4 9-2 9 .9 6.4 1 1 3.6-10.4-1.6-6 1.3-9 .3-13-.6-1.2-2 .8-.8-3.6 .3-19.9 1.5-16.3 1.8 6.3-.1 25.9 1.8 18 .2 13 1 6-1.4 13 1.9 8.9 1.8 1.8 1.2-1.8 2.8-12.4 4.6 3.5 1.6 5.9-.4 6 1.2 2.1 2.6 1.9-1.6 2.7-4-.5-2.5 .8-4.5 5-4 .6-4 5.1-4 .3-3 3.2zM154 591.7l-1.2-3.5 .4-3 .8-1.2 2-.4 1-3.4-2.7-5 .9-12-1.2-5.2-1 .8-1-.7-.5-2.9 .3-21.9 2.2-13 .6 4-.2 31.9 .6 .8 1-10.2 .6 10.4 3.4 14.2 1 1.7 2-7.1 1.5 4.2-1.5 6.4-3.6 8.6-1.4 2.2-2-1.4-2 5.7zM267.8 526.1l0-5.4 0 5.4zM78.1 535.3l-1-8 0-3.1 1-2.3 .9 5.4-.9 8zM235.8 546l0-14 2-9.9-.2 20.2-1.8 3.7zM158 549.4l-1.7-3.2 .4-17.9 1.3-4.1 0 25.2zM222.9 566.4l-2-9.5-1 8.2-1 .8-.5-1.7 .5-39.5 1.1 .6 .9 2.3 1 21.1 2 4.6 0 7.9-1 5.2zM185.1 550.2l.8-6.9-1-7.1-.6 8.1 .8 5.9zM68.2 554.2l.7-6-.7-9.8-.6 9.8 .6 6zM307.7 543.9l0-1.1 0 1.1zM227.9 561.4l-.7-4.2 .7-11.8 1.2 1.8 .2 5-.4 7.6-1 1.6zM183.2 556.2l.5-5-.8-4.9-.9 5.9 .9 5 .3-1zM118.1 563.4l0-11.3 1.1 9.1-1.1 2.2zM179.1 565.2l1.5-2-.7-1.4-.9-.1 .1 3.5zM198.4 575.2l2.2-7-.7-6.1-2.3 7.1-.2 5 .5 1.6 .5-.6zM227.9 571.1l0-7.8 1.2 3.9-1.2 3.9zM140.9 591.2l-.4-12-1.3-3-.3-11-.9-.8-3 2.5-2-2.5-.7 3.8 .7 3.8 2-3.6 1 .3 1.6 8.5-.6 2.2-2-3-1.7 6.8 1.7 2.6 2.5-.6 1.5 5.9 1 1 .9-.9zM130 601.5l-4.9 .1-5.8-3.4-1.2-2-.8-7 .8-3.5 4 3.4 1 2 1-.9 .5-4-.5-4-1-1.5-5 3.1-.3-13.6 1-2 1.3 1.8 1 7.1 2-.9 2 3.5 2.9-1.6 .5 1.1-.5 8.5-1.7 6.5 1.7 4.6 3.1 1.4-1.1 1.3zM177.3 590.2l.8-2 0-6 3.8-.3 .7-3.7-.7-4.4-2-1.6-.9-4.2-2.3 9.2-.7 8 0 3 1.3 2zM185.3 577.2l.4-3-.8-3-.6 4 .6 2.9 .4-.9zM142.2 577.2l-.2-2.2 0 2.7 .2-.5zM196.3 580.2l-.4-4.5-1.4 4.5 1.4 .8 .4-.8zM102.1 584.3l-3.4-.1 1.4-5.7 2.2 2.7-.2 3.1zM219.2 593.2l2.3-4 0-2-3.6-7.2-1 1-1-.8-1.2 6 .5 4 1.7 3.2 1 .5 1.3-.7zM195.1 582.2l-.2 .9 .2-.9zM268.8 594.5l-2-.1-.7-1.2-.5-8 1.2-3.5 .8 7.5 1.7 4-.5 1.3zM60.6 589.2l.5-2-.9-3-.9 3 .9 2.7 .4-.7zM278.8 589.5l-.9-2.3 .9-3.5 .7 4.5-.7 1.3zM246.8 593.2l-1.7 0-.2-4 .9-1.4 3.4 2.4-.6 2-1.8 1zM69.4 633.1l1.9-3-.5-6 .7-3 2.3-4 2.3-1.4 1.5-2.6-1.3-11.9 2.7-6-2.9-3.7-2.4 3.7 2.2 6-1.7 5.9-1 1.8-3.3 2.2-3.7 5.7-2-.7-1.5-6 .7-2 4-1.9 .1-4-1.3-1.5-5 .1-1.1 .4-1.1 3-.6 11.9 1.2 8 4.2 4 2.4 4.8 3.2 .2zM277.8 605.2l-1.5-2-.2-2 4.7-6.7 2.1 6.7-.4 1-4.7 3zM235.8 603.4l-1.2-.2 .1-3 .8-3 1.3-1.6 1.8 1.6 .1 2-.9 2.2-2 2zM139.7 611.1l1-3 3-2.9 0-3-1.7-2.1-3 .5-1.5 2.6-.3 6.9 .8 1.8 1.7-.8zM260.8 611.1l.8-2-.5-2-2.3-1.2-1.5 1.2-.3 2 1.8 2.1 2-.1zM146.7 621.1l1.3-2 0-3-4-7.8-2.4 4.8-.3 5 2.7 3.6 2.7-.6zM252.2 616.1l1.7-3-1.1-4.7-1.3 .7-.9 4 .2 2 1.4 1zM264.1 619.1l.1-4-1.4-2.5-1-.4-.6 4.9 .6 1.6 2.3 .4zM126.1 626.7l-1.8-4.6 .8-5.4 1-1.4 1.6 1.8 .2 3-.3 4-1.5 2.6zM255 623.1l-1-4-1.2 0-1.2 2 .6 2 1.6 1 1.2-1zM277.5 642.1l1.9-2 .4-4 2 0 5.9 3.8 2 .5 2.9-2.3-.1-3-4.8-6.3-2 .1-2.9 1.9-1-.7-2-3.1-3-1.9-3-5.3-3-.7-4.5 1-1.4 3-.4 11 2.3 5.7 2 2.9 6 .2 2.7-.8zM108.4 635.1l2-3-.8-5-2.5-1.9-3 .4-2.5 2.5-.2 2 3.7 4.4 3.3 .6zM95.1 650.2l-3-1-.4-1.1-.2-6 1-3 1.6-1.4 1 1.4 .5 6 1.1 2-1.6 3.1zM270 659.1l1.9-2 .2-2-4.3-6.4-2 .8-1.1 2.6-4.9 1.9-2.2 2.1 1.2 1.3 6 2.4 5.2-.7zM135 708l-5-2.3-1.3-2.7-.2-4 4.2-6-1.8-4-1.5-1-5.3-2.2-7-1.5-22-.7-6-1.2-8.8-.4-1.4-1 3.2-1.2 18-1.2 9-1.7 9-6.1 3-1.1 9.9 1 9-.7 3 .6 2 1.1 .5 1.3-.2 9-1.2 5 3 8-.1 7-1 1.8-2 1.2-9 3z"/><path fill-rule="evenodd" fill="#d6d6d6" d="M53.2 568l-3-2.1-.4-1.7 .4-26.1 .9 19.1 1.1 4.8 1-10.7 1.1-1.1 .5-4-1.3-15.9 .7-8 1 4 1-5.7 1 8.6 1.4-12.9 .9 0 1.4 19 2.7 7-.3 9.9-.1 1-1 .2-1.7-14.1-1.3-1.9-2 5.9-1-3.7-1 20.2-2 8.2zM75.1 577l-2.3-3.8-.5-7 1-4-1.1-2.8-1 .2-.6 1.6-1.4 11.4-1-.8-1.8-15.6 .8-16.4 1 15.9 .8-4.5 .2-30.9 .3 22 1.7 12.3 1 1.5 1-5.1 1 3.2 .4-2 .4-6-1.3-29.9 2.1 0-.9 4 1.7 39.9-1.5 16.8zM91.1 539.3l-.6-18 .6-5 0 23zM100.1 543.7l-2.3-14.4 .6-13 1 0 .9 10-.2 17.4zM139 543.3l.3-25 .2-2 .9 0 .3 19-.7 6.1-1 1.9zM143 530.7l-.4-14.4 1.6 0-.2 11.5-1 2.9zM181.9 619.6l-1.1-1.5 .4-7-1.5-5.9-2.1-3-4.5-2-1-9 .6-7 2.3-2.7 .6 .7 .3 7 1.1 2.2 1.3-2.2 .7-6.9 2.9 .5 .6-1.6-.2-7-2.4-2.7-.7-4.3 1.9-4-2.1-2.3-.8 2.3 .4 5-2.6 12.2-1-15.2 1.2-14-1.1-13.9 .9-11.2 1 2.2-.2 17 1.2 10.3 1.9-7.8 1 4.4 .9-1 1-34.9 1.1 0 .9 16-.5 15.9 .6 3.4 1-3.1 2.8 27.7-1.8 17.9-1.1-.9 0-4-1.9-2.6-2-.7-2.2 3.3 1.5 5 1.3 14.9 2.6 5-3.2 5.5zM187.9 540l-1-6.7-1 5.2-.7-6.2 .7-10.8 1 0 .7-5.2 1.6 0-1.3 23.7zM206.9 521l.3-4.7-.3 4.7zM208.9 533.9l-.8-17.6 1.5 0-.7 17.6zM210.9 551.3l-.9-11 1.2-13-1-11 3 0-.1 20-2.2 15zM231.8 575.2l-1-2-.3-4 1.9-39.9-.6-3.7-1.9 14.4-1-7.8-1 2.2-.6-18.1 2.3 0 .3 .9 .6-.9 2.9 0-.1 16 1 15.9-2.5 27zM272.8 525.8l.1-9.5-.1 9.5zM277.8 542.3l-1-2.4-.1-3.6 1.3-20-.2 26zM285.7 560.3l0-27.9 .7-16.1 .9 0 .4 13-1 26.3-1 4.7zM302.7 561.9l0-16.6-1-6.1-.9 16-1.1 2.7-1.6-3.7 .6-16.6 1.5-6.3 .4-15 1.3 0 1.8 17 .8-17 2.1 0-1.9 34-1.6 4.9-.4 6.7zM67.2 648.4l-2 .4-2-2.7 .9-10 1.1-1.1 5-.5 2.3-2.4-.2-9 1.8-5 3-3 .8-2-.6-11.9 1.9-6-2.1-3.5-1-.6-1 .6-1.6 3.5 1.2 6-1.2 5.9-4.3 3.6-3 4.2-1 0-1-1.3-.6-3.5 .6-1.4 3.7-2.5 0-4-1.7-2.3-3 .8-3-.4-1.5 3.9-1 9.9 .5 10-2 .9-3-1.6-1.7-2.3-.3-4 3.1-3 .9-3-2.9-4.9 0-2 3.3-13 .6-7.2 4.1-4.8 .2-3-1.3-5 2-.5 2 1.9 2 4.9 .7 4.7-2.5 5 2.1 4 .7 7.2 1-.1 1.2-6.1 3.8-5.4 1.5-4.6 1.4-2.4 2-.9 1-6.4 1-.8 1.7 2.5-.6 10 1.9 7.5 1 .7 1.4-2.2 .6-9.4 1.4 1.4 1 8 1.6 1.3 2.6-13.3-.2-36.9 1.4-5 .2-17 .8 27.9 .2 .9 2-27.5-.3 17.7 .9 7.9 2.4 10.7 1-2.9 1 5.1 1 .5 1.5-14.3-.5-28.2 1 2.9 .8 50.2-.8 .6-1-3.1-2 4.5-3 1-1 2.9-2-13.7-1 1.3-1.7 13.5 .3 10-1.5 8-1.1 .7-5-.2-1.7 3.5 1.6 9.9-1.4 5 .5 6.8-1 1.8-4-1.7-2 .5-1.5 1.6-.4 8 1.6 4-3.6 3.4-2.4 5.6-3.6 4.3zM125.1 523.5l0-6.5 0 6.5zM246.8 573l-2.1-25.8 1.1-30.4 1.8 28.5-.6 16.9 1.1 8-1.3 2.8zM281.8 523.9l0-6.7 0 6.7zM82.1 545.5l-1-1-.2-4.2 .2-21.6 1-1 0 27.8zM151 527.7l0-9.2 0 9.2zM170 551.7l-1-.9-.5-3.6 .5-28.7 1 33.2zM251.8 549.7l-1-4.9 0-24 1 28.9zM263.8 549.1l-.6-19.8 .6-8.4 1.1 19.4-1.1 8.8zM146 558.4l-1 .8-.6-4 .3-17.9 1.3-15.5 1.3 3.5 .4 9 0 22.9-1.7 1.2zM153 557.4l-1.2-4.2 .3-16.9 1.9-13 0 29-1 5.1zM78.1 531.7l0-6 0 6zM202.9 600.6l-1 .5-2.5-1.9-1.1-7-2.1-4 .3-13-.6-.6-2 5.4-2-2.8 .9-7 2.3-4 1-22.9 2.8-17.7 .6 14.7 .4 2.4 1 .6 .6 11.9 1.4 3.7 2-8.2 .2 1.5-1.2 20-1 1.8-.6 5.2 .6 3.7 2 3.9 1.7 10.4-3.7 3.4zM138 634.6l-4-.9-3.1-8.6 1-11 2.2-8.9-1.3-7 .4-5-2.5-7 .7-12-1.5-10 0-18 1.1-8.5 1 1.4 1 9.1 1-21.5 1.2 2.6 .5 16 .3 2.1 1-.3 1 4.5 .6 9.6-.9 3-1.7 1.8-2-.3-1-1.8-.4 1.3 .2 7 .7 0 1.5-3.1 1 .1 1.2 8-.2 1.3-1-.3-1-2.6-.4 .6-1.5 7 1.9 3 2-.7 .6 .7 1.4 6 2.5 2 .8 4-.3 1-3 1-1.5 2-.7 8.9 1.2 2 2 .1 1.2 5.9 1.8 2.5 2 .7 2.6-1.2 1-2 0-3-4.1-9-.3-5.9 3.6-13-1.5-7 1.7-19.6 2.2 28.6-1.2 11 1.7 10.9 1.3 2.1 2-.4 2-9.6 1-2.5 1 .1 3 2.5 1 2.6 .2 7.2 1 3-.3 1-4.9 1.5-4 4.2-5 2-3 4.8-5 1.5-3 2.5zM200.9 533.5l0-6.9 0 6.9zM222.9 565.2l-2-9.5-1 8.8-1 .5-.3-1.8 .3-35.6 1-1.2 1 3.7 .9 21.1 1.7 5-.6 9zM158 546.9l-1.3-3.6 .3-14.7 1 .2 0 18.1zM236.8 542.3l-1-.4 0-2.6 1-10.4 .7 3.4-.7 10zM283.8 581.8l-4-3.6-.4-2 0-8 1.4-3 .4-6-.4-5.5-1.1 .5-.9 3.6-.2-5.6 1.2-18.9 1 8.1 2-12.5 .8 26.3-1.1 13 1.3 5.5 .9-1.1 .4 6.6-1.3 2.6zM112.1 592.2l-1-1.3-.9-9.7-3.7-10 1.4-13 .2-24.4 1 5.1 2-2.9 1 1 1-5.4 0 9.5-1 .9-1.3 9.2 .1 17-1.7 5 3.8 4 1 3-.9 11-1 1zM87.1 545.8l0-9.5 0 9.5zM208.9 540.2l0-4.6 0 4.6zM272.8 592.3l-1-.2-.7-1.9-.7-10 .4-3.7 2.8-8.3-.6-14 .8-13 1 .9 .9 18.1-2.5 19 .9 8-1.3 5.1zM266.8 571l-1-22.8 2.3-3.9 .7-2.9 .7 17.8-1.7 10.9-1 .9zM183.2 557.2l.6-6-.9-5.9-.9 7.9 .9 4.9 .3-.9zM227.9 559.9l0-10.8 1 .6 .1 4.5-.1 4.4-1 1.3zM258.8 583l-.7-2.8 .7-12 2-14.4 1-4.3 1-.3 .6 9-.7 4 .9 6-4.8 14.8zM193.9 563.8l-1-13.9 1 .1 0 13.8zM241.8 587.2l-2.5-10 .8-6-.3-13.3 1 3.4 1-11.7 1.1 .6 1.6 22 1.6 4-4.3 11zM158 586.2l-1.6-2 .6-5-2.5-4 1.1-11-.8-5 1.2-8.4 .5 7.4 4.6 18-1.1 5.8-2 4.2zM214.9 620.5l-2-.4-1.2-5-4.4-3-.3-1 .9-6.9 4 1.7 1.9-1.7 .7-2-2.3-15 1.1-7 .4-23 1.2-5.2 2.4 18.2 .6 1.5 4-.7 1.4 3.2-.1 13 1.7 3.2 1-.8 1.9-5.4 3.1-1.1 3.9-6.8 .4 4.9-.4 4.2-3 1.8-3.9 7.2-1 1-2-1.1-2 9.9-2.6 2-3.1 4.9-.9 3 .1 5-1.5 1.4zM128 570.8l-1-.6-1.6-6 .7-10.8 2.4 13.8-.5 3.6zM297.7 558.6l0-2.2 0 2.2zM295.7 592.1l-3-5.9-2.5-2-.5-2 3-23 1-1.4 1.4 6.4-1 14 1.8 5-.2 8.9zM118.1 561.5l0-3 0 3zM142 589.3l-1-2.1-.1-6 1.8-5-.7-2.7-1 4.6-1-.9-.4-13 .6-3 1.8-2.8 .4 4.8 2.1 2-1.1 8 .4 8-1.8 8.1zM296.7 562.5l0-3.6 .6 .3-.6 3.3zM102.3 564.2l-.2-2.9-1-.1-1.5 2 2.5 1.7 .2-.7zM123.1 572.3l0-11.6 1.7 5.5-.7 4.8-1 1.3zM198.3 576.2l2.4-8-.8-7-2.5 8-.2 7 1.1 0zM300.7 589.6l-.9-6.4 .4-8 2-3 .5-2.4 1 1.8 1 .1 2-6.1 1 1.6-1 9.7-1 1.2-3 .9-2 10.6zM251.8 570.3l0-2.1 1-.1 0 2.1-1 .1zM120.1 582.4l-1 .4-.7-1.6-.1-11 .8-1.3 1.6 8.3 1.9 2-.7 2-1.8 1.2zM163 573.8l0-5.4 0 5.4zM185.4 578.2l.5-4-1-3.7-.7 4.7 .7 3.7 .5-.7zM52.2 589.4l-2-7.2-.4-5 .4-3.3 2-2.7 1.1 14-.1 3.8-1 .4zM254.8 656.1l-3 .3-9-1.3-1.6-5 2.3-3 6.8-5 1.4-3-.5-8-1.8-10-2.8-9-1.8-12.5 2.8 1.6 2.7 5.9-.9 8 1.4 3-.5 4 3.5 2.5 1.5-1.5-.4-4-1.7-2 1.1-7-2.2-5.9-.6-12 1.2-4-1.4-11 .3-1 1.2-.3 1.8 2.3 1.2 5-2.8 6 4.8 8.2 2-3.9 1-1.2 1 .1 1.2 6.8 1.8 1.7 3 .2 .8 1.1 3.2 5.5 2 6.6 2 .5 3-4.6 5.9 .4 1.7 1.5 .7 5-3 5 1.3 5-2.6 1.4-5.2-4.4-3.8-4.9-8-2.1-4.9-10.9-2.1-.8-1.2 .8-1.1 2.9 1.3 2 2.3 1 .5 5 3 5 .2 12 3.7 10-3.5 8-9.2 4zM101.1 583.9l-1.8-.7 .8-4.2 1.6 2.2 .1 2-.7 .7zM126.1 600.3l-2-.3-4.4-2.8-1.8-8 .2-1.4 1-.1 2.5 1.5 1.5 2.9 1-.5 .7-10.4 2.3-2.2 1 .2 .2 3-2.2 11 .7 6-.7 1.1zM219.4 594.2l2.4-5-.1-2-3.8-8-1 1-1-1.5-1.5 6.5 .2 5 2.3 4.5 1 .5 1.5-1zM193.9 589.5l-2 .2-.8-2.5 .3-2 2.5-2.3 2 4.3-2 2.3zM60.4 590.2l.7-3-.9-3.9-1 3.9 1.2 3zM154 588.3l-.1-3.1 1.1-.5 0 2.3-1 1.3zM174 618.1l-4.1-5-2.2-6-.8-12.9-1-4 1.1-5.8 2 10.8-.6 9 1.5 2.9 4.4 4 .6 5-.9 2zM309.7 598.6l-2.7-6.4 .7-5.3 2 .7 0 11zM246.8 592.6l-1.3-.4 .3-3.8 2.5 1.8-1.5 2.4zM267.8 593.4l-1-.2 0-4.4 1 4.6zM287.7 592.1l-.9-1.9 1.9-1.8 0 2.6-1 1.1zM98.1 597.3l-1 .7-.7-1.8-.1-5 .8-1.9 2.5 2.9-.1 3-1.4 2.1zM279.8 603.2l-2 .3-.5-2.3 3.5-4.7 1.3 4.7-2.3 2zM206.9 598.9l0-1.3 0 1.3zM193.9 602.2l0-3.4 0 3.4zM303.7 610.2l-1 .2-6.3-5.2 .3-3.4 4-2.7 2 2.7 2 1.1 2 0 2.3-1.7-.3 2-5 7zM100.1 608.2l-3 .7-.6-.8-.4-5.9 1-.3 5.4 3.3-.2 1.9-2.2 1.1zM103.1 653.1l-1-.4-1.3-3.6-.7-10.2 2-3.2 5 1 2-.6 1.6-2 .3-4-1.6-4-2.3-1.4-3 .5-3 1.8-1.3-1.9-.8-6 1.1-1.4 7.2-1.6 4.5-6 1.3-6.4 4.7 10.4 4.4 22-1.1 1.3-5-.4-3 1.1-1.4 2-1 6-4.6 5.3-3 1.7zM189.9 618.9l-2.6-4.8 4.6-7.3 2-1.8 1.3 8.1-3.9 3-1.4 2.8zM237.8 647.1l-5 .7-1.9-.8-3.2-11.9-2.7-6 .3-5-5.7-5 1.8-6 4.5-3.1 1 0 1 2-.1 8.1 1.1 4 7.4 5-2.4 6 .9 2.1 4.5 2.9-.3 6-1.2 1zM126.1 623.9l-.9-2.8 .9-4.4 .9 4.4-.9 2.8zM210.9 645.6l-1 .5-7-5.5-10 0-5.4-3.5-.7-1 1.5-5-.4-4 2-6.9 4 2.9 5-.4 4 .7 1.6 3.7-2.8 4 .2 3 1 1.5 2 .8 5-1 2.2 4.7-1.2 5.5zM275.8 652.3l-2 .2-2-1.7-2-3.7 .5-2 7.5-2.3 4-3.5 6.9 1.7 3.1-.9 1.6-2 0-3-3.7-6-.4-2 4.4-2.7 1 1.7 2.3 11-1.1 9-2.2 3.9-2 2-6-2.5-2.9-.2-7 3zM164 652.1l-3 .6-2.6-.6-1.2-2-.2-3.4 1-2.1 6-4.8 3.8-6.7 6.2-1 8.2 5-1.3 3.2-4.9 .4-3.5 2.4 0 3 2.9 3-11.4 3zM85.1 650.4l-2 .1-1.5-2.4-.6-7-1.7-4 .4-1 5.4-1.5 2 1.4 1.6 4.1-.7 4-2.9 6.3zM94.1 649.4l-1.6-1.3 0-1 .3-5 1.3-2.5 1.7 7.5-1.7 2.3zM88.1 659.7l-2 .4-3-1-.5-2 2.5-1.9 2.7 .9 1.7 1-1.4 2.6zM147 662.1l-2 .6-2-.8-2.1-2.8 .1-1.5 4-.6 3.4 1.1 .2 2-1.6 2zM264.8 670.3l-4 .1-3.3-1.4-.7-1.9 1-5.9 3-.5 8 1 2.5 1.4 0 2-1.3 2-5.2 3.2z"/><path fill-rule="evenodd" fill="#e2e2e2" d="M55.2 552l-.7-22.7 1.7-5.2 1 7.7 2.1-15.5 .9 18.9-1.3 1.1-1.7 4.4-1-3-1 14.3zM74.2 529.9l-.2-13.6 1.4 0-1 3-.2 10.6zM100.1 539.8l-1.9-11.5 .6-12 1.4 12-.1 11.5zM140 539.3l-.6-6 .6-17 0 23zM143 528.5l-.3-12.2 1.3 0-1 12.2zM186.9 589.1l-4.6-3.9 .4-10-.8-2.9-2-1.9-.3-2.2 2.1-6-2.7-2.2-1 2.2 0 8.7-2 4.5-.6-7.2 1.6-17.7 1 6.6 1.9-6.2 3 8.4 .6-3.1 0-10-.6-2-1 .7 1-28.6 1.1 0 .6 14-.3 19.9 .6 2.7 1-.9 2.4 21.2-1.4 15.9zM187.9 538.2l-1-7.8-1 3.4 0-7.1 1-1.9 .9-8.5 1.2 0-1.1 21.9zM208.9 525.4l-.3-9.1 .6 0-.3 9.1zM210.9 548.4l-.5-8.1 1.3-13-.8-11 2.2 0-.2 19.7-2 12.4zM229.9 537.5l-1-7-1 1.4-.3-15.6 1.4 0 .9 2.9 1.5-.9 .6-2 1 0-.2 13.5-1-8.7-1.9 16.4zM286.7 551.2l-1-9.9 1-25 .8 10-.8 24.9zM299.7 556.2l-1.1-4 0-6 1.6-13.9 .5-16 1 .7 1 15.9 1 2.3 .9-18.9 1.6 0-1.9 32.9-.6 3.1-2-14.9-1 15.7-1 3.1zM91.1 533.2l0-13.6 0 13.6zM246.8 568.1l-1.8-20.9 .8-27.8 1.6 26.8-.6 21.9zM277.8 532.7l0-12.3 0 12.3zM82.1 541.4l-1-2 0-4.1 0-11 1-2.5 0 19.6zM103.1 562.9l1-39.3 .3 19.7-1.3 19.6zM145 558.4l-.3-18.1 1.3-16.6 1.5 6.6-.1 23.9-.4 2.8-2 1.4zM170 548.4l-1 .3-.2-2.5 .2-22.2 1 24.4zM263.8 546l0-22.1 1 13.4-1 8.7zM201.9 599.7l-2.4-2.5-3-15 .4-4 2-1.9 1.5-5.1 .4-5-.9-6-2.4 7-.6 6.1-1.4 .9-1.6 5-1.3-1-.4-2 .7-5.4 2.6-4.6 .9-21.9 2.5-16.8 .5 12.8 2.1 16.9 1.4 3.3 1-3.7 .3 2.4-.5 11-1.6 9 2.4 9 .5 6-.8 3-2.3 2.5zM219.9 563.8l-1 .2-.1-.8-.2-15 .3-17.1 1-3.4 1 5 .5 18.5-1.5 12.6zM69.2 539.1l0-10.6 0 10.6zM153 555.5l-.8-4.3 .2-13.9 1.6-8.9-1 27.1zM138 633.2l-2-.2-2-1.7-2-6.2 .9-10 2-8.9-1.5-8 .2-5-2.6-6.2 .7-12.8-1.5-10-.2-16 1-8.9 2 9.9 1-19.6 1 .5 .6 15.2 2.3 7.9 .2 7-.7 4-1.4 1.5-1.9-.5-1.1-2-.3 1-.5 4 .6 5 1.2 .3 .8-3.3 1.2-.4 .7 5.4-.7 2.1-1-2.8-.8 .7-1.7 7 1.5 3.8 1 .7 2-.5 1.9 7 2.4 4-4.2 5-1.5 7.9 1 3 3.2 3 2.2 5.2 2 1.4 4.9 .4-3.9 7-7 3.1zM176 545.9l0-16.1 .6 4.5-.6 11.6zM75.1 576.2l-2.1-3-.4-7 1-4-1.2-4 .8-4.7 1 1.8 .6-3.1 .3-20.7 1.3 25.7-1.3 19zM158 543.4l-1-1 0-10.4 1 2.4 0 9zM283.8 579.7l-4-3.4-.3-3.1 1.9-12-.6-10.1-1.2-1.9 .2-11 1 6.4 2-13 .5 23.6-1.1 13 1.9 9-.3 2.5zM231.8 573.6l-1-4.4 2-36.2 1.2 18.2-2.2 22.4zM236.8 538.8l0-6.4 0 6.4zM92.1 575.8l-.3-32.5 1.3-6.9 1 12.7 1-14.8 2 15.7 2 8.5 1-1.6 .4 2.3-1.6 4 2.7 3 .1 3-.6 2.5-1 .9-2-.1-1 1.7-2-12.8-1.4 2.8-1.6 11.6zM108.1 574l-.8-4.8 .8-32.5 .5 2.6 .5 .8 1.9 .2 .2 2-.5 25.9-2.6 5.8zM62.2 551.5l-1-9.2 1-2.1 1.2 6-.2 4.4-1 .9zM53.2 566.3l-2-.2-1.2-1.9 .2-23.3 .6 17.3 1.4 5.4 1-8.7 1-2.3 .6 .6-.3 8-1.3 5.1zM69.2 570.6l-1-1.2-1.2-10.2 .2-16.1 .5 13.1 .5 1.2 2-10.5 .8 9.3-1.8 14.4zM274.8 567.1l-1-1-.6-5.9 .6-17.1 1.6 13.1-.6 10.9zM266.8 568.8l-.8-16.6 .6-3 2.2-3.9 .3 12.9-1.3 9.5-1 1.1zM258.8 579.7l.3-10.5 1.7-13.7 1-4.1 1-.3 .4 7.1-.9 4 .8 6-1.3 5.4-3 6.1zM241.8 585.7l-2.1-7.5 .6-7-.5-7 1.5-4 .5-7.7 1-1 1.5 20.7 1.2 5-3.7 8.5zM227.9 558.4l0-5.1 .6 2.9-.6 2.2zM158 584.7l-.7-5.5-2.6-4 1.3-20.4 4.3 21.4-.4 4-1.9 4.5zM222.9 586.5l-1 .3-1-1.5-2.3-6.1-1.7-2-1 .2-2 8.3-.2-.5-.2-20 .4-7.8 1-2.9 2.6 18.7 1.4 1.1 1-1.8 2-.7 1.1 2.4-.1 12.3zM222.9 563.8l-.7-5.6 .7-2.1 0 7.7zM193.9 562.6l0-5.5 0 5.5zM294.7 588.9l-4-7.7 2-19.4 1-3.1 .8 5.5-.6 14 1.8 8-1 2.7zM142 587.6l-.2-5.4 1.1-3 0-5-.9-4.7-1 5-.3-1.3 .3-12.1 1 4.4 1-.2 .4 1.9-.2 14-1.2 6.4zM127.1 569.3l0-7.6 1 6.5-.2 1-.8 .1zM149 614.1l-2-3-2-7.9 1.2-9 1.7-5-1.3-8 1.4-15.3 1.6 25.3-1 9 1 7.9-.6 6zM123.1 570.3l0-3.6 1 1.5-1 2.1zM272.8 590.3l-1.2-1.1-.8-8 3-13.4 .2 5.4-1.1 6 .8 7-.9 4.1zM305.7 576.5l-.7-2.3 1.7-5.9 0 6.7-1 1.5zM120.1 581.8l-1 .2-.3-.8 .3-11.3 2.2 10.3-1.2 1.6zM185.4 579.2l.7-5-1.2-4.7-.8 5.7 .8 4.6 .5-.6zM52.2 586.5l-2-10.3 .9-3 1.1-.7 0 14zM55.2 618.7l-1 .4-1-1 2.9-6-3.2-5.9 .3-6 2.6-9 .7-7 1.7-2.2 1.3 .2-.4 6 1.1 2.9 .9-1.9 .4-2-1.1-6 .8-8.1 3 2.2 1.2 4.9 0 2-2.4 5 2.2 4 .3 8-2.3 1-3-.7-1 1.5-3 16.1-1 1.6zM75.1 621.2l0-2.3 3.3-5.8-.6-11.9 1.8-6-3.5-4.7-2.7 3.7 .7 7-1.1 5-6.8 6.1-1-.4-.5-1.8 3.3-3 .8-1.9-1.3-6 1.3-6 3.4-5.4 2-5.9 2.9-2.1 2-7.1 1.1 2.5 .3 13 1.3 4 2.2 3-.9 5 1.1 9.9-1.3 10-4.8 .1-3 1zM112.1 590.6l-3-15.6 3.1 2.2 1.2 3-.3 8-1 2.4zM300.7 583.4l-.1-6.2 1.1-1.4-1 7.6zM253.8 586.3l-1-.1-.1-1-.6-7 .7-1.6 1 .6 1.5 6-1.5 3.1zM100.1 583.2l0-3.5 1.2 2.5-1.2 1zM125.1 598.7l-2.3-.5-2.7-2.3-1.6-5.7 .6-1.6 1.8 .6 2.2 4.4 1.6-.4 .6-10 1.8-3.1 .2 7.1-2.2 5 0 6.5zM227.9 591l0-4.2 3-2.3 2.9-4.5 .6 2.2-.5 2-2.7 2-3.3 4.8zM91.1 589l0-6.6 1-.6-1 7.2zM88.1 594.2l-1.9 0-1-1 .9-10.3 .4 7.3 1.6 4zM179.9 603.2l-6.1-3-1.2-8 .4-6 1-1.9 1-.3 .7 6.2 1.3 2 1.7-2 .1-6 1.1-1.1 1.6 2.1-2.5 4 1.9 6-.2 7-.8 1zM192.9 589.2l-1-.6-.3-2.4 2.3-2.3 1 3.3-2 2zM308.7 594.5l-1.2-3.3 .2-2.6 1-.5 .9 4.1-.9 2.3zM213.9 617.3l-5.3-6.2 .2-4 3.1-.5 2.4-2.4 .6-10 2 1.9 2 0 4-6.7 1.1 3.8-1.3 10-5.2 5.9-2.6 7.5-1 .7zM246.8 591.6l-1-.3 0-1.5 1.4 .4-.4 1.4zM98.1 596.4l-1.1-.2 .1-5.4 2.1 1.4-.1 2.8-1 1.4zM254.8 655.1l-11-.3-2-3.7 2.8-4 5.2-3.5 2.8-3.5 .2-5-1.5-9 .5-.8 3-.5 .8-1.7-.1-4-1.2-3 .7-6-2-6.9-.9-8 .7-4.3 3 3 2 4.3 1-.4 2-3.9 2.1 6.3 1.9 1.5 3 .7 3.3 7.7 1.1 6-5.4-.5-6-10.3-2-.4-2.6 2.2 0 3 3.6 3 .2 4 2.8 7 .3 10 3.4 9-2.7 8.1-9 3.9zM279.8 602.4l-1.2-.2 0-2 1.2-1.7 1 0 .3 2.7-1.3 1.2zM100.1 607.5l-2 .4-.9-.8-.1-3.4 4.2 1.5 .3 1-1.5 1.3zM303.7 606.4l-1 .6-.9-.8-.1-2.6 2 1.2 0 1.6zM151 622.2l-2 .8-.5-.9 1.5-6.9 3 1.7 2-1 1.7-9.7 1.3-1.7 2 1.5 1 2.1 0 7.4-5 2.6-2.8 3-2.2 1.1zM190.9 615.4l-1 .4-.4-.7-.1-2 3.5-5.1 1 .6 .6 3.5-3.6 3.3zM117.1 636.1l-5 .3-.3-6.3-1.7-4.1-3-2.1-5 1.2-1-.8-.6-3.2 .2-2 1.4-.9 4 .4 2-1.1 6-8.9 3 5.8 2 9 1 10.7-1 1.7-2 .3zM282.8 625.9l-5-3.4-3.2-4.4 4.9-7 5.2 .6 1.3 2.4 .1 4-2.7 4-.6 3.8zM225.9 622.8l-3.9-2.7-.7-2 .6-4 4-2.4 1.1 3.4-.2 6-.9 1.7zM207.9 640l-5-1.3-9 .4-4-2.2-1.3-2.8 .3-7 1.3-4 .7-.5 3 1 4 0 4 1.8 .9 1.7-1.6 4 0 3 2.7 3.5 4.3 .5-.3 1.9zM235.8 644.4l-2 .3-2.4-2.6-3.5-14.4 5.9 2.4-.7 6 4.2 5-1.5 3.3zM168 649.1l-5.8 0-1-1 .1-2 7.7-11.7 4-.7 5.5 3.4 .4 2-5.9 2.4-1.5 2.6-.2 4-3.3 1zM67.2 643.2l-1-1 .2-2.1 .8-1.2 2-.4 1 1.6-1.1 2-1.9 1.1zM106.1 647.5l-3-.5-.9-2.9 .2-3 1.7-1.8 6-.9-.6 5.7-3.4 3.4zM84.1 643.6l-1-.3 0-3.5 1.6 1.3-.6 2.5zM290.7 648.1l-6.9-2.3-6 .9-1.2-.6 4.2-2.3 12.9-2.7-.1 4-2.9 3z"/><path fill-rule="evenodd" fill="#eeeeee" d="M143 525.5l.3-9.2-.3 9.2zM212.9 533l-.8-.7-.3-16 1.1 0 0 16.7zM229.9 534.9l-1-6.8-1 .7-.1-12.5 2.6 7-.5 11.6zM286.7 546.8l-.6-8.5 .6-22 0 30.5zM303.7 549.7l-.4-9.4 1.1-5 .3-19 1.2 0-2.2 33.4zM58.2 535.1l1-18.3 .6 14.5-1.6 3.8zM99.1 534.3l-.6-8 .6-9 .9 15-.9 2zM140 536.6l0-20.3 0 20.3zM185.9 587.3l-2.8-3.1 .5-7-1.7-5.9-1-.6-.9-2.5 2.1-4 1.6-8 .1-10-1.5-7.9 .6-21.1 1-.1 .2 34.1 .6 3 1.2 1.2 2.1 18.8-1.1 12.1-1 1zM187.9 536l-.7-8.7 .7-9.5 .9 4.5-.9 13.7zM299.7 554.2l-.9-8 1.5-12.9 .4-14.9 1 1.5 .4 12.4-2.4 21.9zM246.8 560.3l-1-1.9-.6-10.2 .6-25.8 1.4 22.9-.4 15zM145 557.4l-.2-16.1 1.2-15.4 1 1.9 .3 4.5-.1 20.9-.2 2.3-2 1.9zM263.8 542.4l0-14.9 0 14.9zM104.1 548.7l0-19.9 0 19.9zM219.9 562.7l-1-.8-.1-14.7 .1-11.9 1-6.1 1 6.5 .2 11.5-1.2 15.5zM55.2 545.8l-.3-13.5 .3-2 1-.7-1 16.2zM202.9 597.3l-2 .4-1-1.3-2.7-13.2 .3-3 1.7-3 1.4-6 .1-8-.8-4.5-2.5 7.5-.5 4.3-2 3.2-1 4.7-1-.3-.4-1.9 1.4-7 1-.1 1-1.9 .7-21 2.3-16.5 2.4 28.5 1.9 6-1.2 16 2.2 12-1.3 5.1zM132 581.3l-.1-10.1-1.4-8-.2-15 .7-7.1 2 9.2 1-17.9 1 .1 .5 12.8 1.9 7.9 .4 7-.4 3-1.4 2.2-1.5-.2-1.5-2.9-.2 .9-.7 9 1.2 5-1.3 4.1zM211.9 542.3l-1 .2 1-9.8 .5 .6-.5 9zM153 553.3l0-19.5 .6 7.5-.6 12zM169 545.2l0-11 0 11zM176 541.7l0-7.1 0 7.1zM281.8 575.3l-1.3-1.1-.3-2 1.3-8-.4-18 1.7-11.3 .3 20.3-1.3 20.1zM100.1 572.2l-2-.6-1 1.1-2-12.5-1.3 2-1.7 9.5-.1-27.4 1.1-2.6 1 8.7 1-12.4 3.6 21.2-.1 5 2.7 3-.2 3.9-1 1.1zM231.8 567.4l-.1-16.2 1.1-13.5 .9 13.5-1.9 16.2zM108.1 571.3l0-31 2 1.2 .6 3.8-.2 22.9-.4 1.5-2 1.6zM50.2 563.6l0-18.7 .8 18.3-.8 .4zM62.2 547.7l0-3.1 0 3.1zM75.1 575.2l-.9-.2-.9-1.8-.5-6 1-5-.8-5 .2-.9 1 .2 .5-2.3 .4-8.2 1.1 10.2-1.1 19zM274.8 564.8l-1-.4-.4-3.2 .4-15.6 1.2 9.6-.2 9.6zM69.2 568.1l-1-1.9-.2-5 2.2-11.5 .3 8.5-1.3 9.9zM266.8 566.4l-.4-12.2 1.4-4.9 .9 1.9 .1 5.5-1 8.8-1 .9zM177 573.3l-1-.2-.4-5.9 1.4-13.1 1.1 13.1-1.1 6.1zM180.9 560.5l-1.7-2.3 .7-4.3 1.7 4.3-.7 2.3zM241.8 584.2l-1.9-7 .3-12 1.6-10 1-1.5 2.1 23.5-3.1 7zM259.8 575.6l-.3-7.4 2.3-14.8 1.1 .8 0 5-.9 3 .8 5-1 5.1-2 3.3zM214.9 578.7l-1 .3-.3-8.8 .3-9.8 1-3.5 1.8 16.3-1.8 5.5zM159 581.2l-1 0-.3-2-2.8-4 1.1-17.2 3.6 17.2-.6 6zM293.7 583.7l-1.7-3.5-.4-4 1.1-12 1-1.6 0 21.1zM51.2 564.4l0-.7 0 .7zM185.8 580.2l.6-7-1.5-4.9-.9 9.9 .9 2.8 .9-.8zM136 575.7l-1.1-3.5 1.1-1.8 0 5.3zM221.9 585.8l-2.5-9.6 1.4-3 1.1-.4 1 2.6 0 6.8-1 3.6zM51.2 580.4l0-6.4 1 1.2-1 5.2zM56.2 609.1l-2.5-2.9 0-6 3.2-16 1.3-1.5 .7 6.5 1.3 2.8 1.4-2.8 .3-3-1-5 1.3-6.1 2 1.9 .7 3.2 0 2-2.5 5 2.4 4 .1 7-1.7 1.2-3-1-1.7 2.8-2.3 7.9zM81.1 618.3l-2.5-.2-.4-1 .9-5-.7-10.9 1.6-6-2.9-4.8-1-.8-1 .7-1.8 2.9-.5 2 .4 7-2 3.6-1 .1-1.9-5.7 .9-6.1 3.4-5.9 1.6-5.7 .9-1.2 2-.4 2-6.5 1.3 14.8 2.4 7 .5 13.9-1.2 6.7-1 1.5zM148 585.5l-1.1-4.3 1.1-6.6 .7 7.6-.7 3.3zM120.1 580.7l-1-.5 0-3.2 1 1.4 0 2.3zM112.1 586.8l-1-9.6 1.8 5-.8 4.6zM253.8 585.4l-1-1.7 0-6.2 1 .5 1 4.2-1 3.2zM272.8 587.4l-1.1-1.2 .1-6.7 1 2.3 0 5.6zM136 603.1l-1-.5-1.3-10.4-1.9-4 .2-5.2 2 3.8 3 .6 2.5 9.8-3.5 5.9zM126.1 588.5l0-4.5 .6 1.2-.6 3.3zM192.9 588.3l-.6-2.1 .6-1.2 1 .2 .3 2-1.3 1.1zM179 600.8l-5-1.7-.7-5.9 .7-6.2 2 5.5 1 1 2-1.7 1 1.4-.1 6.4-.9 1.2zM121.1 592.7l-1 .2-.3-.7 .3-2.3 1 2.8zM148 608.8l-1.4-2.6-.6-4.5 .9-8.5 1.1-2.9 1-.2-1 18.7zM213.9 614.3l-3-2.2-.6-3 4.2-3.9 1.4-6.9 3-.4 3-5.9 .6 .2 .4 3-1 7.6-4.4 4.3-3.6 7.2zM98.1 594.8l0-2.5 0 2.5zM267.8 612.5l-2-1.1-4-6.9-3-.3-3 1.9-1-.5-2-7.9 0-4.9 1-.2 1.6 1.6 2.4 5.3 3-2.1 2 4.5 4 2.1 1.8 6.1-.8 2.4zM256.8 644.3l-2.3-2.2 .5-7-2.4-7 .2-1.2 2.6-1.8 .8-2-.6-2 .7-3-1.1-2 .6-4.3 2 .7 1.4 1.6 .2 4 2.4 8-.1 8-.9 4.4-2 4.5-2 1.3zM281.8 622.5l-2-.7-2-2.7 1.3-6 1.7-1 3 .5 1.3 3.5-.2 2-3.1 4.4zM116.1 634.1l-2-1-5.3-12 2.2-5 3.1-3.8 2 2.9 1.9 8.9 0 7-.5 2-1.4 1zM224.9 619.4l-1.3-.3-.7-2 .2-2 1.8-1.2 .7 2.2-.7 3.3zM139 631.4l-3-.5-2.3-3.8 0-7 1.3-4.5 3.4 1.5 3.5 5 3.7 3-1.4 4-5.2 2.3zM196.9 637.2l-4-.8-2.5-2.3-.5-6 1.6-4 6.4 .7 2.8 2.3-.5 9-3.3 1.1zM169 643.5l-.2-2.4 1.2-2.3 2-1.2 1.3 .5 .2 1-4.5 4.4z"/><path fill-rule="evenodd" fill="#f9f9f9" d="M286.7 542.4l0-25 0 25zM140 532.2l0-12.1 0 12.1zM212.9 528.2l0-8.8 0 8.8zM304.7 530.4l0-10.8 0 10.8zM59.2 530.9l0-10.3 0 10.3zM183.9 543.5l-1.3-7.2 .3-14.5 1-.9 0 22.6zM187.9 533.1l0-12 0 12zM99.1 530.7l0-9.2 0 9.2zM299.7 551.4l-.3-6.1 1.3-22 1 5.3-2 22.8zM229.9 531l0-5.6 0 5.6zM246.8 558.6l-1-2.4-.3-7 .3-23.2 1.2 18.3-.2 14.3zM146 555.5l-1-.1-.2-7.2 1.2-19.9 1 1.8 .3 8.2-.3 14.9-1 2.3zM219.9 560.8l-.9-14.6 .9-15.2 1 13.3-1 16.5zM196.9 567.3l-.2-19.1 2.2-15.5 1.4 22.5-3.4 12.1zM55.2 539.9l0-5.6 0 5.6zM132 567l-1-.8-.3-3-.1-16 .4-4.1 2 8.7 1-16.5 1 .2 .3 9.8 1.9 9.9 .2 6-.7 3-1.7 1-2-4.1-1 5.9zM153 550.2l0-13.5 0 13.5zM281.8 565.3l-.4-17.1 1.4-8.8 0 15.8-1 10.1zM231.8 560.5l1-18.6 .4 12.3-1.4 6.3zM100.1 571.5l-2-1.2-1 .4-2-12.2-1 .8-1 4.8-.8-1.9-.2-15.1 1-2.1 1 7.3 1-9.9 3 16.8 0 5.5 2.8 3.5-.8 3.3zM109.1 570.3l-1-1-.1-2.1 .1-21.7 1-2.8 1 .6 .4 4.9-.1 19-1.3 3.1zM274.8 562.3l-1 .6 0-13.5 1 12.9zM266.8 563.3l0-9.1 1-2.1 .3 8.1-.3 2.9-1 .2zM74.2 574.4l-1.1-7.2 2-14.8 .6 5.8-.5 15-1 1.2zM182.9 574.3l-1-4.8-1-1.3 2.3-6 .7-6.7 2 4.1 .2 6.6-.2 1.3-1-1-1 6.8-1 1zM261.8 560.9l-.6-1.7 .6-3.6 .8 2.6-.8 2.7zM241.8 582.7l-1.5-5.5 .2-11 1.3-8.5 1-1.4 1.6 20.9-2.6 5.5zM177 571.9l-1.1-3.7 1.1-10.4 .6 9.4-.6 4.7zM200.9 562.1l0-3.3 0 3.3zM214.9 576.6l-1.1-6.4 1.1-10.8 1.1 11.8-1.1 5.4zM201.9 595.7l-2-2.8-.9-6.7 1.7-13 .4-10 .8-.8 .8 5.8-1.2 12 1.8 12-1.4 3.5zM260.8 572.6l-1-2.4 1-7.7 1.5 4.7-1.5 5.4zM159 578.3l-1 .7-2.9-4.8 .4-6 1.5-3.1 1.9 8.1 .1 5.1zM186.9 578l0-8.3 0 8.3zM193.9 577.1l-1-.9 1-5.7 0 6.6zM136 573.2l0-1.3 0 1.3zM63.2 584.3l-1 .8-.8-3.9 .8-4 1-.2 1.3 4.2-1.3 3.1zM148 583.3l0-6.3 0 6.3zM71.2 602.9l-1-.5-.9-2.2 .6-5 2.8-5 1.5-6.6 .9-1.3 2 0 2-4.1 1 14.4-4-4.4-1 .5-2.6 4.5 0 7-1.3 2.7zM253.8 583.9l0-4.1 0 4.1zM55.2 606.3l-1-6.1 3-15.3 1-1 .4 6.3 1.6 3.4 2-4.9 2 2 .1 6.5-1.1 1.1-3-1.7-4 9.4-1 .3zM185.9 584.8l-1-1 1-.1 0 1.1zM136 600.7l-1.1-1.5-.4-6-2.1-6 .6-.6 1 1.4 2 .4 1 1.7 .9 7.1-1.9 3.5zM148 594.8l0-1.4 0 1.4zM178 598.4l-3.2-.2-.4-3 .6-1.7 2 2 2-.5 0 2.2-1 1.2zM256.8 603.6l-1.3-.4-1.7-4.8 0-4.4 1 .5 1.7 5.7 1.6 2-1.3 1.4zM81.1 612l-1-1.6-1-9.2 2-5.6 1.1 7.6-1.1 8.8zM257.8 615.9l-1 .2 0-2.1 1 .4 0 1.5zM281.8 618.8l-1-.8-.3-1.9 1.3-2.2 1.3 2.2-.3 2-1 .7zM115.1 627.8l-2-1.8-1.4-3.9 .5-3 1.9-1.7 2 5.4-.1 3.3-.9 1.7zM141 629.2l-3 0-1.9-2.1-.4-4 1.3-2.7 2 .6 4 4.1 0 2.3-2 1.8zM193.9 633.1l-1.7-2-.2-4 .9-1.3 3 .1 2.2 2.2-2.2 1.1-2 3.9zM254.8 629.4l0-1.8 0 1.8z"/><path fill-rule="evenodd" fill="#ffffff" d="M286.7 536.7l0-13.9 0 13.9zM183.9 538.8l-1-1.3 0-3.2 0-6.1 1-2.4 0 13zM146 554l-1-2.4 0-4.4 1-16.2 1 2 .2 7.3-.2 10.4-1 3.3zM246.8 554.9l-1-3.7 0-20.8 1 24.5zM219.9 557.2l-.6-12.9 .6-11.1 .7 11.1-.7 12.9zM196.9 564.3l0-16.1 2-11.2 .7 17.2-2.7 10.1zM136 564.6l-1.4-.4-1.6-5-1 5.8-1.1-2.8 .1-16.7 2 8.6 1-15.8 1 .8 2 18.1-.1 5-.9 2.4zM109.1 569.4l-.8-3.2-.1-13 .9-9 1 1.2 .2 4.8-.1 17-1.1 2.2zM93.1 561.5l-.6-7.3 .6-6 .8 7-.8 6.3zM97.1 566.9l-2.4-12.7 .4-6.6 2.3 10.6-.3 8.7zM281.8 559.1l0-11 .6 2.1-.6 8.9zM74.2 573.5l-.7-6.3 1.4-4 .2-6.1 0 12.3-.9 4.1zM273.8 559.4l0-1.3 0 1.3zM182.9 572.1l-.4-4.9 1.4-7.1 .6 5.1-.6 5.2-1 1.7zM241.8 581.3l-1.2-4.1 .2-10 1-7.2 1-.8 1.2 18-2.2 4.1zM214.9 573.6l0-10.9 0 10.9zM201.9 571.1l0-5.1 0 5.1zM260.8 569.9l0-4.2 1 1.5-1 2.7zM158 577.6l-2.5-3.4 .3-6 1.2-1.5 1.5 7.5-.5 3.4zM177 568.8l0-2 0 2zM100.1 570.3l0-1.8 0 1.8zM63.2 583.2l-1 0-.2-2 1.2-2.1 .6 2.1-.6 2zM78.1 588.7l-.7-2.5 .7-3 .8 4-.8 1.5zM56.2 602.3l-1-2.6 2-10.5 1.7 6-2.7 7.1zM63.2 596.2l-1.1-1-.3-2 .4-2.4 1-.4 1 2.8-1 3zM136 596.6l0-4.7 0 4.7z"/></g></g><path d="M49.6 515.8C49.6 516.8 49.7 520.0 49.7 522.0C49.7 524.0 49.8 526.0 49.8 528.0C49.8 530.0 49.9 532.0 49.9 534.0C50.0 536.0 50.0 538.0 50.0 540.0C50.1 542.0 50.1 544.0 50.2 546.0C50.2 548.0 50.3 550.0 50.4 552.0C50.4 554.0 50.5 556.0 50.6 558.0C50.6 560.0 50.7 562.0 50.8 564.0C50.9 566.0 51.0 568.0 51.1 570.0C51.2 572.0 51.3 574.0 51.4 576.0C51.5 578.0 51.6 580.0 51.7 582.0C51.8 584.0 52.0 586.0 52.1 588.0C52.2 590.0 52.4 592.0 52.6 594.0C52.7 596.0 52.9 598.0 53.1 600.0C53.3 602.0 53.5 604.0 53.7 606.0C53.9 608.0 54.1 610.0 54.3 612.0C54.6 614.0 54.8 616.0 55.1 618.0C55.4 620.0 55.7 622.0 56.0 624.0C56.3 626.0 56.6 628.0 57.0 630.0C57.3 632.0 57.7 634.0 58.1 636.0C58.5 638.0 58.9 640.0 59.4 642.0C59.9 644.0 60.4 646.0 60.9 648.0C61.4 650.0 62.0 652.0 62.5 654.0C63.1 656.0 63.8 658.0 64.5 660.0C65.1 662.0 65.9 664.0 66.6 666.0C67.4 668.0 68.2 670.0 69.1 672.0C70.0 674.0 70.9 676.0 71.9 678.0C72.9 680.0 74.0 682.0 75.1 684.0C76.2 686.0 77.4 688.0 78.7 690.0C80.0 692.0 81.4 694.0 82.9 696.0C84.4 698.0 85.9 700.0 87.6 702.0C89.3 704.0 91.0 706.0 93.0 708.0C94.9 710.0 96.9 712.0 99.0 714.0C101.2 716.0 103.5 718.0 106.0 720.0C108.5 722.0 111.1 724.0 113.9 726.0C116.7 728.0 119.6 730.0 122.8 732.0C126.0 734.0 129.4 736.0 133.0 738.0C136.7 740.0 140.5 742.0 144.6 744.0C148.8 746.0 153.1 748.0 157.8 750.0C162.5 752.0 169.2 754.6 172.8 756.0C176.4 757.4 178.3 758.0 179.4 758.4L180.8 758.4C181.9 758.0 184.0 757.4 187.8 756.0C191.7 754.6 198.8 752.0 203.8 750.0C208.7 748.0 213.3 746.0 217.6 744.0C221.8 742.0 225.8 740.0 229.4 738.0C233.1 736.0 236.5 734.0 239.7 732.0C242.9 730.0 245.8 728.0 248.6 726.0C251.3 724.0 253.9 722.0 256.2 720.0C258.6 718.0 260.8 716.0 262.9 714.0C265.0 712.0 266.8 710.0 268.6 708.0C270.4 706.0 272.1 704.0 273.6 702.0C275.2 700.0 276.6 698.0 277.9 696.0C279.3 694.0 280.5 692.0 281.7 690.0C282.9 688.0 284.0 686.0 285.0 684.0C286.0 682.0 287.0 680.0 287.9 678.0C288.7 676.0 289.6 674.0 290.4 672.0C291.1 670.0 291.9 668.0 292.5 666.0C293.2 664.0 293.9 662.0 294.5 660.0C295.1 658.0 295.6 656.0 296.1 654.0C296.7 652.0 297.2 650.0 297.6 648.0C298.1 646.0 298.6 644.0 299.0 642.0C299.4 640.0 299.8 638.0 300.1 636.0C300.5 634.0 300.9 632.0 301.2 630.0C301.5 628.0 301.8 626.0 302.1 624.0C302.4 622.0 302.7 620.0 303.0 618.0C303.3 616.0 303.5 614.0 303.8 612.0C304.0 610.0 304.2 608.0 304.5 606.0C304.7 604.0 304.9 602.0 305.1 600.0C305.3 598.0 305.5 596.0 305.7 594.0C305.9 592.0 306.1 590.0 306.3 588.0C306.4 586.0 306.6 584.0 306.8 582.0C306.9 580.0 307.1 578.0 307.2 576.0C307.4 574.0 307.6 572.0 307.7 570.0C307.8 568.0 308.0 566.0 308.1 564.0C308.3 562.0 308.4 560.0 308.5 558.0C308.7 556.0 308.8 554.0 308.9 552.0C309.0 550.0 309.2 548.0 309.3 546.0C309.4 544.0 309.6 542.0 309.6 540.0C309.7 538.0 309.8 536.0 309.8 534.0C309.8 532.0 309.8 531.0 309.8 528.0C309.8 525.0 309.8 517.8 309.8 515.8Z" fill="none" stroke="#333" stroke-width="0.5"/><defs><clipPath id="box1"><rect x="48.7" y="515.8" width="261.5" height="242.59999999999997"/></clipPath></defs><g clip-path="url(#box1)"><path d="M74.4 516.0C74.1 516.6 74.6 519.5 75.0 519.5C75.4 519.5 76.8 516.6 76.7 516.0C76.6 515.4 74.7 515.4 74.4 516.0Z" fill="none" stroke="#000" stroke-width="1.2" stroke-linecap="round" stroke-linejoin="round"/><path d="M92.8 516.0L93.0 527.0" fill="none" stroke="#000" stroke-width="2.0" stroke-linecap="round" stroke-linejoin="round"/><path d="M91.8 536.0L91.6 545.5" fill="none" stroke="#000" stroke-width="2.2" stroke-linecap="round" stroke-linejoin="round"/><path d="M125.8 516.0L126.0 529.2" fill="none" stroke="#000" stroke-width="2.6" stroke-linecap="round" stroke-linejoin="round"/><path d="M147.0 516.0L147.2 527.6" fill="none" stroke="#000" stroke-width="3.0" stroke-linecap="round" stroke-linejoin="round"/><path d="M142.0 549.3C141.3 549.3 140.4 555.7 140.0 560.0C139.6 564.3 139.7 570.5 139.8 575.0C139.9 579.5 140.4 584.3 140.8 587.0C141.2 589.7 141.7 591.2 142.2 591.2C142.7 591.2 143.4 589.7 143.8 587.0C144.2 584.3 144.4 579.5 144.4 575.0C144.4 570.5 144.3 564.3 143.9 560.0C143.5 555.7 142.7 549.3 142.0 549.3Z" fill="none" stroke="#000" stroke-width="1.45" stroke-linecap="round" stroke-linejoin="round"/><path d="M190.9 516.0L191.0 520.0" fill="none" stroke="#000" stroke-width="3.5" stroke-linecap="round" stroke-linejoin="round"/><path d="M200.2 516.0L200.2 520.0" fill="none" stroke="#000" stroke-width="2.2" stroke-linecap="round" stroke-linejoin="round"/><path d="M195.1 516.0C195.1 518.3 195.2 525.7 195.2 530.0C195.2 534.3 195.1 540.0 195.1 542.0" fill="none" stroke="#000" stroke-width="1.8" stroke-linecap="round" stroke-linejoin="round"/><path d="M194.6 546.0C194.5 547.8 194.2 553.5 194.2 557.0C194.1 560.5 194.3 565.3 194.3 567.0" fill="none" stroke="#000" stroke-width="2.2" stroke-linecap="round" stroke-linejoin="round"/><path d="M200.2 547.0L200.2 558.0" fill="none" stroke="#000" stroke-width="2.2" stroke-linecap="round" stroke-linejoin="round"/><path d="M200.6 570.3C201.3 570.5 202.2 574.9 202.4 578.0C202.7 581.1 202.3 585.7 202.1 588.9C201.9 592.1 202.1 597.7 201.3 597.4C200.5 597.1 198.6 590.0 197.5 587.3C196.4 584.6 194.6 582.9 194.7 581.1C194.8 579.3 197.2 578.3 198.2 576.5C199.2 574.7 199.9 570.0 200.6 570.3Z" fill="none" stroke="#000" stroke-width="1.45" stroke-linecap="round" stroke-linejoin="round"/><path d="M216.8 571.8C217.2 570.9 218.0 575.4 219.2 575.7C220.4 576.0 222.9 572.5 223.8 573.4C224.7 574.3 224.8 578.5 224.6 581.1C224.3 583.7 223.6 588.9 222.3 588.9C221.0 588.9 217.7 584.0 216.8 581.1C215.9 578.2 216.4 572.7 216.8 571.8Z" fill="none" stroke="#000" stroke-width="1.45" stroke-linecap="round" stroke-linejoin="round"/><path d="M247.7 516.0C247.7 520.0 247.8 532.8 247.8 540.0C247.8 547.2 247.6 556.1 247.6 559.3" fill="none" stroke="#000" stroke-width="2.2" stroke-linecap="round" stroke-linejoin="round"/><path d="M281.1 516.0C281.1 519.2 281.2 529.6 281.2 535.0C281.2 540.4 281.2 546.0 281.2 548.2" fill="none" stroke="#000" stroke-width="2.4" stroke-linecap="round" stroke-linejoin="round"/><path d="M293.0 516.0L293.0 546.5" fill="none" stroke="#000" stroke-width="1.6" stroke-linecap="round" stroke-linejoin="round"/><path d="M293.2 555.5C292.6 555.5 291.6 561.4 291.3 565.0C291.0 568.6 291.3 574.1 291.6 577.0C291.9 579.9 292.7 582.6 293.3 582.6C293.9 582.6 294.7 579.9 295.0 577.0C295.3 574.1 295.5 568.6 295.2 565.0C294.9 561.4 293.8 555.5 293.2 555.5Z" fill="none" stroke="#000" stroke-width="1.45" stroke-linecap="round" stroke-linejoin="round"/><path d="M282.5 587.2L282.5 590.4" fill="none" stroke="#000" stroke-width="2.4" stroke-linecap="round" stroke-linejoin="round"/><path d="M94.0 637.5C93.1 637.8 91.5 642.0 91.2 644.0C90.9 646.0 91.4 648.4 92.0 649.5C92.6 650.6 94.1 650.9 95.0 650.5C95.9 650.1 97.0 648.4 97.2 647.0C97.5 645.6 97.0 643.6 96.5 642.0C96.0 640.4 94.9 637.2 94.0 637.5Z" fill="none" stroke="#000" stroke-width="1.45" stroke-linecap="round" stroke-linejoin="round"/><path d="M125.5 613.6C125.0 614.3 124.1 617.7 124.2 620.0C124.3 622.3 125.4 627.0 126.0 627.3C126.6 627.6 127.6 623.9 127.8 622.0C128.0 620.1 127.4 617.4 127.0 616.0C126.6 614.6 126.0 612.9 125.5 613.6Z" fill="none" stroke="#000" stroke-width="1.0" stroke-linecap="round" stroke-linejoin="round"/><path d="M196.6 628.4C196.0 628.4 194.9 630.7 194.9 632.0C194.9 633.3 196.0 636.4 196.6 636.4C197.2 636.4 198.3 633.3 198.3 632.0C198.3 630.7 197.2 628.4 196.6 628.4Z" fill="none" stroke="#000" stroke-width="1.45" stroke-linecap="round" stroke-linejoin="round"/><path d="M257.4 616.4C258.4 616.1 259.7 616.1 260.3 618.2C260.9 620.3 259.9 625.2 261.1 629.1C262.3 633.0 267.0 638.0 267.6 641.9C268.2 645.8 267.0 650.5 264.7 652.8C262.4 655.0 257.4 655.0 253.8 655.4C250.2 655.8 245.0 656.1 242.9 655.4C240.8 654.7 240.7 652.6 241.0 651.0C241.3 649.4 242.7 647.3 244.7 645.5C246.7 643.7 251.3 642.8 253.1 640.1C254.9 637.4 255.4 632.5 255.6 629.1C255.8 625.8 254.2 622.1 254.5 620.0C254.8 617.9 256.4 616.7 257.4 616.4Z" fill="none" stroke="#000" stroke-width="1.45" stroke-linecap="round" stroke-linejoin="round"/><path d="M311.0 734.8C308.1 734.2 298.0 732.6 293.9 731.1C289.8 729.6 288.4 728.1 286.6 725.7C284.8 723.3 283.8 720.0 282.9 716.6C282.0 713.2 282.3 709.0 281.1 705.6C279.9 702.2 276.2 698.9 275.6 696.5C275.0 694.1 276.0 692.9 277.5 691.1C279.0 689.3 283.3 687.7 284.8 685.6C286.3 683.5 287.5 680.1 286.6 678.3C285.7 676.5 283.6 675.6 279.3 674.7C275.1 673.8 269.0 673.5 261.1 672.9C253.2 672.3 238.9 671.9 231.9 671.0C224.9 670.1 221.8 668.8 219.2 667.4C216.6 666.0 217.5 662.7 216.6 662.7C215.7 662.7 216.0 666.3 213.7 667.4C211.4 668.5 205.2 668.3 202.8 669.2C200.4 670.1 199.4 671.4 199.1 672.9C198.8 674.4 199.2 676.8 201.0 678.3C202.8 679.8 207.4 680.5 210.1 682.0C212.8 683.5 213.2 685.6 217.4 687.4C221.7 689.2 230.8 691.4 235.6 692.9C240.4 694.4 244.4 695.3 246.5 696.5C248.6 697.7 249.2 699.0 248.3 700.2C247.4 701.4 248.0 702.9 241.0 703.8C234.0 704.7 215.2 704.7 206.4 705.6C197.6 706.5 194.3 708.1 188.2 709.3C182.1 710.5 176.4 712.2 170.0 712.9C163.6 713.5 155.3 713.2 150.0 713.2C144.7 713.2 139.6 713.0 138.0 712.6C136.4 712.2 138.6 711.9 140.6 710.8C142.6 709.7 147.9 708.3 149.9 706.2C151.9 704.1 152.7 701.2 152.4 698.4C152.2 695.5 149.3 692.2 148.4 689.1C147.5 686.0 147.2 682.8 146.8 679.8C146.4 676.8 147.2 673.2 146.2 671.1C145.2 669.0 143.3 668.3 140.6 667.4C137.9 666.5 132.9 666.0 129.8 665.9C126.7 665.8 124.3 666.0 122.0 666.8C119.7 667.6 117.9 669.3 115.8 670.5C113.7 671.7 113.7 673.3 109.6 674.2C105.5 675.1 96.4 675.6 91.0 676.1C85.6 676.6 80.1 676.4 77.1 677.3C74.1 678.2 72.8 680.2 73.0 681.4C73.2 682.6 74.6 683.8 78.6 684.5C82.6 685.2 91.5 685.1 97.2 685.4C102.9 685.6 108.3 685.4 112.7 686.0C117.1 686.6 121.1 687.8 123.6 689.1C126.1 690.4 127.3 692.0 127.6 693.8C127.8 695.6 126.0 697.9 125.1 700.0C124.2 702.1 121.7 704.4 122.0 706.2C122.3 708.0 124.6 709.6 126.7 710.8C128.8 712.0 131.8 712.6 134.4 713.6C137.0 714.6 140.1 715.4 142.2 717.0C144.3 718.6 145.8 721.4 146.8 723.2C147.8 725.0 148.9 726.6 148.4 727.9C147.9 729.2 148.1 730.0 143.7 731.0C139.3 732.0 130.8 733.2 122.0 734.1C113.2 735.0 98.8 735.4 91.0 736.2C83.2 737.0 78.8 737.5 75.5 738.7C72.2 739.9 70.9 742.1 70.9 743.4C70.9 744.7 69.6 745.7 75.5 746.5C81.4 747.3 89.1 747.6 106.5 748.0C123.9 748.4 163.3 748.4 180.0 748.6C196.7 748.8 195.9 749.1 206.4 749.4C216.9 749.6 230.8 749.8 242.9 750.1C255.1 750.4 267.9 750.8 279.3 751.2C290.7 751.6 305.7 752.1 311.0 752.3" fill="none" stroke="#000" stroke-width="1.45" stroke-linecap="round" stroke-linejoin="round"/></g>
<rect x="48.5" y="516" width="261.5" height="242.5" fill="none" stroke="#999" stroke-width="1"/>
<path d="M48.5 547.3h3M310 547.3h-3M48.5 580.2h3M310 580.2h-3M48.5 613.1h3M310 613.1h-3M48.5 646.0h3M310 646.0h-3M48.5 678.9h3M310 678.9h-3M48.5 711.8h3M310 711.8h-3M48.5 744.7h3M310 744.7h-3M113 758.5v-2.5M113 516v2.5M180 758.5v-2.5M180 516v2.5M246.5 758.5v-2.5M246.5 516v2.5" stroke="#999" stroke-width="1" fill="none"/>
<text x="43.6" y="552.1" font-size="13.3" text-anchor="end">0.5</text>
<text x="43.6" y="585.1" font-size="13.3" text-anchor="end">1</text>
<text x="43.6" y="618.0" font-size="13.3" text-anchor="end">2</text>
<text x="43.6" y="650.9" font-size="13.3" text-anchor="end">4</text>
<text x="43.6" y="683.8" font-size="13.3" text-anchor="end">8</text>
<text x="43.6" y="716.6" font-size="13.3" text-anchor="end">16</text>
<text x="43.6" y="749.6" font-size="13.3" text-anchor="end">32</text>
<text x="80.6" y="769.2" font-size="13.4" text-anchor="middle">June</text>
<text x="146.5" y="769.2" font-size="13.4" text-anchor="middle">July</text>
<text x="211.8" y="769.2" font-size="13.4" text-anchor="middle">August</text>
<text x="278.2" y="769.2" font-size="13.4" text-anchor="middle">September</text>
<text x="180.7" y="786.0" font-size="13.5" text-anchor="middle">Month (2002)</text>
<text transform="translate(21.8,637.3) rotate(-90)" font-size="13.66" text-anchor="middle">Period (days)</text>
<text x="38.8" y="806.0" font-size="16.8" font-weight="bold">(c)</text>
<text x="63.2" y="805.0" font-size="13.73">Wavelet Power Spectrum for N-S Wind vector</text>
<rect x="325.3" y="754.72" width="23.1" height="4.08" fill="#000087"/>
<rect x="325.3" y="750.94" width="23.1" height="4.08" fill="#000097"/>
<rect x="325.3" y="747.16" width="23.1" height="4.08" fill="#0000a7"/>
<rect x="325.3" y="743.38" width="23.1" height="4.08" fill="#0000b7"/>
<rect x="325.3" y="739.59" width="23.1" height="4.08" fill="#0000c7"/>
<rect x="325.3" y="735.81" width="23.1" height="4.08" fill="#0000d7"/>
<rect x="325.3" y="732.03" width="23.1" height="4.08" fill="#0000e7"/>
<rect x="325.3" y="728.25" width="23.1" height="4.08" fill="#0000f7"/>
<rect x="325.3" y="724.47" width="23.1" height="4.08" fill="#0008ff"/>
<rect x="325.3" y="720.69" width="23.1" height="4.08" fill="#0018ff"/>
<rect x="325.3" y="716.91" width="23.1" height="4.08" fill="#0028ff"/>
<rect x="325.3" y="713.12" width="23.1" height="4.08" fill="#0038ff"/>
<rect x="325.3" y="709.34" width="23.1" height="4.08" fill="#0048ff"/>
<rect x="325.3" y="705.56" width="23.1" height="4.08" fill="#0058ff"/>
<rect x="325.3" y="701.78" width="23.1" height="4.08" fill="#0068ff"/>
<rect x="325.3" y="698.00" width="23.1" height="4.08" fill="#0078ff"/>
<rect x="325.3" y="694.22" width="23.1" height="4.08" fill="#0087ff"/>
<rect x="325.3" y="690.44" width="23.1" height="4.08" fill="#0097ff"/>
<rect x="325.3" y="686.66" width="23.1" height="4.08" fill="#00a7ff"/>
<rect x="325.3" y="682.88" width="23.1" height="4.08" fill="#00b7ff"/>
<rect x="325.3" y="679.09" width="23.1" height="4.08" fill="#00c7ff"/>
<rect x="325.3" y="675.31" width="23.1" height="4.08" fill="#00d7ff"/>
<rect x="325.3" y="671.53" width="23.1" height="4.08" fill="#00e7ff"/>
<rect x="325.3" y="667.75" width="23.1" height="4.08" fill="#00f7ff"/>
<rect x="325.3" y="663.97" width="23.1" height="4.08" fill="#08fff7"/>
<rect x="325.3" y="660.19" width="23.1" height="4.08" fill="#18ffe7"/>
<rect x="325.3" y="656.41" width="23.1" height="4.08" fill="#28ffd7"/>
<rect x="325.3" y="652.62" width="23.1" height="4.08" fill="#38ffc7"/>
<rect x="325.3" y="648.84" width="23.1" height="4.08" fill="#48ffb7"/>
<rect x="325.3" y="645.06" width="23.1" height="4.08" fill="#58ffa7"/>
<rect x="325.3" y="641.28" width="23.1" height="4.08" fill="#68ff97"/>
<rect x="325.3" y="637.50" width="23.1" height="4.08" fill="#78ff87"/>
<rect x="325.3" y="633.72" width="23.1" height="4.08" fill="#87ff78"/>
<rect x="325.3" y="629.94" width="23.1" height="4.08" fill="#97ff68"/>
<rect x="325.3" y="626.16" width="23.1" height="4.08" fill="#a7ff58"/>
<rect x="325.3" y="622.38" width="23.1" height="4.08" fill="#b7ff48"/>
<rect x="325.3" y="618.59" width="23.1" height="4.08" fill="#c7ff38"/>
<rect x="325.3" y="614.81" width="23.1" height="4.08" fill="#d7ff28"/>
<rect x="325.3" y="611.03" width="23.1" height="4.08" fill="#e7ff18"/>
<rect x="325.3" y="607.25" width="23.1" height="4.08" fill="#f7ff08"/>
<rect x="325.3" y="603.47" width="23.1" height="4.08" fill="#fff700"/>
<rect x="325.3" y="599.69" width="23.1" height="4.08" fill="#ffe700"/>
<rect x="325.3" y="595.91" width="23.1" height="4.08" fill="#ffd700"/>
<rect x="325.3" y="592.12" width="23.1" height="4.08" fill="#ffc700"/>
<rect x="325.3" y="588.34" width="23.1" height="4.08" fill="#ffb700"/>
<rect x="325.3" y="584.56" width="23.1" height="4.08" fill="#ffa700"/>
<rect x="325.3" y="580.78" width="23.1" height="4.08" fill="#ff9700"/>
<rect x="325.3" y="577.00" width="23.1" height="4.08" fill="#ff8700"/>
<rect x="325.3" y="573.22" width="23.1" height="4.08" fill="#ff7800"/>
<rect x="325.3" y="569.44" width="23.1" height="4.08" fill="#ff6800"/>
<rect x="325.3" y="565.66" width="23.1" height="4.08" fill="#ff5800"/>
<rect x="325.3" y="561.88" width="23.1" height="4.08" fill="#ff4800"/>
<rect x="325.3" y="558.09" width="23.1" height="4.08" fill="#ff3800"/>
<rect x="325.3" y="554.31" width="23.1" height="4.08" fill="#ff2800"/>
<rect x="325.3" y="550.53" width="23.1" height="4.08" fill="#ff1800"/>
<rect x="325.3" y="546.75" width="23.1" height="4.08" fill="#ff0800"/>
<rect x="325.3" y="542.97" width="23.1" height="4.08" fill="#f70000"/>
<rect x="325.3" y="539.19" width="23.1" height="4.08" fill="#e70000"/>
<rect x="325.3" y="535.41" width="23.1" height="4.08" fill="#d70000"/>
<rect x="325.3" y="531.62" width="23.1" height="4.08" fill="#c70000"/>
<rect x="325.3" y="527.84" width="23.1" height="4.08" fill="#b70000"/>
<rect x="325.3" y="524.06" width="23.1" height="4.08" fill="#a70000"/>
<rect x="325.3" y="520.28" width="23.1" height="4.08" fill="#970000"/>
<rect x="325.3" y="516.50" width="23.1" height="4.08" fill="#870000"/>
<rect x="325.3" y="516.5" width="23.1" height="242.0" fill="none" stroke="#777" stroke-width="0.6"/>
<text x="349.7" y="550.5" font-size="13">512</text>
<text x="349.7" y="570.8" font-size="13">128</text>
<text x="349.7" y="591.1" font-size="13">32</text>
<text x="352.8" y="611.4" font-size="13">8</text>
<text x="352.8" y="631.7" font-size="13">2</text>
<text x="349.7" y="652.1" font-size="13">1/2</text>
<text x="349.7" y="672.4" font-size="13">1/8</text>
<text x="349.7" y="692.7" font-size="13">1/32</text>
<text x="349.7" y="713.0" font-size="13">1/128</text>
<text x="352.8" y="733.3" font-size="13">0</text>
<path d="M325.3 536.2h2M348.4 536.2h-2M325.3 546.4h2M348.4 546.4h-2M325.3 556.5h2M348.4 556.5h-2M325.3 566.7h2M348.4 566.7h-2M325.3 576.8h2M348.4 576.8h-2M325.3 587.0h2M348.4 587.0h-2M325.3 597.1h2M348.4 597.1h-2M325.3 607.3h2M348.4 607.3h-2M325.3 617.5h2M348.4 617.5h-2M325.3 627.6h2M348.4 627.6h-2M325.3 637.8h2M348.4 637.8h-2M325.3 648.0h2M348.4 648.0h-2M325.3 658.1h2M348.4 658.1h-2M325.3 668.3h2M348.4 668.3h-2M325.3 678.4h2M348.4 678.4h-2M325.3 688.6h2M348.4 688.6h-2M325.3 698.8h2M348.4 698.8h-2M325.3 708.9h2M348.4 708.9h-2M325.3 719.1h2M348.4 719.1h-2M325.3 729.2h2M348.4 729.2h-2M325.3 739.4h2M348.4 739.4h-2M325.3 749.5h2M348.4 749.5h-2" stroke="#444" stroke-width="0.6" fill="none"/>
</svg></body></html>
